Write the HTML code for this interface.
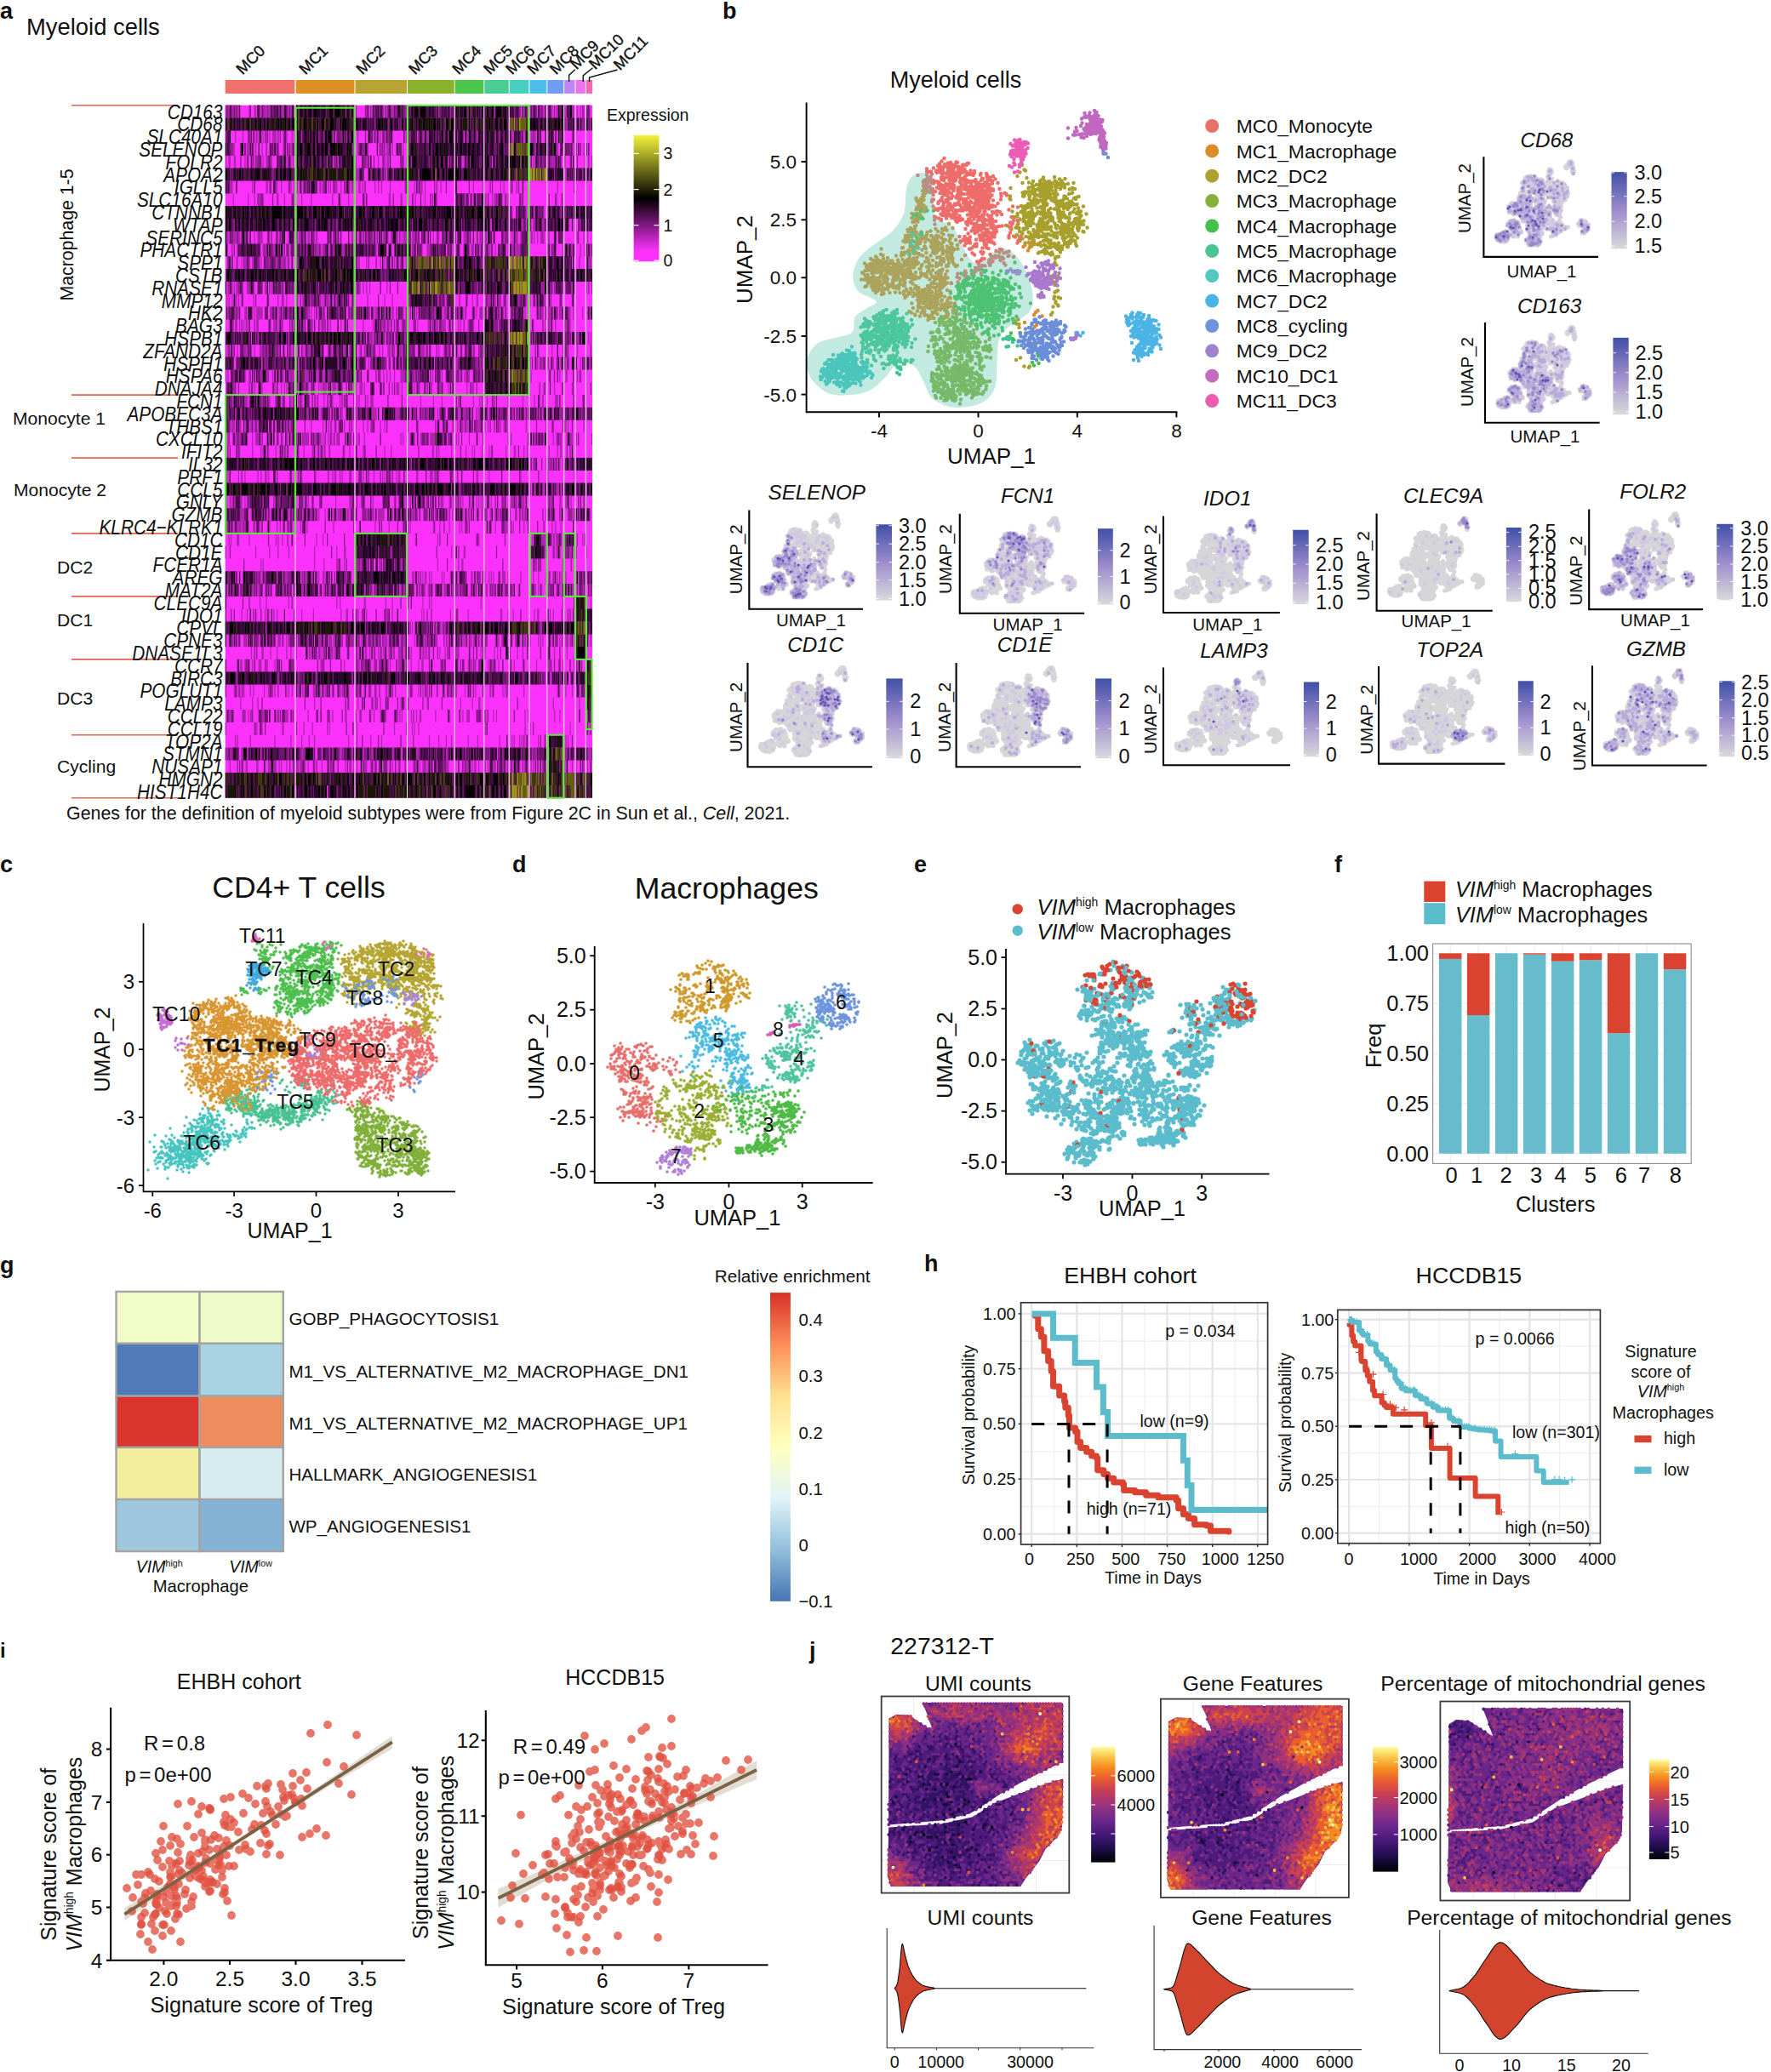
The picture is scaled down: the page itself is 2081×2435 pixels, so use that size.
<!DOCTYPE html>
<html><head><meta charset="utf-8"><title>Figure</title>
<style>html,body{margin:0;padding:0;background:#fff}svg{display:block}text{font-family:'Liberation Sans',sans-serif;fill:#111}</style>
</head><body>
<svg width="2081" height="2435" viewBox="0 0 2081 2435">
<rect width="2081" height="2435" fill="#fff"/>
<text x="0" y="22" font-size="27" font-weight="bold">a</text>
<text x="31" y="41" font-size="27.4" >Myeloid cells</text>
<rect x="264.7" y="94" width="81.6" height="16" fill="#f0706c"/>
<rect x="347.7" y="94" width="68.8" height="16" fill="#de9024"/>
<rect x="417.5" y="94" width="60.5" height="16" fill="#b8a334"/>
<rect x="479" y="94" width="54.7" height="16" fill="#8cb12e"/>
<rect x="534.6" y="94" width="33.7" height="16" fill="#4cc64c"/>
<rect x="569.3" y="94" width="28.4" height="16" fill="#4ccb92"/>
<rect x="598.7" y="94" width="22.7" height="16" fill="#48cfc2"/>
<rect x="622.4" y="94" width="19.9" height="16" fill="#4cc0ea"/>
<rect x="643.3" y="94" width="18.9" height="16" fill="#6f9df6"/>
<rect x="663.2" y="94" width="12.3" height="16" fill="#bb86f6"/>
<rect x="676.5" y="94" width="11.4" height="16" fill="#ee72ea"/>
<rect x="688.8" y="94" width="7.2" height="16" fill="#f766b2"/>
<rect x="264.7" y="123.7" width="431.3" height="814" fill="rgb(252,50,252)"/>
<path d="M264.7 131.1h1.3m2.5 0h1.3m3.7 0h1.3m1.2 0h1.3m1.2 0h2.5m11.3 0h1.3m5 0h2.5m8.8 0h3.8m1.2 0h2.5m10.1 0h1.3m2.4 0h2.5m3.8 0h2.5m90.1 0h1.3m1.2 0h1.3m11.3 0h1.3m3.8 0h1.3m7.5 0h3.8m13.8 0h1.3m37.1 0h1.2m12.4 0h1.2m81.4 0h1.3m9.8 0h1.2m1.3 0h1.2m8.7 0h1.2m5.1 0h1.2m4.8 0h2.5m3.8 0h2.5m15.9 0h3.7m2.3 0h1.3m2.5 0h1.3m2.5 0h1.3m5.7 0h1.2M440.2 145.9h1.3m224.2 0h1.2m9.6 0h1.3m8.8 0h1.3m5.7 0h1.2M276 160.7h1.3m7.5 0h1.3m7.5 0h1.3m3.7 0h1.3m3.7 0h1.3m3.7 0h1.3m2.5 0h1.3m2.5 0h1.3m2.4 0h5m7.6 0h1.3m2.5 0h1.3m4.9 0h1.3m1.2 0h1.3m7.7 0h1.3m24.9 0h1.3m8.7 0h2.5m13.8 0h1.3m12.2 0h1.3m17.6 0h1.3m6.3 0h1.3m3.7 0h2.5m6.4 0h1.3m15 0h1.3m1 0h1.2m1.3 0h1.2m13.7 0h2.5m2.5 0h2.5m33.2 0h1.2m10 0h2.5m10 0h1.2m19.6 0h1.2m3.8 0h1.2m13.4 0h1.3m13.9 0h1.3m5.9 0h2.5m1.3 0h2.5m3.7 0h1.2m5 0h1.2m2.3 0h1.3m8.8 0h1.3m17.1 0h1.2M271 175.5h1.3m1.2 0h2.5m13.8 0h3.8m1.2 0h1.3m1.2 0h1.3m1.3 0h1.3m6.2 0h1.3m7.5 0h1.3m3.7 0h1.3m1.2 0h1.3m7.5 0h1.3m80.2 0h1.3m4.7 0h1.3m6.3 0h1.3m16.3 0h1.3m1.3 0h1.3m1.2 0h1.3m2.5 0h2.5m3.8 0h1.3m11.3 0h1.3m154.3 0h1.2m23.6 0h2.5m5 0h1.3m1 0h1.2m15.9 0h1.3m3.8 0h1.3M264.7 190.3h1.3m2.5 0h2.5m3.7 0h2.5m10.1 0h1.3m7.5 0h1.3m3.7 0h1.3m6.2 0h1.3m2.5 0h2.5m2.5 0h2.5m17.6 0h1.3m2.5 0h1.3m1.2 0h1.3m38.9 0h1.3m8.7 0h1.3m22.2 0h1.3m11.3 0h2.5m11.4 0h1.3m3.7 0h1.3m2.5 0h1.3m17.6 0h1.3m9.7 0h1.2m58.2 0h1.2m1.3 0h1.2m80.3 0h1.2m6.3 0h1.2m6.3 0h1.2m1 0h1.3m2.5 0h1.3m1.2 0h2.5m2.5 0h1.3m13.5 0h1.2m3.7 0h1.2m11.1 0h1.3m6.9 0h1.2M417.5 205.1h5m25.3 0h1.3m2.4 0h1.3m8.8 0h1.3m28.5 0h1.2m158.3 0h1.3m12.2 0h1.2m7.4 0h1.2m9.9 0h1.3m3.4 0h1.2M269.7 219.9h3.8m22.6 0h1.3m15 0h2.5m1.3 0h1.3m6.2 0h2.5m3.8 0h1.3m8.7 0h2.5m2.5 0h1.3m1.4 0h2.5m1.3 0h1.3m1.2 0h1.3m3.7 0h1.3m3.7 0h1.3m9.9 0h2.5m2.5 0h1.3m3.7 0h1.3m1.2 0h1.3m3.7 0h3.8m3.7 0h1.3m3.7 0h1.3m3.7 0h1.3m1.2 0h3.8m4.8 0h2.5m1.3 0h1.3m1.2 0h2.5m10.1 0h1.3m2.5 0h1.3m2.5 0h1.3m8.7 0h1.3m16.4 0h1.3m9.7 0h1.2m3.7 0h1.2m6.3 0h1.2m17.4 0h1.2m37.1 0h1.2m10.1 0h1.2m19.5 0h1.2m2.5 0h1.2m7.3 0h1.3m5 0h1.3m47 0h1.3M273.5 234.7h1.3m16.3 0h1.3m6.2 0h1.3m3.7 0h2.5m2.5 0h1.3m15.1 0h2.5m6.2 0h1.3m10 0h1.3m7.7 0h1.3m9.9 0h1.3m23.7 0h1.3m17.5 0h1.3m17.3 0h1.3m27.7 0h2.5m11.3 0h2.5m12.3 0h1.2m1.3 0h1.2m10 0h1.2m12.5 0h1.2m32 0h2.5m3.8 0h1.2m2.5 0h1.2m12.3 0h2.5m6.1 0h1.2m1.3 0h2.5m1.2 0h1.2m7.5 0h1.2m18.6 0h1.3m39.5 0h1.3M601.2 249.5h1.3m5 0h1.3m8.8 0h1.3m19.7 0h1.2m7.3 0h1.3m10 0h1.3m13.3 0h1.2M484 264.3h1.2m56.9 0h1.2m32.2 0h1.2m25.8 0h1.3m3.7 0h1.3m3.8 0h2.5m8.5 0h1.2m1.3 0h2.5m8.7 0h1.2m24.7 0h1.2m3.7 0h1.2m5 0h1.2m6.1 0h1.3M266 279.1h2.5m2.5 0h1.3m1.2 0h5m1.3 0h2.5m5 0h1.3m3.7 0h1.3m5 0h1.3m2.5 0h1.3m1.2 0h3.8m5 0h1.3m1.2 0h1.3m6.2 0h1.3m2.5 0h1.3m1.2 0h1.3m7.5 0h1.3m4.9 0h1.3m2.7 0h1.3m2.4 0h1.3m2.5 0h1.3m1.2 0h1.3m1.2 0h2.5m5 0h1.3m13.7 0h1.3m1.2 0h1.3m1.2 0h1.3m8.7 0h1.3m12.4 0h2.5m3.6 0h1.3m1.2 0h1.3m8.8 0h1.3m13.8 0h1.3m3.7 0h1.3m2.5 0h1.3m2.5 0h2.5m3.8 0h2.5m3.8 0h1.3m2.5 0h2.5m6 0h3.7m2.5 0h1.2m8.7 0h1.2m7.5 0h1.2m2.6 0h1.2m1.3 0h1.2m2.5 0h1.2m6.2 0h1.2m17.2 0h3.7m2.5 0h1.2m7.6 0h1.2m2.5 0h2.5m1.3 0h1.2m1 0h1.2m21 0h1.2m8.5 0h1.3m3.8 0h2.5m2.5 0h1.3m7.5 0h1.3m2.2 0h2.5m1.3 0h1.2m2.5 0h1.2m2.5 0h2.5m1.3 0h1.2m3.5 0h2.5m15.1 0h1.3m15.6 0h1.3m6.3 0h1.3m3.3 0h1.2M308.6 293.9h1.3m1.2 0h1.3m2.5 0h1.3m5 0h2.5m2.5 0h1.3m1.2 0h1.3m8.8 0h1.3m4.9 0h1.3m1.4 0h1.3m11.2 0h1.3m7.5 0h1.3m1.2 0h3.8m1.2 0h1.3m2.4 0h1.3m3.7 0h1.3m5 0h1.3m8.7 0h3.8m6.2 0h1.3m28.6 0h1.3m42.5 0h1.2m15 0h3.7m7.5 0h1.2m11.2 0h1.2m6.3 0h1.2m5.9 0h1.2m10 0h1.2m1.3 0h1.2m1.3 0h1.2m2.6 0h1.2m8.5 0h1.2m2.5 0h1.2m7.4 0h1.2m11.2 0h1.2m1.3 0h1.2m3.5 0h2.5m1.3 0h6.3m35.8 0h1.3m12.5 0h1.3m8.4 0h2.5m8.5 0h1.3m3.7 0h1.3m2.1 0h1.2M277.3 308.7h2.5m3.7 0h1.3m2.5 0h2.5m6.3 0h2.5m7.5 0h1.3m8.8 0h1.3m6.2 0h2.5m3.8 0h3.8m1.2 0h1.3m1.2 0h1.3m10.2 0h1.3m67.2 0h1.3m11.3 0h1.3m15.1 0h1.3m3.7 0h1.3m5 0h1.3m3.8 0h1.3m3.7 0h1.3m7.5 0h1.3m60.3 0h1.2m26.3 0h2.5m112 0h1.3m9.6 0h2.4M264.7 323.5h1.3M267.2 338.3h2.5m2.5 0h1.3m1.2 0h1.3m1.3 0h2.5m5 0h1.3m3.7 0h2.5m18.8 0h2.5m5.1 0h2.5m1.2 0h1.3m1.3 0h1.3m3.7 0h1.3m1.2 0h1.3m11.2 0h1.3m27.7 0h1.3m47.2 0h1.3m2.5 0h1.3m2.5 0h1.3m2.5 0h1.3m18.9 0h1.3m82.9 0h1.2m21.3 0h1.2m74.1 0h1.2m1.3 0h1.2m12.3 0h1.3m17.2 0h2.5m15.7 0h1.2m4.8 0h1.2M266 353.1h1.3m1.2 0h1.3m2.4 0h1.3m2.5 0h2.5m1.3 0h1.3m16.2 0h1.3m27.6 0h1.3m5 0h1.3m2.5 0h1.3m11.4 0h1.3m4.9 0h1.3m7.5 0h1.3m9.9 0h2.5m1.3 0h1.3m2.4 0h2.5m6.3 0h1.3m1.2 0h2.5m6.2 0h1.3m3.7 0h1.3m3.7 0h1.3m17.4 0h1.3m18.8 0h1.3m7.6 0h1.3m17.3 0h1.2m27.4 0h1.2m5 0h2.5m7.5 0h1.2m29.6 0h1.2m3.8 0h2.5m10.9 0h3.7m1.2 0h1.2m1.3 0h2.5m3.7 0h2.5m4.9 0h1.2m13.6 0h1.3m7.5 0h1.3m1.2 0h1.3m1 0h1.2m2.5 0h1.2m5 0h1.2m5.1 0h2.5m4.7 0h2.5m8.9 0h1.3M276 367.9h1.3m1.2 0h2.5m6.3 0h1.3m7.5 0h1.3m1.2 0h1.3m1.2 0h7.5m10.1 0h1.3m2.4 0h1.3m3.8 0h2.5m8.8 0h1.3m2.4 0h1.3m7.7 0h1.3m8.7 0h2.5m1.2 0h1.3m2.5 0h1.3m3.7 0h1.3m2.4 0h2.5m5 0h1.3m11.2 0h1.3m12.5 0h1.3m7.2 0h1.3m3.8 0h1.3m6.2 0h2.5m2.6 0h2.5m2.5 0h1.3m16.4 0h2.5m22.3 0h1.2m2.5 0h1.2m3.8 0h1.2m15 0h2.5m6.2 0h1.2m1.3 0h3.7m10.8 0h1.2m2.6 0h1.2m5 0h2.5m11.3 0h1.2m2.5 0h1.2m8.5 0h1.2m6.2 0h1.2m2.5 0h1.2m7.5 0h1.2m6 0h1.3m1.2 0h1.3m12.6 0h1.3m12.2 0h1.2m2.5 0h1.2m1.3 0h2.5m4.7 0h3.8m7.5 0h1.3m2.5 0h1.3m8.4 0h2.5m2.4 0h1.2m9.9 0h1.3m4.6 0h1.2m2.4 0h1.2M273.5 382.7h1.3m1.2 0h1.3m3.7 0h1.3m3.7 0h1.3m1.3 0h2.5m10 0h1.3m12.5 0h1.3m1.2 0h1.3m2.5 0h2.5m1.3 0h1.3m1.2 0h1.3m1.2 0h1.3m21.4 0h1.3m12.5 0h1.3m7.4 0h1.3m2.5 0h2.5m3.7 0h1.3m1.2 0h1.3m11.2 0h1.3m2.5 0h1.3m21 0h1.3m10.1 0h1.3m6.2 0h1.3m1.3 0h3.8m2.5 0h1.3m1.2 0h1.3m10 0h1.3m2.5 0h1.3m2.5 0h2.5m7.2 0h1.2m3.8 0h1.2m11.2 0h2.5m3.7 0h1.2m2.6 0h2.5m3.7 0h5m14.5 0h1.2m1.3 0h1.2m7.6 0h1.2m5 0h1.2m39.5 0h1.2m2.3 0h1.3m12.5 0h1.3m24.7 0h1.2m2.3 0h1.3m3.7 0h1.3m2.5 0h1.3m9.8 0h2.5m3.7 0h1.2M292.3 397.5h1.3m6.3 0h1.3m1.2 0h1.3m20 0h1.3m11.3 0h1.3m86.2 0h1.3m8.8 0h2.5m15.1 0h1.3m2.5 0h1.3m2.5 0h1.3m3.7 0h1.3m10.1 0h1.3m148.1 0h1.2m1.3 0h1.2m32.3 0h1.3m1 0h1.2m3.7 0h1.2m8.5 0h2.5m2.5 0h1.3m7.1 0h1.2m1.2 0h1.2M264.7 412.3h1.3m1.2 0h1.3m3.7 0h2.5m3.8 0h1.3m6.2 0h1.3m1.3 0h2.5m3.7 0h1.3m2.5 0h1.3m5 0h3.8m1.2 0h1.3m2.5 0h1.3m8.7 0h1.3m1.2 0h2.5m5 0h1.3m6.3 0h1.3m5.1 0h1.3m6.2 0h1.3m1.2 0h1.3m2.5 0h3.8m11.2 0h1.3m11.2 0h1.3m12.4 0h3.8m3.7 0h1.3m11 0h1.3m3.8 0h2.5m2.5 0h1.3m2.5 0h2.5m1.3 0h1.3m3.7 0h1.3m2.5 0h1.3m5 0h3.8m2.5 0h2.5m5.1 0h5m1.3 0h1.3m17.1 0h5m1.2 0h1.2m13.8 0h1.2m5 0h1.2m2.5 0h2.5m1.2 0h1.2m7.2 0h1.2m18.8 0h1.2m5 0h1.2m67.8 0h1.2m14.8 0h1.3m11.3 0h1.3m1 0h1.2m1.3 0h1.2m10.9 0h1.3M311.1 427.1h1.3m1.3 0h1.3m44 0h1.3m12.4 0h1.3m22.5 0h1.3m9.9 0h1.3m1.2 0h1.3m21.1 0h1.3m17.6 0h1.3m16.4 0h1.3m1.2 0h2.5m53.3 0h1.2m7.1 0h2.5m22.5 0h1.2m1.3 0h1.2m1.3 0h2.5m54.1 0h1.2m6.3 0h2.5m1.2 0h1.2m1.3 0h2.5m1.2 0h1.2m8.6 0h1.3m2.5 0h1.3m3.7 0h1.3m8.4 0h1.2m12.3 0h1.3m2.5 0h1.3M264.7 441.9h1.3m1.2 0h1.3m11.3 0h1.3m11.2 0h1.3m8.8 0h1.3m1.2 0h1.3m1.2 0h1.3m5 0h2.5m3.7 0h1.3m10 0h2.5m5.1 0h2.5m1.2 0h1.3m6.4 0h1.3m6.2 0h5m1.3 0h1.3m1.2 0h1.3m4.9 0h2.5m2.5 0h1.3m6.2 0h1.3m36 0h1.3m8.8 0h1.3m12.6 0h1.3m2.5 0h1.3m2.5 0h1.3m2.4 0h1.3m3.8 0h1.3m6.2 0h5m11.1 0h1.2m2.5 0h1.2m16.2 0h1.2m3.8 0h1.2m5 0h1.2m29.6 0h2.5m8.7 0h1.2m2.6 0h1.2m57.8 0h1.2m19.8 0h1.3m11.3 0h1.3m5.9 0h2.5m10.9 0h1.3m1.2 0h1.3M274.7 456.7h1.3m22.6 0h1.3m6.2 0h2.5m13.8 0h1.3m6.3 0h1.3m2.4 0h1.3m1.3 0h1.3m4.9 0h1.3m3.9 0h1.3m7.5 0h1.3m1.2 0h1.3m1.2 0h1.3m6.2 0h1.3m3.7 0h1.3m1.2 0h1.3m2.4 0h3.8m2.5 0h1.3m2.4 0h5m6.3 0h1.3m8.7 0h1.3m4.7 0h1.3m3.7 0h3.8m1.3 0h1.3m31.5 0h1.3m3.7 0h3.8m2.5 0h1.3m13.5 0h1.2m1.2 0h1.2m1.3 0h2.5m3.7 0h1.2m6.3 0h1.2m10 0h2.5m1.2 0h1.2m5 0h1.2m20.9 0h1.2m3.8 0h3.7m82.8 0h1.2m9.9 0h1.3m7.5 0h1.3m10.8 0h1.2M272.2 471.5h2.5m6.3 0h1.3m5 0h3.8m1.2 0h1.3m7.5 0h1.3m5 0h1.3m3.7 0h1.3m2.5 0h1.3m7.5 0h1.3m4.9 0h1.3m8.8 0h1.3m2.4 0h1.3m3.9 0h2.5m1.3 0h1.3m7.4 0h1.3m5 0h2.5m8.7 0h1.3m2.5 0h2.5m3.7 0h1.3m7.5 0h1.3m4.9 0h1.3m1.2 0h1.3m9.8 0h1.3m1.2 0h1.3m8.8 0h1.3m2.4 0h3.8m55 0h1.2m13.7 0h1.2m8.8 0h1.2m18.3 0h1.2m16.3 0h1.2m6.3 0h1.2m7.3 0h1.2m6.2 0h2.5m14.8 0h1.2m16.1 0h1.3m12.3 0h1.2m5 0h1.2m17.3 0h3.8m17.1 0h2.5m8.6 0h1.3M276 486.3h1.3m5 0h1.3m37.6 0h1.3m29 0h1.3m8.7 0h1.3m11.2 0h1.3m1.2 0h2.5m6.2 0h1.3m7.5 0h1.3m4.9 0h2.5m11.3 0h1.3m21.1 0h6.3m7.6 0h1.3m12.5 0h5m13.6 0h1.2m3.8 0h1.2m6.3 0h1.2m1.2 0h1.2m3.8 0h1.2m6.3 0h1.2m2.5 0h1.2m24.6 0h2.5m2.5 0h2.5m2.5 0h1.2m11.3 0h2.5m9.6 0h1.2m6.2 0h1.2m1.3 0h1.2m2.5 0h1.2m13.5 0h1.3m5 0h1.3m1.2 0h1.3m18.5 0h1.2m24.9 0h1.3m2.4 0h1.3m20.6 0h1.3m4.7 0h1.2M273.5 501.1h2.5m5 0h2.5m10.1 0h2.5m2.5 0h1.3m18.8 0h1.3m2.4 0h1.3m6.3 0h1.3m2.4 0h1.3m1.3 0h2.5m26.4 0h1.3m12.5 0h1.3m4.9 0h1.3m1.2 0h2.5m2.5 0h1.3m10 0h1.3m12.2 0h1.3m7.5 0h1.3m3.8 0h1.3m2.4 0h1.3m10.1 0h1.3m3.7 0h1.3m26.2 0h1.2m42.3 0h1.2m7.5 0h1.2m4.7 0h1.2m1.3 0h1.2m1.3 0h2.5m2.5 0h2.5m11.2 0h3.7m4.8 0h1.2m2.5 0h1.2m9.9 0h1.2m2.5 0h1.2m2.5 0h1.2m2.5 0h1.2m21.2 0h1.3m22.2 0h1.2m22.1 0h1.2m1.3 0h1.2m17.3 0h1.3M267.2 515.9h1.3m7.5 0h2.5m2.5 0h1.3m13.8 0h1.3m2.5 0h3.8m12.5 0h1.3m13.7 0h1.3m6.3 0h1.3m7.6 0h2.5m6.3 0h5m5 0h1.3m1.2 0h2.5m3.7 0h2.5m1.3 0h1.3m4.9 0h1.3m2.5 0h1.3m1.2 0h2.5m1.2 0h2.5m12.5 0h1.3m7.3 0h1.3m7.5 0h1.3m41.5 0h1.3m1.3 0h1.3m7.2 0h1.2m3.8 0h1.2m6.2 0h1.2m5 0h1.2m3.8 0h6.2m8.7 0h1.2m14.6 0h1.2m1.3 0h1.2m11.3 0h1.2m8.8 0h1.2m34.5 0h1.2m2.3 0h1.3m21.1 0h1.2m3.8 0h1.2m2.5 0h1.2m2.5 0h1.2m13.6 0h1.3m2.5 0h1.3m2.5 0h1.3m7.2 0h1.2m2.5 0h3.7m21.7 0h1.2M278.5 530.7h1.3m1.2 0h1.3m13.8 0h1.3m8.7 0h1.3m1.2 0h1.3m5 0h1.3m7.5 0h1.3m5 0h1.3m3.7 0h1.3m13.9 0h1.3m5 0h1.3m8.7 0h2.5m3.7 0h1.3m6.2 0h2.5m21.3 0h1.3m4.9 0h1.3m7.3 0h1.3m6.2 0h1.3m1.2 0h1.3m21.4 0h1.3m6.3 0h1.3m47.2 0h2.5m5 0h1.2m13.7 0h1.2m15.9 0h1.2m6.3 0h1.2m1.3 0h1.2m7.5 0h1.2m7.2 0h1.2m1.3 0h1.2m16.1 0h1.2m8.5 0h2.5m8.9 0h1.3m2.5 0h1.3m24.4 0h1.3m8.7 0h1.3M482.7 545.5h1.2m108.9 0h1.2m32.1 0h1.2m13.8 0h1.2m1 0h3.8m3.8 0h2.5m3.8 0h1.3m2.4 0h1.3m1 0h1.2M268.5 560.3h1.3m10 0h1.3m6.2 0h1.3m13.8 0h1.3m2.4 0h1.3m3.7 0h2.5m1.3 0h1.3m23.8 0h1.3m12.7 0h1.3m14.9 0h1.3m18.7 0h1.3m1.2 0h2.5m3.8 0h1.3m1.2 0h1.3m7.4 0h1.3m14.8 0h1.3m11.3 0h1.3m8.8 0h1.3m1.2 0h1.3m2.5 0h1.3m8.8 0h1.3m1.2 0h2.5m18.5 0h2.5m13.7 0h3.7m1.3 0h3.7m1.3 0h1.2m43.3 0h2.5m12.1 0h1.2m35.9 0h1.3m30.7 0h1.3m29.7 0h1.2M530 575.1h1.2m8.4 0h1.2m86.6 0h1.2m5 0h1.2m13.5 0h1.3m3.8 0h3.8m3.7 0h1.3m26.6 0h1.2M266 589.9h1.3m2.4 0h2.5m2.5 0h1.3m6.3 0h2.5m2.5 0h1.3m1.2 0h1.3m1.2 0h1.3m15 0h1.3m17.6 0h1.3m11.2 0h1.3m11.4 0h1.3m3.7 0h1.3m2.5 0h1.3m4.9 0h1.3m8.7 0h1.3m15 0h1.3m14.9 0h3.8m9.8 0h1.3m12.6 0h1.3m10 0h1.3m12.6 0h1.3m3.7 0h1.3m5 0h1.3m1.2 0h1.3m8.5 0h1.2m12.4 0h2.5m3.8 0h1.2m9.9 0h3.7m6.3 0h1.2m1.3 0h1.2m1.3 0h1.2m0.9 0h3.7m5 0h1.2m7.6 0h1.2m6.3 0h1.2m1.3 0h1.2m1.3 0h1.2m8.4 0h1.2m1.3 0h1.2m11.2 0h1.2m1.2 0h1.2m1.3 0h1.2m4.8 0h3.8m1.2 0h1.3m6.3 0h3.8m26.9 0h1.3m1.2 0h2.5m8.9 0h2.5m4.7 0h2.5m1.2 0h1.2m1.3 0h1.2m14.8 0h1.3M282.3 604.7h5m3.8 0h1.3m2.4 0h1.3m11.3 0h1.3m1.2 0h1.3m5 0h1.3m8.7 0h1.3m2.5 0h2.5m7.5 0h1.3m1.2 0h1.3m3.9 0h2.5m1.3 0h1.3m12.4 0h1.3m2.5 0h1.3m3.7 0h1.3m6.2 0h1.3m8.7 0h1.3m3.7 0h3.8m1.2 0h1.3m4.9 0h2.5m8.6 0h1.3m5 0h1.3m3.7 0h2.5m1.3 0h1.3m1.2 0h1.3m2.5 0h1.3m2.5 0h7.6m8.8 0h1.3m3.7 0h1.3m10 0h1.3m4.7 0h2.5m1.3 0h1.2m2.5 0h1.2m16.2 0h1.2m13.7 0h1.2m1.3 0h1.2m5 0h1.2m7.2 0h1.2m2.5 0h1.2m1.3 0h1.2m2.6 0h2.5m7.5 0h1.2m1.3 0h1.2m8.5 0h1.2m2.5 0h1.2m7.4 0h1.2m3.8 0h1.2m6.2 0h1.2m1 0h1.3m5 0h1.3m5 0h1.3m5 0h1.3m22.2 0h1.2m3.5 0h1.3m13.8 0h1.3m4.7 0h1.2m3.7 0h1.2m4.8 0h1.3m1.2 0h1.3M267.2 619.5h1.3m1.2 0h1.3m3.7 0h1.3m2.5 0h3.8m3.7 0h2.5m8.8 0h1.3m5 0h2.5m7.6 0h1.3m1.2 0h1.3m7.5 0h1.3m2.4 0h1.3m8.8 0h2.5m1.2 0h1.3m8.9 0h1.3m6.2 0h1.3m30 0h1.3m47.4 0h1.3m15.1 0h1.3m15.1 0h1.3m4.7 0h1.2m1.3 0h1.2m26.1 0h1.2m6.3 0h1.2m10 0h1.2m10.9 0h1.2m1.3 0h1.2m2.5 0h1.2m29.7 0h1.2m3.7 0h1.2m10 0h3.7m6 0h1.3m11.3 0h1.3m31.9 0h1.3m2.5 0h1.3m5 0h1.3M268.5 634.3h1.3m1.2 0h1.3m7.5 0h1.3m11.2 0h1.3m30.1 0h1.3m1.2 0h1.3m3.7 0h1.3m39 0h1.3m6.2 0h1.3m107.4 0h1.2m24.9 0h1.2m47.1 0h1.2m59.1 0h1.2m1.3 0h1.2m10 0h1.2m1.3 0h3.7m7.3 0h2.5m2.5 0h1.3m8.5 0h1.2m12.2 0h1.3m5 0h1.3M264.7 649.1h1.3m33.9 0h1.3m15 0h1.3m8.7 0h1.3m11.3 0h1.3m28.9 0h1.3m24.9 0h1.3m7.5 0h2.5m37.5 0h1.3m13.8 0h1.3m69.6 0h1.2m3.4 0h1.2m8.8 0h2.5m103.8 0h1.3m1.2 0h2.5m7.3 0h1.2m1.3 0h1.2m1.2 0h3.7m4.7 0h1.3m11 0h1.2M306.1 663.9h1.3m1.2 0h1.3m59.1 0h1.3m9.9 0h1.3m13.7 0h2.5m6.3 0h1.3m14.7 0h1.3m1.2 0h2.5m6.4 0h1.3m12.5 0h2.5m3.8 0h1.3m10.1 0h1.3m6.2 0h2.5m3.8 0h1.3m35.8 0h1.2m23.3 0h1.2m2.6 0h2.5m84 0h2.5m2.5 0h1.2M267.2 678.7h1.3m7.5 0h1.3m7.5 0h1.3m13.8 0h1.3m1.2 0h1.3m1.2 0h2.5m3.7 0h1.3m22.6 0h2.5m16.5 0h1.3m1.2 0h1.3m7.4 0h2.5m6.3 0h1.3m3.7 0h2.5m3.7 0h1.3m20 0h1.3m76.2 0h2.5m9.9 0h1.2m1.3 0h2.5m2.5 0h1.2m1.3 0h1.2m11.2 0h1.2m1.3 0h1.2m6.2 0h1.2m2.6 0h1.2m3.4 0h1.2m7.5 0h1.2m6.3 0h2.5m6.3 0h1.2m6 0h1.2m3.7 0h1.2m1.3 0h1.2m1.3 0h1.2m11.1 0h2.5m2.5 0h1.2m13.6 0h1.3m13.5 0h1.2m5 0h1.2m7.6 0h1.2m3.5 0h1.3m3.8 0h1.3m2.4 0h1.3m3.8 0h1.3m3.4 0h1.2m18.5 0h1.3M269.7 693.5h1.3m2.5 0h1.3m21.3 0h2.5m1.3 0h1.3m3.7 0h1.3m4.9 0h1.3m1.3 0h1.3m1.2 0h1.3m15 0h1.3m2.5 0h1.3m1.2 0h1.3m13.9 0h2.5m18.7 0h1.3m2.5 0h1.3m2.4 0h1.3m2.5 0h2.5m15 0h1.3m7.4 0h1.3m13.6 0h2.5m3.8 0h1.3m3.7 0h1.3m1.2 0h1.3m10.1 0h1.3m12.6 0h1.3m2.4 0h1.3m2.5 0h1.3m22.1 0h2.5m2.5 0h1.2m1.3 0h1.2m1.3 0h1.2m10 0h1.2m1.3 0h3.7m6.2 0h2.5m4.6 0h2.5m1.3 0h1.2m11.3 0h1.2m2.5 0h2.5m2.5 0h1.2m6 0h2.5m3.7 0h1.2m1.3 0h1.2m7.4 0h1.2m1.3 0h1.2m2.5 0h1.2m1.3 0h1.2m1 0h1.3m1.2 0h2.5m5.1 0h1.3m13.5 0h1.2m2.6 0h2.5m2.4 0h1.2m2.6 0h1.2m7.3 0h1.3m7.5 0h1.3m2.5 0h1.3m1.2 0h1.3m2.2 0h1.2m7.4 0h2.5m11.1 0h1.3m8.1 0h1.2M304.9 708.3h1.3m6.2 0h1.3m25.1 0h1.3m55.1 0h1.3m2.5 0h1.3m27.3 0h2.5m22.7 0h1.3m6.3 0h1.3m34.7 0h1.2m6.3 0h1.2m1.3 0h1.2m57 0h1.2m95.1 0h1.3m31.4 0h1.2M283.5 723.1h1.3m5 0h1.3m20 0h1.3m8.8 0h1.3m2.5 0h1.3m27.7 0h1.3m12.4 0h1.3m31.2 0h1.3m5 0h2.5m17.3 0h1.3m2.5 0h1.3m21.4 0h2.5m5.1 0h1.3m33.5 0h1.2m1.2 0h1.2m29.9 0h1.2m19.7 0h1.2m37 0h2.5m6.2 0h1.2m4.8 0h1.3m23.6 0h1.2m2.5 0h2.5m12.2 0h1.3m2.5 0h1.3M428.8 737.9h1.3m24 0h1.3m24.8 0h1.2m2.6 0h1.2m5 0h1.2m12.5 0h1.2m12.4 0h1.2m2.6 0h1.2m3.7 0h1.2m107.4 0h2.5M268.5 752.7h1.3m6.2 0h1.3m8.7 0h2.5m15.1 0h1.3m3.7 0h1.3m10 0h1.3m5 0h3.8m2.5 0h1.3m2.5 0h1.3m2.4 0h1.3m20.2 0h1.3m3.7 0h1.3m6.2 0h3.8m9.9 0h2.5m1.3 0h2.5m6.2 0h1.3m10 0h1.3m1.2 0h2.5m3.5 0h1.3m2.5 0h1.3m5 0h1.3m5 0h1.3m1.2 0h2.5m2.6 0h1.3m5 0h5m15.1 0h1.3m1.3 0h3.8m9.7 0h1.2m17.4 0h1.2m2.5 0h1.2m1.3 0h1.2m11.3 0h2.5m2.4 0h1.2m10.9 0h1.2m6.3 0h1.2m2.6 0h2.5m1.2 0h2.5m6.3 0h1.2m1.3 0h1.2m1 0h1.2m1.3 0h1.2m8.6 0h1.2m1.3 0h2.5m2.5 0h2.5m9.6 0h1.3m2.5 0h2.5m14.9 0h1.2m8.7 0h1.2m1.3 0h1.2m1.3 0h1.2m9.8 0h1.3m5 0h1.3m1.3 0h1.3m5.9 0h3.7m1.3 0h2.5m2.4 0h1.2M294.8 767.5h1.3m11.3 0h2.5m7.5 0h1.3m6.3 0h1.3m10 0h1.3m3.7 0h1.3m5.1 0h1.3m13.7 0h2.5m2.5 0h1.3m5 0h1.3m2.4 0h1.3m2.5 0h1.3m4.9 0h3.8m1.2 0h2.5m3.8 0h1.3m17.2 0h1.3m2.5 0h1.3m6.2 0h2.5m2.6 0h1.3m5 0h1.3m2.5 0h1.3m2.5 0h1.3m1.2 0h2.5m3.8 0h2.5m2.5 0h2.5m3.8 0h3.8m1.3 0h1.3m1.2 0h1.3m5.9 0h1.2m12.5 0h2.5m3.7 0h1.2m12.5 0h1.2m5 0h1.2m1.3 0h2.5m7.1 0h5m12.5 0h1.2m11.3 0h1.2m14.6 0h1.2m2.5 0h1.2m13.4 0h1.3m7.5 0h1.3m5 0h1.3m5 0h1.3m24.4 0h1.3m3.8 0h1.3m13.5 0h1.2M282.3 782.3h2.5m2.5 0h1.3m1.2 0h1.3m5 0h1.3m6.2 0h3.8m5 0h2.5m7.5 0h1.3m2.5 0h1.3m11.3 0h1.3m4.9 0h1.3m30.2 0h2.5m1.2 0h1.3m22.5 0h1.3m12.2 0h1.3m1.2 0h2.5m5.1 0h1.3m6.2 0h1.3m2.5 0h2.5m10.1 0h1.3m2.5 0h1.3m1.2 0h1.3m8.8 0h3.8m11 0h1.2m7.5 0h1.2m2.6 0h2.5m9.9 0h1.2m12.5 0h1.2m27.1 0h1.2m1.3 0h1.2m3.8 0h2.5m13.4 0h1.2m3.7 0h2.5m1.2 0h1.2m2.6 0h1.2m12.1 0h1.3m3.7 0h1.3m8.8 0h1.3m14.8 0h1.2m12.2 0h3.8m8.8 0h1.3m3.7 0h1.3m15.6 0h2.5M277.3 797.1h1.3m47.6 0h1.3m29 0h1.3m13.7 0h1.3m41.2 0h1.3m84.8 0h1.2m102.4 0h1.3m8.8 0h1.3m7.3 0h1.2m12.5 0h1.2m8.5 0h1.3m27.2 0h1.2M274.7 811.9h1.3m3.8 0h1.3m2.4 0h3.8m6.3 0h1.3m2.4 0h1.3m11.3 0h1.3m3.7 0h2.5m1.3 0h2.5m1.2 0h1.3m12.6 0h1.3m1.2 0h1.3m2.4 0h1.3m5.2 0h2.5m3.7 0h1.3m11.2 0h3.8m1.2 0h1.3m3.7 0h1.3m2.5 0h2.5m13.7 0h1.3m2.5 0h2.5m1.2 0h1.3m13.5 0h2.5m1.3 0h1.3m2.5 0h1.3m3.7 0h1.3m1.2 0h1.3m5 0h1.3m10.1 0h2.5m3.8 0h1.3m3.7 0h1.3m18.6 0h1.2m6.2 0h1.2m3.8 0h1.2m2.5 0h1.2m11.3 0h2.5m12.4 0h2.5m1.2 0h1.2m2.2 0h2.5m8.7 0h1.2m3.8 0h1.2m6.3 0h1.2m18.4 0h1.2m11.2 0h1.2m1.3 0h1.2m21.1 0h1.3m38.2 0h1.3m1.3 0h1.3m5.9 0h1.2m6.2 0h1.2m3.5 0h1.3m2.5 0h1.3m5 0h1.3M282.3 826.7h1.3m12.5 0h1.3m5 0h1.3m65.3 0h1.3m37.4 0h1.3m11 0h1.3m16.4 0h1.3m1.2 0h3.8m2.5 0h1.3m6.3 0h1.3m15 0h1.3m2.5 0h1.3m25.9 0h1.2m38.2 0h1.2m12.6 0h1.2m6.3 0h2.5m85 0h1.3m29.4 0h1.3M266 841.5h1.3m1.2 0h3.8m13.7 0h1.3m3.8 0h1.3m1.2 0h2.5m12.5 0h2.5m12.6 0h1.3m10 0h3.8m3.7 0h1.3m17.7 0h1.3m21.2 0h1.3m4.9 0h1.3m13.7 0h2.5m16.1 0h1.3m10 0h1.3m2.5 0h1.3m6.3 0h1.3m5 0h1.3m12.6 0h1.3m1.2 0h1.3m1.2 0h1.3m9.7 0h1.2m5 0h1.2m2.6 0h2.5m16.1 0h1.2m30.8 0h1.2m3.8 0h3.7m12.6 0h1.2m6 0h2.5m4.9 0h1.2m2.5 0h1.2m32.3 0h1.3m2.4 0h1.3m29.5 0h1.3m5 0h1.3m31.5 0h1.2M264.7 856.3h1.3m33.9 0h2.5m5 0h1.3m22.5 0h2.5m22.8 0h1.3m8.7 0h1.3m16.2 0h1.3m1.2 0h1.3m27.4 0h1.3m2.3 0h1.3m42.8 0h1.3m12.5 0h1.3m6 0h1.2m1.3 0h1.2m3.7 0h1.2m76.7 0h2.5m44.6 0h1.3m4.7 0h1.2m45.8 0h1.2m18.2 0h1.2m2.4 0h1.2M276 871.1h1.3m1.2 0h1.3m13.8 0h1.3m27.5 0h1.3m17.6 0h1.3m11.4 0h1.3m7.4 0h1.3m5 0h1.3m38.7 0h1.3m8.5 0h1.3m15 0h1.3m11.4 0h1.3m54.8 0h1.2m10 0h1.2m7.5 0h1.2m5 0h1.2m18.4 0h1.2m10 0h1.2m24.6 0h1.2m13.4 0h1.3m1.2 0h1.3m5 0h1.3m1.3 0h1.3m3.7 0h1.3m13.4 0h1.2m30.9 0h1.2m1.3 0h1.2M266 885.9h1.3m2.4 0h1.3m1.2 0h1.3m11.3 0h1.3m3.7 0h2.5m17.6 0h1.3m2.5 0h1.3m39 0h2.5m11.2 0h1.3m17.5 0h1.3m2.4 0h1.3m6.2 0h1.3m3.7 0h1.3m8.7 0h2.5m18.7 0h1.3m1.2 0h2.5m21.5 0h2.5m7.5 0h1.3m5 0h1.3m10.9 0h2.5m32.4 0h2.5m20.8 0h1.2m38.3 0h1.2m2.5 0h1.2m21.1 0h1.3m1.2 0h1.3m8.5 0h1.2m3.8 0h1.2m34.6 0h1.2m2.5 0h1.2m20.6 0h3.6M269.7 900.7h1.3m17.6 0h2.5m10 0h2.5m7.5 0h1.3m2.5 0h3.8m2.5 0h3.8m2.5 0h1.3m1.2 0h1.3m5 0h1.3m6.2 0h1.3m2.6 0h3.8m2.5 0h1.3m2.4 0h1.3m2.5 0h1.3m14.9 0h1.3m5 0h1.3m3.7 0h1.3m14.9 0h1.3m3.7 0h1.3m3.7 0h1.3m2.3 0h1.3m7.5 0h3.8m3.7 0h1.3m1.3 0h1.3m21.4 0h1.3m6.2 0h1.3m16 0h1.2m1.3 0h2.5m2.5 0h1.2m2.5 0h1.2m1.3 0h2.5m3.7 0h1.2m6.3 0h1.2m7.5 0h1.2m1.3 0h3.7m19.6 0h3.7m3.8 0h1.2m1.3 0h2.5m2.5 0h1.2m9.7 0h1.2m5 0h1.2m1.2 0h1.2m2.6 0h1.2m3.7 0h1.2m3.7 0h2.5m3.5 0h1.3m7.5 0h1.3m8.8 0h1.3m2.2 0h1.2m1.3 0h1.2m5 0h1.2m7.6 0h1.2m20.9 0h1.2m7.4 0h1.2m3.5 0h1.3m7.6 0h1.3m3.3 0h1.2" stroke="rgb(178,35,178)" stroke-width="15" fill="none"/>
<path d="M266 131.1h2.5m3.7 0h1.3m31.4 0h1.3m2.4 0h1.3m3.8 0h1.3m4.9 0h1.3m8.8 0h1.3m86.2 0h1.3m10 0h1.3m5 0h1.3m2.5 0h1.3m8.8 0h1.3m13.8 0h1.3m5 0h1.3m1.3 0h1.3m1.2 0h1.3m126.9 0h1.3m5 0h1.3m7.6 0h1.3m9.7 0h1.2m6.2 0h1.2m4.8 0h1.3m6.3 0h1.3m31.9 0h1.3m4.6 0h1.2M397.7 145.9h1.3m57.6 0h1.3m10 0h1.3m1.2 0h1.3m134.6 0h1.3m56.8 0h1.2m17.2 0h2.5M264.7 160.7h1.3m25.1 0h1.3m8.7 0h1.3m8.7 0h1.3m1.3 0h1.3m11.2 0h1.3m1.2 0h1.3m44 0h1.3m19.9 0h1.3m1.2 0h1.3m1.2 0h1.3m2.5 0h1.3m23.5 0h1.3m5 0h1.3m7.6 0h1.3m3.7 0h1.3m5 0h1.3m1.2 0h1.3m56 0h1.2m5 0h1.2m3.7 0h1.2m32.2 0h1.2m39.2 0h1.3m11.3 0h1.3m12.2 0h1.2m29.9 0h1.3m15.8 0h1.2M266 175.5h1.3m45.1 0h1.3m5 0h1.3m5 0h1.3m16.2 0h1.3m1.2 0h1.3m75 0h1.3m2.5 0h1.3m5 0h1.3m13.8 0h1.3m1.2 0h1.3m1.2 0h1.3m3.8 0h1.3m10 0h1.3m197.7 0h1.2m1.3 0h1.2m1.2 0h1.2m1.3 0h1.2m1 0h1.3m3.8 0h1.3M282.3 190.3h1.3m6.2 0h2.5m5 0h1.3m1.3 0h1.3m2.4 0h1.3m1.2 0h1.3m7.5 0h1.3m15 0h1.3m22.7 0h1.3m33.7 0h1.3m8.7 0h1.3m24.8 0h3.8m8.8 0h1.3m15.1 0h1.3m47.3 0h1.2m23.6 0h1.2m18.4 0h1.2m2.6 0h1.2m28.3 0h1.2m54.5 0h2.5m6 0h1.3m1.2 0h1.3m13.6 0h1.2m13.4 0h1.3m12.1 0h1.2M269.7 205.1h1.3m48.9 0h1.3m22.6 0h1.3m90 0h1.3m16.4 0h1.3m214 0h1.2m23.1 0h1.2M338.8 219.9h1.3m38.9 0h1.3m23.7 0h1.3m84.9 0h1.2m3.8 0h1.2m13.7 0h1.2m1.3 0h1.2m10 0h1.2m25.8 0h1.2m23.5 0h1.2m1.2 0h1.2m22.1 0h1.3m6.3 0h1.3m64.2 0h1.2M302.4 234.7h1.3m2.4 0h1.3m12.5 0h1.3m21.3 0h2.5m54 0h1.3m61.3 0h1.3m21.1 0h1.2m19.9 0h1.2m1.3 0h1.2m25.8 0h1.2m47.1 0h1.2m9.9 0h1.2m1.3 0h1.2m12.3 0h2.5m1.3 0h1.3m29.5 0h1.3m6.2 0h1.3M404 249.5h1.3m193.4 0h1.3m34.8 0h1.2M274.7 264.3h1.3m65.3 0h1.3m27.6 0h1.3m23.7 0h1.3m175.3 0h1.2m32 0h1.3m32.3 0h2.5m37.9 0h1.3m10.9 0h1.2M303.6 279.1h1.3m13.8 0h1.3m8.7 0h1.3m21.5 0h1.3m14.9 0h1.3m2.5 0h1.3m19.9 0h1.3m6.2 0h1.3m22.3 0h1.3m5 0h1.3m3.7 0h1.3m3.8 0h1.3m1.2 0h1.3m6.3 0h1.3m17.6 0h1.3m3.7 0h1.3m13.4 0h1.2m6.3 0h1.2m1.3 0h1.2m13.7 0h1.2m6.3 0h2.5m13.3 0h1.2m22.5 0h1.2m3.8 0h1.2m3.5 0h1.2m7.5 0h1.2m12.4 0h3.7m8.5 0h1.3m31 0h1.2m40.5 0h1.3M272.2 293.9h1.3m1.2 0h1.3m2.5 0h1.3m30.1 0h1.3m1.2 0h1.3m5 0h2.5m12.5 0h1.3m1.3 0h1.3m3.7 0h1.3m10.1 0h1.3m25 0h1.3m27.4 0h1.3m6.2 0h1.3m14.9 0h1.3m26.4 0h1.3m2.5 0h1.3m1.2 0h1.3m12.3 0h1.2m3.8 0h1.2m6.2 0h1.2m1.3 0h2.5m8.7 0h1.2m8.8 0h2.5m9.9 0h1.2m7.1 0h1.2m7.6 0h1.2m8.8 0h1.2m18.4 0h1.2m1.3 0h2.5m8.6 0h1.2m28.6 0h1.3m29.4 0h2.5m12.4 0h1.2M267.2 308.7h1.3m17.5 0h1.3m5 0h1.3m8.8 0h1.3m8.7 0h3.8m17.5 0h1.3m3.8 0h1.3m58.9 0h1.3m21 0h1.3m10 0h1.3m7.5 0h1.3m11.4 0h1.3m10 0h1.3m3.7 0h1.3m50.8 0h1.2m34.6 0h1.2m43 0h1.3m89.8 0h1.2M447.8 323.5h1.3m2.4 0h1.3m73.4 0h2.5m50.5 0h1.2m62.9 0h1.3M279.8 338.3h2.5m10 0h2.5m7.6 0h1.3m1.2 0h1.3m1.2 0h1.3m7.5 0h1.3m21.3 0h1.3m1.2 0h1.3m28.9 0h1.3m24.9 0h1.3m19.8 0h3.8m35.2 0h1.3m7.6 0h1.3m102.5 0h1.2m74.1 0h3.8m1.3 0h1.3m7.5 0h2.5m29 0h1.2M283.5 353.1h2.5m13.9 0h1.3m13.7 0h1.3m15 0h1.3m20.2 0h1.3m2.5 0h1.3m7.4 0h3.8m2.5 0h1.3m12.4 0h1.3m57.5 0h1.3m34.9 0h1.2m37.4 0h1.2m19.6 0h1.2m6.3 0h2.5m20.9 0h2.5m12.4 0h1.2m4.9 0h1.2m17.3 0h1.3m2.5 0h1.3m14.8 0h1.2m40.7 0h1.2M269.7 367.9h1.3m3.7 0h1.3m12.6 0h1.3m27.5 0h1.3m6.3 0h1.3m7.4 0h1.3m2.5 0h1.3m13.9 0h1.3m5 0h2.5m42.5 0h1.3m3.7 0h2.5m2.5 0h2.5m6 0h1.3m6.3 0h1.3m10 0h1.3m6.3 0h1.3m15.1 0h1.3m5 0h2.5m2.5 0h1.3m3.5 0h1.2m16.2 0h1.2m7.5 0h1.2m16.2 0h1.2m2.5 0h1.2m8.4 0h1.2m3.8 0h1.2m10.1 0h1.2m1.3 0h1.2m8.8 0h1.2m19.5 0h1.2m5 0h1.2m24.9 0h1.3m10.9 0h1.2m13.6 0h1.3m5 0h1.3m2.5 0h1.3m1.2 0h1.3m5.9 0h1.2m24.3 0h1.2M277.3 382.7h1.3m4.9 0h1.3m13.8 0h1.3m2.5 0h1.3m20 0h1.3m6.2 0h1.3m7.5 0h1.3m22.7 0h2.5m7.5 0h1.3m2.4 0h1.3m2.5 0h1.3m1.2 0h1.3m57.4 0h1.3m11.3 0h1.3m6.3 0h1.3m1.2 0h1.3m6.3 0h1.3m13.4 0h1.2m18.7 0h1.2m2.5 0h1.2m16.2 0h1.2m14.7 0h1.2m5 0h1.2m10.1 0h1.2m17.1 0h1.2m1.3 0h2.5m2.4 0h1.2m37.1 0h1.2m10 0h1.2m6.1 0h1.3m19.8 0h1.2m1.2 0h1.2M274.7 397.5h1.3m50.2 0h1.3m91.3 0h1.3m2.4 0h1.3m3.8 0h1.3m7.5 0h1.3m1.2 0h2.5m2.6 0h1.3m1.2 0h1.3m2.5 0h1.3m5 0h1.3m8.8 0h1.3m122.3 0h1.2m63.1 0h1.3m9.8 0h1.2m9.6 0h1.3M274.7 412.3h1.3m11.3 0h1.3m3.7 0h1.3m17.5 0h1.3m2.5 0h1.3m27.6 0h1.3m8.9 0h1.3m3.7 0h1.3m7.4 0h1.3m16.2 0h1.3m1.2 0h1.3m6.2 0h2.5m2.5 0h1.3m22.3 0h1.3m5 0h1.3m51.3 0h2.5m18.7 0h1.2m7.5 0h1.2m27 0h2.5m2.5 0h1.2m1.3 0h1.2m6.3 0h1.2m5.1 0h1.2m65.3 0h1.2m37.1 0h1.2m25.5 0h1.2M336.3 427.1h2.5m15.2 0h1.3m73.5 0h1.3m5 0h2.5m3.8 0h1.3m5.1 0h1.3m7.5 0h2.5m8.8 0h1.3m89.1 0h1.2m65.4 0h1.2m8.7 0h1.2m12.3 0h1.3m16.1 0h2.5m20.6 0h1.2m4.8 0h1.2M274.7 441.9h1.3m11.3 0h1.3m5 0h1.3m11.2 0h1.3m5 0h1.3m27.6 0h1.3m1.2 0h1.3m33.9 0h1.3m7.4 0h1.3m12.5 0h1.3m3.7 0h1.3m11 0h1.3m1.2 0h1.3m18.8 0h1.3m1.3 0h2.5m30.2 0h1.3m2.2 0h1.2m2.6 0h2.5m1.2 0h1.2m3.8 0h1.2m11.2 0h1.2m24.9 0h1.2m3.4 0h2.5m2.5 0h2.5m2.5 0h1.2m18.8 0h1.2m83.9 0h1.3m29.4 0h1.3M266 456.7h1.3m6.2 0h1.3m1.2 0h1.3m2.5 0h1.3m11.2 0h1.3m1.2 0h2.5m22.6 0h2.5m26.6 0h1.3m7.4 0h1.3m6.2 0h2.5m11.3 0h1.3m16.2 0h1.3m8.7 0h1.3m31.1 0h1.3m7.6 0h1.3m7.5 0h1.3m5 0h1.3m19.8 0h1.2m16.2 0h1.2m3.8 0h1.2m44.5 0h1.2m6.3 0h1.2m72.8 0h1.2m3.8 0h1.2m21.1 0h1.3m10.8 0h1.2m19.4 0h1.2M267.2 471.5h1.3m1.2 0h1.3m12.5 0h1.3m20.1 0h1.3m3.7 0h1.3m3.7 0h1.3m17.5 0h1.3m5 0h1.3m2.5 0h1.3m7.6 0h1.3m12.5 0h1.3m4.9 0h1.3m15 0h1.3m11.2 0h1.3m1.2 0h1.3m9.9 0h1.3m12.3 0h1.3m25.2 0h1.3m15.1 0h1.3m62.8 0h1.2m2.6 0h1.2m25 0h1.2m10.9 0h1.2m58.2 0h1.2M267.2 486.3h1.3m15 0h1.3m10 0h1.3m57.9 0h1.3m4.9 0h1.3m2.5 0h1.3m3.7 0h1.3m18.7 0h1.3m8.7 0h1.3m23.5 0h1.3m5 0h1.3m37.8 0h1.3m14.7 0h1.2m6.3 0h1.2m6.2 0h1.2m15 0h2.5m3.7 0h1.2m23.4 0h1.2m11.3 0h1.2m17.1 0h1.2m11.2 0h1.2m3.7 0h1.2m2.3 0h1.3m1.2 0h1.3m5 0h1.3m21.1 0h1.2m5 0h1.2m11 0h1.3m8.8 0h2.5m7.2 0h1.2m1.3 0h1.2M269.7 501.1h1.3m1.2 0h1.3m5 0h1.3m20.1 0h2.5m26.3 0h1.3m11.3 0h2.5m13.9 0h1.3m35 0h1.3m2.4 0h1.3m11.2 0h1.3m1.2 0h1.3m22.4 0h2.5m15.2 0h1.3m33.5 0h1.2m21.2 0h1.2m20 0h1.2m12.1 0h1.2m6.3 0h1.2m3.8 0h2.5m14.7 0h1.2m3.7 0h1.2m11.2 0h2.5m34.6 0h1.2m17.2 0h2.5m10.1 0h1.3m1 0h1.2m7.4 0h1.2M268.5 515.9h1.3m10 0h1.3m1.2 0h1.3m2.4 0h1.3m2.5 0h1.3m12.5 0h1.3m2.5 0h1.3m6.2 0h1.3m8.8 0h2.5m2.5 0h1.3m5 0h1.3m4.9 0h1.3m7.7 0h1.3m2.4 0h1.3m5 0h1.3m8.7 0h1.3m8.7 0h1.3m4.9 0h1.3m8.7 0h1.3m22.3 0h1.3m72.6 0h1.2m2.5 0h1.2m2.5 0h1.2m22.4 0h2.5m13.4 0h1.2m23.8 0h1.2m60.3 0h1.2m24.8 0h2.5m1.3 0h1.3m16.8 0h1.3m1.2 0h1.3M267.2 530.7h1.3m1.2 0h1.3m8.8 0h1.3m32.6 0h1.3m18.7 0h1.3m39 0h1.3m1.2 0h1.3m8.7 0h1.3m14.9 0h1.3m23.6 0h1.3m12.5 0h1.3m48.7 0h1.2m20 0h1.2m27 0h1.2m35.9 0h1.2m29.7 0h1.3m48.3 0h1.3m6 0h1.2m2.5 0h1.2M318.7 545.5h1.3m41.5 0h1.3m58.5 0h1.3m23.9 0h1.3m179.6 0h2.5m6.2 0h1.2m30.8 0h1.2M266 560.3h1.3m16.2 0h1.3m40.2 0h1.3m23.9 0h1.3m17.5 0h1.3m14.9 0h1.3m25 0h1.3m8.5 0h3.8m7.5 0h1.3m12.6 0h1.3m10 0h1.3m1.3 0h1.3m68.3 0h2.5m4.6 0h1.2m17.5 0h1.2m53 0h1.3m21 0h1.2M328.7 575.1h1.3m36.5 0h1.3m254.6 0h1.2m1.3 0h1.2m2.5 0h1.2m7.5 0h1.2m12.4 0h1.3M276 589.9h1.3m27.6 0h1.3m15 0h1.3m2.5 0h1.3m28.9 0h1.3m18.7 0h1.3m42.3 0h1.3m5 0h1.3m1.2 0h1.3m35.2 0h1.3m16.1 0h1.2m2.5 0h1.2m3.8 0h1.2m3.8 0h1.2m8.7 0h1.2m22.4 0h1.2m10.9 0h1.2m8.8 0h1.2m15.1 0h1.2m3.5 0h1.2m8.6 0h1.2m23.5 0h1.3m1.2 0h1.3m34.5 0h1.3m2.4 0h1.3m29.4 0h1.3m5.1 0h1.3M269.7 604.7h1.3m74 0h1.3m17.7 0h1.3m4.9 0h1.3m28.7 0h1.3m10 0h1.3m1.2 0h2.5m11.1 0h2.5m7.6 0h1.3m27.7 0h1.3m17.2 0h1.2m2.5 0h1.2m8.8 0h3.7m8.7 0h1.2m15 0h1.2m37.1 0h1.2m3.5 0h1.2m5 0h1.2m3.7 0h1.2m2.6 0h1.2m19.7 0h1.3m2.4 0h1.3m5.1 0h1.3m19.6 0h1.2m8.6 0h2.5m1.3 0h1.3m5 0h1.3m9.6 0h1.2m1.3 0h1.2m14.8 0h1.3m4.5 0h1.2M266 619.5h1.3m3.7 0h1.3m10 0h1.3m1.2 0h1.3m12.5 0h1.3m33.8 0h1.3m46.5 0h1.3m32.4 0h1.3m31.3 0h1.3m17.6 0h1.3m7.5 0h1.3m33.3 0h1.2m10 0h1.2m24.6 0h2.5m1.2 0h1.2m22.2 0h1.2m13.7 0h1.2m9.7 0h1.3m8.7 0h1.3m19.8 0h1.2m6.3 0h1.2M278.5 634.3h1.3m35.1 0h1.3m21.3 0h1.3m18.9 0h1.3m25 0h1.3m18.7 0h1.3m111 0h1.2m42.1 0h2.5m30.7 0h1.2m43.3 0h1.2m14.9 0h1.3m1.2 0h1.3m9.7 0h1.2m18.5 0h1.3M269.7 649.1h1.3m118 0h1.3m122.3 0h1.2m24.5 0h1.2m43.4 0h1.2m65.5 0h1.3m6.3 0h1.3M286 663.9h1.3m110.4 0h2.5m6.3 0h1.3m9.7 0h2.5m5.1 0h1.3m21.4 0h1.3m75.9 0h1.2m64.1 0h1.2m34.6 0h2.5m6.2 0h1.2m34.6 0h1.2M269.7 678.7h1.3m38.9 0h1.3m22.5 0h1.3m2.5 0h5m12.7 0h1.3m36.2 0h1.3m10 0h1.3m13.5 0h1.3m39 0h1.3m31 0h1.2m1.3 0h1.2m39.5 0h1.2m22.5 0h1.2m25.9 0h1.2m3.7 0h1.2m53.1 0h1.3m3.7 0h1.3m6.3 0h1.3m18 0h1.3m12.2 0h1.2m1.2 0h1.2M266 693.5h1.3m12.5 0h1.3m2.4 0h2.5m6.3 0h1.3m10 0h1.3m12.5 0h2.5m5.1 0h1.3m4.9 0h1.3m7.5 0h1.3m27.7 0h1.3m23.7 0h1.3m41.1 0h1.3m37.8 0h1.3m12.1 0h2.5m12.5 0h1.2m6.2 0h1.2m3.8 0h1.2m18.3 0h2.5m7.5 0h1.2m30.9 0h1.2m1.3 0h1.2m2.5 0h1.2m60.5 0h1.3m1.2 0h1.3m28.2 0h1.3m3.7 0h2.5M284.8 708.3h1.3m6.2 0h1.3m48.9 0h1.3m126.6 0h1.3m7.3 0h1.2M264.7 723.1h1.3m5 0h1.3m2.4 0h1.3m21.3 0h1.3m7.5 0h1.3m6.3 0h2.5m28.8 0h1.3m67.7 0h1.3m4.7 0h1.3m3.8 0h1.3m15 0h1.3m12.6 0h1.3m44.8 0h1.2m3.8 0h1.2m28.2 0h2.5m73 0h1.3m47.1 0h1.3m5.9 0h1.2m1.3 0h1.2M312.4 737.9h1.3m167.8 0h1.2m18.7 0h1.2m3.8 0h1.2m2.5 0h1.2m5 0h1.2m5 0h1.2m109.9 0h1.2M271 752.7h1.3m7.5 0h1.3m7.5 0h1.3m2.4 0h1.3m6.3 0h1.3m1.2 0h1.3m27.5 0h1.3m6.3 0h1.3m3.7 0h1.3m2.6 0h1.3m2.5 0h1.3m33.7 0h1.3m7.4 0h1.3m5 0h1.3m4.9 0h1.3m3.7 0h1.3m19.9 0h2.5m8.8 0h2.5m1.3 0h1.3m6.3 0h1.3m1.2 0h1.3m3.7 0h1.3m23.5 0h1.2m1.3 0h1.2m10 0h2.5m7.5 0h1.2m7.5 0h1.2m12.1 0h1.2m3.8 0h1.2m3.8 0h1.2m5 0h1.2m58 0h1.3m5.1 0h1.3m1.2 0h1.3m31.9 0h1.3m6.3 0h1.3m32.6 0h1.2M298.6 767.5h1.3m1.2 0h1.3m67.8 0h2.5m2.5 0h1.3m20 0h1.3m9.9 0h1.3m9.8 0h1.3m18.8 0h1.3m6.3 0h1.3m31.2 0h2.5m11.2 0h2.5m4.9 0h1.2m2.6 0h1.2m8.7 0h1.2m40.8 0h1.2m12.3 0h1.2m17.3 0h1.2m29.9 0h1.3m14.6 0h1.2m7.3 0h1.3m12.6 0h1.3M292.3 782.3h1.3m17.5 0h1.3m17.6 0h1.3m11.2 0h2.5m27.7 0h1.3m5 0h1.3m7.4 0h1.3m11.2 0h1.3m17.3 0h1.3m3.7 0h3.8m6.3 0h1.3m10 0h2.5m2.6 0h1.3m25.1 0h1.3m25.9 0h1.2m12.4 0h3.7m19.6 0h1.2m2.6 0h1.2m7.5 0h1.2m1.3 0h1.2m5.1 0h2.5m12.1 0h1.2m22.1 0h1.3m45.8 0h1.3m2.5 0h1.3m22.1 0h1.2m1 0h1.3m5 0h1.3M350.2 797.1h1.3m117.7 0h1.3m123.5 0h1.2m44.6 0h1.2m16.2 0h1.3m14.5 0h1.2M264.7 811.9h1.3m10 0h2.5m2.5 0h1.3m43.9 0h1.3m7.5 0h1.3m38.9 0h1.3m8.7 0h1.3m3.7 0h2.5m6.3 0h1.3m8.7 0h1.3m8.5 0h1.3m13.8 0h1.3m5 0h1.3m3.7 0h1.3m10.1 0h1.3m2.5 0h1.3m19.8 0h2.5m9.9 0h1.2m3.8 0h1.2m1.3 0h1.2m1.3 0h1.2m19.9 0h1.2m6.3 0h1.2m22.1 0h1.2m18.5 0h1.2M307.4 826.7h1.3m49 0h1.3m17.5 0h1.3m27.4 0h1.3m2.5 0h1.3m26.1 0h1.3m29 0h1.3m3.7 0h1.3m6 0h1.2m16.2 0h1.2m5 0h1.2m15 0h1.2m87.5 0h1.3M273.5 841.5h1.3m10 0h1.3m1.2 0h1.3m7.5 0h1.3m6.2 0h1.3m1.2 0h2.5m20.1 0h1.3m3.7 0h1.3m8.8 0h1.3m27.6 0h1.3m11.2 0h2.5m13.8 0h1.3m14.7 0h1.3m3.7 0h1.3m27.7 0h1.3m10.1 0h1.3m1.2 0h1.3m18.5 0h1.2m41.1 0h1.2m32.1 0h2.5m40.4 0h1.3M298.6 856.3h1.3m5 0h1.3m4.9 0h1.3m35.3 0h1.3m57.5 0h1.3m6.2 0h1.3m35 0h1.3m120.2 0h1.2m53.1 0h1.2m66.3 0h1.2M425.1 871.1h1.3m17.6 0h1.3m25.1 0h1.3m13.5 0h1.2m128.7 0h1.3m18.4 0h1.2m35.8 0h1.2M264.7 885.9h1.3m1.2 0h1.3m2.5 0h1.3m7.5 0h1.3m2.4 0h1.3m8.8 0h1.3m42.6 0h2.5m12.7 0h1.3m2.5 0h2.5m13.7 0h1.3m25 0h1.3m28.5 0h2.5m10.1 0h1.3m48.7 0h1.2m20 0h1.2m6.2 0h1.2m11.3 0h1.2m22.1 0h1.2m12.3 0h1.2m1.3 0h1.2m1.2 0h1.2m50.7 0h1.2m1.3 0h1.2m38.3 0h1.2m20.7 0h1.2m3.6 0h1.2M278.5 900.7h1.3m1.2 0h1.3m1.2 0h2.5m54 0h1.3m11.4 0h1.3m13.7 0h2.5m1.3 0h1.3m14.9 0h1.3m1.2 0h1.3m5 0h1.3m9.9 0h1.3m2.5 0h1.3m27.4 0h2.5m7.6 0h1.3m1.2 0h2.5m8.8 0h1.3m3.8 0h1.3m5 0h1.3m20.8 0h1.2m3.8 0h1.2m3.8 0h1.2m5 0h1.2m65.4 0h1.2m18.4 0h1.3m5 0h1.3m6.2 0h1.3m1.3 0h1.3m1.2 0h1.3m10.9 0h1.2m5 0h1.2m18.7 0h1.3M387.7 915.5h1.3M347.7 930.3h1.3m237.6 0h1.2" stroke="rgb(142,28,142)" stroke-width="15" fill="none"/>
<path d="M271 131.1h1.3m2.4 0h1.3m1.3 0h1.3m15 0h1.3m8.7 0h1.3m12.5 0h1.3m5 0h1.3m11.3 0h1.3m2.4 0h1.3m41.4 0h1.3m7.5 0h1.3m12.4 0h1.3m33.7 0h1.3m1.2 0h1.3m8.8 0h1.3m1.2 0h1.3m6.3 0h1.3m1.2 0h1.3m14.8 0h1.2m29.9 0h1.2m2.5 0h1.2m2.5 0h1.2m3.8 0h1.2m3.8 0h1.2m17.1 0h1.2m15.1 0h1.2m34.2 0h1.3m3.7 0h1.3m2.5 0h1.3m10 0h1.3m4.7 0h1.2m1.3 0h1.2m3.8 0h1.2m1.3 0h1.2m19.9 0h1.3m4.7 0h1.2m3.7 0h1.2m19.5 0h1.2M341.3 145.9h1.3m81.2 0h1.3m8.8 0h1.3m20.1 0h1.3m5 0h1.3m11.3 0h1.3m76.6 0h1.2m109.9 0h1.2m2.5 0h1.2m3.7 0h1.2m12.4 0h1.3m4.5 0h2.4M266 160.7h1.3m25 0h1.3m1.2 0h1.3m1.2 0h1.3m7.5 0h1.3m26.3 0h2.5m11.5 0h1.3m3.7 0h1.3m8.7 0h1.3m6.2 0h1.3m3.7 0h1.3m22.5 0h1.3m1.2 0h1.3m7.4 0h1.3m28.7 0h1.3m8.8 0h1.3m5 0h1.3m29.8 0h1.2m2.5 0h1.2m16.2 0h1.2m1.3 0h2.5m18.7 0h1.2m12.1 0h1.2m6.3 0h3.7m34.5 0h1.2m18.6 0h1.3m7.5 0h1.3m24.4 0h1.3m2.5 0h1.3m1.2 0h1.3m6.3 0h1.3m12 0h1.2M269.7 175.5h1.3m1.2 0h1.3m8.8 0h1.3m36.3 0h1.3m5 0h1.3m6.2 0h2.5m3.8 0h1.3m2.5 0h1.3m25.1 0h1.3m15 0h1.3m38.5 0h1.3m37.8 0h1.3m2.5 0h1.3m9.7 0h1.2m21.2 0h1.2m2.6 0h1.2m65.4 0h1.2m6.2 0h1.2m1.3 0h1.2m7.4 0h1.2m1.3 0h1.2m32.2 0h1.2m3.7 0h1.2m9.8 0h1.3m5 0h1.3m14.8 0h1.2m12.1 0h1.3m8.5 0h1.2M302.4 190.3h1.3m1.2 0h1.3m18.8 0h1.3m1.2 0h2.5m2.5 0h1.3m5 0h2.5m35.2 0h1.3m2.4 0h1.3m1.2 0h1.3m3.7 0h1.3m3.7 0h1.3m3.7 0h1.3m33.6 0h1.3m16.4 0h1.3m18.8 0h1.3m1.3 0h1.3m32.1 0h1.2m8.7 0h1.2m3.8 0h1.2m7.5 0h1.2m14.6 0h1.2m16.3 0h2.5m9.7 0h1.2m51.9 0h1.2m1.3 0h2.5m2.5 0h1.2m14.8 0h1.3m3.8 0h2.5M272.2 205.1h1.3m12.5 0h1.3m18.8 0h1.3m11.3 0h1.3m1.2 0h2.5m3.8 0h1.3m96.3 0h1.3m10 0h1.3m3.7 0h2.5m2.6 0h1.3m1.2 0h2.5m22.7 0h1.3m49.5 0h1.2m15.9 0h1.2m29.7 0h1.2m29.5 0h1.3m60.7 0h1.2m3.7 0h1.2m6 0h2.5m10.9 0h1.2M266 219.9h1.3m31.3 0h1.3m17.5 0h1.3m37.8 0h1.3m2.4 0h2.5m7.5 0h1.3m11.2 0h1.3m7.5 0h1.3m13.7 0h1.3m1.2 0h1.3m66.4 0h1.3m10.9 0h1.2M307.4 234.7h1.3m121.4 0h1.3m62.5 0h1.2m43.2 0h1.2m3.8 0h2.5m3.8 0h1.2m11.3 0h1.2m1.3 0h1.2m7.2 0h1.2m13.6 0h2.5m69.4 0h1.3M293.6 249.5h1.3m71.6 0h1.3m41.2 0h1.3m18.5 0h2.5m12.7 0h1.3m5 0h1.3m78.4 0h1.2m44.3 0h1.2m2.5 0h1.2m13.6 0h1.2m4.8 0h1.3m11.3 0h2.5m1.3 0h1.3m8.4 0h1.2m5 0h1.2m2.6 0h2.5m4.7 0h1.3m16.3 0h1.3m2.2 0h1.2m1.3 0h1.2m12.2 0h1.3M273.5 264.3h1.3m7.5 0h1.3m8.7 0h1.3m32.6 0h1.3m3.7 0h1.3m10 0h1.3m42.7 0h1.3m2.4 0h2.5m1.3 0h1.3m18.7 0h1.3m26.1 0h1.3m8.8 0h1.3m15.1 0h1.3m21 0h1.2m13.7 0h1.2m10 0h1.2m1.3 0h1.2m1.3 0h1.2m8.7 0h1.2m12.2 0h1.2m13.8 0h1.2m19.6 0h1.2m7.5 0h1.2m4.9 0h1.2m2.3 0h2.5m13.9 0h1.3m14.7 0h2.5m2.5 0h1.2m3.8 0h1.2m7.3 0h1.3m29.4 0h1.3m7.2 0h1.2M278.5 279.1h1.3m3.7 0h1.3m3.8 0h1.3m3.7 0h1.3m20 0h1.3m39 0h1.3m8.7 0h2.5m23.8 0h1.3m33.5 0h1.3m1.2 0h1.3m2.5 0h2.5m1.3 0h1.3m15.1 0h1.3m26.1 0h1.2m6.3 0h1.2m16.2 0h1.2m18.7 0h1.2m6.3 0h1.2m0.9 0h1.2m12.5 0h2.5m1.3 0h1.2m22.2 0h1.2m12.4 0h2.5m4.9 0h1.2m14.9 0h3.8m2.5 0h1.3m35.7 0h1.3m1.2 0h2.5M281 293.9h1.3m6.3 0h1.3m11.2 0h1.3m2.5 0h1.3m31.3 0h1.3m5 0h1.3m3.9 0h1.3m6.2 0h1.3m8.7 0h1.3m2.4 0h1.3m3.7 0h1.3m5 0h2.5m3.7 0h1.3m1.2 0h1.3m1.2 0h1.3m20 0h1.3m12.3 0h2.5m5 0h1.3m3.8 0h1.3m2.5 0h1.3m28.9 0h1.3m12.2 0h1.2m18.7 0h1.2m10 0h2.5m7.4 0h2.5m29.6 0h2.5m1.3 0h1.2m4.7 0h1.2m14.9 0h1.2m1.3 0h1.2m9.7 0h1.3m10 0h2.5m1.3 0h1.3m3.7 0h1.3m21.9 0h1.3m28.4 0h2.5m16.9 0h1.2m1.2 0h1.2M289.8 308.7h2.5m7.6 0h1.3m2.4 0h1.3m5 0h2.5m6.3 0h1.3m1.2 0h2.5m2.5 0h1.3m1.2 0h1.3m20.2 0h1.3m7.5 0h2.5m15 0h1.3m8.7 0h1.3m14.9 0h1.3m14.8 0h1.3m51.6 0h2.5m13.5 0h1.2m51.9 0h1.2m1.3 0h1.2m11.3 0h1.2m86.3 0h1.3m5 0h1.3m17.2 0h2.5m18.2 0h1.2M273.5 323.5h2.5m12.6 0h1.3m131.4 0h1.3m13.8 0h1.3m11.3 0h1.3m2.5 0h3.8m16.4 0h1.3m112.3 0h1.2m73.1 0h1.3m5.9 0h1.2m7.2 0h1.3M269.7 338.3h2.5m11.3 0h1.3m12.5 0h1.3m28.9 0h2.5m1.2 0h1.3m11.3 0h1.3m7.6 0h1.3m10 0h1.3m12.4 0h1.3m5 0h1.3m7.4 0h1.3m52.5 0h1.3m53.6 0h1.2m39.5 0h3.7m11.3 0h1.2m1.3 0h1.2m2.5 0h1.2m1.3 0h1.2m15.9 0h1.2m6.2 0h1.2m1.3 0h1.2m43.3 0h1.2m4.8 0h1.3m10 0h1.3m8.5 0h3.7M361.5 353.1h2.5m8.7 0h1.3m13.7 0h1.3m7.5 0h1.3m2.4 0h2.5m2.5 0h1.3m2.5 0h1.3m3.7 0h2.5m65 0h1.2m14.9 0h1.2m18.7 0h1.2m1.3 0h1.2m3.8 0h1.2m66.6 0h1.2m4.7 0h1.3m7.5 0h1.3m2.5 0h2.5m2.6 0h1.3M271 367.9h1.3m5 0h1.3m2.4 0h1.3m8.8 0h1.3m18.7 0h1.3m1.3 0h1.3m4.9 0h2.5m10.1 0h1.3m6.2 0h1.3m3.7 0h1.3m10.2 0h2.5m12.5 0h1.3m7.4 0h1.3m5 0h2.5m6.2 0h2.5m5 0h1.3m8.7 0h1.3m12.3 0h1.3m25.2 0h1.3m15.1 0h1.3m20.9 0h1.2m3.8 0h1.2m3.8 0h1.2m2.5 0h2.5m1.2 0h1.2m22.5 0h1.2m0.9 0h1.2m28.8 0h1.2m13.4 0h1.2m9.9 0h1.2m14.8 0h2.5m26 0h1.2m24.9 0h1.3M269.7 382.7h1.3m1.2 0h1.3m69 0h1.3m1.2 0h1.3m3.9 0h1.3m6.2 0h1.3m10 0h1.3m81.2 0h1.3m6.3 0h1.3m6.3 0h1.3m6.2 0h1.3m11 0h1.2m29.8 0h1.2m12.5 0h1.2m19.7 0h1.2m1.3 0h1.2m25.8 0h1.2m7.5 0h1.2m2.5 0h1.2m24.9 0h1.3m3.5 0h1.2m40.8 0h1.2M264.7 397.5h1.3m11.3 0h1.3m1.2 0h1.3m2.4 0h2.5m11.3 0h1.3m5 0h1.3m1.2 0h1.3m6.3 0h1.3m15 0h1.3m28.9 0h1.3m5 0h1.3m64.8 0h1.3m7.5 0h1.3m2.5 0h1.3m11.3 0h1.3m1.3 0h1.3m10 0h1.3m1.2 0h1.3m1.2 0h1.3m30.8 0h1.2m15 0h1.2m22.1 0h2.5m79.1 0h1.2m6.2 0h1.2m13.6 0h1.3m6.3 0h1.3M268.5 412.3h1.3m13.7 0h1.3m23.8 0h1.3m7.5 0h2.5m2.5 0h1.3m1.3 0h1.3m13.7 0h1.3m36.4 0h1.3m18.7 0h1.3m12.5 0h1.3m21.1 0h2.5m24 0h1.3m17.3 0h1.2m1.3 0h1.2m3.8 0h1.2m13.7 0h1.2m2.5 0h1.2m17.5 0h1.2m24.6 0h1.2m37 0h1.2M266 427.1h1.3m10 0h5m10 0h1.3m10 0h1.3m1.2 0h1.3m2.5 0h1.3m8.7 0h1.3m1.2 0h1.3m2.5 0h3.8m2.5 0h1.3m5 0h1.3m1.2 0h1.3m6.4 0h1.3m7.4 0h1.3m3.7 0h1.3m2.5 0h1.3m29.9 0h1.3m10 0h1.3m11 0h1.3m5 0h1.3m8.8 0h1.3m1.2 0h1.3m7.5 0h1.3m2.5 0h1.3m7.5 0h2.5m11.4 0h1.3m14.6 0h1.2m2.6 0h1.2m16.2 0h1.2m2.5 0h2.5m2.5 0h1.2m1.3 0h1.2m7.5 0h1.2m4.6 0h1.2m16.3 0h1.2m2.6 0h1.2m3.8 0h1.2m77.5 0h1.3m10 0h1.3m5 0h1.3m1 0h1.2M271 441.9h1.3m1.2 0h1.3m10 0h1.3m38.9 0h1.3m2.4 0h1.3m6.3 0h1.3m13.9 0h1.3m3.7 0h1.3m23.7 0h1.3m3.7 0h1.3m1.2 0h1.3m9.9 0h1.3m6.2 0h2.5m1.3 0h1.3m7.2 0h1.3m2.5 0h1.3m50.4 0h1.3m12.1 0h1.2m5.1 0h1.2m1.2 0h1.2m1.3 0h1.2m13.8 0h2.5m6.2 0h1.2m3.7 0h2.5m7.1 0h1.2m16.3 0h1.2m1.3 0h1.2m3.8 0h1.2m81.3 0h1.3m7.5 0h1.3m17.1 0h1.2M269.7 456.7h1.3m70.3 0h1.3m11.4 0h1.3m12.4 0h1.3m40 0h2.5m1.2 0h1.3m1.2 0h1.3m18.6 0h1.3m13.9 0h1.3m62.2 0h2.5m2.5 0h1.2m11.2 0h2.5m112.1 0h1.3M271 471.5h1.3m6.2 0h1.3m18.8 0h1.3m6.2 0h1.3m1.2 0h1.3m3.8 0h1.3m8.7 0h1.3m3.7 0h1.3m2.5 0h1.3m26.4 0h1.3m26.2 0h1.3m17.5 0h1.3m133 0h1.2m40.9 0h1.2m73.1 0h1.3M271 486.3h3.8m2.5 0h1.3m7.4 0h1.3m3.8 0h2.5m3.7 0h1.3m8.8 0h1.3m26.3 0h1.3m8.7 0h1.3m10.2 0h1.3m1.2 0h1.3m26.2 0h1.3m2.4 0h1.3m17.5 0h1.3m2.4 0h1.3m1.2 0h1.3m1 0h1.3m1.2 0h1.3m1.2 0h1.3m5 0h1.3m1.3 0h2.5m27.7 0h1.3m10.1 0h2.5m4.7 0h1.2m5.1 0h1.2m6.2 0h1.2m1.3 0h1.2m1.3 0h1.2m1.3 0h1.2m2.5 0h1.2m28.3 0h3.7m5 0h1.2m3.8 0h1.2m2.6 0h1.2m12.5 0h1.2m4.8 0h1.2m2.5 0h1.2m8.7 0h2.5m1.2 0h1.2m2.5 0h1.2m6 0h1.3m2.4 0h1.3m1.3 0h1.3m6.2 0h2.5m1.3 0h1.3m6 0h1.2m1.3 0h1.2m14.7 0h2.5m19.9 0h1.2m2.5 0h1.2m9.7 0h1.3m2.5 0h3.8m2.1 0h1.2m2.4 0h1.2M267.2 501.1h2.5m18.9 0h1.3m6.2 0h1.3m6.2 0h1.3m1.2 0h2.5m2.5 0h1.3m20.1 0h1.3m1.2 0h1.3m8.7 0h1.3m52.7 0h2.5m37.4 0h1.3m50 0h1.2m28.6 0h1.2m2.6 0h1.2m29.6 0h1.2m1.3 0h1.2m6.3 0h2.5m15.8 0h1.2m1.3 0h1.2M273.5 515.9h2.5m2.5 0h1.3m87.9 0h1.3m3.7 0h2.5m30 0h1.3m2.5 0h1.3m1.2 0h1.3m2.4 0h1.3m30 0h1.3m49.8 0h1.2m13.8 0h1.2m7.5 0h1.2m1.3 0h1.2m3.7 0h1.2m29.7 0h1.2m59.3 0h1.3m8.5 0h1.2m6.2 0h1.2M277.3 530.7h1.3m99.1 0h1.3M278.5 545.5h1.3m11.3 0h1.3m10 0h1.3m59 0h1.3m11.2 0h1.3m28.7 0h2.5m17.4 0h1.3m28.9 0h1.3m34.8 0h1.2m33.6 0h1.2m22.2 0h1.2m1.3 0h1.2m25.9 0h1.2m6.2 0h1.2m21 0h1.3m13.5 0h1.2m22.3 0h1.3m5 0h1.3m14.7 0h2.5m1.1 0h1.2m2.3 0h1.3m1.2 0h1.3M269.7 560.3h1.3m159.1 0h1.3m25.2 0h1.3m16.3 0h1.3m24.6 0h1.2m12.5 0h1.2m13.7 0h1.2m12.2 0h1.2m45.8 0h1.2M269.7 575.1h1.3m11.3 0h1.3m138.9 0h1.3m41.6 0h1.3m19.8 0h1.2m53.1 0h1.2m11.3 0h1.2m8.8 0h1.2m76.6 0h1.2m17.4 0h1.3m15.5 0h1.3m2.5 0h1.3M291.1 589.9h1.3m2.4 0h1.3m17.6 0h1.3m13.7 0h1.3m1.2 0h1.3m1.2 0h2.5m1.3 0h1.3m15.2 0h1.3m11.2 0h1.3m46.2 0h2.5m18.6 0h1.3m16.4 0h2.5m38.6 0h1.2m12.5 0h2.5m28.2 0h1.2m15.1 0h1.2m28.3 0h1.2m5 0h1.2m1.3 0h1.2m9.7 0h1.3m76.6 0h1.3M272.2 604.7h1.3m1.2 0h1.3m1.3 0h1.3m2.4 0h1.3m6.3 0h1.3m8.7 0h1.3m12.5 0h1.3m1.2 0h1.3m2.5 0h1.3m2.4 0h1.3m13.8 0h1.3m5 0h1.3m7.6 0h2.5m7.5 0h1.3m2.5 0h1.3m3.7 0h1.3m12.4 0h1.3m6.2 0h1.3m18.7 0h1.3m12.3 0h1.3m5 0h1.3m7.5 0h1.3m20.2 0h1.3m10 0h2.5m11 0h1.2m3.8 0h1.2m3.7 0h1.2m10 0h1.2m2.6 0h2.5m3.7 0h2.5m2.5 0h1.2m9.6 0h1.2m1.3 0h1.2m31 0h1.2m17.3 0h1.2m2.5 0h3.7m18.6 0h1.3m3.8 0h1.3m23.1 0h1.3m24.8 0h1.2m8.4 0h1.3m3.8 0h1.3m3.4 0h1.2M264.7 619.5h1.3m10 0h2.5m12.6 0h1.3m8.7 0h1.3m5 0h1.3m23.8 0h1.3m3.7 0h1.3m16.4 0h1.3m88.7 0h1.3m27.7 0h1.3m116 0h1.2M430.1 634.3h1.3m57.5 0h1.2m34.9 0h1.2m119.6 0h2.5m10.1 0h1.3m12.1 0h1.2m1.3 0h1.2M418.8 649.1h1.3m37.7 0h1.3m13.9 0h1.3m161.8 0h1.2m27.1 0h1.2M421.3 663.9h1.3m7.5 0h1.3m1.2 0h1.3m2.5 0h1.3m26.4 0h1.3m10.1 0h1.3m155.5 0h1.2m27.4 0h1.3M291.1 678.7h1.3m4.9 0h1.3m2.5 0h1.3m1.2 0h1.3m40.1 0h1.3m13.9 0h1.3m10 0h1.3m9.9 0h1.3m2.5 0h1.3m11.2 0h1.3m4.9 0h1.3m1.2 0h2.5m1.3 0h1.3m74.9 0h2.5m41 0h1.2m14.7 0h1.2m8.8 0h1.2m5 0h1.2m22.1 0h1.2m92.5 0h2.5m2.6 0h1.3m6.9 0h2.4M264.7 693.5h1.3m8.7 0h1.3m6.3 0h1.3m11.2 0h1.3m2.5 0h1.3m1.2 0h1.3m5 0h1.3m6.2 0h1.3m11.3 0h1.3m4.9 0h2.5m20.3 0h1.3m9.9 0h1.3m3.7 0h1.3m10 0h2.5m5 0h1.3m8.7 0h1.3m7.4 0h2.5m18.7 0h1.3m2.4 0h1.3m3.8 0h1.3m3.7 0h1.3m8.8 0h1.3m15.1 0h2.5m8.5 0h2.5m7.5 0h1.2m1.3 0h1.2m28.6 0h1.2m3.8 0h1.2m3.4 0h1.2m5 0h1.2m1.3 0h1.2m12.6 0h1.2m17.2 0h1.2m4.9 0h1.2m10 0h1.2m6 0h1.3m8.7 0h1.3m13.6 0h1.2m8.7 0h1.2m7.3 0h1.3m2.5 0h1.3m6.2 0h2.5m23.2 0h1.3m12 0h1.2M482.7 708.3h1.2m190.4 0h1.2M299.9 723.1h1.3m32.5 0h1.3m116.5 0h1.3m3.8 0h1.3m215.1 0h1.2M266 737.9h1.3m30 0h1.3m10 0h1.3m1.2 0h1.3m7.5 0h1.3m13.8 0h1.3m5 0h1.3m51.4 0h1.3m13.7 0h1.3m21.1 0h1.3m2.4 0h1.3m16.4 0h1.3m2.5 0h2.5m36.1 0h6.2m9.9 0h1.2m7.5 0h1.2m2.6 0h1.2m125.9 0h1.3m36.6 0h1.2m2.4 0h1.2M272.2 752.7h1.3m7.5 0h1.3m12.5 0h2.5m3.8 0h1.3m13.8 0h2.5m2.5 0h2.5m18.8 0h1.3m6.4 0h1.3m5 0h1.3m2.4 0h1.3m2.5 0h1.3m16.2 0h2.5m22.5 0h1.3m1.2 0h2.5m7.3 0h1.3m1.2 0h1.3m6.2 0h1.3m2.5 0h1.3m7.5 0h2.5m16.5 0h1.3m6.2 0h1.3m2.5 0h1.3m25.9 0h1.2m7.5 0h1.2m22.4 0h1.2m4.7 0h1.2m21.3 0h1.2m1.3 0h1.2m2.5 0h1.2m3.5 0h1.2m74.1 0h1.3m6.3 0h1.3m17.1 0h1.2M369 767.5h1.3m9.9 0h1.3m27.5 0h1.3m16 0h1.3m44.1 0h1.3m35.8 0h1.2m17.5 0h1.2m22.1 0h1.2m7.6 0h1.2m6.3 0h1.2M264.7 782.3h1.3m12.5 0h1.3m8.8 0h1.3m8.7 0h1.3m41.4 0h1.3m86.2 0h2.5m10.1 0h1.3m5.1 0h1.3m16.3 0h1.3m5 0h1.3m1.2 0h1.3m61.6 0h1.2m12.5 0h1.2m12.6 0h1.2m24.5 0h1.2m23.6 0h1.3m40.8 0h1.3m10.9 0h1.2M278.5 797.1h1.3m45.2 0h1.3m1.2 0h1.3m1.2 0h1.3m17.7 0h1.3m1.2 0h3.8m11.2 0h1.3m2.4 0h1.3m41.2 0h1.3m7.3 0h1.3m2.5 0h1.3m30.2 0h1.3m8.8 0h1.3m5 0h1.3m55.7 0h1.2m43 0h1.2m1.3 0h1.2m13.6 0h1.2m2.5 0h1.2m13.6 0h1.3m3.8 0h1.3m14.7 0h1.2m1.3 0h2.5m2.5 0h1.2m12.3 0h1.3m1.2 0h1.3m2.5 0h1.3m19.3 0h1.3M351.5 811.9h2.5m3.7 0h3.8m22.5 0h1.3m18.7 0h1.3m1.2 0h1.3m9.7 0h1.3m102.5 0h1.2m3.7 0h1.2m2.6 0h1.2m35.9 0h1.2m10.9 0h1.2m14.8 0h1.2m86.4 0h2.5M452.8 826.7h1.3m1.2 0h1.3M312.4 841.5h2.5m11.3 0h1.3m3.7 0h1.3m8.8 0h1.3m28.9 0h1.3m3.7 0h1.3m56.1 0h1.3m12.6 0h1.3m110.5 0h1.2m131.6 0h2.4M306.1 856.3h1.3m382.6 0h1.2M618.9 871.1h1.3M302.4 885.9h1.3m12.5 0h1.3m10 0h6.3m7.5 0h1.3m2.4 0h1.3m5.2 0h1.3m16.2 0h1.3m3.7 0h3.8m4.9 0h2.5m2.5 0h1.3m6.2 0h1.3m5 0h1.3m1.2 0h3.8m12.2 0h1.3m6.3 0h1.3m6.2 0h1.3m16.4 0h1.3m8.8 0h1.3m16 0h1.2m11.3 0h1.2m8.7 0h1.2m1.3 0h1.2m3.8 0h1.2m10 0h1.2m3.7 0h1.2m1.3 0h1.2m13.4 0h1.2m1.3 0h1.2m2.6 0h1.2m1.3 0h1.2m6.3 0h1.2m1.3 0h1.2m9.7 0h1.2m6.2 0h1.2m18.4 0h1.3m18.8 0h1.3m1 0h2.5m2.5 0h1.2m3.7 0h1.2m1.3 0h3.7m25.9 0h1.2m7.4 0h2.5M345 900.7h1.3m8.9 0h2.5m68.6 0h1.3m8.8 0h1.3m7.5 0h1.3m5 0h1.3m5 0h1.3m27.4 0h1.2m31.1 0h2.5m17 0h1.2m3.8 0h1.2m1.3 0h1.2m5.1 0h1.2m16 0h1.2m7.4 0h1.2m5 0h1.2m1.3 0h2.5m2.4 0h1.2m14.8 0h1.3m19.8 0h1.2m8.8 0h2.5m40.5 0h1.3m1.2 0h1.3M375.2 915.5h1.3m33.7 0h1.3m1.2 0h1.3M322.4 930.3h1.3m5 0h1.3m37.7 0h1.3m16.2 0h1.3m8.7 0h1.3m138.1 0h1.2m39.7 0h1.2m30.8 0h1.3" stroke="rgb(107,21,107)" stroke-width="15" fill="none"/>
<path d="M269.7 131.1h1.3m10 0h1.3m25.1 0h1.3m12.5 0h1.3m2.5 0h2.5m6.2 0h1.3m31.5 0h1.3m16.2 0h1.3m21.2 0h1.3m23.6 0h1.3m15.1 0h1.3m8.7 0h1.3m7.6 0h1.3m6.2 0h1.3m34.6 0h1.2m6.2 0h1.2m3.8 0h2.5m6.2 0h1.2m7.2 0h1.2m12.5 0h1.2m7.6 0h1.2m31.9 0h1.2m20 0h2.5m4.7 0h1.2m15 0h1.2m3.6 0h2.5m11.3 0h1.3m6 0h2.5m23 0h1.2M264.7 145.9h1.3m2.5 0h1.3m6.2 0h1.3m2.5 0h1.3m1.2 0h1.3m3.7 0h1.3m18.8 0h2.5m85.3 0h1.3m17.5 0h1.3m9.8 0h1.3m5 0h1.3m3.7 0h3.8m22.7 0h1.3m5 0h1.3m6.2 0h1.3m9.7 0h1.2m28.6 0h1.2m1.3 0h1.2m14.6 0h1.2m2.6 0h1.2m20 0h1.2m71.6 0h1.2m34.6 0h2.5m5.9 0h1.3m10.9 0h1.2M267.2 160.7h2.5m85.5 0h1.3m10 0h1.3m9.9 0h2.5m3.8 0h1.3m7.4 0h1.3m2.5 0h1.3m9.9 0h1.3m2.5 0h1.3m2.4 0h1.3m17.4 0h1.3m1.2 0h1.3m5 0h1.3m10.1 0h1.3m18.8 0h1.3m4.7 0h1.2m2.6 0h1.2m3.7 0h1.2m2.6 0h1.2m1.3 0h1.2m3.7 0h1.2m57 0h1.2m6.3 0h1.2m18.4 0h1.2m12.1 0h1.3m5 0h3.8m1.2 0h1.3m2.5 0h1.3m17.2 0h1.2m7.6 0h1.2m16.1 0h1.3M268.5 175.5h1.3m17.5 0h1.3m5 0h1.3m1.2 0h1.3m6.2 0h1.3m32.6 0h1.3m17.7 0h1.3m8.7 0h1.3m17.4 0h1.3m16.2 0h2.5m7.5 0h1.3m8.5 0h2.5m17.7 0h1.3m13.8 0h1.3m7.6 0h1.3m2.4 0h1.3m17.2 0h1.2m1.3 0h6.2m2.5 0h1.2m8.8 0h1.2m53.3 0h1.2m15.8 0h1.2m10 0h1.2m1.2 0h1.2m29.7 0h1.2m17.3 0h2.5m12.6 0h1.3m7.1 0h1.2m1.3 0h1.2m19.4 0h1.2M294.8 190.3h1.3m20.1 0h1.3m8.7 0h1.3m7.5 0h1.3m13.9 0h2.5m5 0h1.3m3.7 0h1.3m7.5 0h1.3m2.4 0h1.3m18.7 0h1.3m18.7 0h1.3m8.6 0h1.3m31.4 0h1.3m34.8 0h1.2m7.5 0h1.2m35.8 0h2.5m5 0h1.2m12.5 0h1.2m14.7 0h1.2m9.9 0h1.2m2.5 0h1.2m30.9 0h1.2m10 0h1.2m3.8 0h1.2m3.6 0h1.3m24.7 0h1.2m1.2 0h1.2M271 205.1h1.3m7.5 0h1.3m8.7 0h1.3m1.2 0h1.3m42.7 0h1.3m1.2 0h1.3m21.4 0h1.3m22.4 0h1.3m11.2 0h1.3m27.3 0h1.3m11.3 0h1.3m15.1 0h1.3m2.5 0h2.5m2.5 0h1.3m1.3 0h1.3m1.2 0h1.3m5 0h1.3m35.8 0h1.2m2.5 0h1.2m1.3 0h1.2m2.5 0h1.2m19.6 0h1.2m7.6 0h1.2m6.3 0h1.2m6.3 0h1.2m18.3 0h1.2m95 0h1.3M264.7 219.9h1.3m1.2 0h2.5m7.6 0h1.3m43.8 0h1.3m29 0h1.3m3.7 0h1.3m3.7 0h1.3m5 0h1.3m1.2 0h1.3m8.7 0h1.3m109.9 0h1.2m40.7 0h2.5m76.7 0h1.3M397.7 234.7h1.3m27.3 0h1.3m83.7 0h1.2m23.3 0h1.2m2.6 0h2.5m11.2 0h1.2m3.8 0h1.2m3.8 0h1.2m20.9 0h2.5M345 249.5h1.3m15.2 0h1.3m9.9 0h1.3m21.2 0h2.5m19.8 0h2.5m12.6 0h1.3m17.6 0h1.3m5 0h1.3m5 0h2.5m22.3 0h1.2m8.8 0h1.2m91.4 0h1.2m13.6 0h1.3m1.2 0h2.5m12.3 0h1.2m6.3 0h1.2m1.3 0h1.2m18.6 0h1.3m2.5 0h1.3m1.2 0h1.3m2.2 0h1.2m3.7 0h2.5m19.4 0h2.4M267.2 264.3h1.3m2.5 0h2.5m5 0h1.3m17.5 0h1.3m1.3 0h1.3m16.2 0h1.3m6.3 0h1.3m8.7 0h1.3m1.2 0h2.5m11.5 0h1.3m9.9 0h5m1.3 0h1.3m2.4 0h1.3m11.2 0h1.3m1.2 0h1.3m7.5 0h1.3m3.7 0h1.3m27.3 0h1.3m7.5 0h1.3m6.3 0h1.3m21.4 0h1.3m3.7 0h1.3m6 0h1.2m19.9 0h1.2m6.3 0h2.5m14.9 0h1.2m24.6 0h2.5m1.3 0h1.2m27.1 0h1.2m4.9 0h1.2m23.7 0h1.3m1.2 0h1.3m2.2 0h1.2m5 0h1.2m13.5 0h5m2.6 0h1.3m1.2 0h1.3m12.2 0h1.2m3.7 0h1.2m11.1 0h1.3m9.4 0h1.2M269.7 279.1h1.3m1.2 0h1.3m51.5 0h1.3m6.2 0h1.3m6.2 0h1.3m1.2 0h2.5m2.7 0h1.3m5 0h1.3m2.4 0h1.3m26.2 0h1.3m1.2 0h1.3m7.5 0h1.3m11.2 0h1.3m7.2 0h1.3m3.7 0h1.3m15.1 0h1.3m7.6 0h1.3m5 0h1.3m26.1 0h1.2m8.7 0h1.2m2.6 0h1.2m31.1 0h1.2m1.3 0h2.5m7.1 0h2.5m13.7 0h1.2m19.7 0h1.2m2.5 0h1.2m22.1 0h1.3m12.6 0h1.3m32 0h1.3m5 0h1.3M264.7 293.9h1.3m13.8 0h1.3m1.2 0h2.5m1.2 0h1.3m8.8 0h1.3m2.5 0h1.3m2.4 0h1.3m12.5 0h1.3m12.5 0h1.3m10 0h1.3m6.4 0h2.5m1.3 0h2.5m1.2 0h2.5m5 0h1.3m1.2 0h1.3m20 0h1.3m18.7 0h1.3m7.2 0h3.8m2.5 0h1.3m7.5 0h2.5m2.6 0h2.5m5 0h1.3m5 0h1.3m17.6 0h1.3m1.3 0h1.3m18.4 0h1.2m12.5 0h1.2m2.5 0h1.2m14.9 0h1.2m9.7 0h2.5m10 0h1.2m15 0h1.2m4.8 0h1.2m19.8 0h1.2m4.7 0h1.3m3.7 0h1.3m13.9 0h1.3m24.4 0h1.3m5 0h1.3m36.6 0h1.2M268.5 308.7h1.3m2.4 0h1.3m27.6 0h1.3m15 0h1.3m1.2 0h1.3m6.3 0h1.3m13.7 0h1.3m13.9 0h1.3m3.7 0h1.3m45 0h3.8m42.5 0h1.3m3.8 0h1.3m5 0h1.3m37.1 0h1.2m35.8 0h1.2m21.3 0h1.2m28.2 0h1.2m35.9 0h1.2m18.6 0h1.3m5 0h1.3m7.2 0h2.5m21.8 0h1.2M271 323.5h1.3m15 0h1.3m21.3 0h1.3m1.2 0h1.3m15 0h1.3m21.5 0h1.3m4.9 0h1.3m26.2 0h1.3m1.2 0h1.3m11.2 0h1.3m17.3 0h1.3m10 0h3.8m12.6 0h1.3m15.1 0h1.3m2.5 0h1.3m1.2 0h1.3m40.8 0h1.2m27.1 0h1.2m29.7 0h1.2m6.2 0h1.2m71.8 0h1.3m1.2 0h1.3m14.7 0h1.2M264.7 338.3h1.3m30.1 0h1.3m8.7 0h1.3m18.8 0h1.3m10 0h1.3m1.2 0h1.3m1.2 0h1.3m18.9 0h1.3m8.7 0h1.3m7.5 0h1.3m27.4 0h1.3m123.1 0h1.2m3.8 0h1.2m5 0h1.2m6.3 0h1.2m1.3 0h1.2m1.3 0h1.2m18.4 0h2.5m11.1 0h1.2m32.2 0h1.2m8.7 0h1.2m19.9 0h2.5m9.7 0h1.2m5 0h1.2M313.7 353.1h1.3m32.7 0h1.3m8.7 0h1.3m1.2 0h1.3m7.5 0h1.3m3.7 0h1.3m6.2 0h1.3m9.9 0h1.3m106.1 0h1.2m1.3 0h1.2m7.5 0h2.5m7.5 0h1.2m3.7 0h3.7m2.6 0h1.2m67.5 0h1.3m31.1 0h1.2m1.3 0h2.5m6 0h1.3m12.5 0h1.3m13.3 0h1.2M268.5 367.9h1.3m25 0h1.3m16.3 0h1.3m16.3 0h1.3m3.7 0h2.5m3.8 0h1.3m5.1 0h1.3m26.2 0h1.3m16.2 0h2.5m3.8 0h1.3m31.1 0h1.3m11.3 0h2.5m3.8 0h1.3m6.2 0h1.3m8.8 0h1.3m1.2 0h1.3m14.8 0h1.2m5 0h1.2m6.2 0h1.2m1.3 0h1.2m26.2 0h1.2m5.9 0h1.2m2.5 0h1.2m13.8 0h1.2m12.3 0h1.2m12.4 0h1.2m1.3 0h1.2m14.6 0h1.3m1.2 0h2.5m2.6 0h3.8m1.2 0h1.3m16 0h1.2m8.8 0h1.2m6 0h1.3m2.5 0h1.3m12.3 0h1.2M292.3 382.7h1.3m22.6 0h1.3m11.2 0h1.3m24 0h2.5m6.2 0h1.3m43.7 0h1.3m31.2 0h1.3m2.5 0h1.3m1.2 0h1.3m62.3 0h1.2m5 0h1.2m10 0h1.2m24.6 0h1.2m21 0h1.2m2.5 0h1.2m6.2 0h1.2m23.5 0h1.3m34.5 0h1.3M271 397.5h1.3m1.2 0h1.3m6.2 0h2.5m17.6 0h1.3m5 0h1.3m8.7 0h3.8m10 0h1.3m7.5 0h1.3m1.2 0h1.3m10.2 0h1.3m22.4 0h1.3m2.5 0h1.3m19.9 0h1.3m11.2 0h1.3m1 0h1.3m1.2 0h1.3m5 0h1.3m1.2 0h1.3m1.3 0h1.3m16.3 0h1.3m3.8 0h1.3m6.2 0h1.3m2.5 0h1.3m33.4 0h1.2m1.3 0h1.2m23.7 0h1.2m2.5 0h1.2m2.2 0h1.2m6.3 0h1.2m7.5 0h1.2m3.8 0h2.5m6.3 0h1.2m29.4 0h1.2m27.2 0h1.2m3.8 0h1.2m3.8 0h1.2m5 0h2.5m7.3 0h2.5m1.3 0h1.3m9.7 0h1.2m3.8 0h1.2m1.2 0h1.2m7.3 0h1.3M282.3 412.3h1.3m1.2 0h1.3m5 0h1.3m1.2 0h1.3m17.5 0h1.3m7.5 0h1.3m6.2 0h1.3m2.5 0h1.3m3.7 0h1.3m21.4 0h1.3m3.7 0h2.5m5 0h1.3m5 0h1.3m6.2 0h1.3m4.9 0h1.3m18.7 0h1.3m24.9 0h1.3m27.7 0h1.3m7.5 0h1.3m2.2 0h1.2m3.8 0h1.2m6.3 0h1.2m28.6 0h1.2m3.8 0h1.2m2.5 0h2.5m2.1 0h1.2m10.1 0h1.2m2.5 0h3.7m16 0h1.2m2.5 0h1.2m1.3 0h1.2m3.7 0h1.2m48.3 0h1.2m22.3 0h1.3m8.5 0h1.2M268.5 427.1h1.3m1.2 0h1.3m1.2 0h1.3m13.8 0h1.3m3.7 0h1.3m2.4 0h1.3m13.8 0h1.3m1.2 0h1.3m5 0h1.3m1.2 0h1.3m5 0h2.5m2.5 0h1.3m6.2 0h2.5m6.5 0h2.5m2.5 0h1.3m13.7 0h1.3m1.2 0h1.3m24.9 0h1.3m16 0h2.5m2.5 0h3.8m24 0h1.3m13.8 0h1.3m17.3 0h1.2m11.2 0h1.2m8.8 0h1.2m12.4 0h1.2m10 0h1.2m7.2 0h1.2m5 0h1.2m1.3 0h1.2m3.8 0h2.5m1.3 0h1.2m3.8 0h1.2m17.1 0h1.2m47 0h1.2m8.8 0h1.2m7.3 0h1.3m7.5 0h1.3m17.1 0h1.2m8.6 0h1.3m1.2 0h1.3m2.1 0h2.4m1.2 0h1.2M272.2 441.9h1.3m2.5 0h1.3m1.2 0h1.3m3.7 0h1.3m1.2 0h1.3m8.8 0h1.3m1.2 0h1.3m30.1 0h1.3m3.7 0h1.3m11.4 0h2.5m5 0h1.3m6.2 0h1.3m3.7 0h1.3m6.2 0h1.3m7.5 0h1.3m4.9 0h2.5m6.3 0h1.3m2.4 0h2.5m7.5 0h1.3m17.4 0h1.3m48.8 0h2.5m7.4 0h1.2m1.3 0h1.2m3.8 0h1.2m11.2 0h1.2m1.3 0h1.2m10 0h3.7m3.8 0h1.2m14.6 0h1.2m10.1 0h1.2m1.3 0h1.2m3.8 0h1.2M267.2 456.7h2.5m2.5 0h1.3m30.1 0h1.3m20.1 0h1.3m13.7 0h1.3m13.9 0h1.3m3.7 0h1.3m23.7 0h1.3m11.2 0h1.3m1.2 0h1.3m80 0h2.5m6.2 0h1.2m7.5 0h1.2m28.6 0h1.2m39.4 0h1.2m22.3 0h1.2M264.7 471.5h1.3m10 0h1.3m2.5 0h1.3m3.7 0h2.5m6.3 0h1.3m64.1 0h1.3m1.2 0h1.3m322.6 0h1.3M268.5 486.3h1.3m17.5 0h1.3m1.2 0h1.3m2.5 0h1.3m5 0h2.5m3.7 0h1.3m7.5 0h2.5m23.9 0h1.3m10.1 0h1.3m1.2 0h1.3m6.2 0h1.3m7.5 0h1.3m6.2 0h5m11.2 0h1.3m10 0h1.3m48.8 0h1.3m1.2 0h1.3m10 0h1.3m3.8 0h1.3m2.2 0h1.2m8.7 0h1.2m17.5 0h1.2m11.2 0h2.5m3.7 0h1.2m1.3 0h2.5m23.4 0h1.2m13.5 0h2.5m22.2 0h1.2m14.8 0h1.3m8.8 0h1.3m1 0h2.5m7.4 0h1.2m5.1 0h1.2m1.3 0h1.2m9.8 0h1.3m1.2 0h1.3m15.9 0h2.5m4.7 0h1.3m1.3 0h1.3m11.9 0h1.2M264.7 501.1h1.3m13.8 0h1.3m4.9 0h1.3m2.5 0h1.3m22.6 0h1.3m1.2 0h2.5m6.3 0h2.5m11.3 0h1.3m42.6 0h1.3m17.5 0h1.3m111 0h2.5m5 0h1.2m2.5 0h1.2m14.6 0h1.2m8.8 0h2.5M283.5 515.9h2.5m1.3 0h1.3m16.3 0h1.3m12.5 0h1.3m15 0h1.3m7.5 0h2.5m18.9 0h1.3m116.2 0h1.2m1.3 0h1.2m3.8 0h1.2m5 0h1.2m3.8 0h1.2m16.2 0h1.2m10 0h1.2m94.9 0h1.2m5 0h1.2m2.6 0h1.2m3.8 0h1.2m24.6 0h1.2M309.9 530.7h2.5m16.3 0h1.3m1.2 0h1.3m5 0h1.3m10.2 0h1.3m18.7 0h1.3m47.2 0h1.3M279.8 545.5h1.3m17.5 0h1.3m3.7 0h1.3m11.3 0h1.3m8.7 0h1.3m30.2 0h2.5m10 0h1.3m6.2 0h1.3m5 0h1.3m4.9 0h1.3m2.5 0h1.3m3.7 0h1.3m14.9 0h1.3m14.9 0h1.3m21.4 0h1.3m11.3 0h2.5m12.3 0h1.2m18.7 0h1.2m6.2 0h1.2m32.1 0h1.2m34.6 0h1.2m37.3 0h2.5m11 0h1.2m18.5 0h1.3m5 0h1.3m17.1 0h1.2m7.3 0h1.3m10.7 0h1.2M321.2 560.3h2.5m17.6 0h1.3m10.1 0h1.3m100.1 0h1.3M298.6 575.1h1.3m17.5 0h3.8m34 0h3.8m1.2 0h1.3m2.5 0h1.3m11.2 0h1.3m2.4 0h1.3m6.2 0h1.3m37.3 0h1.3m8.8 0h1.3m16.4 0h1.3m11.3 0h1.3m6.2 0h1.3m8.5 0h1.2m8.7 0h1.2m29.9 0h1.2m15.9 0h1.2m1.3 0h1.2m5 0h1.2m13.8 0h1.2m4.8 0h3.7m6.1 0h1.2m3.8 0h1.2m28.6 0h1.3m22.1 0h1.2m6.1 0h1.3m3.7 0h1.3m9.8 0h1.2m13.4 0h2.5m12.1 0h1.2M264.7 589.9h1.3m7.5 0h1.3m3.7 0h3.8m11.3 0h1.3m2.4 0h1.3m1.3 0h3.8m2.4 0h2.5m2.5 0h1.3m13.8 0h1.3m5 0h1.3m7.5 0h1.3m2.4 0h1.3m30.2 0h1.3m48.5 0h1.3m23.9 0h1.3m2.5 0h2.5m11.4 0h2.5m1.3 0h1.3m22.1 0h1.2m5 0h1.2m7.5 0h1.2m2.6 0h1.2m93.7 0h2.5m5.1 0h1.3m30.7 0h1.3M264.7 604.7h5m6.3 0h1.3m2.5 0h1.3m6.2 0h1.3m8.7 0h1.3m3.8 0h3.8m4.9 0h1.3m12.6 0h1.3m1.2 0h1.3m3.7 0h1.3m7.5 0h1.3m13.9 0h3.8m7.4 0h1.3m25 0h1.3m22.2 0h1.3m40.3 0h1.3m7.5 0h1.3m37.2 0h1.2m8.7 0h2.5m34.5 0h1.2m1.3 0h1.2m3.8 0h1.2m15.9 0h1.2m3.8 0h1.2m60.5 0h1.3m28.4 0h1.2m6.1 0h1.3m7.1 0h1.2M272.2 619.5h1.3m15.1 0h1.3m51.4 0h1.3m15.1 0h1.3m117.7 0h1.3m112.3 0h1.2m28.6 0h1.3m51.6 0h1.2M342.5 634.3h1.3m125.4 0h1.3m3.7 0h2.5m158.1 0h1.2m8.6 0h1.3m11.3 0h1.3m4.7 0h1.2m6.2 0h1.2M422.5 649.1h3.8m21.5 0h1.3m11.3 0h1.3m7.5 0h2.5m3.8 0h1.3m59 0h1.2m85.4 0h1.2m1.3 0h1.2m12.5 0h1.2m1.3 0h1.2m24.6 0h1.2m3.7 0h1.2m1.3 0h1.2M428.8 663.9h1.3m7.6 0h1.3m2.4 0h2.5m6.4 0h1.3m1.2 0h1.3m6.3 0h1.3m3.7 0h1.3m2.5 0h1.3m2.5 0h2.5M264.7 678.7h1.3m2.5 0h1.3m7.5 0h1.3m2.4 0h1.3m16.3 0h1.3m8.7 0h1.3m3.8 0h5m7.5 0h3.8m2.5 0h1.3m10 0h1.3m5.1 0h1.3m6.2 0h1.3m11.2 0h1.3m12.5 0h1.3m3.7 0h1.3m11.2 0h1.3m21 0h1.3m8.8 0h2.5m1.3 0h1.3m10 0h1.3m79.7 0h1.2m4.6 0h1.2m2.6 0h2.5m1.2 0h1.2m16.3 0h1.2m5.1 0h1.2m83.8 0h1.3m29.4 0h1.3M271 693.5h2.5m3.8 0h2.5m26.3 0h1.3m5 0h1.3m10 0h1.3m3.7 0h1.3m11.3 0h1.3m5.1 0h1.3m15 0h3.8m13.7 0h1.3m6.2 0h1.3m2.4 0h1.3m2.5 0h5m13.7 0h1.3m31.3 0h1.3m5 0h1.3m2.4 0h2.5m2.6 0h1.3m1.2 0h1.3m1.2 0h1.3m16 0h1.2m10 0h1.2m8.8 0h1.2m5 0h3.7m11.2 0h1.2m15.9 0h1.2m1.3 0h2.5m3.7 0h1.2m1.3 0h1.2m7.6 0h2.5m19.5 0h1.2m7.4 0h1.2m7.3 0h1.3m21.1 0h1.2m22.3 0h1.3m16 0h1.2m13.5 0h1.3m3.7 0h1.3m3.3 0h1.2M264.7 708.3h1.3M293.6 723.1h1.3m23.8 0h1.3m97.5 0h1.3m8.8 0h1.3m214.4 0h1.3m44.2 0h1.2m4.8 0h1.2M286 737.9h1.3m6.3 0h1.3m6.2 0h1.3m2.5 0h1.3m21.3 0h1.3m3.7 0h1.3m76.4 0h1.3m7.3 0h1.3m47.8 0h1.3m5 0h1.3m3.5 0h1.2m8.7 0h1.2m12.5 0h1.2m11.3 0h1.2m8.7 0h1.2m17.1 0h1.2m8.8 0h1.2m11.3 0h1.2m12.2 0h1.2m5 0h2.5m1.2 0h1.2m6.2 0h1.2m30.9 0h1.2m13.5 0h1.3m29.7 0h1.2m14.5 0h2.4M264.7 752.7h1.3m8.7 0h1.3m1.3 0h1.3m12.5 0h1.3m6.2 0h1.3m10 0h1.3m2.5 0h2.5m25.1 0h1.3m2.4 0h1.3m6.4 0h1.3m8.7 0h1.3m8.7 0h1.3m3.7 0h2.5m3.8 0h1.3m11.2 0h3.8m27.3 0h1.3m8.8 0h1.3m18.8 0h1.3m2.5 0h2.5m1.3 0h2.5m24.8 0h2.5m1.2 0h1.2m3.8 0h1.2m7.5 0h1.2m16.2 0h1.2m9.6 0h1.2m2.6 0h1.2m3.8 0h1.2m51.7 0h1.3m18.8 0h1.3m28.2 0h1.3m31.9 0h1.3m5.9 0h1.2M360.2 767.5h1.3m21.2 0h1.3m1.2 0h2.5m10 0h1.3m37.4 0h1.3m21.4 0h1.3m16.3 0h1.3M279.8 782.3h1.3m10 0h1.3m32.6 0h1.3m1.2 0h1.3m11.2 0h1.3m90.1 0h1.3m20.1 0h2.5m67.2 0h1.2m10.9 0h2.5m6.2 0h1.2m31 0h1.2m3.7 0h1.2m113.2 0h1.2M264.7 797.1h1.3m10 0h1.3m11.3 0h2.5m12.5 0h1.3m6.2 0h1.3m2.5 0h1.3m1.2 0h1.3m17.6 0h1.3m2.4 0h1.3m3.7 0h1.3m26.4 0h1.3m5 0h1.3m9.9 0h1.3m26 0h1.3m30.2 0h1.3m7.5 0h1.3m5 0h2.5m3.8 0h1.3m9.8 0h1.2m1.3 0h1.2m10 0h1.2m1.2 0h1.2m3.8 0h1.2m11.3 0h1.2m7.5 0h2.5m17 0h1.2m12.6 0h1.2m23.3 0h3.7m7.5 0h1.2m2.5 0h1.2m2.3 0h1.3m7.5 0h1.3m7.5 0h1.3m6 0h1.2m1.3 0h1.2m8.7 0h1.2m6.1 0h1.3m2.4 0h2.5m8.9 0h2.5m4.7 0h1.2m2.5 0h1.2m8.5 0h1.3M317.4 811.9h1.3m29 0h1.3m30 0h1.3m6.2 0h1.3m8.7 0h1.3m24.7 0h1.3m5 0h1.3m76.3 0h1.2m12.4 0h1.2m28.4 0h1.2m1.3 0h1.2m102.6 0h1.3m20.6 0h2.5m5.1 0h1.3M425.1 826.7h1.3m1.2 0h1.3m44.1 0h1.3M267.2 841.5h1.3m3.7 0h1.3m31.4 0h1.3m4.9 0h1.3m10 0h1.3m8.8 0h1.3m115.2 0h1.3m13.8 0h1.3m74.2 0h1.2m22.5 0h1.2m4.8 0h1.2m109.8 0h1.3M595.2 871.1h1.2m43.4 0h1.2m9.9 0h1.3M268.5 885.9h1.3m7.5 0h2.5m17.5 0h2.5m5.1 0h1.3m1.2 0h1.3m11.2 0h1.3m2.5 0h2.5m7.5 0h1.3m1.3 0h1.3m2.4 0h1.3m1.2 0h1.3m5.2 0h1.3m28.7 0h3.8m2.4 0h1.3m2.5 0h1.3m1.2 0h1.3m3.7 0h1.3m13.7 0h1.3m12.3 0h1.3m6.2 0h1.3m22.7 0h2.5m6.3 0h1.3m7.5 0h1.3m6 0h2.5m9.9 0h1.2m1.3 0h1.2m1.3 0h2.5m6.2 0h1.2m6.3 0h2.5m19.5 0h2.5m11.2 0h1.2m15.1 0h1.2m2.2 0h1.2m3.8 0h2.5m4.9 0h1.2m1.3 0h1.2m2.5 0h1.2m1.2 0h1.2m18.6 0h1.3m18.5 0h1.2m1.3 0h1.2m6.3 0h1.2m29.5 0h1.2m3.5 0h1.3m1.2 0h1.3m3.8 0h3.8m0.9 0h1.2M309.9 900.7h1.3m74 0h1.3m5 0h1.3m53.7 0h1.3m58.6 0h1.2m2.5 0h1.2m5 0h2.5m3.7 0h1.2m65.4 0h1.2m2.5 0h1.2m11 0h1.3m11.3 0h1.3m74.7 0h1.2M268.5 915.5h2.5m1.2 0h1.3m7.5 0h1.3m37.6 0h1.3m20.1 0h1.3m36.4 0h1.3m2.4 0h1.3m8.7 0h1.3m34.8 0h1.3m3.8 0h2.5m1.3 0h1.3m23.9 0h1.3m11.3 0h1.3m7.2 0h1.2m46 0h1.2m13.4 0h1.2m10.1 0h1.2m19.6 0h1.2m101.2 0h1.3M266 930.3h1.3m10 0h1.3m2.4 0h1.3m41.4 0h3.8m22.7 0h3.8m10 0h1.3m31.2 0h2.5m8.7 0h1.3m3.7 0h1.3m16.1 0h1.3m12.6 0h1.3m12.5 0h1.3m2.5 0h1.3m41 0h1.2m8.7 0h1.2m5 0h1.2m1.3 0h1.2m19.6 0h1.2m15.1 0h1.2m29.5 0h1.2m32.1 0h1.2m31.1 0h1.3m32.8 0h2.4" stroke="rgb(73,14,73)" stroke-width="15" fill="none"/>
<path d="M318.7 131.1h1.3m2.4 0h1.3m18.8 0h1.3m7.7 0h1.3m1.2 0h1.3m4.9 0h1.3m1.2 0h1.3m3.7 0h1.3m3.7 0h2.5m1.3 0h3.8m28.7 0h1.3m2.4 0h3.8m21.2 0h1.3m2.4 0h1.3m1.3 0h1.3m1.2 0h1.3m20.1 0h1.3m9.8 0h2.5m1.2 0h1.2m1.3 0h1.2m5 0h1.2m7.5 0h1.2m2.6 0h2.5m1.2 0h2.5m1.2 0h1.2m13.7 0h2.5m5.9 0h1.2m6.3 0h2.5m10 0h1.2m1.3 0h1.2m15.9 0h1.2m6.2 0h1.2m7.5 0h3.7m8.5 0h1.3m2.5 0h2.5m50.9 0h1.3M273.5 145.9h1.3m2.5 0h1.3m4.9 0h1.3m10 0h1.3m5 0h1.3m10 0h1.3m1.2 0h1.3m8.8 0h1.3m10 0h1.3m33.9 0h1.3m3.7 0h1.3m16.2 0h1.3m13.7 0h1.3m4.9 0h1.3m4.8 0h1.3m6.2 0h2.5m1.3 0h1.3m1.2 0h1.3m5 0h2.5m6.4 0h2.5m11.3 0h2.5m8.9 0h1.3m35.8 0h1.2m7.5 0h1.2m32.1 0h1.2m11.3 0h1.2m10.9 0h1.2m5 0h1.2m8.6 0h1.2m6.1 0h1.3m21.1 0h1.2m3.8 0h1.2m1.2 0h1.2m3.8 0h1.2m1.3 0h2.5m3.5 0h1.3m2.5 0h1.3m3.7 0h1.3m18.4 0h1.2M304.9 160.7h1.3m42.8 0h2.5m6.2 0h1.3m1.2 0h1.3m6.2 0h1.3m3.7 0h1.3m111.2 0h2.5m6.2 0h1.2m8.8 0h3.7m6.2 0h1.2m2.5 0h1.2m3.8 0h1.2m10.9 0h1.2m3.8 0h2.5m1.2 0h1.2m2.6 0h1.2m16.3 0h1.2m1.3 0h1.2m2.2 0h1.2m1.3 0h1.2m2.5 0h3.7m3.7 0h1.2m2.5 0h1.2m1.3 0h1.2m1.3 0h1.2m1.2 0h1.2m12.4 0h1.3m8.8 0h1.3m14.6 0h1.2m11.1 0h1.3M264.7 175.5h1.3m51.4 0h1.3m31.5 0h1.3m6.2 0h1.3m5 0h1.3m6.2 0h1.3m1.2 0h2.5m1.2 0h1.3m1.2 0h1.3m17.5 0h1.3m6.2 0h1.3m21 0h2.5m47.7 0h1.2m1.3 0h1.2m18.7 0h1.2m5 0h1.2m6.3 0h1.2m8.7 0h1.2m1.3 0h1.2m1.3 0h1.2m3.4 0h2.5m1.2 0h1.2m3.8 0h3.7m1.3 0h1.2m2.6 0h2.5m2.5 0h1.2m1.3 0h3.7m3.8 0h1.2m1 0h2.5m2.4 0h1.2m1.3 0h2.5m4.9 0h1.2m1.3 0h2.5m7.4 0h1.2m7.3 0h1.3m23.6 0h1.2m2.5 0h1.2m1.3 0h1.2m2.5 0h1.2m17.4 0h1.3M330 190.3h1.3m21.4 0h1.3m2.5 0h1.3m2.4 0h2.5m1.3 0h1.3m2.4 0h1.3m3.7 0h2.5m2.5 0h1.3m2.5 0h1.3m6.2 0h1.3m8.7 0h1.3m1.2 0h2.5m1.2 0h2.5m1.3 0h2.5m23.6 0h1.3m43.8 0h2.5m1.3 0h1.2m3.7 0h1.2m6.3 0h1.2m1.3 0h2.5m13.7 0h1.2m3.7 0h1.2m1.3 0h2.5m2.5 0h1.2m2.5 0h1.2m24.7 0h2.5m2.5 0h1.2m2.5 0h1.2m2.3 0h2.5m2.4 0h1.2m3.8 0h1.2m2.5 0h1.2m9.9 0h1.2m11.1 0h2.5m6.3 0h1.3m3.7 0h1.3m8.5 0h1.2m22.3 0h1.3m1.2 0h1.3M267.2 205.1h1.3m5 0h1.3m1.2 0h1.3m6.2 0h1.3m2.5 0h1.3m5 0h1.3m1.2 0h1.3m1.2 0h2.5m3.8 0h1.3m4.9 0h3.8m2.5 0h1.3m12.5 0h1.3m12.5 0h1.3m2.7 0h1.3m43.7 0h1.3m28.5 0h1.3m8.8 0h1.3m8.8 0h1.3m17.6 0h1.3m23.5 0h1.2m17.5 0h1.2m32 0h1.2m13.8 0h1.2m1.3 0h2.5m1.2 0h2.5m1.3 0h1.2m3.5 0h1.2m5 0h1.2m2.5 0h1.2m1.2 0h1.2m1.3 0h2.5m1.2 0h1.2m18.5 0h1.3m6.3 0h1.3m28.2 0h5m2.5 0h1.3m1.2 0h7.6m9.6 0h1.2m3.5 0h1.3m2.5 0h2.5m2.6 0h1.3m8.1 0h1.2M321.2 219.9h1.3m42.7 0h1.3m41.2 0h1.3M537.1 234.7h1.2m3.8 0h1.2m5 0h1.2m17.6 0h1.2M267.2 249.5h5m1.3 0h2.5m1.3 0h1.3m2.4 0h1.3m5 0h2.5m2.5 0h1.3m3.7 0h2.5m1.3 0h1.3m2.5 0h1.3m3.7 0h1.3m7.5 0h1.3m15 0h2.5m1.3 0h2.5m15.2 0h1.3m1.2 0h1.3m2.4 0h2.5m11.3 0h1.3m3.7 0h2.5m3.7 0h1.3m1.2 0h3.8m3.7 0h1.3m7.5 0h1.3m3.7 0h1.3m1.2 0h2.5m3.5 0h1.3m12.6 0h2.5m3.8 0h1.3m7.5 0h1.3m2.5 0h1.3m1.2 0h2.5m1.3 0h1.3m2.5 0h1.3m8.8 0h1.3m18.4 0h1.2m1.3 0h1.2m3.7 0h2.5m1.3 0h1.2m1.3 0h2.5m3.7 0h1.2m1.3 0h2.5m1.2 0h2.5m2.5 0h1.2m15.8 0h2.5m2.5 0h2.5m11.3 0h1.2m12.2 0h2.5m35.8 0h1.3m2.5 0h1.3m8.5 0h1.2m2.5 0h1.2m19.8 0h1.3m1.2 0h1.3m1.2 0h2.5m21.9 0h1.3m1.3 0h1.3m1.2 0h3.8m0.9 0h1.2m2.4 0h1.2m1.2 0h1.2M264.7 264.3h1.3m10 0h1.3m2.5 0h1.3m3.7 0h1.3m2.5 0h2.5m3.7 0h1.3m2.5 0h1.3m6.2 0h2.5m3.8 0h3.8m2.5 0h1.3m3.7 0h1.3m3.7 0h1.3m2.5 0h1.3m2.5 0h1.3m11.4 0h2.5m1.2 0h1.3m1.2 0h1.3m1.2 0h1.3m8.7 0h1.3m7.5 0h1.3m1.2 0h1.3m3.7 0h1.3m7.4 0h1.3m3.7 0h1.3m1.2 0h1.3m1.2 0h1.3m3.7 0h1.3m1.2 0h1.3m6 0h1.3m1.2 0h1.3m2.5 0h1.3m1.2 0h1.3m1.2 0h1.3m1.3 0h1.3m1.2 0h1.3m2.5 0h1.3m5 0h1.3m2.5 0h2.5m2.5 0h2.5m2.5 0h1.3m3.8 0h1.3m8.8 0h1.3m1.2 0h2.5m4.7 0h1.2m3.8 0h1.2m7.5 0h1.2m2.5 0h2.5m1.3 0h1.2m2.5 0h1.2m5 0h2.5m12.4 0h1.2m4.7 0h1.2m3.8 0h2.5m3.7 0h1.2m1.3 0h5m2.5 0h1.2m1.3 0h1.2m3.8 0h5m9.6 0h1.2m8.7 0h1.2m1.3 0h1.2m5 0h1.2m6 0h1.3m5 0h2.5m17.4 0h1.2m23.5 0h1.3m2.5 0h1.3m1.2 0h1.3m20.6 0h1.3m1.3 0h2.5m2.1 0h1.2m2.4 0h1.2M289.8 279.1h1.3m40.1 0h1.3m61.5 0h1.3m67.6 0h2.5m37.2 0h1.2m16.2 0h1.2m17.1 0h1.2m76.9 0h1.3M266 293.9h1.3m20 0h1.3m1.2 0h1.3m2.5 0h1.3m2.4 0h2.5m2.6 0h1.3m10 0h1.3m1.2 0h1.3m46.5 0h1.3m32.4 0h1.3m1.2 0h1.3m3.7 0h1.3m14.8 0h1.3m3.7 0h1.3m2.5 0h1.3m5 0h1.3m18.9 0h1.3m10 0h2.5m5.1 0h1.3m3.4 0h2.5m3.8 0h1.2m29.8 0h1.2m2.6 0h1.2m25.8 0h1.2m8.8 0h1.2m30.8 0h2.5m23.6 0h1.3m34.4 0h1.3m16 0h1.2m20.6 0h1.2M269.7 308.7h1.3m27.6 0h1.3m47.8 0h1.3m6.2 0h2.5m10 0h1.3m8.7 0h1.3m2.5 0h2.5m1.2 0h1.3m1.2 0h3.8m2.5 0h2.5m7.5 0h2.5m1.2 0h1.3m70 0h1.2m37.3 0h1.2m10 0h1.2m7.2 0h1.2m10 0h2.5m3.8 0h1.2m1.3 0h1.2m1.3 0h2.5m1.2 0h1.2m14.7 0h2.5m40.7 0h1.2m3.8 0h1.2m17.2 0h1.3m1.2 0h1.3m2.5 0h1.3m2.5 0h1.3m1.2 0h2.5m3.5 0h1.2m5 0h1.2M272.2 323.5h1.3m2.5 0h3.8m2.5 0h1.3m1.2 0h1.3m3.7 0h2.5m1.3 0h1.3m3.7 0h1.3m1.2 0h1.3m1.2 0h1.3m2.5 0h1.3m6.2 0h5m2.5 0h1.3m6.3 0h1.3m1.2 0h1.3m2.5 0h1.3m1.2 0h6.3m2.6 0h1.3m3.7 0h1.3m1.2 0h1.3m23.7 0h1.3m7.5 0h1.3m7.4 0h1.3m24.8 0h1.3m1.2 0h2.5m15.2 0h1.3m5 0h1.3m6.2 0h2.5m3.8 0h2.5m3.8 0h1.3m8.5 0h1.2m1.3 0h1.2m11.3 0h1.2m28.6 0h1.2m15.9 0h1.2m21.3 0h1.2m8.4 0h1.2m12.4 0h2.5m3.7 0h1.2m30.9 0h1.2m2.6 0h1.2m13.5 0h2.5m1.2 0h1.3m7.6 0h1.3m5.9 0h2.5m3.7 0h4.9m3.5 0h1.3m3.8 0h1.3m1.2 0h1.3m0.9 0h2.4m1.2 0h1.2m1.2 0h1.2M282.3 338.3h1.3m20 0h1.3m8.8 0h1.3m20 0h1.3m11.4 0h2.5m1.3 0h1.3m3.7 0h1.3m7.4 0h2.5m1.3 0h1.3m4.9 0h1.3m3.7 0h1.3m1.2 0h1.3m1.2 0h1.3m1.2 0h1.3m1.2 0h2.5m6.3 0h3.8m3.7 0h3.8m3.7 0h1.3m121.8 0h1.2m13.8 0h1.2m1.3 0h1.2m6.3 0h1.2m1.3 0h1.2m9.7 0h1.2m4.9 0h1.2m6.3 0h1.2m4.9 0h2.5m25.9 0h1.2m1.3 0h2.5m1.3 0h1.2m1.2 0h2.5m23.6 0h1.3m9.7 0h1.2M370.2 353.1h1.3m17.5 0h1.3m7.4 0h2.5m3.8 0h1.3m1.2 0h1.3m74.9 0h1.2m1.3 0h2.5m2.5 0h6.2m13.7 0h1.2m5 0h1.2m59.2 0h1.2m1.3 0h1.2m3.7 0h1.2m14.7 0h1.3m2.4 0h1.3m22.4 0h1.2M266 367.9h1.3m4.9 0h1.3m20.1 0h1.3m28.8 0h1.3m18.8 0h1.3m5.1 0h1.3m25 0h1.3m6.2 0h1.3m3.7 0h3.8m7.4 0h1.3m22.3 0h1.3m2.5 0h1.3m66.3 0h1.2m1.2 0h1.2m5.1 0h1.2m11.2 0h2.5m12.4 0h1.2m43.1 0h3.7m2.4 0h1.2m6.3 0h1.2m22.3 0h1.3m37 0h1.3m39 0h1.2M349 382.7h1.3m1.2 0h1.3m8.7 0h1.3m33.7 0h1.3m107.3 0h1.2m66.7 0h1.2m14.9 0h1.2m2.5 0h1.2m7.2 0h1.3m1.2 0h1.3m2.5 0h3.8m7.6 0h1.3M266 397.5h1.3m4.9 0h1.3m2.5 0h1.3m13.8 0h1.3m1.2 0h1.3m15 0h1.3m1.2 0h1.3m1.2 0h1.3m5 0h1.3m2.5 0h1.3m11.2 0h1.3m2.5 0h1.3m6.4 0h1.3m6.2 0h1.3m1.2 0h1.3m8.7 0h1.3m16.2 0h1.3m24.9 0h1.3m28.7 0h1.3m29 0h1.3m10.9 0h2.5m1.2 0h1.2m3.8 0h2.5m10 0h2.5m4.9 0h1.2m5 0h1.2m5 0h1.2m5.1 0h1.2m3.4 0h1.2m2.5 0h1.2m2.6 0h2.5m6.2 0h1.2m3.8 0h1.2m2.6 0h1.2m18.3 0h1.2m1.3 0h1.2m6.2 0h1.2m42.1 0h1.2m2.6 0h1.2m6 0h3.8m7.6 0h1.3m14.5 0h1.2M316.2 412.3h1.3m32.7 0h1.3m17.5 0h2.5m20 0h1.3m1.2 0h1.3m11.2 0h1.3m6.2 0h1.3m2.2 0h1.3m55.4 0h1.3m89.1 0h1.2m7.2 0h1.2m5 0h1.2m3.7 0h2.5m8.6 0h2.5m3.5 0h1.3M267.2 427.1h1.3m3.7 0h1.3m8.8 0h2.5m6.3 0h1.3m2.4 0h2.5m1.3 0h5m1.3 0h1.3m11.2 0h1.3m6.3 0h1.3m21.4 0h1.3m12.5 0h1.3m2.4 0h1.3m3.7 0h1.3m3.7 0h2.5m3.8 0h1.3m1.2 0h11.3m6.2 0h1.3m8.7 0h1.3m2.4 0h1.3m26.2 0h1.3m22.7 0h1.3m2.4 0h1.3m2.5 0h1.3m1.2 0h1.3m1 0h2.5m1.2 0h1.2m1.3 0h1.2m1.3 0h2.5m2.5 0h1.2m3.7 0h2.5m1.3 0h1.2m5 0h2.5m1.2 0h1.2m1.3 0h2.5m2.5 0h1.2m2.5 0h1.2m2.5 0h1.2m2.6 0h1.2m10.9 0h1.2m32.2 0h1.2m11.1 0h1.2m70.7 0h1.3m10.8 0h1.2m3.5 0h1.3M282.3 441.9h1.3m20 0h1.3m32.6 0h1.3m13.9 0h1.3m11.2 0h1.3m3.7 0h1.3m21.2 0h1.3m2.5 0h1.3m7.4 0h1.3m3.7 0h1.3m3.7 0h1.3m84.9 0h2.5m53.2 0h1.2m14.7 0h1.2m2.5 0h1.2m5 0h1.2m2.5 0h1.2m8.7 0h1.2m9.8 0h1.3M399 456.7h1.3m36.1 0h2.5m7.6 0h1.3m56.1 0h1.2m66.7 0h1.2m3.7 0h3.7m1.2 0h1.2m2.6 0h1.2m9.9 0h1.2M268.5 471.5h1.3m7.5 0h1.3m3.7 0h1.3m11.2 0h1.3m15 0h1.3m319.9 0h1.2M264.7 486.3h1.3m3.7 0h1.3m7.5 0h2.5m15.1 0h1.3m1.2 0h1.3m2.5 0h1.3m6.2 0h1.3m2.5 0h1.3m4.9 0h1.3m5 0h2.5m1.3 0h2.5m6.3 0h1.3m3.7 0h1.3m21.4 0h2.5m15 0h1.3m7.4 0h1.3m16.2 0h2.5m8.6 0h1.3m3.7 0h1.3m16.4 0h1.3m6.2 0h1.3m10.1 0h1.3m39.7 0h1.2m1.3 0h1.2m19.9 0h1.2m48 0h1.2m48.2 0h1.2m1.3 0h1.2m16 0h2.5m5.1 0h1.3m9.7 0h1.2m8.7 0h1.2m15.7 0h1.2M277.3 501.1h1.3m26.3 0h1.3m3.7 0h1.3m10 0h1.3m5 0h1.3m15 0h1.3M313.7 515.9h1.3m2.4 0h1.3m21.3 0h1.3m8.9 0h1.3m132.5 0h1.2m31.1 0h2.5m114.8 0h1.2M671.8 530.7h1.2M264.7 545.5h2.5m1.3 0h3.8m2.4 0h3.8m3.8 0h1.3m10 0h3.8m2.5 0h2.5m2.5 0h1.3m1.2 0h3.8m1.2 0h1.3m1.2 0h1.3m1.2 0h1.3m1.2 0h3.8m1.3 0h1.3m2.4 0h1.3m1.2 0h1.3m6.3 0h1.3m4.9 0h1.3m1.4 0h1.3m1.2 0h2.5m13.8 0h1.3m3.7 0h2.5m6.2 0h1.3m11.2 0h1.3m1.2 0h3.8m1.2 0h1.3m8.7 0h3.8m3.5 0h1.3m7.5 0h1.3m1.2 0h2.5m1.3 0h1.3m1.2 0h1.3m5 0h5m2.6 0h1.3m2.5 0h1.3m3.7 0h1.3m3.8 0h1.3m1.2 0h1.3m5 0h2.5m6 0h1.2m2.6 0h1.2m2.5 0h2.5m2.5 0h1.2m6.2 0h1.2m2.6 0h3.7m2.5 0h3.7m11.2 0h1.2m3.8 0h2.5m2.1 0h3.7m5 0h1.2m2.6 0h1.2m6.3 0h1.2m3.8 0h2.5m5 0h1.2m1 0h1.2m2.5 0h1.2m1.3 0h2.5m3.6 0h2.5m3.7 0h1.2m1.3 0h1.2m11 0h2.5m59.4 0h1.2m1.3 0h1.2m3.7 0h1.2m7.3 0h1.3m2.5 0h3.8m0.9 0h6M271 575.1h1.3m8.7 0h1.3m22.6 0h1.3m15 0h1.3m8.7 0h3.8m2.5 0h1.3m8.9 0h1.3m10 0h1.3m2.4 0h1.3m8.7 0h3.8m6.2 0h1.3m1.2 0h1.3m12.5 0h1.3m2.4 0h2.5m2.5 0h1.3m3.7 0h2.5m3.6 0h1.3m1.2 0h1.3m1.2 0h1.3m2.5 0h1.3m5 0h2.5m1.3 0h1.3m2.4 0h1.3m1.3 0h1.3m1.2 0h1.3m1.2 0h1.3m6.3 0h1.3m1.2 0h1.3m2.5 0h2.5m2.5 0h1.3m1.2 0h1.3m9.8 0h2.5m8.7 0h1.2m8.7 0h1.2m5 0h1.2m1.3 0h1.2m10 0h1.2m10.9 0h1.2m2.5 0h1.2m7.6 0h2.5m8.7 0h1.2m1.3 0h1.2m2.6 0h1.2m3.5 0h2.5m11.1 0h2.5m4.9 0h1.2m3.7 0h1.2m2.3 0h1.3m6.3 0h1.3m3.7 0h1.3m2.5 0h1.3m1.2 0h1.3m1.2 0h1.3m9.7 0h1.2m2.5 0h2.5m6 0h1.3m1.2 0h1.3m2.5 0h1.3m13.5 0h2.5m1.2 0h1.2m12.3 0h1.3m2.5 0h2.5m2.1 0h2.4m1.2 0h1.2M309.9 589.9h1.3m1.2 0h1.3m1.2 0h1.3m13.8 0h1.3m5 0h1.3m6.2 0h1.3m6.4 0h1.3m6.2 0h1.3m90 0h1.3m36.1 0h1.2m8.7 0h1.2m57 0h1.2m109.9 0h1.2M278.5 604.7h1.3m10 0h1.3m8.8 0h2.5m3.7 0h1.3m1.2 0h1.3m10 0h2.5m12.6 0h2.5m66.5 0h1.3m58.8 0h1.3m6.3 0h1.3m62.8 0h1.2m1.3 0h1.2m2.6 0h1.2m3.8 0h1.2m71.8 0h1.3m38.3 0h1.3m21.8 0h1.3M302.4 619.5h1.3m52.8 0h1.3m64.7 0h1.3m148 0h1.2m2.5 0h1.2M418.8 634.3h1.3m1.2 0h1.3m3.7 0h1.3m3.8 0h1.3m2.4 0h1.3m1.3 0h1.3m2.4 0h1.3m1.3 0h1.3m8.8 0h1.3m6.2 0h1.3m1.2 0h1.3m2.5 0h1.3m159.4 0h1.2m3.8 0h1.2m33.3 0h2.5M420 649.1h1.3m7.5 0h3.8m1.3 0h1.3m1.2 0h2.5m1.3 0h1.3m3.7 0h1.3m6.3 0h1.3m2.5 0h1.3m3.7 0h1.3m1.2 0h2.5m1.3 0h1.3m154.4 0h1.2m2.6 0h1.2m2.5 0h5M426.3 663.9h1.3m7.5 0h1.3m20.2 0h2.5m2.5 0h1.3m5 0h1.3M272.2 678.7h2.5m13.9 0h2.5m2.5 0h3.8m15 0h1.3m7.5 0h1.3m1.2 0h1.3m24 0h1.3m11.2 0h1.3m1.2 0h1.3m2.4 0h1.3m26.2 0h1.3m3.7 0h1.3m16 0h1.3m1.2 0h2.5m2.6 0h1.3m1.2 0h2.5m1.3 0h1.3m3.7 0h1.3m7.5 0h2.5m5.1 0h3.8m7.5 0h2.5m2.6 0h1.3m2.5 0h2.5m1.2 0h1.3m64.1 0h1.2m1.3 0h1.2m140.8 0h1.3m3.3 0h1.2M288.6 693.5h2.5m38.9 0h1.3m6.2 0h1.3m11.4 0h2.5m5 0h1.3m1.2 0h1.3m8.7 0h2.5m3.8 0h1.3m28.7 0h1.3m1.2 0h1.3m8.5 0h2.5m1.2 0h1.3m1.3 0h1.3m17.6 0h1.3m5 0h2.5m23.9 0h1.3m3.5 0h1.2m43.5 0h1.2m133.5 0h1.3m8.4 0h1.2M466.7 723.1h1.3m209.8 0h2.5m10.9 0h1.2M267.2 737.9h1.3m7.5 0h1.3m2.5 0h2.5m1.2 0h1.3m15.1 0h1.3m1.2 0h1.3m10 0h1.3m7.4 0h1.3m1.3 0h1.3m3.7 0h1.3m13.7 0h1.3m20.2 0h1.3m8.7 0h1.3m28.7 0h1.3m22.3 0h1.3m7.5 0h3.8m1.3 0h1.3m1.2 0h1.3m12.6 0h2.5m1.2 0h3.8m3.8 0h2.5m1.3 0h1.3m10.9 0h1.2m18.7 0h1.2m5 0h1.2m12.5 0h2.5m1.2 0h1.2m9.7 0h1.2m2.5 0h1.2m7.6 0h2.5m17.1 0h1.2m16.1 0h1.2m39.6 0h1.2m16.1 0h1.3m1.2 0h2.5m1.3 0h3.8m1.2 0h1.3m7.2 0h1.2m24.2 0h1.2M306.1 752.7h1.3m11.3 0h1.3m34 0h1.3m2.4 0h2.5m7.5 0h1.3m2.5 0h1.3m21.2 0h1.3m81.4 0h1.3m12.2 0h1.2m38.6 0h1.2m4.6 0h1.2m21.3 0h1.2m32 0h1.2m1.3 0h1.2m13.6 0h1.3m68.9 0h1.3M359 767.5h1.3m6.2 0h1.3m54.7 0h1.3m29 0h1.3m139.9 0h2.5m48.1 0h1.3M432.6 782.3h1.3m15.1 0h1.3m238.5 0h1.2m1.2 0h1.2M266 797.1h1.3m1.2 0h1.3m11.2 0h2.5m3.8 0h1.3m2.5 0h1.3m6.2 0h2.5m1.3 0h1.3m1.2 0h1.3m2.4 0h1.3m3.8 0h1.3m1.2 0h1.3m1.2 0h1.3m3.7 0h1.3m6.2 0h1.3m1.2 0h1.3m3.8 0h1.3m27.6 0h2.5m6.3 0h1.3m6.2 0h1.3m1.2 0h2.5m2.5 0h1.3m1.2 0h1.3m2.4 0h6.3m3.7 0h5m6.1 0h1.3m11.3 0h1.3m2.4 0h1.3m3.8 0h2.5m1.3 0h5m5.1 0h1.3m12.5 0h1.3m6.3 0h1.3m5.9 0h1.2m1.3 0h2.5m1.2 0h1.2m3.8 0h1.2m6.3 0h1.2m3.8 0h2.5m2.4 0h1.2m1.3 0h1.2m5 0h3.7m7.5 0h1.2m4.7 0h1.2m1.3 0h1.2m3.8 0h7.5m2.5 0h2.5m2.5 0h3.7m3.8 0h1.2m1 0h1.2m2.5 0h1.2m1.3 0h1.2m2.5 0h1.2m5 0h1.2m1.2 0h1.2m1.3 0h1.2m7.2 0h1.3m1.2 0h1.3m10.1 0h1.3m2.5 0h1.3m8.4 0h1.2m23.6 0h1.3m13.5 0h1.2m4.9 0h1.2m4.8 0h1.3m3.7 0h3.8M371.5 811.9h1.3m34.9 0h1.3m48.8 0h1.3M693.6 826.7h1.2M316.2 841.5h1.3m132.8 0h1.3m74.6 0h1.2M649.6 871.1h1.3m2.5 0h1.3m5 0h1.3M273.5 885.9h1.3m1.2 0h1.3m18.8 0h1.3m11.2 0h1.3m5 0h1.3m5 0h1.3m27.7 0h1.3m12.5 0h1.3m27.4 0h1.3m13.7 0h3.8m3.7 0h1.3m2.3 0h1.3m3.7 0h1.3m15.1 0h1.3m1.2 0h1.3m1.2 0h1.3m3.8 0h1.3m12.5 0h1.3m2.5 0h1.3m3.8 0h1.3m13.4 0h1.2m15 0h1.2m1.3 0h1.2m6.2 0h1.2m3.8 0h1.2m2.5 0h1.2m7.5 0h1.2m2.2 0h1.2m6.3 0h1.2m1.3 0h1.2m18.8 0h2.5m10.8 0h1.2m14.9 0h1.2m3.5 0h1.3m2.5 0h2.5m2.5 0h2.5m6.4 0h1.3m20.9 0h1.2m21.1 0h1.3m15.6 0h1.3m1.2 0h1.3M319.9 900.7h1.3m182.7 0h1.2m10 0h1.2m60.4 0h1.2m30.9 0h1.3m38.2 0h1.3m5 0h1.3M273.5 915.5h1.3m22.5 0h1.3m1.3 0h1.3m17.5 0h1.3m32.7 0h1.3m1.2 0h1.3m32.5 0h1.3m16.2 0h1.3m12.2 0h1.3m8.8 0h1.3m34 0h1.3m38.4 0h1.2m70.4 0h1.2m22.1 0h1.3m32.3 0h1.2m41.7 0h1.3m14.6 0h1.2M264.7 930.3h1.3m25.1 0h1.3m7.5 0h1.3m1.2 0h1.3m27.5 0h1.3m21.5 0h1.3m1.2 0h1.3m3.7 0h1.3m2.4 0h1.3m2.5 0h1.3m2.4 0h1.3m6.2 0h1.3m6.2 0h1.3m3.7 0h1.3m5 0h1.3m1.2 0h1.3m1.2 0h1.3m6.2 0h1.3m4.7 0h1.3m22.6 0h1.3m16.4 0h1.3m23.6 0h1.2m13.7 0h1.2m39.5 0h1.2m5 0h1.2m16.3 0h1.2m7.3 0h1.2m23.5 0h1.2m2.3 0h1.3m24.8 0h1.2m32.4 0h1.3m4.7 0h1.2m25.5 0h1.2" stroke="rgb(40,8,40)" stroke-width="15" fill="none"/>
<path d="M302.4 131.1h1.3m25 0h1.3m5 0h1.3m7.5 0h1.3m2.6 0h1.3m3.7 0h1.3m1.2 0h1.3m1.2 0h1.3m2.5 0h1.3m1.2 0h2.5m2.5 0h3.8m2.4 0h1.3m3.7 0h2.5m3.8 0h5m2.5 0h5m1.2 0h1.3m2.5 0h1.3m2.4 0h1.3m60.2 0h1.3m1.2 0h1.3m11 0h1.2m1.3 0h5m2.4 0h6.2m1.3 0h1.2m3.8 0h1.2m11.2 0h1.2m1.3 0h1.2m13.3 0h1.2m3.8 0h1.2m2.6 0h3.7m2.5 0h1.2m6.3 0h1.2m1.3 0h1.2m1.3 0h1.2m1.3 0h2.5m1 0h1.2m1.3 0h1.2m2.5 0h1.2m1.2 0h2.5m2.5 0h6.2m4.9 0h1.2m1.3 0h1.2m3.5 0h1.3m11.3 0h1.3m12.3 0h1.2m3.7 0h1.2m22.4 0h1.3m3.7 0h1.3m7.2 0h2.5M274.7 145.9h1.3m2.5 0h1.3m1.2 0h1.3m8.8 0h2.5m3.7 0h1.3m1.3 0h1.3m3.7 0h2.5m2.5 0h1.3m2.5 0h1.3m2.4 0h1.3m3.7 0h1.3m2.5 0h2.5m1.3 0h1.3m3.7 0h1.3m3.7 0h1.3m1.2 0h2.5m11.5 0h2.5m2.5 0h1.3m9.9 0h1.3m1.2 0h1.3m1.2 0h3.8m3.7 0h1.3m1.2 0h5m8.8 0h6.3m3.7 0h1.3m4.7 0h1.3m1.2 0h1.3m1.2 0h1.3m2.5 0h2.5m15.2 0h3.8m1.2 0h1.3m2.5 0h2.5m3.8 0h2.5m5.1 0h1.3m3.7 0h1.3m6 0h2.5m2.5 0h1.2m1.3 0h1.2m1.2 0h1.2m1.3 0h2.5m2.5 0h2.5m5 0h1.2m3.7 0h3.7m1.3 0h1.2m8.8 0h3.7m2.5 0h3.7m4.6 0h1.2m2.6 0h1.2m7.5 0h1.2m1.3 0h1.2m2.6 0h1.2m6.3 0h1.2m3.5 0h1.2m3.7 0h2.5m4.9 0h3.7m3.8 0h1.2m1.2 0h3.7m27.2 0h2.5m1.2 0h3.7m1.3 0h1.2m2.5 0h2.5m7.3 0h1.3m6.2 0h2.5m1.3 0h2.5m1.3 0h1.3m7.1 0h1.2m3.7 0h1.2m4.8 0h1.3m1.3 0h1.3m5.9 0h1.2m4.8 0h1.2M269.7 160.7h1.3m80.5 0h1.3m3.7 0h1.3m1.2 0h1.3m1.2 0h1.3m2.4 0h1.3m2.5 0h1.3m1.2 0h1.3m8.7 0h2.5m1.2 0h3.8m13.7 0h1.3m5 0h1.3m2.4 0h2.5m17.4 0h1.3m25.2 0h1.3m38.5 0h1.2m7.5 0h1.2m1.3 0h1.2m5 0h1.2m1.3 0h1.2m3.8 0h1.2m2.5 0h5m3.3 0h1.2m1.3 0h1.2m2.6 0h1.2m7.5 0h2.5m3.8 0h1.2m3.8 0h2.5m4.7 0h1.2m1.3 0h1.2m2.5 0h1.2m12.4 0h1.2m6.2 0h1.2m19.9 0h1.3m12.2 0h1.2m16 0h1.3m6.3 0h1.3m3.7 0h1.3M267.2 175.5h1.3m15 0h2.5m36.4 0h1.3m25.3 0h1.3m1.2 0h3.8m4.9 0h3.8m3.7 0h2.5m2.5 0h1.3m2.5 0h1.3m1.2 0h1.3m1.2 0h3.8m2.4 0h6.3m2.5 0h2.5m1.2 0h2.5m5 0h1.3m1.2 0h2.5m2.5 0h1.3m66.2 0h3.7m11.2 0h1.2m5.1 0h2.5m2.4 0h1.2m1.3 0h3.7m1.3 0h2.5m2.5 0h2.5m2.4 0h1.2m1.3 0h1.2m1.3 0h2.5m3.4 0h1.2m1.3 0h3.7m3.8 0h1.2m1.3 0h2.5m2.5 0h2.5m1.2 0h1.2m3.8 0h1.2m1.3 0h1.2m4.8 0h1.2m2.5 0h1.2m2.5 0h1.2m8.7 0h2.5m12.1 0h1.3m11.4 0h1.3m4.7 0h3.7m5 0h1.2m2.5 0h1.2m1.3 0h1.2m2.6 0h1.2m8.6 0h2.5M347.7 190.3h2.5m3.8 0h1.3m3.7 0h1.3m8.7 0h2.5m7.5 0h1.3m23.7 0h1.3m6.2 0h1.3m1.2 0h1.3m63.7 0h1.2m5 0h3.7m2.5 0h1.2m2.6 0h1.2m1.2 0h1.2m2.6 0h1.2m5 0h1.2m1.3 0h1.2m1.3 0h2.5m2.4 0h2.5m12.5 0h1.2m2.1 0h1.2m1.3 0h1.2m10.1 0h1.2m2.5 0h3.7m2.6 0h1.2m11 0h2.5m6.1 0h1.2m2.5 0h1.2m1.3 0h1.2m1.3 0h2.5m3.6 0h2.5m3.5 0h5m3.8 0h1.3m1.3 0h2.5m3.8 0h1.3M264.7 205.1h2.5m1.3 0h1.3m8.7 0h1.3m1.2 0h2.5m1.3 0h1.3m8.7 0h1.3m1.2 0h1.3m2.5 0h3.8m5 0h1.3m5 0h1.3m6.2 0h1.3m1.2 0h1.3m1.2 0h2.5m1.3 0h3.8m1.2 0h1.3m1.2 0h2.5m5.2 0h1.3m1.2 0h1.3m2.5 0h1.3m4.9 0h1.3m8.7 0h1.3m1.2 0h1.3m3.7 0h1.3m3.7 0h1.3m12.5 0h1.3m1.2 0h1.3m7.4 0h2.5m3.8 0h1.3m7.2 0h1.3m13.9 0h1.3m6.2 0h1.3m11.3 0h1.3m6.3 0h1.3m1.2 0h1.3m2.5 0h2.5m4.8 0h1.2m3.8 0h1.2m5 0h1.2m1.3 0h1.2m1.3 0h11.2m2.4 0h2.5m2.5 0h2.5m3.7 0h2.5m1.3 0h1.2m1.2 0h7.5m0.9 0h5m1.2 0h1.2m2.6 0h5m3.7 0h1.2m8.8 0h1.2m1.3 0h1.2m3.5 0h2.5m3.7 0h2.5m3.7 0h1.2m5 0h2.5m2.4 0h1.2m1.3 0h1.2m4.8 0h1.3m15.1 0h1.3m23.1 0h1.3m5 0h1.3m16 0h1.2m1.3 0h1.2m3.7 0h1.2m11.1 0h1.3m2.1 0h1.2m2.4 0h1.2M366.5 219.9h2.5M510.1 234.7h1.2m45.8 0h1.2m2.5 0h1.2m3.8 0h1.2M266 249.5h1.3m8.7 0h1.3m1.2 0h1.3m2.5 0h1.3m1.2 0h2.5m2.5 0h2.5m2.5 0h2.5m2.6 0h1.3m2.4 0h1.3m2.5 0h2.5m2.5 0h2.5m1.3 0h1.3m2.4 0h11.3m1.3 0h2.5m2.5 0h1.3m2.5 0h2.5m5.2 0h7.5m1.2 0h1.3m6.2 0h1.3m1.2 0h5m5 0h3.8m2.5 0h3.8m6.2 0h1.3m3.7 0h3.8m2.4 0h1.3m3.7 0h1.3m1.2 0h1.3m7.3 0h3.8m1.2 0h2.5m2.6 0h1.3m3.7 0h3.8m1.2 0h1.3m2.5 0h3.8m5.1 0h1.3m6.2 0h1.3m3.8 0h1.3m1.2 0h3.8m1.2 0h2.5m7.3 0h2.5m1.2 0h1.2m2.5 0h1.2m1.3 0h1.2m2.5 0h1.2m3.8 0h1.2m1.3 0h1.2m2.5 0h3.7m5 0h1.2m2.6 0h2.5m1.2 0h5m1.2 0h2.5m0.9 0h1.2m1.3 0h2.5m3.7 0h1.2m3.8 0h2.5m2.5 0h3.7m1.3 0h1.2m1.3 0h6.2m2.3 0h1.2m1.3 0h1.2m4.9 0h1.2m1.3 0h1.2m1.3 0h2.5m1.2 0h1.2m1.3 0h1.2m4.9 0h1.2m23.7 0h1.3m1 0h1.2m21 0h2.5m1.2 0h1.3m1.3 0h1.3m13.5 0h1.2m3.7 0h1.2m2.5 0h1.2m1 0h2.5m3.8 0h1.3m9.5 0h1.2M266 264.3h1.3m1.2 0h2.5m6.3 0h1.3m2.4 0h1.3m1.2 0h1.3m2.5 0h1.3m2.5 0h1.3m1.2 0h1.3m1.2 0h1.3m3.7 0h1.3m2.5 0h1.3m2.4 0h3.8m3.8 0h1.3m2.4 0h3.8m3.8 0h1.3m4.9 0h1.3m5 0h1.3m2.5 0h2.5m1.4 0h1.3m7.5 0h1.3m1.2 0h3.8m8.7 0h1.3m1.2 0h2.5m1.2 0h1.3m1.2 0h3.8m5 0h1.3m8.7 0h1.3m4.9 0h2.5m1.3 0h1.3m1.2 0h2.5m1.2 0h1.3m8.6 0h1.3m1.2 0h1.3m3.7 0h1.3m1.2 0h2.5m5.1 0h1.3m6.3 0h1.3m3.7 0h2.5m1.3 0h3.8m1.2 0h3.8m2.5 0h1.3m7.3 0h2.5m3.7 0h2.5m1.2 0h1.2m1.3 0h5m1.2 0h1.2m10 0h1.2m2.6 0h1.2m3.7 0h1.2m1.3 0h1.2m1.3 0h2.5m5 0h1.2m1.3 0h1.2m2.1 0h3.7m3.8 0h1.2m2.6 0h1.2m12.5 0h2.5m6 0h2.5m1.2 0h2.5m3.7 0h1.2m1.2 0h3.7m1.3 0h1.2m5 0h2.5m5.9 0h1.3m3.8 0h1.3m1.2 0h1.3m10 0h1.3m12.2 0h1.2m13.5 0h1.3m2.5 0h1.3m2.5 0h2.5m1.3 0h1.3m31.4 0h1.2M264.7 279.1h1.3m18.8 0h2.5m46.4 0h1.3m6.3 0h1.3m102.6 0h1.3m15.1 0h1.3m16.1 0h1.2m17.4 0h1.2m25 0h1.2m3.7 0h1.2m43.1 0h2.5m76.6 0h1.3M284.8 293.9h1.3m6.2 0h1.3m1.2 0h1.3m27.6 0h1.3m2.5 0h1.3m1.2 0h1.3m30.2 0h1.3m21.2 0h1.3m8.7 0h1.3m1.2 0h1.3m1.2 0h1.3m9.9 0h1.3m11 0h1.3m1.3 0h1.3m20.1 0h5m6.3 0h1.3m5 0h1.3m1.3 0h1.3m3.7 0h1.3m35.8 0h1.2m1.3 0h1.2m1.3 0h1.2m7.5 0h1.2m22.1 0h2.5m37.1 0h1.2m27.2 0h1.3m49.3 0h2.5m1.2 0h1.2M351.5 308.7h3.8m6.2 0h1.3m2.4 0h2.5m2.5 0h5m3.8 0h2.5m10 0h1.3m4.9 0h1.3m1.2 0h2.5m3.8 0h1.3m4.9 0h2.5m33.8 0h1.3m6.3 0h1.3m26.1 0h1.2m1.3 0h1.2m46.9 0h2.5m2.5 0h1.2m3.8 0h3.7m2.5 0h3.7m7.6 0h1.2m6 0h1.2m43.3 0h1.3m14.8 0h1.2m13.5 0h1.3m1.2 0h1.3m5 0h2.5m7.3 0h1.2m8.6 0h1.2M266 323.5h3.8m10 0h2.5m1.2 0h1.3m1.2 0h1.3m5 0h1.3m1.2 0h3.8m1.3 0h1.3m3.7 0h2.5m1.2 0h1.3m1.2 0h1.3m1.3 0h1.3m4.9 0h2.5m1.3 0h1.3m1.2 0h1.3m3.7 0h1.3m1.2 0h2.5m8.8 0h1.3m2.7 0h1.3m9.9 0h2.5m2.5 0h1.3m3.7 0h1.3m1.2 0h5m1.3 0h1.3m2.4 0h2.5m5 0h2.5m1.3 0h2.5m7.5 0h2.5m1.2 0h1.3m1.2 0h3.8m1.2 0h1.3m1 0h1.3m1.2 0h1.3m1.2 0h1.3m5 0h1.3m3.8 0h2.5m1.3 0h3.8m1.2 0h1.3m1.2 0h1.3m10.1 0h1.3m2.5 0h2.5m11.3 0h3.8m1 0h1.2m5 0h1.2m2.5 0h2.5m5 0h1.2m3.8 0h2.5m1.2 0h1.2m3.8 0h1.2m7.5 0h1.2m2.5 0h1.2m5 0h1.2m4.7 0h5m1.2 0h1.2m1.3 0h1.2m1.3 0h1.2m1.3 0h1.2m1.3 0h1.2m5.1 0h1.2m1.3 0h5m1.2 0h1.2m8.5 0h1.2m3.7 0h1.2m1.3 0h1.2m38.3 0h1.2m12.5 0h2.5m2.5 0h1.2m4.8 0h1.3m1.2 0h1.3m1.2 0h1.3m1.2 0h2.5m1.3 0h2.5m2.3 0h1.2m2.5 0h1.2m9.7 0h1.3m2.5 0h2.5m1.3 0h1.3m6.9 0h1.2M294.8 338.3h1.3m25.1 0h1.3m1.2 0h1.3m11.3 0h1.3m12.6 0h1.3m2.5 0h2.5m1.2 0h1.3m2.5 0h1.3m4.9 0h1.3m1.2 0h1.3m5 0h1.3m1.2 0h1.3m6.2 0h1.3m1.2 0h1.3m3.7 0h2.5m6.2 0h1.3m1.2 0h1.3m5 0h2.5m1.2 0h1.3m65 0h1.2m11.2 0h1.2m8.8 0h1.2m12.4 0h1.2m17.1 0h1.2m10.1 0h5m15 0h1.2m1 0h1.2m3.7 0h1.2m1.3 0h1.2m2.5 0h1.2m2.5 0h3.7m6.2 0h1.2m3.5 0h1.3m1.2 0h1.3m19.9 0h1.2m5 0h1.2m10 0h2.5m2.3 0h1.3m7.5 0h1.3m18.3 0h1.2M274.7 353.1h1.3m83 0h1.3m123.7 0h1.2m2.5 0h2.5m6.2 0h1.2m1.3 0h1.2m1.3 0h1.2m2.5 0h1.2m98.7 0h2.5m7.6 0h1.3m14.7 0h1.2m2.5 0h1.2M292.3 367.9h1.3m55.4 0h1.3m3.7 0h2.5m48.7 0h1.3m22.3 0h1.3m6.3 0h1.3m10.1 0h1.3m5 0h1.3m28.6 0h1.2m27.4 0h3.7m9.9 0h1.2m14.7 0h1.2m30.9 0h1.2m89 0h1.2m29.2 0h1.2M271 382.7h1.3m132.9 0h1.3m34.9 0h1.3m126.6 0h3.7m1.2 0h1.2m1.3 0h2.5m12.3 0h1.2m2.5 0h1.2m2.3 0h1.3m2.5 0h1.3m1.2 0h2.5m5.1 0h1.3m3.7 0h1.3M267.2 397.5h3.8m7.5 0h1.3m7.5 0h1.3m1.2 0h1.3m5 0h1.3m1.2 0h1.3m5 0h1.3m4.9 0h1.3m3.8 0h1.3m10 0h2.5m2.5 0h3.8m7.5 0h2.5m1.4 0h1.3m1.2 0h2.5m2.5 0h1.3m1.2 0h1.3m2.5 0h2.5m3.7 0h1.3m2.5 0h1.3m1.2 0h1.3m1.2 0h1.3m2.4 0h1.3m2.5 0h1.3m2.4 0h2.5m1.3 0h2.5m2.5 0h3.8m1.2 0h1.3m3.7 0h1.3m1.2 0h1.3m3.7 0h1.3m6 0h1.3m2.5 0h1.3m21.4 0h1.3m18.8 0h2.5m8.6 0h1.2m1.3 0h3.7m5 0h3.7m2.5 0h3.7m1.3 0h1.2m1.3 0h2.5m3.7 0h3.7m1.3 0h1.2m1.2 0h2.5m2.5 0h2.5m3.7 0h1.2m5.9 0h1.2m1.3 0h1.2m3.8 0h1.2m2.6 0h1.2m3.8 0h1.2m1.3 0h1.2m3.8 0h2.5m1.2 0h1.2m1.3 0h2.5m7.2 0h1.2m2.5 0h1.2m5 0h1.2m6.2 0h2.5m11 0h1.3m10 0h1.3m7.2 0h1.2m5 0h1.2m2.6 0h1.2m7.3 0h1.3m10 0h1.3m1.2 0h1.3m7.2 0h1.2m6.2 0h1.2m6.1 0h1.3m1.2 0h3.8M271 412.3h1.3m47.6 0h1.3m50.3 0h1.3m1.2 0h2.5m22.5 0h1.3m1.2 0h1.3m4.9 0h1.3m6.2 0h1.3m14.9 0h1.3m34 0h1.3m23.4 0h1.2m74.5 0h1.2m1 0h1.2m1.3 0h1.2m2.5 0h1.2m3.7 0h1.2m1.3 0h1.2m2.5 0h1.2m1.3 0h1.2m2.5 0h1.2M269.7 427.1h1.3m13.8 0h3.8m1.2 0h1.3m25.1 0h1.3m1.2 0h1.3m20 0h1.3m3.7 0h1.3m8.9 0h1.3m3.7 0h1.3m2.5 0h1.3m2.4 0h2.5m7.5 0h2.5m2.5 0h1.3m11.2 0h1.3m2.5 0h1.3m2.4 0h3.8m7.5 0h1.3m11 0h1.3m11.3 0h1.3m3.8 0h1.3m1.2 0h1.3m38.7 0h1.2m2.5 0h1.2m2.5 0h1.2m8.8 0h2.5m18.6 0h1.2m2.5 0h1.2m10.9 0h1.2m2.6 0h1.2m1.3 0h1.2m1.3 0h3.7m19.7 0h1.2m2.5 0h1.2m13.6 0h1.2m6 0h2.5m3.8 0h2.5m6.3 0h2.5m56.7 0h1.2M277.3 441.9h1.3m2.4 0h1.3m18.8 0h1.3m6.2 0h1.3m1.2 0h1.3m10 0h1.3m45.3 0h1.3m6.2 0h1.3m4.9 0h1.3m11.2 0h1.3m1.2 0h1.3m15 0h1.3m81.1 0h1.2m76.6 0h2.5m3.7 0h2.5m6.2 0h1.2m2.5 0h1.2m1.2 0h1.2m14.9 0h1.3M271 456.7h1.3m32.6 0h1.3m32.6 0h1.3m3.7 0h1.3m6.4 0h2.5m33.7 0h1.3m91.2 0h1.2m89.1 0h1.2m2.5 0h2.5m3.7 0h1.2m5 0h1.2m1.3 0h1.2m1.2 0h1.2m1.3 0h2.5m3.5 0h1.3M266 471.5h1.3m7.4 0h1.3m20.1 0h2.5m1.3 0h1.3m1.2 0h2.5m21.3 0h1.3m20.2 0h1.3m8.7 0h1.3M266 486.3h1.3m7.4 0h1.3m8.8 0h1.3m2.5 0h1.3m13.7 0h1.3m3.7 0h1.3m1.2 0h2.5m3.8 0h2.5m2.5 0h2.5m3.8 0h1.3m2.5 0h1.3m2.5 0h1.3m2.4 0h1.3m7.7 0h2.5m6.2 0h1.3m11.2 0h1.3m1.2 0h1.3m22.5 0h1.3m9.9 0h1.3m16.1 0h1.3m1.2 0h1.3m5 0h2.5m12.6 0h1.3m2.5 0h3.8m1.2 0h1.3m1.3 0h1.3m10 0h1.3m11 0h1.2m23.6 0h1.2m8.8 0h1.2m11.2 0h2.5m8.4 0h1.2m7.5 0h1.2m12.6 0h1.2m13.4 0h2.5m1.2 0h1.2m7.4 0h1.2m19.9 0h1.3m20.9 0h1.2m3.8 0h1.2m9.9 0h1.3m14.7 0h1.2m8.4 0h2.5M266 501.1h1.3m23.8 0h1.3m16.2 0h1.3m2.5 0h1.3m17.5 0h1.3M288.6 515.9h1.3m62.8 0h1.3m53.7 0h1.3m104.8 0h2.5m6.2 0h1.2m99.9 0h1.2m15 0h1.2m27.1 0h1.2M267.2 545.5h1.3m3.7 0h2.5m6.3 0h1.3m2.5 0h2.5m2.5 0h1.3m1.2 0h1.3m3.7 0h1.3m7.5 0h1.3m3.7 0h1.3m11.3 0h1.3m5 0h1.3m1.2 0h1.3m1.2 0h3.8m1.2 0h5m4 0h1.3m2.4 0h2.5m1.3 0h1.3m2.4 0h1.3m3.7 0h1.3m1.2 0h2.5m3.8 0h1.3m1.2 0h1.3m3.7 0h2.5m1.2 0h1.3m1.2 0h2.5m1.3 0h1.3m8.7 0h3.8m2.4 0h2.5m3.8 0h1.3m3.5 0h2.5m1.2 0h2.5m2.6 0h1.3m7.5 0h3.8m7.6 0h1.3m7.5 0h1.3m2.5 0h2.5m1.2 0h1.3m3.8 0h2.5m2.5 0h2.5m2.3 0h1.2m5 0h1.2m3.8 0h1.2m2.5 0h5m3.7 0h1.2m3.8 0h1.2m5 0h3.7m1.3 0h1.2m1.3 0h3.7m2.5 0h2.5m2.5 0h1.2m4.6 0h1.2m5.1 0h1.2m2.5 0h1.2m3.8 0h1.2m1.3 0h3.7m2.6 0h5m3.4 0h2.5m1.2 0h1.2m5 0h1.2m3.8 0h1.2m2.5 0h1.2m1.2 0h1.2m1.3 0h3.7m1 0h3.8m3.8 0h1.3m2.4 0h2.5m1.3 0h2.5m2.6 0h2.5m56.4 0h1.3m2.5 0h1.3M264.7 575.1h5m3.8 0h2.5m2.5 0h1.3m3.7 0h7.5m1.3 0h1.3m2.5 0h1.3m2.5 0h2.5m3.7 0h6.3m1.3 0h3.8m4.9 0h3.8m1.3 0h1.3m6.2 0h1.3m2.5 0h3.8m6.4 0h6.3m6.2 0h1.3m2.4 0h1.3m1.2 0h5m5 0h2.5m1.3 0h1.3m1.2 0h1.3m3.7 0h6.3m2.4 0h1.3m1.2 0h2.5m2.5 0h2.5m1.3 0h3.8m2.4 0h1.3m1 0h1.3m1.2 0h1.3m3.8 0h1.3m2.4 0h5m5.1 0h2.5m3.8 0h1.3m1.3 0h1.3m1.2 0h3.8m1.2 0h1.3m1.2 0h1.3m1.3 0h2.5m6.3 0h1.3m1.2 0h2.5m2.5 0h1.3m2.2 0h1.2m3.8 0h1.2m1.3 0h5m2.5 0h3.7m1.2 0h2.5m2.5 0h2.5m2.5 0h1.2m2.5 0h6.2m1.3 0h1.2m3.7 0h3.7m1.3 0h2.5m2.1 0h2.5m5 0h1.2m1.3 0h1.2m2.6 0h1.2m1.3 0h1.2m1.3 0h3.7m1.3 0h1.2m1.3 0h1.2m12.2 0h6.2m3.7 0h1.2m2.5 0h1.2m2.5 0h1.2m2.5 0h1.2m2.3 0h6.3m1.2 0h1.3m1.2 0h1.3m1.3 0h2.5m3.8 0h1.3m5.9 0h1.2m2.6 0h1.2m1.2 0h1.2m11.1 0h1.3m21 0h1.2m1.3 0h1.2m1.2 0h3.7m7.3 0h1.3m10.7 0h1.2M277.3 589.9h1.3m17.5 0h1.3m1.2 0h1.3m3.7 0h1.3m18.8 0h1.3m13.8 0h1.3m2.4 0h1.3m127.9 0h1.3m11 0h1.2m6.2 0h2.5m79.1 0h1.2M271 604.7h1.3m1.2 0h1.3m21.3 0h1.3m26.3 0h1.3m3.7 0h1.3m3.7 0h1.3m26.5 0h1.3m23.7 0h1.3m1.2 0h1.3m12.4 0h1.3m31.1 0h1.3m18.9 0h1.3m1.2 0h1.3m10.1 0h1.3m2.5 0h1.3m4.7 0h1.2m1.3 0h1.2m21.2 0h1.2m16.2 0h1.2m18.3 0h1.2m48.3 0h1.2m3.7 0h1.2m53.2 0h1.3m25.6 0h1.3m7.6 0h1.3m4.5 0h1.2M268.5 619.5h1.3M417.5 634.3h1.3m5 0h1.3m2.5 0h2.5m2.5 0h2.5m5.1 0h1.3m1.2 0h1.3m1.2 0h2.5m5.1 0h1.3m3.7 0h1.3m6.3 0h2.5m5.1 0h1.3m153.1 0h1.2m2.5 0h2.5m9.7 0h1.3m21.1 0h1.2m6.1 0h1.2M417.5 649.1h1.3m2.5 0h1.3m3.7 0h2.5m3.8 0h1.3m1.2 0h1.3m2.5 0h1.3m2.5 0h1.3m2.5 0h1.3m2.5 0h1.3m3.7 0h1.3m10.1 0h1.3m6.2 0h1.3m1.2 0h1.3m150.6 0h2.5m6.2 0h1.2M427.6 663.9h1.3m25.2 0h2.5m2.5 0h1.3m6.3 0h1.3M266 678.7h1.3m3.7 0h1.3m2.4 0h1.3m10 0h2.5m3.8 0h1.3m25.1 0h2.5m8.8 0h1.3m11.2 0h1.3m3.9 0h1.3m2.5 0h1.3m9.9 0h1.3m32.5 0h2.5m3.7 0h1.3m22.3 0h1.3m2.5 0h1.3m7.5 0h6.3m2.6 0h1.3m1.2 0h2.5m3.8 0h2.5m1.3 0h3.8m2.5 0h2.5m1.2 0h2.5M276 693.5h1.3m8.7 0h1.3m3.8 0h1.3m33.8 0h1.3m17.5 0h1.3m2.7 0h1.3m2.4 0h1.3m7.5 0h2.5m26.2 0h1.3m11.2 0h1.3m3.7 0h1.3m5 0h1.3m2.2 0h1.3m2.5 0h1.3m1.2 0h1.3m1.2 0h1.3m2.5 0h1.3m11.3 0h1.3m12.6 0h1.3m2.5 0h1.3m2.4 0h1.3m52.1 0h1.2m43.4 0h1.2m22.1 0h1.2m2.5 0h1.2m74.1 0h1.2m2.5 0h1.2M676.5 708.3h1.3m2.5 0h1.3M686.6 723.1h1.3m2.1 0h1.2m1.2 0h2.4M269.7 737.9h5m3.8 0h1.3m2.5 0h1.3m1.2 0h1.3m1.2 0h2.5m1.3 0h2.5m2.5 0h1.3m1.2 0h1.3m3.7 0h1.3m2.5 0h1.3m1.2 0h1.3m3.7 0h3.8m2.5 0h1.3m1.2 0h1.3m1.2 0h1.3m1.2 0h1.3m1.2 0h1.3m1.2 0h1.3m1.3 0h5m1.2 0h1.3m8.9 0h1.3m1.2 0h1.3m1.2 0h1.3m1.2 0h2.5m1.3 0h1.3m2.4 0h1.3m8.7 0h1.3m1.2 0h2.5m6.3 0h2.5m7.5 0h1.3m4.9 0h1.3m1.2 0h1.3m2.5 0h3.8m2.2 0h1.3m1.2 0h2.5m1.3 0h5m3.8 0h2.5m1.3 0h2.5m3.8 0h1.3m3.8 0h5m2.5 0h1.3m2.5 0h1.3m2.5 0h1.3m5 0h2.5m21 0h2.5m9.9 0h1.2m23.7 0h1.2m1.3 0h1.2m0.9 0h1.2m3.8 0h1.2m6.3 0h1.2m1.3 0h2.5m5 0h1.2m2.5 0h3.7m4.8 0h4.9m2.5 0h2.5m1.2 0h4.9m2.5 0h1.2m1.3 0h1.2m1.3 0h3.7m4.7 0h1.3m7.5 0h1.3m12.3 0h1.2m5.1 0h1.2m6.2 0h1.2m1.3 0h2.5m2.3 0h5m5 0h1.3m3.8 0h1.3m2.2 0h1.2m1.3 0h2.5m2.4 0h3.7m19.3 0h1.2M269.7 752.7h1.3m40.1 0h1.3m42.8 0h1.3m8.7 0h1.3m3.7 0h1.3m54.8 0h1.3m67.6 0h1.2m10 0h1.2m75.3 0h1.2m8.7 0h1.2m1.2 0h1.2m11.1 0h1.3m5 0h1.3m29.5 0h1.3m30.6 0h1.3m7.6 0h2.5M395.2 767.5h1.3m28.6 0h1.3m170.1 0h1.2m81.3 0h8.9M506.4 782.3h1.2m58.2 0h2.5m112 0h1.3m8.4 0h1.2m1.2 0h1.2M267.2 797.1h1.3m2.5 0h5m7.5 0h3.8m5 0h2.5m6.3 0h1.3m3.7 0h2.5m1.3 0h1.3m1.2 0h1.3m6.2 0h3.8m5 0h1.3m2.5 0h1.3m1.2 0h1.3m1.2 0h1.3m2.5 0h2.5m13.9 0h1.3m1.2 0h1.3m1.2 0h3.8m7.5 0h2.5m1.2 0h1.3m1.2 0h3.8m5 0h1.3m2.4 0h1.3m1.2 0h2.5m6.3 0h3.8m7.4 0h1.3m3.5 0h1.3m1.2 0h2.5m1.3 0h5m1.3 0h2.5m3.8 0h1.3m2.5 0h1.3m6.3 0h1.3m7.5 0h5m7.6 0h1.3m1.2 0h1.3m1.2 0h1.3m1 0h2.5m6.2 0h1.2m1.3 0h3.7m2.5 0h1.2m1.3 0h1.2m3.8 0h2.5m2.4 0h2.5m1.3 0h1.2m3.7 0h2.5m6.2 0h2.5m3.8 0h1.2m0.9 0h1.2m2.5 0h1.2m1.3 0h2.5m10 0h1.2m3.8 0h1.2m3.8 0h3.7m3.5 0h1.2m8.7 0h1.2m5 0h1.2m1.3 0h1.2m12.2 0h1.3m1.2 0h3.8m2.5 0h1.3m6.3 0h2.5m2.2 0h1.2m3.8 0h1.2m13.5 0h1.3m8.8 0h1.3m1.2 0h1.3m19.3 0h1.3m3.8 0h1.3m3.7 0h1.3M361.5 811.9h1.3m11.2 0h1.3m318.3 0h2.4M691.2 826.7h1.2m2.4 0h1.2M691.2 841.5h1.2m2.4 0h1.2M644.6 871.1h2.5m1.2 0h1.3m2.5 0h1.3m1.2 0h1.3m1.3 0h2.5m1.2 0h1.3M274.7 885.9h1.3m10 0h3.8m2.5 0h1.3m1.2 0h1.3m3.8 0h2.5m8.7 0h1.3m5 0h2.5m6.3 0h1.3m16.3 0h1.3m2.6 0h1.3m10 0h5m1.2 0h2.5m26.3 0h1.3m22.2 0h1.3m3.7 0h1.3m7.6 0h1.3m6.2 0h1.3m6.3 0h2.5m2.5 0h1.3m1.3 0h2.5m2.5 0h1.3m6.3 0h1.3m1.2 0h1.3m8.5 0h1.2m5 0h2.5m7.5 0h1.2m1.2 0h1.2m2.6 0h1.2m6.2 0h1.2m7.5 0h1.2m8.8 0h1.2m1.3 0h1.2m4.6 0h1.2m2.6 0h2.5m6.2 0h1.2m3.8 0h2.5m2.5 0h1.2m1.3 0h1.2m1.3 0h1.2m14.7 0h1.2m1.2 0h1.2m5 0h1.2m3.8 0h1.2m1.2 0h2.5m3.5 0h1.3m2.5 0h1.3m3.7 0h1.3m2.5 0h1.3m24.7 0h1.2m4.8 0h1.3m2.5 0h1.3m16 0h1.2m2.5 0h1.2m9.8 0h2.5M318.7 900.7h1.3m103.8 0h1.3m22.7 0h1.3m41.1 0h1.2m19.9 0h1.2m38.3 0h1.2m51.7 0h1.3m53.4 0h1.3m6 0h1.2M267.2 915.5h1.3m8.8 0h1.3m11.2 0h1.3m1.2 0h1.3m1.2 0h2.5m15.1 0h1.3m1.2 0h1.3m5 0h2.5m3.8 0h3.8m1.2 0h1.3m2.5 0h1.3m7.4 0h1.3m11.4 0h2.5m1.3 0h3.8m2.4 0h1.3m1.2 0h1.3m1.2 0h1.3m11.2 0h1.3m5 0h1.3m4.9 0h2.5m1.3 0h1.3m2.4 0h1.3m1.2 0h2.5m1.3 0h1.3m1.2 0h2.5m1 0h1.3m2.5 0h2.5m3.8 0h1.3m10 0h3.8m1.3 0h2.5m5 0h1.3m8.8 0h1.3m1.2 0h1.3m7.6 0h2.5m3.5 0h5m3.7 0h2.5m1.2 0h1.2m2.6 0h1.2m1.2 0h2.5m1.3 0h1.2m1.3 0h1.2m7.5 0h2.5m1.2 0h1.2m1.3 0h1.2m6.2 0h2.5m3.8 0h1.2m2.1 0h2.5m1.3 0h3.7m1.3 0h1.2m5 0h1.2m1.3 0h1.2m3.8 0h1.2m3.8 0h3.7m3.5 0h2.5m2.5 0h1.2m2.5 0h6.2m1.2 0h1.2m2.5 0h2.5m13.5 0h1.3m12.5 0h1.3m15.9 0h1.2m14.9 0h1.3m1.2 0h1.3m24.4 0h1.3m3.7 0h1.3m5.7 0h2.4M276 930.3h1.3m1.2 0h1.3m2.5 0h2.5m1.2 0h1.3m5 0h1.3m1.2 0h2.5m12.6 0h1.3m2.5 0h1.3m1.2 0h1.3m1.2 0h3.8m5 0h1.3m1.2 0h1.3m2.4 0h2.5m6.3 0h2.5m4 0h1.3m7.4 0h3.8m1.2 0h1.3m2.5 0h1.3m2.4 0h2.5m1.3 0h2.5m2.5 0h1.3m1.2 0h2.5m5 0h3.8m1.2 0h1.3m7.4 0h1.3m1.2 0h2.5m1.3 0h2.5m3.7 0h1.3m2.3 0h2.5m5 0h1.3m15.1 0h1.3m3.8 0h2.5m10.1 0h1.3m3.7 0h1.3m5 0h1.3m7.2 0h1.2m3.8 0h1.2m2.5 0h1.2m6.3 0h1.2m5 0h1.2m1.3 0h1.2m2.5 0h3.7m3.8 0h2.5m7.4 0h1.2m1.3 0h1.2m2.6 0h1.2m3.4 0h1.2m2.5 0h2.5m1.3 0h1.2m1.3 0h11.2m2.5 0h2.5m14.6 0h3.7m1.3 0h2.5m2.4 0h2.5m1.2 0h3.7m44.6 0h1.2m13.6 0h1.3m13.5 0h1.2" stroke="rgb(7,1,7)" stroke-width="15" fill="none"/>
<path d="M349 131.1h1.3m6.2 0h1.3m1.2 0h1.3m24.9 0h1.3m6.2 0h1.3m5 0h1.3m1.2 0h2.5m6.2 0h1.3m45.1 0h1.3m34.8 0h1.2m8.7 0h1.2m10 0h1.2m17.5 0h1.2m3.4 0h2.5m16.2 0h1.2m2.6 0h1.2m9.7 0h1.2m1.3 0h1.2m2.5 0h1.2m11.2 0h1.2m8.4 0h1.3M266 145.9h1.3m2.4 0h3.8m11.3 0h2.5m1.3 0h2.5m5 0h1.3m1.2 0h1.3m2.5 0h2.5m6.2 0h1.3m3.8 0h1.3m1.2 0h3.8m1.2 0h1.3m3.7 0h1.3m1.2 0h3.8m2.5 0h2.5m5 0h1.3m1.4 0h2.5m1.3 0h2.5m1.2 0h1.3m2.5 0h2.5m1.2 0h3.8m1.2 0h3.8m11.2 0h2.5m1.3 0h1.3m4.9 0h1.3m2.5 0h1.3m1.2 0h2.5m6.2 0h1.3m1.2 0h1.3m7.3 0h1.3m27.7 0h1.3m8.7 0h1.3m13.9 0h1.3m7.2 0h2.5m1.2 0h1.2m3.8 0h1.2m2.5 0h2.5m2.5 0h5m1.2 0h3.7m6.3 0h2.5m1.2 0h1.2m7.5 0h1.2m5.9 0h1.2m1.3 0h1.2m2.5 0h1.2m1.3 0h6.2m8.8 0h1.2m2.6 0h2.5m5.9 0h3.7m2.5 0h2.5m1.2 0h1.2m5 0h2.5m1.2 0h1.2m5 0h1.2m40.9 0h1.2m3.5 0h1.3m2.5 0h2.5m1.3 0h1.3m6.2 0h1.3m1.2 0h1.3M364 160.7h1.3m11.2 0h1.3m11.2 0h1.3m14.9 0h1.3m76.2 0h1.2m36.1 0h1.2m3.8 0h1.2m48 0h1.2m5 0h1.2m1.3 0h1.2m9.9 0h1.2m8.5 0h1.3m39.6 0h1.3M347.7 175.5h1.3m6.2 0h1.3m2.5 0h1.3m4.9 0h1.3m27.5 0h2.5m8.7 0h1.3m2.5 0h1.3m76.2 0h2.5m1.2 0h1.2m7.5 0h1.2m18.7 0h2.5m2.5 0h1.2m60.4 0h1.2m52 0h1.2m7.3 0h2.5m14.8 0h1.2M333.7 190.3h1.3m30.2 0h1.3m18.7 0h2.5m20 0h1.3m3.7 0h1.3m76.2 0h1.2m1.3 0h1.2m11.2 0h1.2m2.5 0h1.2m1.3 0h1.2m12.5 0h1.2m8.4 0h1.2m15 0h1.2m15.1 0h1.2m17.1 0h1.2m6.2 0h1.2m4.7 0h2.5m7.6 0h1.3m6.3 0h2.5M274.7 205.1h1.3m1.3 0h1.3m10 0h1.3m1.2 0h1.3m15 0h2.5m5 0h1.3m8.8 0h1.3m16.2 0h1.3m7.7 0h2.5m1.2 0h5m2.5 0h1.3m3.7 0h2.5m1.3 0h1.3m1.2 0h3.8m3.7 0h1.3m1.2 0h1.3m1.2 0h7.5m6.2 0h3.8m2.5 0h1.3m2.4 0h3.8m1.2 0h1.3m16.1 0h1.3m6.3 0h1.3m15.1 0h1.3m12.5 0h1.3m5 0h1.3m2.2 0h3.7m1.3 0h2.5m1.2 0h1.2m3.8 0h1.2m12.5 0h1.2m8.7 0h1.2m30.9 0h2.5m3.7 0h1.2m17.2 0h1.2m5 0h1.2m9.9 0h2.5m1.2 0h1.2m3.6 0h2.5m6.3 0h1.3m2.5 0h1.3m2.5 0h1.3m10.9 0h1.2m6.3 0h1.2m16.1 0h1.3M264.7 249.5h1.3m6.2 0h1.3m6.3 0h1.3m2.4 0h1.3m17.6 0h1.3m2.4 0h1.3m3.7 0h1.3m2.5 0h1.3m1.2 0h1.3m12.5 0h1.3m11.3 0h1.3m2.6 0h1.3m11.2 0h1.3m12.5 0h2.5m12.5 0h1.3m12.4 0h1.3m3.7 0h1.3m16.1 0h1.3m16.3 0h1.3m16.4 0h1.3m6.2 0h1.3m7.5 0h1.3m1 0h5m2.5 0h1.2m2.5 0h1.2m5 0h1.2m16.2 0h1.2m20.8 0h1.2m2.6 0h1.2m3.8 0h1.2m5 0h2.5m3.8 0h1.2m8.8 0h1.2m2.2 0h1.2m5 0h1.2m3.7 0h1.2m2.6 0h1.2m3.7 0h1.2m1.3 0h1.2m2.5 0h1.2m32.2 0h1.2m40.7 0h1.2M286 264.3h1.3m15.1 0h2.5m25.1 0h1.3m22.7 0h1.3m48.7 0h1.3m13.5 0h1.3m1.2 0h2.5m16.4 0h1.3m3.7 0h1.3m25.2 0h1.3m25.9 0h1.2m6.3 0h1.2m17.4 0h2.5m107.3 0h1.2m28.4 0h2.5M291.1 293.9h1.3m32.6 0h1.3m36.4 0h1.3m31.2 0h1.3m10 0h1.3m4.9 0h1.3m38.8 0h1.3m22.6 0h1.3m12.2 0h1.2M364 308.7h1.3m3.7 0h1.3m4.9 0h1.3m7.5 0h1.3m7.4 0h1.3m2.5 0h1.3m17.4 0h1.3m92.3 0h1.2m60.5 0h1.2m1.3 0h1.2m2.5 0h2.5m6.2 0h1.2m3.7 0h2.5m2.4 0h2.5m25.9 0h2.5m2.5 0h1.2m2.5 0h1.2m1.3 0h1.2m1.3 0h5m18.6 0h1.3M269.7 323.5h1.3m31.4 0h1.3m21.3 0h1.3m1.2 0h1.3m8.7 0h1.3m11.4 0h1.3m2.5 0h1.3m8.7 0h1.3m1.2 0h3.8m1.2 0h1.3m19.9 0h1.3m2.5 0h1.3m3.7 0h2.5m2.5 0h1.3m1.2 0h1.3m3.7 0h1.3m9.8 0h1.3m15 0h1.3m25.2 0h1.3m2.5 0h1.3m11 0h1.2m1.3 0h2.5m4.9 0h1.2m2.5 0h3.7m2.6 0h1.2m1.3 0h3.7m2.5 0h1.2m1.3 0h2.5m13.6 0h1.2m12.2 0h1.2m1.3 0h1.2m1.3 0h1.2m1.3 0h3.7m2.5 0h1.2m9.8 0h1.2m1.3 0h1.2m3.7 0h1.2m3.7 0h1.2m1.3 0h1.2m5 0h1.2m1.3 0h1.2m2.5 0h1.2m17.4 0h1.3m7.2 0h1.2m2.6 0h2.5m1.2 0h2.5m1.2 0h1.2m3.8 0h1.2m39.3 0h1.3m9.6 0h1.2M359 338.3h2.5m35 0h1.3m6.2 0h1.3m74.9 0h1.2m18.7 0h1.2m39.5 0h1.2m29.8 0h2.5m13.5 0h1.2m42.1 0h1.2M503.9 353.1h1.2m1.3 0h1.2m1.2 0h1.2m21.2 0h1.2m70.1 0h1.3M273.5 367.9h1.3m126.7 0h1.3m16 0h1.3m1.2 0h1.3m34 0h1.3m112.6 0h1.2M616.4 382.7h1.3M286 397.5h1.3m1.3 0h1.3m18.7 0h1.3m12.5 0h1.3m29 0h1.3m10 0h2.5m3.7 0h1.3m1.2 0h1.3m1.2 0h1.3m2.5 0h1.3m2.4 0h1.3m1.2 0h1.3m3.7 0h1.3m2.5 0h2.5m3.7 0h1.3m2.5 0h2.5m1.2 0h1.3m1.2 0h2.5m57.7 0h1.3m8.5 0h1.2m6.3 0h1.2m27.4 0h1.2m3.8 0h1.2m7.5 0h1.2m8.4 0h1.2m28.5 0h2.5m1.2 0h1.2m14.9 0h1.2m6.2 0h1.2m33.4 0h1.2m11 0h1.3M577.9 412.3h1.2m11.2 0h2.5m1.2 0h1.2m3.5 0h2.5m2.5 0h2.5m1.3 0h1.3m3.8 0h2.5m1.3 0h1.3m1.2 0h2.5M264.7 427.1h1.3m42.6 0h1.3m23.8 0h1.3m71.5 0h1.3m4.9 0h1.3m31.2 0h1.3m35 0h1.2m17.4 0h1.2m1.3 0h1.2m39.5 0h1.2m24.8 0h3.7m1.2 0h1.2m2.5 0h1.2m2.5 0h2.5m5 0h2.5m1.2 0h1.2m1.2 0h2.5m6 0h1.3m2.5 0h3.8m1.3 0h1.3m2.5 0h5M309.9 441.9h1.3m15 0h1.3m66.5 0h1.3m174 0h2.5m6.1 0h2.5m3.7 0h2.5m1.2 0h1.2m1.3 0h1.2m2.5 0h1.2m4.8 0h1.3M573 456.7h1.2m8.7 0h2.5m2.4 0h1.2m1.3 0h1.2m7.2 0h1.3m6.3 0h2.5m1.2 0h2.5m1.3 0h3.8m1.3 0h1.3M327.5 471.5h1.3M281 486.3h1.3m22.6 0h1.3m18.8 0h1.3m7.4 0h1.3m2.5 0h1.3m3.7 0h1.3m3.9 0h1.3m127.7 0h1.3m89.1 0h1.2m87.6 0h1.3m35.2 0h1.2M321.2 515.9h1.3M283.5 545.5h1.3m2.5 0h2.5m23.9 0h1.3m12.5 0h1.3m4.9 0h1.3m20.2 0h1.3m7.5 0h1.3m13.7 0h1.3m6.2 0h1.3m46.1 0h1.3m5 0h1.3m8.8 0h2.5m6.3 0h1.3m16.3 0h1.3m8.5 0h1.2m11.2 0h1.2m17.4 0h1.2m1.3 0h1.2m18.4 0h2.5m3.7 0h1.2m3.8 0h1.2m32.1 0h1.2m22.2 0h1.3m3.8 0h1.3m51.8 0h1.2M272.2 575.1h1.3m2.5 0h2.5m1.3 0h1.3m10 0h1.3m1.2 0h2.5m1.2 0h1.3m3.8 0h2.5m7.5 0h1.3m12.5 0h1.3m2.5 0h1.3m11.2 0h3.8m40.2 0h1.3m7.4 0h2.5m45 0h1.3m31.5 0h1.3m2.2 0h1.2m23.7 0h1.2m2.5 0h1.2m3.8 0h1.2m6.2 0h1.2m2.6 0h1.2m42.1 0h1.2m19.5 0h1.2m2.5 0h1.2m1.3 0h1.2m13.6 0h1.3m47.1 0h1.3m12.1 0h1.2m12.3 0h1.3M350.2 604.7h1.3m53.7 0h1.3M289.8 619.5h1.3m23.8 0h1.3M420 634.3h1.3m1.2 0h1.3m1.3 0h1.3m10 0h1.3m1.2 0h1.3m7.6 0h5m2.5 0h1.3m2.5 0h2.5m1.3 0h1.3m6.2 0h2.5m3.8 0h1.3m151.9 0h1.2M441.4 649.1h1.3m6.3 0h1.3m1.2 0h1.3m1.3 0h1.3m7.5 0h1.3m7.5 0h1.3m153.1 0h1.2m28.6 0h1.3M322.4 678.7h1.3m86.5 0h1.3m11 0h1.3m8.8 0h1.3m41.6 0h1.3m201 0h1.3M268.5 693.5h1.3m17.5 0h1.3m5 0h1.3m137.7 0h1.3m12.6 0h1.3m1.2 0h1.3m29.9 0h1.2M677.8 708.3h2.5m1.3 0h5.1M676.5 723.1h1.3m2.5 0h2.5m1.3 0h2.5M264.7 737.9h1.3m2.5 0h1.3m4.9 0h1.3m1.3 0h1.3m11.2 0h1.3m3.7 0h1.3m10 0h1.3m11.3 0h1.3m23.8 0h1.3m2.6 0h5m1.3 0h1.3m1.2 0h1.3m1.2 0h1.3m12.4 0h3.8m2.5 0h1.3m2.4 0h6.3m2.5 0h1.3m2.4 0h3.8m2.5 0h2.5m11.2 0h1.3m6 0h1.3m21.4 0h1.3m30.2 0h1.3m13.4 0h1.2m43.2 0h1.2m1.3 0h1.2m1.3 0h1.2m2.6 0h1.2m2.5 0h1.2m2.6 0h1.2m5 0h2.5m6.3 0h1.2m7.2 0h1.2m22 0h2.5m5.1 0h3.8m1.2 0h1.3m2.5 0h1.3m9.7 0h1.2m3.8 0h1.2m6.3 0h1.2m24.6 0h1.2m2.5 0h1.2m7.2 0h1.3m6.3 0h1.3M293.6 752.7h1.3m12.5 0h1.3m108.8 0h1.3m261.5 0h1.3M676.5 767.5h2.5M473 782.3h1.3M269.7 797.1h1.3m8.8 0h1.3m13.7 0h3.8m45.2 0h1.3m2.6 0h1.3m6.2 0h1.3m2.5 0h1.3m1.2 0h1.3m22.4 0h1.3m49.9 0h2.5m12.6 0h2.5m1.3 0h1.3m59.7 0h1.2m11.2 0h1.2m5.9 0h1.2m15.1 0h1.2m18.5 0h1.2m4.9 0h1.2m50.8 0h1.2m1.2 0h1.2m29.7 0h1.2m24.4 0h2.4M688.8 811.9h4.8M688.8 826.7h2.4m1.2 0h1.2M643.3 871.1h1.3m2.5 0h1.3m7.5 0h1.3M303.6 885.9h1.3m7.5 0h1.3m8.7 0h1.3m11.3 0h1.3m85 0h1.3m21.4 0h1.3m3.7 0h1.3m25.2 0h1.3m7.2 0h1.2m26.1 0h1.2m44.6 0h1.2m48 0h1.3m10 0h2.5m23.2 0h1.3m2.5 0h1.3m2.5 0h1.3m5 0h1.3M575.5 900.7h1.2m58.1 0h1.2m7.3 0h5m1.3 0h5m1.3 0h1.3m3.7 0h1.3M264.7 915.5h1.3m5 0h1.3m2.4 0h2.5m1.3 0h2.5m1.3 0h5m3.8 0h1.3m1.2 0h1.3m3.7 0h1.3m1.2 0h2.5m3.8 0h3.8m2.5 0h1.3m1.2 0h2.5m5 0h2.5m5 0h1.3m2.5 0h1.3m3.7 0h1.3m1.2 0h1.3m3.9 0h5m1.3 0h1.3m1.2 0h1.3m2.4 0h1.3m3.7 0h2.5m1.3 0h1.3m7.4 0h1.3m1.2 0h2.5m1.3 0h1.3m1.2 0h1.3m2.4 0h1.3m2.5 0h3.8m2.4 0h1.3m1.2 0h2.5m13.6 0h1.3m3.7 0h2.5m5.1 0h2.5m2.5 0h1.3m10.1 0h3.8m1.2 0h2.5m1.3 0h2.5m1.3 0h1.3m6.2 0h2.5m1.3 0h1.3m3.7 0h1.3m7.2 0h1.2m6.3 0h2.5m1.2 0h1.2m5 0h1.2m2.6 0h5m3.7 0h1.2m6.2 0h3.7m2.5 0h2.5m3.4 0h1.2m2.5 0h1.2m3.8 0h1.2m2.6 0h3.7m3.8 0h2.5m2.5 0h1.2m1.3 0h1.2m3.8 0h1.2m4.7 0h2.5m9.9 0h1.2m1.2 0h2.5m2.5 0h1.2m1.2 0h2.5m45.6 0h5m1.3 0h1.3m1.2 0h1.3m1.2 0h1.3m1.3 0h2.5m1.2 0h1.3m20.6 0h1.3m4.7 0h1.2m1.2 0h1.2M267.2 930.3h8.8m8.8 0h1.3m1.2 0h1.3m1.2 0h1.3m2.5 0h1.3m2.4 0h2.5m1.3 0h1.3m1.2 0h2.5m1.3 0h1.3m2.4 0h2.5m1.3 0h1.3m1.2 0h1.3m13.8 0h1.3m2.5 0h5m3.7 0h1.3m8.9 0h1.3m20 0h2.5m7.5 0h1.3m12.4 0h1.3m12.5 0h1.3m6 0h5m2.5 0h1.3m1.3 0h10.1m3.7 0h2.5m2.6 0h7.6m5 0h1.3m2.5 0h1.3m1.2 0h2.5m2.5 0h3.8m1 0h1.2m1.3 0h2.5m2.5 0h2.5m1.2 0h2.5m1.2 0h2.5m1.2 0h1.2m1.3 0h1.2m11.3 0h1.2m1.3 0h1.2m5 0h1.2m5 0h1.2m1.3 0h2.5m3.3 0h1.2m1.3 0h1.2m18.8 0h1.2m5.1 0h3.7m1 0h2.5m1.2 0h1.2m2.5 0h1.2m3.7 0h1.2m2.6 0h1.2m8.6 0h1.2m26 0h1.2m7.5 0h1.2m3.8 0h1.2m8.5 0h1.3m2.5 0h1.3m2.5 0h1.3m23.1 0h2.5m1.3 0h1.3m1.2 0h1.3m1.2 0h1.3m0.9 0h1.2m3.6 0h2.4" stroke="rgb(25,25,3)" stroke-width="15" fill="none"/>
<path d="M350.2 131.1h1.3m60 0h1.3m136.8 0h1.2m1.3 0h1.2M267.2 145.9h1.3m25.1 0h1.3m55.3 0h1.3m2.5 0h1.3m11.2 0h1.3m6.2 0h1.3m6.2 0h1.3m29.9 0h1.3m108.5 0h1.2m5 0h1.2m19.7 0h1.2m5 0h1.2m2.6 0h1.2m5 0h1.2m38 0h1.3m1.2 0h2.5m7.6 0h2.5M606.3 175.5h1.3m6.2 0h1.3M366.5 190.3h1.3M364 205.1h3.8m11.2 0h2.5m13.7 0h1.3m7.5 0h2.5m198.5 0h1.3m3.7 0h2.5m1.3 0h1.3m2.5 0h1.3m1.2 0h1.3m12.2 0h1.2M587.8 249.5h1.2M481.5 308.7h2.5m1.2 0h1.2m3.8 0h1.2m3.8 0h2.5m3.7 0h1.2m1.3 0h1.2m5 0h2.5m1.2 0h2.5m7.5 0h2.5m45.5 0h1.2m1.2 0h2.5m4.9 0h3.7m1.3 0h3.7m2.5 0h1.2m21.1 0h1.3m9.7 0h1.2m6.3 0h1.2m1.3 0h1.2M356.5 323.5h1.3m1.2 0h1.3m2.4 0h1.3m13.7 0h1.3m2.5 0h1.3m3.7 0h1.3m11.2 0h1.3m81.2 0h1.2m8.7 0h2.5m19.9 0h1.2m2.5 0h1.2m1.3 0h2.5m1.3 0h1.2m5 0h1.2m1.3 0h1.2m22.1 0h1.2m10.1 0h1.2m4.7 0h1.2m11.2 0h1.2m4.9 0h1.2m2.5 0h1.2m2.3 0h1.3m1.2 0h3.8m1.3 0h1.3m1.2 0h1.3m6.3 0h1.3m2.4 0h1.3m3.5 0h1.2m7.5 0h1.2m3.8 0h1.2M482.7 338.3h1.2m5 0h1.2m5.1 0h2.5m12.4 0h1.2m7.5 0h2.5m2.5 0h1.2M530 353.1h1.2M615.1 382.7h1.3M571.8 397.5h1.2m1.2 0h1.2m1.3 0h2.5m1.2 0h1.2m1.3 0h1.2m2.5 0h2.5M602.5 412.3h1.3m2.5 0h1.3m1.2 0h3.8m5 0h1.3M579.2 427.1h1.2m3.7 0h3.7m6.2 0h1.2m6 0h2.5m7.6 0h1.3M354 441.9h1.3m216.5 0h1.2m18.5 0h1.2m19.9 0h1.3m2.5 0h2.5M601.2 456.7h3.8m7.6 0h1.3m3.7 0h1.3m1.2 0h1.3M365.2 486.3h1.3M511.3 515.9h1.2M605 545.5h1.3M336.3 575.1h1.3m161.3 0h1.2M456.6 634.3h1.3M686.6 708.3h1.3M682.8 723.1h1.3M362.7 737.9h1.3m1.2 0h1.3m2.5 0h3.8m19.9 0h1.3m6.2 0h1.3m2.5 0h1.3m131.8 0h1.2m26.3 0h1.2m36.7 0h3.8m6.3 0h2.5m1.3 0h3.8m2.2 0h1.2m1.3 0h1.2m1.3 0h1.2m49.2 0h1.3m1.2 0h2.5M677.8 752.7h1.3m2.5 0h1.3m1.2 0h1.3M693.6 782.3h1.2M691.2 797.1h4.8M644.6 885.9h1.3m2.4 0h1.3m2.5 0h1.3m1.2 0h2.5m1.3 0h1.3M659.7 900.7h1.3M266 915.5h1.3m20 0h2.5m13.8 0h3.8m3.7 0h1.3m13.8 0h1.3m6.2 0h1.3m2.5 0h2.5m3.8 0h1.3m26.4 0h1.3m3.7 0h1.3m48.5 0h1.3m15.1 0h1.3m2.5 0h1.3m11.3 0h1.3m6.3 0h1.3m2.4 0h1.3m14.8 0h1.2m2.5 0h1.2m8.7 0h1.2m10 0h1.2m5 0h1.2m1.3 0h2.5m29.6 0h1.2m7.5 0h1.2m7.3 0h1.2m23.5 0h1.2m8.5 0h2.5m16.2 0h1.2m1.3 0h5m1.2 0h1.2m2.5 0h1.2m2.6 0h1.2m1.3 0h1.2m8.6 0h1.3m7.5 0h1.3m2.2 0h1.2m1.3 0h1.2m7.4 0h1.2m2.3 0h2.5m3.8 0h1.3m4.6 0h1.2M279.8 930.3h1.3m7.5 0h1.3m16.2 0h1.3m1.2 0h1.3m31.4 0h1.3m85 0h1.3m35.2 0h1.3m2.5 0h1.3m3.8 0h1.3m18.4 0h1.2m7.5 0h1.2m3.8 0h2.5m9.9 0h1.2m3.8 0h2.5m47.9 0h1.2m52 0h1.2m3.7 0h2.5m2.5 0h2.5m3.5 0h2.5m2.5 0h1.3m1.3 0h2.5m3.8 0h2.5m4.7 0h1.2m1.3 0h2.5m7.1 0h1.3m2.5 0h1.3m1.2 0h1.3m1.3 0h1.3" stroke="rgb(58,58,7)" stroke-width="15" fill="none"/>
<path d="M598.7 145.9h3.8m8.8 0h6.3m2.5 0h1.3M598.7 175.5h2.5m1.3 0h1.3m3.7 0h6.3m1.3 0h1.3m1.2 0h3.8M611.3 190.3h1.3M511.3 205.1h1.2m86.2 0h1.3m6.3 0h1.3m17.3 0h1.2m5 0h2.5m3.7 0h2.5M480.2 308.7h1.2m7.5 0h1.2m1.3 0h3.7m2.5 0h3.7m1.3 0h1.2m2.6 0h1.2m5 0h1.2m5 0h3.7m3.7 0h2.5m1.3 0h3.7m67.5 0h1.3m3.8 0h2.5m1.2 0h2.5m5.1 0h2.5M600 323.5h1.3m3.7 0h1.3m1.2 0h1.3m1.2 0h5m2.6 0h2.5M479 338.3h1.2m5 0h3.7m1.3 0h1.2m1.3 0h1.2m3.7 0h2.5m2.5 0h1.2m2.6 0h3.7m3.7 0h3.7m3.8 0h2.5m1.2 0h2.5m1.2 0h5m66.3 0h1.3m1.2 0h1.3m2.5 0h1.3m2.4 0h1.3m1.3 0h1.3m5 0h1.3M598.7 397.5h1.3m1.2 0h2.5m6.3 0h1.3m2.5 0h3.8M615.1 412.3h1.3M598.7 441.9h1.3m2.5 0h5m1.3 0h2.5m2.5 0h2.5m2.6 0h2.5M605 456.7h1.3m2.5 0h1.3M620.1 737.9h1.3m57.6 0h1.3m2.5 0h1.3m1.3 0h2.5M653.4 885.9h1.3m5 0h1.3M374 915.5h1.3m80 0h1.3m142.1 0h1.3m2.5 0h1.3m5 0h5m1.3 0h1.3m1.2 0h2.5m3.5 0h1.2m5.1 0h1.2m1.2 0h1.2m2.6 0h1.2m2.5 0h1.2m7.3 0h1.3m14.8 0h1.2m1.3 0h7.4m11.1 0h1.3M610 930.3h2.5m1.3 0h5m6.1 0h1.2m2.5 0h2.5m3.7 0h1.2m5.1 0h1.2m4.8 0h1.3m12.5 0h1.3m1 0h1.2m6.2 0h4.9" stroke="rgb(98,98,12)" stroke-width="15" fill="none"/>
<path d="M603.7 145.9h1.3m5 0h1.3M601.2 175.5h1.3M622.4 205.1h2.5m1.2 0h2.5m1.3 0h1.2m3.7 0h1.2m3.8 0h2.5M507.6 308.7h1.2m7.5 0h1.2m81.2 0h2.5m2.5 0h2.5m2.6 0h1.3m2.5 0h1.3m2.5 0h1.3m2.4 0h1.3M484 338.3h1.2m6.2 0h1.2m12.5 0h1.2m5 0h2.5m13.7 0h1.2m75 0h2.5m1.3 0h2.5m1.3 0h1.3m1.2 0h5m1.3 0h1.3M600 397.5h1.3m2.4 0h2.5m1.3 0h2.5m1.3 0h2.5m5.1 0h2.5M601.2 441.9h1.3M601.2 915.5h1.3m5 0h1.3m5 0h1.3m1.3 0h1.3M598.7 930.3h1.3m1.2 0h6.3m1.3 0h1.3m2.5 0h1.3m5 0h2.5" stroke="rgb(152,152,19)" stroke-width="15" fill="none"/>
<path d="M347 123.7L347 937.7" stroke="#f3d9f3" stroke-width="1.1" fill="none" />
<path d="M417 123.7L417 937.7" stroke="#f3d9f3" stroke-width="1.1" fill="none" />
<path d="M478.5 123.7L478.5 937.7" stroke="#f3d9f3" stroke-width="1.1" fill="none" />
<path d="M534.2 123.7L534.2 937.7" stroke="#f3d9f3" stroke-width="1.1" fill="none" />
<path d="M568.8 123.7L568.8 937.7" stroke="#f3d9f3" stroke-width="1.1" fill="none" />
<path d="M598.2 123.7L598.2 937.7" stroke="#f3d9f3" stroke-width="1.1" fill="none" />
<path d="M621.9 123.7L621.9 937.7" stroke="#f3d9f3" stroke-width="1.1" fill="none" />
<path d="M642.8 123.7L642.8 937.7" stroke="#f3d9f3" stroke-width="1.1" fill="none" />
<path d="M662.7 123.7L662.7 937.7" stroke="#f3d9f3" stroke-width="1.1" fill="none" />
<path d="M676 123.7L676 937.7" stroke="#f3d9f3" stroke-width="1.1" fill="none" />
<path d="M688.3 123.7L688.3 937.7" stroke="#f3d9f3" stroke-width="1.1" fill="none" />
<rect x="347.7" y="126.7" width="68.8" height="333.9" fill="none" stroke="#5ee640" stroke-width="2.1"/>
<rect x="479" y="124" width="142.2" height="340.1" fill="none" stroke="#5ee640" stroke-width="2.1"/>
<rect x="265.3" y="464.1" width="81.7" height="162.8" fill="none" stroke="#5ee640" stroke-width="2.1"/>
<rect x="417.5" y="626.9" width="60.5" height="74" fill="none" stroke="#5ee640" stroke-width="2.1"/>
<rect x="622.7" y="626.9" width="19.9" height="74" fill="none" stroke="#5ee640" stroke-width="2.1"/>
<rect x="662.6" y="626.9" width="12.8" height="74" fill="none" stroke="#5ee640" stroke-width="2.1"/>
<rect x="676.1" y="700.9" width="12.9" height="74" fill="none" stroke="#5ee640" stroke-width="2.1"/>
<rect x="688.8" y="774.9" width="6.8" height="82.1" fill="none" stroke="#5ee640" stroke-width="2.1"/>
<rect x="643.9" y="863.7" width="18.1" height="74" fill="none" stroke="#5ee640" stroke-width="2.1"/>
<path d="M84 123.7L209 123.7" stroke="#e06552" stroke-width="1.6" fill="none" />
<path d="M84 464.1L209 464.1" stroke="#e06552" stroke-width="1.6" fill="none" />
<path d="M84 538.1L209 538.1" stroke="#e06552" stroke-width="1.6" fill="none" />
<path d="M84 626.9L209 626.9" stroke="#e06552" stroke-width="1.6" fill="none" />
<path d="M84 700.9L209 700.9" stroke="#e06552" stroke-width="1.6" fill="none" />
<path d="M84 774.9L209 774.9" stroke="#e06552" stroke-width="1.6" fill="none" />
<path d="M84 863.7L209 863.7" stroke="#e06552" stroke-width="1.6" fill="none" />
<path d="M84 937.7L209 937.7" stroke="#e06552" stroke-width="1.6" fill="none" />
<text transform="translate(261.5 139.5) scale(1 1.15)" font-size="20.8" text-anchor="end" font-style="italic">CD163</text>
<text transform="translate(261.5 154.3) scale(1 1.15)" font-size="20.8" text-anchor="end" font-style="italic">CD68</text>
<text transform="translate(261.5 169.1) scale(1 1.15)" font-size="20.8" text-anchor="end" font-style="italic">SLC40A1</text>
<text transform="translate(261.5 183.9) scale(1 1.15)" font-size="20.8" text-anchor="end" font-style="italic">SELENOP</text>
<text transform="translate(261.5 198.7) scale(1 1.15)" font-size="20.8" text-anchor="end" font-style="italic">FOLR2</text>
<text transform="translate(261.5 213.5) scale(1 1.15)" font-size="20.8" text-anchor="end" font-style="italic">APOA2</text>
<text transform="translate(261.5 228.3) scale(1 1.15)" font-size="20.8" text-anchor="end" font-style="italic">IGLL5</text>
<text transform="translate(261.5 243.1) scale(1 1.15)" font-size="20.8" text-anchor="end" font-style="italic">SLC16A10</text>
<text transform="translate(261.5 257.9) scale(1 1.15)" font-size="20.8" text-anchor="end" font-style="italic">CTNNB1</text>
<text transform="translate(261.5 272.7) scale(1 1.15)" font-size="20.8" text-anchor="end" font-style="italic">WTAP</text>
<text transform="translate(261.5 287.5) scale(1 1.15)" font-size="20.8" text-anchor="end" font-style="italic">SERINC5</text>
<text transform="translate(261.5 302.3) scale(1 1.15)" font-size="20.8" text-anchor="end" font-style="italic">PHACTR1</text>
<text transform="translate(261.5 317.1) scale(1 1.15)" font-size="20.8" text-anchor="end" font-style="italic">SPP1</text>
<text transform="translate(261.5 331.9) scale(1 1.15)" font-size="20.8" text-anchor="end" font-style="italic">CSTB</text>
<text transform="translate(261.5 346.7) scale(1 1.15)" font-size="20.8" text-anchor="end" font-style="italic">RNASE1</text>
<text transform="translate(261.5 361.5) scale(1 1.15)" font-size="20.8" text-anchor="end" font-style="italic">MMP12</text>
<text transform="translate(261.5 376.3) scale(1 1.15)" font-size="20.8" text-anchor="end" font-style="italic">HK2</text>
<text transform="translate(261.5 391.1) scale(1 1.15)" font-size="20.8" text-anchor="end" font-style="italic">BAG3</text>
<text transform="translate(261.5 405.9) scale(1 1.15)" font-size="20.8" text-anchor="end" font-style="italic">HSPB1</text>
<text transform="translate(261.5 420.7) scale(1 1.15)" font-size="20.8" text-anchor="end" font-style="italic">ZFAND2A</text>
<text transform="translate(261.5 435.5) scale(1 1.15)" font-size="20.8" text-anchor="end" font-style="italic">HSPH1</text>
<text transform="translate(261.5 450.3) scale(1 1.15)" font-size="20.8" text-anchor="end" font-style="italic">HSPA6</text>
<text transform="translate(261.5 465.1) scale(1 1.15)" font-size="20.8" text-anchor="end" font-style="italic">DNAJA4</text>
<text transform="translate(261.5 479.9) scale(1 1.15)" font-size="20.8" text-anchor="end" font-style="italic">FCN1</text>
<text transform="translate(261.5 494.7) scale(1 1.15)" font-size="20.8" text-anchor="end" font-style="italic">APOBEC3A</text>
<text transform="translate(261.5 509.5) scale(1 1.15)" font-size="20.8" text-anchor="end" font-style="italic">THBS1</text>
<text transform="translate(261.5 524.3) scale(1 1.15)" font-size="20.8" text-anchor="end" font-style="italic">CXCL10</text>
<text transform="translate(261.5 539.1) scale(1 1.15)" font-size="20.8" text-anchor="end" font-style="italic">IFIT2</text>
<text transform="translate(261.5 553.9) scale(1 1.15)" font-size="20.8" text-anchor="end" font-style="italic">IL32</text>
<text transform="translate(261.5 568.7) scale(1 1.15)" font-size="20.8" text-anchor="end" font-style="italic">PRF1</text>
<text transform="translate(261.5 583.5) scale(1 1.15)" font-size="20.8" text-anchor="end" font-style="italic">CCL5</text>
<text transform="translate(261.5 598.3) scale(1 1.15)" font-size="20.8" text-anchor="end" font-style="italic">GNLY</text>
<text transform="translate(261.5 613.1) scale(1 1.15)" font-size="20.8" text-anchor="end" font-style="italic">GZMB</text>
<text transform="translate(261.5 627.9) scale(1 1.15)" font-size="20.8" text-anchor="end" font-style="italic">KLRC4−KLRK1</text>
<text transform="translate(261.5 642.7) scale(1 1.15)" font-size="20.8" text-anchor="end" font-style="italic">CD1C</text>
<text transform="translate(261.5 657.5) scale(1 1.15)" font-size="20.8" text-anchor="end" font-style="italic">CD1E</text>
<text transform="translate(261.5 672.3) scale(1 1.15)" font-size="20.8" text-anchor="end" font-style="italic">FCER1A</text>
<text transform="translate(261.5 687.1) scale(1 1.15)" font-size="20.8" text-anchor="end" font-style="italic">AREG</text>
<text transform="translate(261.5 701.9) scale(1 1.15)" font-size="20.8" text-anchor="end" font-style="italic">MAT2A</text>
<text transform="translate(261.5 716.7) scale(1 1.15)" font-size="20.8" text-anchor="end" font-style="italic">CLEC9A</text>
<text transform="translate(261.5 731.5) scale(1 1.15)" font-size="20.8" text-anchor="end" font-style="italic">IDO1</text>
<text transform="translate(261.5 746.3) scale(1 1.15)" font-size="20.8" text-anchor="end" font-style="italic">CPVL</text>
<text transform="translate(261.5 761.1) scale(1 1.15)" font-size="20.8" text-anchor="end" font-style="italic">CPNE3</text>
<text transform="translate(261.5 775.9) scale(1 1.15)" font-size="20.8" text-anchor="end" font-style="italic">DNASE1L3</text>
<text transform="translate(261.5 790.7) scale(1 1.15)" font-size="20.8" text-anchor="end" font-style="italic">CCR7</text>
<text transform="translate(261.5 805.5) scale(1 1.15)" font-size="20.8" text-anchor="end" font-style="italic">BIRC3</text>
<text transform="translate(261.5 820.3) scale(1 1.15)" font-size="20.8" text-anchor="end" font-style="italic">POGLUT1</text>
<text transform="translate(261.5 835.1) scale(1 1.15)" font-size="20.8" text-anchor="end" font-style="italic">LAMP3</text>
<text transform="translate(261.5 849.9) scale(1 1.15)" font-size="20.8" text-anchor="end" font-style="italic">CCL22</text>
<text transform="translate(261.5 864.7) scale(1 1.15)" font-size="20.8" text-anchor="end" font-style="italic">CCL19</text>
<text transform="translate(261.5 879.5) scale(1 1.15)" font-size="20.8" text-anchor="end" font-style="italic">TOP2A</text>
<text transform="translate(261.5 894.3) scale(1 1.15)" font-size="20.8" text-anchor="end" font-style="italic">STMN1</text>
<text transform="translate(261.5 909.1) scale(1 1.15)" font-size="20.8" text-anchor="end" font-style="italic">NUSAP1</text>
<text transform="translate(261.5 923.9) scale(1 1.15)" font-size="20.8" text-anchor="end" font-style="italic">HMGN2</text>
<text transform="translate(261.5 938.7) scale(1 1.15)" font-size="20.8" text-anchor="end" font-style="italic">HIST1H4C</text>
<text font-size="21.3" text-anchor="middle" transform="translate(85.5 276) rotate(-90)">Macrophage 1-5</text>
<text x="15" y="499" font-size="21.1" >Monocyte 1</text>
<text x="16" y="582.5" font-size="21.1" >Monocyte 2</text>
<text x="67" y="674" font-size="21.1" >DC2</text>
<text x="67" y="736" font-size="21.1" >DC1</text>
<text x="67" y="828" font-size="21.1" >DC3</text>
<text x="67" y="908" font-size="21.1" >Cycling</text>
<text font-size="18.5" transform="translate(285 88.5) rotate(-45)" stroke="#111" stroke-width="0.35">MC0</text>
<text font-size="18.5" transform="translate(359 88.5) rotate(-45)" stroke="#111" stroke-width="0.35">MC1</text>
<text font-size="18.5" transform="translate(426 88.5) rotate(-45)" stroke="#111" stroke-width="0.35">MC2</text>
<text font-size="18.5" transform="translate(487.7 88.5) rotate(-45)" stroke="#111" stroke-width="0.35">MC3</text>
<text font-size="18.5" transform="translate(539 88.5) rotate(-45)" stroke="#111" stroke-width="0.35">MC4</text>
<text font-size="18.5" transform="translate(575.7 88.5) rotate(-45)" stroke="#111" stroke-width="0.35">MC5</text>
<text font-size="18.5" transform="translate(601.8 88.5) rotate(-45)" stroke="#111" stroke-width="0.35">MC6</text>
<text font-size="18.5" transform="translate(627 88.5) rotate(-45)" stroke="#111" stroke-width="0.35">MC7</text>
<text font-size="18.5" transform="translate(653.6 88.5) rotate(-45)" stroke="#111" stroke-width="0.35">MC8</text>
<text font-size="18.5" transform="translate(677.5 82.5) rotate(-45)" stroke="#111" stroke-width="0.35">MC9</text>
<text font-size="18.5" transform="translate(699.5 82.5) rotate(-45)" stroke="#111" stroke-width="0.35">MC10</text>
<text font-size="18.5" transform="translate(728.6 83.5) rotate(-45)" stroke="#111" stroke-width="0.35">MC11</text>
<path d="M668.6 96V88.4L675.7 81.8M685.2 96V88.9L696.5 79.8M692.5 96V91L725.5 82" stroke="#111" stroke-width="1.4" fill="none"/>
<text x="713" y="141.5" font-size="19.5" >Expression</text>
<linearGradient id="ga" x1="0" y1="1" x2="0" y2="0"><stop offset="0" stop-color="rgb(252,50,252)"/><stop offset=".08" stop-color="rgb(252,50,252)"/><stop offset=".5" stop-color="#000"/><stop offset="1" stop-color="#f3f33a"/></linearGradient>
<rect x="744.6" y="158.9" width="29.8" height="148.4" fill="url(#ga)"/>
<path d="M744.6 180.4L750.5 180.4" stroke="#fff" stroke-width="1.2" fill="none" />
<path d="M768.5 180.4L774.4 180.4" stroke="#fff" stroke-width="1.2" fill="none" />
<text x="779.5" y="187.4" font-size="19.5" >3</text>
<path d="M744.6 222.6L750.5 222.6" stroke="#fff" stroke-width="1.2" fill="none" />
<path d="M768.5 222.6L774.4 222.6" stroke="#fff" stroke-width="1.2" fill="none" />
<text x="779.5" y="229.6" font-size="19.5" >2</text>
<path d="M744.6 264.6L750.5 264.6" stroke="#fff" stroke-width="1.2" fill="none" />
<path d="M768.5 264.6L774.4 264.6" stroke="#fff" stroke-width="1.2" fill="none" />
<text x="779.5" y="271.6" font-size="19.5" >1</text>
<path d="M744.6 306.2L750.5 306.2" stroke="#fff" stroke-width="1.2" fill="none" />
<path d="M768.5 306.2L774.4 306.2" stroke="#fff" stroke-width="1.2" fill="none" />
<text x="779.5" y="313.2" font-size="19.5" >0</text>
<text x="78" y="963" font-size="21.4" >Genes for the definition of myeloid subtypes were from Figure 2C in Sun et al., <tspan font-style="italic">Cell</tspan>, 2021.</text>
<text x="849" y="22" font-size="27" font-weight="bold">b</text>
<text x="1123" y="103.4" font-size="27" text-anchor="middle">Myeloid cells</text>
<path d="M1087.5 214h0m-2 1h0m-0.5 3.5h0m1 1.5h0m0 1h0m3-0.5h0m3.5 5.5h0m-4-3h0m-0.5 0h0m-0.5 4h0m0-4.5h0m-1 5h0m0 0h0m-0.5-1h0m-2-2.5h0m-7.5 9h0m7-1h0m1-3.5h0m1 2h0m0.5-0.5h0m-0.5 5h0m-2.5 4h0m-0.5-0.5h0m0-0.5h0m0 1h0m-0.5-5h0m0 0.5h0m-1 2h0m-2-0.5h0m-0.5 1.5h0m-1.5-2.5h0m0 10h0m0.5-1.5h0m1 0.5h0m1-2h0m0.5-1.5h0m2 4h0m1-3.5h0m0.5 1.5h0m2-1h0m0.5 4.5h0m2-2h0m-1.5 4.5h0m-0.5 0h0m-2.5-1.5h0m-3-1h0m-2 5h0m-2-4.5h0m-1 5h0m-4-0.5h0m0 5h0m4 2h0m0.5-0.5h0m2-1h0m0-0.5h0m0.5-0.5h0m0 1h0m3-4h0m1 2h0m32.5 8.5h0m-36.5-2.5h0m-3-1h0m-1 1h0m-2 0h0m0 0.5h0m-2.5 7h0m1.5 2h0m3.5-1.5h0m0-2.5h0m1.5-1h0m23 4h0m7.5 0h0m4-1.5h0m8.5 0.5h0m-7 2.5h0m-3.5-0.5h0m-0.5 5.5h0m-2-2h0m-4.5-1.5h0m-8.5-0.5h0m-4 1.5h0m-7-0.5h0m-2 3h0m-3.5-2.5h0m-2 1.5h0m-0.5-4h0m-3 2h0m0-1.5h0m-2 1h0m-2-2h0m-0.5 2h0m-0.5-2h0m-3 10.5h0m0.5 0.5h0m0-4h0m1 4.5h0m1-2h0m0.5 1.5h0m0.5-4.5h0m0.5 4.5h0m1.5-3.5h0m2.5 0.5h0m0-1.5h0m4.5 0.5h0m1.5 2h0m3.5 2h0m1.5-3.5h0m0.5-1.5h0m1 4.5h0m2.5-1h0m0.5-1.5h0m1 2h0m1-4h0m1.5 5.5h0m3.5-4.5h0m0.5 0h0m2 3.5h0m0-1h0m3.5-2.5h0m0 2h0m0 2.5h0m1 0.5h0m0-1.5h0m2-3h0m3 2h0m3 2h0m2 0.5h0m4-5.5h0m1.5 4h0m2.5-3.5h0m4 5h0m89.5-2.5h0m10 5.5h0m-6.5 2h0m-1-4h0m-0.5 4h0m-2-2.5h0m-4 0.5h0m-4 3h0m-79.5 0h0m-6.5-1.5h0m-1.5-0.5h0m-1.5-2.5h0m-6.5-1h0m-0.5-0.5h0m0 2.5h0m-0.5 0h0m-2 2h0m-3-1.5h0m-1 2.5h0m-0.5-3.5h0m-0.5 0.5h0m-0.5-1h0m-1 3.5h0m0-4.5h0m0 0h0m-1 0.5h0m0 1.5h0m-0.5-2h0m0 0h0m-0.5 1.5h0m-1.5 3.5h0m-1-4.5h0m-0.5 3.5h0m-1.5-3.5h0m-6 1.5h0m-5-1.5h0m-1 3h0m-2-3.5h0m-0.5 2h0m0-2h0m-1-0.5h0m0 2.5h0m-0.5 0.5h0m0 1.5h0m-0.5 0.5h0m-4.5-4.5h0m-2 1h0m0 4h0m-0.5-2h0m-2-2h0m-1-0.5h0m-1-0.5h0m-1 1.5h0m-0.5 0.5h0m-2.5-1h0m-26 9h0m24.5-1h0m1-0.5h0m8.5-1.5h0m0.5 0.5h0m0.5 0h0m2 0h0m2 1h0m0 2h0m0-1h0m2.5-2.5h0m1-1h0m5.5 5h0m3-3h0m0-1h0m0.5 1.5h0m1 1h0m6-2h0m1 0h0m1 2h0m0-0.5h0m1-3h0m1.5 3h0m0-3h0m0 4h0m0-1h0m1.5 1h0m0.5 1.5h0m1.5-0.5h0m0.5-2.5h0m0 3h0m0-2.5h0m1.5 1.5h0m2.5-1h0m0-3.5h0m0.5 1h0m0.5 0.5h0m5.5-0.5h0m0.5 2h0m0.5 2h0m0.5-2h0m1.5 1.5h0m1.5-2.5h0m1.5 0.5h0m2 1.5h0m0.5 0.5h0m0 0h0m4-0.5h0m77-2.5h0m7 1h0m2-2h0m-3.5 5.5h0m-88 0h0m-1.5 1.5h0m0 1.5h0m-2-0.5h0m-0.5-0.5h0m-1.5 0.5h0m-1.5 0.5h0m-1.5-2h0m-3-1.5h0m-0.5 4.5h0m-0.5-0.5h0m0-2.5h0m-6-0.5h0m-1 2h0m-0.5-1h0m-1.5-1h0m0 3h0m-1.5-2.5h0m0-0.5h0m-1 1.5h0m-7.5 0.5h0m-7.5 2.5h0m-1.5-1.5h0m-3.5-0.5h0m0-1h0m-1.5-2h0m-0.5 3.5h0m-1-2h0m-1.5-1.5h0m-2.5 4h0m-1.5-4.5h0m-0.5 2h0m0-1h0m-4 1.5h0m0 0.5h0m-1 2.5h0m-2.5-2.5h0m-24.5 2h0m-12 5h0m2 1.5h0m4-4h0m1 3.5h0m0.5-1.5h0m2 2.5h0m5-6h0m0.5 4h0m5-1h0m10-2.5h0m2 5h0m4-5h0m1.5 4.5h0m5 0.5h0m3-2h0m0.5-3.5h0m3.5 5h0m1-1.5h0m4-1h0m7-2h0m4.5 2.5h0m2 2h0m2.5-4.5h0m2.5 5.5h0m5-3.5h0m3.5-0.5h0m0.5 1.5h0m3 0.5h0m1.5 1h0m3-4h0m1.5 2h0m0.5 2h0m1.5-3h0m0.5-0.5h0m1 2h0m0.5-3h0m1.5 3h0m10.5 1.5h0m-9 5.5h0m-1.5-2.5h0m-0.5-1.5h0m-4 2.5h0m-3 3h0m-3-4.5h0m0-1.5h0m-2 1h0m-1 4h0m0-3h0m-1-0.5h0m-1 3h0m-2.5 1h0m-1.5-2.5h0m-8 0.5h0m-1.5-2h0m-3.5 0h0m-3.5 3.5h0m-4.5-2h0m-1 1h0m-1-3.5h0m-0.5 2.5h0m0 1.5h0m-3-3h0m0 4h0m-2.5-3.5h0m0 2h0m-1-2h0m-1 4h0m-1-1h0m0 0.5h0m-0.5 0h0m0-4h0m-1 2h0m-2 0.5h0m-0.5 2h0m-0.5-2.5h0m-0.5-2h0m-0.5 1h0m-1.5 3.5h0m-1.5 0h0m0 0h0m-2-1.5h0m0 0.5h0m-1-2h0m0 1.5h0m0-0.5h0m-0.5 1.5h0m-0.5-3h0m-0.5-2h0m-0.5 5h0m-1 0h0m-1-0.5h0m-2 0h0m0-1h0m-1.5 0h0m-0.5-3.5h0m-2 0h0m0 0h0m0 2.5h0m-3 2.5h0m-0.5 0h0m-0.5-0.5h0m0-1.5h0m-0.5-2.5h0m-2 2.5h0m-0.5-2h0m-1.5 0.5h0m0 3h0m-0.5-1.5h0m-1 2h0m-0.5-1.5h0m-1-1h0m-0.5-1.5h0m-0.5-1h0m0 5h0m0-2.5h0m-1.5 0h0m-1.5 1h0m-0.5-0.5h0m-1.5-3h0m-0.5 5h0m-1.5-4.5h0m0-0.5h0m0 4.5h0m-2.5-0.5h0m-1.5-0.5h0m-2.5 1.5h0m-4.5-2h0m2 4h0m1.5-1.5h0m0 2.5h0m0 1h0m0 1.5h0m1-5h0m2 5.5h0m0.5-4.5h0m0.5 4h0m0.5-4h0m0 4.5h0m0 0h0m0.5-3.5h0m0 2.5h0m0.5-3h0m1 4.5h0m1-4.5h0m1 0h0m0 2h0m1.5-0.5h0m2-0.5h0m3 3.5h0m0.5-4.5h0m0.5-1h0m0.5 4h0m0-2h0m1.5-2h0m0.5 4h0m0.5-0.5h0m0.5-0.5h0m0 1.5h0m1.5-2h0m1.5 1h0m0.5-3.5h0m0 5.5h0m1-2.5h0m0 0.5h0m1-3h0m0.5 1.5h0m1.5 1h0m1 0.5h0m1 1.5h0m1-3.5h0m0.5 0h0m0 2h0m1.5-3.5h0m2 1.5h0m0 4h0m0.5-1h0m0-1h0m2-3h0m0.5-1h0m0 6h0m1-3.5h0m0 1h0m0.5-2h0m0-1h0m0.5 4h0m0.5-3h0m0.5 1h0m0.5-1.5h0m0 2.5h0m0-3.5h0m0.5 5.5h0m0.5-3.5h0m1 4h0m0.5-5.5h0m2 5h0m1.5-1h0m2-3.5h0m0 1.5h0m1 3.5h0m0.5-3.5h0m0.5 0h0m3.5 0h0m0.5-0.5h0m0.5-1.5h0m6 3.5h0m0.5 0h0m0.5 0h0m1.5-3.5h0m6 1h0m2 0.5h0m0.5 3h0m1-4.5h0m3 0h0m0.5 5h0m4-4.5h0m1-1h0m0.5 0h0m2.5 6h0m3.5-1.5h0m4.5-3.5h0m0.5-1h0m0.5 0h0m1 0.5h0m9 0.5h0m2-1h0m-12 6.5h0m-2 4h0m-4-4.5h0m-0.5 0.5h0m-0.5 0h0m-0.5 3h0m-1 2h0m-1.5-2h0m0 0.5h0m-0.5-0.5h0m0-2h0m-0.5 3.5h0m-0.5-3h0m-1.5 1h0m-6.5 0h0m0 0.5h0m-3.5-2.5h0m-1.5 4h0m-0.5-1h0m-0.5 2h0m-1-0.5h0m-1.5-1.5h0m-1 0h0m-1.5-1h0m0 2.5h0m-0.5-3h0m-6-0.5h0m-4 2.5h0m-2-3.5h0m-1 0.5h0m0-0.5h0m-0.5 4h0m-0.5-3.5h0m0 4h0m-0.5-3.5h0m0-2h0m-2.5 1h0m-0.5 2.5h0m0-1h0m-1 0h0m-1 0.5h0m0 0.5h0m-0.5-3h0m-0.5 1.5h0m0-1.5h0m-1 1h0m0-1.5h0m-0.5 4.5h0m-0.5-4.5h0m-1 2h0m-2.5 1h0m-0.5-2h0m0 3h0m-0.5-2h0m0-1h0m-2 1.5h0m0 1.5h0m-0.5-2.5h0m-0.5 3h0m-1.5-2.5h0m0-1h0m0 0h0m-0.5-0.5h0m0 3h0m-1.5 1h0m-0.5-4h0m-1 0h0m0 0h0m-0.5 0.5h0m-1 2.5h0m0-2h0m0 0h0m-2-0.5h0m-0.5 0.5h0m-2 3h0m0-2.5h0m-5-1h0m0 1.5h0m-0.5 1.5h0m-1.5-3h0m-0.5 0h0m-2 1h0m0-1.5h0m-1 1.5h0m-2 0h0m-2.5 4h0m-0.5-3.5h0m-0.5 0.5h0m-0.5 0h0m-5 2h0m-1-5h0m-2 0h0m-2 3.5h0m-1.5-1h0m-1 8h0m3 0h0m2-4.5h0m0.5 5h0m0-2h0m1 2h0m1-1.5h0m1-2h0m0.5 3.5h0m1.5-2.5h0m1.5 1.5h0m0.5-0.5h0m0.5 2.5h0m0-2.5h0m1-1.5h0m2.5 0.5h0m1 3h0m2-2.5h0m1.5-0.5h0m1-1h0m1.5-1.5h0m2.5 4h0m0.5-3.5h0m3 1.5h0m0 3.5h0m0.5-0.5h0m0-3.5h0m1 2.5h0m6 1h0m1-2h0m1-1.5h0m2 3.5h0m1-4h0m1 1.5h0m0.5-1h0m0 1.5h0m3.5 1.5h0m2.5-3h0m0.5 4.5h0m0-1.5h0m1-3.5h0m0 0.5h0m0.5 2h0m3-2.5h0m0.5 0.5h0m2.5 0.5h0m2.5 2.5h0m0.5-2h0m0.5-0.5h0m1 2h0m1-2.5h0m0.5-1h0m0 0h0m1 0.5h0m0 2h0m3.5-0.5h0m2-2h0m5.5 0h0m1.5 1h0m3.5 3h0m3-4h0m0 1h0m2 0.5h0m0.5-0.5h0m1 3h0m2-2.5h0m1 1h0m1-1.5h0m2 2.5h0m0.5-4h0m0 1h0m0.5 4h0m1.5-0.5h0m0-1.5h0m2.5 2h0m0-3h0m0 0h0m3.5 0.5h0m4 6h0m-4.5 0h0m-2.5 2h0m-0.5-3.5h0m-1.5-1h0m-0.5 4h0m0-3h0m-2.5 2.5h0m0-1.5h0m-0.5 1h0m-0.5-3h0m-2.5 5h0m-1-1h0m-3.5-3.5h0m-0.5 2.5h0m-2.5 0h0m-2 3h0m-20-2.5h0m-2.5-2h0m-6.5 0.5h0m-1 1.5h0m-1 2h0m0 0h0m-3.5-1.5h0m-0.5-3h0m-2 4.5h0m-6-1h0m0-3.5h0m-0.5 4.5h0m0-3.5h0m-1 2h0m-2.5 2h0m-2-2.5h0m-1 1.5h0m-0.5-5h0m-1 0.5h0m-1.5 1h0m-0.5 0h0m-1.5 1.5h0m-1.5 2h0m-2-4.5h0m-0.5 4h0m-0.5 1h0m-0.5-4h0m-0.5-0.5h0m-1 1h0m-2 1h0m-0.5 3h0m-1.5-4h0m-0.5 4h0m0-5.5h0m-2 2h0m-1.5-2h0m-1.5 0h0m-1.5 2.5h0m-3.5 4h0m2-1h0m5.5 0h0m0.5 1.5h0m1.5 3.5h0m1-3h0m1.5 2.5h0m1.5-2h0m0.5 1.5h0m0-3.5h0m0 2.5h0m0.5 0.5h0m0.5 2h0m1.5-1.5h0m1-0.5h0m1.5 1h0m2.5-2h0m0.5 1h0m0 1h0m0.5-1h0m0.5 0h0m3-1h0m0.5 1.5h0m1.5-3h0m3-1h0m2 2h0m2-0.5h0m1.5 1h0m1-2.5h0m0.5 1h0m1 0.5h0m0.5 2h0m0.5-3h0m6.5-0.5h0m2 4h0m5-1h0m5 0h0m1-3h0m2 5h0m0.5-3h0m0 2h0m0.5-2h0m0.5 0.5h0m4 2.5h0m1.5 0.5h0m2-1.5h0m3-4h0m0.5 2.5h0m1-1.5h0m1 2.5h0m4-2h0m2.5 0.5h0m0 1h0m4-2h0m1 3.5h0m2.5-4h0m0 2h0m1-1.5h0m1-0.5h0m4.5 4.5h0m3.5 1.5h0m-10.5 2h0m0 3h0m-1-0.5h0m0-3h0m-0.5 3.5h0m-1-1h0m-2.5 0h0m-0.5-4h0m-1 2h0m-0.5 2.5h0m-1.5 0.5h0m-2.5-4.5h0m-1 4.5h0m-0.5-0.5h0m-0.5-2h0m-1.5-2.5h0m0 2h0m-1-1.5h0m-2 4h0m-1.5 0h0m0-2h0m-0.5-0.5h0m-0.5 3h0m0-5.5h0m-1 3.5h0m-1 1.5h0m-1 1h0m0-5.5h0m-0.5 5.5h0m-1-5h0m-1 2h0m-1.5-1h0m-2.5 2h0m-2-1.5h0m-1.5 3.5h0m-1.5-6h0m-2 2.5h0m0 0.5h0m-1.5-1h0m-1.5-1h0m-0.5 4.5h0m-4-1.5h0m0-3.5h0m-4.5 1.5h0m-5.5-0.5h0m-6.5 0.5h0m-7 1h0m-2-0.5h0m-0.5 1.5h0m-5-4h0m-2 2h0m34.5 6h0m14.5-2h0m0 4.5h0m1.5-2.5h0m2.5 2.5h0m1-3.5h0m1 1.5h0m2 0h0m0.5-2h0m0.5 1h0m2 1h0m1 3h0m2-5.5h0m1 2.5h0m0 0h0m0.5 2.5h0m1-3h0m1 0h0m1.5 1h0m0.5 0h0m0 3h0m2-2h0m0.5-1.5h0m1-0.5h0m0.5-0.5h0m0 2.5h0m0-2.5h0m2.5-1h0m2 5h0m1-1h0m3-4h0m3 5h0m1.5-3h0m1.5-1h0m1 1h0m5 6h0m0 1.5h0m-4.5-2h0m-1.5 4h0m-0.5-3h0m-1 3h0m0-2.5h0m0 2.5h0m-1.5-4h0m0 0h0m0 3.5h0m0-4h0m-0.5 2.5h0m-2 1h0m-0.5-1.5h0m-2.5 0.5h0m0 0.5h0m-0.5 0h0m0 1.5h0m0-2.5h0m-1 2.5h0m-3.5-3h0m-1 0h0m0-1h0m-0.5 0.5h0m0 1h0m0-2.5h0m-0.5-1h0m-0.5 4h0m0-2.5h0m0 1.5h0m0 2h0m-2-3.5h0m0 3h0m0-0.5h0m-1 0.5h0m0-3.5h0m-1.5 1h0m-0.5 0.5h0m-1.5 0h0m0-0.5h0m-0.5 1.5h0m-0.5 2.5h0m0-4h0m-0.5 3h0m0 0h0m-3.5 0.5h0m-0.5-2.5h0m-1.5-3h0m-2 2.5h0m0-0.5h0m-3.5-1h0m-1 3.5h0m-0.5-2h0m0-2h0m-0.5 5h0m-7.5-3h0m-3 9.5h0m4.5-4h0m5 3.5h0m1-4.5h0m1.5 0.5h0m3 0h0m1 2.5h0m2 1.5h0m1-4.5h0m3.5 0.5h0m0.5 0.5h0m2 0.5h0m3-1.5h0m0-0.5h0m1 1h0m0.5-0.5h0m0.5-1h0m1 4.5h0m1-2h0m0.5 1.5h0m1.5-1h0m2.5 1h0m0.5-3h0m1.5 0.5h0m2 0.5h0m0-2h0m1 4.5h0m0.5-1h0m1-3h0m2 1h0m1-1h0m5 4.5h0m0.5-4.5h0m0.5 2h0m3.5 2.5h0m95.5 0h0m5 6.5h0m-7.5-4.5h0m-2 3h0m-91-0.5h0m-3.5-2h0m-0.5 0h0m-6 1.5h0m0 1h0m-0.5-1.5h0m-0.5-2h0m0 2.5h0m-1-2.5h0m-0.5 5h0m-10-2.5h0m-2-1.5h0m-1-1.5h0m-3 1h0m0 2h0m-0.5 1.5h0m-1 0h0m-1 1h0m-3.5-1h0m-3-1h0m0 1h0m-0.5-4h0m-3.5 1h0m-1.5 4h0m-5.5-1h0m-0.5-1h0m-4-2h0m19.5 8.5h0m0.5-3.5h0m2 0h0m1 1.5h0m3.5 0h0m6.5 1h0m3-0.5h0m0.5-0.5h0m2 0h0m0-1.5h0m2 0h0m1.5 0h0m105 9.5h0m-110.5-3h0m-3 1h0m111.5 4h0" stroke="#d98c28" stroke-width="4.5" stroke-linecap="round" fill="none"/>
<path d="M1139.5 369.5h0m-11.5-0.5h0m-4-0.5h0m-3-2.5h0m-8.5 0.5h0m-9 10h0m1-1.5h0m1.5-3h0m1 5h0m1-2.5h0m6.5 3h0m0.5 0h0m1-2h0m2.5 2.5h0m1-5.5h0m2 1h0m1.5 4.5h0m0.5-2h0m0.5-3h0m1 4h0m3.5-1h0m4 1h0m0.5-4h0m1 2h0m12.5 7h0m-4-2.5h0m-2 0h0m-0.5 3.5h0m-4-3.5h0m-2.5-1h0m-0.5 5.5h0m-3.5-3h0m-7-2.5h0m-0.5 2.5h0m-0.5 1h0m0 0h0m-2-1.5h0m-0.5 0h0m-1-0.5h0m-1 2h0m-1 0h0m-1 0h0m-4-3h0m0 3h0m-2 0h0m-5 0h0m0-4h0m-5 1h0m2 10.5h0m1.5-2.5h0m0 0.5h0m1 2h0m8-3h0m1.5-1h0m2 3.5h0m0-0.5h0m5.5 0.5h0m0.5-3.5h0m0.5 0h0m1-1h0m0.5 2.5h0m0.5 0.5h0m0-3h0m1.5 0.5h0m1.5 2h0m1.5 2h0m2.5-4.5h0m0.5 1.5h0m0.5-1h0m1 0h0m1 4h0m0.5 0.5h0m0-1h0m1.5-1h0m8.5 0.5h0m4-1.5h0m12 3h0m1.5 3.5h0m-0.5-2.5h0m-7 2h0m-9.5-0.5h0m-1 1h0m-1 0.5h0m-2.5-3h0m-1 0h0m0 2h0m-1 1h0m-0.5-3h0m-2.5 4h0m-0.5 1h0m-2-2h0m0 0.5h0m-0.5-2h0m0 1h0m-3.5 2.5h0m-0.5-5h0m-0.5 1h0m-2 0.5h0m0 0h0m-1.5-1h0m0 0.5h0m-1 2h0m-0.5-2.5h0m-0.5 0.5h0m-1 3h0m-0.5-4h0m-4 0.5h0m-1 1h0m-0.5-1h0m-1.5 1.5h0m-0.5-1h0m-0.5 0h0m-2 1.5h0m-5.5 3h0m-1.5-5h0m-4.5 5h0m-3-5.5h0m-2.5 0.5h0m1 9h0m1.5-4h0m0 2h0m3 2h0m4-1h0m4.5-1h0m9 0.5h0m2.5-0.5h0m1.5 4h0m0 0h0m2.5-0.5h0m1.5-1h0m0 1.5h0m1-5.5h0m0.5 0.5h0m1 2.5h0m0.5 1h0m2.5-1h0m0-2.5h0m1 4h0m2-1.5h0m0 0h0m0.5-2.5h0m0 4.5h0m0-3h0m2 1.5h0m0.5-2h0m1.5 4h0m1-5.5h0m0.5 1h0m4 4.5h0m1.5-0.5h0m0.5-4.5h0m2-0.5h0m2.5 2.5h0m8.5 2.5h0m4.5-2.5h0m0.5-2h0m0 9h0m-4 1.5h0m-0.5-1h0m-0.5 0.5h0m-6.5-5h0m-1.5 5h0m-1.5-4h0m-1.5 3h0m-1-0.5h0m-1 1.5h0m-0.5-3.5h0m0-0.5h0m-2-0.5h0m-2.5 1h0m-0.5 3h0m-0.5 1h0m-1.5-5h0m-0.5 5.5h0m-2-4.5h0m-0.5-1.5h0m-1.5 1.5h0m0 1h0m-0.5 2h0m-0.5-2h0m-1.5 0.5h0m-1.5 2h0m-0.5-1h0m-1-3h0m-0.5 0h0m0 4h0m-0.5-1h0m-0.5-0.5h0m-0.5 1.5h0m0-0.5h0m-0.5-0.5h0m-1.5-1h0m-0.5-0.5h0m-0.5-0.5h0m-2.5 0.5h0m-2.5 1.5h0m-2.5 1h0m-1 0h0m-0.5-1.5h0m-0.5-1.5h0m-1 0h0m-2 3.5h0m-0.5-5.5h0m-8.5 3h0m-0.5-1h0m-3 3.5h0m0-2.5h0m-6.5 2h0m-0.5 6h0m8-0.5h0m2.5 1h0m1-0.5h0m3-3h0m0.5 3.5h0m1.5-0.5h0m0 0h0m3.5 0h0m0-4h0m1.5 3h0m2-1.5h0m0 1h0m0.5-2.5h0m1 0h0m0 4.5h0m3-4h0m2-1h0m3 1.5h0m1.5 1h0m2 0h0m1.5 3h0m0.5-4h0m1-0.5h0m1 2h0m1-3h0m1 5h0m1.5-2h0m0.5-3.5h0m0.5 4h0m1-2.5h0m0.5 0h0m0.5 1.5h0m1.5 2h0m3-4h0m1.5-0.5h0m3 5.5h0m1.5-5h0m7-0.5h0m0.5 2.5h0m3.5 0.5h0m2-2.5h0m1.5 4h0m0.5-3.5h0m1.5 1h0m-5 9h0m-1 0h0m-7-3h0m0 0h0m-0.5 0.5h0m-1 2.5h0m0-4.5h0m-1.5 4h0m-5.5 0h0m-3.5-1h0m0-2h0m-1-2h0m-1 2h0m0 2.5h0m-0.5-1h0m0-0.5h0m-0.5 1.5h0m-6.5-0.5h0m-0.5 1.5h0m-3-0.5h0m-3-5h0m-1 3h0m-5.5 1h0m-1.5-0.5h0m-1 1.5h0m-2-0.5h0m-1.5-2h0m-0.5 3.5h0m-1-1h0m-2-4h0m-3 2h0m-1.5 0.5h0m-0.5 2h0m0-0.5h0m-0.5-1h0m-1 1h0m-1-1.5h0m-1-3h0m-1 1h0m2.5 5h0m0 0h0m1 4.5h0m1.5 0h0m1.5-1.5h0m1.5 1h0m0-3.5h0m0.5 1.5h0m0.5 0h0m1.5-2h0m3 2.5h0m0.5 0.5h0m0.5-3h0m2 0h0m1 5h0m6-2.5h0m1 0h0m2.5 0.5h0m1.5 1h0m1 0.5h0m1.5-5h0m0.5 1h0m1 0.5h0m5.5 4h0m0-1.5h0m4-2h0m0.5 2.5h0m0.5-4h0m1 2h0m9 0.5h0m0.5 2.5h0m1.5-2.5h0m0 0.5h0m0.5-2.5h0m10.5-0.5h0m-8 10h0m-3.5 1.5h0m-1.5-3h0m-4.5-1.5h0m-9.5 2.5h0m-1-2.5h0m-0.5 0.5h0m-0.5 1.5h0m-1.5 2h0m-0.5-5h0m0 4h0m-1.5-0.5h0m-3-1.5h0m-0.5 1.5h0m-0.5 1h0m-0.5-1h0m-2.5 1h0m-0.5 0.5h0m-1.5-3h0m-1.5 2h0m-10.5 1h0m-0.5-5.5h0m-0.5 4.5h0m-3.5-3.5h0m-3 4h0m-7.5 7h0m5.5-4h0m3-0.5h0m2.5 3h0m4-3.5h0m0.5 3.5h0m0-4.5h0m2 0.5h0m0 2h0m1 1.5h0m2.5 0.5h0m2 1.5h0m0-5h0m0.5 0.5h0m1 3.5h0m0-2h0m0.5-2.5h0m0 4h0m1.5-0.5h0m2 1.5h0m0.5-4.5h0m0.5 4.5h0m0-2h0m0.5-0.5h0m2.5-3h0m0.5 4.5h0m0.5-2.5h0m0 1.5h0m0.5 0h0m0.5 0h0m0-2.5h0m0.5 2.5h0m0 1h0m0 0h0m1-3.5h0m1.5 1h0m1.5 3h0m0.5 0.5h0m0-4h0m1 4h0m0.5-2h0m1-0.5h0m1 1h0m0 1h0m1-1.5h0m0-2h0m1.5 3h0m1-4h0m1 0h0m4.5 5h0m4-4.5h0m2 1.5h0m-0.5 7h0m-2-0.5h0m-2.5-0.5h0m-0.5-2h0m-3.5 0.5h0m-0.5 5h0m-1-6h0m-1.5 1.5h0m-0.5 3.5h0m-1 0h0m-0.5-1.5h0m-0.5-1h0m-4 0.5h0m-2.5 0.5h0m-0.5-2h0m-0.5-0.5h0m0 0h0m-0.5 1.5h0m-0.5 1.5h0m0-2h0m0 4h0m-0.5-2h0m-0.5-2.5h0m-0.5-0.5h0m0 0h0m-1 3.5h0m0-1h0m0 2h0m0-4h0m-1 3h0m-0.5-1.5h0m0 1.5h0m-0.5 0.5h0m0-4.5h0m0 5.5h0m-1-3h0m-2 0h0m-1 1.5h0m-0.5-1.5h0m-0.5 1.5h0m-1-0.5h0m-0.5-4h0m-0.5 5h0m0-2h0m0-3h0m-0.5 5h0m0-1.5h0m0-3.5h0m-3.5 4.5h0m-0.5 0h0m-0.5-4h0m-0.5 5.5h0m-1-3.5h0m-1 1.5h0m-0.5-1.5h0m-2.5 0.5h0m-2.5-1.5h0m-0.5 3.5h0m-0.5-0.5h0m-1-0.5h0m-1-0.5h0m-2 1.5h0m0-3.5h0m-3 0.5h0m-2.5 2.5h0m-0.5-2.5h0m0 3.5h0m-0.5 4h0m2-2.5h0m0.5 4h0m1.5-1h0m3 1.5h0m1.5-4h0m2.5 0h0m1 3.5h0m0.5-1.5h0m3 2h0m0 0.5h0m2-4.5h0m0.5 0h0m0.5 0.5h0m0.5-2h0m2.5 1.5h0m2 1.5h0m0 0.5h0m1.5 1.5h0m1-4.5h0m1 0.5h0m0 3h0m1-3.5h0m0.5 3.5h0m0.5-2.5h0m1.5 1h0m2-1.5h0m1 3h0m0.5-2h0m3-1h0m0.5 0.5h0m0-1h0m0.5 5h0m0.5-2.5h0m3.5 0.5h0m3.5-2h0m0.5 3h0m4 1.5h0m0.5-5h0m2.5 2h0m0 0h0m1 1h0m0.5-2h0m0.5 0.5h0m0.5 0h0m1-2.5h0m0.5 5h0m0.5-3.5h0m2-0.5h0m1.5 5h0m0.5-3h0m3.5 1.5h0m3.5-0.5h0m-4 5.5h0m-7-0.5h0m-1 0h0m-1-2h0m-0.5 3h0m-2 2h0m-3-3.5h0m-0.5-0.5h0m-0.5-1h0m-0.5 1h0m-2 3h0m-2.5-3h0m-2.5 1h0m-1.5-1h0m0 3.5h0m-1-0.5h0m-1-0.5h0m-0.5 1.5h0m-0.5-5h0m-1-0.5h0m-1 3h0m-1 1.5h0m-0.5 0h0m-0.5-2h0m-1-0.5h0m-1.5 0.5h0m-1.5-0.5h0m-1 0.5h0m0 0h0m-0.5 0h0m-1.5 2h0m-1.5-2h0m-5.5 2h0m-0.5-2.5h0m-3.5 0.5h0m-0.5 0h0m0 1.5h0m-1-4h0m-2 1h0m-0.5-1h0m-2 2h0m-1 1h0m-1.5-2.5h0m-0.5 4h0m0 0h0m-2-1h0m-1-2.5h0m-0.5 2.5h0m0 5.5h0m0.5-1.5h0m1 0h0m1-0.5h0m1.5 0.5h0m1 2.5h0m2.5-3h0m0.5 3h0m1-1.5h0m0 2.5h0m0.5-1h0m1 1h0m1-3h0m0-0.5h0m1.5 2.5h0m0.5 0.5h0m0-0.5h0m3-2h0m0 2.5h0m0 0.5h0m0-0.5h0m0.5-1.5h0m0 1.5h0m0-4.5h0m1 5h0m2-2.5h0m0.5-1h0m2 3.5h0m0-4.5h0m0.5 1.5h0m0.5 2h0m0 0.5h0m4.5-1.5h0m1-1.5h0m3 0.5h0m0-0.5h0m0.5 0.5h0m3 1h0m0 0h0m3.5 0h0m0-2h0m0.5 2h0m1 0h0m0.5 2h0m0 0h0m0.5-2.5h0m1 1.5h0m2.5-3.5h0m1.5 2.5h0m0 0.5h0m0.5-2.5h0m1.5 3.5h0m2-4.5h0m1 4.5h0m1.5-3.5h0m5.5 3h0m3-3h0m-4 5.5h0m-4-0.5h0m-2 0.5h0m-2.5 0.5h0m-2.5 1.5h0m-0.5-2h0m-1 4.5h0m-5.5-5h0m-1.5 1h0m-7-0.5h0m-4.5 2.5h0m-1 1.5h0m-1-3h0m-0.5 3.5h0m-1-5h0m0 0h0m0 4.5h0m-0.5-1.5h0m-1 1.5h0m0 1h0m-0.5-2.5h0m-0.5-1h0m-0.5-2.5h0m-1 1h0m0 1.5h0m-0.5 1.5h0m-0.5-1h0m-1-0.5h0m-1.5-0.5h0m-0.5-1h0m-0.5 4h0m-0.5-0.5h0m-0.5-2h0m-0.5-0.5h0m-2.5 0h0m0 1h0m-1.5-3h0m0 0h0m-0.5 5.5h0m-5.5 0h0m-1-2.5h0m10.5 5.5h0m2.5-0.5h0m0.5 0h0m1.5-2h0m5 2h0m1.5-0.5h0m0.5-1.5h0m0.5 3h0m1-0.5h0m0.5-1h0m6 0h0m-1 5h0" stroke="#84b03c" stroke-width="4.5" stroke-linecap="round" fill="none"/>
<path d="M1072 274.5h0m-1 0.5h0m5.5 3h0m5.5-1.5h0m-7.5 7.5h0m-4 0.5h0m2 4.5h0m6.5 2.5h0m-5 3.5h0m-6.5 3h0m-29.5 67.5h0m3.5-1.5h0m12.5 0h0m11.5 4.5h0m-11.5-0.5h0m-2.5 4h0m-1-6h0m-0.5 3h0m-1 2.5h0m-1-2h0m0 2.5h0m0-4h0m-3 3.5h0m-1.5-0.5h0m-2 0.5h0m-2 0h0m-2-2.5h0m-0.5-2h0m-1 4h0m0-2h0m-2 0.5h0m-0.5-1.5h0m-3.5 2.5h0m-14 4h0m2.5 2.5h0m3 1h0m5-5.5h0m0.5 1.5h0m1-2h0m0 2.5h0m0.5 0.5h0m0 1h0m1.5-1.5h0m2 3h0m2-4h0m0 2h0m4-0.5h0m2.5 0.5h0m0 1h0m0.5 1h0m0-2h0m1.5 0.5h0m1 0h0m0.5-3.5h0m0 1h0m1.5 3h0m1-2h0m0.5 1.5h0m0.5 1h0m3-0.5h0m0-3.5h0m0.5-1h0m0.5 5.5h0m1-3.5h0m1 1.5h0m3-1h0m2 2.5h0m1.5-2.5h0m1-1h0m10 2.5h0m1 5.5h0m-6-0.5h0m0 2.5h0m-1-1h0m-0.5 0h0m0-0.5h0m-1-1.5h0m-0.5 1h0m-0.5 1.5h0m-0.5-2h0m0 2h0m-1-5h0m-1 5.5h0m-0.5-1h0m0-1.5h0m-1 1h0m0-2h0m-2 3.5h0m0-1.5h0m-3 1h0m-0.5 0h0m0-4.5h0m-0.5-0.5h0m-0.5 4h0m0 1.5h0m-1-3h0m-1.5 1.5h0m0 0.5h0m-1 0h0m-0.5-0.5h0m-1-1h0m-3 2.5h0m0-0.5h0m-3-4h0m-1 2h0m-0.5-2.5h0m-1 5.5h0m-0.5-3h0m-0.5-2h0m-0.5-0.5h0m-0.5 0.5h0m-2.5 1h0m-0.5 1h0m-1.5 0.5h0m0 2h0m-1.5-0.5h0m0-2h0m-3-0.5h0m-0.5 1.5h0m-3.5-1.5h0m-1-2h0m0 0.5h0m-1 3.5h0m-1.5-0.5h0m-1 0.5h0m0-3h0m0-1h0m-1 4.5h0m-1.5-3.5h0m-1.5 3.5h0m-0.5-2h0m-3 3.5h0m4-0.5h0m3.5 5h0m1.5-4.5h0m3.5 5.5h0m2-0.5h0m1.5-2.5h0m0.5 0.5h0m0 0.5h0m0 1.5h0m0.5 0h0m1-4.5h0m0.5-1h0m0 3h0m0-1h0m0.5 1.5h0m1-1.5h0m0 2h0m0.5-0.5h0m1 1h0m0.5-0.5h0m0 1h0m0-2h0m1-2h0m0.5 0h0m0.5 2.5h0m1.5-2h0m1-0.5h0m0.5 5h0m0-1h0m0.5-3.5h0m1 4h0m0.5 0.5h0m1.5-2h0m0-3h0m0.5 2h0m0 2h0m0.5-1h0m1-4h0m2 1.5h0m2 0.5h0m0 3.5h0m3-3h0m1.5 0.5h0m3.5 1h0m0.5-3h0m2 3h0m0.5-0.5h0m0.5 2h0m0-5h0m1 5h0m0.5-5h0m0 0h0m1.5 5h0m2-3h0m1-2.5h0m1 2.5h0m0.5 1.5h0m0 1.5h0m2-5h0m117.5 11h0m-121.5-2h0m0-0.5h0m-2.5-0.5h0m-1-0.5h0m0-1h0m-0.5-0.5h0m-0.5 2h0m-1 0.5h0m-0.5 0h0m-1 0h0m0 0.5h0m-2 0.5h0m0-2.5h0m-1.5 4.5h0m-1-2h0m0-2h0m0-0.5h0m-1 1h0m-1 2h0m0 0.5h0m-1.5-5h0m-2 3h0m0-3h0m-3.5 4h0m-1-3h0m-2.5 1h0m-3.5 3.5h0m0-2h0m-1.5 0h0m-0.5 0.5h0m0 0h0m0-2.5h0m-3-1.5h0m-0.5 5h0m-2.5-0.5h0m0-4.5h0m-0.5 5h0m-1-1h0m-1.5 0.5h0m-2-3.5h0m-1 4h0m-1 0h0m-0.5-2h0m-0.5 2.5h0m0-2h0m0 1.5h0m-0.5-3h0m-0.5 1.5h0m-1-1.5h0m-1 2h0m0 2h0m-2-4h0m0 3.5h0m-0.5-5h0m0 2.5h0m-1-1.5h0m-1.5 3.5h0m-2-1h0m2 2.5h0m1 2.5h0m0.5-2h0m0 2h0m0.5-0.5h0m1.5 1.5h0m1 1.5h0m1.5-2.5h0m4 0h0m0.5 0.5h0m2.5-3h0m2 5.5h0m0.5-5.5h0m0.5 0.5h0m0.5 4.5h0m1-5h0m0 3h0m0 0h0m1-2h0m0 1h0m0.5-1h0m0-0.5h0m0.5 0.5h0m0.5 0h0m0 1.5h0m0 1.5h0m0-2h0m0.5-2.5h0m0.5 6h0m1-1h0m0-1.5h0m0-2.5h0m1 1.5h0m0.5-1h0m0.5 0h0m0.5 3.5h0m0.5 1h0m1.5-6h0m1 0.5h0m0.5 5h0m1-5.5h0m0 4h0m1.5 1.5h0m1 0.5h0m0.5-3.5h0m0.5 3h0m1 0h0m0.5-4h0m0.5 2h0m0-2h0m0-0.5h0m0.5-0.5h0m0.5 4.5h0m0 1h0m0-2.5h0m1-1h0m1.5-2h0m0.5 4h0m0.5-0.5h0m1-0.5h0m2.5 2h0m0.5 0.5h0m1.5-4h0m2 0.5h0m1-2h0m0.5 4h0m1-0.5h0m0-2h0m1.5-2h0m1 5h0m0.5-4.5h0m1 4h0m1-4.5h0m8 2.5h0m103 0h0m3-0.5h0m2-2h0m0 1h0m0.5 0.5h0m0.5 1h0m0.5 0.5h0m2.5-1.5h0m2.5 1h0m1.5 1h0m4 7h0m-5.5-4.5h0m-5 5h0m-2.5 0.5h0m-111-4.5h0m-0.5 5h0m-5.5-3.5h0m-4-0.5h0m-1 0h0m0 0.5h0m-5.5 2.5h0m-1-1h0m-1.5-0.5h0m0 2h0m-1-1h0m-1-2.5h0m-2-2h0m-3 2h0m-1 2.5h0m-0.5-1.5h0m-2 1h0m0-2.5h0m-1.5 3h0m-0.5-4.5h0m-2 1.5h0m-1 0.5h0m-0.5 0h0m-1.5 0h0m-1-0.5h0m0-1.5h0m-2 0.5h0m-0.5 1.5h0m-0.5 1h0m0 0.5h0m-0.5-2.5h0m-1.5 1h0m-1 0h0m-1 1h0m-0.5-2h0m-2 1.5h0m-1-0.5h0m-3 2.5h0m-1-1.5h0m-5.5-1h0m0 3h0m-1.5-4.5h0m0.5 10.5h0m1-3h0m2.5-0.5h0m1.5-1h0m3 3.5h0m2-0.5h0m0 2h0m5.5-2.5h0m0.5-3h0m4 3.5h0m3-1h0m1.5-2.5h0m1.5 2h0m0.5 2.5h0m2.5-2h0m0 0h0m8 1h0m0-2.5h0m3.5 1.5h0m1 3.5h0m9-6h0m-10 10h0m-2 2h0m-2.5-2.5h0m-1 1h0m-1.5 1h0m-2-1h0m-9.5 0.5h0m-2.5-4.5h0m-6 3.5h0m-4.5-3h0m-10 1.5h0m0.5 4h0m6.5 2.5h0m8-1h0m2 2h0m15-2.5h0m0.5 0.5h0m4 1.5h0m1.5 2.5h0m0.5-3.5h0m2 0.5h0m2.5 1h0m2.5-2.5h0m0 2h0m0.5 1.5h0m5.5-1.5h0m2 0.5h0m5 1.5h0m0.5-2.5h0m1.5 0h0m-9.5 4.5h0m-1.5 0h0m-3.5 4h0m-1 0h0m-1 0h0m-1.5 0h0m-1.5-4h0m-1 1h0m-1-1.5h0m-0.5 0h0m-4.5-1h0m-1.5 2h0m-3.5 0.5h0m-3-1.5h0m-1.5 0.5h0m-12.5 2h0m-4.5-3h0m-5 0h0m4.5 10.5h0m19.5-4h0m15.5 5h0m2-5.5h0m2.5 1.5h0m-1.5 6h0" stroke="#3ec592" stroke-width="4.5" stroke-linecap="round" fill="none"/>
<path d="M1001 407.5h0m-6 4h0m2.5 1h0m0.5 0h0m20 1.5h0m-13.5 2h0m0-1h0m-0.5 3h0m-1-3h0m-1 1h0m0-1h0m0 1h0m-2 2.5h0m0-1h0m-1.5-2h0m-1 0.5h0m-2.5 1h0m-0.5 1.5h0m-1-1.5h0m-1 1.5h0m-2-2.5h0m-1-0.5h0m-0.5 0.5h0m-1 2.5h0m-1-0.5h0m-2-0.5h0m-6-0.5h0m-5.5 6h0m2.5 0h0m2 0h0m1 2.5h0m3.5-3h0m0 2.5h0m1-1h0m1 1h0m0.5 0.5h0m0.5-4.5h0m0 1h0m1 0h0m0 2h0m0.5-1.5h0m0 0h0m1-1.5h0m0.5 4h0m0 0h0m0.5 0h0m0-3.5h0m0.5 2.5h0m1.5 0h0m0 1h0m0.5 1h0m1-4.5h0m1.5 3.5h0m0.5-2.5h0m0.5-1.5h0m0 1h0m0.5 1.5h0m0 2h0m1-0.5h0m0.5-3.5h0m0.5 1h0m0.5-2h0m1 2.5h0m0.5-2.5h0m0 1h0m0.5-1h0m2 4h0m0-2h0m0.5 3h0m0.5-5.5h0m1 2.5h0m0.5 1.5h0m0.5-2.5h0m0.5 4.5h0m0-2h0m0.5-3h0m1 1h0m5 3.5h0m1.5-0.5h0m4 1h0m1.5 5h0m-1-5h0m-2 2.5h0m0 1.5h0m-0.5 0h0m-1-2h0m0-1h0m-0.5 0.5h0m-7 2.5h0m-1 2h0m-0.5-3.5h0m0 2h0m-0.5-3h0m-1.5 4h0m0-4.5h0m-1 2.5h0m-0.5 2h0m0-4.5h0m0 2h0m-0.5 1h0m0-1h0m-1 0.5h0m0-0.5h0m0-0.5h0m-0.5-0.5h0m0 2h0m-0.5 0h0m-0.5 0h0m-2 0.5h0m-0.5-1.5h0m-0.5-2.5h0m-3 5h0m0-3h0m-3.5 1h0m-0.5-1.5h0m0 0h0m-1 3.5h0m-1.5 0.5h0m-0.5-2h0m-0.5-2h0m-1-1.5h0m0 5h0m0-1.5h0m-1-1.5h0m-0.5 0.5h0m-0.5 3h0m-0.5-1.5h0m-0.5 0h0m0 0.5h0m-1-5h0m-1 6h0m0-1h0m-1.5 0h0m0-4.5h0m0 4h0m-1-2.5h0m-0.5 0h0m-1 0.5h0m-1 3h0m-1-1.5h0m0 0h0m-0.5 0.5h0m-0.5-2.5h0m-1.5-2h0m-2 1.5h0m-4 9h0m1-2.5h0m1.5-1h0m2 3h0m0.5-0.5h0m2.5-2.5h0m1.5 4h0m2.5-3.5h0m0.5 2h0m0.5-3h0m0 1h0m0.5 0h0m0.5 0h0m0 0.5h0m0.5 3.5h0m0-3.5h0m0.5 2h0m0 0.5h0m0-0.5h0m1-0.5h0m0.5-3.5h0m0.5 3.5h0m0.5-2h0m0.5 4h0m0.5-3.5h0m0-1.5h0m4.5 0.5h0m1 1.5h0m1 1.5h0m0.5-2h0m0.5-0.5h0m1 1h0m0 1h0m0-2h0m0 0h0m1 1.5h0m1 1.5h0m1.5 0.5h0m0.5-4h0m1.5-1h0m1 1h0m0.5 2h0m0.5 0h0m0 2h0m0-3h0m1.5 4h0m0.5-3h0m2.5 2h0m0.5-3.5h0m2 2.5h0m0-0.5h0m0 0h0m0.5 0h0m0.5-2.5h0m1 1.5h0m1-2.5h0m1 5.5h0m0.5-2h0m0 0.5h0m1.5 0h0m0.5-4h0m0 5.5h0m0-3.5h0m1 3.5h0m1.5-3h0m1 1.5h0m0.5-3.5h0m0.5 3.5h0m0.5-4h0m0.5 4.5h0m0-3.5h0m4 3.5h0m3.5 4.5h0m-1.5-2h0m0 5h0m-4-5.5h0m-1 2.5h0m-2.5 1.5h0m-2 0h0m-1-0.5h0m-0.5-0.5h0m-1.5-1.5h0m-0.5 3.5h0m0-1.5h0m-1 2h0m0-2h0m-1-2.5h0m-0.5 3h0m0-2.5h0m0 0.5h0m-1.5 0.5h0m-1-1h0m0-1h0m-0.5 2h0m0-1.5h0m0 1.5h0m-1 0.5h0m-1.5-3.5h0m-0.5 3h0m0-1h0m-0.5 1.5h0m-1.5-3h0m0 1.5h0m-0.5 0.5h0m-0.5-2h0m-0.5 0.5h0m0 1h0m-1-1.5h0m-0.5 4.5h0m-0.5-0.5h0m-1 0.5h0m-0.5-5h0m-0.5 2.5h0m-1.5 1.5h0m-1 0.5h0m-1 0h0m0 0h0m0 0.5h0m-1 1h0m-2-5.5h0m0 4.5h0m-1-4h0m0 4h0m-1-4h0m-0.5 4h0m0-0.5h0m-0.5-2h0m-3 2h0m-0.5 1.5h0m-1-3.5h0m-1-2h0m-1.5 1.5h0m-0.5 0h0m0 1h0m-1 0h0m-0.5 0.5h0m-1 0.5h0m-1.5-3h0m-2-0.5h0m-0.5 0.5h0m0 4.5h0m0-4h0m-2 2h0m-1.5-2.5h0m0 0.5h0m-2 4h0m-2-1h0m0.5 3.5h0m5 2h0m3 2h0m1.5-5h0m0 1h0m0 2h0m0.5 0.5h0m1-3h0m2.5-1.5h0m2 5.5h0m3.5-1h0m0-4h0m1.5 0h0m0.5 5h0m1 0h0m2 0h0m3-3.5h0m1-0.5h0m1.5 3.5h0m0-1h0m1-2.5h0m0.5-1.5h0m1 5h0m0-3h0m3-1h0m1 0.5h0m2.5 0.5h0m2.5-1h0m0.5 0.5h0m2.5-0.5h0m0 1h0m1-1h0m0 2h0m1 1.5h0m3.5-4h0m-2.5 8h0m-6-2h0m-3-0.5h0m-2.5 0.5h0m-1.5 2h0m-2 1.5h0m-0.5-1h0m-3.5 2h0m0 0.5h0m-0.5-4.5h0m0 1h0m-1 0h0m-4 2h0m-3.5-2h0m0-1.5h0m-12.5 1h0m19 8h0m1.5 0.5h0m2.5-4h0" stroke="#3cc4c4" stroke-width="4.5" stroke-linecap="round" fill="none"/>
<path d="M1201 194h0m4 6.5h0m-1.5-1h0m-5 3h0m-3 4.5h0m11 2h0m19.5-0.5h0m13-0.5h0m12.5 2h0m10 5h0m-6.5 1h0m-6-0.5h0m-1-1.5h0m-0.5-1.5h0m-1.5 3h0m-1-5h0m-1 5h0m-3-2h0m-1.5-1h0m-3 3h0m-0.5 0h0m-0.5 0h0m-0.5-0.5h0m-2-2h0m-1 0.5h0m-2 2.5h0m-2-1.5h0m-0.5-2h0m-3 3.5h0m-1-4.5h0m-1.5 1.5h0m-8 0h0m-5 1.5h0m-7.5 0.5h0m-14 6h0m21 0h0m0.5-0.5h0m3.5-1h0m0.5-3h0m1 5h0m0-0.5h0m0.5-2h0m3.5-2h0m3.5 0.5h0m0 1h0m0-2h0m1.5 4.5h0m0.5-0.5h0m1-1h0m0.5 2.5h0m1-1h0m0-1h0m0.5-3h0m1 3.5h0m0-3.5h0m2 1.5h0m1 3.5h0m0.5-3h0m1-2.5h0m0.5 2h0m0.5 2.5h0m2-1.5h0m0.5 0.5h0m0-0.5h0m4.5-2h0m0 2h0m0.5 0h0m1.5 0.5h0m0.5-3.5h0m1 0.5h0m2.5 4.5h0m0 0.5h0m1-3h0m4 1.5h0m0-3.5h0m9 4h0m3 1h0m-2.5 0h0m-0.5 4.5h0m-0.5 0.5h0m-3-4.5h0m-16 1h0m0 2.5h0m-0.5 0.5h0m-1 1h0m-1.5 0h0m-1.5-4h0m-2 0h0m-1 0.5h0m0 3h0m-1-1h0m-2 0.5h0m-0.5 0h0m-1-2h0m-1-1h0m0 0h0m-0.5 3.5h0m-0.5-2.5h0m-1-1.5h0m-0.5 3h0m-0.5 2h0m0-2.5h0m-0.5-3h0m-1.5 4h0m-1.5-3h0m-1.5-1.5h0m-2 1h0m-1 0.5h0m0 4h0m-0.5-3.5h0m-1-0.5h0m-2 4h0m-1-3h0m-3 1h0m-2 0h0m-2.5 2h0m-0.5-2h0m-1.5 1.5h0m-1-0.5h0m-15 7h0m0.5-3h0m15 0h0m1.5 0h0m5.5-1h0m1 1.5h0m5 2.5h0m1-3.5h0m2.5-0.5h0m2 0h0m2 2h0m4-0.5h0m0.5-2.5h0m1.5 4h0m1-2h0m2 1.5h0m0.5-1.5h0m0.5-2h0m0 0.5h0m1-1h0m0 3h0m0.5-2.5h0m0.5 5h0m0.5-1h0m0 0h0m1 1h0m1 0h0m1.5-1.5h0m1-1h0m1 1.5h0m1-4h0m1 0h0m8 2h0m0 2h0m0.5-1h0m1-0.5h0m2 2.5h0m2-5.5h0m6 5h0m2.5-1h0m3-1h0m-2 9h0m-1.5-6h0m-3 5h0m-2-2.5h0m-0.5 1h0m0 2h0m-1-2.5h0m-1 0.5h0m-3 1.5h0m-3.5-5h0m-1 6h0m0-1.5h0m-0.5-1.5h0m-0.5 2h0m-1-3h0m-0.5 2h0m0-2h0m-0.5 1h0m0 2.5h0m-0.5-0.5h0m-2-0.5h0m-0.5-1h0m0-1h0m-1.5 3.5h0m0-4h0m-2 1h0m-0.5 0h0m-3-1.5h0m-5.5 4h0m-1.5 0h0m0-5h0m-1 2h0m-2 3h0m0-5h0m-0.5 4h0m-1.5-2.5h0m-2.5 0h0m-2 2.5h0m-1.5-2h0m0-2h0m0 4h0m-1 1.5h0m-1.5-4.5h0m-0.5 4.5h0m-2.5-2h0m-0.5-1.5h0m-2 3h0m0 0h0m-0.5-5.5h0m-1.5 5.5h0m-20.5-5h0m12.5 7.5h0m1 0.5h0m0.5 0.5h0m2.5-0.5h0m0.5 2h0m0.5 1h0m1-3.5h0m1.5 2h0m2.5-1.5h0m0-1h0m0.5 1.5h0m0.5-1.5h0m0.5 1h0m1 3h0m1-5h0m2 0.5h0m0.5 0h0m2.5 3.5h0m3.5-1h0m1.5 0.5h0m0.5-1h0m0.5 2.5h0m0.5-0.5h0m1.5-2h0m0.5 2h0m2-3.5h0m1-0.5h0m4.5 4h0m4.5 0.5h0m0.5 0h0m2.5-4h0m1 2.5h0m0 1h0m0.5-3.5h0m0.5 3h0m3.5-2.5h0m1 0.5h0m0.5-2h0m1 4.5h0m0-4h0m1.5 2.5h0m3-2h0m0 4.5h0m0.5-0.5h0m2-4.5h0m0.5 2h0m2.5-2.5h0m1 0h0m1.5 5h0m2-5h0m2.5 4h0m6-2h0m3.5 9h0m-6.5-3h0m-2 2.5h0m-0.5-2.5h0m-2 1h0m-0.5 1.5h0m-4-2h0m-3.5 1.5h0m-0.5 1h0m-7.5-2h0m-2 0.5h0m-1 1h0m-1.5-3.5h0m-0.5 0.5h0m-1 1.5h0m-0.5 2h0m0-3h0m-1-2h0m-7.5 4h0m-1.5-0.5h0m-1-1h0m0-2h0m-1 3.5h0m0 0h0m-0.5 1h0m-2.5 0h0m-1-4h0m0 2.5h0m-0.5 0h0m-0.5-2h0m0 0.5h0m-3.5 3h0m-0.5-2h0m-2.5-0.5h0m-1.5 2.5h0m-2 0h0m-2 0.5h0m-1-3h0m-1 0h0m-1 0.5h0m0 2.5h0m-0.5-1.5h0m-0.5 1h0m0-1.5h0m-0.5 1h0m0-1.5h0m-0.5 0.5h0m-1.5 0.5h0m-1.5 0.5h0m-1-0.5h0m0 0.5h0m-0.5-0.5h0m-0.5-2.5h0m0-0.5h0m-0.5 2.5h0m-1-1.5h0m0-2.5h0m-0.5 4.5h0m-0.5-3h0m-0.5 2h0m-1.5-0.5h0m-4 2h0m-6-2.5h0m0.5 6.5h0m3 0h0m2.5-1h0m3 3.5h0m4.5-0.5h0m0-3.5h0m1-0.5h0m1 1.5h0m1-1.5h0m0.5 2h0m1-2.5h0m1 2h0m0.5 0h0m0.5 3.5h0m0-3h0m0.5-2h0m1.5 1.5h0m1-0.5h0m1.5 1h0m0 2.5h0m0.5-3h0m0 0h0m1.5-1h0m6.5 3.5h0m2.5 0.5h0m1-4h0m1 0h0m0 0h0m1 3h0m1.5-1.5h0m1-1h0m0.5 0.5h0m1 0h0m2 3.5h0m1-4h0m0 4h0m0.5-2.5h0m1 0h0m0.5 1h0m6.5-1h0m1-2h0m0 3h0m1.5 1h0m1.5-5h0m0 3h0m3.5-2.5h0m1 3h0m2-0.5h0m2 0.5h0m0.5 1h0m0-1h0m6.5 1.5h0m2-1h0m3 1h0m0.5-4.5h0m0-0.5h0m0.5 2.5h0m0 0.5h0m1.5-2h0m3 6h0m-0.5 4.5h0m-1.5-0.5h0m-1-3h0m-1.5 3h0m-1-1.5h0m-1.5-2.5h0m-1 0.5h0m-1 3h0m-0.5-3.5h0m-0.5 2h0m-2-0.5h0m-0.5 1h0m-3 0.5h0m-0.5 1h0m-0.5 0.5h0m0-0.5h0m-1-2.5h0m-0.5-0.5h0m-5.5 3h0m-0.5 0h0m-2-1.5h0m-1.5-2.5h0m-1.5 0.5h0m-5 3h0m0-0.5h0m-2.5-3h0m-1 0h0m-2.5-1.5h0m-2 3.5h0m0-1.5h0m-0.5 2h0m-3 0h0m-1.5 0.5h0m-0.5 1h0m-0.5-2.5h0m-0.5-1h0m-0.5 3h0m-1.5-4.5h0m-1 1h0m-1 1.5h0m-0.5 2h0m-6-0.5h0m-1.5-3.5h0m-1-1h0m-0.5 2h0m-0.5-0.5h0m-0.5 4h0m-1.5-2h0m0-2.5h0m-1 4.5h0m-0.5 0.5h0m-1.5-2h0m-0.5 1.5h0m-1-3.5h0m-1 0h0m-1 0h0m-4.5-1.5h0m-1.5 4.5h0m-1-4h0m-13.5 6h0m5.5 3.5h0m0.5-1.5h0m0.5 2.5h0m5-2h0m2-3.5h0m1 4h0m1 0h0m5 0.5h0m0.5 1.5h0m3.5-2.5h0m0-2.5h0m0.5 3.5h0m3-3.5h0m0 0h0m1 0.5h0m3.5 4.5h0m4-5.5h0m0.5 2h0m1 2h0m0-3h0m1-1.5h0m1 5.5h0m0-4.5h0m0.5 2h0m2-3h0m0 5.5h0m0.5-3h0m0-1.5h0m0 4.5h0m1-2.5h0m0-2.5h0m1 1h0m0.5 1h0m0.5-2.5h0m0.5 5.5h0m1.5-0.5h0m0-2.5h0m0-1.5h0m1 1.5h0m0 0.5h0m0 2.5h0m1-1.5h0m1.5 0.5h0m0.5-0.5h0m0.5 0.5h0m0.5-2h0m0 0h0m5.5 0.5h0m0-0.5h0m1 2h0m1-3.5h0m3.5 2.5h0m0 1h0m0.5-1.5h0m1 0h0m0.5-1.5h0m0-1h0m0 1h0m1 2h0m0-3h0m0 3.5h0m0 0.5h0m0.5 0.5h0m0.5-4.5h0m0.5 5h0m1-4.5h0m0.5 3.5h0m0-2.5h0m0-1.5h0m0 2h0m0.5-2h0m0 1h0m0.5 3.5h0m0-4h0m1 0h0m0 2.5h0m0 1h0m2-0.5h0m2.5 1.5h0m2.5-3.5h0m5 2.5h0m0-0.5h0m0.5-1.5h0m0-1h0m1.5 2.5h0m0-4h0m0 0h0m1.5 0h0m8 3.5h0m-4 5h0m-1-0.5h0m-5.5-1h0m-5.5 3h0m-1.5-4h0m0 3.5h0m-4 1h0m0-3h0m-0.5 3.5h0m0-2h0m-1.5-0.5h0m0-1.5h0m-2.5 0.5h0m0 2h0m-2 0h0m-1 1.5h0m0-0.5h0m-1 0.5h0m0-1h0m-0.5-1.5h0m-0.5 3h0m0-2.5h0m-0.5-0.5h0m-3.5 1h0m-3.5 0.5h0m-1 1.5h0m-2.5-4h0m-3.5 3.5h0m-1.5 0h0m-4 0h0m-2.5-4h0m0 1h0m-4-1.5h0m0 3.5h0m-1-0.5h0m0-3h0m-0.5 4h0m-0.5-2.5h0m-2 3.5h0m-1.5-4h0m-2.5 4.5h0m-2-2.5h0m-1.5-0.5h0m-5-3h0m-2 4.5h0m-2-2h0m-1.5-0.5h0m-3 4h0m-4 1.5h0m7 2h0m1.5-2h0m2 3h0m4-2.5h0m3.5 0.5h0m0.5 2h0m0 0h0m3-1h0m2.5-3h0m0 1.5h0m0.5 0.5h0m2.5-1.5h0m0.5 1h0m1.5-1.5h0m0 2.5h0m0.5-1h0m0.5-1h0m2 0.5h0m0 0.5h0m2 0h0m2-1.5h0m1 2h0m1.5-0.5h0m1.5 3.5h0m3.5-5h0m4 2h0m1-1.5h0m2 0.5h0m0-0.5h0m0.5 1h0m0 1.5h0m6.5 0.5h0m1 0h0m0-3h0m0.5 0.5h0m1 2.5h0m1.5-0.5h0m2.5-2h0m3.5 0.5h0m0.5 3h0m2-4h0m1.5 0h0m1-0.5h0m2.5 3h0m-2 7.5h0m-0.5-3.5h0m-2-1h0m-3 2h0m-1-2h0m0 3.5h0m-1-2.5h0m-1.5 4h0m-2-2.5h0m-2 1.5h0m0-2h0m-1-2h0m-6 3h0m-1.5 2h0m-2.5 0h0m-1-1.5h0m-0.5 0.5h0m-3-0.5h0m-1-3.5h0m-0.5 1h0m0 3h0m-0.5 0.5h0m-1.5-2h0m-3.5-2.5h0m-1.5 5h0m-1-4.5h0m-6 3.5h0m-0.5 1h0m-5-4h0m0 0.5h0m-0.5-0.5h0m-0.5 1.5h0m-3 2.5h0m-6-2h0m-6-2.5h0m13.5 6.5h0m11.5-0.5h0m4.5 3.5h0m1-3.5h0m2.5 2h0m2.5-1.5h0m0.5 1.5h0m4-1.5h0m1.5 0h0m1 2h0m1-1h0m0.5 1.5h0m0 1h0m1-2.5h0m0.5 3h0m0.5-1h0m0.5-3h0m2.5 3.5h0m0-3.5h0m0.5 3.5h0m0.5-3.5h0m5.5 0.5h0m0.5-0.5h0m0.5 0.5h0m10-1h0m-19 7.5h0m-9 2.5h0m-1-2.5h0m-1 3h0m-2.5-1.5h0m-2.5-2.5h0m-2 0h0m0 2.5h0m-1.5-2.5h0m0-1.5h0m-2.5 2h0m-3 0.5h0m-1 1h0m20 5.5h0m0 1h0m1-2h0m3-0.5h0m-2.5 10h0m-2-3h0m0.5 15h0m-1.5 0h0m-3.5 1.5h0m1.5 2.5h0m7-3h0m0.5 2.5h0m-4 6.5h0m-0.5 1.5h0m-1-3.5h0m4.5 10h0m-2 1h0m-1.5 1h0m-1 7.5h0m0.5-2.5h0m4.5 1h0m2.5 1h0m-2.5 9h0m-0.5-1h0m-2.5-4h0m0 1.5h0m-3 4.5h0m-1 7h0m-1.5 2.5h0m-45 5.5h0m3 1.5h0m3.5-1.5h0m7.5 3.5h0m-6.5 2h0m-3-0.5h0m3 4.5h0m1.5 6h0m-5 32h0m5-2.5h0m11 10h0m-6.5 0h0m5.5 1.5h0" stroke="#a8a02c" stroke-width="4.5" stroke-linecap="round" fill="none"/>
<path d="M1097 247.5h0m-7.5 0h0m-7.5 0.5h0m-8 5.5h0m3-1h0m4 4h0m3.5 0.5h0m-1.5 17h0m82 29h0m10.5 2h0m2-2.5h0m15 6h0m-29.5-1.5h0m0 4.5h0m-23.5-0.5h0m0 1.5h0m2 5.5h0m6-2.5h0m2.5-1h0m0 2.5h0m3-0.5h0m29.5 4.5h0m-6.5-2.5h0m-2.5 4.5h0m-7-2.5h0m-8-2.5h0m-1.5 1.5h0m-1-1.5h0m-2.5 5.5h0m-8.5-4.5h0m0 1h0m-0.5 4h0m-2.5-2h0m0 0.5h0m-8-1.5h0m-4.5 0.5h0m4 7.5h0m1 1h0m1-5h0m0.5 3.5h0m0-2.5h0m1.5-0.5h0m0.5 2.5h0m1-1.5h0m4.5-2.5h0m0 1h0m0 2h0m5.5 0.5h0m0.5 0.5h0m0-0.5h0m0.5 0.5h0m2.5 0h0m0 1h0m2.5 0h0m3-4h0m1 3.5h0m0.5-2h0m1 0h0m0.5 1h0m5.5-1h0m1 0h0m2.5 1.5h0m1 0.5h0m1.5 0.5h0m6.5 0h0m2 0.5h0m6.5-3h0m5.5 7.5h0m-7.5 1.5h0m-0.5-3.5h0m-0.5-1h0m-2.5-1h0m-0.5 3h0m0 2.5h0m-1 0.5h0m-1-1h0m0-3h0m-0.5 2.5h0m-1.5 0h0m-1-1.5h0m-3-3h0m0 5h0m-1-1.5h0m-4.5-1h0m-0.5-2.5h0m-1 2h0m-1-1.5h0m0 3.5h0m-1-2h0m0 3h0m-0.5-0.5h0m-2.5-1.5h0m0-0.5h0m-2 3h0m-3.5-3.5h0m-1.5 2.5h0m-0.5 0.5h0m-3.5-5h0m-0.5 4.5h0m-1-3.5h0m-0.5 2h0m0-0.5h0m-0.5-1h0m0 0h0m-1-1.5h0m-1 3.5h0m-3.5-1h0m0 3h0m-3-0.5h0m-1-1.5h0m-1-0.5h0m-1.5 2.5h0m-0.5 0h0m-1-3.5h0m0-2h0m-2.5 0.5h0m0 4h0m-0.5-1h0m-1.5 1.5h0m-1 1h0m-1-1.5h0m-2 0h0m-2 2h0m2 4h0m0.5-3.5h0m0.5 0h0m0.5 4h0m3-4.5h0m0 1h0m1.5 0.5h0m1 1.5h0m9.5-3.5h0m1.5 1.5h0m1.5 2.5h0m1 2h0m1-1.5h0m1 1h0m0.5-4.5h0m0.5 1h0m1.5-1h0m1 5h0m0-4.5h0m0 3.5h0m0.5-1h0m1.5-2.5h0m0.5 1.5h0m0-3h0m1 4.5h0m1.5 0.5h0m0-4h0m0.5 2h0m4-1.5h0m1 0h0m0.5 2h0m1 0.5h0m2-2h0m2.5 1.5h0m1.5 2h0m0.5-2h0m1.5 0h0m1.5-3.5h0m0.5 4h0m2-0.5h0m2-3h0m0.5 4h0m2 0.5h0m4-4.5h0m2.5 2h0m0.5 1.5h0m0.5 0h0m0.5-2h0m0-0.5h0m0.5 1.5h0m2 0.5h0m6.5-2.5h0m0.5 1h0m0.5 7h0m-13.5-1h0m-2.5 2h0m-0.5-3h0m0 1.5h0m-3-2.5h0m0 2h0m-0.5-1h0m-1.5-1h0m-1.5 0.5h0m0-0.5h0m-0.5 0.5h0m-0.5 1h0m-0.5 1h0m-4 0h0m-0.5 0.5h0m-0.5-1.5h0m0 1.5h0m-2.5 0h0m-2.5 1h0m-1 1h0m0-4h0m-0.5 1h0m-1.5-0.5h0m0-0.5h0m-0.5 1h0m-0.5 4h0m0 0h0m-0.5-6h0m0 4h0m-1 1h0m-1 0h0m0-2h0m-0.5 2h0m-1-3.5h0m-0.5 3.5h0m0-2.5h0m-1.5 0h0m-0.5 3.5h0m-0.5-3h0m-0.5 0.5h0m-0.5 0.5h0m-2-0.5h0m-3.5 2h0m-0.5-4.5h0m-0.5-0.5h0m0 1.5h0m-1.5 1h0m-0.5 3h0m-1.5-6h0m-1 5.5h0m0-3h0m-1.5 2.5h0m0-0.5h0m-5.5-3.5h0m-5 0h0m-0.5 0h0m0 1h0m-1 3.5h0m-1-2.5h0m-9.5-0.5h0m5 4.5h0m0.5 1.5h0m1.5 1h0m0.5-3h0m4 2h0m2 1.5h0m0-2h0m2.5-2h0m1.5 1.5h0m1.5-1h0m0 0h0m0.5 0h0m1-0.5h0m1.5 0.5h0m0 3h0m2.5 0.5h0m0.5 1h0m0.5-4h0m0 1.5h0m1 0.5h0m0.5-1h0m0 1h0m0 1h0m1-0.5h0m1-1.5h0m3.5 1.5h0m0-1.5h0m1-0.5h0m0-0.5h0m0.5 1.5h0m0.5 0h0m1.5-2.5h0m0 0.5h0m0 2.5h0m1 0h0m0.5-3h0m1 1.5h0m1 3.5h0m0-3.5h0m0-1h0m0.5 2.5h0m0-2.5h0m0.5 3h0m0.5 2.5h0m0 0h0m0-1h0m1-2h0m2.5-2h0m1.5 4h0m0-1h0m0.5 0h0m1 1h0m0.5 0h0m0.5 0h0m0-4h0m0.5 4h0m0.5 0.5h0m0.5-3h0m0 2h0m0.5 1.5h0m1-2h0m1-1.5h0m0.5 3h0m1-1.5h0m0 0.5h0m0.5-2.5h0m0.5 3h0m0.5-2h0m0.5-1.5h0m1 1h0m2 1.5h0m0 0h0m0-2h0m1-2h0m0 0.5h0m0.5 4h0m1-2.5h0m4 0h0m1.5 2.5h0m3.5-0.5h0m0.5-3.5h0m1 2.5h0m0.5 2.5h0m3.5-3h0m7-1h0m11 7h0m-17 2h0m-1-1.5h0m-4.5 0.5h0m0 1h0m-4-1h0m-3.5-2h0m-0.5 3.5h0m0-2h0m-0.5 2h0m-1-2.5h0m0 1.5h0m-1.5 0.5h0m-2-1h0m0-2h0m-1 4.5h0m-1-0.5h0m-0.5-1.5h0m0-2h0m0 1h0m-4 2.5h0m-1-3.5h0m0 2h0m0-3h0m-0.5 2h0m0-2h0m0 1h0m-0.5 0h0m0 3h0m-0.5-5h0m0 6h0m-0.5-6h0m-0.5 6h0m-0.5-4.5h0m-0.5 2h0m-2-1h0m0 0h0m0 3.5h0m-0.5-5.5h0m-2 4.5h0m-0.5-3h0m-1 2h0m-0.5 1h0m-0.5-3.5h0m0-1h0m-0.5 5.5h0m0 0h0m-0.5-3.5h0m-0.5 3h0m-1.5-3h0m-0.5-1.5h0m-1 1.5h0m0 2.5h0m0-3h0m-2 3.5h0m0-2.5h0m0-2h0m-1 1h0m-0.5 1.5h0m0 2h0m0-4h0m-1-1.5h0m0 3.5h0m-2.5-1.5h0m-1 2h0m-2.5-2h0m-1-2h0m0 3h0m-1.5 1.5h0m-0.5-3h0m-1-0.5h0m0 3.5h0m-2.5-2h0m-1-1h0m-1.5 0h0m-10.5 4.5h0m3.5 2h0m3 2h0m2-3.5h0m2 0.5h0m0 4h0m4.5-3h0m0.5 2h0m4.5-0.5h0m1.5-0.5h0m1.5 1h0m0.5-2h0m1.5-0.5h0m2 0h0m1 2.5h0m0-3.5h0m1 1.5h0m1.5 2.5h0m0.5-2.5h0m0-1.5h0m0.5 0h0m0-0.5h0m1.5 5h0m0-4h0m2.5 4h0m1.5 0h0m0.5-2.5h0m0.5-0.5h0m0 3h0m0-1h0m1.5-2.5h0m0-1h0m2 4.5h0m0.5-4.5h0m0.5 3h0m0.5-1.5h0m0-1h0m1.5 1.5h0m1 1.5h0m1.5 0h0m2-0.5h0m1 1.5h0m0-2.5h0m3 0.5h0m0 0.5h0m1 1.5h0m0-1.5h0m0 1.5h0m1.5-1h0m1 2h0m0-5h0m5 4.5h0m1.5-3h0m1 0.5h0m0 2h0m1.5-4h0m3 0h0m6-1h0m-3 12h0m-7.5-3.5h0m0-1h0m-0.5 0.5h0m-1 2.5h0m-6-3.5h0m-2 0h0m-3.5 4h0m-1.5-0.5h0m-2.5-2h0m-0.5 2h0m-3.5-3h0m-0.5 2.5h0m-4 0.5h0m-2-1h0m-1 1h0m-1.5 0.5h0m-3-0.5h0m-1 0h0m0-4.5h0m-1.5 3h0m0-1.5h0m-0.5 2.5h0m-1 2h0m-0.5-2.5h0m0-2h0m0-0.5h0m0 0h0m-1 1.5h0m-1-1.5h0m-0.5 0h0m-1.5 0h0m-0.5 0.5h0m-1 1h0m-2-0.5h0m-0.5-0.5h0m-0.5 2.5h0m-0.5-2.5h0m0-0.5h0m-1.5 3h0m0-2.5h0m-4.5 2.5h0m-1 1.5h0m0-2h0m6.5 4h0m2 3.5h0m3.5-1.5h0m2 0.5h0m0.5 0h0m5.5-3h0m5.5 2.5h0m0.5 1.5h0m0-4.5h0m4 2h0m1 0.5h0m0 2h0m2.5-2.5h0m1.5-1.5h0m0.5 3h0m3-3h0m1.5 2h0m0.5 2.5h0m4-5h0m6 4.5h0m1-1h0m5-1.5h0m1 5h0m-11-1h0m-6.5 2h0m0-1h0m0 0h0m-3 0.5h0m-1 0.5h0m-1-1.5h0m-0.5-0.5h0m-1.5 4.5h0m-3.5-4h0m-5-0.5h0m-5.5 1h0m0 0h0m0 2h0m-4.5 2h0m-0.5-2.5h0m-18 0h0m24.5 3.5h0m4 5.5h0m3-3h0m1-0.5h0m7-1h0m8.5-0.5h0m0.5 3.5h0m10 3h0m-14.5 2h0m-5.5 1h0m-6.5-1.5h0m-0.5-1.5h0m-5-0.5h0m-14 6h0m48 1.5h0m18 5.5h0m2 9.5h0m26-4.5h0m3.5 0.5h0m-8.5 6h0m-9 2.5h0m-2 0.5h0m-1-3h0m11.5 4.5h0m-10 7h0m-5.5 2.5h0m-2-3.5h0" stroke="#3fbf4c" stroke-width="4.5" stroke-linecap="round" fill="none"/>
<path d="M1109.5 186h0m15.5 5h0m-1.5-0.5h0m-6.5 0.5h0m-3 0.5h0m-7.5-2h0m-9.5 8h0m5-2.5h0m2-2.5h0m0 4h0m0.5 0h0m1-0.5h0m0-0.5h0m0.5 0.5h0m1 1.5h0m2-1.5h0m0.5 0h0m0.5-3h0m1 0.5h0m2.5 3.5h0m0.5 0.5h0m0.5 0.5h0m1-4.5h0m1 4h0m0.5-2.5h0m0.5 2h0m0.5-1h0m1-2.5h0m1.5 4.5h0m2-4.5h0m0 2h0m2.5 0.5h0m1.5 0h0m0 2h0m2-0.5h0m1 0h0m0.5-0.5h0m1-0.5h0m0-2.5h0m1-0.5h0m3 0.5h0m0.5 0h0m1-2h0m1.5 0h0m14.5 12h0m-7.5-3h0m0 2.5h0m-4 0h0m-0.5-3h0m-4 3.5h0m-1-2h0m-2-0.5h0m0-2.5h0m-1 2h0m-1 1.5h0m-0.5-0.5h0m-1.5-3.5h0m0 4.5h0m-1-2.5h0m-0.5 1h0m-2-2h0m0 3h0m-0.5 0h0m-0.5 0h0m-4 0h0m-0.5-1.5h0m-0.5-0.5h0m0 1h0m-1-1.5h0m0 1.5h0m-1 1h0m0 1.5h0m-0.5-3.5h0m-0.5 3h0m-1 0.5h0m-2-3h0m-0.5 1.5h0m-1.5 1.5h0m-2.5-0.5h0m-1.5-0.5h0m0-3h0m-0.5-1h0m-0.5 1h0m-0.5-0.5h0m0 4.5h0m-0.5-4.5h0m-1.5 2.5h0m-1-3h0m-2 1.5h0m-0.5 2.5h0m-0.5-2.5h0m-0.5 1h0m-6 0h0m-3 0.5h0m-2-0.5h0m0-3h0m-10.5 7.5h0m10.5-0.5h0m1 3.5h0m2 0h0m1 1h0m0.5-2h0m1.5-3.5h0m11 4h0m1.5-1h0m4 1h0m0 0h0m4-2h0m0 1.5h0m0.5-4h0m0.5 3h0m0.5-2h0m0 4.5h0m0-3h0m0.5 3h0m0.5-4.5h0m0.5 4h0m1.5 0h0m0.5-0.5h0m0.5-4h0m0.5 5h0m0-5h0m1 2.5h0m0-2.5h0m0.5 4.5h0m1-0.5h0m0-3.5h0m2.5 2h0m1-0.5h0m3 3.5h0m0.5 0h0m2-1h0m0.5-0.5h0m1-2h0m1-0.5h0m1-0.5h0m1.5-1h0m0 0.5h0m0.5-1h0m2 1h0m3 1h0m8.5-0.5h0m2 4h0m5-5.5h0m0.5 3.5h0m0.5-1.5h0m2.5 3.5h0m1-1h0m3.5-1.5h0m5.5 8h0m-3-4.5h0m-3.5 2.5h0m0 1.5h0m0 1h0m-0.5-3h0m-0.5 0h0m0-0.5h0m-2-1h0m-2.5-1h0m0 2h0m-0.5 1.5h0m0 2h0m-3-1h0m-2-4.5h0m-2 2h0m-3 3h0m-2.5 0.5h0m-0.5-0.5h0m0-1h0m-0.5-3h0m-1.5 1.5h0m-1 0.5h0m-3 2h0m-0.5-2h0m0 1.5h0m-1-0.5h0m0-1h0m-3.5-1.5h0m-0.5 4h0m-1.5 0h0m-0.5-5.5h0m-1 1.5h0m0 0h0m-0.5 0h0m-1.5-1.5h0m-1 3.5h0m-1-3h0m-0.5 3.5h0m-5-2h0m-0.5 0.5h0m-0.5-2.5h0m-2 2.5h0m-0.5 3h0m-1.5-4h0m-0.5-1.5h0m-2 2h0m0-2h0m-6.5 2h0m0-0.5h0m-1-1h0m-1.5 0.5h0m-0.5-1h0m-2.5 4.5h0m0 0h0m0 0h0m-0.5 1h0m-1.5-2h0m-2 0h0m-2.5 2h0m-0.5-3.5h0m-0.5 0h0m-1 3h0m-2-2h0m-2.5-2h0m0 3.5h0m-1 1h0m-1 0h0m0-1.5h0m-0.5-3h0m-0.5 1.5h0m-1-0.5h0m-0.5 0h0m-0.5 2.5h0m-0.5-1.5h0m1.5 7.5h0m0.5-4h0m0 1.5h0m1.5 0.5h0m1.5 1.5h0m2.5-1h0m3.5 3h0m5-1.5h0m2 0.5h0m0-2h0m1-3h0m1.5 1h0m0.5 4h0m1.5-3h0m1.5 3.5h0m2-2.5h0m0.5-3h0m2 1h0m1.5-0.5h0m0 2.5h0m0.5 2h0m0.5-5h0m0.5 2.5h0m0.5 2h0m1.5 0.5h0m0.5-0.5h0m0-4h0m0.5 2.5h0m0.5 0h0m1-1h0m0 3h0m4.5-0.5h0m3-0.5h0m1-0.5h0m0-0.5h0m0-2.5h0m1.5 1h0m2 4.5h0m1.5-3.5h0m0 0h0m0.5 3h0m0.5 0h0m3-2h0m1.5-0.5h0m1 0h0m0-3h0m1 5h0m2.5-1.5h0m1.5 1.5h0m1-3h0m1 0.5h0m1.5 2h0m1.5-1.5h0m1 2h0m0.5 0.5h0m0.5-2.5h0m0.5-2h0m1 3.5h0m0 0.5h0m1-3h0m0.5-1.5h0m2.5 2.5h0m1.5 0h0m0 1.5h0m1.5 1h0m0.5 0.5h0m0.5-2h0m0.5-3h0m11.5 5h0m7.5 5.5h0m-1.5-0.5h0m-4.5 0.5h0m-9-3.5h0m0-1.5h0m-0.5 0.5h0m-0.5 0.5h0m-1-1h0m0-0.5h0m-1.5 0.5h0m-0.5 3h0m0 0h0m-2.5-2.5h0m-1.5 4h0m-2-3h0m0 2.5h0m-1-2.5h0m0 4h0m-1.5-3h0m0-1.5h0m-2 1.5h0m0 2.5h0m-1-3.5h0m-1.5 1h0m0-3h0m0 5.5h0m-1-1.5h0m0-0.5h0m-1 1.5h0m0-2.5h0m-0.5-2h0m-1 5.5h0m-0.5-1.5h0m-0.5-3.5h0m-0.5 5h0m-1-3.5h0m-1-1.5h0m-2.5 2.5h0m-0.5 2h0m0-3.5h0m-1.5 2.5h0m-0.5-1h0m0-2h0m0 0h0m-2-1h0m-0.5 0.5h0m-6.5 3h0m0-2h0m-1.5 0h0m-0.5-1h0m-1-0.5h0m-0.5 1.5h0m0 0.5h0m-5-0.5h0m-1-1.5h0m-1.5 5h0m-2.5-1.5h0m0 0h0m-0.5 0.5h0m-0.5-1.5h0m-1-0.5h0m-0.5 2h0m-1.5-3.5h0m-0.5 1.5h0m-0.5 0.5h0m-0.5-2.5h0m-1 0h0m-1 5h0m-1-2h0m-1 1h0m-0.5-4.5h0m0 3.5h0m-1 1.5h0m-5.5-2h0m-4 1h0m-1.5-3.5h0m-3.5 2.5h0m-1.5-0.5h0m-1.5-2h0m9.5 6.5h0m10.5 3h0m3-3h0m3.5 1.5h0m3.5 2h0m1 0.5h0m1.5-2.5h0m4 2h0m1-2.5h0m1-2h0m0 0h0m1 2.5h0m0.5 0h0m0.5-2.5h0m0.5 1.5h0m0.5 4h0m0.5 0h0m0.5-5.5h0m0 5h0m1.5 1h0m1.5-6h0m2 6h0m2-6h0m1.5 4.5h0m2-3.5h0m2 1.5h0m0.5-2.5h0m0 4h0m1-3.5h0m0 3.5h0m1-3h0m1 3h0m1-4h0m0 3.5h0m0.5 1h0m0.5-3h0m1-0.5h0m0.5 2.5h0m2 2h0m0.5-1.5h0m0-1h0m0.5-2.5h0m1 5h0m1-0.5h0m0.5-2.5h0m0.5 1.5h0m1.5-3h0m0.5-0.5h0m0.5 1h0m0-1.5h0m0.5 1h0m0.5 4.5h0m0.5-4.5h0m0.5 2.5h0m0.5 2h0m1-2h0m0-1h0m0.5 3.5h0m1-0.5h0m0.5-4.5h0m0 3.5h0m2.5-3h0m11 1h0m6.5-1h0m0-0.5h0m-7 5.5h0m-3.5 4.5h0m-5.5-3.5h0m-5.5 1.5h0m0 0.5h0m-0.5 1h0m0-3h0m-1 4.5h0m-1-2h0m-0.5-3.5h0m-2.5 3.5h0m-1 0h0m0-3h0m-2.5 2.5h0m-0.5-0.5h0m0 0h0m-1-0.5h0m-0.5-1h0m-0.5 1.5h0m-1 3h0m-1.5-5.5h0m0 2.5h0m-1-2h0m-1.5 4h0m-4-1h0m-0.5-1.5h0m-3 3.5h0m-1-2h0m-1 2h0m-0.5-4.5h0m-0.5 4h0m-1-2h0m-0.5 2h0m-1-1.5h0m-5-3h0m0 5h0m-0.5-3h0m-1 2h0m-3.5 0.5h0m-5.5 0h0m-2-5h0m-0.5 4h0m-2-2h0m-0.5-1.5h0m-2.5 3.5h0m0 0.5h0m-2-3h0m-2-0.5h0m-2.5 3.5h0m0-1.5h0m-5.5-3h0m-1.5 0h0m-0.5 2.5h0m1.5 5.5h0m3 3h0m0 0.5h0m4-1h0m2.5-0.5h0m1-1h0m1.5-2.5h0m0 3h0m3.5 1.5h0m1.5-3h0m2.5-1.5h0m1 2.5h0m0 0.5h0m1.5-1.5h0m1 1.5h0m2-3h0m0-0.5h0m2 0h0m5 1h0m1.5 3h0m0.5-0.5h0m2 0.5h0m2-3.5h0m0.5-0.5h0m0.5 1h0m0 2h0m0 0h0m2-0.5h0m1-3h0m0.5 4h0m0-2h0m0-1.5h0m3.5 3.5h0m1-0.5h0m2-3h0m0 3h0m2-3h0m1 0.5h0m1.5 3h0m1 0.5h0m0.5-2.5h0m1.5 2.5h0m0-2h0m1-1h0m1.5 0h0m0 3h0m1.5 0.5h0m1.5-1h0m1-2.5h0m0.5-1.5h0m0 4.5h0m0-1.5h0m0.5-2.5h0m1 0h0m0.5 5h0m1-2.5h0m0 1h0m1.5-1h0m0.5-1.5h0m1 1.5h0m0.5-1.5h0m3 1h0m20.5 0h0m6 1h0m-10.5 3h0m-8.5 5.5h0m-2-3h0m-3-1h0m-1.5 0.5h0m-3 1h0m0 0.5h0m-1.5-1h0m-8.5-0.5h0m-1 0h0m-5-0.5h0m-1 2h0m-1.5-3h0m-2 5h0m-0.5-4.5h0m0 3h0m0-2.5h0m-1.5-1h0m0 2h0m-0.5 0.5h0m-1-0.5h0m-0.5 0.5h0m-1 2h0m0-2.5h0m-0.5-2h0m0 2.5h0m-2-1.5h0m0 4h0m-4-5.5h0m-4 1h0m-2 0h0m-2.5-0.5h0m-2.5 1.5h0m-1 2h0m0 1h0m-0.5-4.5h0m-2.5 3h0m-2-3.5h0m-2.5 5.5h0m-1-4.5h0m-1.5 2h0m-1.5 2h0m-0.5 0.5h0m-0.5-5.5h0m-1.5 0.5h0m-0.5 2.5h0m-1-2h0m-2.5 4h0m-3.5-4.5h0m-4 7.5h0m1.5 1h0m3.5 1h0m4-3.5h0m3.5 0.5h0m1.5 3h0m1.5-3.5h0m1-0.5h0m0.5 0.5h0m0-0.5h0m0 0.5h0m0.5 0.5h0m0.5-1h0m1 0.5h0m1.5 3h0m1-1h0m1-1.5h0m1.5-1h0m0.5 3.5h0m0 2h0m1.5-0.5h0m1-1.5h0m0.5 0h0m1.5-0.5h0m0.5-2h0m0.5 3h0m2.5 1h0m0.5 0.5h0m6-5.5h0m1 5h0m1.5-0.5h0m2-3h0m3 3.5h0m0.5-3h0m1.5-1.5h0m1 1h0m0.5-1h0m1.5 1.5h0m0 0.5h0m3 0h0m2-2.5h0m1 3h0m0.5-3.5h0m4.5 0.5h0m1.5 1.5h0m0.5 1h0m0-0.5h0m0.5 3.5h0m0-3h0m1 2.5h0m1-4h0m1 4h0m5.5-5h0m17 2.5h0m7.5 4.5h0m-5-0.5h0m-1 3h0m-1 1.5h0m-2-2h0m-17-1.5h0m-3 4h0m-1-3.5h0m-1-0.5h0m-1.5 2h0m0-3.5h0m-1.5 1h0m-1.5-0.5h0m-3-1h0m-0.5 4.5h0m-1-3h0m-0.5-1h0m-0.5 2.5h0m0-1.5h0m-4-1h0m-2 0.5h0m-1.5 3.5h0m-0.5 1h0m-2.5-0.5h0m-2.5-0.5h0m-1-2.5h0m-2-2h0m-0.5 3.5h0m-0.5-1.5h0m-2.5 2.5h0m-0.5-1.5h0m-7-2h0m-3.5 2h0m0-1h0m-1 0h0m-17.5-1h0m0-1h0m-7.5 5.5h0m-0.5-5h0m36.5 10.5h0m2.5-4.5h0m6.5 4h0m0-0.5h0m1-1h0m4 1h0m1-2.5h0m0.5 1.5h0m0.5-1h0m1-1h0m0 3.5h0m0.5-3h0m0.5 0.5h0m0.5 2h0m0 0.5h0m0.5-2h0m0.5 0.5h0m0.5-2h0m1.5 3.5h0m1.5-4h0m0.5 5h0m2.5-5h0m0 5.5h0m4-2.5h0m0.5-2.5h0m2 0h0m0.5 4h0m3-0.5h0m0.5-2h0m3-0.5h0m3.5-0.5h0m7 0h0m3 3h0m-0.5 5h0m-16-1.5h0m-1.5 1.5h0m-1-3.5h0m-2 5.5h0m0-2h0m-1.5 1.5h0m0 0h0m-2-1.5h0m-1.5 1h0m0 0h0m-0.5-2h0m-1 1h0m-0.5 0.5h0m-0.5-1.5h0m-1 1h0m-3.5 0.5h0m-2-3.5h0m-3 0.5h0m-1 1.5h0m-3-1.5h0m0 3h0m-4-2.5h0m-4 3h0m-10 3.5h0m4.5 3.5h0m1.5-3.5h0m1.5 3h0m1.5-0.5h0m0.5 0.5h0m0.5 0.5h0m2.5-3h0m7 3h0m4-5h0m0.5 3h0m0.5-1.5h0m2.5 0h0m0.5-0.5h0m0-1h0m0.5 3h0m1 2.5h0m1-6h0m1 1h0m2 4.5h0m0-0.5h0m0.5-2.5h0m1.5 3h0m0.5-2h0m2.5-1h0m0-1h0m2-1h0m0.5 1h0m0.5 1h0m0 0h0m0-2h0m17 3h0m0-2.5h0m7.5 1.5h0m6.5-1h0m-3 5h0m-1 3h0m-27 1h0m-1.5-1.5h0m-2.5-0.5h0m0-2.5h0m-1 1.5h0m-1.5 0.5h0m-1-0.5h0m-2 4h0m-2 0h0m0-2h0m-1-2h0m-2.5-1.5h0m-1 0h0m-0.5 0h0m-4.5 5.5h0m0-1h0m-2 1h0m-5.5-2h0m-0.5-3h0m-1.5 2.5h0m-2.5-1.5h0m-0.5 2.5h0m-3-3.5h0m-3.5 2h0m0-1h0m5 5h0m5.5 4h0m1.5 0h0m1.5-1h0m2-2h0m2.5 0h0m1 0h0m7 2h0m4.5-0.5h0m2.5 1h0m13.5 1h0m2.5 0.5h0m8 2h0m-3 1h0m-3 1h0m-5-1h0m-4-1.5h0m-6.5 4.5h0m-0.5-0.5h0m-8-2.5h0m-1 2h0m-2-2.5h0m-7.5 3.5h0m-2.5-2h0m-8.5 2.5h0m19.5 5h0m0.5-1h0m2.5 0h0m6 1.5h0m2 0h0m1-3.5h0m0.5 0.5h0m3.5 0.5h0m0-2.5h0m3.5 1h0m0.5-0.5h0m0 0h0m2 1h0m0.5 3h0m3-1h0m5.5-3h0m1-0.5h0m5.5 1.5h0m-9.5 9.5h0m-2-2.5h0m-4-3h0m-9 1h0m-1 0.5h0m-1-0.5h0m-0.5 2h0m0 0h0m-0.5 2.5h0m-1.5-3h0m-7.5 3.5h0m-1.5-6h0m-1 0.5h0m-2 3.5h0m-2-2.5h0m-2 7.5h0m2 1.5h0m3-3h0m0.5-1h0m0 2.5h0m2-2h0m4-0.5h0m-4.5 8.5h0m-6.5-2.5h0m-3 2.5h0m-8.5-0.5h0m-1-2h0m-1 5.5h0m-7.5-2.5h0m-1 4h0m3 1.5h0m7.5-2.5h0m-9.5 7h0m-7.5 1.5h0" stroke="#ee6c6a" stroke-width="4.5" stroke-linecap="round" fill="none"/>
<path d="M1293.5 173h0m3 5.5h0m0 1.5h0m0 0.5h0m3 0h0m2.5 4.5h0m-86.5 190.5h0m0.5 2.5h0m1-2.5h0m4.5-3h0m4.5 5h0m0.5 0h0m0.5 0h0m0.5-1h0m1.5 0h0m12 0h0m5 1.5h0m6.5 6h0m-1.5-1.5h0m-5-2h0m-0.5-1h0m-3 0h0m0 2.5h0m-2-0.5h0m-0.5 0.5h0m-0.5-1.5h0m-1.5-1h0m-0.5 0.5h0m-0.5 1.5h0m0-2.5h0m-0.5 3.5h0m-0.5-4h0m-0.5 2.5h0m-0.5 2h0m-1 0.5h0m-1.5-3.5h0m-2.5 0h0m-1-1h0m-1.5 2h0m-1 1h0m-3.5-2h0m0 0.5h0m-3.5-1.5h0m-6.5 1h0m-0.5 0h0m0 1.5h0m-7.5 5h0m4-1.5h0m1 0h0m2.5 2.5h0m1-1h0m3.5 3.5h0m1.5-1.5h0m1 1.5h0m2-1.5h0m1 0h0m0 0.5h0m1 0.5h0m0.5-2.5h0m0 1h0m0.5 1.5h0m0-3h0m1-0.5h0m2 0.5h0m2-2h0m0.5 2.5h0m0.5 2h0m1-0.5h0m1 0h0m2-3.5h0m0 1h0m1-2h0m0 5.5h0m1.5-5h0m1 2h0m0 1.5h0m0.5-2h0m0.5 3h0m0.5-2h0m0.5 3h0m0.5-3h0m0.5 2.5h0m1-3h0m1 2.5h0m1-0.5h0m0.5-0.5h0m0.5 1.5h0m5.5-1.5h0m1 1h0m-2 2h0m-0.5 0h0m-1.5 0.5h0m0 4.5h0m-5.5-3.5h0m0-1h0m-2 2h0m-1.5-3h0m-1 1h0m-1 4h0m-1-2.5h0m0-1.5h0m-1.5 0h0m-4.5 4h0m0-0.5h0m-1.5 0h0m-1-2.5h0m0 2h0m0-1.5h0m-1 0h0m-0.5-2.5h0m-4.5 1.5h0m-2.5 2.5h0m-3-3.5h0m-1-1h0m-1 3.5h0m-1 2.5h0m0-4.5h0m-0.5 1h0m-0.5-2.5h0m-0.5 2.5h0m-1-2h0m-1 0.5h0m-2 0.5h0m-1.5 1h0m-0.5-1h0m0 3h0m-5.5 1h0m-0.5-2.5h0m-0.5-1.5h0m-2 10h0m0.5-1h0m1 0.5h0m2.5 0h0m2.5-4h0m0-0.5h0m0.5-0.5h0m0.5 4h0m0.5-1h0m3.5 1h0m0.5 1h0m1 0.5h0m0-4.5h0m0.5 3.5h0m1-4.5h0m1 1.5h0m0-1h0m0 0h0m2.5 1.5h0m1 2h0m4-2h0m2 0.5h0m0-0.5h0m1 1h0m1 0h0m0.5-2h0m1.5 2h0m5.5-2h0m1 0.5h0m0.5 0.5h0m3 0.5h0m0 3.5h0m0.5-1.5h0m1-1.5h0m3 2.5h0m5.5-2.5h0m1-2h0m0.5 0h0m3 4.5h0m8-4h0m-10 8.5h0m-1-3.5h0m-2 3.5h0m0 1.5h0m-1.5 0h0m-0.5 0h0m-1.5-3h0m-4 3h0m0-5.5h0m-1 5.5h0m-1-1h0m-1-1h0m-0.5 1.5h0m-1-0.5h0m0-1.5h0m-1-0.5h0m-0.5 0.5h0m-1 2h0m-0.5-3.5h0m-2 3h0m-2.5 0h0m0-4h0m-1.5 0.5h0m-2 0h0m-2-0.5h0m-2.5 0h0m-0.5 3h0m-2-1h0m-0.5-0.5h0m0-0.5h0m-2 3.5h0m0-3h0m-2 2.5h0m-1-4h0m0 4.5h0m0-4h0m0 3.5h0m-2.5-1h0m-2 1h0m-2-3h0m-3 2.5h0m3 3h0m5 2.5h0m3 2h0m1-4h0m1-0.5h0m0.5 4.5h0m0-1.5h0m0 1.5h0m2.5-2.5h0m1-3h0m0.5 1.5h0m0.5 2.5h0m1 0h0m1 0.5h0m0.5 0h0m1-3h0m1-0.5h0m0-1h0m0.5 5h0m0-3.5h0m0.5 1.5h0m1-1h0m2 4h0m0.5-5h0m1.5 3.5h0m0 0h0m0.5 0h0m0-1h0m0.5 1h0m0-4h0m0.5 3.5h0m0 0.5h0m1.5-4h0m2 5.5h0m2.5-4.5h0m1.5 3h0m0.5-1.5h0m0.5 0h0m0.5 0h0m0 2h0m0.5-3h0m5 1.5h0m1-3.5h0m-2 8h0m-2.5-1.5h0m-3.5 4h0m-5-4h0m-1.5 5.5h0m-0.5-4h0m-0.5 2.5h0m-2 1h0m-0.5-4h0m-0.5 2.5h0m0-2.5h0m-3 3h0m-1-3h0m-2.5-0.5h0m-0.5 1h0m-5 2.5h0m-1.5-0.5h0m-0.5-0.5h0m-4.5-3.5h0m4 7h0m2 0h0m3.5 2h0m5.5-1.5h0m1.5 0.5h0m6 0h0m1.5 2h0" stroke="#6a8fd8" stroke-width="4.5" stroke-linecap="round" fill="none"/>
<path d="M1350 371h0m-6-1h0m-4-2h0m-1.5 1h0m-0.5-0.5h0m-0.5 0.5h0m0-1.5h0m-1.5 2.5h0m-5.5-2.5h0m-0.5 2.5h0m-0.5 2h0m-0.5-2.5h0m-6 2h0m1 6.5h0m0-3h0m0.5-1.5h0m1 2h0m1 2h0m1.5-4.5h0m2.5 1.5h0m0.5-1.5h0m4-0.5h0m0.5 4h0m0.5-4h0m0.5 4.5h0m1.5 0.5h0m1.5-4.5h0m0 4.5h0m1-0.5h0m0.5-2.5h0m0 2h0m0-2h0m1.5-2h0m0.5 0.5h0m5 4.5h0m0.5 0.5h0m0-3h0m1.5 0.5h0m0.5-1.5h0m1 3h0m2 0h0m1.5-1h0m1 0.5h0m2.5 0.5h0m3 4.5h0m-5.5 2h0m-3 0h0m-0.5-4.5h0m0 3h0m0-1h0m-3 0.5h0m-1 1.5h0m-1-0.5h0m-1.5 1h0m-1-4.5h0m0 2.5h0m-0.5 2h0m-0.5-5h0m-0.5 3.5h0m0-2h0m-1.5 4h0m-0.5-4.5h0m0 4.5h0m-2.5-5h0m-0.5 1.5h0m-1-1h0m-0.5 3h0m-2-1h0m-1.5-1.5h0m0 3h0m-0.5-4.5h0m-0.5 1h0m-0.5-0.5h0m-3.5 1.5h0m-2.5-1.5h0m0 3.5h0m-0.5-0.5h0m0-3.5h0m-1 1.5h0m-0.5-1.5h0m5 10.5h0m2.5-3h0m0 3.5h0m1-1.5h0m1-3.5h0m0 2.5h0m1.5-0.5h0m0 3h0m2 0h0m0-1.5h0m0.5-1h0m0.5 0h0m1 0.5h0m2-2.5h0m2 0h0m2 3h0m0.5 0.5h0m0.5-1.5h0m0-1h0m1 3h0m1 1h0m0.5-1.5h0m0-0.5h0m0.5 0.5h0m0.5 0h0m0.5-3.5h0m0.5 4h0m1-5h0m0 2.5h0m0.5-0.5h0m0 4h0m0-5.5h0m0.5 1h0m1 4h0m2-1.5h0m1-2h0m3 0.5h0m2 0.5h0m1 7h0m-3.5-3h0m-0.5-0.5h0m-0.5 1h0m-0.5-0.5h0m-3.5 2.5h0m-0.5-1h0m0-0.5h0m-0.5-2h0m0 0.5h0m-2 5h0m-0.5 0h0m-1.5-4h0m-1.5 3.5h0m0 0h0m0-0.5h0m-0.5 0h0m-1.5 0h0m0-3h0m-0.5 2.5h0m-0.5 1h0m-1-5h0m-1 1h0m0 3.5h0m-1-4h0m-0.5 2h0m0 1.5h0m0 2h0m-1-3.5h0m-0.5 2h0m0-1.5h0m-2.5-3h0m0 2.5h0m-0.5 3.5h0m-1.5-1.5h0m-2.5-3.5h0m-0.5 1.5h0m-0.5 0h0m-2.5 2.5h0m-56.5-4h0m-3 3.5h0m-3.5-3.5h0m-1.5 0h0m68 5.5h0m5.5 1h0m0.5 0h0m2 1h0m0.5 2.5h0m0.5-5h0m1 5h0m2-0.5h0m0-3h0m1 0.5h0m1 2h0m1.5-1.5h0m0 3.5h0m1 0h0m1.5-1.5h0m1.5-4.5h0m0 0.5h0m1 3.5h0m1.5 0.5h0m0.5-2.5h0m1.5 2.5h0m2-4.5h0m1 3h0m0-0.5h0m4.5-2h0m-1.5 9h0m-3.5-2.5h0m-1 1h0m-1-1.5h0m-0.5 2.5h0m0-0.5h0m-2 1h0m0-0.5h0m0-2h0m-0.5-0.5h0m-0.5 5h0m-0.5-3h0m-1-0.5h0m-2.5 0.5h0m-1-2h0m-2.5 0.5h0m-0.5 3.5h0m-0.5 1h0m-0.5-2h0m0-3h0m-1 1h0m0 4.5h0m-0.5-4h0m-4 0.5h0m0 1h0m0 2h0m-0.5-2.5h0m-2.5 2.5h0m-6-4.5h0m3.5 8.5h0m0.5-0.5h0m2.5-2.5h0m1 3.5h0m0-0.5h0m0.5 1.5h0m0-0.5h0m0.5-3.5h0m1 4.5h0m0.5-4.5h0m2.5 3h0m0-2h0m3-1h0m0 0h0m4 4.5h0m0 0h0m0.5-0.5h0m0.5-3h0m1.5-0.5h0m0.5 2.5h0m0-0.5h0m1 2h0m1-5h0m9.5 1.5h0m-15 7h0m-3-1.5h0m-1.5 1.5h0m-1-2.5h0m0 1h0m-2 3.5h0m-1-1.5h0m-2-1.5h0m-1-1.5h0m-1 3.5h0m-1-2.5h0m-3.5-1h0m0 8.5h0m5-2h0m0 0h0m1 3h0" stroke="#4cb4e4" stroke-width="4.5" stroke-linecap="round" fill="none"/>
<path d="M1238 311.5h0m-1.5 0h0m-2.5 0.5h0m-1.5-1h0m-0.5-4.5h0m-1.5 3.5h0m-0.5 1.5h0m-1-2.5h0m-0.5-1h0m-3 2h0m0 1h0m-0.5-1.5h0m-1.5 0h0m-7.5-1.5h0m-28.5 8.5h0m8 1.5h0m10-4h0m14-1h0m1.5 1.5h0m4-2h0m1 3.5h0m2 0h0m5 0.5h0m2.5-2h0m2 1h0m0.5-0.5h0m7.5 0.5h0m-1 5.5h0m-4.5-1h0m-2 3.5h0m-6-4.5h0m-0.5 3.5h0m0 0.5h0m-2.5-5h0m-3 5.5h0m-0.5-4h0m-2 2h0m-1 1.5h0m-1.5-4h0m-0.5 2h0m-0.5 2h0m-1.5-2h0m0 2.5h0m-1-0.5h0m-0.5-4h0m-0.5 0.5h0m-1-1h0m-2 2h0m0 2.5h0m0 0.5h0m-1-2.5h0m-4 0.5h0m0 1h0m-0.5-0.5h0m-9.5-3h0m-0.5 0.5h0m-0.5 2h0m-0.5-2h0m-0.5 0.5h0m-2 1.5h0m-2.5-3h0m-1 1h0m0-0.5h0m-1 0.5h0m-5.5-0.5h0m-1.5-0.5h0m23.5 5.5h0m4.5 5.5h0m0-1.5h0m1 1.5h0m0.5-3h0m0.5-0.5h0m0 1.5h0m0.5-1h0m2 0h0m0 2.5h0m0 0.5h0m1.5-5h0m0.5 5.5h0m1-4.5h0m0 1h0m2.5 3h0m1.5-3.5h0m1-0.5h0m1.5 4.5h0m2-2h0m0.5 0.5h0m1-2h0m0 1.5h0m1 0.5h0m1-2h0m1 1.5h0m0-2h0m0.5-1.5h0m0.5 3.5h0m0-2h0m1 0h0m0.5 1h0m0 1.5h0m1-0.5h0m0 2h0m5-4h0m1 0.5h0m5 0.5h0m-3.5 8.5h0m-0.5-5.5h0m-1.5 2h0m-5 1.5h0m-0.5-3.5h0m-1 3.5h0m-1 0.5h0m-0.5-1.5h0m0 1h0m-1.5-1h0m-0.5 2h0m-0.5 0h0m-0.5-1h0m-0.5-1h0m0-1h0m0 4h0m-0.5 0h0m-0.5-3.5h0m-0.5-0.5h0m0-1.5h0m0 0h0m-1 5.5h0m-0.5-4h0m-0.5 4h0m-0.5-0.5h0m-1.5-3.5h0m0 2h0m-0.5 2h0m-0.5-1.5h0m-0.5-1h0m-0.5 1h0m-2-2h0m-0.5-1.5h0m0 5h0m-1.5-5.5h0m-0.5 4h0m0-3h0m0 2.5h0m0 2h0m-0.5-2.5h0m-2-1h0m0 0h0m5 4.5h0m1 0h0m1 1h0m2 1.5h0m1.5-2.5h0m1.5-0.5h0m1 2h0m0.5 0h0m1-1h0m1 2h0m0-3h0m0.5 3h0m1.5 0.5h0m0.5 0.5h0m-6.5 7.5h0m-0.5 0h0m0 0h0m-1.5-1h0m0 0h0m0-2.5h0m-0.5 3h0m-0.5-1h0m-1 0.5h0m-2 0.5h0m0 1h0m1 0.5h0m1.5 1h0m4-0.5h0m39.5 44.5h0m-1.5 0.5h0m0 1.5h0m-5.5 3.5h0m2 0h0m0 0h0m0-1h0m0-0.5h0m0.5 0.5h0m1.5-0.5h0m0.5 0.5h0m1-2h0" stroke="#a878cc" stroke-width="4.5" stroke-linecap="round" fill="none"/>
<path d="M1286 130h0m-12 7.5h0m0.5-4.5h0m1.5 3.5h0m4-1h0m0.5-3h0m3.5 4.5h0m0.5 0.5h0m2-2.5h0m0 0.5h0m0.5-2h0m1 3h0m0-2.5h0m0.5-2h0m0 6h0m2-2h0m5 5h0m-0.5 2h0m-1.5 1h0m-1-1.5h0m0-2h0m-0.5 0h0m-1.5 0.5h0m-1 0h0m0 0.5h0m-1 0h0m-0.5-0.5h0m-0.5 0h0m0 0h0m-1 3h0m0-3h0m0-1.5h0m-0.5 3.5h0m-0.5-4.5h0m0 0h0m-0.5 0.5h0m0 4h0m-1-0.5h0m0 0h0m0 0.5h0m-1-3h0m0 3.5h0m-0.5 0.5h0m-1-1h0m0-3h0m-0.5 0.5h0m-1-2h0m-4-0.5h0m-5 1.5h0m-1 8.5h0m1.5-3.5h0m4.5 5h0m0.5-0.5h0m0.5-3h0m2.5 2h0m1.5-2.5h0m2 0.5h0m0.5 1h0m0.5 2h0m0.5-3.5h0m0.5 1.5h0m1 2h0m1.5-3h0m0-0.5h0m0.5 1.5h0m0 3h0m0.5-1h0m0.5 0.5h0m0-2.5h0m0.5-1.5h0m0.5 2.5h0m0-1h0m0.5-1.5h0m0.5 3h0m0 0.5h0m1-4.5h0m0 2h0m0.5 3.5h0m0.5-1h0m1-0.5h0m3 7.5h0m-0.5-1.5h0m-1 0.5h0m0-2.5h0m-1.5 2.5h0m-1-3h0m-0.5 2.5h0m0 0h0m-0.5 1h0m-0.5-4.5h0m0-0.5h0m-0.5 5h0m-1-4h0m-1.5-1h0m-0.5 1.5h0m-0.5-0.5h0m-0.5 2.5h0m-0.5-0.5h0m0-0.5h0m0 1h0m-2-1h0m0 2h0m-1-2h0m-0.5 1.5h0m0-3.5h0m-1 3.5h0m0-2h0m-0.5-2h0m-0.5 3.5h0m-1 1h0m-1.5-4h0m0 1h0m-1.5-2h0m-0.5 3h0m-2 0h0m-1-1.5h0m-8 2.5h0m-1-4h0m-1.5 4.5h0m-8-4h0m6 8h0m3 0h0m4-0.5h0m2.5 3.5h0m0.5-4h0m0.5 0h0m1.5 0h0m0.5 4.5h0m3-6h0m0 2h0m0.5 2h0m1-3.5h0m2.5-0.5h0m1 2h0m1-1h0m2 0h0m3.5 0h0m4.5 3.5h0m1 0.5h0m0-3h0m0.5 2.5h0m0-4h0m0 4h0m0.5 1h0m1.5-3.5h0m0 3.5h0m0.5-3h0m0.5 2.5h0m1-4.5h0m2 11.5h0m-2-2.5h0m-0.5-0.5h0m0 2.5h0m-1.5-5h0m-0.5 3h0m-1 0h0m0-1h0m0 2.5h0m-0.5 1h0m-0.5-3.5h0m-0.5 2h0m-1-4h0m-0.5 2h0m-36.5-2h0m38.5 6.5h0m0 3h0m1-3.5h0m0.5 0.5h0m0.5-0.5h0m1-0.5h0m0.5 5.5h0m0-5h0m0 1.5h0m0-1h0m0.5 1h0m0 1.5h0m0.5-2.5h0m0.5 2h0m0 2h0m0 0h0m1-2h0m0 3.5h0m-3.5 1h0" stroke="#c068c0" stroke-width="4.5" stroke-linecap="round" fill="none"/>
<path d="M1205.5 167h0m-2.5 0h0m-4 0h0m-0.5-3h0m-2 4h0m-0.5-3h0m0 1.5h0m-4-2h0m-4.5 4.5h0m2.5 2.5h0m2.5-1.5h0m0.5-0.5h0m0.5 2.5h0m0-3.5h0m2.5 0h0m0.5 1.5h0m0-1h0m0-1h0m1 4h0m1.5 0h0m0-3.5h0m0 1.5h0m0 2h0m0.5 2h0m0.5-2h0m0-1.5h0m0.5 2h0m0-4h0m0.5 2.5h0m0 0.5h0m0 0.5h0m0.5 0.5h0m0.5-2.5h0m0.5-1.5h0m1 1.5h0m1 0h0m1-2h0m2 6h0m0.5-5.5h0m-3 8h0m-2.5 0h0m-1.5-1.5h0m0 0.5h0m0-1h0m-0.5 4.5h0m-2-3h0m0-1h0m0 0h0m-0.5 4.5h0m-0.5-1.5h0m-0.5 0h0m0-3.5h0m0 3h0m-0.5 1h0m-1-2h0m0 0h0m-1-1.5h0m0 0h0m-0.5 5h0m-0.5-0.5h0m-0.5 0.5h0m-0.5-2h0m-1.5-0.5h0m-0.5-1h0m-2.5 3.5h0m0-2.5h0m-1 4h0m1.5 2.5h0m1-2h0m1.5-1h0m1.5 1h0m0.5 0.5h0m0 0h0m0.5-2.5h0m1 3.5h0m0-1.5h0m0-0.5h0m1 0h0m0.5 1.5h0m0.5-2.5h0m0.5 0h0m2 1.5h0m0 0.5h0m0.5 3h0m0.5-5h0m1 3h0m1-3.5h0m1.5 4h0m0.5-3.5h0m0-0.5h0m1.5 0.5h0m-3.5 7h0m-2 3.5h0m0-3h0m-8.5 3.5h0m0-4.5h0m-5.5 8h0m3 1.5h0m3.5-3h0m5.5 2.5h0m0-2.5h0m2.5-1.5h0m-4.5 9.5h0m-4 1h0" stroke="#ec5cb4" stroke-width="4.5" stroke-linecap="round" fill="none"/>
<path d="M1081.6 203C1085.5 202.6 1091.3 201.8 1093.8 206.6C1096.3 211.5 1095.8 223.9 1096.6 232.1C1097.5 240.2 1095.2 249.8 1099 255.5C1102.7 261.1 1113.9 260.2 1119.2 265.8C1124.5 271.5 1126.1 281.9 1130.9 289.2C1135.7 296.6 1140.6 309.4 1147.8 310C1154.9 310.6 1166.6 295.3 1173.8 293.1C1180.9 291 1185.5 292.9 1190.6 297C1195.8 301.1 1201.2 310 1204.9 317.8C1208.7 325.6 1212.4 335.8 1213.2 343.8C1214.1 351.8 1213.9 359.8 1210.1 365.8C1206.4 371.9 1196.5 375.2 1190.6 380.1C1184.8 385.1 1178.2 388.8 1175.1 395.7C1171.9 402.6 1172.7 411.7 1171.7 421.7C1170.7 431.6 1172.2 446.8 1169.1 455.5C1166 464.1 1160.9 469.7 1153 473.6C1145.1 477.5 1131.3 479.7 1121.8 478.8C1112.3 478 1102 473.6 1095.8 468.4C1089.7 463.2 1088.6 454.1 1084.9 447.7C1081.3 441.3 1078.9 433.4 1073.8 430C1068.7 426.6 1059.9 425.1 1054.3 427.4C1048.7 429.7 1046.1 438.2 1040 443.8C1033.9 449.3 1028.1 457.3 1017.9 460.6C1007.7 464 989.6 466.1 979 463.8C968.4 461.4 959.4 453.2 954.3 446.4C949.2 439.6 947.2 430.1 948.3 423C949.4 415.8 954.4 408.1 960.8 403.5C967.2 399 979.9 398 986.8 395.7C993.6 393.5 998.8 393.9 1001.8 390C1004.8 386.1 1002.3 376.9 1004.9 372.3C1007.6 367.7 1013.8 365.5 1017.9 362.5C1022 359.4 1031.3 357.6 1029.6 354.2C1028 350.7 1012.6 346.9 1008.1 341.7C1003.5 336.5 1002 329.6 1002.3 323C1002.7 316.4 1005.8 308.3 1010.1 302.2C1014.5 296.1 1021.8 291.8 1028.3 286.6C1034.8 281.4 1043.5 277.1 1049.1 271C1054.7 265 1059.5 258.1 1062.1 250.3C1064.7 242.5 1063.4 231.1 1064.7 224.3C1066 217.4 1067.1 212.8 1069.9 209.2C1072.7 205.7 1077.6 203.4 1081.6 203Z" fill="#62c8b0" fill-opacity="0.38"/>
<path d="M947.6 120.5V484.2H1383.4" stroke="#000" stroke-width="1.9" fill="none"/>
<path d="M941.5 190.1L947.6 190.1" stroke="#000" stroke-width="1.9" fill="none" />
<text x="936" y="198.1" font-size="22.5" text-anchor="end">5.0</text>
<path d="M941.5 258.3L947.6 258.3" stroke="#000" stroke-width="1.9" fill="none" />
<text x="936" y="266.3" font-size="22.5" text-anchor="end">2.5</text>
<path d="M941.5 326.3L947.6 326.3" stroke="#000" stroke-width="1.9" fill="none" />
<text x="936" y="334.3" font-size="22.5" text-anchor="end">0.0</text>
<path d="M941.5 395L947.6 395" stroke="#000" stroke-width="1.9" fill="none" />
<text x="936" y="403" font-size="22.5" text-anchor="end">-2.5</text>
<path d="M941.5 463.6L947.6 463.6" stroke="#000" stroke-width="1.9" fill="none" />
<text x="936" y="471.6" font-size="22.5" text-anchor="end">-5.0</text>
<path d="M1033 484.2L1033 490.5" stroke="#000" stroke-width="1.9" fill="none" />
<text x="1033" y="514" font-size="22.5" text-anchor="middle">-4</text>
<path d="M1149.5 484.2L1149.5 490.5" stroke="#000" stroke-width="1.9" fill="none" />
<text x="1149.5" y="514" font-size="22.5" text-anchor="middle">0</text>
<path d="M1265.8 484.2L1265.8 490.5" stroke="#000" stroke-width="1.9" fill="none" />
<text x="1265.8" y="514" font-size="22.5" text-anchor="middle">4</text>
<path d="M1382.4 484.2L1382.4 490.5" stroke="#000" stroke-width="1.9" fill="none" />
<text x="1382.4" y="514" font-size="22.5" text-anchor="middle">8</text>
<text x="1165" y="545" font-size="26" text-anchor="middle">UMAP_1</text>
<text font-size="26" text-anchor="middle" transform="translate(884 305) rotate(-90)">UMAP_2</text>
<circle cx="1424.2" cy="148" r="8" fill="#e8706a"/>
<text x="1452.8" y="156.1" font-size="22.9" >MC0_Monocyte</text>
<circle cx="1424.2" cy="177.4" r="8" fill="#d98c28"/>
<text x="1452.8" y="185.5" font-size="22.9" >MC1_Macrophage</text>
<circle cx="1424.2" cy="206.7" r="8" fill="#b0a030"/>
<text x="1452.8" y="214.8" font-size="22.9" >MC2_DC2</text>
<circle cx="1424.2" cy="236.1" r="8" fill="#86b03a"/>
<text x="1452.8" y="244.2" font-size="22.9" >MC3_Macrophage</text>
<circle cx="1424.2" cy="265.5" r="8" fill="#44bf48"/>
<text x="1452.8" y="273.6" font-size="22.9" >MC4_Macrophage</text>
<circle cx="1424.2" cy="294.9" r="8" fill="#4cc48e"/>
<text x="1452.8" y="303" font-size="22.9" >MC5_Macrophage</text>
<circle cx="1424.2" cy="324.2" r="8" fill="#52c8c0"/>
<text x="1452.8" y="332.3" font-size="22.9" >MC6_Macrophage</text>
<circle cx="1424.2" cy="353.6" r="8" fill="#4cb4e4"/>
<text x="1452.8" y="361.7" font-size="22.9" >MC7_DC2</text>
<circle cx="1424.2" cy="383" r="8" fill="#6f94dc"/>
<text x="1452.8" y="391.1" font-size="22.9" >MC8_cycling</text>
<circle cx="1424.2" cy="412.3" r="8" fill="#a082d0"/>
<text x="1452.8" y="420.4" font-size="22.9" >MC9_DC2</text>
<circle cx="1424.2" cy="441.7" r="8" fill="#c46cc0"/>
<text x="1452.8" y="449.8" font-size="22.9" >MC10_DC1</text>
<circle cx="1424.2" cy="471.1" r="8" fill="#ec5cb0"/>
<text x="1452.8" y="479.2" font-size="22.9" >MC11_DC3</text>
<linearGradient id="gb" x1="0" y1="1" x2="0" y2="0"><stop offset="0" stop-color="#d9d9dc"/><stop offset=".5" stop-color="#9d8ccc"/><stop offset="1" stop-color="#4050a8"/></linearGradient>
<defs><g id="ub"><path d="M92 0h0m-3 3h0m0 1h0m1-1h0m0-1h0m0-1h0m0 0h0m0 1h0m0 0h0m0 1h0m1 0h0m0-2h0m0 3h0m0-4h0m0 4h0m1-4h0m0 2h0m0-1h0m0 2h0m0-1h0m0-1h0m0 2h0m1-3h0m0 1h0m0 2h0m0 0h0m0 0h0m1 1h0m0-2h0m1 5h0m0 1h0m0-2h0m-1 2h0m0 0h0m0-2h0m0-2h0m-1 1h0m0 0h0m-1 0h0m0-1h0m0 2h0m0 0h0m-1 0h0m0 0h0m-1-1h0m0 0h0m0 0h0m0 0h0m0 0h0m0-1h0m-1 2h0m-1-2h0m-1 4h0m-1-2h0m0 0h0m0 1h0m-20 5h0m1-1h0m0-2h0m1 3h0m0-1h0m0-1h0m0-1h0m0 1h0m0 0h0m1 1h0m0-1h0m0 1h0m0 0h0m1 1h0m24-4h0m0 0h0m0 3h0m0-2h0m0 1h0m0 2h0m0-3h0m0 1h0m0 0h0m1-1h0m0 0h0m0-1h0m0 4h0m1-1h0m-1 3h0m0 0h0m-26-1h0m0 0h0m0-1h0m0 2h0m0 0h0m0-2h0m0 2h0m-1-1h0m0 0h0m0 1h0m0 0h0m0 0h0m0 0h0m0-1h0m0 0h0m0 1h0m-1-1h0m0 0h0m0-1h0m0 1h0m0 0h0m0 2h0m-28 4h0m2-1h0m0 1h0m1 0h0m0-1h0m2 0h0m0 0h0m1-1h0m0 1h0m0 0h0m1 1h0m1 0h0m0-1h0m1 0h0m0 0h0m0 0h0m1 1h0m0-1h0m0 2h0m0-1h0m0 0h0m1-1h0m1 2h0m0-1h0m14-1h0m1-1h0m0 0h0m0 3h0m0-3h0m12 7h0m-1-1h0m-1 1h0m0 0h0m-6-4h0m-2 2h0m-1-2h0m-2 4h0m-6 0h0m0-1h0m0 0h0m0-1h0m-1 2h0m0-1h0m-1-2h0m0 3h0m-1-1h0m0-1h0m-1 0h0m0 0h0m-2 2h0m0-1h0m0 0h0m0-1h0m-1-1h0m-1 0h0m0-1h0m0 1h0m0 1h0m-1-1h0m-1-1h0m0 3h0m0-2h0m0 3h0m-1-1h0m0-1h0m0 0h0m0 1h0m0 0h0m0 1h0m0-4h0m-1 0h0m0 0h0m0 3h0m0-3h0m-1 1h0m0 1h0m0-1h0m-1 3h0m0 0h0m0-3h0m-1 0h0m0 0h0m-1 2h0m0-3h0m0 3h0m0 0h0m-1-2h0m0 0h0m0 2h0m0-1h0m0-2h0m0 1h0m-1 0h0m0 1h0m-1 0h0m0 0h0m-1-2h0m0 4h0m0 0h0m0-3h0m0 2h0m-1 1h0m0-1h0m-1 0h0m-2 2h0m2 0h0m1 2h0m0-3h0m0 2h0m1 1h0m0-1h0m0 1h0m0-2h0m1 2h0m0 0h0m0-3h0m1 2h0m0 1h0m3 1h0m2-4h0m0 3h0m0 0h0m1-1h0m1-1h0m0 0h0m0-1h0m1 3h0m1 0h0m1-2h0m0 0h0m0 1h0m0-1h0m1 2h0m0-1h0m0-1h0m0 3h0m1-1h0m0-1h0m0-1h0m1 2h0m0-1h0m0 1h0m1 0h0m0 1h0m0-1h0m1-1h0m0 1h0m0 0h0m0 1h0m1-3h0m0 3h0m0-3h0m0 3h0m1-1h0m1-1h0m0 1h0m1-1h0m0-2h0m0 1h0m0 1h0m4 2h0m2 0h0m4-2h0m0-1h0m0 0h0m0 2h0m2-1h0m0-1h0m1 0h0m1 0h0m0 2h0m0 1h0m0 0h0m1-3h0m2 3h0m0-2h0m1 0h0m0 2h0m1-2h0m0 0h0m0 1h0m0-1h0m0-1h0m0-1h0m1 2h0m2 0h0m0 2h0m0-2h0m1 0h0m0-1h0m1 3h0m1-1h0m0 0h0m3 4h0m-1-1h0m-1 1h0m-1-2h0m-1 3h0m-1-3h0m-1 3h0m0-2h0m0 2h0m0-3h0m0 1h0m-1-1h0m0-1h0m-1 0h0m-1 2h0m-1 0h0m0-1h0m-1 2h0m0 0h0m0-1h0m0-1h0m-1 2h0m-1-3h0m0 1h0m0 1h0m0 1h0m0 1h0m-1-1h0m-2 0h0m-1-1h0m0 0h0m0 1h0m-1-1h0m0 0h0m-1 1h0m0 0h0m0 0h0m-1-1h0m0 2h0m-2 0h0m-1-2h0m-1 0h0m0 1h0m-2-2h0m0 0h0m-2 3h0m-2-2h0m0 1h0m0-3h0m0 1h0m0 2h0m-1-3h0m-1 3h0m0-2h0m0-1h0m0 4h0m0-1h0m0 0h0m-1-1h0m0-2h0m0 2h0m0 1h0m-1 0h0m0 0h0m0 0h0m0-3h0m0 1h0m0 0h0m0 2h0m-1 0h0m0-2h0m0-1h0m0 4h0m-1-4h0m0 1h0m-1 0h0m0 1h0m-1-1h0m0 1h0m-1 0h0m-1 0h0m-1-1h0m0 0h0m-1 0h0m0 0h0m0-1h0m0 1h0m-1-1h0m0 0h0m0 4h0m0-2h0m-1 1h0m-1-1h0m-1-1h0m0 0h0m-1 0h0m-3 1h0m-2 2h0m0-2h0m0 1h0m-1 1h0m1 2h0m0 0h0m0 1h0m0-2h0m1 1h0m0 2h0m5-1h0m1 0h0m0-1h0m2 1h0m0-1h0m0-2h0m1 2h0m0-2h0m1 3h0m0-1h0m0-2h0m0 3h0m0-2h0m0 3h0m1-3h0m0 1h0m0 0h0m0-1h0m0 1h0m1-2h0m0 2h0m0 0h0m1-1h0m0 3h0m1-2h0m0-2h0m0 2h0m1-2h0m0 1h0m0 1h0m0 0h0m1 1h0m0 1h0m0-1h0m0-1h0m1 2h0m0 0h0m1-3h0m0 1h0m1-1h0m0 3h0m0-1h0m1-2h0m1 0h0m0 1h0m0-2h0m1 0h0m1 3h0m0-1h0m0 1h0m0-1h0m1 0h0m0 2h0m4 0h0m0-3h0m4 0h0m0 1h0m0-2h0m1 0h0m0 3h0m0-2h0m1 1h0m0-2h0m0 1h0m0 2h0m1-1h0m1 0h0m0 0h0m0 0h0m1 1h0m0 0h0m0-2h0m1 2h0m0 1h0m0-3h0m0 0h0m0 2h0m1 1h0m0-2h0m1 1h0m0-3h0m0 2h0m0 0h0m1 1h0m0-1h0m0 1h0m0-1h0m1 0h0m0 0h0m0 1h0m0-1h0m1 0h0m1 1h0m0-1h0m0 2h0m1-1h0m0 0h0m1-1h0m1 1h0m0 0h0m1-1h0m1 2h0m0-1h0m0-1h0m1 1h0m1-2h0m0 3h0m1 2h0m-1-1h0m0 0h0m0 2h0m-1-2h0m0 0h0m0 0h0m-1-1h0m0 1h0m0-1h0m-1 2h0m-1 1h0m0-1h0m0 1h0m0-1h0m0-1h0m0 2h0m0 0h0m0-1h0m0 2h0m-2-4h0m0 1h0m0 0h0m0 2h0m-1 1h0m0-2h0m0-1h0m0 2h0m-1 0h0m0 0h0m0-2h0m-1 1h0m0 1h0m-1-2h0m0 0h0m-1 1h0m0-2h0m-1 1h0m-1 0h0m0 0h0m-1-1h0m-1 3h0m0-1h0m0 2h0m0-2h0m-1 0h0m-1 1h0m0-1h0m0-2h0m-1 0h0m0 3h0m-1 0h0m-1-3h0m0 2h0m0-2h0m0 4h0m-1-2h0m-2-1h0m0 0h0m-1 1h0m-3 0h0m0-2h0m0 1h0m0 0h0m-1 1h0m0 2h0m-1-2h0m0 1h0m-1-2h0m0 3h0m0-1h0m-1-1h0m0 0h0m-1-1h0m-1 2h0m0 0h0m0-1h0m0 0h0m0 1h0m0-2h0m-1 0h0m0 1h0m0 1h0m0-2h0m-1 1h0m0 0h0m0 1h0m-1-2h0m-3 0h0m-5 3h0m0-4h0m0 3h0m-1-3h0m0 2h0m-1 2h0m-1-2h0m-4 2h0m-1 0h0m-1-3h0m-1 2h0m0 1h0m-1-3h0m-2 6h0m0 1h0m1-3h0m0 1h0m1 1h0m0-1h0m0 2h0m0-3h0m0 1h0m0-1h0m0-1h0m1 2h0m0-1h0m1 0h0m0 3h0m0-4h0m0 1h0m0 1h0m1-1h0m1 1h0m0 0h0m1 0h0m0 0h0m0 0h0m0 2h0m3-1h0m0 1h0m0-1h0m1-2h0m1 3h0m0-4h0m0 0h0m1 1h0m0 1h0m0 1h0m0 0h0m2 0h0m4 0h0m3-3h0m0 3h0m1-1h0m1-1h0m0 2h0m0 0h0m1-3h0m1 2h0m0 1h0m0 0h0m0-2h0m0-1h0m0 3h0m1-1h0m2-1h0m0-1h0m6 2h0m1 0h0m1 0h0m0-2h0m1 2h0m0-2h0m0 2h0m3 0h0m0 1h0m0-2h0m0 1h0m1 0h0m0-2h0m0 2h0m0 1h0m0-1h0m0-1h0m1 3h0m0-4h0m1 1h0m0 1h0m1-2h0m0 1h0m0 0h0m1 3h0m0-2h0m0 1h0m0-2h0m1 1h0m0-2h0m1 1h0m0 2h0m0-2h0m1 2h0m1-1h0m0 0h0m0 1h0m1-3h0m0 1h0m2 2h0m0 0h0m1 0h0m0-2h0m0 0h0m0 0h0m1 1h0m0 1h0m0-2h0m2 0h0m-2 4h0m-1 0h0m0 0h0m-2 1h0m-1 2h0m0-2h0m-1-1h0m0 2h0m0 0h0m0-2h0m-1 2h0m0-1h0m0-1h0m-2 1h0m-2 0h0m0-2h0m0 4h0m-1-2h0m0-1h0m-1 0h0m0 1h0m0 1h0m-1-1h0m0 1h0m0-2h0m0-1h0m-1 3h0m-10-1h0m-1 0h0m-2 2h0m0-4h0m0 2h0m0-1h0m-2 2h0m-1-2h0m0 0h0m-1 2h0m0-1h0m0 1h0m-3-1h0m-1-1h0m-1 0h0m0 2h0m0 0h0m-3-1h0m-1-2h0m0 2h0m0-2h0m-1 3h0m0 0h0m-1-1h0m0-1h0m0 0h0m0 1h0m0 0h0m-1 1h0m-1-1h0m-1-1h0m0 2h0m0 0h0m0 0h0m-1-2h0m0 1h0m0 1h0m0 0h0m0 0h0m-1 0h0m0-3h0m-1 1h0m-1 0h0m-2 3h0m0-3h0m-1 2h0m0 0h0m0-2h0m-1 2h0m0-2h0m0 0h0m-1 2h0m0 0h0m-1-2h0m0 1h0m-10 5h0m1 0h0m1-2h0m0 3h0m0-2h0m0 1h0m0 1h0m1 0h0m0-1h0m1-1h0m1 1h0m0 0h0m0-2h0m0 0h0m1 1h0m0 0h0m1 1h0m1 0h0m0 0h0m0-1h0m1-1h0m1-1h0m0 4h0m1-2h0m1-1h0m1 0h0m0 0h0m1 0h0m0-1h0m1 1h0m0 2h0m1 0h0m0-1h0m1 2h0m0-1h0m1-1h0m0-1h0m0 1h0m0 0h0m0 0h0m1-2h0m1 1h0m1 0h0m0 0h0m1 1h0m0-1h0m1 3h0m1-3h0m0-1h0m0 2h0m0 2h0m7-1h0m2 1h0m0-1h0m1-1h0m0 2h0m1-1h0m1-1h0m0 1h0m1-1h0m1-2h0m1 3h0m1-2h0m6 3h0m6 0h0m2-4h0m2 1h0m2-1h0m0 2h0m1-2h0m1 4h0m-1 2h0m0 2h0m0-2h0m0 2h0m-2 0h0m0-3h0m0 2h0m-1-2h0m0 2h0m0 1h0m-1-3h0m0 0h0m0 3h0m0-1h0m0-2h0m0 2h0m0-2h0m-1 2h0m-1-2h0m0 3h0m-1-2h0m0 2h0m0-3h0m-1 2h0m-1 0h0m0 0h0m-3 0h0m0 0h0m0 0h0m-1-1h0m-2 0h0m-3 0h0m-2 0h0m-1 1h0m-1-2h0m-1 3h0m-1-3h0m0 2h0m0-1h0m-1 0h0m-1-2h0m0 4h0m-1 0h0m-1-2h0m0 1h0m0-2h0m-1 1h0m-4 1h0m-4 0h0m0 1h0m0-2h0m-1-2h0m-1 1h0m0 1h0m0 0h0m0-2h0m-1 3h0m-1-1h0m-1 0h0m-1 1h0m0 0h0m0-2h0m0 2h0m-1 0h0m0-2h0m-1 3h0m0-4h0m0 4h0m0 0h0m0-3h0m-1 0h0m0 2h0m-1 1h0m0-2h0m-2 2h0m0-1h0m0-1h0m0-1h0m0 2h0m-1 0h0m0-1h0m0-1h0m0 1h0m0 1h0m-1-1h0m0 1h0m0-3h0m0 1h0m0 0h0m0-1h0m-1 4h0m0-1h0m-1-1h0m0 0h0m0 1h0m-1-1h0m0-2h0m0 4h0m0-2h0m-1-1h0m0 3h0m-1-4h0m0 0h0m0 2h0m0-2h0m-1 3h0m0-3h0m0 1h0m-1 2h0m0 0h0m0 1h0m-1-3h0m0 2h0m-1-2h0m0 1h0m0 1h0m-1-2h0m0 2h0m1 3h0m0 0h0m0-2h0m0 4h0m1-4h0m0 3h0m0-1h0m1 0h0m0 1h0m1 1h0m1-2h0m0 1h0m1 0h0m0-1h0m0 1h0m0-1h0m1 0h0m0 0h0m0 1h0m0 1h0m0-1h0m0-1h0m1 1h0m0 1h0m0-3h0m1 2h0m1-1h0m0-1h0m1 1h0m0-2h0m0 1h0m0 1h0m0 0h0m0 1h0m0 0h0m0-3h0m0 4h0m0-2h0m0 0h0m0 0h0m1 1h0m0-3h0m0 4h0m0-2h0m0-1h0m0 2h0m1 0h0m0-2h0m0 0h0m0 2h0m2-2h0m0 0h0m0-1h0m0 2h0m1-1h0m1 1h0m1-2h0m0 0h0m0 3h0m0 0h0m0-1h0m0 2h0m1-2h0m1 0h0m1 1h0m1-1h0m2-1h0m0 3h0m1-3h0m0 1h0m3-2h0m1 0h0m0 4h0m1-2h0m0-2h0m0 0h0m1 1h0m0-1h0m1 1h0m3 3h0m1 0h0m1-2h0m0 0h0m0 0h0m0 1h0m0-1h0m1-1h0m2 0h0m0 0h0m0 3h0m1-1h0m0-1h0m1 1h0m1-2h0m0 2h0m1 0h0m1 1h0m3-1h0m0 1h0m1 0h0m4-3h0m0 0h0m1 0h0m0 0h0m0 0h0m0 1h0m1-1h0m0 2h0m0-3h0m0 4h0m0-2h0m0-1h0m1-1h0m0 2h0m0-1h0m1 0h0m0 3h0m0-2h0m0 2h0m1 0h0m0-1h0m0-1h0m1-1h0m0 0h0m0 0h0m1-1h0m0 2h0m0-1h0m0 2h0m0-1h0m1-1h0m0 2h0m1-2h0m-2 4h0m-3 2h0m0 0h0m0 0h0m0-3h0m0 3h0m-1-1h0m0-2h0m-7 1h0m-1 2h0m0-1h0m0 1h0m0-2h0m0 2h0m-1 0h0m-1 0h0m0-2h0m-1 0h0m0 2h0m-2-1h0m0-2h0m0 2h0m0-1h0m0 0h0m-1-1h0m0 0h0m0 3h0m0-2h0m0 2h0m-1-1h0m0 1h0m0 1h0m0-3h0m0 2h0m0 1h0m0-2h0m-1 1h0m0 0h0m-1-3h0m0 4h0m0-4h0m0 2h0m0 1h0m-1 0h0m0 0h0m0-3h0m-1 3h0m0 0h0m0-1h0m0 1h0m-1-1h0m0-1h0m0 3h0m0-3h0m0 1h0m-1 1h0m-1 0h0m0 1h0m0 0h0m-1-4h0m0 4h0m0-1h0m-1 1h0m-1-3h0m0 2h0m-1-2h0m-1 2h0m0-2h0m-3-1h0m-1 1h0m-1 2h0m0 1h0m0 0h0m0 0h0m0 0h0m0-1h0m-1 1h0m-1-2h0m0 1h0m0 0h0m0 1h0m0-3h0m0 1h0m-1 1h0m0 0h0m-1-1h0m-1 0h0m-1-1h0m-3-1h0m0 4h0m0-3h0m-1 3h0m0-2h0m-1 0h0m0-2h0m0 3h0m-4-2h0m-1-1h0m0 1h0m-1-1h0m-1 1h0m0 1h0m0-2h0m0 2h0m-1-2h0m-1 0h0m12 4h0m0 3h0m0-2h0m0 1h0m0 0h0m1 1h0m0-1h0m0 0h0m0-1h0m0 1h0m0 1h0m2 1h0m1 0h0m0-4h0m0 1h0m1-1h0m0 2h0m1 1h0m0-2h0m0 2h0m0-3h0m2 3h0m0-1h0m0 1h0m1-2h0m1 0h0m0 1h0m1-1h0m0 1h0m0-2h0m0 1h0m0 1h0m1-1h0m0 2h0m0-2h0m1 1h0m5-1h0m0 2h0m1-1h0m0 0h0m0 1h0m0 0h0m0-3h0m0 0h0m1 3h0m0-1h0m0 2h0m0-2h0m0 1h0m1-1h0m0 2h0m0-3h0m0 2h0m0-3h0m0 3h0m0-2h0m0 2h0m1-1h0m0-1h0m0 3h0m0-1h0m0 0h0m1-1h0m0 1h0m0 1h0m0-1h0m0 0h0m0-2h0m1 1h0m0 2h0m0-4h0m0 0h0m1 1h0m0 0h0m0 2h0m0-1h0m0 1h0m0 1h0m0 0h0m0-1h0m0-1h0m1 1h0m0-2h0m0 2h0m1 0h0m1 1h0m0 0h0m1-3h0m0 0h0m1 1h0m0 1h0m1-3h0m1 1h0m1 1h0m0-1h0m12 0h0m0 0h0m30 6h0m0 0h0m-1-1h0m0 2h0m-1 0h0m-1-1h0m0-1h0m-1 1h0m0 0h0m0-2h0m-1 1h0m0 0h0m0-1h0m0 0h0m-1 1h0m0 1h0m0-2h0m-1 2h0m-24-2h0m-8 0h0m-1 2h0m-4-2h0m-1 1h0m-2-1h0m0 0h0m0 1h0m-1 1h0m0-2h0m-1 1h0m0 0h0m0 1h0m-1-2h0m0 0h0m0-1h0m0 3h0m-1-1h0m0-1h0m0-1h0m-1 2h0m-1 0h0m0 2h0m0-3h0m0 1h0m0 2h0m-1 0h0m0-4h0m-1 1h0m0 2h0m-1-2h0m0 0h0m0 1h0m0-2h0m-2 3h0m-1 0h0m0-1h0m0 1h0m-1-1h0m0 1h0m-1-3h0m0 1h0m-1 0h0m0 2h0m-1 0h0m0-1h0m-1 1h0m0-1h0m-1 0h0m0-2h0m-1 4h0m-1-3h0m0 2h0m-1-2h0m0 0h0m-1 2h0m-1-2h0m0 0h0m-1-1h0m0 1h0m0 1h0m-1 0h0m0 0h0m0-1h0m-1-1h0m0 0h0m-1 2h0m-6 1h0m-1 0h0m0 1h0m-1 0h0m-1-1h0m0 0h0m-1-1h0m0 1h0m0-2h0m0 3h0m0 0h0m-1-2h0m0 0h0m-1 1h0m0-1h0m0 0h0m-1 1h0m0-1h0m-1 1h0m0 0h0m-1-1h0m-3 5h0m0-2h0m0 0h0m1 2h0m0-3h0m0 1h0m0 0h0m0 1h0m1 0h0m0-1h0m0 0h0m0 0h0m0 1h0m0 0h0m0-1h0m0 3h0m1-3h0m1 1h0m0 1h0m1-1h0m1 0h0m0 1h0m0-1h0m0 2h0m0-1h0m0 1h0m0-4h0m0 1h0m1 2h0m0 0h0m0-1h0m0-1h0m0 3h0m0-2h0m0 1h0m0-2h0m1 2h0m0-1h0m0 1h0m0-1h0m0-1h0m0 1h0m0-1h0m0 3h0m1-3h0m0 2h0m0 1h0m0-1h0m0 1h0m1 0h0m0-3h0m0 0h0m0 1h0m0 2h0m0-2h0m0 1h0m0 1h0m0-4h0m1 4h0m0-2h0m0-2h0m0 1h0m1 1h0m0 1h0m1-1h0m10 1h0m1-1h0m0 2h0m1 0h0m1-2h0m1 0h0m0 2h0m2-3h0m0 0h0m1 2h0m0 0h0m0-3h0m0 2h0m0 1h0m0 1h0m1-1h0m0 0h0m1-2h0m0 0h0m1 3h0m0-1h0m1-2h0m0 1h0m0 1h0m1 0h0m0 0h0m1 1h0m1-2h0m0 0h0m0 0h0m0 1h0m0 0h0m0 0h0m1 0h0m0-1h0m1-1h0m0 0h0m2-1h0m1 1h0m0-1h0m0 0h0m0 1h0m1 0h0m0 2h0m4-2h0m1 0h0m2 0h0m3 2h0m0-3h0m0 2h0m1 1h0m0-3h0m1 0h0m0 4h0m0-4h0m0 1h0m0-1h0m1 4h0m0-1h0m0-1h0m0 2h0m0-3h0m1 1h0m0 2h0m1-1h0m0 1h0m0-4h0m1 2h0m0-2h0m0 1h0m0 0h0m1 2h0m0 0h0m0 0h0m1 0h0m0 0h0m0 1h0m0-3h0m1 1h0m0-2h0m0 2h0m1 0h0m0 1h0m1-1h0m1 1h0m18-2h0m1 0h0m0 2h0m0 0h0m1-2h0m1 0h0m0 0h0m1 1h0m0 1h0m0 0h0m1 0h0m0 0h0m0 0h0m1-1h0m0 1h0m0-2h0m0 0h0m1 3h0m0-1h0m0 0h0m0 1h0m1-2h0m0 0h0m0-1h0m0 2h0m0 0h0m0 0h0m1 0h0m0-1h0m0 0h0m0-1h0m0 2h0m1-1h0m0 2h0m1-1h0m1-1h0m0 4h0m0 0h0m0-1h0m0 0h0m0 2h0m0-1h0m-1-2h0m0 2h0m0 2h0m0-3h0m0-1h0m0 0h0m-1 1h0m0-1h0m-1 3h0m0-2h0m0 1h0m-1-1h0m0 0h0m0 2h0m-1 0h0m0-1h0m-2-2h0m-17 1h0m-3 0h0m0 1h0m-1 0h0m0 1h0m-3 0h0m-1-2h0m0 2h0m0-2h0m-1-1h0m-1 3h0m0 1h0m0-2h0m-1 1h0m0-2h0m0 2h0m-1-3h0m0 4h0m0-1h0m0-2h0m-1 3h0m0-2h0m-1 1h0m0-1h0m0-2h0m0 3h0m0 0h0m0 1h0m0-2h0m-1 2h0m0-2h0m0-1h0m0-1h0m-1 2h0m-1-1h0m0 2h0m-1 0h0m0-2h0m0-1h0m-1 2h0m-1 1h0m0-3h0m-1 3h0m-1-1h0m-2 1h0m-1 0h0m-1-1h0m0 0h0m-5 0h0m0 1h0m0-1h0m-1 0h0m-2 1h0m0-3h0m0 3h0m0 0h0m-1-3h0m0 4h0m0-3h0m0 1h0m-1-2h0m0 3h0m-1-1h0m0-1h0m0 0h0m-1 1h0m-1-2h0m-2 3h0m0-3h0m-1 1h0m0 2h0m0 0h0m0 0h0m-1-1h0m0-1h0m0 3h0m0 0h0m-1 0h0m0-4h0m-1 1h0m0 3h0m0-2h0m0 2h0m-1-1h0m0 1h0m-1-2h0m0 2h0m-1-1h0m0 0h0m0 0h0m-9-1h0m-1-1h0m0 0h0m0 0h0m0 2h0m0 0h0m-1-1h0m-1-2h0m0 2h0m0-2h0m-1 3h0m-1 0h0m0 0h0m0-1h0m0 2h0m-1-1h0m0-1h0m0 0h0m0-1h0m-1 1h0m0 1h0m0 0h0m0 1h0m0-2h0m-1 0h0m0-1h0m0-1h0m0 1h0m-1 0h0m0 1h0m0-1h0m0 1h0m0 0h0m0-2h0m0 2h0m0-1h0m0 2h0m0-2h0m-1 2h0m0-2h0m0 2h0m0 0h0m0-2h0m0 0h0m-1 0h0m0-1h0m0 0h0m0 1h0m0 2h0m-8 4h0m0 0h0m1 1h0m2-2h0m0 2h0m1-1h0m0 0h0m1 0h0m0 1h0m6-1h0m1-3h0m1 2h0m0 1h0m0 0h0m0-2h0m1 1h0m1-2h0m0 1h0m0 3h0m1-3h0m0 3h0m3-3h0m2 2h0m0-1h0m7-2h0m1 1h0m1 0h0m1 3h0m1-2h0m1 1h0m0 1h0m0-3h0m2 1h0m0 0h0m2-1h0m0-1h0m1 2h0m0-2h0m0 3h0m1 1h0m0-4h0m1 1h0m0 2h0m1-2h0m0 3h0m0-2h0m0 1h0m0 1h0m0 0h0m2-1h0m2 1h0m12-4h0m0 1h0m1 1h0m0 0h0m0 1h0m1-2h0m0-1h0m1 2h0m0 0h0m0 1h0m0-2h0m1 0h0m0 3h0m1-3h0m0 1h0m0 2h0m0 0h0m1-4h0m0 4h0m0-4h0m1 2h0m1 1h0m0-1h0m0-1h0m0 2h0m1-1h0m0 0h0m1 0h0m0 0h0m3-2h0m23 2h0m0 0h0m0 0h0m0 2h0m1-3h0m0 3h0m1 0h0m0 0h0m0-1h0m0-2h0m0 2h0m1-1h0m0-1h0m0 0h0m0 0h0m0 0h0m1 1h0m1-1h0m0-1h0m-36 6h0m0-2h0m-1 1h0m0 0h0m-2 2h0m-3 1h0m-10-4h0m-1 1h0m-2 3h0m-2-2h0m-1-1h0m0 3h0m-1-2h0m-1 2h0m-1-2h0m-1 2h0m0-2h0m0-2h0m0 1h0m0 1h0m-1 2h0m0-1h0m-2-1h0m0 1h0m0 0h0m-1-2h0m0 2h0m-14-3h0m-1 2h0m0 2h0m-1-3h0m-1 0h0m0 0h0m-3 3h0m-2-3h0m-2 1h0m-1 0h0m-1 1h0m0 1h0m-1-3h0m0-1h0m0 4h0m-1 0h0m0-2h0m-1-1h0m0 2h0m-1-1h0m0 2h0m0 0h0m0-3h0m0 1h0m-1 2h0m0-2h0m0 1h0m0-1h0m0-1h0m0 1h0m0-1h0m-1 0h0m-2 2h0m0 1h0m0-1h0m-1-1h0m0-1h0m0 0h0m0 2h0m0-1h0m-1 0h0m0 0h0m0 0h0m-1 2h0m-1-1h0m0 1h0m0 0h0m0-1h0m-1 1h0m0-2h0m-1 1h0m0 2h0m0-1h0m0 2h0m1-1h0m0-1h0m0 1h0m1 2h0m0-2h0m0 1h0m0 0h0m0 1h0m1-2h0m0 2h0m0-1h0m0-1h0m0 1h0m1 2h0m0-1h0m0-1h0m0-1h0m0 1h0m0-1h0m1 2h0m0-2h0m0 2h0m1-1h0m0-2h0m0 1h0m0 0h0m1 2h0m0-3h0m0 4h0m0-4h0m0 3h0m0 0h0m0-2h0m1 0h0m0-1h0m0 2h0m0-1h0m1-1h0m0 2h0m0 1h0m0-1h0m1 0h0m1 1h0m0 0h0m1-3h0m0 2h0m0 1h0m0-3h0m0 3h0m1 0h0m0 1h0m0-3h0m0 0h0m0 0h0m1-1h0m0 1h0m21 3h0m1-1h0m0 0h0m1 1h0m0-1h0m1-1h0m0 2h0m0-1h0m0 0h0m0-2h0m0 1h0m0 1h0m1-1h0m0 1h0m0-3h0m1 0h0m0 3h0m0-2h0m0 1h0m0-1h0m1 1h0m0 2h0m0 0h0m0-4h0m1 4h0m0-2h0m0 1h0m0-2h0m0 2h0m0 1h0m1-3h0m0 0h0m0 1h0m0 0h0m1-1h0m0 1h0m0 0h0m1-2h0m0 1h0m0 0h0m0 0h0m0 0h0m1 1h0m0-1h0m0 2h0m2-2h0m1 2h0m0 0h0m1 0h0m0 1h0m2 2h0m-1 0h0m0-1h0m0 2h0m0-2h0m0 2h0m0-3h0m-1 1h0m-1 2h0m0 0h0m-1 0h0m-1-2h0m0 3h0m0-4h0m0 2h0m-1 1h0m0-3h0m0 3h0m0 0h0m0-1h0m0 0h0m-1-1h0m0 0h0m0 1h0m0-1h0m0 0h0m0 3h0m-1-1h0m0 0h0m0-3h0m-1 2h0m-1 1h0m0-2h0m0 3h0m0-3h0m0 2h0m0 0h0m-1 0h0m0 0h0m0 1h0m-1 0h0m-1-2h0m-1 1h0m0-1h0m-1 2h0m0-3h0m-2-1h0m0 1h0m-23 0h0m0 0h0m0-1h0m-1 1h0m-1 0h0m0 0h0m0 0h0m0 1h0m-1 0h0m0-1h0m0-1h0m-1 1h0m0-1h0m0 0h0m0 2h0m0-2h0m-2 0h0m-1 2h0m0 0h0m0-1h0m0 0h0m-1 0h0m-1 0h0m0-1h0m-1 0h0m0 0h0m-1 0h0m37 4h0m0 2h0m0-1h0m1 1h0m1 0h0m0-1h0m0 1h0m0 0h0m0-1h0m0 1h0m1 0h0m0-1h0m0 1h0m2 0h0m0-1h0m1 0h0m0 0h0m0 0h0m0 0h0m1 0h0m0 1h0m2 0h0m0 0h0m1 0h0m0-2h0m0 0h0m0 2h0m1-1h0m0 0h0m0 0h0m1 0h0m0-1h0" stroke="#d6d6d8" stroke-width="5.2" stroke-linecap="round" fill="none"/></g></defs>
<use href="#ub" transform="translate(1753.4 189.8) scale(1.001 1.001)"/>
<path d="M1847 192h0m-1-2h0m-1 0h0m-2 2h0m0 2h0m1-1h0m1 1h0m2 1h0m2 6h0m-1 3h0m0-5h0m-26 5h0m0-4h0m0 2h0m0 1h0m-1-3h0m0 2h0m0-1h0m0 2h0m-28 6h0m4-1h0m1-1h0m3 1h0m1 1h0m0-2h0m18 3h0m16 6h0m-3-1h0m-6 0h0m-8-2h0m-7-1h0m-2 3h0m-2-3h0m-1 2h0m-1-2h0m0-2h0m-1 5h0m0-4h0m0 4h0m-1-5h0m0 2h0m-2 1h0m0 0h0m-1 1h0m0-1h0m0 0h0m0 1h0m-1-3h0m0 0h0m-1-1h0m-1 1h0m-2 0h0m-1 2h0m0-3h0m-1 2h0m-2 2h0m0-3h0m0 2h0m-3 2h0m0 6h0m2-4h0m1-1h0m0 1h0m1 0h0m0 0h0m1 1h0m2 1h0m0 0h0m1-2h0m2 5h0m0-4h0m0 0h0m0 0h0m1-1h0m0 1h0m3-1h0m0 3h0m0-1h0m1 0h0m1-3h0m0 3h0m1 2h0m0-5h0m1 3h0m1 2h0m0 0h0m0-3h0m2-1h0m0 1h0m0 1h0m1-2h0m0 1h0m0 0h0m1 4h0m1-6h0m1 6h0m5 0h0m4-2h0m1 2h0m1-2h0m2-3h0m1 1h0m2 2h0m1 1h0m0-2h0m2-1h0m2 0h0m4-1h0m1 4h0m1 0h0m0 5h0m-1 0h0m0 0h0m-1 0h0m-3 0h0m0-1h0m-4 2h0m-2-2h0m0 0h0m-1 1h0m-1 0h0m0-1h0m-1 1h0m-1 2h0m0-4h0m0 3h0m-3-5h0m-2 4h0m-2-3h0m-5 4h0m0 1h0m0-5h0m-1 2h0m0-1h0m0 0h0m-1 3h0m0-3h0m-1 4h0m-1-3h0m-2 2h0m-1 1h0m0-5h0m-1 3h0m0-2h0m0-1h0m-1 4h0m0-5h0m-2 3h0m0-2h0m0 1h0m-1 0h0m0 0h0m0-1h0m-1 1h0m0-1h0m0-1h0m-1 3h0m-3 1h0m-1-1h0m-6-2h0m0 2h0m-1-1h0m-5 9h0m1 0h0m1-2h0m0 1h0m0 0h0m0 2h0m0-3h0m1-1h0m0 0h0m1 0h0m0-1h0m0 1h0m0 4h0m0-4h0m1 1h0m0-2h0m0 2h0m2 1h0m0 0h0m1 2h0m0 0h0m3-3h0m2-1h0m0 0h0m0 1h0m0 1h0m3 2h0m7-1h0m1-1h0m0-3h0m1 0h0m1 3h0m0 0h0m1-1h0m2-3h0m10 0h0m2 4h0m1 2h0m1-2h0m1 2h0m0-3h0m1-1h0m1 1h0m0 3h0m1-6h0m1 3h0m2-2h0m4 0h0m0 2h0m1 1h0m2-3h0m1 2h0m-4 4h0m-4 2h0m-1 1h0m0-3h0m-2 1h0m-1 0h0m-1 2h0m0-2h0m0 2h0m-1-3h0m-1 1h0m-1 1h0m-11 1h0m-3 0h0m-1-1h0m-2-2h0m-1 2h0m-2-2h0m-5 1h0m-2 1h0m0 1h0m-1 1h0m0-4h0m-1 1h0m0 0h0m-1 0h0m-1 2h0m-1-1h0m0 0h0m-1-1h0m0 2h0m0 2h0m-1-1h0m-1-4h0m-1 0h0m-1 3h0m-2-1h0m0-2h0m0 2h0m-1-2h0m0 4h0m0-4h0m0 2h0m-3 1h0m-3 1h0m0 0h0m-1 1h0m-3-1h0m-3 5h0m1 1h0m0-2h0m1 3h0m0-2h0m1-3h0m0 4h0m0-3h0m0 1h0m1-2h0m0 0h0m0 4h0m0-4h0m0 1h0m1 0h0m0-2h0m0 2h0m1 2h0m0 2h0m1-1h0m1-1h0m1 1h0m0-4h0m0 1h0m0 1h0m1 0h0m0-3h0m0 4h0m1 0h0m0 0h0m1 1h0m0-3h0m0 4h0m2-2h0m1-1h0m0 0h0m1 3h0m0 0h0m0 0h0m1-1h0m0-4h0m0-1h0m0 4h0m1-1h0m0-1h0m1 2h0m0 0h0m1-4h0m1 2h0m0 2h0m2-2h0m0 3h0m1 0h0m5 1h0m4-1h0m3-1h0m0 1h0m1-5h0m3 4h0m0-4h0m2 4h0m10 1h0m4 0h0m0-2h0m1-1h0m0 3h0m2-5h0m1 5h0m1 2h0m0 1h0m-1-1h0m0 2h0m-3 1h0m-2-4h0m0 2h0m-3-1h0m-5 3h0m0-2h0m0 3h0m-3-2h0m-1 2h0m-1 0h0m-1-1h0m0-1h0m0 1h0m-1 1h0m0-2h0m-1-3h0m0 1h0m-1 3h0m0 2h0m-1-5h0m-1 1h0m0 1h0m0-1h0m-2 2h0m-1 0h0m-1-4h0m-2 1h0m0 4h0m-1-1h0m-4 0h0m0 1h0m-2-4h0m-2 1h0m0 4h0m-1-3h0m-1-1h0m-1 2h0m0 1h0m-1-2h0m-2-1h0m-2 4h0m0-3h0m0-2h0m-2 1h0m0-1h0m0 3h0m0-2h0m-1 1h0m0-1h0m0-1h0m-2 3h0m0 0h0m-1-1h0m0 0h0m-1 1h0m0-2h0m0-1h0m0 4h0m-1-2h0m0 0h0m0-1h0m-1 0h0m0 2h0m0 0h0m-1-2h0m-1 0h0m0 1h0m-1-3h0m0 3h0m0-3h0m-1 2h0m12 4h0m3 2h0m1 2h0m0-1h0m1 1h0m0 1h0m2 1h0m1-4h0m1-1h0m0 4h0m2-4h0m0 0h0m0 0h0m0 3h0m1 1h0m0-2h0m2 1h0m0-2h0m2 1h0m0 0h0m2-2h0m2 1h0m0 0h0m1 1h0m1-1h0m0 2h0m0 0h0m0 0h0m1 1h0m0-3h0m0 0h0m0-2h0m0 5h0m0-3h0m1 4h0m0-2h0m0 0h0m0-4h0m0 6h0m0-4h0m0 3h0m1 0h0m0-5h0m0 1h0m0 4h0m1 0h0m0-1h0m0 2h0m0-1h0m1-3h0m0 2h0m0 2h0m1-5h0m1 0h0m0-1h0m0 4h0m0-3h0m0 0h0m1 4h0m0-3h0m0 3h0m0 0h0m1-5h0m1 3h0m1-2h0m1 0h0m0 1h0m1-1h0m0 0h0m2 1h0m8-1h0m0 0h0m4 2h0m0 0h0m30 6h0m-1 2h0m0 0h0m0 0h0m-2 0h0m0-2h0m-1 3h0m-1-3h0m-1-1h0m0-1h0m0 4h0m-1-2h0m-2 2h0m-20 1h0m-2 0h0m0-1h0m-2 0h0m-1-1h0m-1 0h0m-2 2h0m-1-1h0m-1-1h0m-1-4h0m0 3h0m-5-2h0m0 4h0m-2-4h0m-1 1h0m-1 0h0m-2-1h0m0 0h0m0 3h0m0 1h0m-1-4h0m-1 1h0m0 0h0m-1 2h0m0-2h0m-1 2h0m0-4h0m-1 1h0m0 2h0m-1-2h0m0-1h0m-1 3h0m-1 0h0m-1 2h0m-1-5h0m-1 1h0m-1 4h0m-1-1h0m-1-2h0m0 0h0m-1 4h0m-2-6h0m0 1h0m0 5h0m-2-5h0m0 0h0m-1-1h0m0 1h0m-1 1h0m-1 0h0m0-1h0m-1-1h0m-1 1h0m-4 4h0m-3-1h0m-1 2h0m0-3h0m-1 0h0m0 2h0m0 0h0m-1-4h0m0 4h0m0 0h0m0-3h0m-1 3h0m-1-3h0m0 0h0m0 0h0m-1 4h0m0-4h0m0 1h0m-1 3h0m-1 0h0m0-1h0m-1 0h0m0-1h0m0 2h0m0-2h0m-1 1h0m0 0h0m2 6h0m0-2h0m0-1h0m1 0h0m1 1h0m0 2h0m0-2h0m0 2h0m0-2h0m0 1h0m1-1h0m0-1h0m0 1h0m0-3h0m0 0h0m0 2h0m1 4h0m0-5h0m0 0h0m1 1h0m0-1h0m1 2h0m0-1h0m0 4h0m0-5h0m0 4h0m1-4h0m0 4h0m0-3h0m1 0h0m0 0h0m1 0h0m1 2h0m0 1h0m1-2h0m0 0h0m1 0h0m8 2h0m1-4h0m0 4h0m2 0h0m0 0h0m0-5h0m1 6h0m0-3h0m1-1h0m0 4h0m0 0h0m0 0h0m1-2h0m0 1h0m0 0h0m2-5h0m2 2h0m0 2h0m2-1h0m0 1h0m0 1h0m1-3h0m0 2h0m1-1h0m0-3h0m0 5h0m1-4h0m2 3h0m0 1h0m0-2h0m6 1h0m2 1h0m2-2h0m2 1h0m1-2h0m2 3h0m0-2h0m0-1h0m1 2h0m0-2h0m0 1h0m1-1h0m0 4h0m1-1h0m0-3h0m0 0h0m0-1h0m1-1h0m0 3h0m1 3h0m0-2h0m1-3h0m0 5h0m1-6h0m0 4h0m1-4h0m0 2h0m0 0h0m1 3h0m5-2h0m19-2h0m0 1h0m3-1h0m0 2h0m0-3h0m1 1h0m0-1h0m0 0h0m0 4h0m0-1h0m1-1h0m1 0h0m0 1h0m1-1h0m0-2h0m0 4h0m-2 4h0m-1-1h0m-1-1h0m0 3h0m-1 1h0m0-3h0m-2 1h0m-26 0h0m-4 4h0m0-2h0m-1-2h0m0 3h0m-2-2h0m0-1h0m0 0h0m-14 3h0m-1-2h0m-2 0h0m-2 1h0m0-1h0m0-1h0m0 3h0m-1-4h0m-1 2h0m0 0h0m-1-1h0m-2 2h0m0-2h0m-3-2h0m0 4h0m0 1h0m-3-4h0m-1 0h0m-7 1h0m-1 1h0m-4 2h0m-1 0h0m0-1h0m0-3h0m-1-1h0m0 5h0m-1-4h0m-3 2h0m-1 1h0m-5-1h0m-1 3h0m-2-1h0m-1 1h0m0-1h0m-3 0h0m-2 1h0m-3 4h0m1 1h0m0-2h0m0 1h0m1-3h0m0 4h0m1-1h0m0-1h0m0 2h0m0-2h0m1 1h0m0-1h0m0 2h0m0-2h0m0 2h0m1-1h0m0-3h0m0 1h0m0-1h0m1 2h0m1 2h0m0 0h0m0-2h0m1 0h0m1-2h0m0-1h0m0 1h0m1 4h0m1-3h0m0 2h0m1 1h0m0 0h0m1-2h0m0 0h0m0 0h0m0-1h0m6 0h0m16 3h0m0 0h0m2 0h0m0 0h0m1 1h0m0-1h0m0-2h0m0 0h0m0 2h0m1-3h0m0 3h0m1-1h0m0-1h0m0 3h0m0-5h0m1-1h0m0 2h0m1 4h0m0-2h0m1-3h0m0 3h0m0-3h0m0 2h0m1-1h0m0 0h0m0 1h0m1-3h0m0 3h0m1 1h0m0 2h0m3-1h0m1 1h0m0 0h0m1-4h0m15-1h0m-16 6h0m-1 4h0m-1-2h0m0 1h0m-1-1h0m-1-1h0m0 1h0m0-3h0m-1 3h0m0 0h0m0-1h0m0 0h0m0-1h0m-1-1h0m0 1h0m0 2h0m0 2h0m-1 0h0m0 0h0m0-3h0m0 3h0m-2-2h0m0 0h0m-2 3h0m-1-4h0m0 0h0m0 2h0m-4-3h0m-23 0h0m0-1h0m-1 1h0m0 0h0m-1 0h0m0 1h0m0-1h0m0-1h0m0 0h0m-1 1h0m-1-1h0m-2 0h0m0 2h0m0 0h0m-1-1h0m-1 0h0m-1-1h0m-1 0h0m38 6h0m0 0h0m3 0h0" stroke="#cfc7e3" stroke-width="4.0" stroke-linecap="round" fill="none"/>
<path d="M1846 191h0m0 2h0m3 11h0m-1-6h0m-26 3h0m-1 0h0m-26 7h0m3 0h0m22-1h0m10 6h0m-4 2h0m-13 1h0m-1-3h0m0 1h0m-4-2h0m-1 0h0m-2 4h0m-2-5h0m0 2h0m-2-1h0m0-2h0m0 0h0m-1 0h0m-4 2h0m-3 2h0m-1-1h0m-1 0h0m0 2h0m-1 5h0m0 1h0m10 1h0m8-4h0m0-1h0m1 4h0m2-4h0m1 4h0m3-2h0m6 2h0m1-1h0m14 1h0m6 4h0m-2 2h0m-2 1h0m-2-4h0m-5 3h0m-3-4h0m-2 5h0m-1-4h0m-1-1h0m-10 3h0m-3-3h0m-2 4h0m-1-2h0m-6-3h0m-1 4h0m0-2h0m-11 0h0m-1 0h0m-3 8h0m1 0h0m1-2h0m3 2h0m0-2h0m3 3h0m1 0h0m3-3h0m2 3h0m12-5h0m1 6h0m6-2h0m4 0h0m7 0h0m2-3h0m6 0h0m0 4h0m-11 4h0m-22-2h0m-1 1h0m0 0h0m-5 0h0m0 1h0m-2 2h0m-2-1h0m-1-3h0m0 2h0m0 0h0m-1 0h0m0 3h0m-1-2h0m-4 1h0m0-5h0m-1 5h0m0 0h0m-1-3h0m-1-1h0m0 1h0m-1 2h0m-11 5h0m0 2h0m4-3h0m2-1h0m1 3h0m2 2h0m1-3h0m0 2h0m0 0h0m0-2h0m1 2h0m0 1h0m3-1h0m2-3h0m0 1h0m1 3h0m7-5h0m3 4h0m1 1h0m4-3h0m1 2h0m2-4h0m0 5h0m3 0h0m1-3h0m6 1h0m2-2h0m2 2h0m5 1h0m0-3h0m3 4h0m2-2h0m-3 6h0m-1 0h0m-1-1h0m-1-2h0m-1-1h0m-4 4h0m0 1h0m-4-2h0m-1 1h0m-1-3h0m-1 4h0m0-3h0m-4 2h0m-1-2h0m0 4h0m0-1h0m-8-5h0m-4 1h0m-1 3h0m-3-2h0m-1 4h0m-2-4h0m0 1h0m0-1h0m-2-1h0m0 3h0m-1-3h0m0 4h0m-2-5h0m0 3h0m-1-2h0m0 2h0m0-1h0m0 2h0m-1-4h0m0 2h0m0-1h0m0 0h0m0-1h0m-1 2h0m-2 1h0m-1 0h0m0 1h0m-4-2h0m-2 0h0m12 4h0m2 1h0m1 3h0m1-1h0m0 1h0m3 1h0m1-2h0m1-1h0m1 3h0m0-3h0m1-1h0m3 2h0m1 0h0m0 0h0m1 1h0m6-3h0m1 0h0m2 1h0m0-1h0m0 3h0m1 1h0m0-4h0m0 3h0m0-4h0m1 5h0m0-2h0m0-2h0m0 0h0m1 1h0m0 1h0m0 0h0m0 2h0m1 1h0m2 0h0m1 0h0m3-5h0m40 10h0m-2-4h0m-29 5h0m-13-5h0m-1 2h0m0-2h0m-1 1h0m0 3h0m0 0h0m-3 0h0m-1-1h0m0 2h0m-2-1h0m0-4h0m-4 1h0m-3 1h0m0 1h0m0-1h0m-3 1h0m-2-1h0m-13 0h0m0 2h0m0-2h0m-1 1h0m0 1h0m-1 0h0m-1-3h0m0 1h0m-1 3h0m0-1h0m-1-4h0m0 3h0m-3-2h0m-1 3h0m-1 0h0m0 0h0m-2 2h0m3 1h0m2 0h0m1 1h0m0 1h0m0-1h0m0-3h0m2 4h0m0-4h0m0 1h0m1 2h0m0 2h0m0-1h0m1 1h0m0-4h0m3 0h0m11 5h0m0 0h0m1-2h0m0 1h0m1-1h0m4-2h0m2-1h0m3-1h0m0 1h0m2 1h0m0 0h0m0-2h0m1 5h0m0-4h0m0 0h0m5 0h0m8 4h0m3 0h0m6-4h0m8 4h0m19-4h0m2 0h0m2 4h0m2-4h0m1 1h0m1 2h0m0-1h0m-1 4h0m-3 0h0m-1 2h0m-2-1h0m-25-1h0m-5 3h0m-1 0h0m0 1h0m-2-4h0m-1 2h0m0-1h0m-17 4h0m-1-2h0m0-3h0m0 2h0m-2-3h0m-3 6h0m0-5h0m-5 3h0m-12 0h0m-2-1h0m-1-2h0m-2 1h0m0 1h0m-1-1h0m-7 3h0m0-1h0m-1-1h0m-2 1h0m0-2h0m0 3h0m-1 0h0m0-1h0m-2 1h0m-2 0h0m0 0h0m-2 0h0m-3 3h0m0-2h0m0 3h0m0-1h0m0 0h0m1 0h0m0 0h0m1-1h0m0 1h0m1 2h0m0 0h0m3-2h0m0 3h0m0-3h0m0 4h0m1-3h0m2 2h0m0-1h0m0-3h0m0 3h0m1-3h0m1 4h0m1 0h0m0-4h0m0 4h0m1-4h0m3-1h0m22 5h0m1 0h0m0-4h0m0 2h0m1 1h0m0 2h0m0-5h0m1 5h0m0-2h0m1-1h0m0 0h0m2 0h0m1 0h0m0 1h0m1-2h0m1 0h0m3 5h0m0 2h0m0 1h0m-2 1h0m0-2h0m0 3h0m0-2h0m-3-4h0m-1 2h0m0 0h0m-1 3h0m-2 0h0m-1-2h0m0 1h0m0 2h0m-1-1h0m-1 0h0m-1-3h0m0 2h0m-27-3h0m-3-1h0m-3 1h0m-3-1h0m0 0h0m39 6h0" stroke="#b8abd9" stroke-width="3.8" stroke-linecap="round" fill="none"/>
<path d="M1803 207h0m32 9h0m-14-6h0m-11 4h0m-4-2h0m-15 2h0m-2 7h0m7-2h0m12-2h0m0 1h0m4-2h0m18 3h0m0 8h0m-8-3h0m-8 0h0m-2-2h0m-2 1h0m-1 1h0m-5 0h0m-1 3h0m-6-2h0m0 1h0m-10 5h0m8 2h0m2-1h0m14 1h0m0-4h0m15 4h0m-15 7h0m-24-3h0m-7 2h0m-2 3h0m1 0h0m3-1h0m0-1h0m1 2h0m10 3h0m1-1h0m2 0h0m12 0h0m1-3h0m21 7h0m-2-1h0m-2 0h0m-17 1h0m-1 3h0m-5-5h0m0 4h0m-6-2h0m-9-2h0m-7 3h0m-1 2h0m12 3h0m1 0h0m2-1h0m0-1h0m3 3h0m1 3h0m8-1h0m3-2h0m3-1h0m7-2h0m38 8h0m-44 1h0m-4 0h0m-6 0h0m-1 2h0m-4-2h0m-4 0h0m-12 2h0m-1-1h0m-1 0h0m0 1h0m-1 1h0m-6-1h0m1 4h0m1 2h0m0-4h0m4 3h0m1-2h0m4 1h0m16-2h0m1 4h0m0-3h0m4-1h0m2 4h0m10 0h0m11 0h0m6-4h0m24 0h0m6 5h0m1-1h0m-1 1h0m-6 2h0m-30-2h0m-26 1h0m0 5h0m-19 0h0m-5-3h0m-11 2h0m-1-2h0m-1 0h0m-3 2h0m0 0h0m-5 2h0m2 0h0m0 3h0m1 1h0m3-4h0m3 1h0m0 2h0m0 0h0m1-4h0m1 1h0m2 1h0m1-1h0m0 1h0m0 1h0m21 3h0m4-2h0m1-2h0m3 3h0m4-5h0m3 5h0m2 3h0m-2-1h0m-2 3h0m-3 1h0m0-1h0m-3-1h0m0 3h0m-37-5h0m35 5h0" stroke="#9686ca" stroke-width="3.5" stroke-linecap="round" fill="none"/>
<path d="M1818 225h0m-9-2h0m-1 3h0m-10 10h0m-4-1h0m-22 10h0m2-2h0m13 3h0m7-3h0m18 7h0m-10-2h0m-15-1h0m-3 0h0m-4 1h0m6 6h0m8-1h0m19 4h0m45 6h0m-53 0h0m-1-3h0m-3-1h0m-26 8h0m3 1h0m16 1h0m2-4h0m9-1h0m3 2h0m58 1h0m-41 5h0m-54 0h0m-13 7h0m9-1h0m34 1h0" stroke="#6153b2" stroke-width="3.2" stroke-linecap="round" fill="none"/>
<path d="M1743.4 184.3V301.9H1878" stroke="#000" stroke-width="2.1" fill="none"/>
<text x="1817.4" y="173.2" font-size="24.2" text-anchor="middle" font-style="italic">CD68</text>
<text x="1811.5" y="326.4" font-size="20.5" text-anchor="middle">UMAP_1</text>
<text font-size="20.5" text-anchor="middle" transform="translate(1728 233) rotate(-90)">UMAP_2</text>
<rect x="1893.5" y="202.1" width="18.2" height="90.3" fill="url(#gb)"/>
<path d="M1893.5 203L1897 203" stroke="#fff" stroke-width="0.9" fill="none" />
<path d="M1908.2 203L1911.7 203" stroke="#fff" stroke-width="0.9" fill="none" />
<text x="1920.4" y="211" font-size="23.5" >3.0</text>
<path d="M1893.5 230.6L1897 230.6" stroke="#fff" stroke-width="0.9" fill="none" />
<path d="M1908.2 230.6L1911.7 230.6" stroke="#fff" stroke-width="0.9" fill="none" />
<text x="1920.4" y="238.6" font-size="23.5" >2.5</text>
<path d="M1893.5 260.3L1897 260.3" stroke="#fff" stroke-width="0.9" fill="none" />
<path d="M1908.2 260.3L1911.7 260.3" stroke="#fff" stroke-width="0.9" fill="none" />
<text x="1920.4" y="268.3" font-size="23.5" >2.0</text>
<path d="M1893.5 289.2L1897 289.2" stroke="#fff" stroke-width="0.9" fill="none" />
<path d="M1908.2 289.2L1911.7 289.2" stroke="#fff" stroke-width="0.9" fill="none" />
<text x="1920.4" y="297.2" font-size="23.5" >1.5</text>
<use href="#ub" transform="translate(1755 384.6) scale(1.001 1.001)"/>
<path d="M1845 389h0m1-3h0m3 7h0m-26 1h0m-2 7h0m1-3h0m2-1h0m26 1h0m0 1h0m-28 6h0m-1-1h0m-1-2h0m-6 5h0m-6 0h0m-2-2h0m-2 2h0m-1-5h0m0 4h0m0 2h0m0-3h0m-2 0h0m-2-3h0m-1 6h0m0 0h0m-1-4h0m-2 3h0m-4 2h0m3 3h0m1 0h0m2 1h0m2-1h0m2 1h0m0 1h0m4-2h0m0 0h0m2-2h0m0-1h0m1 0h0m2 4h0m1 0h0m1-4h0m1 3h0m0 1h0m2-2h0m6 1h0m4-2h0m2 0h0m2-1h0m0 3h0m2-3h0m1 5h0m0-4h0m1 1h0m3 2h0m2-3h0m5 8h0m-6 2h0m0-5h0m0 1h0m-3 3h0m0-4h0m-1 3h0m0 0h0m-1-1h0m0-3h0m-2 3h0m-2 2h0m-2-5h0m-1 3h0m-1-2h0m0 2h0m0 1h0m-1-3h0m-3 3h0m-5 1h0m-4-4h0m-1 3h0m0-2h0m-1-1h0m-3 4h0m-1-1h0m-1-1h0m0 2h0m-1-5h0m0 3h0m-1 0h0m0 2h0m0 1h0m-2-1h0m0-3h0m-2-2h0m-5 1h0m-2 4h0m0-4h0m-1 1h0m-1 9h0m0-1h0m1 1h0m0 0h0m7 0h0m2-2h0m3-3h0m6 5h0m0-1h0m0-2h0m1-1h0m1 1h0m0 1h0m0 0h0m0 0h0m3-1h0m2 3h0m1-4h0m0 0h0m0 2h0m3-1h0m9 2h0m1 2h0m6-3h0m2 1h0m0 2h0m0-6h0m0 1h0m2 3h0m0-1h0m1 2h0m2-4h0m1 4h0m-2 3h0m-2 0h0m-2 2h0m-1-2h0m0 2h0m0 1h0m-1-1h0m-6-2h0m0 3h0m0 0h0m-1-4h0m0 2h0m0 0h0m0 3h0m-1-5h0m-3-1h0m-8 5h0m-2 0h0m-1-5h0m-3 6h0m-1-6h0m0 2h0m-4 3h0m-3 0h0m-1-2h0m-2 1h0m0-2h0m0 3h0m0-4h0m-2 4h0m0-3h0m-1 4h0m-1-2h0m0 1h0m-1 1h0m-1-2h0m0-3h0m-1 0h0m0 0h0m0 3h0m-2-4h0m0 3h0m-1 1h0m-1-3h0m-1 0h0m-1 3h0m0-2h0m-11 10h0m1 0h0m0-2h0m2-2h0m0 3h0m1 0h0m0 0h0m1 0h0m1-1h0m0-2h0m0 0h0m1 0h0m2 1h0m0 2h0m2 0h0m1-3h0m2-1h0m0-1h0m1 5h0m0-4h0m2 3h0m0 1h0m2-3h0m0 0h0m2-1h0m1 0h0m1 2h0m1 1h0m1 0h0m7-1h0m2 2h0m1-1h0m1 0h0m1-1h0m1 3h0m1-5h0m1 0h0m0 2h0m1-2h0m16 4h0m2-4h0m1 6h0m-1 2h0m0 2h0m-1-1h0m-1 1h0m-2-1h0m-1-1h0m-2-2h0m-4 0h0m-1 4h0m-5-1h0m-1 1h0m-1-5h0m-1 4h0m-3-3h0m0 4h0m0-1h0m0-4h0m-3 2h0m-1-1h0m-1 2h0m-7 2h0m0-1h0m-1-2h0m0 0h0m-2-2h0m0 1h0m-1 1h0m-2-1h0m-1 0h0m0 5h0m0-3h0m-1 1h0m0-2h0m-1 0h0m-1 1h0m0 1h0m0-1h0m-1-1h0m0-1h0m0 5h0m-1-3h0m-1 0h0m0 0h0m0 2h0m0-3h0m-1-1h0m0 2h0m0 3h0m0-1h0m0-1h0m0-3h0m0 3h0m0-1h0m0 2h0m-1-5h0m-1 6h0m-1-3h0m-1 3h0m0 0h0m0-2h0m-1 2h0m0-2h0m-1 1h0m-1-3h0m-1-1h0m-1 4h0m0-3h0m-1 3h0m-1-5h0m0 1h0m4 6h0m1 0h0m1 0h0m0 1h0m1-1h0m1 1h0m0-1h0m3 0h0m1-1h0m1 1h0m0 2h0m2-2h0m1 0h0m1 5h0m1-4h0m0-2h0m2 5h0m0 0h0m1-2h0m0 0h0m1-1h0m0-1h0m0 3h0m0-1h0m0 2h0m0-2h0m1 1h0m1 0h0m0 0h0m0 0h0m0-1h0m1-1h0m1 4h0m2 0h0m1-6h0m2 1h0m2 3h0m0-3h0m1 4h0m0 0h0m1-5h0m0 5h0m0 0h0m1-3h0m1 1h0m0 2h0m0 0h0m0 0h0m0-2h0m0 1h0m2 0h0m0 2h0m0-5h0m1 3h0m1-4h0m0 6h0m0-1h0m0-1h0m0 0h0m0-1h0m1-1h0m0-1h0m0 0h0m0 4h0m1-4h0m0 1h0m2 4h0m0-4h0m2 3h0m0-1h0m1-2h0m0 2h0m0-3h0m0 3h0m9-4h0m0 0h0m1 1h0m3 5h0m30 6h0m-3 0h0m-1-1h0m-1 0h0m-35 0h0m-4-2h0m-1 2h0m-2-2h0m0 2h0m0-2h0m-1-1h0m0 0h0m-1 0h0m-1 1h0m0 0h0m0-1h0m0-1h0m-2 1h0m0 0h0m0-2h0m-1 5h0m-1-2h0m0-1h0m0 1h0m0-2h0m-1 0h0m-1 3h0m0-4h0m0 3h0m0-2h0m-1 1h0m-2 2h0m-1 0h0m0 1h0m-1-1h0m-1-4h0m-1 0h0m0 5h0m-1-5h0m0 0h0m0 4h0m-1-3h0m-1-1h0m-1 2h0m-1 1h0m-1-2h0m0 0h0m-2 2h0m0 0h0m0 2h0m0-3h0m0 0h0m-1 2h0m-1-1h0m-1-2h0m0-1h0m0 1h0m-1 0h0m0-1h0m-5 6h0m-3 0h0m-1-2h0m-3 1h0m0 0h0m-2 0h0m-2 4h0m0-1h0m1-1h0m0 1h0m0 1h0m0 1h0m1 1h0m0-4h0m0 4h0m1 1h0m0-4h0m0 4h0m0-2h0m1 1h0m0 1h0m1-3h0m0 2h0m0-2h0m0 1h0m0 0h0m0-3h0m1 2h0m0-1h0m0-1h0m0 2h0m1-3h0m0 2h0m0 4h0m0-4h0m0 2h0m1-3h0m0 3h0m0 0h0m0 1h0m1 0h0m0-3h0m0 0h0m0 1h0m0 0h0m0 1h0m0 0h0m2-2h0m1 0h0m0 4h0m10-2h0m1-1h0m0 1h0m2-1h0m1 0h0m0 2h0m0 0h0m2-3h0m1 2h0m0 0h0m0 0h0m2-2h0m0 3h0m0-4h0m1 3h0m1-2h0m0 4h0m0-3h0m1 1h0m0 1h0m2-2h0m0 0h0m0 1h0m1 0h0m0-3h0m0 2h0m1-2h0m0 1h0m3 0h0m6-1h0m7 0h0m1 3h0m0 0h0m0 2h0m0-1h0m1-1h0m1 0h0m0-3h0m1 2h0m0-1h0m1 3h0m1-1h0m0-1h0m0-2h0m1 0h0m2 1h0m4 4h0m16-3h0m1-2h0m2 2h0m1 0h0m0 0h0m1-1h0m0 1h0m0-1h0m1 0h0m0 2h0m0-3h0m1 2h0m0-2h0m0 5h0m0-6h0m1 3h0m0-1h0m1 3h0m1 0h0m0 1h0m0-1h0m1 0h0m-3 6h0m-1-3h0m-1 1h0m-1 1h0m-1 0h0m-26 0h0m0 0h0m-1-3h0m-1 1h0m-3-2h0m0 2h0m0-1h0m0 4h0m0-2h0m0-3h0m-3 4h0m-2-4h0m-1 1h0m-6-1h0m0 1h0m-5-1h0m0 2h0m-2 3h0m-1-4h0m-1 1h0m0 3h0m0-1h0m-1-2h0m-1-2h0m0 3h0m-1 0h0m-1 0h0m-2 2h0m0-3h0m0 2h0m-1-2h0m0 0h0m0 0h0m-1-1h0m0 2h0m-1 0h0m-1-1h0m-2-1h0m0 3h0m0-2h0m-1 1h0m0-1h0m-7 3h0m0 1h0m-2-2h0m-1-3h0m-1-1h0m-3 2h0m0 3h0m0-3h0m-1 2h0m0-3h0m0-1h0m0 4h0m-1-2h0m0-1h0m-1 5h0m-1-6h0m0 1h0m0 1h0m-1-1h0m0 0h0m0 1h0m-5 3h0m-4 0h0m-6 6h0m0-1h0m1 1h0m2-3h0m1 3h0m1 0h0m1-5h0m0 6h0m0-5h0m1 1h0m3 3h0m0-1h0m1-3h0m0 1h0m1 3h0m0 1h0m2-3h0m7-1h0m0 0h0m1-2h0m2 1h0m14 2h0m0 2h0m0 0h0m0-3h0m1-2h0m1 6h0m1 0h0m1-3h0m0 0h0m1 3h0m1-2h0m1-1h0m2-2h0m2 4h0m2-3h0m1-1h0m15 1h0m0 0h0m1-2h0m1 0h0m2 0h0m-21 10h0m-1 2h0m-1-4h0m0 2h0m-3-1h0m-1 3h0m0-3h0m0 2h0m0-5h0m0 4h0m-1-4h0m0 0h0m0 3h0m-1-3h0m-1 0h0m-1 2h0m0 2h0m0-3h0m0 5h0m-2-6h0m-2 2h0m0 0h0m-1 0h0m0 0h0m-1 0h0m0 0h0m-1 2h0m-22-2h0m-1 0h0m0 0h0m0 1h0m0 0h0m-3 0h0m-1 0h0m-1-1h0m0 1h0m-1-3h0m0 3h0m-1 2h0m0-1h0m0-2h0m0 2h0m-1-3h0m-1 2h0m0-2h0m0-1h0m0 0h0m0 2h0m-1 1h0m0-2h0m0 2h0m-1 0h0m-1-2h0m38 8h0m0-1h0m1 1h0m1 0h0m1-2h0m0 2h0m0-1h0m1-2h0m2 2h0m0 0h0m1 1h0m2-3h0m0 3h0m1 0h0m1-2h0m1 1h0" stroke="#cfc7e3" stroke-width="4.0" stroke-linecap="round" fill="none"/>
<path d="M1845 389h0m2 0h0m0-3h0m-25 12h0m-11 8h0m-7-1h0m-4-2h0m-4 0h0m-3 9h0m1-1h0m1 1h0m2 1h0m10-3h0m1 4h0m0-5h0m1 5h0m3-1h0m24 0h0m1-2h0m4 4h0m-7 4h0m-2-4h0m-2-1h0m-1 6h0m-1-2h0m-3-3h0m-8-1h0m-9 6h0m-1-1h0m-3-1h0m0-3h0m-1 4h0m-2-2h0m0 2h0m-1 1h0m-8-2h0m-1 0h0m-3 7h0m3-1h0m1-4h0m4 3h0m1 2h0m1 0h0m1 1h0m0-2h0m10 0h0m0-1h0m3 0h0m1 1h0m1-1h0m1 2h0m15-3h0m5 0h0m4 0h0m3-1h0m1 0h0m0 0h0m-8 9h0m-7-3h0m0 0h0m-16-1h0m-2 5h0m-2-1h0m-7 0h0m-1 1h0m-1-5h0m-3 4h0m0 2h0m0-4h0m-1 2h0m0 1h0m0 1h0m-2-5h0m-6 5h0m-1-1h0m0-3h0m-8 8h0m0 1h0m0-2h0m0 1h0m1-1h0m1 0h0m1 1h0m1-1h0m1 1h0m1 2h0m1-1h0m4 0h0m1 0h0m1 1h0m1-3h0m1 2h0m0-2h0m1 0h0m1-2h0m1 5h0m1-1h0m3-3h0m0 0h0m36 3h0m-1 3h0m0-1h0m-1 5h0m-1-2h0m-2-1h0m0 1h0m-3-2h0m-5 0h0m-9 1h0m-3 2h0m0 0h0m-1-4h0m-1 1h0m-2-1h0m-1 0h0m-1 3h0m-7 0h0m-3 2h0m-1-5h0m-1 4h0m-1-4h0m0 0h0m0 2h0m-3 2h0m-2-1h0m-1-3h0m0 4h0m0-5h0m-1 4h0m0 1h0m0-3h0m-1 2h0m0 1h0m-1-2h0m-1-2h0m0 4h0m-1-4h0m-1 4h0m0-3h0m-1 3h0m-2 0h0m-1 1h0m0-3h0m-1 2h0m3 2h0m2 1h0m1-2h0m1 1h0m6 1h0m1 2h0m1 1h0m5-2h0m5-2h0m1 4h0m2-1h0m3 0h0m4-1h0m0-3h0m2 4h0m1-1h0m1 2h0m0 0h0m0-5h0m1 5h0m1-2h0m1 0h0m2-3h0m0 5h0m1-4h0m2 3h0m0 1h0m1-4h0m7 0h0m35 10h0m-4-1h0m-1 0h0m-40-2h0m0-1h0m-2 2h0m-1 0h0m-1 2h0m0 0h0m0-4h0m-1 3h0m0-4h0m0 3h0m-1 2h0m0-1h0m-1-1h0m0 2h0m0 0h0m-1-4h0m0 0h0m-3 0h0m-3 5h0m-3-3h0m-1-2h0m0-1h0m-2 5h0m0-2h0m-2-3h0m0 1h0m-1 3h0m-1 2h0m-1-3h0m0-3h0m-2 4h0m-3-3h0m-9 4h0m-1-1h0m-3 2h0m-4 2h0m1-1h0m1 2h0m0-1h0m0 0h0m0 0h0m3 1h0m1 3h0m1-2h0m0 1h0m0-2h0m0-2h0m1 1h0m0 2h0m0-1h0m2 2h0m0-4h0m1-1h0m0 4h0m0 1h0m0-5h0m2 6h0m16 0h0m1-5h0m1 2h0m0 1h0m3-1h0m2 3h0m0-1h0m3-4h0m0-1h0m3 2h0m0-2h0m0 1h0m0 0h0m1 3h0m1-4h0m7 5h0m2-2h0m0 3h0m2 0h0m0-5h0m0 1h0m1-1h0m3 5h0m4 0h0m21-4h0m10 2h0m1 1h0m0 2h0m0-1h0m-1 1h0m0 1h0m-2 2h0m-1-2h0m-1-2h0m-26 2h0m-1 0h0m-3 2h0m0-3h0m-2 2h0m-1 0h0m-2-2h0m0 3h0m-1-3h0m-5-1h0m-13 6h0m-3-1h0m-1-1h0m-6-2h0m0-1h0m-12-1h0m-4 2h0m-1-1h0m-1 5h0m0-5h0m-1 2h0m-1-3h0m-1 1h0m0-1h0m-5 6h0m-12 6h0m0-1h0m1-1h0m2 1h0m0-3h0m1 0h0m5 1h0m1 1h0m1 1h0m6-4h0m2 3h0m1-4h0m3 1h0m2 1h0m13-1h0m0 4h0m5 0h0m1 1h0m3-2h0m0 1h0m0-3h0m1-1h0m0-1h0m2 11h0m0-1h0m-1-2h0m-2 1h0m-3 1h0m-3-2h0m0 4h0m0-3h0m-1 3h0m-1-6h0m0 2h0m-1 0h0m-1 0h0m0-1h0m-1 3h0m-26-2h0m-1 1h0m0 1h0m-2 0h0m0-3h0m0 2h0m-1-1h0m0-1h0m-5 1h0m0-2h0m35 6h0m1 1h0m2 0h0m0 2h0m1-3h0m0 2h0m2 1h0m1-3h0m3 3h0m1-1h0m0-1h0m1 1h0m1-1h0m0 0h0" stroke="#b8abd9" stroke-width="3.8" stroke-linecap="round" fill="none"/>
<path d="M1804 403h0m-1 3h0m-3-3h0m-6 6h0m0 3h0m0-3h0m7 0h0m32 3h0m2 1h0m5-2h0m-10 5h0m-3 2h0m-2-3h0m-28 4h0m-6-2h0m0-2h0m0 4h0m-2 6h0m1-4h0m0 4h0m34 0h0m-26 6h0m-5-4h0m-4-1h0m-1 3h0m0-2h0m0 0h0m-11 9h0m2 1h0m15-4h0m2 4h0m1-3h0m21 10h0m-1 0h0m-5-2h0m-22-1h0m-3 3h0m-3-4h0m-3 3h0m0-3h0m-4 0h0m-2-1h0m12 8h0m9 1h0m2-4h0m5 2h0m1 0h0m6 2h0m2 0h0m0 1h0m3-3h0m2-1h0m43 9h0m-1 1h0m-33-2h0m-12 0h0m-2-1h0m-2-1h0m0-1h0m-1 2h0m-6 4h0m-1 0h0m-22-2h0m-1 1h0m-2 0h0m-3 3h0m2 3h0m7-5h0m1 1h0m17 4h0m1-4h0m5 5h0m7-5h0m21 1h0m28 2h0m0 8h0m-54-5h0m-8 1h0m-5 0h0m-13 2h0m-5-3h0m0 0h0m-7 4h0m-11 7h0m9-5h0m1 3h0m31 0h0m0 0h0m6-4h0m23 3h0m-19 7h0m-7-3h0m-1 0h0m-2 2h0m-30 0h0m-2 0h0m-5-1h0m36 6h0" stroke="#9686ca" stroke-width="3.5" stroke-linecap="round" fill="none"/>
<path d="M1802 413h0m28 16h0m-34 2h0m-8-1h0m-10 5h0m22-3h0m12 9h0m-26 1h0m-1 1h0m0-3h0m-3-1h0m-1-1h0m2 8h0m30 1h0m3 1h0m1-1h0m2 0h0m42 9h0m-84 6h0m33-2h0m-6 10h0m-1 9h0m-31-4h0" stroke="#6153b2" stroke-width="3.2" stroke-linecap="round" fill="none"/>
<path d="M1745 379.1V496.7H1879.6" stroke="#000" stroke-width="2.1" fill="none"/>
<text x="1820.6" y="368.4" font-size="24.2" text-anchor="middle" font-style="italic">CD163</text>
<text x="1815.5" y="519.6" font-size="20.5" text-anchor="middle">UMAP_1</text>
<text font-size="20.5" text-anchor="middle" transform="translate(1731 437) rotate(-90)">UMAP_2</text>
<rect x="1895.4" y="396.9" width="18.3" height="90.3" fill="url(#gb)"/>
<path d="M1895.4 414.7L1898.9 414.7" stroke="#fff" stroke-width="0.9" fill="none" />
<path d="M1910.2 414.7L1913.7 414.7" stroke="#fff" stroke-width="0.9" fill="none" />
<text x="1921.5" y="422.7" font-size="23.5" >2.5</text>
<path d="M1895.4 437.7L1898.9 437.7" stroke="#fff" stroke-width="0.9" fill="none" />
<path d="M1910.2 437.7L1913.7 437.7" stroke="#fff" stroke-width="0.9" fill="none" />
<text x="1921.5" y="445.7" font-size="23.5" >2.0</text>
<path d="M1895.4 461L1898.9 461" stroke="#fff" stroke-width="0.9" fill="none" />
<path d="M1910.2 461L1913.7 461" stroke="#fff" stroke-width="0.9" fill="none" />
<text x="1921.5" y="469" font-size="23.5" >1.5</text>
<path d="M1895.4 484L1898.9 484" stroke="#fff" stroke-width="0.9" fill="none" />
<path d="M1910.2 484L1913.7 484" stroke="#fff" stroke-width="0.9" fill="none" />
<text x="1921.5" y="492" font-size="23.5" >1.0</text>
<use href="#ub" transform="translate(890.3 605) scale(0.993 0.988)"/>
<path d="M983 608h0m-4 0h0m-19 9h0m24-3h0m-45 10h0m-7-2h0m-5 8h0m1-2h0m1 0h0m0 1h0m0 0h0m2-2h0m1 0h0m1 1h0m2 0h0m1-2h0m1 1h0m1-2h0m0 3h0m0 2h0m1-5h0m2 5h0m2-1h0m20 1h0m9 5h0m-1-3h0m-3-1h0m-7 4h0m-1-3h0m0 3h0m-14-3h0m0-2h0m-4 3h0m-1 1h0m-5-2h0m-5 1h0m-1-1h0m-1-1h0m0 1h0m-1 3h0m0-3h0m-2 3h0m-3 6h0m2 0h0m1-3h0m0-2h0m10 1h0m1 2h0m4-2h0m2 3h0m4-2h0m3 2h0m1 2h0m3-2h0m5-2h0m6 3h0m3-3h0m6 4h0m-11 5h0m-5-1h0m-1-2h0m-7-1h0m-5 4h0m0-4h0m-11 0h0m0 3h0m0 0h0m-1-1h0m-5 2h0m-1-3h0m0 3h0m-1-1h0m-2-3h0m0 2h0m0 0h0m-1 0h0m0 2h0m-1-2h0m-9 9h0m3 0h0m4-1h0m1 0h0m0-2h0m1-1h0m1-1h0m0 0h0m1 4h0m0-2h0m1 1h0m2-2h0m1-1h0m0-1h0m2 3h0m0-2h0m1 2h0m0-1h0m1 3h0m1-5h0m1 3h0m0-1h0m0 1h0m1 2h0m0-2h0m1-1h0m4 1h0m9 0h0m14 0h0m5 1h0m2 1h0m-1 5h0m0 1h0m-3-1h0m-16 0h0m-2 2h0m0-6h0m-2 5h0m-1-3h0m0 2h0m-8 1h0m-2-3h0m-1 0h0m-1 4h0m0-5h0m0 5h0m0-2h0m-2-1h0m0 0h0m-2-3h0m0 1h0m0 4h0m-2-4h0m-1 4h0m0-2h0m-1-1h0m-2 3h0m-2-3h0m0 3h0m0-1h0m0 2h0m-1-1h0m0 0h0m0-4h0m0 3h0m-1-1h0m-1 3h0m0-1h0m-1-5h0m0 5h0m0-5h0m-1 2h0m0 3h0m-2-4h0m0 5h0m-1-5h0m0 0h0m0 1h0m0 3h0m-1-4h0m-1 4h0m-1 0h0m-1-1h0m0 1h0m1 3h0m0 0h0m0-1h0m1 0h0m0 2h0m1 0h0m2 2h0m1 1h0m0-3h0m0 2h0m0 1h0m1-6h0m0 5h0m0-2h0m1 0h0m0 1h0m0 0h0m1-3h0m2 1h0m0 1h0m0-1h0m1 1h0m0 0h0m1 1h0m0 0h0m0-3h0m1-1h0m1 5h0m0-4h0m0 0h0m0 0h0m1 1h0m0-2h0m0 0h0m0 0h0m2 1h0m0 2h0m0 2h0m0-1h0m4-2h0m0 3h0m2-3h0m0 2h0m2 1h0m4-3h0m2-1h0m3-1h0m1 5h0m1-3h0m0 1h0m0 1h0m1-3h0m0-1h0m2 1h0m0 3h0m1-1h0m1 0h0m0 2h0m1-1h0m2 1h0m2 0h0m1-1h0m0 2h0m7-2h0m0-1h0m1-1h0m1 2h0m0-4h0m2 1h0m2 0h0m-12 8h0m-1-2h0m-3 2h0m0-2h0m-2-1h0m-1 5h0m0-2h0m-1-3h0m0 2h0m0 4h0m0-1h0m0-3h0m0-2h0m0 3h0m-1-1h0m0 4h0m-1-3h0m-1-2h0m0 4h0m0-3h0m0 4h0m0-1h0m-1 1h0m0-4h0m0-1h0m-1-1h0m0 2h0m0 3h0m-1-2h0m0 1h0m-1-3h0m0 5h0m0-3h0m-1-1h0m-3-1h0m-3 3h0m0 0h0m-2 0h0m-1 1h0m0-1h0m0 1h0m0-3h0m0-1h0m-2 0h0m0 1h0m0 1h0m0-3h0m0 5h0m-1-4h0m0-1h0m-1 3h0m0-1h0m-1-2h0m-2 3h0m0 2h0m-1 0h0m0-3h0m-1 0h0m-1 0h0m0-2h0m-14 11h0m1 0h0m0 1h0m0-1h0m0 1h0m2-3h0m1 0h0m1-1h0m0 3h0m1-3h0m1 2h0m0 2h0m0-1h0m0-2h0m1 2h0m0-2h0m2 1h0m0 1h0m0-1h0m8-3h0m1 0h0m0 1h0m1 0h0m0-1h0m1 1h0m0-1h0m2 0h0m1 2h0m1 1h0m1-4h0m1 2h0m2-1h0m1 1h0m1 1h0m1 0h0m0-1h0m1 3h0m2-4h0m0 1h0m0-1h0m1 5h0m0-3h0m0-2h0m1-1h0m1 2h0m0-1h0m0 4h0m0 0h0m2 1h0m1-4h0m0 3h0m0-5h0m0 3h0m0 2h0m1-3h0m1-1h0m0 3h0m3-2h0m1-1h0m4 2h0m2 1h0m1 0h0m0 0h0m0 0h0m1 1h0m2-1h0m1 0h0m3 1h0m21 0h0m0 0h0m3 0h0m0-2h0m0 3h0m0 0h0m0-4h0m1 0h0m0-1h0m1 2h0m0 2h0m1-3h0m1 2h0m1-2h0m0 4h0m0-1h0m1-2h0m1 3h0m1 4h0m0 0h0m0-1h0m0-1h0m0-1h0m-1 1h0m0 0h0m0 0h0m0 1h0m-2-2h0m0 1h0m0-1h0m-1-1h0m0 5h0m0-1h0m0-2h0m-2-1h0m0 0h0m-1 0h0m-22 0h0m-3-1h0m-2 5h0m0-4h0m-2 3h0m-1-2h0m0 2h0m-1 0h0m-1-2h0m0 0h0m-1 3h0m-3-2h0m-6 1h0m-2-3h0m-3 3h0m-3-3h0m0 0h0m0 2h0m0 2h0m0-4h0m-1 1h0m0 1h0m0 3h0m-2-2h0m0-3h0m-4 4h0m0-3h0m-1 3h0m-1-1h0m0-1h0m0 3h0m-1-6h0m-1 3h0m-1-1h0m0 4h0m-1-4h0m-1 3h0m0 0h0m-10-2h0m0 0h0m0 2h0m-1-4h0m0 3h0m-1-2h0m-1 0h0m-1 4h0m0-4h0m-1-1h0m0 0h0m-1 3h0m0 2h0m0 0h0m0-5h0m-1 1h0m0 0h0m0-2h0m0 3h0m-1 0h0m0-3h0m0 3h0m0 2h0m0-2h0m0-2h0m0 4h0m-1 0h0m-1-2h0m0-1h0m-1-2h0m-11 12h0m1 0h0m1-1h0m2-2h0m1 0h0m0 1h0m0 2h0m1-1h0m1-3h0m0 2h0m2-1h0m0 1h0m0 1h0m2 1h0m3-1h0m3-3h0m0 1h0m1 0h0m0-1h0m0 0h0m1 3h0m0-5h0m0 1h0m0 3h0m1 1h0m2 1h0m3-3h0m0-1h0m11 0h0m0-2h0m1 4h0m2-2h0m2-1h0m0-1h0m1 3h0m1 1h0m0-4h0m0 1h0m2 3h0m0-2h0m0 1h0m0 1h0m2-1h0m2 1h0m0 1h0m12-5h0m1 0h0m3 1h0m1 3h0m0 0h0m0 0h0m2-1h0m29 1h0m1-3h0m0 3h0m0-1h0m1 0h0m1-2h0m2 0h0m-36 5h0m-19 2h0m-1 4h0m0-1h0m-2-2h0m0-1h0m-2 0h0m0 1h0m0 1h0m-1-1h0m-1-1h0m0 0h0m0 2h0m0-1h0m0 3h0m-1-5h0m0 3h0m0-1h0m-1 0h0m0 2h0m-1-4h0m-1 2h0m0 0h0m0-2h0m-1 1h0m0 3h0m0-1h0m-1 1h0m0 0h0m0 1h0m-1 0h0m-1-1h0m-1 1h0m-21-3h0m0 0h0m-1 0h0m0-1h0m0 3h0m0-3h0m0 0h0m-1 3h0m0-3h0m-1 3h0m-1-3h0m0 2h0m0 0h0m0-4h0m0 1h0m-1 3h0m0-2h0m0 1h0m-1 1h0m0-1h0m-1 0h0m0 2h0m0 0h0m0-2h0m-1-2h0m0 1h0m0-1h0m-1 2h0m-1 0h0m0 1h0m0 2h0m-1-1h0m0-4h0m-1 1h0m0 0h0m0 2h0m0 0h0m0-1h0m-1-1h0m0 1h0m0 1h0m-1-2h0m0-1h0m0 2h0m1 3h0m1 0h0m0 0h0m2 1h0m1 0h0m1 1h0m3-2h0m1 1h0m0 1h0m0-1h0m1 0h0m0 0h0m0 0h0m1 0h0m25 3h0m3 1h0m0 1h0m0-2h0m1-1h0m0 2h0m1-2h0m0-2h0m0 2h0m0 0h0m2 2h0m1-4h0m0-1h0m1 3h0m0 0h0m1-2h0m1 5h0m0-3h0m0 1h0m1-1h0m0 2h0m0-2h0m1 2h0m0-1h0m1-1h0m0-2h0m-4 5h0m0 0h0m-4 0h0m-3 0h0m-1 0h0" stroke="#cfc7e3" stroke-width="4.0" stroke-linecap="round" fill="none"/>
<path d="M928 631h0m-3 5h0m1 3h0m0-2h0m1 1h0m0 2h0m18-1h0m22-1h0m5 3h0m2 5h0m-12 1h0m-12-2h0m-14 3h0m-2-4h0m0 4h0m-2-3h0m0-1h0m-1 4h0m-3-1h0m-1 0h0m-2-1h0m0-1h0m-2 1h0m-1 1h0m-6 7h0m9-1h0m4 1h0m1-3h0m1 1h0m0 1h0m2 0h0m1-2h0m0-1h0m1 3h0m0-1h0m2-1h0m9-2h0m16 3h0m3-3h0m4 1h0m-2 7h0m-6 2h0m-3 0h0m-6-1h0m-7 0h0m-10-4h0m-3 3h0m-2 2h0m-2-4h0m-1 4h0m0-2h0m-2 0h0m-1 2h0m-3-2h0m-1 0h0m-1 3h0m0-3h0m0 0h0m0-1h0m-2 4h0m-1-4h0m-1 1h0m-1 0h0m-2 2h0m0-4h0m-2 5h0m0 4h0m1-1h0m1-3h0m0 3h0m1 1h0m1-1h0m1 0h0m1 1h0m2 0h0m2-4h0m0 4h0m0-3h0m1-1h0m0 2h0m1-2h0m0 1h0m2 1h0m1 3h0m1-3h0m1-2h0m0 3h0m1-1h0m2 2h0m4-2h0m5 3h0m1 0h0m5 1h0m0-2h0m9 1h0m3-2h0m7 0h0m5-3h0m-3 7h0m-8 3h0m-1-2h0m-2 3h0m-4 0h0m0-4h0m-1 0h0m0 0h0m-1 2h0m0-1h0m-1 0h0m0 3h0m-1 0h0m0-2h0m-1 3h0m0-4h0m0 1h0m-1 1h0m-1-1h0m0-2h0m0 4h0m-1-3h0m-5-1h0m-1 3h0m-1-2h0m0 2h0m-3-3h0m0 1h0m0 0h0m-3-1h0m-1 5h0m-3-2h0m0 0h0m0 0h0m-4-4h0m-13 10h0m1 1h0m2 1h0m1-4h0m0 1h0m1 2h0m1-2h0m0 3h0m0-1h0m1 0h0m0-1h0m0 2h0m1-4h0m0 1h0m1 2h0m0-1h0m2 2h0m0-3h0m6-1h0m1-2h0m1 2h0m1-1h0m3 0h0m0 5h0m1-5h0m4 1h0m0 1h0m1 2h0m1-4h0m3 2h0m5 1h0m1-4h0m5 0h0m0 2h0m8 4h0m33-5h0m6 2h0m2 6h0m-1 2h0m0-2h0m-1-2h0m-1 2h0m0 1h0m0-3h0m-1 0h0m-6 0h0m0 0h0m-13 2h0m-9-3h0m-1 5h0m-2-3h0m-4 3h0m-1-4h0m-4 4h0m-3 0h0m-8-1h0m-2-3h0m0 4h0m0 0h0m-1-2h0m0 1h0m-1-2h0m-5-1h0m-1 2h0m0 2h0m-3-5h0m-1 5h0m-1-1h0m-1 1h0m-10-2h0m-2-1h0m-1-1h0m0 4h0m0-5h0m-1 2h0m0 3h0m0-3h0m0-1h0m-1 4h0m0-5h0m0 1h0m-1 0h0m0 1h0m0 3h0m-1-4h0m0 2h0m0-1h0m-1 1h0m0 1h0m0 0h0m0 0h0m-1-1h0m0 2h0m0-2h0m0 0h0m-1-1h0m0 1h0m0 2h0m-2-4h0m-8 11h0m2-1h0m1 0h0m0 1h0m3-3h0m1 1h0m6-1h0m5 1h0m2 0h0m11-3h0m3 4h0m1-4h0m3 5h0m0 0h0m2-3h0m2 2h0m20-4h0m1 4h0m4-2h0m0-2h0m27 1h0m0 0h0m1 0h0m-50 10h0m-4-6h0m0 6h0m-5-2h0m-1 2h0m-1-1h0m-2 0h0m-1 0h0m-2 1h0m-10-4h0m-9-2h0m-2 2h0m0-1h0m-1 2h0m0 2h0m0 0h0m-1-1h0m0-4h0m-1 5h0m-1-3h0m0-2h0m-2 2h0m-1 3h0m0 1h0m-1-2h0m-1 1h0m-1-1h0m-1-1h0m0-1h0m0 1h0m0 2h0m-1 0h0m0-4h0m0 2h0m-1-1h0m0-2h0m3 7h0m1 0h0m0 1h0m1-2h0m2 0h0m0 2h0m4-2h0m0 1h0m23 0h0m3 1h0m0 2h0m0 2h0m3-3h0m2 2h0m1 0h0m1-4h0m0 4h0m1-3h0m0 0h0m2 4h0m3-5h0m0 2h0m0-1h0m1 0h0m-11 4h0m-1 0h0" stroke="#b8abd9" stroke-width="3.8" stroke-linecap="round" fill="none"/>
<path d="M926 630h0m4 2h0m-4 3h0m5 13h0m-6-3h0m-4 3h0m2 0h0m0 4h0m1 1h0m0-3h0m0 2h0m1 2h0m5-1h0m1-1h0m1 1h0m-4 5h0m0-2h0m-1 3h0m-5-5h0m-3 2h0m-2 2h0m-2-1h0m0 3h0m-1-2h0m-1 7h0m1-3h0m1 4h0m1-3h0m3-1h0m1 0h0m3 1h0m4 0h0m7-1h0m0 3h0m17 0h0m0 0h0m2-2h0m10-3h0m-17 12h0m-15-1h0m-6-1h0m-16 7h0m9-1h0m22 1h0m1-2h0m5 1h0m47-1h0m7 5h0m-29 3h0m-3-4h0m-25 4h0m-2-1h0m-1-2h0m-21 2h0m-1-2h0m-1 2h0m-1 0h0m-2-3h0m-1 3h0m0 0h0m-1-1h0m-4-1h0m-8 10h0m1-1h0m3 0h0m2 0h0m2-2h0m11-2h0m3 0h0m19-1h0m31 0h0m25 4h0m-53 7h0m-4-2h0m-1 1h0m-2 2h0m-1-4h0m0 4h0m-1-4h0m-26 0h0m-3-1h0m-2 4h0m-2-3h0m0 0h0m-1 1h0m0-1h0m-2 1h0m0 1h0m0 1h0m4 1h0m1 1h0m28 0h0m1 4h0m0-3h0m1 0h0m1 3h0m1 1h0m2-4h0m1 3h0m1-4h0m2 3h0m2 1h0" stroke="#9686ca" stroke-width="3.5" stroke-linecap="round" fill="none"/>
<path d="M926 639h0m-3 8h0m10 4h0m-6 5h0m-7 3h0m-4-2h0m-2-1h0m24 8h0m12 1h0m-1 2h0m-20 5h0m-19 6h0m6-1h0m22 1h0m10-5h0m54 9h0m-55 0h0m-13 2h0m-16-4h0m0 0h0m-4 2h0m-15 8h0m16-6h0m-9 6h0m-1 2h0m-4-1h0m-1 4h0m35 5h0m2-1h0m2-1h0m1 0h0" stroke="#6153b2" stroke-width="3.2" stroke-linecap="round" fill="none"/>
<path d="M880.3 599.5V715.8H1014" stroke="#000" stroke-width="2.1" fill="none"/>
<text x="959.7" y="587.3" font-size="24.2" text-anchor="middle" font-style="italic">SELENOP</text>
<text x="953" y="736" font-size="20.5" text-anchor="middle">UMAP_1</text>
<text font-size="20.5" text-anchor="middle" transform="translate(872 657.3) rotate(-90)">UMAP_2</text>
<rect x="1029.4" y="616.3" width="18.6" height="89.3" fill="url(#gb)"/>
<path d="M1029.4 617.7L1032.9 617.7" stroke="#fff" stroke-width="0.9" fill="none" />
<path d="M1044.5 617.7L1048 617.7" stroke="#fff" stroke-width="0.9" fill="none" />
<text x="1056" y="625.7" font-size="23.5" >3.0</text>
<path d="M1029.4 639.1L1032.9 639.1" stroke="#fff" stroke-width="0.9" fill="none" />
<path d="M1044.5 639.1L1048 639.1" stroke="#fff" stroke-width="0.9" fill="none" />
<text x="1056" y="647.1" font-size="23.5" >2.5</text>
<path d="M1029.4 660.8L1032.9 660.8" stroke="#fff" stroke-width="0.9" fill="none" />
<path d="M1044.5 660.8L1048 660.8" stroke="#fff" stroke-width="0.9" fill="none" />
<text x="1056" y="668.8" font-size="23.5" >2.0</text>
<path d="M1029.4 681.8L1032.9 681.8" stroke="#fff" stroke-width="0.9" fill="none" />
<path d="M1044.5 681.8L1048 681.8" stroke="#fff" stroke-width="0.9" fill="none" />
<text x="1056" y="689.8" font-size="23.5" >1.5</text>
<path d="M1029.4 703.5L1032.9 703.5" stroke="#fff" stroke-width="0.9" fill="none" />
<path d="M1044.5 703.5L1048 703.5" stroke="#fff" stroke-width="0.9" fill="none" />
<text x="1056" y="711.5" font-size="23.5" >1.0</text>
<use href="#ub" transform="translate(1137.8 609.2) scale(1.104 0.995)"/>
<path d="M1234 617h0m3-4h0m0 1h0m4 0h0m0 4h0m2 3h0m-1-2h0m-29 0h0m-1 5h0m-31 5h0m2-2h0m0 1h0m1 2h0m0-1h0m0-1h0m1 1h0m2-3h0m2 4h0m0 0h0m1-1h0m0 1h0m0-1h0m2-1h0m0 0h0m0 2h0m1-3h0m1 3h0m0-2h0m1 2h0m6 0h0m10-1h0m21 7h0m-4-1h0m-3 0h0m-5-1h0m-16 1h0m0-1h0m0-1h0m-1 3h0m-1-4h0m-2 0h0m-1 4h0m-1-5h0m0 0h0m0 5h0m0 0h0m0 0h0m-2-1h0m0-3h0m-1 2h0m0 1h0m0 1h0m-1-2h0m0-3h0m-2 1h0m-1 1h0m0 0h0m0 1h0m0-3h0m0 0h0m-2 0h0m-1 3h0m-1-4h0m-3 2h0m0-1h0m-1 4h0m-1-4h0m0 2h0m-1 0h0m0 3h0m-1-3h0m0 0h0m-3 1h0m3 5h0m1-3h0m1 0h0m1 0h0m3 1h0m0 3h0m2 1h0m0-4h0m0 4h0m0-3h0m0-1h0m1-1h0m0 2h0m0 0h0m0 0h0m1 4h0m2 0h0m0-5h0m1 2h0m0-1h0m1 1h0m1 2h0m1-4h0m1 1h0m0 2h0m0 0h0m1-2h0m0-1h0m0 3h0m0 0h0m0 0h0m0-2h0m1 2h0m2-3h0m0 3h0m1-2h0m0-1h0m0 3h0m2 1h0m2-3h0m3-1h0m0 2h0m4 2h0m1-1h0m0 0h0m1-1h0m1 3h0m3-2h0m1-3h0m2 3h0m0-2h0m1 2h0m0-2h0m5 1h0m2-2h0m3 3h0m2 6h0m0-1h0m-1-1h0m-1 0h0m0 2h0m0-1h0m-2-2h0m0 4h0m-3-1h0m-1-3h0m-4 1h0m0-1h0m0 4h0m0-3h0m-2 2h0m0-4h0m-1 3h0m-1 0h0m-1 2h0m0 0h0m0-4h0m-3 2h0m0-1h0m-3 3h0m-2-5h0m-1 3h0m-4 2h0m0-1h0m-1-2h0m0-1h0m-1 5h0m-1-2h0m-2 1h0m0-3h0m0 2h0m-1 2h0m0-5h0m0 5h0m0-1h0m-1 1h0m0-3h0m-1 2h0m-1 0h0m0-2h0m0-1h0m-1-1h0m-1 0h0m0 0h0m-2 3h0m0-3h0m-1 0h0m0-1h0m0 1h0m-1 0h0m-2 0h0m0 0h0m-2 2h0m0 3h0m0-3h0m-1 2h0m-7-2h0m-5 5h0m1 1h0m0 0h0m0 2h0m1-4h0m1 4h0m4-2h0m0 2h0m6-1h0m8 2h0m3-6h0m1 3h0m1-1h0m0 1h0m0-2h0m1 5h0m0-3h0m0 1h0m1-2h0m0 2h0m1-3h0m2 0h0m6 2h0m8 0h0m4-2h0m1 3h0m5-3h0m0 0h0m0 1h0m2 2h0m1-2h0m2 2h0m0 2h0m-8 5h0m-1-4h0m-3 2h0m-1-3h0m-15 4h0m-1 2h0m-1-3h0m-1 0h0m-2 3h0m-1-4h0m-1 3h0m0-3h0m-2-1h0m-1 5h0m-1-6h0m-1 2h0m-3-1h0m-2 0h0m-1-1h0m-1 1h0m0 3h0m-1-2h0m0-1h0m-2 1h0m-1-1h0m0 1h0m0 0h0m0 0h0m0 1h0m-6 1h0m-1-2h0m0-2h0m0 4h0m-2-2h0m0 0h0m0-2h0m-1 3h0m-1 1h0m-1 1h0m-8 1h0m-2 3h0m0 2h0m0-3h0m1 3h0m2-1h0m0-3h0m1 0h0m2-1h0m1 3h0m1 0h0m1 1h0m0 1h0m2-3h0m2 4h0m4-1h0m0 0h0m1-1h0m0 1h0m1-1h0m0-1h0m1-2h0m0 2h0m1 0h0m2-1h0m3 2h0m0-3h0m2 0h0m6 2h0m2 1h0m0-1h0m2-3h0m0 5h0m1-5h0m0 3h0m1-1h0m4 1h0m2 3h0m13-2h0m0 1h0m5-2h0m2 2h0m-1 2h0m-3 5h0m-1-6h0m-15 3h0m-1 0h0m0-2h0m-1 1h0m-2 1h0m-2-2h0m0 0h0m-1 3h0m-1 1h0m-3 1h0m-3-5h0m-1 2h0m-4 0h0m-4 2h0m-1 0h0m-3-4h0m0 1h0m-1-1h0m-2-1h0m-2 2h0m-1 3h0m-1-4h0m-1 0h0m0 0h0m-1 0h0m0-1h0m-4 2h0m-1 0h0m0 2h0m0-2h0m-1-1h0m-2 0h0m12 6h0m4 1h0m0 1h0m0 2h0m1 1h0m3 0h0m1-2h0m0-3h0m0-1h0m1 1h0m1-1h0m0 1h0m3 2h0m1-1h0m1 0h0m0 0h0m1-2h0m6 3h0m1-3h0m0 4h0m1 1h0m0-3h0m1 2h0m2 0h0m0 1h0m2-4h0m0 4h0m0-5h0m2 4h0m0 2h0m4-2h0m1-4h0m1 0h0m4 5h0m6-5h0m38 11h0m0 1h0m-1-2h0m0-3h0m0 4h0m-4 0h0m0-5h0m-1 6h0m-1-2h0m0 0h0m-1-4h0m-2 3h0m-22 2h0m-9-2h0m-1 1h0m-7 0h0m-1 0h0m-5-2h0m-1 2h0m0-1h0m0-3h0m0 3h0m0-1h0m-3-1h0m0 3h0m-1-1h0m-2 2h0m0-1h0m-2 1h0m0-3h0m-2 3h0m-1-1h0m-3-1h0m-1-2h0m0 1h0m-5 3h0m-3-4h0m-12 2h0m-2 1h0m-1 2h0m-7-3h0m4 6h0m0-1h0m0-1h0m4 2h0m21 2h0m3-1h0m0-4h0m5 3h0m2 1h0m1-3h0m0-1h0m1 3h0m7 0h0m8 2h0m2-1h0m1-3h0m2 4h0m2-3h0m2-2h0m1 5h0m0-4h0m1 0h0m6 2h0m4-1h0m22 2h0m0 1h0m0-4h0m0 5h0m2-5h0m1 0h0m0 4h0m0-4h0m1 0h0m0 2h0m-4 4h0m-34 1h0m-1 0h0m-2 0h0m0 0h0m-24 0h0m-4-2h0m-1 5h0m0-2h0m-1 2h0m-3 1h0m-24-4h0m-4 3h0m-5-1h0m0 2h0m-2-4h0m-4 2h0m-5 3h0m3 4h0m1-3h0m2-1h0m1 4h0m5-4h0m0 4h0m1-5h0m25 6h0m4-2h0m0-1h0m1-2h0m1 1h0m2 1h0m0-1h0m3 0h0m0 0h0m2 1h0m4 2h0m0 1h0m-2 4h0m-1-2h0m-4 0h0m0 2h0m-3-2h0m0 2h0m-1 1h0m-4-5h0m-30 0h0" stroke="#cfc7e3" stroke-width="4.0" stroke-linecap="round" fill="none"/>
<path d="M1213 623h0m-32 7h0m2 0h0m3 0h0m0-3h0m2 1h0m1 1h0m1-1h0m0-1h0m1 0h0m0 1h0m1-1h0m0 1h0m0 1h0m37 6h0m-3 0h0m-2 0h0m-14-2h0m-6 2h0m-1 1h0m0-5h0m-1 2h0m-1 3h0m0-2h0m-3 1h0m-1 1h0m0-2h0m0-1h0m-1-2h0m-1 3h0m-1 1h0m-1-5h0m-2 2h0m0 2h0m-1-2h0m0 0h0m0 3h0m-1-3h0m-1 1h0m-3-3h0m-2 1h0m-1 1h0m-1 2h0m-2-2h0m-1 8h0m0 2h0m5-4h0m2 0h0m3-1h0m1 4h0m0-5h0m1 5h0m1-2h0m1 3h0m2-3h0m0 3h0m1-4h0m0-1h0m0 5h0m1-6h0m0 5h0m2-1h0m0-3h0m1 2h0m1 1h0m0 1h0m0-5h0m0 1h0m0 1h0m0 2h0m0-3h0m0 5h0m1-5h0m1 2h0m6 1h0m2 1h0m4-1h0m3-1h0m4-1h0m7 3h0m7-1h0m-1 2h0m-5 1h0m-2 1h0m-11 4h0m-2-5h0m-4 3h0m-2 1h0m-3-2h0m0 1h0m-1-3h0m-1 4h0m-2 0h0m-1-2h0m-2 2h0m0-1h0m0-1h0m0 1h0m-1-2h0m-1-1h0m-1 3h0m-2-1h0m-1-2h0m-1 0h0m-1 2h0m0-1h0m-1 0h0m-3 0h0m0 0h0m-2 3h0m-6-4h0m0 1h0m-6 8h0m11 1h0m3-2h0m1-2h0m6 3h0m3-3h0m0-1h0m1 4h0m2 0h0m1 2h0m1-2h0m0-3h0m0 2h0m2 3h0m0-1h0m1-3h0m8 1h0m6-1h0m1 1h0m9 1h0m3-4h0m0 4h0m-12 4h0m-14-1h0m-5 4h0m-2-4h0m-21 2h0m-10 1h0m-6 2h0m2 2h0m0-1h0m5 5h0m2-4h0m0 1h0m2 1h0m6 1h0m4-1h0m3-1h0m4 1h0m2 1h0m1 0h0m4-1h0m2-3h0m1 0h0m20 5h0m1-1h0m2-1h0m0-3h0m4 2h0m-6 6h0m-16 1h0m0 2h0m-5-5h0m0 0h0m-8 3h0m-9-2h0m-6 1h0m0 4h0m0 2h0m4 1h0m2-2h0m3-2h0m0 3h0m14 1h0m3 1h0m2-4h0m0 3h0m1-4h0m51 12h0m-35-1h0m-4 1h0m-11-4h0m-1-1h0m-5 4h0m-1 1h0m-7 0h0m-1-1h0m-14-5h0m-10 2h0m-1 1h0m0-2h0m-2 4h0m-1 0h0m5 5h0m15 0h0m18-2h0m22-1h0m34 8h0m-41-1h0m-21 0h0m-41 2h0m-5 0h0m33 6h0m1 0h0m7 1h0m6-4h0m-2 7h0m-2 1h0" stroke="#b8abd9" stroke-width="3.8" stroke-linecap="round" fill="none"/>
<path d="M1185 627h0m2 0h0m5 2h0m2 0h0m9 3h0m0 0h0m-3 1h0m-1 2h0m-5-1h0m-7-1h0m0-3h0m-2 2h0m0-2h0m-5 2h0m0 1h0m4 5h0m1 1h0m2 0h0m2-1h0m4-2h0m3 1h0m2 2h0m3-2h0m2 4h0m3-3h0m21 0h0m0 9h0m-21-2h0m-1-2h0m-1 1h0m-2-1h0m-4 4h0m-8-5h0m-3 2h0m-12 2h0m9 4h0m17-2h0m3 1h0m23 5h0m-24 1h0m-2 4h0m0-3h0m-8 0h0m-23 4h0m-7 0h0m1 4h0m7-1h0m0 1h0m19 1h0m33-3h0m-23 7h0m-13 1h0m-1-3h0m-15 0h0m-4 19h0m22 2h0m1-2h0" stroke="#9686ca" stroke-width="3.5" stroke-linecap="round" fill="none"/>
<path d="M1191 627h0m12 6h0m-2 1h0m-2-3h0m-3 1h0m-10 0h0m-1 0h0m6 7h0m7 0h0m-1 7h0m-12 13h0m-13-4h0m55 11h0" stroke="#6153b2" stroke-width="3.2" stroke-linecap="round" fill="none"/>
<path d="M1127.8 603.7V720.7H1274.2" stroke="#000" stroke-width="2.1" fill="none"/>
<text x="1207.6" y="590.8" font-size="24.2" text-anchor="middle" font-style="italic">FCN1</text>
<text x="1207.6" y="741.3" font-size="20.5" text-anchor="middle">UMAP_1</text>
<text font-size="20.5" text-anchor="middle" transform="translate(1118.4 657) rotate(-90)">UMAP_2</text>
<rect x="1290" y="621.2" width="17.8" height="89.3" fill="url(#gb)"/>
<path d="M1290 646.8L1293.5 646.8" stroke="#fff" stroke-width="0.9" fill="none" />
<path d="M1304.3 646.8L1307.8 646.8" stroke="#fff" stroke-width="0.9" fill="none" />
<text x="1315.5" y="654.8" font-size="23.5" >2</text>
<path d="M1290 677.6L1293.5 677.6" stroke="#fff" stroke-width="0.9" fill="none" />
<path d="M1304.3 677.6L1307.8 677.6" stroke="#fff" stroke-width="0.9" fill="none" />
<text x="1315.5" y="685.6" font-size="23.5" >1</text>
<path d="M1290 708L1293.5 708" stroke="#fff" stroke-width="0.9" fill="none" />
<path d="M1304.3 708L1307.8 708" stroke="#fff" stroke-width="0.9" fill="none" />
<text x="1315.5" y="716" font-size="23.5" >0</text>
<use href="#ub" transform="translate(1377 612) scale(1.020 0.961)"/>
<path d="M1471 612h0m-6 6h0m2-2h0m1-2h0m1 2h0m0-1h0m0 2h0m0-4h0m0 4h0m0-3h0m0 1h0m1 1h0m0 0h0m1-3h0m0 2h0m0-2h0m1 0h0m0 2h0m0 2h0m0-1h0m0 0h0m2 4h0m-1 2h0m0-2h0m0 2h0m-2-4h0m-5 2h0m-19 4h0m0 0h0m-1-2h0m0-1h0m0 1h0m0 1h0m0-2h0m-1 1h0m-23 7h0m4 0h0m0 1h0m17-1h0m2-1h0m0-2h0m1-1h0m0 0h0m0 0h0m0 0h0m1 0h0m0-1h0m0 1h0m0 0h0m7 10h0m0 0h0m-7-1h0m-2-3h0m-10 4h0m-4 1h0m-2-3h0m-8 1h0m22 6h0m5-3h0m0 4h0m2 0h0m2-5h0m0 5h0m3 0h0m1 1h0m0-2h0m0 1h0m1-2h0m1-2h0m1 2h0m3 1h0m0-1h0m4 3h0m0 2h0m0 3h0m-1 1h0m-2 0h0m-3 0h0m-1 0h0m-2-4h0m0 2h0m0-2h0m-1 3h0m-2-1h0m-1-2h0m-1 2h0m0 1h0m-1-2h0m-5 2h0m-12 0h0m-1-3h0m-4 1h0m-4-1h0m-7 10h0m14-5h0m2 1h0m2 3h0m2-2h0m8 1h0m5-2h0m0-1h0m3 2h0m1 2h0m4-3h0m1 3h0m0-3h0m0 1h0m2 2h0m1-3h0m0-1h0m0 0h0m0 4h0m2-1h0m-1 3h0m0 1h0m-5 1h0m0-1h0m-2 2h0m-5-2h0m-16 4h0m-2-5h0m-6 2h0m-13-1h0m-11 4h0m2 5h0m0-3h0m1 1h0m9-1h0m3 2h0m8 2h0m23-2h0m2-1h0m0-1h0m0 4h0m2-1h0m1 0h0m0-3h0m2 1h0m2-1h0m-1 5h0m0 1h0m-1 0h0m-1 0h0m-1 2h0m0-1h0m0-1h0m-2 0h0m0-2h0m-27 3h0m-27-1h0m36 6h0m4-1h0m15-1h0m1 0h0m35 8h0m-5 0h0m0 4h0m0-6h0m0 6h0m-1 0h0m-32-3h0m-6 2h0m-2-1h0m-8-3h0m-4 0h0m-29 4h0m-1 4h0m4 3h0m20-6h0m3 3h0m4 1h0m21-3h0m3 4h0m7-2h0m21-2h0m2 5h0m3 0h0m0-4h0m2 0h0m0 1h0m0 0h0m-42 8h0m-67 2h0m1-1h0m7 3h0m34 0h0m3 3h0m0-1h0m4-1h0m3 2h0m-12 5h0" stroke="#cfc7e3" stroke-width="4.0" stroke-linecap="round" fill="none"/>
<path d="M1468 615h0m1 2h0m0 0h0m0-4h0m0 1h0m1-1h0m0 5h0m0-1h0m0 1h0m1-4h0m0 2h0m0 1h0m0-3h0m0 1h0m2 1h0m0-2h0m0 7h0m0 2h0m0-1h0m0-2h0m0-1h0m0 1h0m-5-2h0m-3 1h0m-18 4h0m0 0h0m0 0h0m-1-2h0m-1 2h0m1 2h0m0-1h0m0 1h0m1 0h0m1-1h0m-11 9h0m-9-1h0m6 6h0m0 1h0m14-3h0m5 6h0m3 0h0m4-5h0m6 4h0m-1 6h0m-3-4h0m-23 2h0m0 3h0m-5-5h0m-2 5h0m18 0h0m3 4h0m14-1h0m-6 5h0m-7 0h0m-42 7h0m43 2h0m0-2h0m0 2h0m2 2h0m-1-1h0m-4 3h0m30 13h0m-49 2h0m0 4h0m15-1h0m17-1h0m26-1h0m-68 12h0" stroke="#b8abd9" stroke-width="3.8" stroke-linecap="round" fill="none"/>
<path d="M1465 618h0m4-4h0m2-2h0m3 6h0m0 5h0m-1-5h0m0 1h0m0 3h0m0-2h0m-26 2h0m-2 6h0m20 19h0m-11 1h0m-2-4h0m-3 4h0" stroke="#9686ca" stroke-width="3.5" stroke-linecap="round" fill="none"/>
<path d="M1469 617h0m4 1h0" stroke="#6153b2" stroke-width="3.2" stroke-linecap="round" fill="none"/>
<path d="M1367 606.5V720H1503.8" stroke="#000" stroke-width="2.1" fill="none"/>
<text x="1442.3" y="593.8" font-size="24.2" text-anchor="middle" font-style="italic">IDO1</text>
<text x="1442.3" y="740.7" font-size="20.5" text-anchor="middle">UMAP_1</text>
<text font-size="20.5" text-anchor="middle" transform="translate(1358.9 657.3) rotate(-90)">UMAP_2</text>
<rect x="1519.2" y="622.7" width="18.5" height="87.3" fill="url(#gb)"/>
<path d="M1519.2 640.7L1522.7 640.7" stroke="#fff" stroke-width="0.9" fill="none" />
<path d="M1534.2 640.7L1537.7 640.7" stroke="#fff" stroke-width="0.9" fill="none" />
<text x="1546" y="648.7" font-size="23.5" >2.5</text>
<path d="M1519.2 663L1522.7 663" stroke="#fff" stroke-width="0.9" fill="none" />
<path d="M1534.2 663L1537.7 663" stroke="#fff" stroke-width="0.9" fill="none" />
<text x="1546" y="671" font-size="23.5" >2.0</text>
<path d="M1519.2 685.4L1522.7 685.4" stroke="#fff" stroke-width="0.9" fill="none" />
<path d="M1534.2 685.4L1537.7 685.4" stroke="#fff" stroke-width="0.9" fill="none" />
<text x="1546" y="693.4" font-size="23.5" >1.5</text>
<path d="M1519.2 708L1522.7 708" stroke="#fff" stroke-width="0.9" fill="none" />
<path d="M1534.2 708L1537.7 708" stroke="#fff" stroke-width="0.9" fill="none" />
<text x="1546" y="716" font-size="23.5" >1.0</text>
<use href="#ub" transform="translate(1627.6 608.9) scale(1.015 0.969)"/>
<path d="M1723 611h0m-1 1h0m0 0h0m0-3h0m-1 0h0m0 1h0m0 1h0m0-1h0m0-1h0m0 0h0m-1 1h0m-1 1h0m0-1h0m0 0h0m-1 1h0m-3 5h0m3-1h0m0-3h0m1 1h0m0-1h0m0 2h0m0 0h0m0-2h0m1 1h0m0 1h0m1-2h0m2 5h0m0 0h0m1-2h0m0 1h0m0 1h0m0 3h0m-1-1h0m0-1h0m-47 12h0m36 6h0m-4-1h0m-19-1h0m-6-4h0m-11 8h0m13 0h0m13 1h0m1 1h0m16 4h0m-51-2h0m20 8h0m3 2h0m10-2h0m4-2h0m8 3h0m-61 13h0m8-1h0m50 2h0m1-2h0m-20 8h0m-5-4h0m-12 4h0m-1-2h0m19 11h0m-3 1h0m-33 1h0m22 4h0m27-1h0m2 1h0m-69 10h0m9 3h0m25 0h0" stroke="#cfc7e3" stroke-width="4.0" stroke-linecap="round" fill="none"/>
<path d="M1719 612h0m0-1h0m-4 4h0m2-2h0m2 1h0m2 1h0m2-2h0m0 0h0m0 4h0m0-1h0m0 0h0m1 1h0m-1 3h0m-23 18h0m15 6h0m-17 5h0m13 0h0m4 0h0m-37 19h0m12 7h0m18 6h0m-57 3h0m-3 8h0" stroke="#b8abd9" stroke-width="3.8" stroke-linecap="round" fill="none"/>
<path d="M1722 612h0m-1 0h0m-1-3h0m-1 2h0m0 2h0m0 0h0m1 0h0m0 2h0m1-2h0m1 1h0m0-1h0m1 1h0m0 3h0m2 3h0m-2-1h0m-18 18h0" stroke="#9686ca" stroke-width="3.5" stroke-linecap="round" fill="none"/>
<path d="M1724 615h0" stroke="#6153b2" stroke-width="3.2" stroke-linecap="round" fill="none"/>
<path d="M1617.6 603.4V717.7H1753.8" stroke="#000" stroke-width="2.1" fill="none"/>
<text x="1696" y="591.1" font-size="24.2" text-anchor="middle" font-style="italic">CLEC9A</text>
<text x="1687.6" y="736.9" font-size="20.5" text-anchor="middle">UMAP_1</text>
<text font-size="20.5" text-anchor="middle" transform="translate(1608.9 665) rotate(-90)">UMAP_2</text>
<rect x="1769.9" y="620" width="17.7" height="87.3" fill="url(#gb)"/>
<path d="M1769.9 625.4L1773.4 625.4" stroke="#fff" stroke-width="0.9" fill="none" />
<path d="M1784.1 625.4L1787.6 625.4" stroke="#fff" stroke-width="0.9" fill="none" />
<text x="1796" y="633.4" font-size="23.5" >2.5</text>
<path d="M1769.9 642.3L1773.4 642.3" stroke="#fff" stroke-width="0.9" fill="none" />
<path d="M1784.1 642.3L1787.6 642.3" stroke="#fff" stroke-width="0.9" fill="none" />
<text x="1796" y="650.3" font-size="23.5" >2.0</text>
<path d="M1769.9 658.7L1773.4 658.7" stroke="#fff" stroke-width="0.9" fill="none" />
<path d="M1784.1 658.7L1787.6 658.7" stroke="#fff" stroke-width="0.9" fill="none" />
<text x="1796" y="666.7" font-size="23.5" >1.5</text>
<path d="M1769.9 675L1773.4 675" stroke="#fff" stroke-width="0.9" fill="none" />
<path d="M1784.1 675L1787.6 675" stroke="#fff" stroke-width="0.9" fill="none" />
<text x="1796" y="683" font-size="23.5" >1.0</text>
<path d="M1769.9 691.3L1773.4 691.3" stroke="#fff" stroke-width="0.9" fill="none" />
<path d="M1784.1 691.3L1787.6 691.3" stroke="#fff" stroke-width="0.9" fill="none" />
<text x="1796" y="699.3" font-size="23.5" >0.5</text>
<path d="M1769.9 707.3L1773.4 707.3" stroke="#fff" stroke-width="0.9" fill="none" />
<path d="M1784.1 707.3L1787.6 707.3" stroke="#fff" stroke-width="0.9" fill="none" />
<text x="1796" y="715.3" font-size="23.5" >0.0</text>
<use href="#ub" transform="translate(1877.2 603.9) scale(0.994 1.002)"/>
<path d="M1967 606h0m5 5h0m-2-4h0m-27 9h0m0 5h0m-15 2h0m-2-1h0m-5 0h0m-9 7h0m4-1h0m0 1h0m6-1h0m1-3h0m2 1h0m1-1h0m6 5h0m12-6h0m4 9h0m-2 2h0m-5-3h0m-2 1h0m-7 1h0m-2-3h0m-7 2h0m-7-3h0m-1 4h0m0-3h0m-2 3h0m-1 2h0m1 2h0m0 0h0m0 1h0m0-1h0m1 2h0m15-3h0m1 5h0m2-5h0m3 0h0m13 1h0m6-2h0m0 2h0m5 3h0m-1 2h0m-4-1h0m-1 3h0m-9-1h0m-11 3h0m-12-4h0m0 4h0m-1-3h0m0 4h0m-2 0h0m-3-2h0m0 0h0m-1-2h0m0 2h0m-1-1h0m-1 1h0m0-1h0m-1-2h0m0 3h0m0-2h0m-1 0h0m0 2h0m-1-1h0m-1 3h0m0-1h0m-5 6h0m0 0h0m5-1h0m0-2h0m1 1h0m1 2h0m1 0h0m0-4h0m0 4h0m1-4h0m1 4h0m1-4h0m1 0h0m1 5h0m0-3h0m0 1h0m0 2h0m1-3h0m1 0h0m0 0h0m0-2h0m0 4h0m1-3h0m2 0h0m0-1h0m1 3h0m0 2h0m0-3h0m0 0h0m1-3h0m4 1h0m6 0h0m5 1h0m11 1h0m0-3h0m3 1h0m0 1h0m7 2h0m1-2h0m-7 10h0m-14-2h0m-5 2h0m-3-5h0m-2 2h0m-9 2h0m0 1h0m-1-4h0m-1 2h0m0-2h0m-2-2h0m0 4h0m-1 0h0m0-3h0m0 1h0m-1 3h0m0-5h0m-1 1h0m0 4h0m0-2h0m-1-1h0m0 4h0m-2 0h0m-2 0h0m0-4h0m0 3h0m0-1h0m0-1h0m0 2h0m-1-1h0m-1-2h0m0 1h0m0-1h0m0-1h0m-1 0h0m-1 3h0m0 1h0m-1-4h0m0 5h0m-2-2h0m-1-3h0m0-1h0m0 3h0m-1-2h0m0 4h0m0 1h0m0-5h0m-1 2h0m-1 1h0m-1 1h0m1 3h0m0 0h0m0 2h0m1-1h0m0-1h0m1 0h0m1 2h0m1 0h0m0-2h0m0 1h0m1 3h0m0-3h0m0-1h0m0 1h0m0 3h0m1-3h0m0 1h0m0-1h0m1 0h0m1 2h0m1-3h0m0-1h0m1 0h0m0 1h0m0 0h0m0 1h0m0 0h0m0-3h0m0 4h0m0-2h0m0 0h0m0 0h0m1-2h0m0 4h0m0-3h0m1 0h0m0 0h0m1 5h0m1-1h0m0-5h0m0 4h0m2-2h0m1 1h0m0-1h0m0 3h0m2 1h0m1-3h0m1 3h0m2-5h0m0 3h0m0-3h0m1 1h0m0 3h0m1-1h0m5 1h0m1-4h0m1 3h0m4-2h0m0 0h0m1-1h0m1 3h0m1-1h0m2 1h0m2-1h0m0 1h0m1 1h0m0 0h0m2 0h0m0-2h0m8-1h0m4 0h0m-10 8h0m-1-4h0m0 3h0m-2 2h0m0-1h0m-2 2h0m0 0h0m-1-5h0m0-1h0m-1 5h0m-1-4h0m0-1h0m0 5h0m0-1h0m0 1h0m0-4h0m0 1h0m-1 0h0m0 0h0m0-1h0m0 5h0m-1-3h0m-1 1h0m-1-3h0m-1 0h0m0 3h0m0 0h0m0 2h0m0-2h0m-1 1h0m-1-4h0m0 1h0m0 4h0m0-3h0m-1-1h0m-5 2h0m0 0h0m0 1h0m-1-1h0m-2-1h0m-1 2h0m0-1h0m0-3h0m0 1h0m-2-2h0m-1 2h0m-4 3h0m0-1h0m0 0h0m0 1h0m-1-1h0m-1-2h0m-1 0h0m-1-2h0m0 1h0m-14 10h0m1 0h0m1 0h0m0 0h0m0 1h0m1-4h0m2 0h0m0 4h0m1-4h0m1 1h0m0 3h0m0-4h0m1 4h0m0-2h0m1-1h0m1 3h0m0-2h0m1 0h0m0 0h0m0 1h0m1 1h0m7-6h0m0 1h0m2 1h0m0-1h0m2 0h0m1 5h0m1-3h0m1 1h0m1-2h0m1 0h0m0 1h0m1 2h0m0 0h0m1-1h0m1-2h0m1 3h0m0-3h0m1 0h0m1 3h0m2-4h0m0 0h0m1 2h0m1-3h0m1 4h0m0-3h0m0 3h0m2 0h0m0 2h0m1-5h0m0 0h0m0 4h0m0 0h0m3-4h0m8 3h0m2 0h0m0 1h0m2 1h0m1-2h0m1 1h0m24 0h0m1 0h0m1-4h0m1 1h0m0-1h0m4 3h0m1-2h0m2 4h0m0 6h0m0-3h0m-2 0h0m0 1h0m0-2h0m0-1h0m0 2h0m-1-3h0m0 5h0m-1-3h0m-1-1h0m-17 2h0m-10 2h0m0-3h0m0-1h0m-1 0h0m-1 2h0m0-1h0m-1 3h0m-1-3h0m-1 0h0m0 2h0m-2 1h0m-4 0h0m-1-1h0m-4 0h0m-6 0h0m-2 1h0m0 0h0m0-4h0m0-1h0m-1 1h0m0 1h0m0 4h0m0-3h0m-1-1h0m0-1h0m-1 0h0m0 0h0m0 2h0m-1 1h0m-1-3h0m-1 0h0m-1 0h0m-1 2h0m0 2h0m0 0h0m-1-1h0m0-1h0m-1 3h0m0-4h0m-1 1h0m-1-1h0m-1 4h0m-1-1h0m0 0h0m-9-1h0m-1-1h0m0 0h0m0 0h0m-2-1h0m-1 0h0m0 0h0m-1 0h0m0 2h0m0-3h0m-1 4h0m0-1h0m0-4h0m0 1h0m0 0h0m-1 0h0m0 3h0m0 1h0m-1-1h0m0-3h0m0-1h0m0 3h0m-1 0h0m0 1h0m0-1h0m0 2h0m0-4h0m-1 2h0m-1 0h0m0-1h0m-3 0h0m-9 10h0m0 0h0m1-1h0m1 1h0m2-3h0m0 2h0m1-2h0m0 3h0m0 0h0m1-1h0m1 0h0m0-3h0m0 2h0m1-1h0m0 0h0m1 0h0m0 1h0m5 1h0m1-2h0m2 1h0m1-2h0m2 2h0m2 2h0m1-5h0m2 2h0m11 2h0m0-5h0m1 1h0m2 1h0m0 0h0m1 3h0m0 1h0m1-5h0m0-1h0m1 0h0m0 3h0m1 1h0m0-4h0m0 1h0m1 4h0m0-2h0m1-1h0m0 4h0m0-2h0m4 1h0m1 0h0m11-5h0m0 1h0m1 2h0m3-2h0m0-1h0m1 4h0m0 0h0m1-4h0m1 4h0m2-2h0m26 0h0m2-1h0m0 2h0m1-2h0m1 0h0m2 0h0m-36 5h0m-20 6h0m-2-4h0m-2 0h0m-1 1h0m0 0h0m-1-1h0m0 1h0m-1-1h0m0 3h0m0-4h0m-1 5h0m0-3h0m0 2h0m-1-5h0m0 1h0m0 0h0m0 3h0m-1-1h0m-1-2h0m0 3h0m-1 1h0m0 1h0m0-1h0m0-1h0m-1 2h0m-1-1h0m-11-3h0m-9-2h0m-2 3h0m0-1h0m0 2h0m-1 2h0m-1-1h0m0-5h0m-1 6h0m-1-2h0m0-4h0m-1 1h0m0 4h0m0 0h0m0-2h0m-1 1h0m0-1h0m-1-1h0m0 3h0m0-2h0m-1 0h0m0-1h0m0-1h0m-1 0h0m0 4h0m-1-2h0m0 3h0m-1-2h0m0 0h0m0-2h0m-1 0h0m0 2h0m0 1h0m0-4h0m0 2h0m-1-1h0m0 1h0m-1-1h0m0-1h0m0 2h0m1 3h0m1 0h0m2 1h0m0-1h0m0 1h0m1 1h0m0-1h0m3-1h0m1 1h0m0 0h0m1 1h0m0 0h0m1-1h0m1 0h0m26 1h0m0 1h0m2 2h0m1-5h0m0 3h0m1 0h0m1-1h0m1 3h0m1-3h0m1 1h0m0 0h0m0-2h0m0 1h0m2 4h0m0-1h0m2-5h0m1 2h0m0 1h0m0-1h0m-6 4h0m-5 0h0m-1 1h0" stroke="#cfc7e3" stroke-width="4.0" stroke-linecap="round" fill="none"/>
<path d="M1969 610h0m2 3h0m0-1h0m-57 17h0m1-1h0m4-1h0m36 1h0m-2 6h0m-8 0h0m-12-3h0m-2 2h0m-14-2h0m-1 0h0m-1-1h0m-2 5h0m-3 6h0m3-4h0m40 3h0m4 1h0m3 6h0m-39 0h0m-1-2h0m0-1h0m-1 1h0m-1 2h0m-7-3h0m-1 1h0m0 3h0m0-1h0m-2 2h0m1 2h0m1-2h0m0 2h0m1 0h0m0 0h0m1 1h0m5-1h0m0-1h0m0-1h0m1 2h0m1 1h0m0 1h0m1-2h0m1-1h0m0-1h0m1 4h0m1-5h0m0 2h0m15 3h0m12-3h0m-7 6h0m-8 4h0m-4-4h0m-10 0h0m-1-2h0m-6 3h0m0 2h0m0-4h0m-2 5h0m-2-2h0m-3-1h0m0 2h0m-1-5h0m0 4h0m0 1h0m0-4h0m-2-1h0m-1 4h0m0-3h0m-1 5h0m-1-4h0m0-1h0m0 1h0m-1 3h0m0-3h0m0 0h0m-1 3h0m-2-2h0m0 2h0m0 1h0m2 3h0m1 1h0m2-2h0m0 2h0m0 1h0m1-3h0m0 2h0m0-2h0m1 2h0m0-3h0m3 1h0m0-2h0m1 2h0m1 2h0m2-2h0m3-2h0m0 0h0m1 2h0m0 4h0m18-3h0m3 1h0m1 1h0m2-1h0m16-3h0m2 0h0m-20 11h0m0-4h0m0 4h0m-1-3h0m0-2h0m-1 5h0m-1-1h0m0 1h0m0-5h0m-1 4h0m0 1h0m0-3h0m-1 2h0m-1-3h0m0-1h0m0 1h0m0 3h0m0-1h0m-7-1h0m-1 1h0m0-1h0m0-1h0m-1 2h0m0-1h0m-2 2h0m0-3h0m0 0h0m0 0h0m-1-1h0m-1 0h0m0 0h0m0 2h0m-1-2h0m0 3h0m-1-2h0m-1 4h0m-2-2h0m-1 0h0m-15 8h0m3-3h0m1 2h0m2 0h0m0-4h0m1 4h0m2 1h0m2 0h0m6-6h0m1 2h0m2-1h0m5-1h0m2 2h0m8-2h0m2 2h0m2 0h0m1-2h0m0 3h0m2 0h0m9-2h0m35 4h0m4-2h0m2 6h0m0-2h0m-1 1h0m-1-1h0m0 5h0m-2-6h0m-1 1h0m-1 0h0m-1 0h0m-28 4h0m-1-3h0m-2 2h0m0-1h0m-1-1h0m-3 2h0m-12 2h0m-3-5h0m-1 3h0m-6-2h0m-3 0h0m-1 2h0m-2 2h0m-12-5h0m0 3h0m-3-3h0m0 4h0m0-3h0m-2 0h0m0 3h0m0-4h0m0 5h0m-1-4h0m0-1h0m0 0h0m-1 3h0m0 0h0m0 0h0m-1 1h0m0 0h0m0-2h0m-1 2h0m-2-4h0m-10 11h0m1 0h0m4-1h0m0 0h0m4 0h0m2 1h0m6-4h0m2 3h0m0-1h0m0 1h0m1 0h0m2-1h0m3-2h0m19-1h0m3 2h0m16-1h0m8 0h0m25 0h0m2 2h0m0 0h0m3-2h0m-57 7h0m-2 0h0m0 1h0m-1-4h0m-3 6h0m-1-3h0m-1 2h0m0-2h0m-1 2h0m-3 0h0m-16-3h0m-7 1h0m0-1h0m-1 2h0m0-2h0m-2-2h0m0 2h0m0-2h0m0 2h0m-1 0h0m-2 1h0m0 2h0m0-3h0m-2 1h0m-1 1h0m0 0h0m-1 1h0m0-2h0m0-1h0m-1 3h0m0-3h0m0 1h0m-1-3h0m0 4h0m1 2h0m4 0h0m2 0h0m0 0h0m2 2h0m1-1h0m1-1h0m0 1h0m23 0h0m2 3h0m3 0h0m2-3h0m1 4h0m1-5h0m1 1h0m0 0h0m2 3h0m1 0h0m0-1h0m1 2h0m2-3h0m0 1h0m-4 3h0" stroke="#b8abd9" stroke-width="3.8" stroke-linecap="round" fill="none"/>
<path d="M1972 618h0m-10 27h0m-41 1h0m-3 1h0m-3 1h0m0-2h0m-1 0h0m-2-2h0m0 4h0m0-3h0m-12 8h0m2 1h0m2 0h0m6-5h0m2 4h0m3-5h0m6 2h0m1 6h0m-4 2h0m-6 2h0m0-3h0m-7 3h0m-1-2h0m-3-2h0m-1 0h0m-4 1h0m12 6h0m0 0h0m8-1h0m2 0h0m15 0h0m4 3h0m1-4h0m3 6h0m-4 0h0m0 2h0m-5-1h0m-13 0h0m-1 0h0m-2 1h0m-4 1h0m0-2h0m-15 9h0m1 0h0m4 0h0m11-3h0m12 1h0m2 2h0m1-2h0m10-1h0m9 1h0m37 0h0m-1 4h0m-51 2h0m0 2h0m-1-2h0m-25-1h0m-1 3h0m-2-1h0m-2-1h0m27 6h0m54-1h0m-60 8h0m-26-2h0m-1 1h0m0 2h0m0-3h0m-2 3h0m0-4h0m-1 4h0m-2-3h0m-1 4h0m-1-3h0m0 1h0m-4 0h0m1 2h0m2 2h0m1 0h0m3-1h0m35 4h0m1-3h0m5 2h0" stroke="#9686ca" stroke-width="3.5" stroke-linecap="round" fill="none"/>
<path d="M1924 650h0m-8 4h0m-10 3h0m-5-1h0m36 10h0m0 1h0m-5-1h0m-15 1h0m-2 5h0m41 5h0m24-2h0m8 8h0m-7-4h0m-28-1h0m-49 6h0m-1-3h0m-12 7h0m33 5h0m2 8h0m5-2h0" stroke="#6153b2" stroke-width="3.2" stroke-linecap="round" fill="none"/>
<path d="M1867.2 598.4V716.1H2001" stroke="#000" stroke-width="2.1" fill="none"/>
<text x="1942.2" y="586.1" font-size="24.2" text-anchor="middle" font-style="italic">FOLR2</text>
<text x="1944.9" y="736.1" font-size="20.5" text-anchor="middle">UMAP_1</text>
<text font-size="20.5" text-anchor="middle" transform="translate(1858.8 670.7) rotate(-90)">UMAP_2</text>
<rect x="2017.2" y="615.8" width="19.2" height="89.5" fill="url(#gb)"/>
<path d="M2017.2 620.7L2020.7 620.7" stroke="#fff" stroke-width="0.9" fill="none" />
<path d="M2032.9 620.7L2036.4 620.7" stroke="#fff" stroke-width="0.9" fill="none" />
<text x="2045.2" y="628.7" font-size="23.5" >3.0</text>
<path d="M2017.2 641.9L2020.7 641.9" stroke="#fff" stroke-width="0.9" fill="none" />
<path d="M2032.9 641.9L2036.4 641.9" stroke="#fff" stroke-width="0.9" fill="none" />
<text x="2045.2" y="649.9" font-size="23.5" >2.5</text>
<path d="M2017.2 663L2020.7 663" stroke="#fff" stroke-width="0.9" fill="none" />
<path d="M2032.9 663L2036.4 663" stroke="#fff" stroke-width="0.9" fill="none" />
<text x="2045.2" y="671" font-size="23.5" >2.0</text>
<path d="M2017.2 683.5L2020.7 683.5" stroke="#fff" stroke-width="0.9" fill="none" />
<path d="M2032.9 683.5L2036.4 683.5" stroke="#fff" stroke-width="0.9" fill="none" />
<text x="2045.2" y="691.5" font-size="23.5" >1.5</text>
<path d="M2017.2 704.6L2020.7 704.6" stroke="#fff" stroke-width="0.9" fill="none" />
<path d="M2032.9 704.6L2036.4 704.6" stroke="#fff" stroke-width="0.9" fill="none" />
<text x="2045.2" y="712.6" font-size="23.5" >1.0</text>
<use href="#ub" transform="translate(888.5 784.6) scale(1.104 1.046)"/>
<path d="M991 788h0m-1 0h0m-3 3h0m-56 18h0m6-2h0m3-1h0m2 3h0m21-3h0m1 2h0m9 1h0m3 1h0m7 3h0m-1 2h0m-1-4h0m-1 4h0m-1-4h0m-1 4h0m0-1h0m-2-3h0m0 2h0m-1-1h0m-1 4h0m0-2h0m-1 2h0m0-1h0m-2-4h0m0 5h0m-3-5h0m0 0h0m-1 4h0m0 1h0m-1-5h0m-1-1h0m0 2h0m-19 2h0m-3-1h0m-4 1h0m-5-1h0m-5 6h0m13 0h0m0 1h0m0-4h0m0 3h0m1 1h0m1 0h0m3-3h0m3 0h0m3 3h0m8-2h0m3 0h0m0-2h0m0 1h0m1 2h0m1-3h0m1 4h0m0-2h0m0-1h0m2 3h0m1 1h0m0-2h0m1-1h0m0-1h0m0 2h0m2 1h0m0-3h0m0 4h0m1-3h0m0-1h0m1 3h0m0 0h0m1 0h0m2 2h0m0-2h0m1-4h0m0 2h0m0-2h0m0 6h0m2-1h0m0-3h0m1 2h0m2-3h0m0 3h0m1 1h0m0-4h0m1 5h0m0 1h0m-1 3h0m0-3h0m-1 0h0m0 5h0m-1-5h0m0 4h0m-1 1h0m-1-3h0m0 0h0m0-1h0m0 1h0m0-1h0m0 2h0m-2-3h0m0 0h0m0 3h0m-1 0h0m0-2h0m0 0h0m-1 1h0m0-2h0m-1 1h0m0 3h0m-1-4h0m-1 4h0m-1 0h0m0-4h0m0 4h0m-1 0h0m0-3h0m-1 3h0m-1-4h0m-1 3h0m0-2h0m0 3h0m-1-3h0m-2-1h0m-1 2h0m-2 0h0m0-3h0m0 4h0m0-2h0m-7 1h0m0-2h0m-4 4h0m-1-3h0m0-2h0m-16 5h0m-11 0h0m9 6h0m1 0h0m11-1h0m5-3h0m0 0h0m2 5h0m12-5h0m0-1h0m5 1h0m0 2h0m0 3h0m1-1h0m0 0h0m1-3h0m0 2h0m1-4h0m0 3h0m0 2h0m1-3h0m3-1h0m0 3h0m1 0h0m0-2h0m0 3h0m1 0h0m0-1h0m0-2h0m1 2h0m2 1h0m0-4h0m1 3h0m1-2h0m-5 9h0m-1-4h0m-2 2h0m0-2h0m-1 5h0m-3-5h0m-1 4h0m-14-4h0m-1 3h0m-1-3h0m-5 2h0m-1 2h0m-2-1h0m-8-3h0m-8 4h0m-1-2h0m-4-1h0m-11 3h0m0 0h0m3 6h0m5-3h0m1 4h0m3-2h0m4-2h0m7 2h0m6 1h0m17-4h0m4 1h0m0 0h0m3 0h0m1 0h0m0 2h0m0 1h0m1 0h0m0-1h0m0 1h0m1-2h0m0 1h0m1 1h0m1-5h0m0 3h0m0-1h0m1-2h0m0 0h0m0 6h0m0-3h0m0-1h0m1 4h0m1-1h0m0-3h0m0 2h0m0-1h0m1-1h0m0 1h0m1 3h0m-3 0h0m-1 1h0m0 3h0m-1 1h0m0-1h0m-1 0h0m0-2h0m-1-1h0m0-1h0m-13 3h0m-3 2h0m-20-1h0m0 1h0m-7 1h0m-15-6h0m16 7h0m19 2h0m5 3h0m25-6h0m27 6h0m1 0h0m0-1h0m8 5h0m-1 2h0m-1-2h0m-1-1h0m0 1h0m0 0h0m-1 1h0m0 1h0m0-4h0m0 1h0m0 1h0m0 0h0m-1 2h0m-1-3h0m0-2h0m0-1h0m0 3h0m-1 2h0m-1 0h0m0 0h0m-1-1h0m-1-4h0m-1 3h0m-1 2h0m-25-2h0m-1 2h0m-2-2h0m0-1h0m0 2h0m-1-2h0m-2 2h0m-9-1h0m-6 0h0m-15-1h0m-3 2h0m-1-3h0m-16 1h0m-1 0h0m-2 0h0m-7 2h0m-2 2h0m3 1h0m2 0h0m3 3h0m21 0h0m16 0h0m14-1h0m0 2h0m2-4h0m0 5h0m0-3h0m1-1h0m0-2h0m1 4h0m1-2h0m0 2h0m2-3h0m4 0h0m0 2h0m0-2h0m2 4h0m3-3h0m0 0h0m22-2h0m2 5h0m1 0h0m1-4h0m1 3h0m1-4h0m0 1h0m1-1h0m0 0h0m0 0h0m1 4h0m0-3h0m0 1h0m-3 5h0m-2 0h0m-2 1h0m0-2h0m-1 0h0m-33 2h0m-1 0h0m-2-2h0m-1 5h0m-1-4h0m-28 0h0m-19 2h0m-1 1h0m-12-3h0m-8 3h0m1 2h0m1 2h0m7 2h0m26 0h0m4-3h0m7-1h0m4 4h0m16-3h0m-14 6h0m-10 5h0" stroke="#cfc7e3" stroke-width="4.0" stroke-linecap="round" fill="none"/>
<path d="M993 791h0m-30 3h0m30 5h0m-31 3h0m-18 1h0m-8 6h0m2-2h0m23 2h0m4-3h0m7 4h0m13 6h0m-3-3h0m-1 1h0m-2 1h0m0-1h0m-2-2h0m-2 0h0m0 0h0m-1-1h0m-4 3h0m-8 0h0m-2 2h0m0-2h0m-12 0h0m-9-4h0m-2 3h0m6 9h0m21-5h0m1 3h0m0-3h0m1 2h0m1-2h0m1 3h0m1 0h0m1 1h0m0-4h0m1 4h0m3-4h0m0 3h0m0 0h0m0 1h0m1-1h0m1-4h0m0 4h0m3-2h0m0 3h0m1-1h0m7 4h0m-3-1h0m-2 2h0m-3 2h0m-1-5h0m-1 3h0m-1 0h0m-1 2h0m0-4h0m0 4h0m-1-2h0m0-3h0m-2 1h0m-3 4h0m-2-3h0m-2 1h0m-5-2h0m-4 1h0m-4 4h0m-5-1h0m-10 3h0m28-2h0m4 1h0m1 0h0m1 4h0m2-2h0m4 1h0m1 1h0m0-5h0m0 1h0m3 1h0m-2 5h0m-6 1h0m-1-1h0m-1 5h0m-39-3h0m0-3h0m-17 12h0m47-5h0m2 1h0m3 0h0m2 1h0m0-2h0m1 3h0m1 2h0m0-2h0m0 1h0m1-1h0m3-4h0m0 3h0m0 2h0m1 1h0m0-3h0m0-2h0m1 3h0m0 0h0m-1 5h0m0-3h0m-3 5h0m0-4h0m-27 4h0m0-1h0m-11 1h0m-16-4h0m35 6h0m22 4h0m1-5h0m26 5h0m1 0h0m0 0h0m7 6h0m-1-4h0m-1 4h0m0-5h0m-1 5h0m-1 0h0m0 1h0m-1-2h0m0-3h0m-2 4h0m-1-2h0m-3 0h0m-31-1h0m-1 0h0m-30 2h0m-23 1h0m52 1h0m0 1h0m3-1h0m5 3h0m8 0h0m4-2h0m21 1h0m3 2h0m1 0h0m1-3h0m-5 7h0m0 0h0m-1 0h0m-33-1h0m-5 0h0" stroke="#b8abd9" stroke-width="3.8" stroke-linecap="round" fill="none"/>
<path d="M972 810h0m3-1h0m5 3h0m-1 0h0m-2 2h0m-1-3h0m-1 3h0m-3 1h0m-2-1h0m0-1h0m0-2h0m-4 2h0m-1 6h0m1-3h0m1 3h0m0 2h0m2 0h0m2 1h0m4-1h0m1 0h0m8 0h0m0 1h0m-3 4h0m-2 1h0m-8 1h0m-1-1h0m-1-3h0m-2-2h0m-3 5h0m4 2h0m0 0h0m1-1h0m5 1h0m9 3h0m0-4h0m0 4h0m-11 8h0m-3 0h0m-49 6h0m49-1h0m7-1h0m-43 6h0m79 13h0m-11-2h0m-24 1h0m-10 0h0m1 6h0m3-1h0m13-2h0m25 4h0m1-3h0m0-1h0m2 2h0m-7 4h0m-66 5h0" stroke="#9686ca" stroke-width="3.5" stroke-linecap="round" fill="none"/>
<path d="M974 815h0m-2-1h0m-3-3h0m-3 7h0m0 3h0m5-2h0m1 2h0m1 1h0m8 0h0m4-3h0m1 8h0m-1-4h0m-1-1h0m-14 4h0m-3-1h0m-2 2h0m-1-4h0m5 6h0m4 0h0m9 1h0m-8 14h0m-1 3h0m35 13h0m-6 3h0m-30 5h0m37 1h0" stroke="#6153b2" stroke-width="3.2" stroke-linecap="round" fill="none"/>
<path d="M878.5 779.1V901.3H1024.9" stroke="#000" stroke-width="2.1" fill="none"/>
<text x="958.3" y="765.8" font-size="24.2" text-anchor="middle" font-style="italic">CD1C</text>
<text font-size="20.5" text-anchor="middle" transform="translate(872 842.9) rotate(-90)">UMAP_2</text>
<rect x="1041.3" y="797.4" width="19.3" height="93.8" fill="url(#gb)"/>
<path d="M1041.3 824.3L1044.8 824.3" stroke="#fff" stroke-width="0.9" fill="none" />
<path d="M1057.1 824.3L1060.6 824.3" stroke="#fff" stroke-width="0.9" fill="none" />
<text x="1069.3" y="832.3" font-size="23.5" >2</text>
<path d="M1041.3 856.9L1044.8 856.9" stroke="#fff" stroke-width="0.9" fill="none" />
<path d="M1057.1 856.9L1060.6 856.9" stroke="#fff" stroke-width="0.9" fill="none" />
<text x="1069.3" y="864.9" font-size="23.5" >1</text>
<path d="M1041.3 889.1L1044.8 889.1" stroke="#fff" stroke-width="0.9" fill="none" />
<path d="M1057.1 889.1L1060.6 889.1" stroke="#fff" stroke-width="0.9" fill="none" />
<text x="1069.3" y="897.1" font-size="23.5" >0</text>
<use href="#ub" transform="translate(1133.6 784.6) scale(1.104 1.046)"/>
<path d="M1235 786h0m-26 12h0m-30 6h0m-4 5h0m1-3h0m4 2h0m5-1h0m5-2h0m6 3h0m0 2h0m10-1h0m2-3h0m9 4h0m1-1h0m2 0h0m1 1h0m7 3h0m-1 0h0m0 2h0m-1-1h0m-2 1h0m0-1h0m0-2h0m-1 3h0m-1-3h0m0 2h0m-1-3h0m0 0h0m0 2h0m0-1h0m-1 0h0m-1 3h0m0-1h0m-1 2h0m-1-2h0m-5 1h0m0 1h0m-1-3h0m0-2h0m-1 1h0m-3 2h0m-2 2h0m0-2h0m-12 1h0m-3-3h0m-13 1h0m0-2h0m-4 6h0m0 3h0m10 2h0m0-4h0m16 0h0m6-2h0m4 1h0m1 2h0m1-3h0m1 5h0m1-4h0m0 3h0m2 1h0m0 0h0m1 1h0m0-3h0m2-2h0m0 4h0m1-1h0m1 1h0m1-5h0m0 5h0m2 1h0m1-4h0m0-2h0m0 6h0m1-2h0m2 0h0m2 1h0m0-1h0m2 2h0m0 1h0m-2-1h0m0 0h0m-1 5h0m-1-2h0m0 3h0m0-3h0m0 0h0m-1-1h0m0-1h0m0 1h0m-2 3h0m0-4h0m0 4h0m0-1h0m-1-2h0m0 1h0m-1 0h0m0-2h0m-1 4h0m0-2h0m-2 0h0m0-3h0m-2 5h0m0-3h0m0-1h0m-1 5h0m-1-5h0m0 3h0m-1 0h0m0 1h0m0 0h0m-2-2h0m0-3h0m-1 1h0m-1 2h0m0 0h0m0 2h0m-1 0h0m-1-2h0m0-3h0m0 2h0m-14-1h0m-2-1h0m-21 12h0m12-2h0m26-3h0m0-1h0m1 0h0m4 1h0m0 0h0m0-1h0m0 6h0m1-5h0m0 4h0m0 0h0m1-3h0m2-1h0m1 1h0m4 2h0m0 1h0m0-5h0m0 1h0m0 1h0m3-1h0m1 1h0m0 2h0m1-4h0m1 4h0m-8 5h0m-3-1h0m0 4h0m-38-5h0m-1 0h0m-6 0h0m-2 5h0m-6-2h0m-3 0h0m-3-2h0m7 7h0m1 0h0m0-1h0m1 4h0m1-2h0m8 1h0m4-1h0m10-2h0m3 1h0m2-3h0m9 1h0m2 0h0m2 1h0m3 0h0m1 0h0m0 3h0m1 0h0m0-1h0m1-1h0m0-2h0m0 3h0m0 0h0m1 0h0m0-1h0m0 2h0m1-3h0m0-2h0m1 3h0m0-1h0m0 1h0m0-3h0m0 3h0m1 3h0m1-2h0m0 1h0m0-3h0m0 2h0m0-4h0m0 3h0m0 0h0m1 3h0m1-5h0m0 3h0m0 2h0m-1 0h0m-2 0h0m-1 1h0m0 0h0m0 3h0m0-3h0m-2 1h0m-29 1h0m-6 2h0m-11 0h0m-1-4h0m-9 1h0m13 9h0m3-2h0m5 0h0m3 3h0m2-5h0m7-1h0m3 3h0m25 2h0m28 1h0m1 0h0m7 6h0m-1-2h0m-1-3h0m0 2h0m0 1h0m0 0h0m0 1h0m-1 0h0m0-2h0m0 1h0m0 0h0m-1 2h0m0-4h0m0 3h0m0 1h0m-1-3h0m0-3h0m0 3h0m-1 1h0m0 1h0m0-4h0m0 4h0m-1 0h0m-1-1h0m0-1h0m-2-2h0m0 2h0m-1 2h0m0-2h0m-26 2h0m-1 0h0m-1-2h0m0-1h0m0 0h0m-3 2h0m0 1h0m-1-3h0m-23 1h0m-1-2h0m-4 3h0m-31-2h0m4 6h0m3-1h0m2 2h0m16 2h0m4 0h0m3-1h0m6-1h0m22-3h0m0 2h0m0-2h0m2 4h0m2-3h0m0 2h0m9-1h0m0 0h0m1-1h0m3 0h0m20 4h0m1-3h0m1 1h0m0-2h0m0 4h0m0-4h0m0 4h0m2 0h0m1-5h0m0 0h0m0 1h0m0 3h0m0-1h0m1-3h0m0 1h0m-5 6h0m0 0h0m-3 0h0m-30 0h0m-1 1h0m-3 0h0m-23 0h0m-3-1h0m-2 2h0m-45 6h0m5 3h0m33-1h0m0-1h0m4-3h0m9 3h0m1 2h0m-2 2h0m-5 2h0" stroke="#cfc7e3" stroke-width="4.0" stroke-linecap="round" fill="none"/>
<path d="M1232 791h0m-53 14h0m15 3h0m4 0h0m11 0h0m21 8h0m-4-5h0m-1 4h0m-5-1h0m-1-3h0m-1 4h0m-1 0h0m-1-4h0m-1 0h0m-1 0h0m-1 0h0m-2-1h0m-36 1h0m34 7h0m0-1h0m1 2h0m0 1h0m0-3h0m1-1h0m0 5h0m1-4h0m0 3h0m2 0h0m1-3h0m1 1h0m0 3h0m1 0h0m1-1h0m1-3h0m0 0h0m0 4h0m1-1h0m1 0h0m0 0h0m3-4h0m0 2h0m5-1h0m1 4h0m2 3h0m-1-1h0m-1 0h0m-1 5h0m-3-3h0m0 1h0m-3 0h0m0-2h0m-3-1h0m-1 4h0m-3 0h0m-2-3h0m-1 0h0m-1 0h0m-3-1h0m-1 3h0m-3-3h0m-8 2h0m-18 8h0m35-4h0m0 0h0m2 3h0m1-4h0m0 3h0m3 2h0m1-4h0m0 3h0m1 1h0m2 2h0m-3 0h0m-4 0h0m-2 4h0m-33 0h0m-15 1h0m-5 3h0m30 0h0m17-1h0m0 0h0m3 0h0m1 2h0m1 1h0m0 0h0m1-2h0m1 3h0m0-1h0m2-5h0m0 6h0m1-4h0m2 3h0m0-2h0m0-1h0m-3 9h0m-1 0h0m0-1h0m-2-3h0m-59 0h0m17 8h0m21 1h0m28-4h0m27 5h0m1 0h0m6 6h0m-2-5h0m0 6h0m0-1h0m0-3h0m-2-1h0m-30 1h0m-1 4h0m-3 0h0m-4-3h0m-1 2h0m0-1h0m-28 5h0m28 1h0m0-1h0m4 2h0m4-2h0m3 0h0m4 0h0m25 2h0m0-2h0m1 2h0m1-3h0m1-2h0m0 1h0m1 3h0m1-2h0m0 2h0m0-3h0m0 1h0m-3 5h0m-1 0h0m-1 1h0m-2 0h0m0-2h0m-1 0h0m-37 5h0m-26 0h0m-21-2h0m-25 4h0m8 2h0m33 0h0m7-1h0m6 2h0m-1 6h0m-2-1h0m-4 1h0m-2-2h0" stroke="#b8abd9" stroke-width="3.8" stroke-linecap="round" fill="none"/>
<path d="M1225 812h0m-1-1h0m-8 5h0m-1-2h0m0 0h0m-6 2h0m3 3h0m3 0h0m3 3h0m2-2h0m0 0h0m2 0h0m2 1h0m3 1h0m4 5h0m-1-4h0m-2 4h0m-5-5h0m-1 3h0m-1-1h0m-3-1h0m0 4h0m-3 0h0m-2 2h0m5 2h0m4-1h0m2 2h0m2 1h0m2-1h0m-5 7h0m-6-4h0m-1 5h0m5 9h0m1 3h0m33 7h0m-2 4h0m1 6h0m4-3h0m-5 6h0m-36 0h0" stroke="#9686ca" stroke-width="3.5" stroke-linecap="round" fill="none"/>
<path d="M1213 811h0m5 16h0m-4-3h0m5 16h0m2 4h0m-4 4h0m-1 2h0m34 13h0m-2-2h0m-42 0h0" stroke="#6153b2" stroke-width="3.2" stroke-linecap="round" fill="none"/>
<path d="M1123.6 779.1V901.3H1270" stroke="#000" stroke-width="2.1" fill="none"/>
<text x="1204.1" y="765.8" font-size="24.2" text-anchor="middle" font-style="italic">CD1E</text>
<text font-size="20.5" text-anchor="middle" transform="translate(1117.3 842.9) rotate(-90)">UMAP_2</text>
<rect x="1287.1" y="797.4" width="18.9" height="93.8" fill="url(#gb)"/>
<path d="M1287.1 823.6L1290.6 823.6" stroke="#fff" stroke-width="0.9" fill="none" />
<path d="M1302.5 823.6L1306 823.6" stroke="#fff" stroke-width="0.9" fill="none" />
<text x="1314.4" y="831.6" font-size="23.5" >2</text>
<path d="M1287.1 856.2L1290.6 856.2" stroke="#fff" stroke-width="0.9" fill="none" />
<path d="M1302.5 856.2L1306 856.2" stroke="#fff" stroke-width="0.9" fill="none" />
<text x="1314.4" y="864.2" font-size="23.5" >1</text>
<path d="M1287.1 889.1L1290.6 889.1" stroke="#fff" stroke-width="0.9" fill="none" />
<path d="M1302.5 889.1L1306 889.1" stroke="#fff" stroke-width="0.9" fill="none" />
<text x="1314.4" y="897.1" font-size="23.5" >0</text>
<use href="#ub" transform="translate(1377 789.9) scale(1.128 0.975)"/>
<path d="M1481 791h0m-1-1h0m-1 2h0m0 3h0m4 1h0m-28 6h0m0-1h0m0 3h0m0-1h0m0-3h0m-1 2h0m0-1h0m0 2h0m0-1h0m0 1h0m0 0h0m0 0h0m0 1h0m0-1h0m0-3h0m0 0h0m0-1h0m-1 2h0m0 3h0m0-5h0m0 4h0m0-1h0m-22 5h0m3 2h0m18-3h0m0 0h0m0 3h0m0-2h0m18 8h0m-1 0h0m-2 0h0m0 0h0m-1 0h0m0 0h0m0 1h0m-1-3h0m-1 2h0m-3-1h0m-17-2h0m-7 0h0m0 4h0m-2 0h0m-4-2h0m0-1h0m-11 3h0m0-3h0m3 3h0m0 2h0m6-2h0m2 6h0m0-3h0m2 3h0m4-2h0m5 0h0m0-4h0m8 3h0m2-2h0m2 3h0m2 2h0m0-5h0m1 3h0m0 1h0m0-2h0m3-2h0m2 5h0m1-2h0m0-2h0m2 0h0m4 1h0m0-2h0m0 2h0m5 1h0m3 6h0m-1 0h0m-1-3h0m-1 1h0m-2 4h0m-2-5h0m0 1h0m-1 2h0m-1 0h0m-1 0h0m0-3h0m-2 0h0m0 1h0m-1 0h0m0-1h0m0 4h0m0-2h0m-1 1h0m0-3h0m0 2h0m-1-1h0m-2 1h0m0-1h0m-1 3h0m0-4h0m-1 4h0m-1 1h0m0-1h0m-1-2h0m-1-3h0m-6 5h0m-9-2h0m-1 3h0m0-1h0m-1-2h0m-10-2h0m-4 4h0m-6-2h0m-4 9h0m0-3h0m0 2h0m5-2h0m1 2h0m6 0h0m28-2h0m0-2h0m4 2h0m1-2h0m0 2h0m0 0h0m1-3h0m1 4h0m1 1h0m1-4h0m1 1h0m2-1h0m1 3h0m2 0h0m0-3h0m0-1h0m1 2h0m3 2h0m0 2h0m1-3h0m0 1h0m0-2h0m-1 4h0m-2 1h0m-1 1h0m-1-2h0m-1 0h0m-1 1h0m-2 0h0m-3 2h0m-2-2h0m0 1h0m-14-1h0m-6 5h0m-5-1h0m-12-3h0m0-1h0m-7 1h0m0 2h0m-1-2h0m-15 6h0m4 0h0m1 2h0m7 0h0m0 1h0m3-2h0m0 2h0m8-4h0m3 3h0m14-2h0m3 3h0m9-5h0m11 4h0m4-1h0m1 2h0m-1 5h0m-4-2h0m-2 1h0m-11 2h0m-4-2h0m-1 3h0m-2 0h0m-1-2h0m-2-3h0m-7 2h0m-1 2h0m-5-2h0m-3 3h0m-2-1h0m-10-4h0m-6 0h0m-2 11h0m12-5h0m2 3h0m4 1h0m3 0h0m7 1h0m3 0h0m1-6h0m4 4h0m0-3h0m3 2h0m25-2h0m-5 11h0m-12-3h0m-10 0h0m-7 0h0m-2 2h0m-23-1h0m-3 0h0m-4-3h0m-2 3h0m4 4h0m3 4h0m57-4h0m4 3h0m-13 7h0m-62-3h0m-2-2h0m39 9h0m3-2h0m3 2h0m-6 3h0" stroke="#cfc7e3" stroke-width="4.0" stroke-linecap="round" fill="none"/>
<path d="M1479 791h0m5 6h0m-28 4h0m-1 2h0m0-2h0m-1 2h0m0-4h0m0 3h0m-1 0h0m0 1h0m-24 7h0m2 0h0m33 2h0m-8 2h0m-14-2h0m-20 5h0m17 2h0m16 3h0m3-3h0m3-2h0m3 4h0m0-1h0m7 1h0m1 7h0m0 0h0m-4 0h0m-2-5h0m-4 2h0m-5 0h0m-1 3h0m-6-2h0m-19-3h0m9 8h0m1 1h0m1 0h0m17 1h0m1-2h0m3-1h0m0 0h0m4 4h0m1 0h0m-32 0h0m-13 1h0m-1 0h0m-17 11h0m11-5h0m47 3h0m-14 4h0m-28-2h0m2 9h0m6-1h0m38-1h0m-7 13h0m1 2h0m-75 9h0m8 3h0m41 2h0" stroke="#b8abd9" stroke-width="3.8" stroke-linecap="round" fill="none"/>
<path d="M1455 802h0m-3-2h0m0 1h0m0 3h0m4 11h0m-21 6h0m29 2h0m-38 58h0" stroke="#9686ca" stroke-width="3.5" stroke-linecap="round" fill="none"/>
<path d="M1454 812h0m7 12h0m-35 24h0" stroke="#6153b2" stroke-width="3.2" stroke-linecap="round" fill="none"/>
<path d="M1367 784.4V899.3H1516.1" stroke="#000" stroke-width="2.1" fill="none"/>
<text x="1450" y="772.6" font-size="24.2" text-anchor="middle" font-style="italic">LAMP3</text>
<text font-size="20.5" text-anchor="middle" transform="translate(1358.9 845) rotate(-90)">UMAP_2</text>
<rect x="1531.9" y="801.5" width="18.1" height="87.7" fill="url(#gb)"/>
<path d="M1531.9 824.5L1535.4 824.5" stroke="#fff" stroke-width="0.9" fill="none" />
<path d="M1546.5 824.5L1550 824.5" stroke="#fff" stroke-width="0.9" fill="none" />
<text x="1557.7" y="832.5" font-size="23.5" >2</text>
<path d="M1531.9 856.1L1535.4 856.1" stroke="#fff" stroke-width="0.9" fill="none" />
<path d="M1546.5 856.1L1550 856.1" stroke="#fff" stroke-width="0.9" fill="none" />
<text x="1557.7" y="864.1" font-size="23.5" >1</text>
<path d="M1531.9 887.2L1535.4 887.2" stroke="#fff" stroke-width="0.9" fill="none" />
<path d="M1546.5 887.2L1550 887.2" stroke="#fff" stroke-width="0.9" fill="none" />
<text x="1557.7" y="895.2" font-size="23.5" >0</text>
<use href="#ub" transform="translate(1630 788.5) scale(1.122 0.972)"/>
<path d="M1731 794h0m5 1h0m1 7h0m-1 0h0m-29 0h0m-34 7h0m3 0h0m42 3h0m-24 3h0m-5 0h0m-12-4h0m10 6h0m4 2h0m25-1h0m6-2h0m3 10h0m-8-4h0m-8 2h0m-28 8h0m39-2h0m2 5h0m-54 1h0m-8 1h0m-9 5h0m7 4h0m2-5h0m2 1h0m1 2h0m1-2h0m4 1h0m24-2h0m6 5h0m1-2h0m1 3h0m-2 0h0m-6 2h0m-2 2h0m-31 5h0m13-1h0m15 1h0m8-4h0m0 2h0m53 2h0m8 7h0m0-2h0m-1 1h0m0 1h0m0-3h0m-1 2h0m-1-1h0m-1 0h0m0 3h0m-1-2h0m-1-3h0m-1 2h0m-2-1h0m-3-1h0m-25 0h0m0 3h0m0-1h0m-1 1h0m0 0h0m-2-3h0m0 4h0m-1-4h0m0 3h0m0 0h0m-1 0h0m0-2h0m-1-1h0m-1 0h0m0 3h0m0-3h0m-1 4h0m0-2h0m-1 3h0m-12-5h0m-4 1h0m-3 0h0m-3 3h0m-4-3h0m-23 2h0m-3 0h0m-3-1h0m-3-2h0m0 0h0m-4 9h0m1 1h0m27-4h0m31 0h0m2 2h0m0 1h0m4-2h0m1 4h0m0-4h0m0 1h0m0 3h0m1-4h0m1-2h0m0 2h0m0-1h0m1 5h0m0-5h0m0 0h0m1 0h0m0 1h0m1 2h0m2-3h0m0 0h0m28 3h0m2-1h0m1 0h0m1-3h0m1 4h0m-4 2h0m-60 1h0m-1 3h0m-3 1h0m-5-2h0m-2-3h0m-29 4h0m-3 2h0m-5-3h0m0-2h0m-3 4h0m-1-1h0m-1-2h0m4 5h0m1-1h0m0 2h0m4 0h0m0 0h0m1 1h0m1-2h0m1 1h0m0 1h0m0 0h0m1-2h0m27 0h0m8 4h0m4 0h0m4 0h0" stroke="#cfc7e3" stroke-width="4.0" stroke-linecap="round" fill="none"/>
<path d="M1687 813h0m-9-3h0m-6 1h0m52 14h0m-53-2h0m-4 8h0m9 8h0m-19 6h0m21-1h0m5-1h0m6-2h0m30 0h0m-18 11h0m-13-2h0m-26-2h0m88 9h0m4 1h0m1 6h0m-5-3h0m-1 0h0m-4 0h0m-23-1h0m-1 2h0m-1 1h0m0-2h0m0-2h0m-3 4h0m0-1h0m0 1h0m-1-2h0m-2 3h0m-1-4h0m0 3h0m-1-4h0m0 1h0m-1-1h0m-4 4h0m-47 5h0m46-3h0m4 3h0m0-3h0m0 1h0m1-1h0m1 4h0m0 0h0m0-1h0m0-3h0m1-1h0m1 4h0m0-3h0m0 1h0m0 4h0m3-4h0m0 2h0m1 1h0m1-1h0m1 0h0m3-1h0m28 2h0m4-2h0m-41 3h0m-34 5h0m-33-3h0m-5 2h0m-2 1h0m-3 0h0m1 3h0m1 0h0m36 1h0m15 3h0m-5 1h0" stroke="#b8abd9" stroke-width="3.8" stroke-linecap="round" fill="none"/>
<path d="M1751 858h0m-28 4h0m-2 1h0m0 0h0m-1-2h0m-2 1h0m-1-2h0m-1-2h0m-2 4h0m-1 1h0m-1-1h0m-2-2h0m-1 3h0m2 5h0m2-1h0m1-3h0m1 2h0m0 4h0m2-1h0m1-1h0" stroke="#9686ca" stroke-width="3.5" stroke-linecap="round" fill="none"/>
<path d="M1713 862h0m-4-1h0m1 6h0m9-2h0" stroke="#6153b2" stroke-width="3.2" stroke-linecap="round" fill="none"/>
<path d="M1620 783V897.6H1768.4" stroke="#000" stroke-width="2.1" fill="none"/>
<text x="1703.8" y="771.9" font-size="24.2" text-anchor="middle" font-style="italic">TOP2A</text>
<text font-size="20.5" text-anchor="middle" transform="translate(1612.7 845.7) rotate(-90)">UMAP_2</text>
<rect x="1783.8" y="800.3" width="18" height="87.7" fill="url(#gb)"/>
<path d="M1783.8 824.5L1787.3 824.5" stroke="#fff" stroke-width="0.9" fill="none" />
<path d="M1798.3 824.5L1801.8 824.5" stroke="#fff" stroke-width="0.9" fill="none" />
<text x="1809.5" y="832.5" font-size="23.5" >2</text>
<path d="M1783.8 855.3L1787.3 855.3" stroke="#fff" stroke-width="0.9" fill="none" />
<path d="M1798.3 855.3L1801.8 855.3" stroke="#fff" stroke-width="0.9" fill="none" />
<text x="1809.5" y="863.3" font-size="23.5" >1</text>
<path d="M1783.8 886L1787.3 886" stroke="#fff" stroke-width="0.9" fill="none" />
<path d="M1798.3 886L1801.8 886" stroke="#fff" stroke-width="0.9" fill="none" />
<text x="1809.5" y="894" font-size="23.5" >0</text>
<use href="#ub" transform="translate(1881 787.7) scale(1.001 0.998)"/>
<path d="M1975 789h0m-1 1h0m0 1h0m-1-2h0m0 2h0m0-2h0m0 0h0m0-1h0m-1 1h0m-1-1h0m0 2h0m-22 7h0m0 1h0m0 0h0m18-4h0m1 2h0m3-4h0m1 2h0m0-1h0m4 2h0m1 4h0m-1 2h0m0-3h0m-1 1h0m0-1h0m-25 4h0m-1-1h0m0-2h0m-29 8h0m0 1h0m2-2h0m1 1h0m1 1h0m1-3h0m0 0h0m0 4h0m1-3h0m0 0h0m1 3h0m1-3h0m1-1h0m0 1h0m1-1h0m0 2h0m0-1h0m0 3h0m1-4h0m1 5h0m0-2h0m0 0h0m2 0h0m2 2h0m4 0h0m26 5h0m-3-2h0m0 2h0m-3-1h0m-4-1h0m-2 0h0m-1-1h0m-1 3h0m-1-3h0m-11-1h0m0-1h0m0 4h0m-1 2h0m0-1h0m-2 0h0m0 0h0m0-1h0m0-1h0m-1 2h0m0-1h0m-2-4h0m0 6h0m0-1h0m-1-1h0m0-1h0m-1-1h0m-2-2h0m0 1h0m-1 2h0m0-1h0m-1 2h0m0-4h0m-1 5h0m0 0h0m0-3h0m-1 4h0m-1-1h0m-1-4h0m0 0h0m-2 3h0m-1-2h0m0-2h0m0 5h0m-1-4h0m-1 0h0m0 1h0m0-1h0m0 4h0m-1-2h0m-1 5h0m0 1h0m1 2h0m5-5h0m1 1h0m1 1h0m1 4h0m1-5h0m1-1h0m0 5h0m1-1h0m0-3h0m1 4h0m1 0h0m0-4h0m1 0h0m1 3h0m0-3h0m1 2h0m0 0h0m1-1h0m0-1h0m1 2h0m0 0h0m0-3h0m0 5h0m1-5h0m0 2h0m1 3h0m1-1h0m0-1h0m1-1h0m2 3h0m7-2h0m0-1h0m1 0h0m1 0h0m1 2h0m3-2h0m1-2h0m1 6h0m1-4h0m0 1h0m1 2h0m4-3h0m0-2h0m0 3h0m1 3h0m4-5h0m1 7h0m0 3h0m0-2h0m-1-1h0m0 0h0m-1 0h0m-2-1h0m0 3h0m0 0h0m0-1h0m0 2h0m0 0h0m-2-3h0m-1-1h0m-1 3h0m-1-4h0m-1 6h0m-1-2h0m-1-2h0m-1-1h0m0 0h0m-1 0h0m-1 2h0m-2 1h0m0-2h0m-1 0h0m0-2h0m-2 2h0m0 4h0m0-4h0m0 3h0m-2-2h0m-2 0h0m-3-2h0m0 1h0m0 2h0m-1 2h0m-2-1h0m-2-3h0m-1 2h0m0-1h0m-2-2h0m0 2h0m0 2h0m0-4h0m-3 0h0m-1-1h0m-1 0h0m-1 1h0m-4 5h0m0-4h0m-9 4h0m-1 3h0m0 2h0m1-5h0m1 0h0m0 1h0m3 1h0m2 3h0m0 0h0m1-2h0m2 0h0m1-2h0m0 5h0m0-1h0m2-1h0m1 2h0m6-1h0m2 1h0m2-4h0m0 0h0m3-2h0m1 6h0m1-1h0m4-3h0m7-2h0m1 1h0m0 2h0m1 1h0m0 2h0m1-6h0m0 0h0m3 0h0m0 0h0m1 5h0m1-3h0m3 0h0m1 1h0m0-2h0m0 4h0m1-2h0m0 2h0m-4 2h0m-1-1h0m-1 0h0m-1 4h0m-2-2h0m-2 0h0m-2 4h0m0-5h0m-13 3h0m-1-2h0m-1 1h0m-1 1h0m-1 1h0m-1-4h0m-1 5h0m-4-6h0m-5 0h0m-2 4h0m-3-2h0m-1 2h0m0-2h0m-1 2h0m-3-2h0m-1 0h0m-2-1h0m0 2h0m-3 2h0m-1 0h0m-4 1h0m0-1h0m-1 1h0m-4 2h0m1 1h0m0-1h0m1 2h0m1-1h0m2-3h0m0 6h0m0-6h0m1 3h0m0-3h0m0 6h0m1-6h0m3 0h0m0 3h0m1 3h0m0-3h0m0 2h0m0 0h0m0 0h0m0-2h0m0 3h0m1-5h0m3 1h0m0 3h0m0 1h0m2-1h0m1-5h0m1 6h0m1-4h0m0 4h0m2-6h0m0 2h0m0-1h0m0 0h0m2 2h0m1 3h0m3-4h0m2 2h0m3-2h0m2 1h0m2 2h0m1 0h0m0-2h0m3-2h0m8 1h0m0 0h0m5-1h0m1 2h0m0 1h0m0 1h0m1-1h0m1 1h0m2-1h0m0 1h0m3-5h0m-1 6h0m-1 3h0m0-2h0m-2 1h0m-1-1h0m-9 4h0m-4-4h0m-3 3h0m-2 0h0m-1 0h0m-1-4h0m-1 5h0m-1 1h0m0-1h0m-1 0h0m-1-3h0m0 3h0m-1 0h0m-3 0h0m-2 1h0m-3-1h0m0 0h0m0 0h0m-2 0h0m0-2h0m-1 1h0m-1 2h0m-4 0h0m0-4h0m-2-1h0m-1 3h0m-2-3h0m0-1h0m-3 1h0m-1 0h0m-2-1h0m-1 2h0m0 10h0m2-1h0m11-4h0m2 3h0m1-1h0m1 2h0m1-3h0m2 2h0m2 0h0m1 1h0m0-4h0m3 3h0m6-1h0m1-3h0m0 3h0m1 2h0m0-2h0m0-1h0m2 3h0m0 1h0m1-3h0m1-1h0m4 0h0m0 1h0m3-3h0m3 4h0m8 1h0m2-5h0m24 5h0m2 1h0m3 1h0m0 2h0m-1-2h0m0 3h0m-1 1h0m0 0h0m-1-2h0m-1-3h0m0 1h0m0 5h0m-1-2h0m-2-3h0m-2 1h0m-18 3h0m-5 0h0m-3 0h0m0 1h0m0-3h0m-1 2h0m-1-3h0m0 4h0m-3-6h0m-2 3h0m-6-2h0m-2 1h0m-3 1h0m0-2h0m-2 3h0m-2 0h0m-1-1h0m-1-2h0m0 4h0m-1-5h0m0 3h0m-1 2h0m0-1h0m-1-3h0m0 3h0m-1-1h0m0-2h0m0 1h0m-2 4h0m-16-1h0m-1 0h0m0 1h0m0-5h0m-2 2h0m0-3h0m-2 0h0m0 5h0m0-1h0m0 2h0m-5-3h0m4 3h0m0 0h0m0 2h0m0 0h0m4 0h0m4-1h0m3 5h0m7-2h0m1-1h0m0-1h0m2 1h0m0-3h0m2 3h0m0-3h0m4 5h0m2-4h0m1 2h0m1 2h0m1-3h0m0-2h0m2 2h0m6-1h0m1 2h0m4-1h0m2 3h0m1 1h0m2-5h0m1 1h0m1 2h0m3-4h0m1 4h0m0-2h0m1 3h0m1-5h0m5 1h0m22 0h0m1 3h0m1-3h0m0 5h0m3-3h0m0-3h0m-5 6h0m-32 1h0m-1 3h0m0-3h0m-2-1h0m-2 1h0m-13 0h0m-6 3h0m-4 1h0m-2-4h0m0 4h0m-1-1h0m-14-1h0m-1 2h0m-2-3h0m-4-1h0m-6 0h0m-1 4h0m0-5h0m-1 1h0m0 4h0m-1 0h0m0-3h0m-1 1h0m-3 2h0m-1-2h0m0 2h0m0-2h0m-4 2h0m-1 0h0m0 1h0m1 1h0m1 0h0m1 2h0m0 1h0m0-3h0m0 1h0m0 2h0m1 0h0m0-3h0m1 4h0m0-3h0m0 3h0m1-3h0m1 0h0m1-2h0m1 4h0m0 1h0m1-1h0m2 0h0m0-1h0m1 0h0m22 1h0m2-1h0m0 2h0m0-2h0m1-1h0m0 1h0m0-2h0m0 0h0m2 0h0m0 0h0m1 1h0m0-2h0m1 3h0m0 1h0m1-2h0m1 0h0m1 3h0m0-5h0m0 4h0m0 1h0m1-4h0m0 5h0m0-4h0m3 1h0m1 0h0m0 2h0m1 0h0m0 2h0m0 0h0m-2 1h0m0-1h0m0 1h0m-1 0h0m-1 2h0m-3-3h0m0 1h0m0 0h0m-2-1h0m0-1h0m-1 1h0m0 2h0m0-2h0m-3 2h0m0-1h0" stroke="#cfc7e3" stroke-width="4.0" stroke-linecap="round" fill="none"/>
<path d="M1972 788h0m-1 1h0m-22 8h0m22-4h0m4 0h0m0 5h0m0-2h0m-25 3h0m-2 3h0m-26 8h0m1-1h0m2-1h0m1 1h0m0-4h0m1 1h0m0 3h0m1-3h0m2 0h0m0 2h0m2 0h0m1 1h0m31 4h0m-1 1h0m-4-3h0m-4 2h0m-15-2h0m-2 5h0m-1-6h0m0 6h0m-2-1h0m-1-1h0m-1 2h0m0-4h0m-4 0h0m0 0h0m0-1h0m-3 5h0m0-5h0m-2-1h0m-3 0h0m-1 1h0m-3 10h0m6-4h0m5 3h0m2-2h0m2 2h0m0 2h0m2-5h0m1 0h0m4 4h0m2 0h0m0 0h0m2-4h0m7 1h0m0 1h0m2-1h0m1 0h0m3 2h0m3 1h0m0-4h0m3 5h0m7 1h0m-1 0h0m-2 3h0m-1-1h0m-2 0h0m0 3h0m-1-3h0m-3 0h0m0-1h0m-1 0h0m-3-1h0m-4 3h0m-1 2h0m-12-2h0m-3-2h0m-1 2h0m-5-4h0m-1 0h0m0 1h0m-2 0h0m-3-1h0m-7 2h0m-2 4h0m1 1h0m4 4h0m1-1h0m2 1h0m1-5h0m9 5h0m3-2h0m0-2h0m2 1h0m0 2h0m0 0h0m1-3h0m0-1h0m16 2h0m0 2h0m1-4h0m3 0h0m1 6h0m2-3h0m1 2h0m0-3h0m4-2h0m3 0h0m-8 8h0m-6-2h0m-15 0h0m-2 1h0m-2 3h0m-12-1h0m-3-3h0m-3 4h0m-3-3h0m-3 1h0m-1 0h0m-1 4h0m-3-3h0m0 0h0m0 2h0m-4-1h0m-2 8h0m6-3h0m1 0h0m1 0h0m2 1h0m0-2h0m1 1h0m0 1h0m0 0h0m7-2h0m18 0h0m3 2h0m9-2h0m7 0h0m1 4h0m3-2h0m0 0h0m-5 2h0m-6 3h0m-1 1h0m-8-3h0m-1 1h0m0 2h0m-3 0h0m-14 1h0m-1-1h0m-2-1h0m-1-3h0m0 1h0m0-1h0m-4 5h0m-7 6h0m9-4h0m1 4h0m0-2h0m3-3h0m1 1h0m2 3h0m0 1h0m1-2h0m4-1h0m7 3h0m1-3h0m0 0h0m1-2h0m1 3h0m0 0h0m1-2h0m1 3h0m0-2h0m1-1h0m0 4h0m1 0h0m0-3h0m1 1h0m1 3h0m1-6h0m4 1h0m44 11h0m-3-1h0m0-3h0m-1 1h0m-1 0h0m-2 0h0m-25 3h0m-2-1h0m-7-3h0m-10 3h0m-5-1h0m-8 1h0m0-2h0m-7-2h0m-12 0h0m-1 3h0m-1 1h0m0-3h0m-1 2h0m-2 1h0m0-1h0m-2-4h0m-2 3h0m0 0h0m3 5h0m4 1h0m1-1h0m19 1h0m1 3h0m3-4h0m3-2h0m4 3h0m0-2h0m16 0h0m2 2h0m34 0h0m-35 4h0m-19 4h0m0-5h0m-4 1h0m-3 2h0m-4-1h0m-26 4h0m0-1h0m-1-5h0m-1 4h0m-1-1h0m-1 1h0m-1 1h0m0 0h0m-1-3h0m-7 4h0m1 4h0m2-2h0m0 0h0m4 4h0m0-2h0m0-2h0m2 3h0m4-4h0m22 2h0m2 2h0m2-5h0m2 5h0m0-3h0m7 1h0m0 3h0m-2 1h0m-3-1h0m0 3h0m-2-3h0m-2 4h0" stroke="#b8abd9" stroke-width="3.8" stroke-linecap="round" fill="none"/>
<path d="M1974 788h0m2 9h0m0-3h0m-54 14h0m0-1h0m7 3h0m29 3h0m-1-2h0m-21-1h0m-9 6h0m2 5h0m7-3h0m0-1h0m3 4h0m1-1h0m23-2h0m3 3h0m-4 6h0m-2 0h0m-9 0h0m-5-2h0m-6 1h0m-6 2h0m-10-6h0m-1 6h0m-1-2h0m3 4h0m15 3h0m10-4h0m7 3h0m0-4h0m-19 10h0m-12-2h0m-24 2h0m22 5h0m30 0h0m2 5h0m-14 0h0m-29-1h0m-6 10h0m9-3h0m27 2h0m19 7h0m-26 0h0m-3-1h0m-36 7h0m73-4h0m-79 8h0m-3 2h0m-2 3h0m7-1h0m3 4h0m2-2h0m1 0h0m32 3h0m7-1h0" stroke="#9686ca" stroke-width="3.5" stroke-linecap="round" fill="none"/>
<path d="M1962 816h0m-21-2h0m-8-1h0m-17 6h0m45 7h0m-19-1h0m-12 0h0m-6-2h0m0 5h0m12 14h0m9 10h0m16 8h0m-30 0h0m-24 11h0m-13 10h0m40-1h0" stroke="#6153b2" stroke-width="3.2" stroke-linecap="round" fill="none"/>
<path d="M1871 782.2V899.5H2005.6" stroke="#000" stroke-width="2.1" fill="none"/>
<text x="1946" y="770.7" font-size="24.2" text-anchor="middle" font-style="italic">GZMB</text>
<text font-size="20.5" text-anchor="middle" transform="translate(1862.7 865) rotate(-90)">UMAP_2</text>
<rect x="2020.2" y="800.3" width="18.1" height="88.9" fill="url(#gb)"/>
<path d="M2020.2 801.5L2023.7 801.5" stroke="#fff" stroke-width="0.9" fill="none" />
<path d="M2034.8 801.5L2038.3 801.5" stroke="#fff" stroke-width="0.9" fill="none" />
<text x="2046" y="809.5" font-size="23.5" >2.5</text>
<path d="M2020.2 822.6L2023.7 822.6" stroke="#fff" stroke-width="0.9" fill="none" />
<path d="M2034.8 822.6L2038.3 822.6" stroke="#fff" stroke-width="0.9" fill="none" />
<text x="2046" y="830.6" font-size="23.5" >2.0</text>
<path d="M2020.2 843.8L2023.7 843.8" stroke="#fff" stroke-width="0.9" fill="none" />
<path d="M2034.8 843.8L2038.3 843.8" stroke="#fff" stroke-width="0.9" fill="none" />
<text x="2046" y="851.8" font-size="23.5" >1.5</text>
<path d="M2020.2 864.2L2023.7 864.2" stroke="#fff" stroke-width="0.9" fill="none" />
<path d="M2034.8 864.2L2038.3 864.2" stroke="#fff" stroke-width="0.9" fill="none" />
<text x="2046" y="872.2" font-size="23.5" >1.0</text>
<path d="M2020.2 885L2023.7 885" stroke="#fff" stroke-width="0.9" fill="none" />
<path d="M2034.8 885L2038.3 885" stroke="#fff" stroke-width="0.9" fill="none" />
<text x="2046" y="893" font-size="23.5" >0.5</text>
<text x="0" y="1025" font-size="27" font-weight="bold">c</text>
<text x="351" y="1054.8" font-size="35.6" text-anchor="middle">CD4+ T cells</text>
<path d="M435 1110h0m9 0h0m2-1h0m1 0h0m3 0h0m2 0h0m0-3h0m1 2h0m3 0h0m0 2h0m2-1h0m1-1h0m11 0h0m2 2h0m2-4h0m9 3h0m18 7h0m-13-3h0m-1 1h0m-3 0h0m0-1h0m0-1h0m0 1h0m-2-1h0m-1 2h0m-4-4h0m-2 3h0m-1-1h0m-3-1h0m-2 0h0m0-1h0m0 4h0m-4-3h0m0 3h0m-1-4h0m-1 2h0m0 1h0m0 1h0m0-1h0m-2-1h0m-1-2h0m0 2h0m0 4h0m-2-2h0m-2 0h0m0 2h0m-1-2h0m0-1h0m-1 1h0m-1 2h0m0-6h0m-1 0h0m0 4h0m-1 0h0m-1 1h0m-1 0h0m-2-1h0m-1-2h0m0 1h0m-1-2h0m-1 0h0m-1 0h0m0 2h0m0 0h0m-1-1h0m-1-1h0m-2 4h0m-2-1h0m-1-1h0m-4 0h0m0 2h0m-1 0h0m-4 0h0m-2 0h0m-1-1h0m-1-2h0m-13 9h0m4-2h0m1-2h0m1 4h0m2-2h0m5-1h0m1 4h0m0-4h0m0-1h0m1 3h0m0-1h0m2-2h0m0 4h0m1-3h0m2 1h0m1 0h0m0 2h0m1-2h0m0 3h0m2-3h0m0-2h0m1 4h0m0 0h0m1-2h0m0 2h0m0 0h0m1-5h0m1 2h0m1 1h0m3-2h0m1 4h0m1-4h0m0 3h0m2-1h0m1 1h0m0-1h0m0-1h0m1 3h0m0-1h0m0-2h0m2 3h0m2 1h0m0 0h0m0-1h0m1-2h0m0-1h0m0 0h0m1-1h0m1 0h0m0-1h0m0 4h0m0-1h0m0-1h0m1 1h0m0 1h0m2 0h0m1-2h0m0-2h0m0 1h0m0 1h0m0 4h0m0-2h0m1-3h0m0 3h0m1-2h0m0-2h0m1 2h0m1 3h0m0-3h0m1 1h0m0 3h0m0-1h0m2-5h0m1 5h0m0 1h0m1-2h0m1 1h0m1-3h0m0 3h0m0-1h0m2 0h0m1-1h0m0 0h0m0 2h0m1-3h0m1 3h0m0-2h0m1 0h0m3-1h0m0 2h0m0-1h0m0-1h0m3 3h0m2-5h0m0 3h0m1 2h0m0-5h0m0 0h0m0 1h0m1 5h0m1-1h0m0 1h0m0-6h0m1 1h0m0 2h0m1 0h0m1-1h0m3 1h0m3 0h0m2 1h0m1 1h0m6 0h0m4 7h0m0-6h0m-1 0h0m0 1h0m-1 4h0m-1 1h0m-2-1h0m-1-3h0m-2 3h0m-3-4h0m0 2h0m0-3h0m-3 3h0m-1 3h0m-1-1h0m-1-1h0m0-2h0m-2 0h0m0-1h0m-1 2h0m0 2h0m-1-1h0m0-3h0m0 0h0m-1 2h0m0 1h0m-2-4h0m-1 1h0m0 2h0m-1-3h0m-1 2h0m0-1h0m0 4h0m0-2h0m0-2h0m-1 0h0m-2 1h0m-1-1h0m-1-1h0m-1 2h0m0 4h0m-2-6h0m-3 4h0m-2-3h0m0 2h0m-1 0h0m-1-2h0m-3-1h0m-1 2h0m-1-2h0m0 6h0m-1-5h0m-2 4h0m-1-3h0m0-2h0m-1 2h0m0-1h0m0 1h0m-2-1h0m0 2h0m-1 2h0m-1-1h0m-1 0h0m0-3h0m-2 4h0m0 0h0m-1-5h0m0 2h0m-3 0h0m0 3h0m0-4h0m-1-1h0m-1 6h0m-2-6h0m-2 2h0m-1 3h0m0 0h0m-1-5h0m-1 1h0m-5 3h0m-3 0h0m-2 1h0m-1-1h0m0 0h0m-1 0h0m0-2h0m0 3h0m0-2h0m0-1h0m-1 0h0m-2 0h0m-1-2h0m0 2h0m-1 3h0m0-1h0m-2-2h0m-1 4h0m0-2h0m-4 0h0m-3 1h0m-1-1h0m-4-4h0m0 5h0m-3 0h0m-5 0h0m4 6h0m2-5h0m0 2h0m0 1h0m1 0h0m0 0h0m1-3h0m1 2h0m1 0h0m2 0h0m1 3h0m0-2h0m1-1h0m2 4h0m4-1h0m3-4h0m0 0h0m5 2h0m0-1h0m1 2h0m0-4h0m3 1h0m1 1h0m1-1h0m0 1h0m1 4h0m1-2h0m2-2h0m0 2h0m1-3h0m1 2h0m1 2h0m0-3h0m3 0h0m1-1h0m5 3h0m2 0h0m0 0h0m0-2h0m2 2h0m1-3h0m0 2h0m1-1h0m1 0h0m1 4h0m1-4h0m2 2h0m1-4h0m0 1h0m0 0h0m4 4h0m2 0h0m5-5h0m2 3h0m0-2h0m1 0h0m0 2h0m2 2h0m3-3h0m1 1h0m1 0h0m0 1h0m1-1h0m1-3h0m1 6h0m0-2h0m1-4h0m1 4h0m2-2h0m0 2h0m1-1h0m1 1h0m2 2h0m0-3h0m0-2h0m3 2h0m0 0h0m1 0h0m0 1h0m1-2h0m2-1h0m0 1h0m1 4h0m0-2h0m1-1h0m2 0h0m1-1h0m1 1h0m1 0h0m0-2h0m1 3h0m0 0h0m0-3h0m1 4h0m1-1h0m1 0h0m1 5h0m-1-2h0m0 2h0m-1 3h0m-2-4h0m-1 1h0m0 3h0m-1-2h0m-1-3h0m-2 1h0m0 1h0m-2 0h0m-2-1h0m-3-1h0m-2 1h0m-1-1h0m0 2h0m0 0h0m-1-3h0m0 2h0m0 3h0m-1-5h0m-1 4h0m-1-2h0m-1 3h0m-3-4h0m0 4h0m-1-3h0m0-2h0m-1 5h0m0-3h0m-2 0h0m-7 1h0m-5-2h0m-1 4h0m-1-2h0m-2-1h0m0 3h0m0-2h0m-1 3h0m0-1h0m-1-3h0m-4-1h0m0 1h0m-1-2h0m0 1h0m-2 2h0m-1 2h0m-1-3h0m-1 1h0m0 0h0m0-1h0m-1 4h0m0-5h0m-2 0h0m0 4h0m-1-2h0m0-1h0m-1 0h0m-5 3h0m-3-3h0m-4 1h0m-2 3h0m0-4h0m-1 0h0m-2 4h0m-1 0h0m0 0h0m-1-1h0m-5 0h0m0 0h0m-8-1h0m-4-2h0m-1 1h0m-1 2h0m-1-3h0m-1 1h0m0 3h0m0-2h0m0 0h0m-1-2h0m-1 8h0m2-2h0m2 1h0m2 1h0m0-4h0m1 1h0m1 2h0m0-1h0m1 3h0m1-1h0m4-1h0m1 1h0m2 0h0m1-3h0m3-1h0m1 3h0m1-1h0m0 0h0m1 0h0m1 1h0m0 1h0m2-1h0m0-2h0m1 3h0m2-4h0m1 6h0m0-2h0m1-2h0m1-1h0m1 3h0m1 1h0m1 0h0m1-3h0m0-1h0m1 3h0m0-1h0m2 1h0m0 1h0m1-2h0m1 0h0m1 3h0m2-1h0m0 1h0m0-5h0m3 4h0m0-3h0m2 4h0m0 0h0m3-3h0m1-1h0m0 2h0m3-3h0m2 1h0m2 0h0m0-2h0m3 1h0m0 5h0m0-4h0m2 3h0m0-3h0m1 1h0m1 1h0m2 0h0m1 1h0m3-4h0m0 4h0m1-4h0m1 5h0m0-2h0m0-2h0m0 0h0m1 0h0m1 1h0m0-1h0m1-2h0m1 6h0m1-1h0m0-3h0m1-1h0m1 3h0m0-1h0m0-3h0m0 3h0m2 0h0m1 0h0m0-3h0m1 4h0m1 1h0m1 0h0m1-1h0m0 2h0m0-1h0m3-1h0m0-2h0m1 1h0m0 1h0m0 1h0m1 1h0m0-1h0m2 0h0m0-5h0m1 5h0m1 1h0m0-5h0m3 2h0m4 1h0m0 6h0m-2 1h0m-1-1h0m-1 1h0m0 1h0m-1-3h0m0 0h0m-1 1h0m0-1h0m-2-2h0m0 5h0m0-6h0m-1 2h0m0 2h0m-1 1h0m-1-1h0m0-3h0m-2 2h0m-1 0h0m-1 1h0m0-2h0m-2-2h0m0 0h0m0 5h0m-1-4h0m-1 1h0m0 3h0m0-3h0m0 0h0m-1 3h0m0-2h0m0 3h0m-1 0h0m-1-1h0m0 1h0m0-3h0m-1-1h0m-1 2h0m0-3h0m0 2h0m-1-1h0m0-1h0m0 4h0m0 1h0m0-2h0m0 1h0m0-1h0m-1-3h0m-1 2h0m-1-1h0m0 3h0m0-2h0m0-3h0m0 3h0m-1-2h0m0 3h0m-2 1h0m0-3h0m0 3h0m0-4h0m0 3h0m-2-3h0m0 0h0m0 4h0m-1-5h0m-1 3h0m0-2h0m-2 3h0m-1 1h0m0-2h0m-1 0h0m-1 0h0m-1 2h0m-3 1h0m-4 0h0m-1-2h0m0-1h0m0-1h0m-1 3h0m-1-4h0m0 3h0m0 1h0m-1-2h0m0 1h0m-1-3h0m0 1h0m-1-1h0m0 4h0m-1-4h0m-1-1h0m-1 3h0m-1-2h0m0 4h0m-1 0h0m0-1h0m-2-3h0m0 5h0m-2-1h0m0-2h0m0-1h0m-6 0h0m-1-2h0m-1 0h0m-1 2h0m-2 1h0m0-2h0m-2 5h0m0-2h0m0-1h0m-1-1h0m0 1h0m0-2h0m-1 1h0m0 2h0m-9-3h0m-1 4h0m-1-1h0m0-2h0m-1 1h0m0 2h0m0-2h0m0 0h0m0 3h0m-1-3h0m0 3h0m-2-3h0m-1 2h0m0-3h0m-1 0h0m-1 3h0m0 0h0m0-3h0m-1 1h0m0 2h0m-2 0h0m0-3h0m-5-1h0m-4 1h0m0 10h0m2-1h0m0-1h0m0-1h0m1 2h0m1 0h0m0 1h0m2-1h0m1 0h0m3 0h0m4-4h0m0 1h0m0 4h0m0-1h0m2-4h0m1 0h0m0 0h0m0 0h0m1 0h0m1-1h0m0 2h0m1 2h0m0-4h0m0 1h0m3 1h0m1 2h0m1 2h0m0-2h0m0 2h0m1-4h0m0 1h0m1 0h0m0-1h0m3-1h0m1 4h0m1-1h0m0 0h0m2-1h0m1 3h0m0-4h0m2 4h0m2-3h0m4-1h0m0-2h0m3 3h0m0-3h0m1 4h0m0-1h0m2 2h0m1-1h0m2-4h0m1 2h0m1 0h0m2 3h0m0-4h0m1 0h0m0 4h0m1 1h0m1-5h0m0 2h0m1-3h0m1 0h0m1 6h0m0-4h0m0-1h0m1 4h0m1-1h0m0 0h0m2-2h0m1 1h0m2 2h0m3-4h0m1 1h0m1-2h0m5 1h0m3 1h0m0 2h0m1-3h0m0 0h0m0 1h0m0 3h0m1-3h0m0 3h0m6-3h0m2-2h0m1 3h0m1-3h0m0 0h0m0 4h0m2 0h0m4-3h0m2 4h0m1-5h0m1 2h0m0-2h0m5 6h0m1 0h0m3 0h0m3 1h0m-4 0h0m-1 3h0m-3-2h0m-1 1h0m0-3h0m-2 1h0m-3 3h0m0 0h0m-1 1h0m0 0h0m-1-4h0m0 1h0m-2-2h0m0 1h0m-2 4h0m-4 0h0m-1-5h0m-2 0h0m-1 4h0m-1 1h0m-1-1h0m0-3h0m-3 2h0m-4-1h0m-2 3h0m-1-3h0m-1 2h0m-2 0h0m-2-3h0m-4 0h0m0 3h0m-1-3h0m-1 3h0m-2-3h0m-1 0h0m0 5h0m0-2h0m-1-2h0m-1 3h0m0-2h0m0 1h0m-1-2h0m-1 4h0m-1-2h0m-1-2h0m-1 0h0m-1 0h0m0-1h0m-1-1h0m-6 1h0m0 3h0m-9 0h0m-1-2h0m-2-2h0m0 1h0m-1 2h0m0-2h0m-3 3h0m-1-3h0m-1-1h0m-1 1h0m-3 0h0m0 5h0m-1-3h0m0 0h0m-1-1h0m-3-1h0m0 4h0m-1 0h0m-1 0h0m-1-1h0m0-3h0m-1 3h0m0-1h0m-1-3h0m-1 2h0m-2 3h0m-1 0h0m-3 1h0m0-6h0m-4 3h0m-4 7h0m0 0h0m2 2h0m1-3h0m0-2h0m4 4h0m1-3h0m0 1h0m7 1h0m2-2h0m2 1h0m6 3h0m0-5h0m5 2h0m2 0h0m26 0h0m3 1h0m2 0h0m1 1h0m5-1h0m3-4h0m1 2h0m1 4h0m2-5h0m1 0h0m3 3h0m0-3h0m2 0h0m0 1h0m1 2h0m1 0h0m5-1h0m0 3h0m3-5h0m1 1h0m1-1h0m1 1h0m1 1h0m0 2h0m1-1h0m5 0h0m0 0h0m7 0h0m3-1h0m6 7h0m-2-4h0m0 3h0m-5-2h0m-2-1h0m-1 5h0m-5-4h0m-4 4h0m-2-1h0m-1-3h0m-1-1h0m-5 4h0m-4 1h0m-3-4h0m-1 0h0m-2 0h0m-2 1h0m-1 2h0m-3-1h0m0 1h0m0 0h0m-5-3h0m-3 2h0m-1-3h0m-38 5h0m-5 1h0m-7-6h0m-1 4h0m-1-3h0m-1 4h0m-3-3h0m-1 0h0m-4-2h0m2 8h0m8 2h0m7 0h0m46 0h0m6-1h0m12 1h0m1-1h0m1 1h0m1 2h0m0-1h0m0-1h0m1 1h0m2-1h0m1 2h0m4-4h0m2 3h0m9-4h0m1 2h0m-7 8h0m0-4h0m-1 2h0m-1 2h0m0 0h0m0-1h0m-2 1h0m-1-2h0m-1 2h0m-2-2h0m-3-1h0m-1-1h0m-1 0h0m-3-1h0m-1 0h0m-2 6h0m-4-1h0m-2-1h0m-12-2h0m11 7h0m2-1h0m1-2h0m2 0h0m1 5h0m1-1h0m1-2h0m1 3h0m1-3h0m1 2h0m1 2h0m0-4h0m1 2h0m0-3h0m0 0h0m2 2h0m2 2h0m4 1h0m0-5h0m1-1h0m1 3h0m3 3h0m1-1h0m1-3h0m0 3h0m1 0h0m2-3h0m9 5h0m-3 4h0m-3-3h0m-3 0h0m-3-1h0m-1 1h0m0 0h0m-2 2h0m-1-2h0m-1 0h0m-1 4h0m0-1h0m0-1h0m-3 0h0m-2-4h0m-7 1h0m-10 7h0m1 1h0m0 0h0m7-2h0m1 2h0m2-2h0m1 4h0m7-1h0m2-1h0m1 3h0m1-4h0m0-1h0m1 0h0m0 3h0m1-1h0m1 0h0m2 0h0m3 7h0m-4-3h0m-1 3h0m0-3h0m-3 1h0m0 3h0m-2-5h0m-1 3h0m-3 1h0m0 1h0m-1-1h0m-1-4h0m-1 5h0m0-3h0m0 0h0m-2 3h0m-1-3h0m0 3h0m-1-2h0m-1-3h0m0 1h0m0 1h0m-1 0h0m0-1h0m-3 0h0m0 4h0m0-5h0m-1 2h0m-1 1h0m-2-2h0m3 9h0m2 0h0m1-3h0m1 4h0m1-4h0m1 0h0m2 5h0m1-2h0m1-3h0m0 4h0m1-3h0m0 0h0m0 0h0m2 3h0m1-2h0m1-1h0m1-1h0m2 4h0m7-4h0m5 0h0m-17 8h0m-4 0h0" stroke="#b5a632" stroke-width="3.5" stroke-linecap="round" fill="none"/>
<path d="M434 1294h0m-2 1h0m-4 0h0m-5 0h0m-3-1h0m-9 8h0m9-4h0m4-2h0m0 6h0m0-5h0m1 1h0m1 3h0m0-1h0m0 0h0m1-1h0m2-1h0m0 2h0m1-4h0m1 5h0m0 0h0m1 0h0m4 1h0m14 4h0m-2-1h0m-2 2h0m0-1h0m-1-3h0m-2 0h0m-3 5h0m-7-1h0m-1-4h0m0 2h0m-1 2h0m0-4h0m-3 2h0m-1 2h0m0-2h0m-2 1h0m-1-3h0m-1 0h0m-1 0h0m0 1h0m-1 0h0m-1 2h0m0-4h0m-1 1h0m-1 3h0m-1-2h0m-3 3h0m-2-2h0m-2-2h0m-2 1h0m9 7h0m0 1h0m1-1h0m0-2h0m0 0h0m2 4h0m4-1h0m0-2h0m1 0h0m1 0h0m1 2h0m0 1h0m2-2h0m0 1h0m1 1h0m0-1h0m0 1h0m1-3h0m0 1h0m1 0h0m0-3h0m0 4h0m3-2h0m2 3h0m1-1h0m0-2h0m1 2h0m0 0h0m4 2h0m1-2h0m1 0h0m0-1h0m4 1h0m0 1h0m1 0h0m1-5h0m0 4h0m0 2h0m2-3h0m1 2h0m2 1h0m0-2h0m4 0h0m2 0h0m2 2h0m5 0h0m1 0h0m9 4h0m-5 1h0m-2 0h0m-2 0h0m-4-3h0m-2 3h0m0 0h0m-6-2h0m-2 3h0m-2-4h0m0 1h0m-1-1h0m0-2h0m-1 5h0m-1-4h0m-1 1h0m0-1h0m-1 1h0m-1-2h0m0 5h0m-1-5h0m0 1h0m0 0h0m-3 3h0m-2-1h0m0-3h0m0 2h0m-1 0h0m-2 3h0m-1-3h0m0 2h0m0-1h0m-1 1h0m-3 1h0m-3 0h0m-1 0h0m-2-2h0m-1-2h0m-4 0h0m-1 4h0m-1-4h0m-1 1h0m-2 3h0m0-1h0m0 7h0m1-1h0m1-2h0m0 4h0m2 0h0m0-3h0m0 1h0m0 0h0m2 1h0m2-1h0m0-2h0m1 0h0m1-1h0m1 5h0m0-3h0m0-2h0m1 1h0m0 1h0m0 3h0m1 0h0m1-2h0m0-1h0m2 1h0m1 1h0m2-2h0m0 1h0m1 0h0m0 0h0m1-1h0m1 1h0m1 2h0m0-2h0m1-1h0m1 1h0m0-2h0m0 2h0m2-2h0m1 2h0m0 1h0m0 0h0m0-2h0m0-2h0m1 5h0m0-2h0m0 0h0m1 1h0m0-4h0m3 2h0m0 2h0m0-1h0m4-1h0m6 2h0m2-1h0m3 1h0m0-2h0m1 0h0m0 2h0m1-1h0m4-4h0m0 1h0m1 5h0m0-4h0m2-2h0m1 3h0m0-1h0m1 4h0m1-5h0m0 2h0m0-2h0m0 4h0m3-3h0m3 2h0m2 0h0m0-1h0m3 0h0m2 1h0m5 6h0m-3-3h0m0 0h0m-2 2h0m-1 0h0m0 1h0m-2 1h0m-1 0h0m0-2h0m-1 0h0m-1 2h0m-10-3h0m-1-2h0m0 6h0m-5 0h0m-1-5h0m-1-1h0m0 1h0m0 0h0m0 1h0m-1-1h0m-1 4h0m0-5h0m-1 4h0m0-1h0m0 2h0m-1 0h0m-1-1h0m-1-4h0m0 5h0m-4 0h0m0-3h0m-5 0h0m0-2h0m-2 4h0m-1-3h0m0 0h0m0 0h0m-1 4h0m0-3h0m-2-1h0m0 2h0m-2-3h0m-2 5h0m-1-2h0m-2 2h0m-2-4h0m0 2h0m-4 2h0m-1-3h0m0 1h0m0 0h0m-1-1h0m-1 4h0m0-2h0m-1-2h0m-1-1h0m0 2h0m0 0h0m-1 0h0m0 1h0m0 1h0m-1-1h0m0-4h0m0 5h0m-1 0h0m0 1h0m-1-4h0m0 2h0m-1-3h0m0 0h0m-1 0h0m0 1h0m-1 0h0m-1 1h0m-1-1h0m0-1h0m-1 1h0m0 9h0m1-1h0m1 2h0m0-1h0m1-5h0m1 6h0m0-3h0m1-2h0m1 0h0m4 3h0m1-3h0m1-1h0m0 3h0m0-2h0m1 0h0m1 1h0m0 1h0m1 0h0m1 0h0m1 2h0m1-4h0m0 1h0m1 0h0m0-1h0m1-1h0m2 0h0m2 3h0m0 2h0m2-2h0m3 1h0m1 0h0m1 0h0m3-3h0m9 2h0m0 2h0m1 1h0m3-6h0m0 4h0m0-4h0m0 2h0m0 2h0m5 1h0m0-4h0m1 1h0m0 0h0m0 3h0m0 0h0m1 0h0m1 0h0m0-3h0m0 0h0m3-1h0m0 5h0m0-3h0m0 0h0m1 2h0m3-3h0m1 1h0m2 0h0m0-3h0m2 1h0m0 0h0m1 2h0m0 0h0m1 2h0m1-5h0m0 3h0m2 2h0m8 0h0m2-1h0m-1 6h0m-4 2h0m-1-3h0m-4 0h0m-1 0h0m-1 2h0m0-3h0m-3 1h0m0 2h0m-1-1h0m-2 1h0m-1 0h0m-1 1h0m-1-3h0m0 0h0m-1 0h0m-1-3h0m-1 6h0m0-1h0m-8-2h0m-2 3h0m0-2h0m-3 1h0m0-4h0m-2 4h0m0-4h0m0 4h0m-1-1h0m0-3h0m-1 4h0m-1-2h0m-1-1h0m-2 3h0m0-4h0m-1 5h0m0-5h0m0 5h0m-1-1h0m0-4h0m-1 3h0m-2 2h0m-1 0h0m-1-2h0m-4 0h0m0-1h0m-3-2h0m-2 3h0m-1 2h0m0-3h0m-1-1h0m0 0h0m-1 0h0m0-2h0m-1 4h0m0-1h0m0 0h0m0 0h0m-1-2h0m-1 0h0m0 2h0m-1 2h0m-3-3h0m-3-1h0m-1 2h0m-1 1h0m0-3h0m-1 0h0m-3 0h0m0 1h0m-1 4h0m-1-6h0m-1 1h0m0-1h0m2 9h0m0-3h0m1 5h0m0-1h0m0-4h0m1 1h0m5 3h0m2-2h0m1-1h0m0 3h0m1 2h0m0-1h0m0-1h0m0 2h0m1-2h0m0 1h0m1-2h0m1 0h0m0 0h0m0 2h0m1 0h0m0-2h0m0 1h0m0 1h0m0-1h0m2 0h0m0-3h0m0 2h0m1-1h0m0 0h0m0 0h0m0 2h0m1 1h0m1-4h0m1 4h0m0-3h0m2 1h0m0-2h0m0 1h0m0 2h0m1 0h0m0 1h0m0 1h0m2-4h0m0 2h0m2 0h0m5 0h0m2-2h0m2-1h0m3 0h0m6 0h0m0 0h0m1 1h0m1 3h0m0-4h0m1 3h0m1-1h0m1 2h0m2 0h0m0-4h0m0 2h0m0 2h0m1-2h0m0 3h0m2-2h0m0-2h0m0 1h0m2 1h0m0 2h0m1-3h0m3-2h0m1 5h0m0-6h0m1 4h0m0-1h0m2-1h0m0 0h0m1 3h0m0-2h0m0-3h0m0 4h0m2 0h0m4 2h0m2-1h0m5 0h0m5 6h0m-2-2h0m-3 3h0m0-1h0m-1-2h0m-2 2h0m0 0h0m0-3h0m-1 0h0m0 0h0m-1 3h0m-1 0h0m-1-4h0m0 0h0m-1 4h0m0-3h0m0 1h0m0 0h0m-1 1h0m0-3h0m0 4h0m0-3h0m-1-1h0m0 4h0m0-2h0m0 1h0m0-2h0m-1 2h0m0-1h0m0 0h0m-1 1h0m0 1h0m0-3h0m0 4h0m-1-2h0m0-1h0m0 2h0m-1-4h0m0 3h0m-1 0h0m-1 1h0m-1-3h0m0 4h0m-1-4h0m-1 3h0m-1-3h0m0 0h0m-1 3h0m-5 1h0m-1-4h0m0 1h0m0 2h0m0-4h0m-1 1h0m0 2h0m-1 1h0m-1-4h0m0 2h0m-1-2h0m-1 4h0m0-1h0m-1-4h0m-4 6h0m0-4h0m-3 3h0m-3-2h0m0-2h0m-4 3h0m-2 1h0m-1-3h0m0 2h0m0 0h0m-1 0h0m0 0h0m-1-3h0m-1-1h0m0 1h0m-2-1h0m0 6h0m0-2h0m-1-3h0m0-1h0m-1 2h0m-2 1h0m-1-3h0m0 1h0m-3 1h0m0 1h0m-1-2h0m-3 4h0m0-4h0m-3-1h0m0 3h0m-1-2h0m-1 0h0m0 1h0m0-1h0m-1 3h0m-2 0h0m-2-1h0m0 0h0m-2 2h0m-2-1h0m2 2h0m1 6h0m0-5h0m1 0h0m0 0h0m0 3h0m0-1h0m2 0h0m1 1h0m0-2h0m1 2h0m2 1h0m1-1h0m1 1h0m0-2h0m1-1h0m1 0h0m2 1h0m0 0h0m2-1h0m6 0h0m1 2h0m4 0h0m2 0h0m2-2h0m2 1h0m1 0h0m4-2h0m2 5h0m2 0h0m3-4h0m1-2h0m0 3h0m1-1h0m0 0h0m1 2h0m2 0h0m0-3h0m1 1h0m1-1h0m2 3h0m2-3h0m3 2h0m0 2h0m1 0h0m4-4h0m0-1h0m0 2h0m1 0h0m1 2h0m1-1h0m0-1h0m0-1h0m2-1h0m1 1h0m0 2h0m0-2h0m0 3h0m2 2h0m1-2h0m0-4h0m0 3h0m0-1h0m1 4h0m0-5h0m0 1h0m1 4h0m0-6h0m1 5h0m0-4h0m1 2h0m1-1h0m1 2h0m2-4h0m0 4h0m1-3h0m0 0h0m0 5h0m2 0h0m-3 2h0m-1 0h0m-4 1h0m0 1h0m0 0h0m0-1h0m-1 2h0m-1-2h0m0 1h0m-1 0h0m-1 0h0m-1 1h0m-1-1h0m-1-1h0m0-3h0m-1 3h0m0-1h0m0 1h0m-1 0h0m-1-3h0m-1 4h0m-2 1h0m0 1h0m-1-1h0m0-1h0m0-2h0m0 3h0m-1 1h0m0-3h0m-2-3h0m-1 2h0m-5 0h0m-4 1h0m0 2h0m-2-2h0m-1-2h0m-2 2h0m-2 1h0m-2-3h0m-2 5h0m0-4h0m-1 3h0m-1 0h0m0-4h0m0 5h0m-4-4h0m-8-2h0m0 6h0m-3 0h0m0-6h0m0 1h0m0 3h0m0 1h0m-1-4h0m0 3h0m-1 2h0m-1-4h0m0 2h0m-1-1h0m0 2h0m-1 1h0m-1-1h0m0-3h0m-1 1h0m-1 1h0m-1-3h0m-1 0h0m-1 5h0m-2-4h0m-1 2h0m-2 1h0m0 0h0m-5-5h0m3 8h0m1 0h0m2 1h0m3 0h0m2-1h0m1-2h0m0 2h0m1 0h0m4 3h0m0 1h0m1-2h0m1-3h0m1 1h0m1-2h0m2 5h0m0-2h0m0-1h0m0 0h0m1 1h0m1 0h0m0 2h0m1-1h0m1-3h0m7 0h0m1 5h0m4-1h0m2-3h0m1 0h0m2 0h0m0-1h0m2 2h0m2-1h0m3-1h0m2 0h0m0 2h0m3-2h0m1 1h0m0 0h0m0 0h0m3 0h0m2 3h0m0 0h0m1 0h0m0 0h0m0-4h0m1 0h0m2 3h0m0-3h0m2 1h0m1 1h0m0-1h0m1-1h0m0 2h0m1 0h0m0-1h0m0-1h0m0 0h0m1 4h0m0-4h0m1 4h0m0-3h0m0 0h0m1-2h0m1 0h0m1 5h0m2 0h0m0-2h0m2-2h0m1 2h0m1-1h0m1 6h0m-4 1h0m-2 2h0m-1-3h0m-1 3h0m-1-5h0m0 5h0m0-2h0m0-1h0m0 2h0m-2 1h0m0-2h0m-1-2h0m0 2h0m0 1h0m0-1h0m-1-1h0m-1-2h0m0 1h0m0 1h0m0 0h0m-1-2h0m-1 1h0m-3 2h0m0 0h0m-2-1h0m0 1h0m-1 2h0m0-4h0m0 1h0m0-1h0m-1 4h0m0-1h0m0-3h0m0 2h0m0-1h0m-1 4h0m-2-1h0m-1-1h0m-4-2h0m-1 0h0m-6 2h0m-3-1h0m-1 0h0m0-1h0m-1-1h0m0 2h0m-5 1h0m0-1h0m-2 1h0m-1 1h0m0-3h0m-1 2h0m0-2h0m0-1h0m-3 5h0m0 0h0m-1-4h0m0 2h0m0 2h0m-3-2h0m-6-1h0m0-1h0m-1 3h0m9 4h0m0-1h0m5-1h0m1 0h0m1 1h0m0 0h0m2-1h0m3 0h0m3-1h0m34 0h0m0 1h0" stroke="#80b03a" stroke-width="3.5" stroke-linecap="round" fill="none"/>
<path d="M256 1306h0m-6-2h0m-5 1h0m-1-3h0m-6 1h0m-19 10h0m16-3h0m0-1h0m3 5h0m1-3h0m1 3h0m1-3h0m3 2h0m0 1h0m1-6h0m2 1h0m0 2h0m1 1h0m0 0h0m0-1h0m1 2h0m0-1h0m6-1h0m2-1h0m1 1h0m32 5h0m0 3h0m-27 1h0m0-4h0m-1 3h0m-2-1h0m-5-3h0m0 1h0m-3 0h0m-1 1h0m-1 2h0m-1-2h0m0-2h0m0 2h0m-1 2h0m-2-2h0m0 2h0m-1-1h0m-1-1h0m0-2h0m0 1h0m0 3h0m0 0h0m-5 0h0m-1-4h0m0 2h0m-1 1h0m-1-3h0m0-1h0m-2 1h0m0 5h0m-1 0h0m-2-3h0m-3-1h0m-11 7h0m6-3h0m2 5h0m0-3h0m1 1h0m1 1h0m3 0h0m2-4h0m1 4h0m3 1h0m1-2h0m0 2h0m1 0h0m0 0h0m0 1h0m1 0h0m2-3h0m0-1h0m3-1h0m0 4h0m3-1h0m1-2h0m2-1h0m2 2h0m1 2h0m1-4h0m1 2h0m1 0h0m0-1h0m0 2h0m1-2h0m0 3h0m6-4h0m1 5h0m8-4h0m15 3h0m4-4h0m2 4h0m3 0h0m0 1h0m-6 1h0m-1 1h0m-3 2h0m-1 1h0m0 1h0m0-1h0m0-3h0m-7 2h0m-1-1h0m-15 2h0m-1 1h0m-1-6h0m-2 2h0m-3 3h0m-2-1h0m-1 1h0m0 1h0m-3-4h0m0 1h0m-1-1h0m0 3h0m-1-2h0m0-2h0m-2 0h0m0 1h0m0 1h0m0-2h0m-1 3h0m-1-1h0m0-1h0m0 2h0m-1-3h0m0 4h0m-2-5h0m0 3h0m-1 3h0m-1-2h0m-1-2h0m0 0h0m-1-1h0m-1 3h0m0-1h0m-1 3h0m-2-2h0m0 1h0m0 0h0m-2-5h0m0 4h0m-4-2h0m0 1h0m-1 1h0m0-4h0m-3 1h0m-1 0h0m0 4h0m-1-1h0m-4 1h0m-16-5h0m-18 8h0m13 1h0m7-1h0m3 3h0m8-2h0m2 0h0m4 2h0m0 0h0m0-1h0m0 1h0m2-2h0m0 0h0m0-2h0m5 4h0m3-2h0m0 3h0m0-2h0m1 1h0m0-1h0m1-3h0m1 2h0m1 2h0m0-4h0m0 0h0m1 4h0m1-4h0m0 1h0m1 0h0m1 4h0m0-2h0m2-2h0m1 1h0m0-2h0m2 5h0m0-3h0m1-1h0m0 1h0m1 2h0m0-3h0m4 2h0m1 0h0m1-4h0m3 3h0m1 1h0m3 0h0m4-3h0m1 3h0m1 0h0m4-3h0m1 3h0m2 1h0m0-3h0m1 2h0m3-3h0m2 2h0m1-1h0m0 1h0m3 0h0m0 3h0m2-1h0m1-4h0m1 3h0m1-4h0m2 2h0m2-2h0m0 4h0m-7 6h0m-11-2h0m-2 0h0m0 2h0m-1 1h0m-2-2h0m-1 0h0m-2 1h0m-2-2h0m-3 2h0m0-1h0m-2 0h0m0 1h0m-1-3h0m-2 0h0m-1-1h0m-1 2h0m0-1h0m-2 5h0m-1-3h0m0 1h0m0 2h0m0-3h0m-2 1h0m0-4h0m-2 1h0m0 3h0m-2 0h0m-1 1h0m0-3h0m-1-1h0m0 3h0m0-1h0m0-3h0m-1 1h0m0 0h0m0 1h0m0 0h0m-2-2h0m-1 4h0m0-4h0m0 0h0m-1 4h0m0-3h0m0 4h0m-1 0h0m-1-4h0m0 0h0m0 2h0m-1 3h0m0-3h0m0 0h0m-1-1h0m0-2h0m0 0h0m0 3h0m-1 3h0m-2-2h0m-1-3h0m0 2h0m0 1h0m0 2h0m-2-1h0m-1-4h0m-5 2h0m0 2h0m-1 0h0m-4 0h0m0-2h0m-3 3h0m0-3h0m-1 1h0m-1 0h0m0-2h0m-6 3h0m0-1h0m-2 1h0m0 0h0m0-3h0m-2-1h0m-6 5h0m-1-2h0m-2-1h0m-14 1h0m5 6h0m8 0h0m1 0h0m4-2h0m1 3h0m2-5h0m1 4h0m1 1h0m1-1h0m1-3h0m2 4h0m1-1h0m1-3h0m1 5h0m0-2h0m1 0h0m0 0h0m1 1h0m0-2h0m1 1h0m2 0h0m0-3h0m0 5h0m1-1h0m0 0h0m0-4h0m3-1h0m1 5h0m1 1h0m1-1h0m0-4h0m1 4h0m0 0h0m0-3h0m0 1h0m1 3h0m0-2h0m0-3h0m0 4h0m0-3h0m1 3h0m2-3h0m1 0h0m0 3h0m1 1h0m0-5h0m0 5h0m2-5h0m1 1h0m1 0h0m0 2h0m0 1h0m3-4h0m0 0h0m1 3h0m0-2h0m2 0h0m0 1h0m1 1h0m1 1h0m0-3h0m7 1h0m0 0h0m1 0h0m0-1h0m2 0h0m3 0h0m2-2h0m1 3h0m0-1h0m0 0h0m1 0h0m1 2h0m2 1h0m2-4h0m0-1h0m0 0h0m4 1h0m1 0h0m0 0h0m3 0h0m1 2h0m-4 4h0m-12 2h0m-1-1h0m-7 1h0m-3 1h0m-3-4h0m-2 5h0m-1-2h0m0 0h0m0 0h0m0-2h0m-1 5h0m-1-4h0m0 1h0m0-3h0m0 2h0m-2 4h0m0-1h0m0-5h0m-1 5h0m-1-4h0m0 1h0m-1 3h0m-1 0h0m0 1h0m-1-3h0m0 0h0m0 1h0m-1-3h0m0 1h0m0 2h0m0-2h0m0 3h0m-1-3h0m0 3h0m0-1h0m0-1h0m0-1h0m-1 3h0m0 0h0m0 0h0m0-2h0m-1 1h0m-1 1h0m0 0h0m-1 1h0m0-6h0m0 5h0m0-4h0m-1 5h0m0-4h0m-2 1h0m-1 1h0m0-1h0m-2 0h0m-1 3h0m-1-5h0m-3 2h0m0-2h0m0 4h0m0-3h0m-1 0h0m-1-2h0m0 1h0m-1 5h0m0-5h0m-1 1h0m0 1h0m-1 0h0m0 0h0m-1-1h0m-1 0h0m-1 0h0m0-2h0m0 4h0m-2-2h0m-3 3h0m-4 0h0m-2 0h0m0-2h0m-2 2h0m-5-2h0m-2 1h0m3 7h0m2-1h0m0-3h0m2 4h0m1-1h0m2 1h0m3-3h0m1-1h0m1 1h0m1-2h0m1 2h0m0 3h0m1 1h0m0-4h0m1 3h0m0-3h0m1 3h0m0 0h0m1-1h0m2 1h0m0 0h0m1 0h0m1-5h0m1 2h0m0 3h0m0-3h0m1 1h0m1-2h0m0 1h0m2 4h0m0-2h0m0 1h0m0-4h0m1 1h0m0-1h0m1 3h0m0-1h0m1 2h0m1-3h0m0-1h0m0 0h0m0 2h0m0 0h0m0-2h0m2 2h0m1-1h0m0 3h0m1 0h0m0 0h0m1-4h0m1 0h0m0 3h0m0-2h0m1 0h0m0-1h0m1 4h0m0 0h0m1-2h0m0 1h0m1 2h0m0-5h0m1 4h0m1-5h0m1 4h0m1-3h0m3 1h0m0 2h0m0 1h0m1-2h0m2 0h0m1-2h0m1 2h0m0-1h0m1-1h0m0 5h0m1-4h0m3 4h0m1-6h0m4 2h0m1-1h0m-3 10h0m-1 1h0m-1-1h0m-3-3h0m-3-2h0m-6 3h0m-1-2h0m0 0h0m-1 1h0m0 0h0m-1 4h0m0-4h0m0 0h0m-2 1h0m-1 0h0m0 0h0m-1 1h0m0-1h0m0-1h0m-1 2h0m0 1h0m0 0h0m0-4h0m-1 1h0m0-2h0m0 3h0m-1-1h0m-2-1h0m0-1h0m-1 3h0m-1 0h0m-2 1h0m-2-2h0m0 0h0m-1 0h0m0 0h0m-1-1h0m0 1h0m0 3h0m0 1h0m-2-3h0m-3 2h0m0-2h0m-1 2h0m-2-5h0m-1 6h0m0-5h0m-1 2h0m-2-3h0m0 5h0m-2-4h0m-2 1h0m0 2h0m-3 2h0m-4-3h0m-2 1h0m-3 2h0m-1-4h0m3 9h0m9-2h0m0 3h0m3-2h0m1 0h0m2-3h0m9 0h0m0 2h0m4 3h0m1-6h0m1 1h0m1 3h0m3-3h0m1 3h0m2-2h0m0 3h0m3-2h0m1-1h0m0 1h0m1-1h0m1-2h0m0 2h0m0 2h0m2-3h0m1 0h0m-9 9h0m-7-1h0m-7-2h0m-34 0h0m23 10h0" stroke="#45c4c0" stroke-width="3.5" stroke-linecap="round" fill="none"/>
<path d="M345 1264h0m18 2h0m-1 4h0m-1 0h0m-2-1h0m-1-1h0m-1 2h0m0 2h0m0-2h0m-7-1h0m-2-1h0m-6 4h0m-10-3h0m-1 1h0m-34 8h0m32-5h0m8 4h0m9 1h0m6-4h0m2 2h0m0-4h0m1 1h0m2 3h0m0-4h0m1 1h0m3-1h0m0 3h0m31-2h0m1 11h0m-2-3h0m-4 0h0m-2 1h0m0 1h0m-1 0h0m-6 1h0m-1-2h0m-3 0h0m-1 2h0m-16-5h0m-18 4h0m-4-2h0m-30-1h0m-3-1h0m-2 4h0m-7-3h0m-3 1h0m-6 2h0m-5-3h0m0 1h0m-1 1h0m-13 1h0m-2 5h0m2-1h0m0 0h0m1 1h0m1 1h0m0-3h0m0 2h0m2-3h0m2 3h0m0-3h0m3 5h0m1 0h0m2-4h0m1 1h0m0 2h0m0-4h0m1 3h0m1-1h0m1 2h0m0-2h0m0 1h0m1-2h0m1-1h0m1 1h0m1 3h0m3-2h0m1 1h0m2 1h0m1-4h0m2 0h0m4 3h0m5 1h0m1-3h0m37-2h0m12 3h0m0 1h0m12-1h0m1 2h0m4 0h0m2-1h0m3-4h0m1 4h0m0 0h0m0-1h0m4 1h0m1 1h0m0-1h0m1 2h0m3-4h0m5 3h0m3 0h0m5-2h0m-3 9h0m-4 0h0m-1-5h0m-2 3h0m-1-1h0m-1 2h0m-1-5h0m0 2h0m-3 3h0m-2-3h0m0 0h0m-1 1h0m-1-1h0m-1 1h0m0-2h0m-1 5h0m0 0h0m-1-3h0m0-2h0m-1 4h0m-1 0h0m0 1h0m-1-5h0m0 4h0m-1-2h0m0 1h0m-1-1h0m0 0h0m-2 1h0m0 1h0m0-3h0m-1 3h0m-1-1h0m-1-2h0m-5 1h0m0 3h0m0-1h0m0-1h0m0 1h0m-1-3h0m0 3h0m-5-4h0m-2 1h0m-1 4h0m-41-3h0m-1 1h0m-5 0h0m-1-1h0m-2 2h0m-1 0h0m-1-3h0m0 3h0m0-5h0m-2 6h0m-2-3h0m-1 2h0m-1-2h0m0 0h0m-1-1h0m-3-1h0m0 0h0m0 3h0m-2 1h0m0-3h0m-1-1h0m-2 3h0m0 2h0m-1-1h0m0-5h0m-1 1h0m0 0h0m-2 0h0m0 3h0m-1-4h0m-1 4h0m0-1h0m-1-2h0m-1 2h0m-1 0h0m-1-1h0m0 3h0m0-2h0m-1 2h0m-1-1h0m0-2h0m0 2h0m-1 2h0m-3-3h0m-1 0h0m-2 0h0m0 2h0m-1-3h0m0 2h0m0-3h0m-3 2h0m-1 2h0m3 1h0m3 1h0m1 0h0m1 4h0m0-2h0m1 0h0m1 3h0m4-5h0m0 1h0m1 0h0m5 0h0m0 3h0m0 0h0m2-1h0m1 2h0m0-1h0m1-3h0m0 3h0m0-2h0m1-2h0m2 5h0m0-6h0m0 0h0m1 3h0m0-1h0m0 1h0m2 0h0m0-2h0m0 4h0m0 1h0m1-3h0m1-3h0m2 2h0m0 4h0m0-4h0m1 3h0m1-2h0m1-2h0m1 4h0m1-3h0m0 1h0m2 1h0m0-4h0m1 4h0m0 1h0m2-1h0m1 0h0m1-2h0m9 1h0m3-1h0m2 2h0m1 0h0m4 1h0m0-2h0m5 2h0m3-2h0m1 3h0m1 0h0m1-3h0m1 1h0m2 1h0m3-2h0m2 2h0m1-2h0m0-1h0m2 1h0m3 0h0m1-2h0m1 1h0m1-1h0m0 2h0m2 2h0m1-4h0m0 3h0m0-2h0m1 2h0m1 1h0m0 1h0m0-3h0m1 2h0m1-1h0m1-1h0m1 1h0m0 1h0m0 0h0m0-2h0m0 2h0m1-1h0m0-1h0m1 0h0m1 2h0m1-1h0m0-2h0m1-2h0m0 4h0m1 2h0m0-1h0m0-2h0m1 2h0m1-4h0m0 0h0m1 1h0m2 2h0m0 0h0m1-1h0m0 3h0m1-5h0m0 4h0m0-4h0m3-1h0m2 4h0m1 2h0m0-1h0m1-5h0m0 1h0m0-1h0m2 2h0m8-1h0m-5 8h0m-3-1h0m-2 0h0m-6 4h0m-3-1h0m-1-4h0m0 1h0m-1-1h0m0 3h0m-1-1h0m-1-2h0m-5 1h0m0 0h0m-1-2h0m-1 4h0m0-3h0m-4 1h0m0-1h0m0 3h0m0 0h0m-1-4h0m-1 3h0m-1 3h0m-1-1h0m0-3h0m-6 3h0m-2-3h0m-1 2h0m-1-3h0m0 4h0m-1-5h0m0 4h0m-2 1h0m-1-3h0m-1 4h0m0-2h0m-3 2h0m-1-6h0m0 3h0m0-1h0m-1 3h0m0-4h0m-2 4h0m0-2h0m-1-2h0m0 3h0m0-1h0m0 0h0m-1-3h0m-3 2h0m0-2h0m0 6h0m0-1h0m0-2h0m-1 0h0m0 1h0m0-3h0m-1 1h0m-1 1h0m-1 0h0m0-2h0m0 1h0m-2 3h0m-1-3h0m0 4h0m-1-2h0m-1-2h0m0 0h0m-1-2h0m0 2h0m0-1h0m-1 3h0m0-2h0m0 3h0m-1-1h0m-2 1h0m0-2h0m-2 3h0m-2-2h0m-1-3h0m0 1h0m0 2h0m0-3h0m-1 3h0m0 0h0m-1 1h0m-1 1h0m-3-5h0m-1-1h0m0 5h0m0 0h0m-2-2h0m0-3h0m0 1h0m0 3h0m-1 1h0m-1-3h0m0 0h0m0 0h0m-1-1h0m0 1h0m-1 1h0m-1-2h0m0-1h0m-2 4h0m0 0h0m-1-2h0m0-1h0m-1 1h0m0-1h0m-1 5h0m-1-5h0m-1 1h0m0-2h0m-1 1h0m-1 1h0m0 2h0m-2-3h0m0 2h0m-2-2h0m-3 3h0m-2-2h0m-4-1h0m-2 2h0m0-2h0m-2 1h0m-2-1h0m0 1h0m6 4h0m14 4h0m0-2h0m1-2h0m0 1h0m0-1h0m3 1h0m3 0h0m1 0h0m1 0h0m0 2h0m1-1h0m4 0h0m1-1h0m2 1h0m0 2h0m2 0h0m0-4h0m3 1h0m0 0h0m0 2h0m1-2h0m0 3h0m3-1h0m1 2h0m0-1h0m0-1h0m0 2h0m0-1h0m1-2h0m0 2h0m0 1h0m1 0h0m0-4h0m0 3h0m1-3h0m0 4h0m1-3h0m1 1h0m2-1h0m1 2h0m0-2h0m0 4h0m1-1h0m0-3h0m1-2h0m1 4h0m2-3h0m1 1h0m0 3h0m1-5h0m1 5h0m2-3h0m1-1h0m1 3h0m0-1h0m1 0h0m0 0h0m1 2h0m1-4h0m0 2h0m1 2h0m0 0h0m1-2h0m0-3h0m1 0h0m0 3h0m1 1h0m0 2h0m0-4h0m2 4h0m1-5h0m1 1h0m1-1h0m0-1h0m0 5h0m1-3h0m3 2h0m4 1h0m1 0h0m0-2h0m2 1h0m1-1h0m1-1h0m0 0h0m1 0h0m0 4h0m2-4h0m1 0h0m0 0h0m4 1h0m1 1h0m1-4h0m1 1h0m1 1h0m12-1h0m-3 7h0m-15 0h0m-7-1h0m-3 1h0m0 2h0m-2-3h0m0 3h0m-1 1h0m-2-1h0m-1-4h0m-4 2h0m0 1h0m0 2h0m-2-2h0m0 1h0m0 0h0m-3-1h0m0-2h0m-1 0h0m-3-1h0m0 2h0m-2-1h0m-5 4h0m-1-2h0m-1-3h0m0 5h0m-1-2h0m-1 0h0m0-1h0m0-1h0m-1-1h0m-2 4h0m0-2h0m0 2h0m-6-1h0m-2 2h0m-2-5h0m-1 3h0m-2-3h0m-1 2h0m0-2h0m-3 3h0m0-1h0m-8 3h0m3 7h0m7-4h0m12 1h0m4-1h0m7-1h0m1-1h0m3 5h0m3-4h0m2 1h0m0 0h0m2-1h0m1-1h0m9 2h0m1 1h0m-21 4h0" stroke="#48c292" stroke-width="3.5" stroke-linecap="round" fill="none"/>
<path d="M277 1170h0m-4 5h0m-1 1h0m0-3h0m-4-1h0m0 2h0m-3-1h0m-11 1h0m-9 1h0m-18 4h0m4 2h0m3 0h0m3 0h0m2-3h0m1 2h0m2 0h0m0 0h0m1 1h0m1-3h0m3 2h0m1-3h0m0 4h0m0-1h0m1-2h0m0 2h0m2 0h0m1-1h0m1-2h0m4 2h0m2 3h0m4 0h0m2 0h0m0-3h0m3 3h0m1-3h0m0 3h0m1-5h0m0-1h0m2 0h0m0 1h0m0 0h0m1 3h0m0-1h0m0 0h0m2 3h0m0-3h0m0-2h0m4 1h0m2 3h0m4-1h0m5 7h0m-1-4h0m-2 3h0m0-4h0m-4 6h0m-1-4h0m-1 3h0m-1-2h0m-1-3h0m-2 2h0m-1 0h0m-1 0h0m-4-2h0m-2 3h0m0-2h0m-1 1h0m0-1h0m0 2h0m-1 2h0m0-4h0m0 4h0m0-2h0m-3-3h0m0 3h0m-1-1h0m0-2h0m-1 2h0m0 3h0m-3-2h0m0-2h0m-1 3h0m-1 1h0m-2-4h0m0 1h0m-2 0h0m0 0h0m0-2h0m-2 4h0m-1-4h0m0 5h0m-2-4h0m0-1h0m0 3h0m-1 1h0m-2 1h0m0 0h0m-1-2h0m-1 0h0m-2-1h0m0-1h0m-1 2h0m-1-2h0m0 4h0m-1 0h0m-1-1h0m-1 0h0m0 1h0m-1-3h0m-1 2h0m-1 2h0m0-2h0m-4 1h0m-6 1h0m5 2h0m1 1h0m0 3h0m0-1h0m1-4h0m0 0h0m1 0h0m0 2h0m0 2h0m1-3h0m0 3h0m1-2h0m1 1h0m0 0h0m2-3h0m3 2h0m6-1h0m0 2h0m4-3h0m2 1h0m1-2h0m2 0h0m0 5h0m1-5h0m1 4h0m0-3h0m3 5h0m0-3h0m1-2h0m1 2h0m1 2h0m0-2h0m0-3h0m1 2h0m9 3h0m3 0h0m1-1h0m1 1h0m1-1h0m2-1h0m2-3h0m0 1h0m0 0h0m1 2h0m0-3h0m0 1h0m1 1h0m1-1h0m0 1h0m0-1h0m0 0h0m1 5h0m0-5h0m2 1h0m1 4h0m1 0h0m0-6h0m3 3h0m1-2h0m46 10h0m-15-5h0m-1 6h0m-1 0h0m-1-2h0m-3 2h0m-2-3h0m-1 2h0m-1-2h0m-1-1h0m-2 3h0m-1 1h0m-2-2h0m-1-1h0m-1-3h0m0 4h0m-2 0h0m-1 2h0m-3 0h0m0-2h0m0-3h0m-1 2h0m-3 0h0m-2-1h0m-1-1h0m0 1h0m0 2h0m0-4h0m-3 4h0m-4-4h0m0 3h0m0 3h0m0-4h0m-1 3h0m-1-5h0m-1 1h0m0 0h0m0 2h0m-1 2h0m0-1h0m0-1h0m-1 1h0m-1-3h0m0 0h0m-1-1h0m0 0h0m0 1h0m-1 3h0m-1-3h0m-1 3h0m-4-1h0m0 3h0m-3 0h0m0-4h0m-1 3h0m-1-2h0m0 2h0m0 0h0m0-4h0m-1 5h0m0-4h0m-1 3h0m0 0h0m0-3h0m-1 4h0m-1 0h0m0-4h0m-1 0h0m0 2h0m0 1h0m-2-3h0m-1 2h0m-1-2h0m0-2h0m-1 2h0m-1 0h0m0 2h0m0 0h0m0-3h0m-1 2h0m-1 1h0m0-1h0m-2 2h0m0-1h0m-1-2h0m-1 2h0m0-3h0m0 5h0m-2-1h0m-1 1h0m-6-5h0m-5 3h0m-1 0h0m-3 2h0m0-1h0m-1-3h0m0 1h0m-1 1h0m-1-2h0m0 4h0m0-3h0m0 1h0m-1-1h0m-1 2h0m0-3h0m-2-2h0m-1 3h0m-1 2h0m-2-2h0m4 5h0m1 1h0m1 2h0m1 0h0m1 1h0m1 0h0m2-2h0m2 1h0m0-2h0m1 1h0m1-3h0m3 1h0m0 3h0m0-4h0m0 4h0m8-3h0m0-1h0m1 5h0m1-1h0m1 0h0m0 0h0m1-3h0m1-1h0m0 0h0m1 0h0m1 1h0m1 1h0m0 3h0m0-4h0m1 3h0m1-1h0m0 2h0m1-4h0m0 1h0m0-2h0m1 0h0m0 0h0m0 0h0m0 4h0m1 0h0m2-5h0m0 3h0m0 0h0m0-2h0m0 1h0m0 4h0m2-2h0m1-2h0m0 3h0m0-1h0m1 0h0m0-1h0m2-2h0m1 1h0m0 2h0m0-3h0m0 4h0m2-3h0m0-2h0m1 5h0m1-1h0m1 1h0m1-3h0m0 1h0m0 0h0m0 1h0m0-3h0m2-1h0m0 5h0m1-1h0m0-1h0m1 2h0m1-1h0m0 0h0m0-1h0m2 1h0m2-3h0m1 3h0m3-2h0m0-2h0m1 5h0m1 1h0m0-1h0m2-3h0m1 2h0m0 1h0m1 0h0m2-5h0m1 5h0m3-4h0m0 4h0m2 0h0m2-3h0m3 1h0m0-2h0m1 5h0m0-3h0m2 1h0m1 1h0m0 0h0m0-3h0m0-1h0m1 5h0m1-3h0m0 0h0m1-2h0m1 3h0m1 0h0m0 2h0m1-1h0m0-1h0m1-3h0m1-1h0m0 1h0m0 3h0m1-1h0m0 1h0m3-2h0m1-2h0m0 4h0m2-2h0m0 2h0m1 1h0m1-1h0m1-2h0m0-1h0m2 4h0m4 1h0m2-1h0m1-1h0m0-1h0m2 2h0m0-1h0m0-3h0m4 4h0m8 6h0m-3-2h0m-3 3h0m-1-3h0m-6 1h0m-2 2h0m-2-4h0m-6 2h0m-2-1h0m-3 1h0m0-1h0m0 1h0m-1-2h0m0 0h0m-2 0h0m-1-2h0m-2 1h0m-1 3h0m0-1h0m0-1h0m-1 2h0m0-1h0m-2 0h0m0 1h0m0 0h0m0 1h0m0-3h0m-3 1h0m0-1h0m-1 1h0m0 0h0m-2 0h0m0-1h0m0 0h0m-1 3h0m-1 0h0m-2-3h0m0-1h0m-1 2h0m-2 2h0m0 0h0m0 0h0m0-3h0m-3 3h0m-1-4h0m-3 1h0m0 2h0m-1-2h0m-3 1h0m-1-2h0m-1 5h0m0-5h0m-2 4h0m0 0h0m0-4h0m-1 4h0m-2-3h0m0 2h0m0 0h0m-1-2h0m-2-1h0m0 2h0m-2-1h0m-1 1h0m0-3h0m-1 1h0m-1-1h0m-1 4h0m-1-3h0m0 2h0m-1 0h0m0-1h0m0 1h0m-1-1h0m0 1h0m-1-1h0m0 1h0m0-2h0m-1 1h0m-1 4h0m-1-3h0m0-1h0m-1 3h0m0-1h0m-1-3h0m0-1h0m-1 4h0m0-3h0m-1 3h0m-1-2h0m-1 2h0m-1 0h0m0 1h0m0-5h0m-1 4h0m-1-3h0m0 2h0m-1 0h0m0-3h0m-1 0h0m0 0h0m0 1h0m-1 4h0m0-4h0m-1 1h0m-2 2h0m-1 0h0m0 1h0m0 0h0m-1-2h0m0 2h0m-1 0h0m-2-2h0m0-2h0m0 1h0m-1-2h0m0 2h0m-1-1h0m-1 3h0m-2-3h0m-3 4h0m0-4h0m-1 1h0m0 0h0m-1 1h0m0-1h0m-1 1h0m0 1h0m-1-2h0m-1-1h0m-1 2h0m-1 0h0m-1 1h0m-1-2h0m-1-1h0m-3 1h0m0 1h0m-1 5h0m0 4h0m1-4h0m1 1h0m1-1h0m1 3h0m1-2h0m0 0h0m1 1h0m0-2h0m2-1h0m1 0h0m1 1h0m1-1h0m2-1h0m1 2h0m3-1h0m1 1h0m2 1h0m1 1h0m0-3h0m1 3h0m1 2h0m1-3h0m1 3h0m1-2h0m1 1h0m0-2h0m0 2h0m1-1h0m0-2h0m0 2h0m1 2h0m0-1h0m2-4h0m0 4h0m3-3h0m0 2h0m0-1h0m3 0h0m0-2h0m0 1h0m3 0h0m0-1h0m1 1h0m1 4h0m0-2h0m1 2h0m0-3h0m0 1h0m0-4h0m1 0h0m0 0h0m1 1h0m0 5h0m2-2h0m0-2h0m1-1h0m2 4h0m2-5h0m2 3h0m1-1h0m0-2h0m1 0h0m1 2h0m2 2h0m1-1h0m3-2h0m4 1h0m1-1h0m0 0h0m0 4h0m0-3h0m2-1h0m2 0h0m0 4h0m1-3h0m0-1h0m0 4h0m1-4h0m0 5h0m1-1h0m1 1h0m3 0h0m1-2h0m0 0h0m0 1h0m1-2h0m0 2h0m0 1h0m0-2h0m1-4h0m0 1h0m1 0h0m1 1h0m2 2h0m3-1h0m0-2h0m1 5h0m0-1h0m1-3h0m1 0h0m0-1h0m0 2h0m0 1h0m2 0h0m0-4h0m0 2h0m0 3h0m1-4h0m0 4h0m2 1h0m0-3h0m1 0h0m1-3h0m0 6h0m1-2h0m0-3h0m2 1h0m1 4h0m9-5h0m1 0h0m3 3h0m3-3h0m1 1h0m11 5h0m-2 2h0m-1-2h0m-1 2h0m0 2h0m-2-4h0m-1 1h0m-14 4h0m0-5h0m-1 3h0m0-1h0m-1-1h0m-2 3h0m0-1h0m0-2h0m0 4h0m-1-6h0m0 2h0m0 2h0m-1-1h0m0 1h0m-1-2h0m0-1h0m-2 3h0m0 1h0m0 0h0m0 0h0m-1 0h0m0 1h0m0-4h0m-2-2h0m-2 0h0m-1 3h0m-1 2h0m-1-3h0m-2 3h0m-1-3h0m-1-2h0m-1 1h0m0 2h0m0-3h0m0 4h0m0 1h0m-2-5h0m-1 5h0m0-1h0m0 1h0m-1 0h0m0-5h0m-1 5h0m0-4h0m0 1h0m-1 1h0m0 3h0m-1-4h0m0 3h0m-1-5h0m-1 3h0m0-1h0m0 4h0m0 0h0m-2-3h0m-1 2h0m0-1h0m-1-1h0m-2 0h0m0-3h0m-2 4h0m0-1h0m-3 3h0m0-1h0m-1 0h0m-1 0h0m-1 0h0m0-1h0m-4 1h0m-1-4h0m-1 3h0m0 2h0m-6-1h0m0 0h0m-3-4h0m-4 0h0m-1 0h0m-1 3h0m-1-1h0m-1-1h0m-5 3h0m-4-3h0m-1-2h0m-1 5h0m-1-5h0m0 0h0m-1 2h0m0 0h0m-2-1h0m-1 0h0m-5-1h0m0 0h0m-1 1h0m0 0h0m-2 2h0m-2 3h0m-1-1h0m-4 0h0m-2-4h0m-1 4h0m-3-2h0m0 1h0m-3-2h0m-3 1h0m-4-3h0m1 12h0m0-2h0m0 2h0m3-1h0m0-1h0m4 0h0m2-2h0m1-2h0m2 3h0m1 1h0m1 2h0m1-5h0m1 2h0m4-2h0m2 2h0m0-2h0m1 5h0m1-2h0m1 2h0m4 0h0m3-3h0m0 0h0m3-1h0m0 0h0m0 3h0m2-3h0m7 0h0m3 3h0m2-1h0m0 2h0m3-4h0m3 3h0m2-1h0m0-1h0m0-3h0m5 5h0m1-2h0m0 3h0m1-6h0m0 0h0m2 5h0m1-1h0m1 2h0m1-1h0m0-1h0m1 2h0m0-3h0m3-1h0m0 3h0m1-1h0m0 0h0m1-2h0m0 0h0m0-1h0m2 2h0m3-1h0m0 1h0m1 1h0m0 0h0m0-3h0m2 2h0m0-2h0m1 0h0m0 3h0m0-4h0m0 3h0m2-3h0m0 1h0m1 4h0m0 0h0m1-4h0m1 1h0m1 0h0m0 0h0m2-1h0m4 0h0m0 1h0m1-2h0m1 2h0m0-2h0m1 4h0m1 2h0m0-1h0m0-2h0m1 2h0m1-3h0m0 1h0m0 0h0m1-1h0m0-1h0m1 3h0m1 1h0m2-2h0m0-1h0m0 1h0m0 1h0m1 0h0m1 2h0m0-1h0m0-2h0m1 0h0m1 0h0m0-3h0m0 5h0m0-1h0m1-1h0m0 2h0m0 0h0m1-3h0m0 0h0m1 0h0m1 1h0m3-2h0m3 5h0m-1 2h0m0 3h0m-1-1h0m-2-1h0m0 3h0m-1-3h0m-1 1h0m0-1h0m-1 0h0m-1-2h0m0 2h0m-1 2h0m0-4h0m-1-1h0m0 6h0m0-3h0m0-1h0m-1-1h0m0 1h0m0 1h0m0-2h0m-3 2h0m-5 1h0m-1 1h0m0 1h0m0-6h0m0 4h0m-3 2h0m-1-2h0m-1 0h0m-1 2h0m-1 0h0m-2-4h0m-1 1h0m-2-1h0m0-1h0m0 3h0m-3-3h0m0 1h0m-1 3h0m-1-2h0m0 1h0m-1-3h0m-2-1h0m-2 3h0m-1 0h0m-2 2h0m-1-2h0m-2 0h0m0 2h0m0-4h0m-1 1h0m0 3h0m0-4h0m0 0h0m0 1h0m-1 1h0m0-1h0m-1 2h0m0-1h0m0-2h0m-2 2h0m-2-3h0m-8 5h0m-4-4h0m0 1h0m-3 1h0m0-2h0m-1 2h0m0-3h0m0 4h0m-1-4h0m-2 3h0m-1 0h0m-1 1h0m0-2h0m0 0h0m0 0h0m-1-1h0m0 5h0m-3-2h0m-3-4h0m0 3h0m-2 2h0m0-5h0m-1 3h0m-1 0h0m0-1h0m-1 4h0m-1-3h0m-1 2h0m-1-2h0m-1 2h0m-1-2h0m0-3h0m0 2h0m-1 0h0m-2-1h0m0 3h0m0 1h0m0 0h0m-2-3h0m0-1h0m0 2h0m-6 0h0m-1 2h0m0 0h0m0 0h0m-1-1h0m-1-3h0m-2 5h0m-2-2h0m0 0h0m-6 0h0m0 2h0m-3-2h0m-3-3h0m-1 0h0m-2 4h0m0 6h0m2-1h0m3 1h0m0-5h0m0 2h0m0 0h0m1 4h0m0 0h0m1-2h0m1 2h0m0-1h0m3 0h0m3 0h0m1 1h0m1-2h0m4-2h0m2 1h0m3-2h0m1 5h0m2-4h0m2 0h0m1 4h0m3-4h0m0 1h0m2-1h0m2 0h0m1 1h0m0 1h0m3 0h0m0 0h0m0 0h0m0-1h0m0-2h0m1 3h0m1-3h0m0 3h0m1-1h0m1-1h0m0 0h0m1 4h0m1-3h0m0 1h0m1 1h0m0 0h0m1-2h0m3-2h0m0 0h0m3 0h0m0 3h0m3 1h0m0 0h0m1 0h0m1 0h0m0-3h0m1 3h0m1-1h0m13-1h0m3 3h0m1-5h0m0 3h0m0 0h0m1-4h0m0 4h0m0-1h0m1 0h0m4 1h0m1-1h0m0 2h0m1-2h0m1 0h0m1 3h0m0-2h0m1 1h0m1-4h0m0 1h0m1-2h0m0 2h0m0 2h0m2-4h0m2 3h0m2 0h0m1 1h0m0 2h0m1-6h0m1 6h0m0-4h0m0-1h0m1 4h0m0-3h0m0 0h0m1-2h0m0 0h0m0 0h0m1 0h0m1 0h0m0 1h0m0 2h0m1-2h0m1 4h0m0-2h0m0 2h0m1-4h0m0 2h0m5 2h0m1-3h0m1 1h0m2 0h0m1-2h0m0 2h0m1 0h0m0 2h0m0-2h0m1 2h0m3-5h0m-7 7h0m-3-1h0m-5 6h0m-4-5h0m-7 0h0m-1 0h0m-1 2h0m-1 0h0m0-1h0m-3 0h0m0 2h0m-2 0h0m-2-3h0m0 2h0m-2 2h0m-3-3h0m-1 0h0m-1 0h0m-1 1h0m-3 1h0m-16-2h0m-1 3h0m-2-3h0m0 2h0m0 0h0m-1-4h0m0 5h0m0-3h0m0-2h0m-1 2h0m0 1h0m0 1h0m0-3h0m0 2h0m-1 0h0m0 2h0m-2-1h0m-2 0h0m-5-4h0m-5 0h0m-4 2h0m0-1h0m0 2h0m0 1h0m-1 1h0m0-4h0m-4 4h0m-1-4h0m0 4h0m0-2h0m-1 2h0m-1-2h0m-3-2h0m-2 0h0m-4 2h0m-3-3h0m-1 1h0m0 1h0m-3 1h0m-5-2h0m-3-1h0m-4 1h0m0 9h0m2-1h0m3-1h0m1 4h0m3-3h0m3 0h0m0 3h0m1-3h0m2-1h0m0-1h0m1 4h0m1 0h0m1 0h0m2 0h0m1-4h0m5 2h0m1 2h0m1 1h0m0-5h0m4 1h0m2 0h0m2 2h0m0-3h0m1 1h0m1 0h0m1 2h0m1 0h0m3-1h0m2 0h0m2 0h0m1 0h0m0-2h0m1 4h0m0-3h0m0 3h0m1-3h0m0-1h0m0 3h0m0-1h0m1-1h0m11-1h0m3 4h0m1-1h0m1 0h0m1 0h0m2 2h0m2 0h0m0-2h0m3-4h0m1 6h0m0-6h0m2 2h0m1 1h0m1 2h0m0-4h0m1 3h0m1-1h0m1 0h0m2 1h0m0 2h0m2-5h0m3 5h0m2-5h0m3 3h0m3 1h0m2 1h0m1-5h0m1 3h0m1-2h0m11 4h0m3 0h0m-2 1h0m-8 4h0m0-3h0m0 4h0m-3-1h0m-1-3h0m0-1h0m-5 4h0m-1-2h0m-2 2h0m0 0h0m0 1h0m-1-1h0m0-5h0m0 5h0m-1-3h0m0-1h0m-5 4h0m-1-2h0m-2-3h0m-5 4h0m0-2h0m-3 1h0m-1 2h0m-3-1h0m-2-2h0m-5-2h0m-1 1h0m-2 0h0m-1 3h0m0-3h0m0 0h0m-2-1h0m-1 0h0m-1 6h0m-1-5h0m-1 1h0m-2-2h0m-2 5h0m-2-5h0m-2 1h0m-1 0h0m-1 0h0m-1 5h0m0-3h0m0 0h0m-1 1h0m-1-3h0m-1 1h0m-2 3h0m0-1h0m-1 0h0m0 2h0m-1 0h0m0-5h0m-2 2h0m-1 1h0m0 1h0m0-2h0m0-2h0m-5 2h0m-1-2h0m0 5h0m-5-5h0m-6 2h0m0-2h0m0 5h0m0-2h0m-1-3h0m-1 1h0m0 1h0m0 1h0m0 2h0m-2-5h0m0 1h0m0 0h0m0 4h0m-1-1h0m0-1h0m-2-1h0m0 1h0m0 1h0m-1-1h0m0-4h0m-1 4h0m-3-2h0m-1-1h0m-9 4h0m8 4h0m3 2h0m0 0h0m0 0h0m1 0h0m1-3h0m1-2h0m0 0h0m2 3h0m0 3h0m0-3h0m2 2h0m0 0h0m1-3h0m2-2h0m1 1h0m0 4h0m3-3h0m0 2h0m1-1h0m1 0h0m1-2h0m2 4h0m3-4h0m1 1h0m2 1h0m0 3h0m1-1h0m0-4h0m1-1h0m1 3h0m0-1h0m3 4h0m0-2h0m0-2h0m0 1h0m1-2h0m0-1h0m0 5h0m3-4h0m1 2h0m1 2h0m1 1h0m2-4h0m2 1h0m1-1h0m1 1h0m0-1h0m0 0h0m0 0h0m1 1h0m2 3h0m0-4h0m3 2h0m4 0h0m0 0h0m1 1h0m0-1h0m0-2h0m1-1h0m1 3h0m2-2h0m2 2h0m1 2h0m2-5h0m2 0h0m1 0h0m0 2h0m2 2h0m1-3h0m1 1h0m4-1h0m0-2h0m2 2h0m4 4h0m1-5h0m0-1h0m2 5h0m1 0h0m0-1h0m1-1h0m0-2h0m2 4h0m0-3h0m0-2h0m1 5h0m0-4h0m1 5h0m2-6h0m5 6h0m0-5h0m5 0h0m-2 6h0m-7 2h0m-4-2h0m0-1h0m-3 3h0m0-3h0m-1 5h0m-1-3h0m-4 0h0m-1 0h0m-1-2h0m0 1h0m-2 2h0m-1-1h0m-2 1h0m-1 0h0m0 1h0m-1-1h0m0-3h0m-2 3h0m0-2h0m-1 2h0m-1-3h0m-1 3h0m-2 2h0m-3-1h0m-3 2h0m0-2h0m-1-2h0m-2 0h0m-2 3h0m-1-5h0m0 6h0m0 0h0m-2-1h0m-1 0h0m-1 0h0m-1-5h0m0 3h0m-1 0h0m-1 2h0m-1-1h0m-1-1h0m0 3h0m0-3h0m-1-2h0m0 5h0m-2-2h0m-5-2h0m-2-1h0m0 1h0m0 3h0m-1-5h0m-1 3h0m0-1h0m0-1h0m0 1h0m0-1h0m-1 0h0m0 3h0m-2 2h0m-1-1h0m0-2h0m-1-1h0m0 1h0m-2-1h0m-1 4h0m0-4h0m-3-1h0m0 0h0m0 4h0m-1-1h0m-1-3h0m-1 0h0m-1 3h0m0 1h0m0-2h0m0 2h0m-1-1h0m-1-3h0m-1 3h0m-1 0h0m0-1h0m0 2h0m-2-1h0m-1-1h0m-1 1h0m0 1h0m-2-4h0m0-1h0m-1 0h0m0 3h0m-4 2h0m-3-2h0m-3-2h0m-2 8h0m2-2h0m4 3h0m4-3h0m0 2h0m5-3h0m0 3h0m0 2h0m2-1h0m2-4h0m0 1h0m1-1h0m0 0h0m1 1h0m0 0h0m0-1h0m0 3h0m1-2h0m0 1h0m0-1h0m0 1h0m2 0h0m0-1h0m0 0h0m0 0h0m0 0h0m6 2h0m1 3h0m1-2h0m1-4h0m3 2h0m4 4h0m2-2h0m0 0h0m1 1h0m3 0h0m0-4h0m0 4h0m3-1h0m0-2h0m1 1h0m0-2h0m1 1h0m0-2h0m1 5h0m0-1h0m0 0h0m0 2h0m1-5h0m1 2h0m0-1h0m0 4h0m0-2h0m0-1h0m1 1h0m0 0h0m0-1h0m1 1h0m0 0h0m1 0h0m1-1h0m1-3h0m1 2h0m0 2h0m1-3h0m0 2h0m0-1h0m0 4h0m1-6h0m0 1h0m3 0h0m1 3h0m1-3h0m0 2h0m3 0h0m0 2h0m3-4h0m0 0h0m2-1h0m0 5h0m2-3h0m3 0h0m1 3h0m0-1h0m2-1h0m0 2h0m3-3h0m0 3h0m1-4h0m4 4h0m2-5h0m1 4h0m0 2h0m0-3h0m4-1h0m-7 6h0m0 1h0m-3-1h0m-5 2h0m-1 0h0m-2-1h0m0-1h0m-1-1h0m-1 2h0m-1-1h0m-13 2h0m-1-2h0m-1-1h0m-1 4h0m0-2h0m-1 3h0m0-5h0m-1 3h0m0-3h0m0 2h0m0 1h0m-1-3h0m-1 4h0m-1 0h0m-1 0h0m0-4h0m0 5h0m-1-4h0m0 3h0m0 0h0m-1-5h0m0 5h0m0-4h0m0 1h0m0 2h0m-1-2h0m0 1h0m-1-1h0m-1-2h0m0 3h0m0 1h0m-1-1h0m0-1h0m0 1h0m-1 0h0m-1 0h0m-1 1h0m0-4h0m-1 4h0m0 1h0m0-2h0m-1 0h0m0 1h0m-1 1h0m-1 1h0m0-6h0m-2 1h0m-1 3h0m-1-2h0m0 4h0m-1-5h0m-5 4h0m-2-4h0m0 3h0m-2 0h0m-1 1h0m-2-5h0m-1 3h0m-3-2h0m-2 1h0m0-2h0m-1 4h0m0-2h0m-1-1h0m0 0h0m-13 1h0m3 4h0m11 4h0m3-3h0m4-1h0m1 0h0m3 4h0m0 1h0m2-2h0m0 2h0m1-3h0m0 0h0m1 1h0m0 0h0m0 0h0m1-1h0m0 2h0m0-2h0m0 2h0m1-2h0m3 0h0m1 1h0m0 0h0m0 3h0m2-1h0m0-1h0m2-3h0m0-1h0m1 1h0m0 2h0m2 2h0m0-4h0m0-1h0m1 1h0m1 1h0m1 1h0m0-2h0m0 0h0m1 1h0m0 0h0m1 1h0m1-1h0m0-1h0m5 0h0m1 0h0m0-1h0m1 3h0m2-2h0m0 2h0m1-3h0m6 6h0m5-3h0m3-2h0m0 0h0m-3 6h0m-9 0h0m-6 2h0m-1 0h0m-1-2h0m0 3h0m-4-3h0m-4-1h0m-2 5h0m-2-2h0m-2 1h0m0-2h0m-1 3h0m0-4h0m-1 5h0m-1-6h0m-3 5h0m-5-5h0m-1 3h0m-1 0h0m0-2h0m-8 4h0m2 4h0m0-2h0m10 3h0m11-4h0m13 4h0m3-4h0m2 2h0m3 4h0m3-4h0m6-2h0m1 1h0m1 2h0m1 2h0m-1 2h0m-5 1h0m-2 0h0m-35 0h0m-3-2h0m-3 1h0" stroke="#d99530" stroke-width="3.5" stroke-linecap="round" fill="none"/>
<path d="M453 1193h0m4 6h0m-3-1h0m-2 1h0m-1-1h0m-9 2h0m-2-4h0m-5 2h0m-2 0h0m-6 2h0m-10-1h0m-4 4h0m3-1h0m2-1h0m1 0h0m1 3h0m0 1h0m2-2h0m2 0h0m0 0h0m0 1h0m1-4h0m1 0h0m0 0h0m1 5h0m1-4h0m0 0h0m0 2h0m6 1h0m1-4h0m1 1h0m4 0h0m1 3h0m5-3h0m1 2h0m0 0h0m1-1h0m2 2h0m0-2h0m0 1h0m1-1h0m3 1h0m2 0h0m3 0h0m3 2h0m0-3h0m9 0h0m3 4h0m13-5h0m1 2h0m0 0h0m1-1h0m5 3h0m0 0h0m-1 6h0m0 0h0m0 1h0m-1-4h0m-1 0h0m0-1h0m-3 4h0m-2-2h0m-1 1h0m0-1h0m-3 2h0m0-2h0m-1 0h0m-3 1h0m0-1h0m0 0h0m0-1h0m-1 0h0m0-1h0m-1 2h0m-2 1h0m-1 1h0m-2-3h0m-1 3h0m-2-1h0m-1 1h0m-4-1h0m-1-2h0m-2 1h0m0-1h0m-2 0h0m0 2h0m0-1h0m0-2h0m-1 4h0m-1-1h0m-1-3h0m0 4h0m-1-3h0m-1 3h0m0-3h0m-1 2h0m-3-2h0m0-1h0m-3 1h0m0-2h0m-1 6h0m-2-5h0m-3 1h0m-4 0h0m-1 3h0m0-1h0m-3 2h0m0-6h0m-1 2h0m0-2h0m0 3h0m-2 3h0m-5-5h0m-1 0h0m-2 3h0m0-2h0m-3 3h0m-1 0h0m-1-2h0m0 2h0m-5 0h0m-2 0h0m-2-3h0m-1 3h0m0-1h0m-1-3h0m-3 2h0m-4 0h0m0-1h0m-3 3h0m-4-4h0m-2 0h0m0 4h0m0-1h0m-2-1h0m-6 3h0m-3-1h0m-5 1h0m-4-1h0m-14 7h0m7 0h0m1-2h0m0 0h0m0-1h0m3 2h0m1 1h0m4-5h0m0 4h0m3-3h0m0 0h0m2 1h0m9-1h0m2 2h0m1-3h0m0 2h0m3 3h0m1-2h0m0 1h0m2-4h0m0 4h0m0-5h0m0 2h0m1 1h0m0 0h0m0-2h0m2 4h0m2-1h0m1-3h0m0 2h0m0 0h0m0 2h0m1 1h0m0-6h0m2 4h0m1 0h0m0-4h0m2 1h0m0 3h0m0-1h0m1-1h0m0 3h0m2 1h0m1-2h0m0-2h0m2 3h0m0-1h0m1-1h0m0 1h0m4-2h0m0 3h0m1-1h0m0 0h0m1 0h0m0 2h0m0-4h0m2 3h0m1 0h0m1 0h0m1-2h0m0 0h0m0 0h0m2 2h0m1 0h0m2 0h0m1-4h0m2 0h0m0 3h0m3-4h0m0 5h0m1-1h0m0-1h0m1 1h0m0-3h0m0 3h0m6-2h0m2-1h0m1 3h0m2-1h0m0 1h0m1 2h0m0-1h0m1-4h0m1-1h0m0 5h0m1-2h0m2-2h0m0 3h0m0 2h0m0 0h0m0-3h0m0 3h0m1-4h0m0 1h0m2 2h0m0-2h0m1 2h0m4-2h0m1-3h0m2 2h0m12 2h0m1 0h0m0-3h0m1 3h0m1-3h0m1 3h0m2-1h0m1-1h0m1 4h0m0-3h0m2-3h0m1 5h0m0 1h0m1-3h0m0-1h0m0 3h0m0 1h0m0-4h0m1-1h0m2 1h0m1-1h0m1 4h0m12 4h0m-1-3h0m0 1h0m-2 1h0m-1 3h0m-5 0h0m0 1h0m-1-4h0m-2 4h0m-1-3h0m-2 3h0m-1-2h0m-1-3h0m-1 0h0m-3 2h0m0 2h0m-4-4h0m-2 0h0m-1 4h0m-2-1h0m-2 0h0m0-2h0m-1-1h0m-1 3h0m-1 1h0m-1-2h0m0 0h0m-2 2h0m-12-4h0m-1 0h0m-2 0h0m-1 5h0m-3-6h0m0 3h0m-1-1h0m-2 2h0m0 1h0m-1 0h0m-1-2h0m-1 0h0m-1-2h0m0 0h0m-1 3h0m-3-1h0m-1 1h0m-1-2h0m-5 3h0m-1 0h0m0-2h0m-1 3h0m-1-5h0m-1 2h0m0 2h0m-1-4h0m-1 1h0m-1 2h0m-2-2h0m0 3h0m0-4h0m-1 4h0m0 1h0m-5 0h0m0-1h0m-5-4h0m-1 1h0m-3 0h0m-1 3h0m0-1h0m-2-3h0m-1 2h0m-2 0h0m-1 2h0m-1 1h0m-1 0h0m-2-4h0m0-2h0m-1 5h0m0-4h0m-2 4h0m-2-3h0m-1 0h0m-3 0h0m-3 3h0m0 0h0m-3-4h0m0 4h0m-1-1h0m0-2h0m-2 4h0m-2-1h0m-4-2h0m-4-2h0m-2 2h0m0-3h0m-3 5h0m-1-2h0m-3-2h0m-8 3h0m-1 1h0m0 5h0m3-2h0m0-1h0m6 4h0m1-4h0m1 2h0m0 1h0m0 1h0m1-1h0m1 0h0m1-3h0m0 0h0m0 0h0m2 2h0m2-2h0m6 4h0m3 0h0m1-4h0m0 4h0m2-4h0m0 5h0m0-1h0m0-4h0m1 5h0m1-2h0m1-2h0m0 2h0m1 0h0m0 1h0m0-5h0m1 4h0m0 2h0m0 0h0m0-5h0m3 2h0m0 0h0m0 3h0m0-4h0m1 2h0m1-1h0m0-1h0m1 4h0m1-2h0m0 2h0m2-1h0m0-4h0m1 1h0m0 2h0m0-1h0m1 3h0m0 0h0m0-3h0m1-1h0m1 2h0m1-1h0m0-2h0m0 3h0m1-2h0m0-2h0m6 1h0m2 1h0m0 3h0m3 0h0m2 1h0m0-2h0m1-4h0m3 1h0m0 3h0m2-3h0m3 1h0m0 1h0m2-3h0m0 1h0m2 5h0m7-5h0m0 4h0m2 0h0m2 0h0m1 0h0m1-1h0m2 1h0m0-1h0m3 1h0m1-5h0m11 5h0m13-1h0m0 2h0m1-5h0m1 3h0m0-1h0m0-1h0m0-1h0m1 0h0m1 1h0m1 1h0m1 0h0m1 3h0m2-2h0m0 2h0m1-5h0m0 1h0m6-1h0m3 5h0m1-5h0m0 3h0m1 1h0m0-4h0m1 0h0m5-1h0m0 5h0m0 0h0m0 0h0m2-4h0m3 1h0m1-1h0m1 1h0m0 2h0m1-2h0m3 1h0m2 2h0m0 2h0m-3 3h0m-2-3h0m0 2h0m0-1h0m0 2h0m-1-1h0m-1-3h0m-1 4h0m-4-1h0m-1-2h0m0 5h0m-1-4h0m-1 3h0m-1 0h0m-1 1h0m-1-1h0m0-2h0m0 2h0m-2 1h0m0-1h0m-2 0h0m-4 1h0m0-1h0m-2 0h0m-1 0h0m-2-5h0m-1 5h0m0 1h0m-4-5h0m-1 0h0m-1-1h0m-1 6h0m0-4h0m0 0h0m-1 0h0m-1 3h0m-1-2h0m-9 0h0m-7 0h0m0 1h0m-3 1h0m-3-1h0m-2 1h0m-1-4h0m0 4h0m-1-4h0m-1 3h0m-1-1h0m-1-3h0m-1 6h0m-1-1h0m-1-2h0m0-1h0m0 0h0m0 1h0m0-1h0m0 2h0m-1 0h0m0-2h0m-1 3h0m-1-1h0m0 0h0m-4-1h0m-1 3h0m-1-1h0m0-3h0m-1-1h0m-3 1h0m0-1h0m-1 1h0m-1-1h0m0 4h0m0 0h0m-1-4h0m0 4h0m0-3h0m0 1h0m-1 3h0m0-2h0m0-1h0m-1 1h0m-1 0h0m0-1h0m-2-3h0m-1 4h0m-1 0h0m0 1h0m-2 1h0m0-5h0m-1 3h0m0-4h0m0 2h0m-1 1h0m0-2h0m-1 3h0m-1-1h0m0-2h0m0 5h0m-1-1h0m0 0h0m-1-4h0m0 2h0m-1 2h0m-1-2h0m-1 1h0m0-4h0m-1 5h0m-3-2h0m-1-2h0m0 0h0m-1 5h0m0-2h0m-1-4h0m-1 5h0m-1 0h0m-1-2h0m0-1h0m0 4h0m-1-4h0m-1 0h0m-1-1h0m-2 2h0m-3 1h0m-1-3h0m-1-1h0m0 4h0m-1-1h0m0 1h0m-1-1h0m0 1h0m-1-1h0m-1 3h0m0-3h0m-1 1h0m0-1h0m-1-2h0m-2 3h0m0 2h0m-1-5h0m0 3h0m0 0h0m-2-1h0m-9-2h0m0 0h0m-2 5h0m-1-2h0m-1 0h0m-1-2h0m-1 4h0m0-4h0m-1 2h0m0-3h0m-1 4h0m-1-5h0m-1 3h0m0 3h0m-1-1h0m0 0h0m0 0h0m0 0h0m-2-3h0m-2 2h0m-1 1h0m0 2h0m1 0h0m3 4h0m1-4h0m0 1h0m0 2h0m1-3h0m0 1h0m1-2h0m0 2h0m0 1h0m0-2h0m0 1h0m2 1h0m0-1h0m1 0h0m2-2h0m4 2h0m1 0h0m0 4h0m1 0h0m0-2h0m0 1h0m1-3h0m0 4h0m0-5h0m2 4h0m5 1h0m2-6h0m4 3h0m1-2h0m0 4h0m0-2h0m1-3h0m1 2h0m0 3h0m0-1h0m0 1h0m0 0h0m0-2h0m2 2h0m0-3h0m0 0h0m0 2h0m0-1h0m1-3h0m1 4h0m0 0h0m1 1h0m1 0h0m0 1h0m4-1h0m2 0h0m1-4h0m1 0h0m1 3h0m1-1h0m0-2h0m1 1h0m0 4h0m1 0h0m2-2h0m0 0h0m0 0h0m1 1h0m3 1h0m0-6h0m0 5h0m2-3h0m2 1h0m1 0h0m0-1h0m3 3h0m0 0h0m2-1h0m0-1h0m1 3h0m1-6h0m0 4h0m0 2h0m0-5h0m2-1h0m1 6h0m0-3h0m0-1h0m0 2h0m1-2h0m0 3h0m2-3h0m0-1h0m0 0h0m0 3h0m1 0h0m0 0h0m1 0h0m1 1h0m1-1h0m0 2h0m0-2h0m1 1h0m0-5h0m1 3h0m0 2h0m0-3h0m1 1h0m1-2h0m1-1h0m0 1h0m1 5h0m2-3h0m0 2h0m0 1h0m1-4h0m0 0h0m0 3h0m1-4h0m0 5h0m1-5h0m0 3h0m0-3h0m1 2h0m2 0h0m2-2h0m3 1h0m1 1h0m2 3h0m2-3h0m2-1h0m4 0h0m3 1h0m1 2h0m0-1h0m1-1h0m1 3h0m0-1h0m0-2h0m1 0h0m4 0h0m1 0h0m2-2h0m1 1h0m1 1h0m2 3h0m1-5h0m0 3h0m4-3h0m2 1h0m0 1h0m0-1h0m1 3h0m0 1h0m1-4h0m0-1h0m0-1h0m1 1h0m0 3h0m0 2h0m0-3h0m1-1h0m1 2h0m0 2h0m1-1h0m0 0h0m1 0h0m1-1h0m0-3h0m1 4h0m1-4h0m2 3h0m0-2h0m1 1h0m0-3h0m4 3h0m1-2h0m3 2h0m3-2h0m1 3h0m1-2h0m1 2h0m0-2h0m5 5h0m0 4h0m-3-4h0m-1 3h0m0-4h0m-1 2h0m0-1h0m-1 2h0m0 0h0m-1-1h0m-1-1h0m-4 4h0m-1 0h0m0-4h0m-1 4h0m-3-5h0m-3 1h0m-1 0h0m-4 2h0m-1-1h0m-1 1h0m0 1h0m0-1h0m-1 0h0m0-3h0m-2 0h0m0 3h0m0 2h0m-2-2h0m-1 0h0m-7-3h0m-3 3h0m0-3h0m-2 1h0m-1 4h0m-3-1h0m-6-2h0m-6-2h0m-5 6h0m-2 0h0m0-1h0m-1-3h0m-2-2h0m0 6h0m0 0h0m0 0h0m-1-4h0m0 3h0m0-1h0m-3-1h0m0-2h0m0 4h0m-1-1h0m-1 0h0m0 2h0m0-4h0m0 3h0m0-1h0m-2-4h0m0 3h0m-1 0h0m0 1h0m0-1h0m-1-1h0m0 1h0m-1-2h0m0 0h0m-1-1h0m0 0h0m0 6h0m-1-3h0m0-2h0m0 5h0m-1-2h0m0-2h0m0-1h0m-1 1h0m-1 3h0m-1-4h0m-1 0h0m0 2h0m-1 2h0m-1 0h0m0-1h0m0-3h0m-1 4h0m0-2h0m0-2h0m-1 4h0m-1-2h0m-3-3h0m0 4h0m-2 0h0m0-3h0m-1 1h0m-1 1h0m-1-2h0m-2-1h0m-1 1h0m-1 1h0m-2 1h0m0 1h0m-3-3h0m-1 2h0m-2-2h0m-3 2h0m0-1h0m-2-1h0m-1 3h0m-3-2h0m0 3h0m-1 0h0m0 0h0m-2-2h0m0 1h0m-1 0h0m-1-2h0m-1 1h0m0 1h0m0-1h0m-1 2h0m0-2h0m-1 1h0m0-4h0m-1 3h0m-1-1h0m0 1h0m0-1h0m-1-2h0m0 3h0m-1 0h0m-2-1h0m0 3h0m-1 0h0m-1-4h0m0 0h0m-2 1h0m-1-2h0m-1 1h0m-1-1h0m-1 6h0m0-5h0m0 4h0m0-3h0m-1 2h0m0 0h0m-1-2h0m0-2h0m-2 2h0m-2 0h0m0 1h0m0 2h0m-1-4h0m0 3h0m-1-3h0m-2 1h0m-1 3h0m-1-2h0m-1-1h0m-1 0h0m-1 2h0m0-1h0m0-2h0m-1 3h0m0 1h0m-1-3h0m0-1h0m0 2h0m0 0h0m-1 2h0m0-2h0m0-1h0m0 2h0m-1-2h0m0-2h0m0 0h0m-1 5h0m-2-5h0m-1 4h0m-1 1h0m0-1h0m0-1h0m-1 2h0m-1-2h0m-1 1h0m-2 1h0m2 3h0m3-1h0m1 5h0m0-5h0m0 3h0m5 0h0m1 1h0m1-4h0m0 0h0m1 1h0m0 3h0m2 1h0m0-1h0m0 0h0m1-2h0m0-2h0m1 2h0m0 0h0m1-2h0m0 0h0m1 4h0m1-2h0m1-2h0m0 1h0m1 3h0m0-5h0m0 0h0m1 2h0m2 3h0m3-5h0m0 3h0m0 1h0m1-1h0m0 0h0m3-2h0m1 2h0m1-3h0m1 5h0m0-5h0m0 2h0m0 4h0m3-3h0m0-1h0m1 4h0m2-5h0m0 0h0m0 4h0m1-2h0m1 0h0m3 3h0m1-6h0m3 2h0m0-2h0m2 1h0m0 4h0m1-1h0m1-3h0m0 4h0m1-2h0m1 3h0m0-3h0m19-1h0m2 1h0m2 3h0m1-3h0m1-3h0m0 2h0m0 0h0m0 3h0m2 0h0m1 1h0m2-4h0m0-1h0m0-1h0m1 2h0m0-2h0m1 5h0m0-5h0m1 2h0m0 3h0m0-3h0m0 2h0m1-3h0m1 0h0m1 3h0m2-4h0m1 0h0m2 1h0m3 4h0m1-3h0m5 1h0m12 1h0m1 1h0m1 0h0m0 1h0m1 0h0m0-5h0m1 2h0m0 1h0m1 2h0m2-5h0m2 4h0m12-1h0m1-3h0m2 1h0m3 2h0m0-3h0m2 1h0m3 1h0m1-2h0m1 0h0m2 1h0m2 1h0m1 0h0m2 0h0m1-2h0m1 0h0m7 3h0m-2 2h0m-1 3h0m-1 0h0m-1 0h0m-1 1h0m-1 2h0m-1-5h0m-2 3h0m-2 2h0m0-1h0m0-4h0m0 4h0m-1-2h0m0 2h0m-1-2h0m0 0h0m0 1h0m0-2h0m-1 3h0m-1 0h0m-4 1h0m-3-1h0m-2-3h0m-2 0h0m0 2h0m0-3h0m-1 2h0m0-3h0m0 3h0m-2-2h0m0 1h0m-8 2h0m-2-2h0m-4 2h0m0-3h0m-1 0h0m-1 2h0m-2 0h0m0-1h0m-1 3h0m-2-5h0m-1 3h0m-2 3h0m-1-6h0m-4 2h0m-3 3h0m-2-1h0m-1-4h0m-1 0h0m0 1h0m0 3h0m-1-3h0m0 4h0m-1-4h0m-3 3h0m-1-3h0m0 2h0m-4-3h0m-1 1h0m-1 0h0m-1 1h0m-4 4h0m-1-6h0m-1 1h0m-1 4h0m-1-1h0m0-1h0m-1-1h0m-1 1h0m0 1h0m-1 0h0m0-1h0m-1-2h0m0 0h0m-1 5h0m-3-2h0m-3-1h0m-2 3h0m-1-1h0m-4 1h0m-1-4h0m-5 3h0m0-2h0m-1 1h0m-2 0h0m-1 1h0m0-1h0m-1-1h0m0-1h0m-1 2h0m0-4h0m0 1h0m-1 2h0m0 1h0m0 1h0m0-3h0m-2 1h0m-1 2h0m-2-5h0m-1 2h0m0 1h0m0-1h0m0 0h0m-2 0h0m-3 0h0m0 3h0m0 0h0m-4 0h0m0 1h0m-2-5h0m-6 4h0m-2-1h0m0 1h0m-4-5h0m-2 3h0m-1 1h0m0 0h0m0-1h0m-2 2h0m-1-4h0m-1 3h0m-1-2h0m-1 3h0m0 1h0m-1-1h0m-1-4h0m-2 1h0m0-1h0m0 3h0m-1-4h0m-2 2h0m-2-1h0m0 1h0m-3 3h0m3 5h0m1-2h0m1 2h0m1 0h0m0 0h0m3 1h0m0-2h0m0 0h0m1-1h0m1 2h0m1-2h0m0-2h0m2 5h0m1 1h0m1-1h0m0-4h0m1 3h0m1 0h0m1-4h0m0 1h0m1 1h0m1 1h0m0 0h0m0 0h0m1 0h0m2 2h0m1 0h0m0-3h0m1 2h0m1-2h0m0 2h0m0-3h0m3 3h0m1 0h0m0-2h0m2-2h0m0 3h0m1-1h0m0 2h0m1-2h0m1 3h0m1 0h0m0-2h0m1 3h0m0-4h0m1 0h0m0 0h0m0 0h0m0 4h0m0 0h0m0-6h0m1 3h0m0 0h0m1 1h0m0 2h0m2-6h0m1 1h0m1 1h0m0 4h0m1-6h0m1 4h0m0 2h0m1-1h0m1-5h0m0 2h0m0-2h0m1 0h0m1 3h0m2 2h0m1-1h0m0-4h0m0 1h0m1 2h0m2 1h0m1 1h0m1-4h0m0 5h0m1-1h0m1-1h0m1 1h0m1-5h0m1 5h0m0-3h0m3 1h0m2 3h0m0 0h0m1-1h0m1 0h0m4-1h0m1-3h0m0 2h0m1 2h0m1-4h0m0 4h0m0-5h0m1 2h0m1 0h0m1 0h0m0 3h0m0-5h0m1 4h0m0-3h0m1 0h0m1 0h0m0 0h0m1 2h0m1-3h0m1 2h0m0 0h0m1 2h0m0 1h0m1-5h0m1 0h0m1 2h0m0 3h0m0-2h0m2-2h0m0 2h0m3 1h0m1 0h0m0 2h0m0-5h0m1 4h0m4-2h0m0 2h0m1-2h0m0 2h0m3-4h0m0 0h0m1 5h0m0-5h0m2 2h0m0 2h0m1 0h0m0 0h0m1-4h0m1 1h0m0 2h0m1-1h0m0-2h0m1 5h0m0-6h0m0 4h0m1 2h0m1-3h0m4 1h0m1 1h0m7-4h0m12 5h0m0-4h0m0-2h0m2 1h0m1 1h0m1 1h0m1 1h0m1-2h0m5 3h0m1-3h0m0 0h0m1 0h0m2 3h0m0-3h0m5 0h0m-17 5h0m-1 0h0m-1 5h0m0-3h0m-2 2h0m0-3h0m-2 0h0m0 0h0m-1 0h0m-1-1h0m0 1h0m-1-1h0m-13 2h0m-2 1h0m-3 0h0m-3-1h0m0 2h0m-1-3h0m-2-2h0m0 1h0m-2 4h0m-1 0h0m-4-4h0m0-1h0m-7 1h0m-6 4h0m-1 0h0m0-4h0m0 1h0m-1 1h0m0 2h0m-2 0h0m0-3h0m-2-1h0m-1 3h0m0 1h0m0-4h0m0 1h0m-1 2h0m-1-2h0m0 2h0m-1-1h0m0-1h0m-1 1h0m-4 3h0m0-5h0m0 0h0m-2-1h0m-1 1h0m0 4h0m-2 0h0m-1-4h0m0 3h0m0-3h0m-1 1h0m0 0h0m0 4h0m0-5h0m0-1h0m-1 2h0m0 1h0m0 2h0m-2-3h0m0 4h0m-1-4h0m-2 4h0m-1-6h0m0 3h0m-1-3h0m0 4h0m0-2h0m0-2h0m0 3h0m0 1h0m0-1h0m-1-1h0m-1-1h0m-1 4h0m-2-4h0m-3 3h0m-1-3h0m-1 2h0m-1 3h0m0-5h0m0 2h0m-2 1h0m0 0h0m-1-3h0m-1 2h0m-1-1h0m0 1h0m-1-1h0m0 3h0m-2 1h0m0-3h0m-1 1h0m-2-2h0m0 2h0m-3 0h0m-1-1h0m0 2h0m-1-5h0m-1 3h0m0-1h0m-3 1h0m0 1h0m0 1h0m-1 0h0m-1-3h0m-4 1h0m-1 0h0m0 1h0m-1 0h0m-1 0h0m-1 0h0m-1 1h0m-2-3h0m0 1h0m0 0h0m0-1h0m-1 3h0m0-2h0m-1 1h0m-1-1h0m0-2h0m-1 2h0m0 3h0m-1-4h0m0 3h0m-1-3h0m0-1h0m-3 0h0m-1 3h0m2 2h0m1 1h0m1 1h0m0 1h0m0-3h0m1 1h0m0 2h0m7 1h0m1 2h0m0-5h0m4 1h0m6 0h0m1 0h0m2 3h0m1-4h0m0 5h0m2-3h0m0-2h0m1 3h0m2-2h0m0-1h0m3 2h0m0 2h0m1 1h0m1-1h0m1-1h0m0-4h0m0 3h0m2 0h0m3 0h0m0 1h0m0 0h0m2 1h0m1-3h0m0 2h0m0-2h0m1 2h0m6 1h0m0 1h0m5-1h0m1-3h0m1-1h0m0 0h0m0 0h0m1 0h0m0 4h0m0-2h0m1-2h0m1 5h0m0-6h0m0 0h0m0 3h0m1-1h0m1-2h0m1 0h0m0 3h0m0 3h0m0-4h0m0 1h0m0 1h0m1-3h0m2 1h0m0 1h0m2 2h0m1 1h0m0-5h0m0 5h0m2-2h0m0-4h0m1 2h0m1 1h0m1-2h0m0 0h0m1 4h0m0-1h0m1-1h0m0-2h0m1 3h0m0-2h0m2 3h0m7 1h0m7-1h0m1 1h0m1-3h0m1-1h0m0 4h0m1-6h0m3 0h0m3 5h0m0-2h0m1-1h0m5-1h0m0 3h0m0 1h0m0 1h0m0-3h0m1 2h0m0-4h0m4 4h0m0 0h0m8-1h0m0-3h0m3 2h0m2-1h0m5 2h0m1-3h0m5 0h0m-25 9h0m-2-2h0m-2-1h0m-1 3h0m0-3h0m0 1h0m-1-1h0m0 5h0m-3-3h0m-2-1h0m0 0h0m-2-2h0m-3 3h0m-5-2h0m-3 3h0m-2-4h0m0 4h0m0 0h0m-1 1h0m-1-5h0m-2 6h0m-13-5h0m-3 1h0m-1 1h0m-4 0h0m-1 1h0m-1 1h0m0 0h0m-1-3h0m0 4h0m-1 0h0m-1-6h0m-4 5h0m-2-5h0m-4 4h0m-3-3h0m-4 1h0m-2 3h0m-4-3h0m0 0h0m-5 0h0m-5-2h0m-9 2h0m0-2h0m-1 0h0m-2 2h0m20 7h0m1-1h0m1-2h0m2 2h0m10 0h0m0 2h0m6-2h0m2 0h0m0-2h0m0 1h0m1 2h0m1 2h0m0-1h0m1-1h0m1 0h0m1-1h0m3-1h0m12 5h0m4-5h0m3 3h0m2-3h0m3 5h0m6 0h0m0-2h0m3-2h0m7-2h0m3 6h0m5-2h0m3 1h0m-2 4h0m-2-2h0m-14 1h0m-4-1h0m-5 5h0m-2-3h0m-1 2h0m0-3h0m-1 2h0m-2 0h0m-1 0h0m0-3h0m-1 5h0m-2-3h0m0 2h0m-12 0h0m-7-4h0m-1 4h0m-4 1h0m0-2h0m-4 1h0m-3-2h0m0 0h0m-3 1h0m18 4h0m5 1h0m1 1h0m14-1h0m0 1h0m5-3h0" stroke="#ee6b6b" stroke-width="3.5" stroke-linecap="round" fill="none"/>
<path d="M302 1109h0m3-1h0m25 2h0m32-1h0m9 1h0m2-1h0m9-2h0m2 3h0m4-3h0m1 2h0m1-1h0m1 1h0m4 0h0m2-1h0m4 3h0m-6 3h0m-4 1h0m-1-3h0m0 0h0m0 0h0m0-1h0m-1 4h0m0-2h0m-1-3h0m-1 1h0m-1 3h0m-5 0h0m0-2h0m0 2h0m-2-4h0m-1 5h0m-3 0h0m0-1h0m-3-1h0m0 1h0m-1-1h0m0-2h0m0 5h0m0-1h0m-1-2h0m-1 3h0m-1-1h0m-2-2h0m0 3h0m-3-1h0m0 0h0m0-2h0m-1 1h0m-2 0h0m0-1h0m-1-2h0m0 0h0m-1 1h0m0 1h0m-3-2h0m0-1h0m-2 2h0m0 1h0m-1 0h0m-28 1h0m-4-3h0m-3-1h0m-3 3h0m-6 0h0m0-2h0m-9 5h0m2 1h0m5 0h0m1 3h0m2-1h0m2 1h0m0 1h0m0-4h0m0 0h0m0-1h0m1 5h0m1-3h0m1-1h0m8 5h0m0-3h0m2-1h0m5 1h0m6 0h0m1 2h0m0 0h0m5-4h0m1 3h0m2-3h0m0 3h0m0-3h0m1-1h0m1 2h0m2-1h0m1 1h0m1 1h0m0 0h0m2-2h0m4 4h0m0 0h0m2-1h0m0-1h0m2 3h0m0-1h0m0 1h0m1-4h0m1 4h0m0 0h0m1-2h0m0 2h0m0-4h0m0 4h0m1-3h0m0 2h0m1-3h0m0 3h0m0-5h0m0 1h0m2 4h0m1 1h0m0-5h0m1 0h0m1 5h0m1-3h0m1-2h0m0-1h0m2 3h0m3 1h0m1-4h0m0 2h0m2-1h0m0 2h0m1 1h0m1 2h0m0 0h0m1-6h0m8 3h0m1 0h0m1-1h0m0-1h0m5 3h0m-7 6h0m0 2h0m-1-3h0m0-2h0m0 0h0m-1 1h0m0 3h0m0 0h0m-3-5h0m0 0h0m-1 6h0m-3-3h0m-1 3h0m0-4h0m-2 3h0m0-2h0m-1-2h0m-2 4h0m-7-5h0m-1 1h0m-4 2h0m-2 0h0m0-3h0m0 1h0m-1 0h0m0 3h0m-1-2h0m0 1h0m0-1h0m-1 1h0m0-2h0m-2 1h0m-1 1h0m0 1h0m-1-3h0m-2 5h0m0-3h0m-1-2h0m-2 2h0m0 0h0m-2 2h0m-6-5h0m0 4h0m-1-4h0m0 1h0m-1 5h0m-1-4h0m0 2h0m-2 0h0m-1-2h0m-3 2h0m-13-4h0m-2 0h0m-1 4h0m-1 1h0m-3 1h0m0-2h0m0-1h0m-1 0h0m-1 2h0m0 1h0m0-1h0m-2-3h0m-1 3h0m-2-4h0m-1 4h0m-1-5h0m5 12h0m0-5h0m1 0h0m0 5h0m1-2h0m2-4h0m0 2h0m1 1h0m1-3h0m21 4h0m6-3h0m1 5h0m3-2h0m1 0h0m0 1h0m2-4h0m1 3h0m1-2h0m0-1h0m0 3h0m2 1h0m2-4h0m1-1h0m0 4h0m3-3h0m2 0h0m9 0h0m3-1h0m1 1h0m2 1h0m1 1h0m1-3h0m0 4h0m1-3h0m1 0h0m1 0h0m0-1h0m1 4h0m0-2h0m0 1h0m1 0h0m0 0h0m0 1h0m1 1h0m2-1h0m1-1h0m1-1h0m1 1h0m0 2h0m1 0h0m1 4h0m-1 0h0m-3-1h0m-3 2h0m-2 1h0m-1-4h0m-1 2h0m-2 0h0m0-2h0m-1 4h0m0-3h0m-1 0h0m0 2h0m0-1h0m-2-2h0m0 3h0m0-2h0m-1 2h0m-1-4h0m-1 2h0m-2 3h0m-1-5h0m-1 2h0m-2 2h0m0-3h0m-1 1h0m-1 0h0m-1 1h0m-2 1h0m0-2h0m-1 1h0m0-1h0m-1-2h0m0 2h0m-1-1h0m-2 5h0m-1-4h0m-2-2h0m-2 1h0m0 2h0m0 1h0m-2 1h0m-2 0h0m-1-3h0m0 3h0m-1-4h0m0 2h0m-2 2h0m0-2h0m0 1h0m-1-1h0m-3 0h0m-3 3h0m-4-1h0m-10-3h0m-1 2h0m-3-3h0m-2 3h0m3 4h0m11 0h0m0 4h0m2-4h0m1 0h0m0-1h0m0 3h0m2-3h0m1 5h0m2-4h0m2-1h0m2 3h0m0-3h0m0 1h0m1-1h0m1 1h0m2-1h0m1 0h0m0 0h0m2-1h0m0 3h0m1 0h0m0-1h0m1 4h0m1-3h0m0 2h0m1 1h0m1-5h0m2 0h0m0 4h0m1-5h0m1 2h0m3 2h0m1 0h0m1-3h0m1 1h0m0-1h0m1 5h0m1-4h0m2 4h0m0-2h0m1 0h0m0-2h0m0 2h0m0-1h0m1-3h0m1 4h0m0-3h0m0 1h0m1-2h0m0 6h0m2-3h0m0 3h0m3-5h0m3 1h0m0 2h0m0-3h0m2 5h0m1-1h0m0-1h0m0 2h0m1-2h0m1 2h0m0-1h0m1-2h0m0-1h0m0-1h0m5 5h0m0 0h0m3-3h0m2 3h0m0-1h0m0 0h0m1 0h0m3 0h0m0 1h0m-1 3h0m-3 1h0m-1 0h0m-1 1h0m-2 0h0m-1 1h0m0-4h0m-4 0h0m0 4h0m-1-3h0m-1 3h0m-2-4h0m-2 2h0m-2-3h0m-2 1h0m-1 0h0m-3 0h0m-1-2h0m0 3h0m0-1h0m-2 3h0m0-1h0m0-2h0m0 0h0m0-1h0m-1 0h0m0 0h0m-2 1h0m0 3h0m-1-3h0m0-1h0m-1 2h0m0 0h0m0-1h0m-1 1h0m-4-1h0m-3 4h0m-2-6h0m-3 0h0m0 5h0m0-4h0m-3 0h0m-6-1h0m-1 4h0m-2 1h0m0-2h0m-1 0h0m-2 0h0m-3 2h0m-2 1h0m0-1h0m-1-1h0m0 0h0m-35 7h0m4-1h0m30-4h0m2 5h0m0 0h0m1-4h0m1-1h0m0 4h0m1-1h0m1 3h0m2-2h0m4-1h0m4-3h0m1 4h0m2 2h0m1 0h0m1-4h0m1-1h0m2 1h0m0-2h0m1 3h0m3 1h0m0-3h0m0-1h0m1 3h0m0 2h0m1-5h0m2 4h0m0-4h0m0 2h0m1 0h0m5 2h0m3-4h0m9 1h0m1 4h0m0 0h0m0-1h0m2 1h0m1-1h0m1-2h0m1 0h0m1 0h0m0 1h0m0-2h0m0 4h0m0 1h0m1-1h0m2-2h0m0-1h0m0 3h0m0 0h0m1-1h0m1-1h0m6-3h0m0 4h0m1 0h0m0-2h0m-5 7h0m-1-3h0m-1 5h0m-1 0h0m-1-3h0m-2 0h0m0 2h0m0-2h0m-1 1h0m0 1h0m-2-2h0m0-2h0m-1 0h0m-2 3h0m-1-2h0m-1 4h0m0 0h0m-1-2h0m0 0h0m-1 2h0m-3-5h0m-6 2h0m-4 0h0m-1 0h0m-1 3h0m0 0h0m-1-5h0m-1 2h0m0-2h0m-2 4h0m0 1h0m0-3h0m0-1h0m-3 0h0m-6 4h0m-1 0h0m-2-3h0m-2 2h0m-2-2h0m0-1h0m-1 0h0m-1 2h0m0-1h0m0 1h0m0 2h0m0-1h0m-1-3h0m0 1h0m0 1h0m-1 0h0m-2 0h0m0 1h0m0-1h0m0 0h0m-1 2h0m-1 0h0m-1-4h0m0 4h0m-1-2h0m0 1h0m0-3h0m-2 3h0m-4-3h0m-1 2h0m0-2h0m-1 2h0m0 2h0m-8-2h0m-4 3h0m-2-1h0m-4-1h0m-7 0h0m-13 0h0m0 2h0m-3-2h0m0 2h0m0-3h0m1 8h0m3-3h0m0-1h0m2 1h0m0-1h0m2 2h0m13 0h0m0-3h0m2 4h0m1-2h0m6-2h0m10 5h0m2 0h0m4-1h0m0-2h0m4-1h0m3 3h0m1-1h0m0-1h0m0 1h0m0-2h0m0 3h0m1-2h0m0-1h0m1 2h0m1 0h0m0 1h0m0 1h0m1 1h0m0-5h0m0 5h0m1-5h0m0 3h0m1 1h0m0-3h0m0 0h0m0 2h0m1-2h0m1 3h0m0-5h0m1 2h0m0 0h0m0 4h0m1-3h0m0-2h0m1 2h0m1 2h0m0-5h0m1 3h0m0-2h0m1 4h0m1-1h0m1-3h0m1 0h0m0 0h0m1 0h0m1 3h0m2-2h0m0 1h0m3-2h0m0 5h0m0-2h0m1-1h0m0-3h0m0 5h0m2 0h0m4-1h0m3-2h0m2-1h0m0 4h0m2-4h0m1 1h0m2-1h0m0 2h0m1 1h0m0-4h0m0 1h0m1 0h0m3 1h0m1 2h0m1 1h0m1-1h0m1-2h0m1 3h0m0 0h0m0-4h0m1 3h0m0 1h0m1-4h0m0 2h0m0 1h0m1 2h0m0-6h0m5 0h0m1 1h0m-8 10h0m0-1h0m-2-4h0m0 4h0m-1-1h0m-1-2h0m0 2h0m0-1h0m-1 0h0m0-1h0m0-1h0m-2 1h0m-2 4h0m-1-1h0m-2 2h0m0-6h0m-1 4h0m0-1h0m0 2h0m-1-1h0m0-1h0m0 3h0m-3 0h0m-5-5h0m-1 4h0m0-1h0m-1 2h0m-2-2h0m-2-1h0m0-3h0m0 5h0m-1-1h0m0 1h0m-1 1h0m-1 0h0m-1-1h0m-1-1h0m0 1h0m-1 1h0m0-3h0m0 0h0m-1 1h0m0 0h0m-1 1h0m0-1h0m-1 2h0m-1-2h0m0 0h0m-1 0h0m-1 0h0m-3-3h0m-1 2h0m0 0h0m0-1h0m0-2h0m-1 2h0m-1 0h0m-1 2h0m0 0h0m0-2h0m-2 4h0m-1 0h0m0-4h0m-1 1h0m-2-1h0m-1 2h0m-2 1h0m-3-2h0m-5 3h0m-2 2h0m1 0h0m0 0h0m0-1h0m1 3h0m0-3h0m1 0h0m2 1h0m0 4h0m2-3h0m4 1h0m5 2h0m1-5h0m1 1h0m0-2h0m2 1h0m0 0h0m2 5h0m3-2h0m0 2h0m0 0h0m1-2h0m0-1h0m1 2h0m0-5h0m0 2h0m0 1h0m1 1h0m0-3h0m0 4h0m0-1h0m1 1h0m0 0h0m0 0h0m0-4h0m1 1h0m0 3h0m0-2h0m0 2h0m1-1h0m0-3h0m0 0h0m1 4h0m0-4h0m0 1h0m1 1h0m1 0h0m0-1h0m0-2h0m0 1h0m1 3h0m1-2h0m2-2h0m0 2h0m0 2h0m0-3h0m0 1h0m2-1h0m2 2h0m1-2h0m1 0h0m1 0h0m2 4h0m3-3h0m3 4h0m0-4h0m0 2h0m3-3h0m0 1h0m1 3h0m0-4h0m1 0h0m0 1h0m1-1h0m0 0h0m3 2h0m-18 4h0m-2 3h0m-2 2h0m-1-5h0m0 4h0m-2-4h0m0 1h0m-1 0h0m0-1h0m-1 5h0m-2-6h0m-2 4h0m-1-3h0m-1 0h0m-2 2h0m-1 1h0m-1 1h0m-1 1h0m0-2h0m-1 1h0m-5-1h0m-4-1h0m-5-1h0m-1 0h0m-1 2h0m0-2h0m-3-1h0m0 3h0m0 0h0m-1-4h0m-4 2h0m3 7h0m2-3h0m1 1h0m1 0h0m7 0h0m1 1h0m0 0h0m1 2h0m0-2h0m1-1h0m3 4h0m0-2h0m4 0h0m1-2h0m0-1h0m3 0h0m7 1h0m1 2h0m3-1h0m1-1h0m-19 6h0" stroke="#4dbf4d" stroke-width="3.5" stroke-linecap="round" fill="none"/>
<path d="M296 1133h0m1 0h0m1-1h0m1 1h0m0 0h0m2-1h0m0 1h0m1 1h0m3-1h0m1 0h0m8 6h0m-1 1h0m-1-3h0m-1 2h0m0-1h0m-1 0h0m0 1h0m-2-4h0m-1 3h0m-1 1h0m0-1h0m0-4h0m-1 5h0m0-2h0m-1-1h0m-1 0h0m0 2h0m0-3h0m0 3h0m-1-2h0m0 0h0m0 0h0m-1 1h0m0-1h0m-1 1h0m0 0h0m0-1h0m-1 1h0m-1 2h0m0-1h0m0 1h0m0-4h0m-1 4h0m0-1h0m0-2h0m-1 3h0m0 0h0m0-3h0m0 2h0m-1 0h0m0-2h0m-1 3h0m-1 1h0m0-5h0m0 5h0m-1 0h0m-1-1h0m1 3h0m1-2h0m0 2h0m1 0h0m0 0h0m0 1h0m1 0h0m0-2h0m1 2h0m0-3h0m0 5h0m1-1h0m0-2h0m0 0h0m2 2h0m2-3h0m0 0h0m0 3h0m0 0h0m1 2h0m0-4h0m0-2h0m1 3h0m0-1h0m1-1h0m0 5h0m0-4h0m0 1h0m0-3h0m1 1h0m0 2h0m1 1h0m0-4h0m1 2h0m0 0h0m1-1h0m1 1h0m1-2h0m0 1h0m0 0h0m0 4h0m0 1h0m1-1h0m0-4h0m1 0h0m1 0h0m0 2h0m1-2h0m0 0h0m1 0h0m1 1h0m1-1h0m-6 6h0m-4 0h0m0 4h0m0-2h0m-1-2h0m-1 2h0m-1-1h0m0-1h0m-1 1h0m0 0h0m-1 1h0m-1 1h0m0-1h0m-1-2h0m-2-1h0m0 5h0m-1 0h0m0 0h0m0-2h0m-1 2h0m0 0h0m-2-4h0m0-1h0m-1 5h0m-2-5h0m-1 12h0m2-3h0m3 0h0m2-3h0m1 0h0m0 0h0m0 3h0m0 1h0m1-3h0m0 4h0m1-1h0m1-1h0m0 1h0m1-2h0m2 7h0m-2 2h0m-1-1h0m-1 0h0m0-1h0m-6 0h0m4 3h0" stroke="#41a9e0" stroke-width="3.5" stroke-linecap="round" fill="none"/>
<path d="M466 1151h0m-4-3h0m-8 4h0m-4-2h0m-19 2h0m-12 5h0m2 0h0m6-2h0m0 2h0m5-3h0m2 0h0m0-1h0m0 0h0m2 0h0m1 5h0m2-2h0m18-4h0m0 5h0m5-4h0m0 0h0m4 7h0m-1 3h0m-4 0h0m0 1h0m-2-2h0m-20-2h0m-2 0h0m-1 0h0m-1 2h0m-2-3h0m-12 0h0m-4 2h0m-9 3h0m-1-2h0m0-1h0m-4-2h0m12 7h0m1-1h0m2 0h0m1 3h0m4-3h0m2 3h0m1-2h0m1 2h0m1 1h0m19-1h0m2 2h0m8-4h0m4 2h0m2-1h0m2 2h0m8-2h0m-7 4h0m-3-1h0m-8 1h0m-10 2h0m-3 1h0m-4 0h0m-5-1h0m-3 2h0m-3-4h0m-1 3h0m-2 1h0m0 0h0m-8-3h0m-3 0h0m-4 0h0m-1-2h0m11 10h0m5 0h0m0-1h0m1 3h0m3-1h0m0-2h0m2-1h0m0 1h0m1-2h0m1-1h0m0 0h0m1 3h0m1-3h0m1 3h0m20-2h0m5 1h0m-42 5h0m-99 75h0m-16 2h0m-1 6h0m6-6h0m8 5h0m0 0h0m3-2h0m6-1h0m167-2h0m1 6h0m0 0h0m4-3h0m-3 8h0m-1 0h0m-3-3h0m-3-2h0m-167 0h0m0 5h0m-2-1h0m-1-4h0m-5 4h0m-4 1h0m-5 7h0m17-2h0m172-3h0m-5 10h0m-1-2h0m-4-3h0m-159 2h0m-9 1h0m-2-2h0m6 6h0" stroke="#6d96e0" stroke-width="3.5" stroke-linecap="round" fill="none"/>
<path d="M475 1168h0m2 1h0m4-3h0m4 2h0m3 1h0m1 0h0m6 2h0m-4 3h0m-1-3h0m-3 1h0m-1-1h0m-2 4h0m0-1h0m-2-1h0m-1-2h0m-1 3h0m-1-1h0m-1 2h0m-1 0h0m-1-1h0m0 1h0m-1 5h0m9 1h0m2-2h0m3-3h0m-126 45h0m-3 0h0m8 4h0m1 4h0m8 6h0m-6-2h0m-11 7h0m3 0h0m0-1h0m2 0h0m3 2h0m2-2h0m0-1h0m5 4h0m-9 1h0" stroke="#a884dc" stroke-width="3.5" stroke-linecap="round" fill="none"/>
<path d="M195 1188h0m-2 0h0m0-1h0m0-1h0m-2 1h0m-6 6h0m1-1h0m0 1h0m0-2h0m1 1h0m0 1h0m0-2h0m1 2h0m1 0h0m1 1h0m3-1h0m1-4h0m0 2h0m0 0h0m1-2h0m1 4h0m0 0h0m0 0h0m1 1h0m0-5h0m1 5h0m0 0h0m0-1h0m1 0h0m2 4h0m0 1h0m0-1h0m0-2h0m-2-1h0m0 2h0m0 4h0m-1-6h0m0 2h0m0-1h0m-1 4h0m0 0h0m0-3h0m0 2h0m-1-3h0m0-1h0m-1 3h0m-4 2h0m0-1h0m-1 1h0m0-3h0m0 4h0m0-1h0m0-4h0m-1 0h0m-2 2h0m0 2h0m0-3h0m0 3h0m-1 0h0m2 4h0m1 1h0m1-1h0m0-2h0m3 1h0m0-2h0m3 4h0m0-2h0m0-1h0m1 0h0m1-1h0m0 2h0m0 1h0m0-2h0m1-1h0m0 1h0m1-1h0m0 4h0m2-2h0m0-2h0m-6 6h0m-1 1h0m-2 0h0m0 0h0m-1 1h0m0-1h0m-1 0h0m-1 3h0m0-1h0m-1-2h0m0 1h0m31 12h0m-7 1h0m-6-1h0m-1 3h0m3 5h0m3-2h0m2 0h0m3 1h0m4 1h0m-7 6h0m-5 0h0m-3-3h0" stroke="#c46ccf" stroke-width="3.5" stroke-linecap="round" fill="none"/>
<path d="M305 1103h0m-4-1h0m0-1h0m0 2h0m-1 0h0m0-5h0m0 1h0m0 1h0m-2 2h0m0 2h0m-1 0h0m-1 2h0m1-1h0m0 0h0m0 1h0m0-2h0m1 2h0m3 0h0m1 0h0m0-2h0m0 1h0m2 0h0m76 3h0m1-1h0m117 8h0m-108-4h0m-4 2h0m-2 1h0m-1 2h0m106 5h0m6 0h0m8 1h0m0-3h0m2 2h0m-1 3h0m-2 0h0" stroke="#e868b8" stroke-width="3.5" stroke-linecap="round" fill="none"/>
<path d="M168.5 1084.9V1400.4H535" stroke="#000" stroke-width="1.7" fill="none"/>
<path d="M163 1153.8L168.5 1153.8" stroke="#000" stroke-width="1.7" fill="none" />
<text x="158" y="1162.3" font-size="24" text-anchor="end">3</text>
<path d="M163 1233.2L168.5 1233.2" stroke="#000" stroke-width="1.7" fill="none" />
<text x="158" y="1241.7" font-size="24" text-anchor="end">0</text>
<path d="M163 1313.2L168.5 1313.2" stroke="#000" stroke-width="1.7" fill="none" />
<text x="158" y="1321.7" font-size="24" text-anchor="end">-3</text>
<path d="M163 1393.2L168.5 1393.2" stroke="#000" stroke-width="1.7" fill="none" />
<text x="158" y="1401.7" font-size="24" text-anchor="end">-6</text>
<path d="M179.3 1400.4L179.3 1406" stroke="#000" stroke-width="1.7" fill="none" />
<text x="179.3" y="1431" font-size="24" text-anchor="middle">-6</text>
<path d="M275.1 1400.4L275.1 1406" stroke="#000" stroke-width="1.7" fill="none" />
<text x="275.1" y="1431" font-size="24" text-anchor="middle">-3</text>
<path d="M371.5 1400.4L371.5 1406" stroke="#000" stroke-width="1.7" fill="none" />
<text x="371.5" y="1431" font-size="24" text-anchor="middle">0</text>
<path d="M468 1400.4L468 1406" stroke="#000" stroke-width="1.7" fill="none" />
<text x="468" y="1431" font-size="24" text-anchor="middle">3</text>
<text x="340.6" y="1454.8" font-size="25" text-anchor="middle">UMAP_1</text>
<text font-size="25" text-anchor="middle" transform="translate(128.5 1233.5) rotate(-90)">UMAP_2</text>
<text x="308.3" y="1108" font-size="23" text-anchor="middle">TC11</text>
<text x="309.9" y="1147.3" font-size="23" text-anchor="middle">TC7</text>
<text x="369.3" y="1157" font-size="23" text-anchor="middle">TC4</text>
<text x="465.5" y="1147.2" font-size="23" text-anchor="middle">TC2</text>
<text x="428.5" y="1181.4" font-size="23" text-anchor="middle">TC8</text>
<text x="207.1" y="1200.4" font-size="23" text-anchor="middle">TC10</text>
<text x="373.1" y="1229.8" font-size="23" text-anchor="middle">TC9</text>
<text x="438" y="1243" font-size="23" text-anchor="middle">TC0_</text>
<text x="346.9" y="1303.1" font-size="23" text-anchor="middle">TC5</text>
<text x="237.2" y="1351.2" font-size="23" text-anchor="middle">TC6</text>
<text x="463.9" y="1354.4" font-size="23" text-anchor="middle">TC3</text>
<text x="295.7" y="1235.8" font-size="22.5" text-anchor="middle" font-weight="bold" letter-spacing="1.4" stroke="#111" stroke-width="0.5">TC1_Treg</text>
<text x="602" y="1025" font-size="27" font-weight="bold">d</text>
<text x="853.8" y="1055.6" font-size="35.7" text-anchor="middle">Macrophages</text>
<path d="M722 1229h0m7-3h0m2 4h0m15 0h0m2-1h0m2-1h0m3-1h0m1 1h0m2 1h0m3-3h0m7 4h0m-2 0h0m-3 2h0m-1 2h0m-3 1h0m-5 0h0m-4-4h0m-3 5h0m-6-3h0m-3 0h0m-6 0h0m-2 3h0m-1-5h0m0 3h0m-1-1h0m-1 2h0m-1-2h0m-1 3h0m-5 4h0m1 0h0m1-1h0m2-1h0m5 2h0m0-4h0m0 1h0m2 1h0m1 0h0m3 1h0m1 3h0m0-6h0m1 4h0m0 0h0m6-3h0m3 2h0m2 3h0m7 0h0m1-3h0m1 2h0m0 0h0m6-4h0m0 0h0m2 4h0m0 1h0m8-2h0m24 8h0m-4-3h0m-4-2h0m-2 4h0m-6-2h0m-11-1h0m-2 0h0m-5 2h0m-3-4h0m-1 1h0m-3 1h0m-1 1h0m-4 1h0m-5-4h0m-2 5h0m-5 0h0m-2-3h0m-2-1h0m-1 1h0m-4-1h0m-3 1h0m-1 3h0m-6-3h0m-1 6h0m1 3h0m3 1h0m1-1h0m0-5h0m4 5h0m5-1h0m1 2h0m2-5h0m1 2h0m4-3h0m1 6h0m0-5h0m0 1h0m6 1h0m2-3h0m2 0h0m0 1h0m2 0h0m8 4h0m1 0h0m2-3h0m2 4h0m3-3h0m0 1h0m0-2h0m1 0h0m2 2h0m0-1h0m3-2h0m5 4h0m4 1h0m10-2h0m2-3h0m4 11h0m-5-3h0m-6 2h0m-2 0h0m-6-2h0m-8-2h0m-2-1h0m-1 3h0m-2 1h0m-1-3h0m-1 1h0m-1-2h0m-10 3h0m0-1h0m-2 1h0m-1 0h0m-3-2h0m0 1h0m-2 2h0m0-2h0m0 2h0m-4 1h0m0-4h0m-1 4h0m-2 1h0m0 0h0m0-1h0m-2 0h0m-2-2h0m-1 0h0m-2 0h0m0 2h0m-1-2h0m-2 1h0m0-4h0m-3 6h0m-3-3h0m-2-2h0m-1 1h0m-2 0h0m-4-2h0m9 8h0m4 3h0m2 0h0m1-4h0m0 4h0m1 1h0m2-4h0m0 1h0m1-1h0m1 2h0m3-1h0m0 2h0m4-4h0m0 0h0m3 2h0m0 2h0m2 0h0m1 1h0m1-2h0m0 0h0m2-1h0m1-1h0m0 1h0m2 0h0m1 1h0m32-3h0m1 2h0m1 0h0m0-1h0m-29 5h0m0 4h0m0-1h0m-3 1h0m-4-4h0m0 5h0m0-1h0m-1-4h0m0-1h0m-1 1h0m-1 1h0m-1-2h0m0 1h0m0 4h0m-2-4h0m-1 3h0m-1-2h0m-1 1h0m-1 0h0m-4-2h0m-2 4h0m-2 0h0m-1-3h0m-3-1h0m-1 0h0m0 3h0m0 0h0m0-1h0m-2 2h0m0-2h0m20 8h0m4-5h0m5 3h0m1-1h0m2 1h0m2-3h0m4 6h0m1-1h0m-2 2h0m-3 1h0m-11 3h0m-4-1h0m-1 2h0m-1-1h0m-1 1h0m0-5h0m-10 4h0m-1 0h0m-1-2h0m-2-1h0m3 6h0m2 0h0m0-2h0m1 0h0m4 4h0m1-3h0m3 5h0m2-5h0m3 4h0m1-4h0m2 5h0m4-1h0m1 0h0m0 1h0m1-5h0m0 0h0m2 4h0m1 0h0m2 0h0m1-3h0m0 3h0m1 0h0m1 3h0m-5 3h0m0-4h0m-1 0h0m-2 4h0m0-3h0m0 1h0m-1 2h0m0-1h0m0 1h0m-2 1h0m-1-5h0m-1 2h0m0-1h0m-2-2h0m-1 3h0m0 0h0m-6-2h0m-1 3h0m-2 2h0m-1 0h0m-1-2h0m-10 7h0m4 0h0m4-3h0m1 0h0m3-2h0m0 1h0m3 4h0m0 0h0m1 0h0m2-2h0m1 0h0m4 0h0m0 1h0m0-2h0m1 2h0m1-1h0m0 2h0m1-3h0m2-2h0m1 1h0m1 0h0m1 4h0m3-3h0m2-1h0m8 1h0m2 8h0m-1 1h0m-1-1h0m-8-1h0m0-3h0m-6 4h0m-3 2h0m0-5h0m-1 2h0m-2 2h0m-1-1h0m-2 2h0m-1-2h0m0-3h0m-1 4h0m0-2h0m-2 2h0m-1-4h0m-1 1h0m-1 1h0m-1 1h0m0 1h0m-1-1h0m-2 1h0m0-1h0m-3 1h0m-4-1h0m-1 0h0m-5-3h0m3 10h0m4-4h0m1 2h0m0-3h0m0 4h0m0-2h0m1-1h0m4-1h0m0 5h0m5-4h0m1 1h0m0-2h0m2 4h0m2-1h0m1 0h0m1-2h0m1 4h0m1-1h0m0-2h0m1 0h0m2 1h0m1 1h0m0 1h0m1-1h0m2-2h0m3 3h0m1-3h0m0-1h0m2-1h0m7 0h0m9 4h0m1-3h0m-4 8h0m-3 1h0m-3-4h0m-1 4h0m-3-4h0m-5 5h0m-14 1h0m-18-3h0m28 5h0m11 2h0m-3 5h0" stroke="#e8706c" stroke-width="3.7" stroke-linecap="round" fill="none"/>
<path d="M829 1132h0m3-3h0m4 1h0m8 4h0m6 0h0m-2 1h0m-2 0h0m-2 1h0m-2 0h0m-2 3h0m-1-3h0m-1 2h0m-4-4h0m-4 5h0m-4 0h0m0 0h0m-1-5h0m-2 4h0m-3-1h0m0 0h0m0 0h0m-1-2h0m-21 11h0m3-2h0m1 0h0m4 1h0m1 0h0m1 0h0m1 1h0m6-1h0m2-2h0m3 1h0m0-1h0m2-1h0m0 2h0m0-2h0m18-1h0m1 2h0m5 1h0m0-3h0m0 1h0m2 2h0m4-4h0m3 1h0m1 2h0m6-2h0m2 3h0m13 7h0m-5 0h0m-2-3h0m-2 2h0m-3-4h0m-4 0h0m-2 2h0m-2 2h0m-2-2h0m0 4h0m-2-1h0m-1-2h0m-3-3h0m-1 5h0m-1-1h0m-2 1h0m-1-2h0m-1-2h0m0 2h0m-2 2h0m-9-2h0m-23-1h0m0 0h0m0 3h0m-1 0h0m0-3h0m-2-1h0m-2 0h0m-1 0h0m-3 4h0m-1 6h0m18 0h0m6-1h0m8-1h0m0 3h0m5-3h0m4-1h0m7 0h0m1 1h0m0-1h0m2 0h0m1-1h0m0 2h0m4-2h0m1 3h0m3 0h0m0 1h0m7-3h0m1 2h0m0 1h0m0 1h0m0-4h0m4-1h0m1 4h0m2-1h0m4-1h0m1 2h0m-1 4h0m-4-2h0m-5 2h0m0-2h0m-1 0h0m-2-1h0m-2 4h0m-1-1h0m-2 2h0m0 0h0m-1 0h0m-1 0h0m0 0h0m-3 1h0m-1-5h0m-1 4h0m0 1h0m0-2h0m-2 1h0m-1-1h0m0-1h0m-1-1h0m0 0h0m-1 0h0m0 0h0m-1 1h0m-11 0h0m-1-2h0m-1 1h0m0-1h0m-1 3h0m-1-2h0m0 2h0m-1 1h0m-1-3h0m0 0h0m0 0h0m0 4h0m-1-5h0m0 0h0m-11 0h0m-1 1h0m-3-2h0m-5 4h0m-4 1h0m-1-2h0m-1 0h0m-5-3h0m-1 5h0m-1-1h0m-2-1h0m-1-1h0m-6 3h0m6 2h0m5 3h0m0-2h0m0-1h0m3 3h0m1-3h0m0 2h0m2 0h0m0-1h0m1-2h0m7 3h0m1 0h0m2 2h0m4 1h0m4-1h0m4-1h0m2-1h0m0 0h0m14 3h0m5-5h0m2 0h0m0 0h0m0 1h0m1-2h0m3 0h0m0 5h0m0-2h0m2 3h0m1-1h0m4-5h0m0 0h0m0 4h0m9-1h0m2 0h0m1 2h0m0-1h0m1 1h0m2 0h0m4-2h0m-1 6h0m-2-1h0m-1-2h0m-1 1h0m-8 0h0m-8 1h0m-1-1h0m0 1h0m0 1h0m0 2h0m-1-1h0m-1 0h0m-2 1h0m0-2h0m0 2h0m0 1h0m0-2h0m-1 1h0m-1-4h0m0 2h0m0-1h0m-1 1h0m0 1h0m-1 1h0m-1 0h0m0-1h0m0 2h0m-4-4h0m-4 1h0m0-3h0m-4 5h0m-3-1h0m-1 0h0m-7-2h0m-1 1h0m0 0h0m-1 0h0m-3-2h0m-3 3h0m-5-3h0m-4 0h0m-3 1h0m-3 1h0m0-1h0m-1 1h0m0 2h0m-4-2h0m0 0h0m-1 2h0m1 1h0m0 1h0m5 0h0m3 2h0m2-3h0m1 5h0m1 0h0m0-5h0m2 3h0m7-2h0m4 0h0m0 4h0m2-3h0m1 3h0m1-2h0m4-3h0m1 4h0m0-3h0m0 3h0m0 1h0m14 0h0m1-4h0m1 2h0m0-1h0m2 0h0m0-1h0m1 5h0m2-4h0m0 3h0m1-3h0m1 3h0m0-4h0m9 2h0m5-2h0m-14 6h0m-2-1h0m0 4h0m-1-2h0m0 4h0m-2-5h0m-3 1h0m-1 0h0m-7 0h0m-1-2h0m-1 0h0m0 1h0m-2 2h0m-5 2h0m-3 1h0m-1-1h0m-1-1h0m0-1h0m0 1h0m-1-4h0m-1 3h0m0-1h0m-1 1h0m0 0h0m0 3h0m-1-5h0m-3 0h0m0 3h0m-1 0h0m-5-4h0m-7 2h0m-4 4h0m-5-4h0m0-1h0m-5 10h0m1-4h0m1 1h0m0 1h0m1-1h0m3 3h0m1-4h0m0 2h0m1-2h0m2 3h0m3 2h0m1-2h0m0-1h0m2-3h0m1 0h0m4 3h0m2 0h0m1-2h0m12 0h0m2 1h0m-9 6h0m-4 1h0m-3 2h0m-9-5h0m-2 0h0m-2 0h0m0 3h0m-2 0h0m-4-3h0m-2 5h0m-3-3h0m10 5h0m7-1h0m3 0h0m1 2h0" stroke="#cf9a2c" stroke-width="3.7" stroke-linecap="round" fill="none"/>
<path d="M849 1200h0m-3-3h0m-2 2h0m-2-1h0m-1-3h0m0 2h0m-4 2h0m-6 1h0m-2-4h0m-10 8h0m3 0h0m0-2h0m1 4h0m1-4h0m6 1h0m0-3h0m4 4h0m5-2h0m1 1h0m4 0h0m8-1h0m11 4h0m-3 0h0m-4 3h0m-2 2h0m-2-5h0m-9 3h0m-8-1h0m-1 1h0m0 0h0m0 0h0m-1 0h0m-4-1h0m0 3h0m-2-5h0m-2 3h0m-1-3h0m-2 1h0m0 0h0m-3 0h0m-1 3h0m-1-3h0m-6 6h0m3 5h0m0-5h0m0 1h0m1 2h0m2 1h0m1-4h0m3 3h0m0-2h0m6 3h0m0-4h0m0-1h0m1 4h0m0 1h0m0-3h0m2 1h0m1 2h0m1-1h0m7 1h0m1 0h0m6-3h0m0 3h0m2-1h0m5-3h0m3 1h0m0 2h0m5 1h0m2-1h0m2 0h0m0 1h0m2-2h0m4 1h0m1-2h0m3 0h0m-2 5h0m-5 2h0m-1-2h0m-1-1h0m0 4h0m-2-1h0m-3 2h0m-1 0h0m0-1h0m-4 0h0m-1-3h0m-2 2h0m0 2h0m-2-1h0m-1 2h0m-1-3h0m-2 2h0m-2-1h0m0 0h0m0-4h0m-1 6h0m-4-2h0m0-3h0m-1 2h0m-1 2h0m0-4h0m0 0h0m-1 4h0m-1-3h0m0 2h0m-1-2h0m-1 0h0m-4 4h0m-1-3h0m-3-3h0m-1 1h0m0 4h0m-6-4h0m0 4h0m0-2h0m-9-2h0m0 0h0m-4 1h0m12 9h0m5-3h0m2 2h0m0 2h0m0-3h0m1-2h0m0 3h0m4 0h0m0 0h0m2 0h0m2-4h0m1 6h0m3-2h0m2 0h0m1-4h0m3 4h0m1-4h0m1 2h0m0 2h0m2 1h0m0-1h0m2-2h0m1 1h0m5 0h0m6-1h0m1 2h0m3 2h0m0-3h0m1 2h0m5 0h0m-1 7h0m-3-3h0m-2 2h0m-3 0h0m0-1h0m-2 2h0m-1 0h0m-3-3h0m-3 2h0m-1-3h0m-7 3h0m0-3h0m-8 0h0m-1-2h0m-1 4h0m-1 0h0m0-2h0m0-1h0m-1 0h0m0-1h0m-1 3h0m0-1h0m-5 1h0m-7-2h0m-1 3h0m-2-3h0m-2 4h0m-1 0h0m-15 6h0m16-2h0m2-1h0m1 1h0m0-2h0m4 3h0m3-1h0m7-3h0m8 6h0m11-6h0m2 2h0m0 2h0m1-2h0m0 2h0m1 1h0m1-1h0m0-1h0m0 0h0m1 2h0m0-3h0m1 3h0m0-5h0m1 3h0m2 0h0m1 1h0m2-2h0m5 3h0m0-1h0m2 1h0m0-1h0m2 1h0m5-1h0m0 3h0m-2 0h0m-1 2h0m-1 1h0m-2-1h0m-1-1h0m-4-1h0m-1 2h0m-2 2h0m0-4h0m-3 1h0m-3 2h0m0 1h0m-2-2h0m0-1h0m0 1h0m-3 0h0m-1 0h0m-1 0h0m-5-2h0m-1 3h0m-3-3h0m-2 4h0m-4 0h0m-16-1h0m-4-4h0m-1 0h0m-3 6h0m-6 6h0m3-3h0m0 0h0m4 2h0m6 0h0m18 0h0m14-3h0m2-1h0m1 2h0m4-2h0m1 0h0m7 0h0m12 3h0m0 1h0m3 2h0m-3-1h0m-3 1h0m0 3h0m0-1h0m-1 2h0m-1-1h0m-3-2h0m-3 3h0m-4-4h0m-1 1h0m-9-2h0m0 4h0m-4-1h0m-34-3h0m0 1h0m-1 4h0m-13 0h0m12 6h0m45 0h0m1-2h0m0-1h0m1-1h0m0 1h0m1-1h0m9 4h0m0-2h0m0 2h0m1-1h0m2-2h0m0 1h0m4-1h0m5 0h0m1-1h0m-6 9h0m-2 1h0m0 1h0m-1-3h0m-1-2h0m0 1h0m-1 0h0m-1 2h0m-1 2h0m-1-2h0m0-2h0m-1 1h0m-1 2h0m-3 0h0m-2-3h0m0-2h0m-1 3h0m0-2h0m-1-1h0m0 4h0m-3 0h0m-1 2h0m-10-2h0m2 8h0m7-5h0m2 0h0m0 4h0m1 1h0m1-6h0m0 2h0m1-2h0m6 1h0m1 5h0m2-2h0m1-2h0m1 2h0m0 2h0m2-5h0m0 5h0m3-2h0m0 2h0m2-3h0m1 3h0m0-4h0m1 4h0m4 5h0m-1 0h0m-4 0h0m-7-2h0m0 2h0m0-1h0m-3-2h0m-1-2h0m-1 1h0m-1 3h0m-1-2h0m-13 2h0m7 2h0m1 3h0m1 0h0m2 1h0m0-2h0m2-1h0m1 1h0m6-1h0m6 4h0m-7 5h0m-7-1h0" stroke="#4bbce0" stroke-width="3.7" stroke-linecap="round" fill="none"/>
<path d="M834 1258h0m-20 2h0m-2 3h0m6 1h0m1 0h0m3 2h0m3-1h0m4-4h0m1 1h0m1 1h0m3 1h0m2 1h0m22 6h0m-28 0h0m-4 0h0m-3-4h0m-5 2h0m-1 1h0m-1 1h0m0-4h0m-4 3h0m-1 1h0m-7-1h0m-4-1h0m-9 0h0m-11 8h0m12-4h0m0 0h0m2 2h0m0-2h0m1 4h0m3-1h0m2 0h0m7-1h0m1-1h0m0 3h0m2 0h0m0-2h0m2 3h0m0-2h0m1 2h0m2-1h0m1 1h0m0-3h0m3 2h0m3-1h0m1-2h0m1 1h0m1 0h0m0-2h0m3 0h0m5 4h0m0-3h0m1 4h0m2-1h0m2 0h0m2-2h0m1 2h0m3 1h0m6-2h0m1 2h0m-3 6h0m-6 0h0m0-2h0m-3-1h0m0-2h0m-5 4h0m-1-1h0m0 2h0m-2-4h0m-2 3h0m0-1h0m-6-2h0m-7-1h0m-4 0h0m-3-1h0m-2 4h0m0-1h0m-1 0h0m0-3h0m0 5h0m-3-3h0m-4 2h0m-13 0h0m0 0h0m-2 0h0m0 1h0m-1-4h0m0 4h0m-1 0h0m-3-2h0m-2 4h0m4 3h0m1 0h0m1-2h0m1 1h0m30 0h0m4 3h0m1-2h0m1 1h0m0 1h0m0-3h0m0-2h0m1 2h0m0 2h0m1-2h0m1 1h0m0 1h0m1-4h0m1 2h0m3 0h0m6 1h0m2-1h0m0-1h0m5 1h0m1 2h0m4-1h0m2 0h0m1 0h0m5 5h0m-10-2h0m-3 0h0m-9-1h0m-8 1h0m0 0h0m-6 5h0m-2 0h0m-1-3h0m-5 0h0m-8-1h0m-18-1h0m-6 0h0m-2 2h0m-2 1h0m-4 1h0m3 5h0m2-1h0m3 3h0m15-2h0m5 0h0m5 1h0m6-4h0m1 2h0m1 0h0m3 2h0m18-1h0m7 0h0m0 1h0m3-4h0m0 4h0m1 0h0m1-5h0m2 4h0m1-2h0m0 1h0m3-1h0m2 3h0m1 2h0m-1 4h0m-1-4h0m-4 1h0m-1 3h0m-3-3h0m0 2h0m0-3h0m-1 4h0m-1-2h0m0-1h0m-1 2h0m0 1h0m-1-2h0m-2-2h0m-6 1h0m-1 0h0m0 0h0m-2 4h0m0-4h0m-1 2h0m-1 1h0m0-1h0m0 1h0m-1-1h0m-8-4h0m-2 3h0m-4-3h0m-6 1h0m-1-1h0m-1 2h0m-2 4h0m-2-5h0m0 4h0m0 0h0m-2-3h0m-8 1h0m-11 3h0m0 0h0m-4 0h0m0-1h0m0 1h0m-2-2h0m-1 2h0m0 0h0m0 1h0m1 4h0m1-1h0m3-4h0m5 0h0m1 2h0m2-1h0m1 3h0m0 0h0m1-4h0m0 3h0m2 0h0m11-2h0m2 3h0m3-3h0m1 1h0m1 3h0m2-1h0m7-2h0m6 1h0m1 0h0m3-1h0m5-1h0m3 2h0m0 2h0m1-4h0m1 1h0m1-1h0m0 3h0m2 0h0m0-2h0m0-1h0m1 2h0m2 2h0m3-2h0m0 2h0m5-1h0m5-3h0m1 5h0m0 6h0m-4-4h0m-2 0h0m-4-1h0m0 1h0m-3 1h0m-2-1h0m0 0h0m-3 0h0m0 0h0m-1-2h0m-1 0h0m-2 5h0m0-4h0m-1-1h0m-1 1h0m-1 5h0m-5-1h0m-6 1h0m-2-4h0m-5 1h0m-2-2h0m-1 0h0m-1 2h0m0 0h0m-3 3h0m-2-4h0m-4 1h0m0 1h0m-4-1h0m-5-2h0m-7 1h0m-1 1h0m-2-2h0m-2 0h0m-5 1h0m6 5h0m2 1h0m7 1h0m13 1h0m4-3h0m3 0h0m3 1h0m4-1h0m1 5h0m0-5h0m1 1h0m0 1h0m2 2h0m0 0h0m0 1h0m5-6h0m1 4h0m0-4h0m1 1h0m1-1h0m3 4h0m1-2h0m1 1h0m4-1h0m1 1h0m17 0h0m-14 6h0m-1 2h0m-1-2h0m-1 1h0m0-2h0m0 4h0m-1-1h0m-2-3h0m-1-1h0m-1 1h0m-3 1h0m-1-1h0m0-1h0m-1 3h0m-1-2h0m-3-1h0m-1 4h0m0-1h0m-2-4h0m-1 4h0m-1-2h0m0 2h0m-1 1h0m0 1h0m-1-3h0m-1-1h0m-1 1h0m0-2h0m-10-1h0m-2 2h0m0 1h0m-4-1h0m-1 4h0m-5-4h0m-1 0h0m-1 3h0m-3-5h0m-5 1h0m-1 3h0m6 6h0m7 0h0m1-4h0m0 4h0m1 1h0m0-2h0m1 0h0m2 3h0m3-6h0m0 1h0m4 2h0m7 3h0m0-5h0m1 1h0m2-1h0m1 4h0m2-2h0m2 1h0m0-1h0m0-1h0m1 1h0m2 0h0m0 1h0m1-4h0m0 5h0m0-3h0m0 3h0m1-3h0m1 3h0m0 0h0m0 0h0m1-2h0m0 2h0m0-4h0m0 3h0m2-1h0m2 0h0m0-3h0m1 3h0m0 1h0m1 1h0m0-2h0m1 2h0m0-3h0m1 2h0m3-4h0m0 1h0m1 0h0m6 7h0m0 3h0m0 0h0m-1-2h0m0 3h0m0-1h0m-1-4h0m-1 1h0m-10-1h0m-3 0h0m-1 0h0m-3-1h0m-4 0h0m-10 2h0m-1 2h0m-1-1h0m-2 0h0m0 1h0m0-4h0m0 1h0m-3 2h0m14 8h0m1 0h0m7-1h0m0-1h0m2 0h0m1-1h0m3-2h0m5 0h0m3 3h0m-14 4h0m0 2h0m-2-2h0m-3 0h0m-5 1h0m-9 3h0m4 2h0m4 1h0m0 4h0m12 0h0m0-1h0m-22 2h0" stroke="#9caf35" stroke-width="3.7" stroke-linecap="round" fill="none"/>
<path d="M938 1282h0m-10-1h0m0 1h0m-3 2h0m-16-1h0m-17-2h0m-4 2h0m-5-1h0m-6 1h0m-6-5h0m-15 10h0m4 1h0m2-3h0m1 1h0m2 1h0m1 0h0m2-3h0m4 4h0m1-3h0m6 2h0m1 1h0m6 1h0m1-2h0m9 0h0m3 0h0m4-2h0m8 2h0m0-2h0m6 0h0m0-2h0m1 2h0m2 1h0m1-3h0m0 5h0m5-2h0m8 1h0m-8 7h0m-2 1h0m-9-1h0m-7-2h0m-5 1h0m-2 1h0m-7-3h0m-3 2h0m-5 0h0m-2-4h0m-3 5h0m-2-4h0m-3 0h0m-4 3h0m-4-1h0m-1-2h0m-4 1h0m-2 1h0m-2 1h0m-6-2h0m-15 8h0m12-2h0m13-1h0m1 5h0m4-5h0m1-1h0m5 3h0m8-3h0m0 5h0m1-4h0m12-1h0m2 4h0m3-4h0m1 1h0m2 1h0m1 3h0m3 1h0m3 0h0m0-1h0m3 0h0m1-2h0m0-2h0m1 1h0m0-1h0m1 3h0m1-1h0m1 2h0m1-3h0m3 1h0m0 1h0m0-3h0m2 1h0m0-1h0m0 3h0m2-3h0m0 3h0m1 0h0m0-1h0m1-3h0m0 5h0m1-3h0m1-2h0m1 4h0m1 1h0m2-3h0m1 0h0m3 1h0m7 8h0m-6-4h0m-1 0h0m-2 3h0m-2 1h0m0-4h0m0 2h0m-1-3h0m-2 5h0m0-4h0m-1 2h0m0 2h0m0-4h0m0 4h0m-1-4h0m-1 1h0m-1 2h0m-1-2h0m-2 1h0m0 0h0m-3 3h0m-1-1h0m-1-1h0m0 2h0m0-3h0m-3 1h0m-2 1h0m-1 0h0m0-1h0m-1 2h0m0-2h0m0-2h0m-2 2h0m0 0h0m0-2h0m-1-1h0m-1 2h0m-1 0h0m-7-2h0m-1 5h0m-6-2h0m-1-2h0m-2 4h0m-1-4h0m-1 4h0m-5-3h0m-2 1h0m-4 1h0m-2-1h0m-3-3h0m-1 3h0m0-2h0m-5 2h0m-1-4h0m-7 3h0m0-1h0m-13 1h0m21 6h0m3 3h0m1-1h0m1-1h0m2 1h0m0-1h0m0-4h0m0 5h0m0-1h0m7 2h0m1-4h0m1 1h0m1 0h0m11 0h0m3 0h0m1-1h0m1-1h0m1 1h0m7 0h0m1 2h0m1-3h0m6 3h0m2-2h0m0 2h0m1 0h0m1-2h0m0 2h0m0-2h0m1 3h0m1-5h0m1 5h0m0-2h0m2-1h0m0 0h0m1-1h0m1 0h0m0 3h0m1-1h0m2 1h0m0-4h0m1 4h0m0-1h0m0 2h0m1 1h0m0-1h0m0-3h0m0 2h0m2-2h0m0 3h0m1-1h0m8 1h0m-2 6h0m-2-1h0m-1 1h0m-7 0h0m-2-3h0m-2 1h0m-3 1h0m-3 2h0m0 0h0m-1-2h0m-2 1h0m-2-3h0m0 0h0m0 3h0m-2 0h0m-14 1h0m0-6h0m-2 5h0m-3 1h0m0-1h0m-4-3h0m-11-1h0m-4 3h0m0 0h0m-1 1h0m-1-1h0m0-4h0m-2 3h0m-2 0h0m-3 1h0m-7 5h0m12-2h0m1 3h0m1 0h0m3-3h0m5 1h0m3 2h0m4-2h0m0 1h0m4 0h0m5-3h0m4 6h0m1-2h0m1-1h0m1 1h0m2-1h0m2-1h0m2-2h0m0 1h0m0 2h0m1-2h0m2 0h0m3 4h0m2-3h0m0 0h0m0-1h0m1 2h0m2 1h0m1-1h0m0 2h0m1-1h0m0 1h0m2-1h0m6-1h0m1 1h0m1-2h0m3 1h0m-2 7h0m-2-4h0m-2 2h0m-1 2h0m0 1h0m-2-3h0m-3 2h0m-4 0h0m0 1h0m-3-3h0m-9-1h0m-7 1h0m-2 4h0m0-4h0m0 1h0m-19-3h0m-3 2h0m-5 2h0m-4-3h0m-9 3h0m19 2h0m12 3h0m1-1h0m6 0h0m2 3h0m2-4h0m0 2h0m0 0h0m2 0h0m0 1h0m0 2h0m14 0h0m1-2h0m0 1h0m0-1h0m2-3h0m1 7h0m0 2h0m-3-3h0m-3 1h0m-2 1h0m-1-2h0m0-1h0m-1 5h0m0 0h0m-1 0h0m0 0h0m0-3h0m-1 1h0m-1 1h0m-1 0h0m-4-2h0m0-2h0m-1 3h0m0 2h0m0-3h0m0 4h0m-1-1h0m-2 0h0m-1-4h0m0 0h0m-4 4h0m-3-2h0m0-2h0m0 4h0m-1-2h0m0-1h0m0-1h0m-1 2h0m-1 2h0m-23 6h0m3 0h0m2 1h0m2-1h0m5 0h0m0 1h0m1-2h0m0-2h0m1 3h0m1-3h0m1 0h0m1 2h0m2 2h0m1-2h0m2 1h0m0-3h0m1-1h0m1 5h0m0-3h0m0-1h0m1 1h0m1-1h0m0 4h0m3-6h0m0 5h0m0-1h0m2-1h0m0 1h0m1-2h0m0 3h0m0 0h0m1 0h0m1 0h0m0-4h0m1 2h0m0 3h0m1-3h0m0-2h0m0 0h0m0 5h0m2-1h0m0-1h0m1-4h0m0 2h0m2 1h0m1-1h0m0 4h0m0-3h0m3 3h0m10-6h0m3 3h0m-10 3h0m-1 0h0m-1 0h0m-1 2h0m-2 4h0m-1-5h0m-1 1h0m-2 1h0m-1 0h0m-2-2h0m-3 1h0m-1 0h0m0-1h0m-1 2h0m-2 0h0m-1 2h0m-1-4h0m-2-1h0m-3 3h0m0-1h0m-1-1h0m0 0h0m-4 1h0m0 2h0m-2 0h0m-1-1h0m-6 2h0m0-3h0m-1 0h0m-1 1h0m0 0h0m0-3h0m-1 1h0m0-1h0m-1 1h0m0 4h0m-2-1h0m0-3h0m-1 4h0m-1-2h0m30 5h0" stroke="#4dbb45" stroke-width="3.7" stroke-linecap="round" fill="none"/>
<path d="M923 1182h0m4-1h0m7 1h0m2-4h0m17 2h0m-9 7h0m-2-5h0m-6 4h0m-5-1h0m-1 1h0m0 1h0m-1 0h0m-2-1h0m0-3h0m-1 4h0m-2-3h0m-8-2h0m7 9h0m1-3h0m0 4h0m2-1h0m0 0h0m1-2h0m1 0h0m1 5h0m1-5h0m2 2h0m1 1h0m1-1h0m17 0h0m12-2h0m9 9h0m-6-3h0m-2 5h0m-4 0h0m-4-1h0m-1 1h0m0-4h0m-5 3h0m-5-4h0m-6 5h0m-5-5h0m-4 4h0m-1 1h0m0-5h0m-3-1h0m-1 2h0m-6 2h0m29 6h0m0 0h0m2 1h0m5 0h0m0-3h0m5 0h0m0-1h0m11 4h0m-9 7h0m-3 0h0m-2-5h0m0 5h0m-2-4h0m-3 3h0m0-3h0m-1 4h0m-1-1h0m-2-4h0m-2 4h0m-2 0h0m0-1h0m-4 1h0m-4-1h0m-20 5h0m13-2h0m9 3h0m5 0h0m3-2h0m3-1h0m1 4h0m4 0h0m6-4h0m5 7h0m-9-1h0m-4 0h0m-5 0h0m-10 0h0m0 3h0m0 2h0m-6-4h0m-1 3h0m-6-3h0m-7 7h0m7 2h0m2-2h0m4 3h0m6-1h0m0 1h0m0-2h0m1-4h0m3 3h0m1 3h0m6-5h0m0 0h0m10 10h0m-4-3h0m-4 1h0m-1 0h0m-1 0h0m-9 2h0m0 1h0m-1-3h0m0-2h0m-1 0h0m0 5h0m0-3h0m0 1h0m-1 0h0m0-1h0m-1 2h0m-1 0h0m-1 1h0m0-2h0m-1 1h0m-3-3h0m-4-1h0m0 5h0m-3 0h0m-2-5h0m0 1h0m-2-1h0m0 5h0m-1 0h0m-2-4h0m-1-1h0m-3 4h0m0-1h0m-1-2h0m0 2h0m-4 1h0m-5 5h0m12-3h0m1 1h0m1 0h0m3-1h0m1 4h0m0-3h0m1 3h0m1 0h0m1-2h0m0-1h0m0 0h0m0 2h0m2 0h0m1-3h0m0-1h0m0 2h0m0 4h0m0-2h0m1-2h0m1-1h0m0 4h0m2 0h0m1-2h0m1-1h0m6-1h0m4 4h0m5-3h0m0-1h0m2 0h0m9 9h0m-17-3h0m-2 1h0m-2-1h0m-1 3h0m0-1h0m-6-2h0m0 2h0m-3 0h0m-2-2h0m-1 2h0m0-1h0m0 2h0m-2 0h0m-10 1h0m-3-5h0m-1 5h0m-1 1h0m-2-4h0m-1 0h0m0 3h0m-1-4h0m0 0h0m-1 0h0m-4 1h0m5 6h0m1-1h0m1 2h0m1-2h0m2 4h0m1-3h0m0 1h0m1 1h0m0 1h0m21 0h0m4-3h0m2 1h0m1 2h0m0 0h0m2 0h0m5-4h0m7 0h0m0 4h0m1-4h0m1-1h0m1 5h0m1-4h0m1 2h0m1 1h0m-2 5h0m-1-3h0m0 4h0m-1 0h0m-3-4h0m-2 4h0m-2 0h0m-1 0h0m0-2h0m0 1h0m-4 1h0m0 0h0m-1-2h0m-2 0h0m-2 1h0m-1 0h0m-3 1h0m-1-1h0m-15-3h0m-4 0h0m-1 2h0m-1 4h0m-2-5h0m-3-1h0m10 12h0m2-3h0m4 1h0m0 0h0m0-1h0m3 2h0m0-4h0m1-1h0m0 3h0m2-2h0m1 3h0m1-3h0m0 0h0m1 0h0m3-1h0m0 3h0m1 2h0m0 0h0m3 0h0m1 1h0m5-4h0m0 2h0m1-3h0m0 0h0m0 1h0m6 5h0m-10 2h0m-2 0h0m-1 1h0m-1-2h0m-1 0h0m0-1h0m0 5h0m0-1h0m-2-3h0m-1-1h0m-2-1h0m0 5h0m0-2h0m-2-2h0m-1 1h0m-2-1h0m-3 2h0m-2-2h0m-5 0h0m-12 2h0m-1 0h0m-12 9h0m7 0h0m0-2h0m0 0h0m2 0h0m2 2h0m7-1h0m-4 1h0m-7 3h0m-1-1h0m-7-1h0m-1 10h0" stroke="#4ec4a0" stroke-width="3.7" stroke-linecap="round" fill="none"/>
<path d="M979 1157h0m2-1h0m4 2h0m3-1h0m9-1h0m0 7h0m-4 1h0m-1-1h0m-1 1h0m-2-6h0m0 1h0m-1 3h0m-5-4h0m-2 4h0m-3 1h0m-5 0h0m-4-3h0m2 8h0m0-1h0m0-1h0m5-2h0m2 3h0m0 0h0m0 3h0m6-2h0m0 0h0m1 2h0m1-2h0m0-3h0m1 3h0m0 1h0m1-5h0m0 0h0m2 5h0m1 1h0m0-3h0m1 1h0m0-2h0m2 3h0m2 0h0m1-1h0m1 2h0m3-1h0m2 0h0m1 5h0m-1 0h0m-6 0h0m-2 0h0m-2-2h0m-1 2h0m-3-2h0m-11 1h0m-4 2h0m-2 1h0m-3-3h0m-2-2h0m0-1h0m-1 5h0m-2 1h0m-2-4h0m0 3h0m-1-3h0m-3 2h0m1 3h0m3 5h0m0-1h0m0-4h0m1-1h0m1 1h0m1 5h0m0-3h0m2 0h0m0-2h0m2 3h0m2 1h0m2 0h0m0-2h0m1 1h0m2-4h0m3 2h0m0 0h0m2 3h0m9-1h0m1 1h0m4 0h0m1 1h0m1-2h0m1-1h0m0 3h0m0-1h0m2-4h0m4 0h0m0 3h0m5-2h0m0-1h0m-2 6h0m-3 1h0m-4 0h0m0 2h0m-1-3h0m-2 3h0m-2-4h0m-1 1h0m-7 1h0m-7 2h0m-1 0h0m0 2h0m0-3h0m-1 3h0m0-3h0m0 2h0m-1 0h0m0-1h0m-1 0h0m0-4h0m0 5h0m0 0h0m0-4h0m-1 2h0m-1 0h0m0-1h0m0 1h0m0 0h0m-2 0h0m0 1h0m-1 1h0m-1-1h0m-1-3h0m-1 0h0m0 1h0m0-1h0m-1 2h0m-2 2h0m-1-2h0m-3 2h0m-1-2h0m-1-1h0m1 5h0m1 5h0m1-5h0m0 3h0m1 0h0m0-3h0m0 0h0m1 1h0m2-2h0m2 1h0m0 0h0m1 0h0m0 2h0m3-3h0m1 6h0m1-5h0m1-1h0m4 2h0m0 3h0m1-3h0m1 0h0m6 2h0m1 1h0m3-1h0m3 1h0m12-3h0m0 1h0m1 1h0m1-3h0m-3 10h0m-1-3h0m-6 3h0m0-1h0m0 1h0m-1-3h0m-1 0h0m-1-1h0m0 2h0m-1 0h0m-1-1h0m0 4h0m-1-3h0m0-3h0m-1 0h0m-1 2h0m-1 4h0m0-5h0m0 0h0m-1 2h0m-1-2h0m0 2h0m0-2h0m-1 1h0m-2 0h0m-3 1h0m-4 2h0m0 0h0m-1-3h0m0 0h0m-9 2h0m0-2h0m0-1h0m-1 0h0m-2 3h0m-1-1h0m-3-2h0m7 6h0m2 1h0m5 2h0m1-2h0m1 1h0m1 1h0m2-2h0m1 3h0m2 1h0m2-4h0m0 3h0m2-3h0m3-2h0m0 1h0m1 5h0m1-4h0m4 2h0m4-3h0m5 0h0m-14 6h0m-2-1h0m0 1h0m-1 2h0m-10-3h0m0 3h0" stroke="#6d95dc" stroke-width="3.7" stroke-linecap="round" fill="none"/>
<path d="M794 1350h0m0-1h0m1-1h0m0 1h0m4-1h0m4 0h0m2 0h0m7 6h0m0-4h0m-1 3h0m0-2h0m0 5h0m-1-3h0m-1-1h0m-1-2h0m0 4h0m-2-3h0m0 1h0m0-1h0m-1 1h0m0 3h0m0-2h0m-1 2h0m-2-4h0m-1 3h0m-2-2h0m0 0h0m-2 0h0m-1 1h0m0 1h0m0 1h0m-1-2h0m0-1h0m0-1h0m0 2h0m-1 1h0m0 0h0m-2 0h0m-2 2h0m-1-2h0m-1 0h0m-1 1h0m0-3h0m-4 2h0m-7 7h0m1 0h0m1-3h0m0 4h0m1-2h0m0-1h0m4 0h0m0 2h0m1-2h0m1-2h0m0 1h0m0 1h0m4-2h0m4 5h0m2 0h0m0-4h0m7 1h0m7 0h0m-1 7h0m-1 0h0m-1-2h0m-1 3h0m-1-4h0m-2 2h0m-5-1h0m0 3h0m-5-3h0m0 1h0m-5 0h0m-4 0h0m-1-2h0m-1 1h0m-3 2h0m-2-2h0m-4 2h0m4 7h0m0-2h0m10 1h0m0-4h0m3 1h0m1-1h0m10 1h0m1-1h0m7 4h0m0-1h0m2-2h0m-6 7h0m-3 3h0m-1-2h0m0-2h0m-1 1h0m-1 0h0m-1-2h0m-4 3h0m0-2h0m-2 2h0m-7 0h0m13 3h0" stroke="#b07fd6" stroke-width="3.7" stroke-linecap="round" fill="none"/>
<path d="M928 1205h0m1 0h0m3-1h0m0 2h0m1 0h0m0-2h0m2 1h0m0-1h0m1 0h0m2 0h0m2 0h0m-12 3h0m-26 9h0m3-1h0m0 1h0m0-2h0m1 1h0m0 0h0m2-2h0m0 1h0m0-1h0m0 0h0" stroke="#d85cb8" stroke-width="3.7" stroke-linecap="round" fill="none"/>
<path d="M698.7 1112V1390H1025.6" stroke="#000" stroke-width="1.8" fill="none"/>
<path d="M693.2 1123.2L698.7 1123.2" stroke="#000" stroke-width="1.8" fill="none" />
<text x="688.7" y="1131.7" font-size="25" text-anchor="end">5.0</text>
<path d="M693.2 1186.7L698.7 1186.7" stroke="#000" stroke-width="1.8" fill="none" />
<text x="688.7" y="1195.2" font-size="25" text-anchor="end">2.5</text>
<path d="M693.2 1250.1L698.7 1250.1" stroke="#000" stroke-width="1.8" fill="none" />
<text x="688.7" y="1258.6" font-size="25" text-anchor="end">0.0</text>
<path d="M693.2 1313.2L698.7 1313.2" stroke="#000" stroke-width="1.8" fill="none" />
<text x="688.7" y="1321.7" font-size="25" text-anchor="end">-2.5</text>
<path d="M693.2 1376.6L698.7 1376.6" stroke="#000" stroke-width="1.8" fill="none" />
<text x="688.7" y="1385.1" font-size="25" text-anchor="end">-5.0</text>
<path d="M769.8 1390L769.8 1395.5" stroke="#000" stroke-width="1.8" fill="none" />
<text x="769.8" y="1421" font-size="25" text-anchor="middle">-3</text>
<path d="M856.4 1390L856.4 1395.5" stroke="#000" stroke-width="1.8" fill="none" />
<text x="856.4" y="1421" font-size="25" text-anchor="middle">0</text>
<path d="M942.7 1390L942.7 1395.5" stroke="#000" stroke-width="1.8" fill="none" />
<text x="942.7" y="1421" font-size="25" text-anchor="middle">3</text>
<text x="866.4" y="1439.8" font-size="25.5" text-anchor="middle">UMAP_1</text>
<text font-size="25.5" text-anchor="middle" transform="translate(639.2 1241.6) rotate(-90)">UMAP_2</text>
<text x="834.4" y="1166.6" font-size="23" text-anchor="middle">1</text>
<text x="988.4" y="1186.4" font-size="23" text-anchor="middle">6</text>
<text x="914.3" y="1218.1" font-size="23" text-anchor="middle">8</text>
<text x="844.2" y="1231.3" font-size="23" text-anchor="middle">5</text>
<text x="939" y="1251.7" font-size="23" text-anchor="middle">4</text>
<text x="745.4" y="1269.4" font-size="23" text-anchor="middle">0</text>
<text x="821.6" y="1313.6" font-size="23" text-anchor="middle">2</text>
<text x="903" y="1330.4" font-size="23" text-anchor="middle">3</text>
<text x="794.2" y="1366.9" font-size="23" text-anchor="middle">7</text>
<text x="1074" y="1025" font-size="27" font-weight="bold">e</text>
<path d="M1308 1130h0m11 5h0m-2 2h0m-2 3h0m-2-1h0m-4-4h0m-4 5h0m-9-2h0m-12 8h0m8-1h0m4-1h0m2-1h0m23 2h0m0-3h0m0 0h0m8 0h0m1 1h0m13 6h0m-1 1h0m-11 0h0m-8 1h0m-37-5h0m-3 1h0m-2 0h0m-4 5h0m30 3h0m14-1h0m1 0h0m2 0h0m6 0h0m9 1h0m1 2h0m0 1h0m5-1h0m6-1h0m108 7h0m-5 1h0m-4-6h0m-5 5h0m-1 1h0m-3-1h0m-90-2h0m-9 0h0m0-2h0m-5 3h0m0-1h0m-2 2h0m-1 0h0m-1 0h0m0 0h0m-4 1h0m0-1h0m-1-1h0m-2 1h0m0-1h0m0-1h0m-2-1h0m-14 0h0m-1 2h0m-1 0h0m-1-2h0m-1 4h0m-1-5h0m-19 3h0m-3 2h0m0-1h0m-2-2h0m-6 2h0m-1-1h0m-8 1h0m10 5h0m0-2h0m4 2h0m0-3h0m0 2h0m2-2h0m14 4h0m4-1h0m3 0h0m3-1h0m17-2h0m2 0h0m1 1h0m4 2h0m0-1h0m2 2h0m4-5h0m0 4h0m5 2h0m5-3h0m1 1h0m0 0h0m1 1h0m2 0h0m4-3h0m85 2h0m0-1h0m6 0h0m15 1h0m3 1h0m12 7h0m-5-3h0m-7 0h0m-2 0h0m-5-2h0m-11 1h0m-5 3h0m-4-2h0m-1-3h0m-1 5h0m-2 0h0m-2-1h0m-3 2h0m-1-3h0m-73-1h0m-3 0h0m-1-1h0m-15 0h0m-1 0h0m0 2h0m0 1h0m-2-1h0m-1 3h0m-1-2h0m0-1h0m0 1h0m0 1h0m0-2h0m-1 2h0m-3-1h0m0 0h0m-1-1h0m-7-1h0m-4 2h0m-3-1h0m-1 1h0m-1 2h0m-1-1h0m-5-3h0m-1 0h0m-3-2h0m-2 6h0m0-3h0m-10-2h0m-2 0h0m-3 1h0m-1 0h0m-4 0h0m0 0h0m-2 10h0m2-6h0m11 4h0m2-2h0m1 3h0m5 0h0m3 1h0m5-2h0m0-2h0m5 1h0m1 0h0m0 1h0m4 1h0m0 0h0m8-1h0m3-3h0m1 0h0m2 3h0m1-3h0m0 4h0m2 1h0m9-4h0m5-2h0m43 5h0m7-1h0m3 0h0m0 2h0m14-1h0m11-2h0m8 2h0m0-1h0m5-2h0m0-2h0m7 3h0m1 3h0m1-1h0m13-2h0m17-2h0m0 10h0m-8-4h0m-21 1h0m0 1h0m0 0h0m0-1h0m-1 1h0m0 1h0m-1 0h0m0 1h0m0-3h0m-2-1h0m0 5h0m0-4h0m-1 0h0m0 3h0m-1-2h0m-2-3h0m0 6h0m-1-6h0m0 1h0m-1 1h0m-1 3h0m-3 0h0m0 0h0m-1 1h0m-1-2h0m0 1h0m-1-3h0m-22 1h0m-5-1h0m-1 2h0m-2 1h0m0-2h0m-1 3h0m0-3h0m-2-2h0m-1 4h0m-67-4h0m0 3h0m-2-4h0m-3 1h0m-7 0h0m-3 0h0m-5 3h0m-4 0h0m-1-1h0m-2-2h0m-1 1h0m0 2h0m-4-1h0m-1-1h0m-2 3h0m-6 0h0m-1 0h0m-2-4h0m-4 4h0m-2 1h0m-6 0h0m-2 3h0m2-3h0m1 1h0m0-1h0m4 4h0m0-3h0m3 1h0m3 2h0m0 0h0m1-2h0m0 0h0m23-1h0m89 1h0m1-1h0m3 5h0m4-3h0m0-2h0m1 4h0m24 0h0m1-1h0m1-2h0m1 0h0m3 3h0m1 0h0m6-1h0m13 0h0m1 1h0m16 4h0m-1 2h0m-5 0h0m0-2h0m-1 0h0m-4-3h0m-1 4h0m-1 1h0m-2 0h0m0-1h0m-5 2h0m-4 0h0m-3-3h0m-1-3h0m0 0h0m0 5h0m-3-3h0m-3 3h0m-2-4h0m0 4h0m-3-1h0m0-2h0m-4 3h0m0 0h0m-4-2h0m0 1h0m0 2h0m-1-5h0m-4 2h0m-19 0h0m-5-3h0m-6 2h0m-65 2h0m-3-3h0m-2 2h0m-2-1h0m-1-1h0m-4 2h0m-6 1h0m-2-4h0m-4 6h0m-3-6h0m-3 1h0m-7 4h0m0-1h0m-3 0h0m-6-3h0m-1 0h0m-7 2h0m-2-3h0m26 10h0m1-3h0m0 3h0m4-1h0m1 1h0m3 0h0m2 1h0m1-4h0m3 1h0m5-2h0m1 1h0m4 0h0m18 3h0m61-1h0m1 0h0m3 0h0m1-1h0m2 0h0m0 0h0m3 0h0m1-1h0m8 1h0m2 1h0m2 2h0m2-3h0m3 2h0m16-3h0m1-1h0m1 2h0m1 2h0m2-1h0m7 1h0m3-1h0m0 2h0m4-3h0m-7 4h0m-10 1h0m-14 2h0m-2 1h0m-1-1h0m-1 0h0m-5-1h0m-1 1h0m-1-1h0m-1 3h0m-3-2h0m0 2h0m-2-4h0m-3 1h0m-5-1h0m-6 3h0m-19 1h0m-1-1h0m0 1h0m-2 1h0m-29-1h0m-3 0h0m-15-4h0m-1 1h0m-2 2h0m-6 2h0m-11-5h0m-1 0h0m0-1h0m-3 6h0m-2-3h0m0 2h0m-1-1h0m0 0h0m-2-3h0m-7 1h0m0 2h0m-3 1h0m-3-1h0m3 3h0m2 1h0m2 4h0m0-2h0m2-3h0m4 3h0m1-1h0m0-1h0m2-1h0m0 1h0m0 4h0m2-4h0m2-1h0m2 4h0m2 0h0m1-1h0m1-2h0m0 4h0m1-4h0m0 2h0m6-2h0m2-1h0m1 5h0m6-2h0m0-3h0m7 0h0m1 5h0m1-5h0m0 1h0m1 1h0m1 1h0m1 1h0m2-4h0m2 3h0m28-3h0m3 0h0m9-1h0m15 5h0m11-4h0m4 3h0m5 0h0m1-2h0m3 2h0m-9 6h0m0-1h0m-6 3h0m-4-3h0m0 0h0m-6-2h0m-4 5h0m-8 0h0m-49 0h0m0-5h0m-3 4h0m-2-3h0m0-2h0m-4 1h0m0 5h0m-3-6h0m0 2h0m-1-1h0m-1 5h0m0-3h0m0 2h0m-3-4h0m-2 3h0m0-3h0m0 2h0m0-2h0m-1 2h0m-10 0h0m-4 0h0m-3 1h0m-1 2h0m0-4h0m-2 3h0m-4-4h0m-57 4h0m-28-1h0m-6 3h0m1 4h0m2 0h0m1 1h0m0-2h0m3 1h0m8 0h0m10-1h0m1-4h0m4 0h0m1 1h0m8 2h0m2-1h0m49-1h0m7-1h0m0 2h0m1-2h0m2 5h0m2-4h0m2 0h0m1 3h0m0 1h0m0-2h0m0 1h0m1-2h0m0 2h0m2-1h0m1 1h0m2-4h0m6 0h0m2 1h0m5 3h0m9 2h0m3-5h0m2 4h0m3-4h0m35 4h0m4-2h0m1 1h0m3 0h0m1 0h0m5-1h0m6-1h0m5 0h0m0 0h0m1 4h0m0-5h0m1 2h0m0 2h0m4-3h0m6 3h0m1 0h0m7 2h0m-17 0h0m-1 1h0m-1 1h0m0-1h0m-1-2h0m0 0h0m-1 1h0m-2-1h0m-1 1h0m-1 3h0m-1 1h0m-3-2h0m-1 1h0m-1-2h0m0 0h0m0 1h0m0 3h0m-2-2h0m-1 1h0m-2-1h0m-1-1h0m0-1h0m-3 2h0m-1 0h0m-1-1h0m-2-2h0m0-1h0m-1 0h0m-9 6h0m-25 0h0m-2-4h0m-7 0h0m-1 4h0m-1-1h0m-1-3h0m-1 0h0m-1 2h0m-1 1h0m0 1h0m-2 0h0m-1-5h0m-2 1h0m-5 0h0m-11-2h0m-2 2h0m-6 3h0m-3 1h0m-3-5h0m-1 2h0m-1 1h0m-1-3h0m-1 4h0m-43 0h0m-8-2h0m-1 1h0m-3-3h0m-4 4h0m-8-3h0m0 3h0m-3-2h0m-6 3h0m-1-3h0m-4 1h0m-1 0h0m-1-2h0m-1 1h0m-3-1h0m-3 3h0m-2 5h0m0-4h0m1 0h0m7 0h0m2 3h0m4 0h0m2 0h0m0-3h0m8 2h0m2 0h0m3 4h0m4-1h0m2-4h0m7 1h0m4 2h0m1-1h0m10 2h0m12-1h0m8-3h0m15 1h0m1 0h0m23 0h0m5 3h0m1-3h0m4 3h0m2 0h0m0 0h0m2-5h0m1 5h0m0-2h0m1-2h0m1 0h0m0 4h0m8 0h0m0-2h0m2-2h0m2 2h0m0-2h0m1 4h0m2-4h0m0 5h0m1-2h0m1-1h0m1 0h0m1-3h0m20 3h0m0 0h0m1 0h0m2 0h0m4-1h0m9-1h0m2 0h0m0 0h0m2-1h0m1 4h0m0 1h0m3-4h0m2 4h0m0-4h0m0 2h0m5 1h0m1 2h0m1-3h0m1 0h0m3 0h0m1-2h0m14 5h0m0 5h0m0-1h0m-1-2h0m-2 0h0m-3 0h0m-5 0h0m-8 2h0m-14-4h0m-10 0h0m-2 6h0m-1-3h0m-2-2h0m-1 1h0m-1-2h0m-1 4h0m-21 1h0m-18-3h0m-1 0h0m0-1h0m-4 4h0m0-2h0m-33 3h0m-6-5h0m-3 3h0m-1 1h0m-14-3h0m-2 3h0m-7-4h0m-10 2h0m-3 1h0m-2 0h0m-1-1h0m0 3h0m0-1h0m-5-2h0m-2 3h0m-8-4h0m-2 0h0m0 0h0m-2 0h0m-2 3h0m-4-5h0m-1 4h0m0-2h0m-1 0h0m-4 2h0m-1-1h0m-3 2h0m-12 1h0m-2-2h0m2 5h0m1 0h0m1-1h0m1-1h0m0-1h0m4 1h0m3 1h0m0 3h0m2-1h0m1 2h0m0-2h0m2 0h0m6-3h0m1 5h0m1-4h0m0 4h0m3-1h0m0-2h0m0 2h0m2-3h0m3 2h0m1 0h0m1-1h0m1 1h0m7-4h0m2 1h0m1 2h0m0-2h0m1 1h0m1 3h0m2-1h0m1-3h0m1 1h0m12-1h0m9 3h0m8 2h0m5-5h0m8 1h0m0-1h0m17 4h0m16-1h0m3-2h0m9 1h0m4 3h0m3-3h0m5 1h0m0 1h0m0-3h0m3-1h0m0-1h0m2 2h0m23-2h0m5 2h0m4-1h0m14-1h0m1 5h0m3-1h0m1-4h0m0 0h0m2 3h0m1-3h0m0 3h0m2 2h0m3 0h0m0-2h0m1 2h0m2 0h0m2-4h0m1 0h0m2 4h0m1 0h0m-9 3h0m-1 0h0m0 0h0m-1 1h0m-5 3h0m-4-2h0m-3-2h0m-1 0h0m-1 3h0m-1-3h0m-1 1h0m-2-1h0m0 3h0m-2-1h0m-1 1h0m-3-1h0m-31-3h0m0 2h0m-5 0h0m-4 1h0m0-1h0m-1 2h0m-1 1h0m-1-3h0m0 3h0m-9-4h0m0 1h0m0-1h0m-2 2h0m-22 1h0m-2 0h0m-5-3h0m-3 4h0m-6-1h0m-5-4h0m-1 2h0m-13-2h0m-9 2h0m-1 0h0m0-3h0m0 4h0m-2-4h0m-29 4h0m-3 0h0m-3 0h0m0 1h0m-4 1h0m-2-4h0m-1-1h0m-2 0h0m0 0h0m-1 5h0m-1-6h0m-2 5h0m-1-2h0m-1 1h0m0-1h0m-3 2h0m0-3h0m0 4h0m-3 0h0m-1-5h0m3 9h0m1-1h0m0 2h0m1-4h0m8 1h0m3 2h0m1-1h0m4-2h0m0-1h0m1 6h0m0-5h0m3 0h0m0 0h0m0 4h0m5 1h0m2-2h0m0 1h0m1-3h0m29 2h0m8-1h0m4 2h0m6 0h0m2-1h0m4 1h0m1 0h0m0-2h0m4-3h0m1 1h0m7 4h0m15-1h0m11 1h0m3 0h0m1-4h0m0 3h0m0-3h0m1 2h0m1 2h0m3 0h0m2-2h0m0-1h0m0 3h0m1 1h0m2-2h0m1-1h0m1-2h0m0 2h0m1 3h0m24-2h0m0-1h0m12-1h0m4-1h0m2 3h0m6-1h0m0-2h0m2 3h0m0 1h0m0-4h0m2 0h0m2 4h0m1 1h0m0-4h0m0 0h0m1 1h0m1 1h0m0-4h0m0 4h0m12-3h0m-40 10h0m-7 1h0m-1-2h0m-2 1h0m0-1h0m-14 2h0m-2-4h0m0 4h0m0-3h0m-2 1h0m-1-4h0m-4 6h0m-4-5h0m-7 0h0m0 1h0m-1 4h0m-2-6h0m-6 4h0m-1 2h0m-6 0h0m-2-1h0m-1-2h0m-2 2h0m-2 0h0m-3-3h0m0 3h0m-7-4h0m-2 1h0m-1 2h0m-3 1h0m-3-1h0m0 2h0m-1-1h0m-1 1h0m-1-2h0m0 2h0m-2-3h0m-1 2h0m-1 0h0m0-3h0m-8 2h0m-2 0h0m-2 1h0m-2-4h0m0 2h0m-1-2h0m-1 0h0m-23 4h0m-4-4h0m-5 1h0m0 2h0m-4-4h0m-1 1h0m-4 4h0m-17 3h0m2 0h0m1 3h0m2 1h0m1 0h0m7-5h0m0 5h0m1-1h0m1 0h0m15-3h0m3-1h0m13 1h0m3 3h0m2 0h0m1-1h0m1 0h0m0 0h0m12-1h0m7 2h0m0-5h0m0 3h0m1 0h0m0 1h0m2-4h0m13 2h0m6 2h0m0 1h0m2-3h0m1 4h0m0-3h0m2 2h0m4-4h0m0 1h0m3 2h0m0 1h0m6 0h0m3-5h0m2 4h0m6 2h0m5-4h0m2 2h0m2-2h0m2-2h0m1 4h0m0 0h0m0-2h0m7 2h0m2 0h0m1 1h0m1 0h0m3-4h0m0 4h0m8-2h0m6-3h0m21 6h0m3-2h0m0-1h0m-2 6h0m-4 1h0m-1-2h0m-2 0h0m-1-2h0m0 2h0m-6 1h0m-8-1h0m-3 2h0m-4-1h0m-8 1h0m-1 1h0m-6-1h0m-1-1h0m-2 3h0m-2-5h0m0 1h0m-2 3h0m-4-5h0m-1 2h0m0-2h0m-1 3h0m-1-1h0m0 1h0m-3 0h0m-1 0h0m-4 1h0m-7 0h0m-2-1h0m-4 1h0m-1-2h0m-4-1h0m-3 2h0m-2 3h0m-7-3h0m0-2h0m-1 3h0m0-1h0m-1 0h0m-1 0h0m-1 0h0m0 2h0m0-1h0m-1 0h0m-5-2h0m-28 0h0m-1 0h0m-6-2h0m-11 4h0m-1 0h0m0-2h0m-1 3h0m-2 0h0m-1-1h0m-1-4h0m-1 1h0m-2 3h0m-4 2h0m-1-5h0m-1 4h0m-3-4h0m-2 4h0m-2-4h0m-6 1h0m4 9h0m1 0h0m1 0h0m2-2h0m1-2h0m5 1h0m0 1h0m3-2h0m0 2h0m1-2h0m1 4h0m2 0h0m0-1h0m0 0h0m1-1h0m0-2h0m0 3h0m1-4h0m2 0h0m3 6h0m5-2h0m4-1h0m4-2h0m5-1h0m24 6h0m0-4h0m6 0h0m0 3h0m2 0h0m6-5h0m0 1h0m19 0h0m8 0h0m1 1h0m5 1h0m2-1h0m2-1h0m2 1h0m2-1h0m0 2h0m1 3h0m3-3h0m0 0h0m7-3h0m2 4h0m1 1h0m4-1h0m5-1h0m3 2h0m6 1h0m2-3h0m4-1h0m7 4h0m7 0h0m2 0h0m0-1h0m3 0h0m2 0h0m7 7h0m-2-5h0m-1 5h0m-1-1h0m-1-1h0m-1-1h0m-2-2h0m0 5h0m0-2h0m-1-2h0m-1 1h0m-1 0h0m0-3h0m-1 3h0m-2 0h0m-4-2h0m-1 3h0m0-2h0m-2-1h0m-1 1h0m-1 1h0m-3 1h0m-6 0h0m-1-3h0m-5 2h0m-14 1h0m-10 1h0m-6 0h0m-2 0h0m-10 1h0m-1-2h0m-1-3h0m-1 0h0m-2 1h0m0-1h0m-1 2h0m-3 3h0m0-2h0m-1-1h0m0-3h0m-3 3h0m-1 0h0m0 2h0m-5-2h0m-14 2h0m-6-3h0m-1 3h0m-7-1h0m-4-1h0m-5 0h0m-17-1h0m-3-1h0m-7 4h0m-2-4h0m-3-1h0m-3 6h0m-2-5h0m0 3h0m-1-2h0m-1-1h0m0 2h0m0-1h0m-4 0h0m-1 0h0m-1 2h0m-1 2h0m-1-2h0m-2-4h0m-5 1h0m-3 3h0m-6 2h0m5 3h0m2 2h0m1 0h0m3 0h0m1-2h0m2-1h0m0 1h0m1-1h0m0 0h0m1 3h0m1 0h0m3-3h0m0 2h0m1-4h0m0 2h0m1 2h0m1 2h0m1-3h0m4 1h0m7 1h0m1-4h0m1 4h0m5-1h0m2 1h0m0-1h0m1 0h0m0 0h0m1 1h0m3-1h0m4 1h0m1 1h0m2-1h0m3-3h0m7-1h0m2 3h0m0-1h0m0-3h0m2 4h0m2-3h0m1 4h0m10-3h0m10 0h0m1 2h0m0 0h0m1-2h0m1 2h0m1-4h0m0 1h0m2 0h0m3 4h0m1 1h0m2 0h0m1-4h0m1 1h0m1-1h0m2 0h0m2 0h0m0 2h0m1-3h0m7 5h0m4-6h0m0 1h0m8 2h0m5 0h0m1 2h0m4-2h0m4 0h0m6 1h0m2 0h0m2-3h0m1 2h0m6 1h0m7 2h0m1-4h0m1 4h0m1-4h0m2 0h0m1 0h0m0 2h0m1-1h0m2 0h0m2-1h0m1 1h0m0 3h0m0-2h0m1 1h0m1-1h0m2-2h0m0 4h0m1-1h0m1-5h0m2 3h0m0-2h0m1 4h0m1-1h0m0-4h0m0 1h0m1 3h0m3 0h0m2-1h0m3-3h0m6 3h0m-4 6h0m-7 0h0m-1 1h0m-2-4h0m0 4h0m0 0h0m-1-1h0m0-2h0m0 1h0m-1 0h0m-5-2h0m-2 4h0m-2-1h0m0-3h0m0 2h0m-1 0h0m-2-1h0m-15-1h0m-1 5h0m-1-5h0m-1 2h0m-3-1h0m-10 1h0m-1-1h0m-2 3h0m-1 1h0m-5-2h0m0 0h0m-1 1h0m0 0h0m-3-1h0m-1 1h0m-3-2h0m-10 2h0m-9 1h0m-1-2h0m0-2h0m-3 3h0m-2-2h0m-2 1h0m-1 1h0m-3-2h0m0 3h0m-1-1h0m-1 1h0m-5-5h0m-4 2h0m-11 3h0m-1-3h0m-2 2h0m-4-1h0m-11 2h0m-4-4h0m-1 1h0m-2-2h0m0 2h0m-3 3h0m-2 0h0m-4-3h0m-1 2h0m0-1h0m-3 1h0m-5-4h0m-1 3h0m-3-3h0m-2 2h0m-4-2h0m0 2h0m-1 1h0m-3-2h0m-2 1h0m-8 1h0m-4-2h0m-5 2h0m3 4h0m17 3h0m13-1h0m7-1h0m2-2h0m2 2h0m3 3h0m0-4h0m2 5h0m1-5h0m1-1h0m12 1h0m4 0h0m3-1h0m2 5h0m3 0h0m0-4h0m0 0h0m4 0h0m3 3h0m3 0h0m4 0h0m2-1h0m0 1h0m2 0h0m2 0h0m1 2h0m3-3h0m3-3h0m3 0h0m2 1h0m2-1h0m20 2h0m3-1h0m2 4h0m3-3h0m0 1h0m1-1h0m1 0h0m0 3h0m5 1h0m6 0h0m3-6h0m3 4h0m3-1h0m0 1h0m2 0h0m10 1h0m1 0h0m2-2h0m0 2h0m2-5h0m2 3h0m0 3h0m0-1h0m0-1h0m1-2h0m1 2h0m6-3h0m2-1h0m2 3h0m3 3h0m4-3h0m1-1h0m-3 4h0m-3 4h0m0-2h0m-2 3h0m-3 0h0m-4-3h0m0-1h0m0 2h0m-1-2h0m-4 5h0m-2-3h0m-5-3h0m-1 0h0m-1 5h0m-1-4h0m-2 1h0m-1-1h0m-1 1h0m-1 4h0m-2-1h0m-7-4h0m-3 0h0m-8 3h0m-3 2h0m-8-2h0m-30 1h0m0-4h0m-2 5h0m-1-2h0m-4-2h0m-1 3h0m0-1h0m-3 1h0m-1-4h0m-1 3h0m-3 0h0m-1-1h0m0 0h0m-1 2h0m-1-4h0m0-1h0m-1 3h0m-2 2h0m-2-5h0m-7 4h0m-2 1h0m0-3h0m-4 3h0m-5 0h0m-2 1h0m-3-2h0m-5 0h0m-10-2h0m-3 5h0m12 1h0m15 4h0m5-5h0m0 3h0m3 2h0m8-1h0m0-5h0m1 6h0m1-2h0m1-1h0m0-1h0m2 4h0m0-5h0m2 5h0m0 0h0m1-4h0m0 0h0m3 3h0m1 0h0m1-1h0m1-4h0m2 6h0m4-1h0m2-3h0m0 0h0m2 0h0m0 2h0m1 1h0m0-5h0m18 1h0m30 4h0m6 0h0m2-4h0m1 3h0m18 0h0m1-2h0m8-1h0m4 1h0m-12 9h0m-2-4h0m-1 3h0m0-3h0m0 2h0m-4 3h0m-3-1h0m-1 1h0m-5-3h0m0 2h0m-1-5h0m0 3h0m0 3h0m-1-1h0m0-5h0m-1 0h0m-1 2h0m-9 3h0m0-1h0m-41 1h0m-1 1h0m-1-2h0m-1 1h0m-7-4h0m-1-1h0m-1 2h0m0-1h0m-2-1h0m-1 4h0m-2-3h0m-1 1h0m0-2h0m0 2h0m-1 1h0m-3-3h0m-1 3h0m-1-2h0m-4 1h0m-4 1h0m-4 3h0m0-3h0m-11-3h0m-1 1h0m-2 0h0m14 6h0m3-1h0m15 5h0m1 1h0m1-2h0m8-1h0m3 3h0m3-5h0m1 1h0m1 0h0m30 3h0m1 0h0m7-1h0m1 0h0m1-2h0m0-2h0m0 6h0m1-2h0m0 1h0m0-5h0m1 2h0m0-2h0m0 5h0m3-2h0m3 2h0m2-4h0m0 3h0m0 2h0m1-1h0m0-1h0m0-1h0m1-2h0m0 1h0m1 0h0m2 1h0m1 3h0m1-2h0m0-3h0m1 5h0m2-4h0m0-1h0m1 1h0m9-1h0m2 4h0m-9 4h0m-2 0h0m-1 1h0m-2-2h0m-1 2h0m-1 0h0m-1 1h0m-1 0h0m-1-4h0m0 1h0m-1 0h0m-1 2h0m0-2h0m-1 0h0m-2-1h0m0 3h0m0-2h0m0 2h0m-1-1h0m0-2h0m0 4h0m-2-4h0m0 5h0m-3-4h0m-1 0h0m-1 0h0m-1 2h0m-1-3h0m-1 0h0m-1 1h0m-2 2h0m0-4h0m-3 6h0m0-4h0m-6 2h0m0-3h0m-1 3h0m0 1h0m-1-3h0m-1 2h0m0-2h0m0 0h0m-1 1h0m-1-2h0m0 2h0m-2 3h0m-1-4h0m-35 1h0m0 2h0m-1-5h0m-1 4h0m-6-2h0m-2 2h0m-5-1h0m0 2h0m0-2h0m-1 2h0m-2-1h0m0-1h0m-2 0h0m0 1h0m0-1h0m-1 1h0m0 1h0m-3-2h0m0 3h0m-3-1h0m0 0h0m0-4h0m-2 5h0m-1-6h0m-1 4h0m0-1h0m0 3h0m0-5h0m-2 5h0m-5-2h0m-9 6h0m2 2h0m0-1h0m4-5h0m1 3h0m0 1h0m0 1h0m2-3h0m2-2h0m1 2h0m3-2h0m0 0h0m2 4h0m0-3h0m1 0h0m6 4h0m1-4h0m3 1h0m1-2h0m0 5h0m2-3h0m1 1h0m1-3h0m51 1h0m1-1h0m5 1h0m9 0h0m10 0h0m-61 5h0m-1 1h0m-11 0h0m-7 4h0m-2-1h0m0-1h0m-2 0h0m-2 2h0m-5-2h0m-2-1h0m-1-1h0m-6 4h0m-3 0h0m-1-4h0m-5 1h0m0-1h0m-1 3h0m-4 2h0m3 6h0m10-1h0m0-3h0m3 0h0m7-2h0m3 2h0m1 0h0m4-1h0m3 3h0m2-1h0m-6 6h0m-3-1h0m-2 1h0m-1 0h0m-4 1h0m-2 0h0m-7 0h0" stroke="#5bbccc" stroke-width="5.2" stroke-linecap="round" fill="none"/>
<path d="M1304 1133h0m7-2h0m13 4h0m-3 2h0m-2 0h0m-5 0h0m-13-2h0m-2 4h0m-3-1h0m0 0h0m-1-2h0m-17 9h0m1 0h0m4 0h0m2 0h0m11 0h0m2 0h0m0-2h0m4-3h0m0 0h0m13 2h0m1 1h0m10-2h0m10 1h0m2 2h0m12 7h0m-4 0h0m-7-4h0m-5 0h0m-1 1h0m-4 1h0m-6-2h0m-2 3h0m-1 1h0m-1-2h0m-1-2h0m0 3h0m-2 2h0m-8-2h0m-22-1h0m0 0h0m0 3h0m-1-3h0m-5-2h0m-5-1h0m1 12h0m17-1h0m6-1h0m8 2h0m4-3h0m4 0h0m7 0h0m3-2h0m5 3h0m3 1h0m7-1h0m0-2h0m4-1h0m3 3h0m5 1h0m94 0h0m3-1h0m3 2h0m11-2h0m0 7h0m-3 1h0m-2 0h0m-3-5h0m0 5h0m0-2h0m-7 0h0m-101-3h0m-6 0h0m-2-1h0m-8 6h0m-1-5h0m-5 1h0m-2 0h0m-11 0h0m-1-1h0m-1 0h0m-2 1h0m-1 0h0m-12-1h0m0 1h0m-3-1h0m-10 2h0m-6-3h0m-4 2h0m17 7h0m4 1h0m13-1h0m11 3h0m9-6h0m119 2h0m6 1h0m0 0h0m1 2h0m1-1h0m1-1h0m3 1h0m1-1h0m0 0h0m1-2h0m4 3h0m2 1h0m2 0h0m2-1h0m-3 8h0m-7-3h0m-16 2h0m-13-4h0m-98 2h0m-8 2h0m-3-3h0m-19 0h0m-14 3h0m-2 0h0m-10 0h0m8 3h0m4 2h0m12-3h0m30 3h0m76-3h0m25-1h0m5 6h0m4-2h0m0-2h0m6-1h0m1 0h0m1 3h0m10 0h0m2 2h0m2-2h0m1 0h0m0-1h0m1-1h0m0 3h0m1-1h0m0 2h0m5-6h0m0 3h0m2 2h0m-2 1h0m-4 2h0m-2 1h0m-10-2h0m-7 5h0m0-3h0m-1-1h0m0 2h0m0-2h0m-1 2h0m-3-2h0m-9 1h0m-1-1h0m-4-1h0m-28 4h0m-1-2h0m-99-2h0m-1 1h0m17 9h0m81-1h0m5-3h0m35 1h0m9-2h0m1 3h0m1-3h0m6 2h0m0 3h0m0 1h0m1 0h0m3-2h0m0-2h0m2 1h0m2 2h0m1 1h0m7 0h0m2-6h0m0 1h0m1 1h0m-9 6h0m-2-2h0m-1 1h0m0 0h0m-2 0h0m-2-1h0m-1 4h0m-1-3h0m-1 0h0m-1-1h0m-2 0h0m-3 1h0m-16 0h0m-24 3h0m-81 2h0m-29 2h0m107 1h0m18 2h0m15-2h0m-59 8h0m-2 1h0m31 1h0m-93 6h0m-82 5h0m-21 2h0m186 3h0m-4 7h0m-180-1h0m18 21h0m-16 9h0m10 0h0m159-4h0m-124 11h0m33 11h0m-35-1h0m126 8h0m-70 4h0m-91 3h0m32 3h0m125-3h0m5 7h0m-93 4h0m97 7h0m-89 8h0m88 5h0m-123 17h0" stroke="#d9432f" stroke-width="5.2" stroke-linecap="round" fill="none"/>
<path d="M1323 1137h0m-30 7h0m29 0h0m7 8h0m-2 0h0m0-3h0m-42 3h0m40 3h0m8 2h0m122 0h0m1 1h0m-19 2h0m-102 3h0m-7 1h0m-2 0h0m-2-4h0m-2 1h0m-15 2h0m0-3h0m-1-1h0m-33 2h0m-1 4h0m5 0h0m5 2h0m9 0h0m28 2h0m13 0h0m3-5h0m9 2h0m5 3h0m86 1h0m4-4h0m6 3h0m8-4h0m1 3h0m3 1h0m12 4h0m-10-1h0m-17 2h0m-11 1h0m-2-3h0m-96-1h0m-5-1h0m-1 2h0m0-1h0m-1 1h0m0 1h0m-3 3h0m-20-5h0m-13-1h0m-9 1h0m-1 3h0m-4 0h0m5 2h0m19 4h0m1 1h0m1-4h0m12 4h0m10-3h0m1-1h0m3 3h0m1-3h0m74 4h0m29-5h0m1 5h0m0-3h0m4 1h0m2 1h0m22 1h0m-20 3h0m-1 0h0m-2 1h0m-2 2h0m-1 0h0m-4 0h0m-18-1h0m-13-1h0m-72 0h0m-7-3h0m-17 6h0m-1-3h0m-1 0h0m0-1h0m-26 3h0m-2-5h0m-2 10h0m6 0h0m2 1h0m9-4h0m2 0h0m102 1h0m3-1h0m3 3h0m15 1h0m6-3h0m12-2h0m2 5h0m25-1h0m-6 8h0m-8-3h0m-10-1h0m-6 2h0m-30 0h0m-93 0h0m-16-1h0m-13 2h0m21 6h0m0 0h0m0-5h0m12 5h0m16-1h0m8 0h0m64 0h0m4-2h0m0 1h0m15 2h0m0-3h0m32 2h0m2-2h0m4 2h0m-42 4h0m-36 3h0m-47 0h0m-12-4h0m-9 0h0m-12 5h0m-6-1h0m-8 6h0m4-1h0m0 0h0m4-1h0m18 2h0m4-1h0m6-1h0m16-1h0m6-1h0m35-1h0m18 4h0m13 0h0m12-2h0m14 3h0m-26 2h0m-73 1h0m-18 1h0m-3-2h0m-1 1h0m-1-1h0m-94 10h0m10-3h0m1 0h0m12 4h0m1-2h0m53-1h0m3 0h0m9-2h0m4 2h0m3-3h0m5 1h0m3 3h0m2-3h0m8 4h0m6-5h0m2 2h0m51 1h0m5-1h0m9 3h0m2-2h0m11 2h0m5 0h0m-6 4h0m-2 0h0m0 1h0m-11-3h0m-1 1h0m-8 2h0m-2-2h0m0 2h0m-5-2h0m-10-1h0m-33 4h0m-4-3h0m-2 2h0m-4-2h0m0 3h0m-3 0h0m-2-1h0m0 2h0m-1-2h0m-16-4h0m-17 5h0m-3-4h0m-60 0h0m-23 2h0m-3-2h0m-3 3h0m4 6h0m6-1h0m2-1h0m18 0h0m1 2h0m1-3h0m2 2h0m1-1h0m2 3h0m2-4h0m23 2h0m32 3h0m21-3h0m13 2h0m4-1h0m3-1h0m30 1h0m6 0h0m18 1h0m1-2h0m1-1h0m1 2h0m25 5h0m-17 1h0m-25 0h0m-1-4h0m-2 5h0m-1-2h0m-34 0h0m-1-2h0m-13 2h0m-10-2h0m-3 0h0m-40 0h0m-15 5h0m-9 0h0m-31-5h0m-12 0h0m-2 1h0m-8 5h0m8 3h0m9-3h0m3 3h0m12-1h0m30 1h0m32-4h0m1 6h0m22-5h0m15 4h0m10-3h0m9 3h0m29-4h0m2 1h0m2-2h0m1 3h0m19 1h0m5 0h0m4 1h0m5 0h0m8-4h0m0 1h0m1 2h0m-11 6h0m-9 2h0m0 0h0m-2-5h0m-3 1h0m-4-1h0m-3 3h0m-11-4h0m-32 0h0m-14 3h0m-1 2h0m-27-1h0m-1-2h0m-9 3h0m-6 1h0m-25-4h0m-31 2h0m-3 0h0m-4 2h0m-2-2h0m-6-4h0m0 4h0m-15-1h0m6 9h0m1-2h0m0-2h0m1-1h0m3 2h0m3 2h0m7-3h0m4-1h0m1 1h0m1-1h0m2 0h0m59 1h0m10 3h0m30-1h0m3-3h0m12 1h0m3 2h0m44-2h0m8 1h0m7 0h0m-41 9h0m-6 0h0m-12 0h0m-3 0h0m0-5h0m-2 3h0m-1-2h0m-1 2h0m-1 2h0m-8-5h0m-2 4h0m0-3h0m-2-1h0m-21 5h0m-5-4h0m-3 1h0m-1 0h0m-16 1h0m-26 1h0m-13 1h0m-5-3h0m-25 8h0m12-2h0m4 2h0m30 0h0m19-3h0m9-1h0m3 0h0m49 0h0m1-1h0m8 5h0m14-2h0m3-2h0m13 4h0m11 1h0m17-2h0m-4 5h0m-22-1h0m-22 1h0m-4 3h0m-4-1h0m-12-2h0m-4-1h0m0 0h0m-3 3h0m-11-2h0m-11-1h0m-7 0h0m-6 2h0m-2-4h0m-36 4h0m-24 1h0m0 0h0m-4 0h0m-11-2h0m-7-1h0m6 7h0m17 0h0m1 3h0m3-2h0m4-3h0m9 1h0m25-1h0m37-1h0m3 5h0m24 0h0m12 1h0m11-5h0m6 4h0m1-1h0m13 0h0m10 0h0m12 4h0m-4-1h0m-10 0h0m-1 1h0m-6 1h0m-6 1h0m-1 2h0m-2-2h0m-31-3h0m-10-1h0m-12 6h0m-35-2h0m-3-2h0m-6 3h0m-24 0h0m-5-2h0m-12 1h0m-7-1h0m-9 1h0m-6-3h0m-8 3h0m2 5h0m2 2h0m3-1h0m3-1h0m6 1h0m7-1h0m2-1h0m4 0h0m11 2h0m0 2h0m1-4h0m1 0h0m1 1h0m1 0h0m5 2h0m17 1h0m6-6h0m20 3h0m2-2h0m1 4h0m8 1h0m2-4h0m1-1h0m1 3h0m1-4h0m8 3h0m18-3h0m5 3h0m7-2h0m5 0h0m9 5h0m1-6h0m7 1h0m3 2h0m2-2h0m0 3h0m7 0h0m4-2h0m2 3h0m4-2h0m1-3h0m2 6h0m0-4h0m-2 6h0m-3 0h0m-1 0h0m-5 0h0m-4 0h0m-9 0h0m-25-1h0m-8 1h0m-2 0h0m-19 4h0m-1 0h0m0-4h0m-9 4h0m-2-4h0m0 4h0m-1-2h0m-2-3h0m-1 3h0m-11-3h0m-7-1h0m-4 5h0m-5-4h0m-16 0h0m-3 2h0m-25-1h0m-1 1h0m-1-2h0m-2 0h0m-4 1h0m-5-2h0m-10 2h0m-1-1h0m26 11h0m36-4h0m6 1h0m10 1h0m10 1h0m10 0h0m17-1h0m15-3h0m22 2h0m15 1h0m5-1h0m0-3h0m4 4h0m3-2h0m17 1h0m-9 3h0m-6 2h0m-3 0h0m-20 1h0m-15-1h0m-10 0h0m-2-1h0m-12 0h0m-5-1h0m-20 1h0m0 5h0m-13-3h0m-4 3h0m-25-6h0m2 9h0m5 1h0m1-1h0m5 0h0m13-3h0m2 1h0m9 0h0m5 2h0m0 3h0m4-3h0m1-3h0m2 4h0m30-2h0m6 1h0m20 0h0m19 0h0m4-1h0m5 0h0m-13 9h0m-3-1h0m0-1h0m-8-2h0m-5 3h0m0 0h0m-7 0h0m-1-3h0m-52 1h0m-2 2h0m-3 0h0m-2-2h0m-1 0h0m-1 0h0m0 0h0m-1-1h0m-2-1h0m-9 5h0m-2 0h0m-2-1h0m-9-1h0m-3-1h0m-8-1h0m17 5h0m26 3h0m12-2h0m34 4h0m12-3h0m2 3h0m8-1h0m4-3h0m2 0h0m8 2h0m-7 6h0m-2-1h0m-12-1h0m-3-1h0m-2 4h0m-4 1h0m-1-2h0m-1 1h0m-6 1h0m-1-5h0m-1 2h0m0 0h0m-5 3h0m-47-2h0m-2-1h0m-14-2h0m-2 0h0m-5 5h0m-2-4h0m-1 4h0m0-3h0m-11 9h0m1 0h0m4-2h0m16-1h0m10 2h0m50-3h0m25 3h0m12-2h0m-95 10h0m-15-2h0m0 0h0m-8-1h0m-2 1h0m-3 2h0m-2-5h0m1 9h0m13-2h0m17 4h0m-7 4h0m-4-3h0m-3 1h0m4 5h0m3-1h0" stroke="#5bbccc" stroke-width="5.2" stroke-linecap="round" fill="none"/>
<path d="M1182 1115V1379.7H1491.5" stroke="#000" stroke-width="1.8" fill="none"/>
<path d="M1176.5 1125.1L1182 1125.1" stroke="#000" stroke-width="1.8" fill="none" />
<text x="1172" y="1133.6" font-size="25" text-anchor="end">5.0</text>
<path d="M1176.5 1185.5L1182 1185.5" stroke="#000" stroke-width="1.8" fill="none" />
<text x="1172" y="1194" font-size="25" text-anchor="end">2.5</text>
<path d="M1176.5 1245.5L1182 1245.5" stroke="#000" stroke-width="1.8" fill="none" />
<text x="1172" y="1254" font-size="25" text-anchor="end">0.0</text>
<path d="M1176.5 1305.6L1182 1305.6" stroke="#000" stroke-width="1.8" fill="none" />
<text x="1172" y="1314.1" font-size="25" text-anchor="end">-2.5</text>
<path d="M1176.5 1365.7L1182 1365.7" stroke="#000" stroke-width="1.8" fill="none" />
<text x="1172" y="1374.2" font-size="25" text-anchor="end">-5.0</text>
<path d="M1249 1379.7L1249 1385.2" stroke="#000" stroke-width="1.8" fill="none" />
<text x="1249" y="1410.7" font-size="25" text-anchor="middle">-3</text>
<path d="M1330.5 1379.7L1330.5 1385.2" stroke="#000" stroke-width="1.8" fill="none" />
<text x="1330.5" y="1410.7" font-size="25" text-anchor="middle">0</text>
<path d="M1412.2 1379.7L1412.2 1385.2" stroke="#000" stroke-width="1.8" fill="none" />
<text x="1412.2" y="1410.7" font-size="25" text-anchor="middle">3</text>
<text x="1342" y="1428.5" font-size="25.5" text-anchor="middle">UMAP_1</text>
<text font-size="25.5" text-anchor="middle" transform="translate(1118.8 1240) rotate(-90)">UMAP_2</text>
<circle cx="1195.7" cy="1068.4" r="6.2" fill="#d9432f"/><circle cx="1195.7" cy="1093.7" r="6.2" fill="#5bbccc"/>
<text x="1218.6" y="1074.8" font-size="25.5"><tspan font-style="italic">VIM</tspan><tspan font-size="14" dy="-9.7">high</tspan><tspan dy="9.7"> Macrophages</tspan></text>
<text x="1218.6" y="1104.3" font-size="25.5"><tspan font-style="italic">VIM</tspan><tspan font-size="14" dy="-9.7">low</tspan><tspan dy="9.7"> Macrophages</tspan></text>
<text x="1568" y="1024.7" font-size="27" font-weight="bold">f</text>
<rect x="1673.3" y="1035.6" width="25" height="24.4" fill="#d9432f"/>
<rect x="1673.3" y="1061.2" width="25" height="25" fill="#5bbccc"/>
<text x="1710" y="1054.1" font-size="25.3"><tspan font-style="italic">VIM</tspan><tspan font-size="13.9" dy="-9.6">high</tspan><tspan dy="9.6"> Macrophages</tspan></text>
<text x="1710" y="1083.6" font-size="25.3"><tspan font-style="italic">VIM</tspan><tspan font-size="13.9" dy="-9.6">low</tspan><tspan dy="9.6"> Macrophages</tspan></text>
<path d="M1683.6 1355.7L1987.2 1355.7" stroke="#ebebeb" stroke-width="1.1" fill="none" />
<path d="M1683.6 1296.8L1987.2 1296.8" stroke="#ebebeb" stroke-width="1.1" fill="none" />
<path d="M1683.6 1238L1987.2 1238" stroke="#ebebeb" stroke-width="1.1" fill="none" />
<path d="M1683.6 1179.2L1987.2 1179.2" stroke="#ebebeb" stroke-width="1.1" fill="none" />
<path d="M1683.6 1120.3L1987.2 1120.3" stroke="#ebebeb" stroke-width="1.1" fill="none" />
<path d="M1683.6 1326.3L1987.2 1326.3" stroke="#f2f2f2" stroke-width="0.6" fill="none" />
<path d="M1683.6 1267.4L1987.2 1267.4" stroke="#f2f2f2" stroke-width="0.6" fill="none" />
<path d="M1683.6 1208.6L1987.2 1208.6" stroke="#f2f2f2" stroke-width="0.6" fill="none" />
<path d="M1683.6 1149.7L1987.2 1149.7" stroke="#f2f2f2" stroke-width="0.6" fill="none" />
<path d="M1704.2 1109.1L1704.2 1367.4" stroke="#ebebeb" stroke-width="1.1" fill="none" />
<path d="M1737.2 1109.1L1737.2 1367.4" stroke="#ebebeb" stroke-width="1.1" fill="none" />
<path d="M1770.2 1109.1L1770.2 1367.4" stroke="#ebebeb" stroke-width="1.1" fill="none" />
<path d="M1803.1 1109.1L1803.1 1367.4" stroke="#ebebeb" stroke-width="1.1" fill="none" />
<path d="M1836.1 1109.1L1836.1 1367.4" stroke="#ebebeb" stroke-width="1.1" fill="none" />
<path d="M1869.1 1109.1L1869.1 1367.4" stroke="#ebebeb" stroke-width="1.1" fill="none" />
<path d="M1902.1 1109.1L1902.1 1367.4" stroke="#ebebeb" stroke-width="1.1" fill="none" />
<path d="M1935.1 1109.1L1935.1 1367.4" stroke="#ebebeb" stroke-width="1.1" fill="none" />
<path d="M1968 1109.1L1968 1367.4" stroke="#ebebeb" stroke-width="1.1" fill="none" />
<rect x="1691" y="1126.9" width="26.5" height="228.8" fill="#67bccb"/>
<rect x="1691" y="1120.3" width="26.5" height="6.6" fill="#d9432f"/>
<text x="1705.6" y="1390.1" font-size="25.5" text-anchor="middle">0</text>
<rect x="1723.9" y="1193" width="26.5" height="162.7" fill="#67bccb"/>
<rect x="1723.9" y="1120.3" width="26.5" height="72.7" fill="#d9432f"/>
<text x="1735" y="1390.1" font-size="25.5" text-anchor="middle">1</text>
<rect x="1756.9" y="1120.3" width="26.5" height="235.4" fill="#67bccb"/>
<text x="1769.5" y="1390.1" font-size="25.5" text-anchor="middle">2</text>
<rect x="1789.9" y="1121.7" width="26.5" height="234" fill="#67bccb"/>
<rect x="1789.9" y="1120.3" width="26.5" height="1.4" fill="#d9432f"/>
<text x="1805.1" y="1390.1" font-size="25.5" text-anchor="middle">3</text>
<rect x="1822.9" y="1129.7" width="26.5" height="226" fill="#67bccb"/>
<rect x="1822.9" y="1120.3" width="26.5" height="9.4" fill="#d9432f"/>
<text x="1833.6" y="1390.1" font-size="25.5" text-anchor="middle">4</text>
<rect x="1855.8" y="1128.3" width="26.5" height="227.4" fill="#67bccb"/>
<rect x="1855.8" y="1120.3" width="26.5" height="8" fill="#d9432f"/>
<text x="1868.9" y="1390.1" font-size="25.5" text-anchor="middle">5</text>
<rect x="1888.8" y="1214.2" width="26.5" height="141.5" fill="#67bccb"/>
<rect x="1888.8" y="1120.3" width="26.5" height="93.9" fill="#d9432f"/>
<text x="1904.8" y="1390.1" font-size="25.5" text-anchor="middle">6</text>
<rect x="1921.8" y="1120.3" width="26.5" height="235.4" fill="#67bccb"/>
<text x="1932.1" y="1390.1" font-size="25.5" text-anchor="middle">7</text>
<rect x="1954.8" y="1139.1" width="26.5" height="216.6" fill="#67bccb"/>
<rect x="1954.8" y="1120.3" width="26.5" height="18.8" fill="#d9432f"/>
<text x="1968.9" y="1390.1" font-size="25.5" text-anchor="middle">8</text>
<rect x="1683.6" y="1109.1" width="303.6" height="258.3" fill="none" stroke="#8c8c8c" stroke-width="1.1"/>
<text x="1679" y="1364.7" font-size="25.5" text-anchor="end">0.00</text>
<text x="1679" y="1305.8" font-size="25.5" text-anchor="end">0.25</text>
<text x="1679" y="1247" font-size="25.5" text-anchor="end">0.50</text>
<text x="1679" y="1188.2" font-size="25.5" text-anchor="end">0.75</text>
<text x="1679" y="1129.3" font-size="25.5" text-anchor="end">1.00</text>
<text x="1827.7" y="1423.9" font-size="25.5" text-anchor="middle">Clusters</text>
<text font-size="25.5" text-anchor="middle" transform="translate(1623 1228.9) rotate(-90)">Freq</text>
<text x="0" y="1496" font-size="27" font-weight="bold">g</text>
<rect x="136.5" y="1517.9" width="98.1" height="61" fill="#f2fcc8" stroke="#a3a3a3" stroke-width="2.4"/>
<rect x="234.6" y="1517.9" width="98.2" height="61" fill="#f0fbca" stroke="#a3a3a3" stroke-width="2.4"/>
<text x="339.4" y="1557.2" font-size="20.6" >GOBP_PHAGOCYTOSIS1</text>
<rect x="136.5" y="1578.9" width="98.1" height="61.7" fill="#4f7bb8" stroke="#a3a3a3" stroke-width="2.4"/>
<rect x="234.6" y="1578.9" width="98.2" height="61.7" fill="#a9d3e3" stroke="#a3a3a3" stroke-width="2.4"/>
<text x="339.4" y="1618.5" font-size="20.6" >M1_VS_ALTERNATIVE_M2_MACROPHAGE_DN1</text>
<rect x="136.5" y="1640.6" width="98.1" height="60.4" fill="#d9352c" stroke="#a3a3a3" stroke-width="2.4"/>
<rect x="234.6" y="1640.6" width="98.2" height="60.4" fill="#ee8e5e" stroke="#a3a3a3" stroke-width="2.4"/>
<text x="339.4" y="1679.6" font-size="20.6" >M1_VS_ALTERNATIVE_M2_MACROPHAGE_UP1</text>
<rect x="136.5" y="1701" width="98.1" height="61.1" fill="#f3ed9e" stroke="#a3a3a3" stroke-width="2.4"/>
<rect x="234.6" y="1701" width="98.2" height="61.1" fill="#d6ecf0" stroke="#a3a3a3" stroke-width="2.4"/>
<text x="339.4" y="1740.3" font-size="20.6" >HALLMARK_ANGIOGENESIS1</text>
<rect x="136.5" y="1762.1" width="98.1" height="61" fill="#9fc8de" stroke="#a3a3a3" stroke-width="2.4"/>
<rect x="234.6" y="1762.1" width="98.2" height="61" fill="#84b3d6" stroke="#a3a3a3" stroke-width="2.4"/>
<text x="339.4" y="1801.4" font-size="20.6" >WP_ANGIOGENESIS1</text>
<text x="187.3" y="1848.3" font-size="19.5" text-anchor="middle"><tspan font-style="italic">VIM</tspan><tspan font-size="10.7" dy="-7.4">high</tspan></text>
<text x="294.5" y="1848.3" font-size="19.5" text-anchor="middle"><tspan font-style="italic">VIM</tspan><tspan font-size="10.7" dy="-7.4">low</tspan></text>
<text x="235.8" y="1871" font-size="20.2" text-anchor="middle">Macrophage</text>
<text x="839.7" y="1507.1" font-size="20.7" >Relative enrichment</text>
<linearGradient id="gg" x1="0" y1="1" x2="0" y2="0"><stop offset="0" stop-color="#4575b4"/><stop offset=".167" stop-color="#91bfdb"/><stop offset=".333" stop-color="#e0f3f8"/><stop offset=".5" stop-color="#ffffbf"/><stop offset=".667" stop-color="#fee090"/><stop offset=".833" stop-color="#fc8d59"/><stop offset="1" stop-color="#d73027"/></linearGradient>
<rect x="905" y="1519.1" width="23.9" height="362.7" fill="url(#gg)"/>
<text x="938.5" y="1558" font-size="20.3" >0.4</text>
<text x="938.5" y="1624.4" font-size="20.3" >0.3</text>
<text x="938.5" y="1690.9" font-size="20.3" >0.2</text>
<text x="938.5" y="1756.7" font-size="20.3" >0.1</text>
<text x="938.5" y="1823.1" font-size="20.3" >0</text>
<text x="938.5" y="1889" font-size="20.3" >−0.1</text>
<text x="1086" y="1494.2" font-size="27" font-weight="bold">h</text>
<text x="1328" y="1507.5" font-size="26.7" text-anchor="middle">EHBH cohort</text>
<rect x="1199.6" y="1530.8" width="290" height="284.2" fill="#fff"/>
<path d="M1238.8 1530.8L1238.8 1815" stroke="#efefef" stroke-width="1.2" fill="none" />
<path d="M1291.8 1530.8L1291.8 1815" stroke="#efefef" stroke-width="1.2" fill="none" />
<path d="M1345 1530.8L1345 1815" stroke="#efefef" stroke-width="1.2" fill="none" />
<path d="M1398.1 1530.8L1398.1 1815" stroke="#efefef" stroke-width="1.2" fill="none" />
<path d="M1451.2 1530.8L1451.2 1815" stroke="#efefef" stroke-width="1.2" fill="none" />
<path d="M1199.6 1576.2L1489.6 1576.2" stroke="#efefef" stroke-width="1.2" fill="none" />
<path d="M1199.6 1641L1489.6 1641" stroke="#efefef" stroke-width="1.2" fill="none" />
<path d="M1199.6 1705.8L1489.6 1705.8" stroke="#efefef" stroke-width="1.2" fill="none" />
<path d="M1199.6 1770.4L1489.6 1770.4" stroke="#efefef" stroke-width="1.2" fill="none" />
<path d="M1212.2 1530.8L1212.2 1815" stroke="#e6e6e6" stroke-width="2.4" fill="none" />
<path d="M1212.2 1815L1212.2 1818" stroke="#222" stroke-width="1.3" fill="none" />
<path d="M1265.3 1530.8L1265.3 1815" stroke="#e6e6e6" stroke-width="2.4" fill="none" />
<path d="M1265.3 1815L1265.3 1818" stroke="#222" stroke-width="1.3" fill="none" />
<path d="M1318.4 1530.8L1318.4 1815" stroke="#e6e6e6" stroke-width="2.4" fill="none" />
<path d="M1318.4 1815L1318.4 1818" stroke="#222" stroke-width="1.3" fill="none" />
<path d="M1371.5 1530.8L1371.5 1815" stroke="#e6e6e6" stroke-width="2.4" fill="none" />
<path d="M1371.5 1815L1371.5 1818" stroke="#222" stroke-width="1.3" fill="none" />
<path d="M1424.7 1530.8L1424.7 1815" stroke="#e6e6e6" stroke-width="2.4" fill="none" />
<path d="M1424.7 1815L1424.7 1818" stroke="#222" stroke-width="1.3" fill="none" />
<path d="M1477.8 1530.8L1477.8 1815" stroke="#e6e6e6" stroke-width="2.4" fill="none" />
<path d="M1477.8 1815L1477.8 1818" stroke="#222" stroke-width="1.3" fill="none" />
<path d="M1199.6 1543.9L1489.6 1543.9" stroke="#e6e6e6" stroke-width="2.4" fill="none" />
<path d="M1196.6 1543.9L1199.6 1543.9" stroke="#222" stroke-width="1.3" fill="none" />
<path d="M1199.6 1608.6L1489.6 1608.6" stroke="#e6e6e6" stroke-width="2.4" fill="none" />
<path d="M1196.6 1608.6L1199.6 1608.6" stroke="#222" stroke-width="1.3" fill="none" />
<path d="M1199.6 1673.4L1489.6 1673.4" stroke="#e6e6e6" stroke-width="2.4" fill="none" />
<path d="M1196.6 1673.4L1199.6 1673.4" stroke="#222" stroke-width="1.3" fill="none" />
<path d="M1199.6 1738.1L1489.6 1738.1" stroke="#e6e6e6" stroke-width="2.4" fill="none" />
<path d="M1196.6 1738.1L1199.6 1738.1" stroke="#222" stroke-width="1.3" fill="none" />
<path d="M1199.6 1802.8L1489.6 1802.8" stroke="#e6e6e6" stroke-width="2.4" fill="none" />
<path d="M1196.6 1802.8L1199.6 1802.8" stroke="#222" stroke-width="1.3" fill="none" />
<text x="1209.6" y="1839" font-size="19.8" text-anchor="middle">0</text>
<text x="1269.6" y="1839" font-size="19.8" text-anchor="middle">250</text>
<text x="1322.7" y="1839" font-size="19.8" text-anchor="middle">500</text>
<text x="1376.8" y="1839" font-size="19.8" text-anchor="middle">750</text>
<text x="1433.7" y="1839" font-size="19.8" text-anchor="middle">1000</text>
<text x="1487" y="1839" font-size="19.8" text-anchor="middle">1250</text>
<text x="1193.5" y="1550.9" font-size="19.8" text-anchor="end">1.00</text>
<text x="1193.5" y="1615.6" font-size="19.8" text-anchor="end">0.75</text>
<text x="1193.5" y="1680.4" font-size="19.8" text-anchor="end">0.50</text>
<text x="1193.5" y="1745.1" font-size="19.8" text-anchor="end">0.25</text>
<text x="1193.5" y="1809.8" font-size="19.8" text-anchor="end">0.00</text>
<path d="M1216.2 1546.2H1219.8V1561.7H1223.3V1571.1H1226.9V1587.7H1231.6V1599.6H1235.2V1611.5H1237.5V1629.2H1244.7V1639.9H1250.6V1647H1251.8V1654.2H1255.3V1663.6H1256.5V1677.9H1263.6V1682.6H1266V1694.5H1269.6V1701.6H1276.7V1706.3H1282.6V1711.1H1288.5V1713.4H1289.7V1727.7H1296.8V1732.4H1301.6V1737.2H1308.7V1741.9H1319.4V1744.3H1320.6V1751.4H1333.6V1753.8H1346.6V1757.3H1360.9V1759.7H1376.3V1759.7H1382.2V1763.2H1384.6V1772.7H1390.5V1779.8H1396.4V1784.6H1403.6V1791.7H1417.8V1792.9H1422.5V1799.3H1443.9V1800" stroke="#d9432f" stroke-width="7" fill="none" stroke-linejoin="round" stroke-linecap="round"/>
<path d="M1212.6 1543.9L1237.5 1543.9L1237.5 1572.3L1263.2 1572.3L1263.2 1601.5L1288.5 1601.5L1288.5 1630L1296.4 1630L1296.4 1659.4L1301.6 1659.4L1301.6 1687.4L1390.5 1687.4L1390.5 1716.3L1395.3 1716.3L1395.3 1745.5L1400 1745.5L1400 1774.4L1489.6 1774.4" stroke="#5dbccb" stroke-width="7" fill="none" stroke-linejoin="miter"/>
<path d="M1212.2 1673.4H1301.6M1256 1673.4V1802.8M1301.1 1673.4V1802.8" stroke="#000" stroke-width="3" stroke-dasharray="15 15" fill="none"/>
<rect x="1199.6" y="1530.8" width="290" height="284.2" fill="none" stroke="#333" stroke-width="1.7"/>
<text x="1369.2" y="1571.1" font-size="19.6" >p = 0.034</text>
<text x="1339.5" y="1676.7" font-size="19.6" >low (n=9)</text>
<text x="1276.7" y="1779.8" font-size="19.6" >high (n=71)</text>
<text x="1354.9" y="1860.5" font-size="19.6" text-anchor="middle">Time in Days</text>
<text font-size="19.6" text-anchor="middle" transform="translate(1144.5 1663) rotate(-90)">Survival probability</text>
<text x="1725.9" y="1507.5" font-size="26.7" text-anchor="middle">HCCDB15</text>
<rect x="1571.8" y="1539.4" width="308.6" height="274.3" fill="#fff"/>
<path d="M1620.5 1539.4L1620.5 1813.7" stroke="#efefef" stroke-width="1.2" fill="none" />
<path d="M1691.2 1539.4L1691.2 1813.7" stroke="#efefef" stroke-width="1.2" fill="none" />
<path d="M1761.9 1539.4L1761.9 1813.7" stroke="#efefef" stroke-width="1.2" fill="none" />
<path d="M1832.7 1539.4L1832.7 1813.7" stroke="#efefef" stroke-width="1.2" fill="none" />
<path d="M1571.8 1582.1L1880.4 1582.1" stroke="#efefef" stroke-width="1.2" fill="none" />
<path d="M1571.8 1644.8L1880.4 1644.8" stroke="#efefef" stroke-width="1.2" fill="none" />
<path d="M1571.8 1707.6L1880.4 1707.6" stroke="#efefef" stroke-width="1.2" fill="none" />
<path d="M1571.8 1770.3L1880.4 1770.3" stroke="#efefef" stroke-width="1.2" fill="none" />
<path d="M1585.1 1539.4L1585.1 1813.7" stroke="#e6e6e6" stroke-width="2.4" fill="none" />
<path d="M1585.1 1813.7L1585.1 1816.7" stroke="#222" stroke-width="1.3" fill="none" />
<path d="M1655.9 1539.4L1655.9 1813.7" stroke="#e6e6e6" stroke-width="2.4" fill="none" />
<path d="M1655.9 1813.7L1655.9 1816.7" stroke="#222" stroke-width="1.3" fill="none" />
<path d="M1726.6 1539.4L1726.6 1813.7" stroke="#e6e6e6" stroke-width="2.4" fill="none" />
<path d="M1726.6 1813.7L1726.6 1816.7" stroke="#222" stroke-width="1.3" fill="none" />
<path d="M1797.3 1539.4L1797.3 1813.7" stroke="#e6e6e6" stroke-width="2.4" fill="none" />
<path d="M1797.3 1813.7L1797.3 1816.7" stroke="#222" stroke-width="1.3" fill="none" />
<path d="M1868.1 1539.4L1868.1 1813.7" stroke="#e6e6e6" stroke-width="2.4" fill="none" />
<path d="M1868.1 1813.7L1868.1 1816.7" stroke="#222" stroke-width="1.3" fill="none" />
<path d="M1571.8 1550.7L1880.4 1550.7" stroke="#e6e6e6" stroke-width="2.4" fill="none" />
<path d="M1568.8 1550.7L1571.8 1550.7" stroke="#222" stroke-width="1.3" fill="none" />
<path d="M1571.8 1613.5L1880.4 1613.5" stroke="#e6e6e6" stroke-width="2.4" fill="none" />
<path d="M1568.8 1613.5L1571.8 1613.5" stroke="#222" stroke-width="1.3" fill="none" />
<path d="M1571.8 1676.2L1880.4 1676.2" stroke="#e6e6e6" stroke-width="2.4" fill="none" />
<path d="M1568.8 1676.2L1571.8 1676.2" stroke="#222" stroke-width="1.3" fill="none" />
<path d="M1571.8 1738.9L1880.4 1738.9" stroke="#e6e6e6" stroke-width="2.4" fill="none" />
<path d="M1568.8 1738.9L1571.8 1738.9" stroke="#222" stroke-width="1.3" fill="none" />
<path d="M1571.8 1801.7L1880.4 1801.7" stroke="#e6e6e6" stroke-width="2.4" fill="none" />
<path d="M1568.8 1801.7L1571.8 1801.7" stroke="#222" stroke-width="1.3" fill="none" />
<text x="1585.1" y="1839" font-size="19.8" text-anchor="middle">0</text>
<text x="1666.9" y="1839" font-size="19.8" text-anchor="middle">1000</text>
<text x="1736.3" y="1839" font-size="19.8" text-anchor="middle">2000</text>
<text x="1806.4" y="1839" font-size="19.8" text-anchor="middle">3000</text>
<text x="1877.1" y="1839" font-size="19.8" text-anchor="middle">4000</text>
<text x="1567.4" y="1557.7" font-size="19.8" text-anchor="end">1.00</text>
<text x="1567.4" y="1620.5" font-size="19.8" text-anchor="end">0.75</text>
<text x="1567.4" y="1683.2" font-size="19.8" text-anchor="end">0.50</text>
<text x="1567.4" y="1745.9" font-size="19.8" text-anchor="end">0.25</text>
<text x="1567.4" y="1808.7" font-size="19.8" text-anchor="end">0.00</text>
<path d="M1585.1 1555.1H1585.6V1557H1588.4V1569.4H1590.1V1576.8H1592.2V1581.6H1599.4V1598.5H1600.1V1600.1H1604.3V1610.6H1606.8V1616.8H1609.3V1623.8H1613V1634.1H1615.1V1640.2H1623.6V1648.6H1626.8V1651.8H1629V1654H1636.8V1661.8H1675.2V1663.5H1675.2V1675.2H1680.9V1675.2H1681.9V1701.9H1703.6V1701.9H1703.6V1736.9H1733.6V1736.9H1733.6V1758.6H1760.3V1758.6H1760.3V1780.3" stroke="#d9432f" stroke-width="6" fill="none" stroke-linejoin="round"/>
<path d="M1585.1 1550.1H1586.4V1551.5H1588.7V1554H1597.1V1563.4H1600.1V1566.7H1601.7V1568.8H1607.4V1576.1H1608.1V1577.1H1609.8V1579.4H1616.8V1588.4H1618.7V1590.9H1619.5V1591.9H1623.3V1596.9H1629.1V1604.4H1633.5V1610.1H1639.2V1619.5H1640.4V1621.3H1641.3V1622.9H1643.3V1626.1H1646.8V1631.8H1651.6V1634.2H1662.8V1639.8H1663.5V1640.2H1669.4V1644.1H1676.5V1648.8H1677.5V1649.5H1683.6V1653.5H1683.6V1653.5H1689.5V1657.5H1703V1666.5H1703.6V1666.9H1707.8V1670H1715.5V1675.8H1716.9V1676.9H1726.4V1678.4H1728.6V1678.8H1732.4V1679.4H1736.9V1680.2H1737.6V1680.3H1744.4V1680.8H1751.1V1681.4H1757V1681.9H1757V1693.6H1763.6V1693.6H1763.6V1711.9H1805.4V1711.9H1805.4V1728.6H1813.7V1728.6H1813.7V1741.9H1843.7V1741.9" stroke="#5dbccb" stroke-width="6" fill="none" stroke-linejoin="round"/>
<path d="M1584.4 1550.8h8M1588.4 1546.8v8M1587.1 1553.3h8M1591.1 1549.3v8M1590.1 1553.3h8M1594.1 1549.3v8M1593.4 1562.8h8M1597.4 1558.8v8M1595.6 1562.8h8M1599.6 1558.8v8M1599.3 1568.1h8M1603.3 1564.1v8M1602.6 1568.1h8M1606.6 1564.1v8M1604 1575.5h8M1608 1571.5v8M1608.5 1578.7h8M1612.5 1574.7v8M1610.6 1578.7h8M1614.6 1574.7v8M1613.8 1587.8h8M1617.8 1583.8v8M1616.1 1591.2h8M1620.1 1587.2v8M1620.2 1596.3h8M1624.2 1592.3v8M1622.4 1596.3h8M1626.4 1592.3v8M1626.6 1603.7h8M1630.6 1599.7v8M1628.4 1603.7h8M1632.4 1599.7v8M1632 1609.5h8M1636 1605.5v8M1634.6 1609.5h8M1638.6 1605.5v8M1638.1 1622.2h8M1642.1 1618.2v8M1640.2 1625.5h8M1644.2 1621.5v8M1643.2 1631.1h8M1647.2 1627.1v8M1647.3 1631.1h8M1651.3 1627.1v8M1650.4 1633.5h8M1654.4 1629.5v8M1653 1633.5h8M1657 1629.5v8M1656.7 1633.5h8M1660.7 1629.5v8M1658.3 1633.5h8M1662.3 1629.5v8M1662.6 1639.5h8M1666.6 1635.5v8M1664.2 1639.5h8M1668.2 1635.5v8M1668.8 1643.4h8M1672.8 1639.4v8M1671.1 1643.4h8M1675.1 1639.4v8M1674.1 1648.8h8M1678.1 1644.8v8M1677.8 1648.8h8M1681.8 1644.8v8M1680.5 1652.9h8M1684.5 1648.9v8M1683.5 1652.9h8M1687.5 1648.9v8M1685 1652.9h8M1689 1648.9v8M1688.6 1656.8h8M1692.6 1652.8v8M1691.1 1656.8h8M1695.1 1652.8v8M1694.3 1656.8h8M1698.3 1652.8v8M1697.3 1656.8h8M1701.3 1652.8v8M1701.6 1666.2h8M1705.6 1662.2v8M1703.2 1666.2h8M1707.2 1662.2v8M1706.5 1669.3h8M1710.5 1665.3v8M1709.9 1669.3h8M1713.9 1665.3v8M1713.6 1676.2h8M1717.6 1672.2v8M1716.9 1676.2h8M1720.9 1672.2v8M1719.3 1676.2h8M1723.3 1672.2v8M1721.4 1676.2h8M1725.4 1672.2v8M1725 1678.2h8M1729 1674.2v8M1728.4 1678.2h8M1732.4 1674.2v8M1730 1678.8h8M1734 1674.8v8M1734.3 1679.6h8M1738.3 1675.6v8M1736.7 1679.6h8M1740.7 1675.6v8M1740.1 1679.6h8M1744.1 1675.6v8M1743.3 1680.2h8M1747.3 1676.2v8M1746.3 1680.2h8M1750.3 1676.2v8M1749 1680.7h8M1753 1676.7v8M1752.1 1680.7h8M1756.1 1676.7v8M1754.4 1692.9h8M1758.4 1688.9v8M1776.3 1708.6h8M1780.3 1704.6v8M1823 1738.6h8M1827 1734.6v8M1828.1 1738.6h8M1832.1 1734.6v8M1834.7 1739.6h8M1838.7 1735.6v8M1843.1 1738.9h8M1847.1 1734.9v8" stroke="#5dbccb" stroke-width="1.2" fill="none"/>
<path d="M1592.8 1589.4h8M1596.8 1585.4v8M1601.1 1606.8h8M1605.1 1602.8v8M1609.5 1615.1h8M1613.5 1611.1v8M1621.2 1638.5h8M1625.2 1634.5v8M1629.5 1650.2h8M1633.5 1646.2v8M1636.2 1654.2h8M1640.2 1650.2v8M1646.2 1656.8h8M1650.2 1652.8v8M1677.9 1671.9h8M1681.9 1667.9v8M1696.9 1699.6h8M1700.9 1695.6v8M1760.3 1777h8M1764.3 1773v8" stroke="#d9432f" stroke-width="1.2" fill="none"/>
<path d="M1585.1 1676.2H1716.9M1681.2 1676.2V1801.7M1715.9 1676.2V1801.7" stroke="#000" stroke-width="3" stroke-dasharray="15 15" fill="none"/>
<rect x="1571.8" y="1539.4" width="308.6" height="274.3" fill="none" stroke="#333" stroke-width="1.7"/>
<text x="1733.6" y="1580.1" font-size="19.6" >p = 0.0066</text>
<text x="1777" y="1690.2" font-size="19.6" >low (n=301)</text>
<text x="1768.6" y="1802" font-size="19.6" >high (n=50)</text>
<text x="1741" y="1862.1" font-size="19.6" text-anchor="middle">Time in Days</text>
<text font-size="19.6" text-anchor="middle" transform="translate(1516.8 1671.9) rotate(-90)">Survival probability</text>
<text x="1951.5" y="1595.1" font-size="19.7" text-anchor="middle">Signature</text>
<text x="1951.5" y="1618.5" font-size="19.7" text-anchor="middle">score of</text>
<text x="1951.5" y="1641.8" font-size="19.7" text-anchor="middle"><tspan font-style="italic">VIM</tspan><tspan font-size="10.8" dy="-7.5">high</tspan></text>
<text x="1954.2" y="1666.9" font-size="19.7" text-anchor="middle">Macrophages</text>
<rect x="1920.5" y="1686.9" width="20" height="8.3" fill="#d9432f"/>
<rect x="1920.5" y="1723.6" width="20" height="8.3" fill="#5dbccb"/>
<text x="1954.9" y="1696.5" font-size="19.7" >high</text>
<text x="1954.9" y="1733.5" font-size="19.7" >low</text>
<text x="0" y="1947.5" font-size="24" font-weight="bold">i</text>
<text x="280.8" y="1985.1" font-size="25" text-anchor="middle">EHBH cohort</text>
<path d="M146.4 2242.1L172.6 2226.5L198.8 2210.8L225 2194.9L251.2 2178.8L277.4 2162.6L303.6 2146L329.8 2128.9L356 2111.4L382.2 2093.8L408.4 2076L434.6 2058L460.8 2039.9L460.8 2054.9L434.6 2070.5L408.4 2086.2L382.2 2102.1L356 2118.2L329.8 2134.4L303.6 2151L277.4 2168.1L251.2 2185.6L225 2203.2L198.8 2221L172.6 2239L146.4 2257.1Z" fill="#cfc7b4" fill-opacity="0.6"/>
<path d="M272 2251h0m-81 24h0m46-152h0m-12 117h0m-31 6h0m43-92h0m167-78h0m-57 42h0m-86 88h0m-42 37h0m-34-57h0m6-12h0m-11 79h0m83-112h0m-34 63h0m27-18h0m-9 23h0m-25-17h0m25-66h0m-46 102h0m37-52h0m17-3h0m-22 20h0m-26-3h0m40 0h0m34-16h0m-79-15h0m-5 59h0m55-61h0m2 28h0m-99 61h0m74-47h0m10 6h0m36-63h0m-7 5h0m-67 122h0m-12-105h0m126-68h0m-69 127h0m-14-17h0m-45 5h0m76-97h0m135-18h0m-106 17h0m-116 90h0m139-34h0m-159 61h0m54-16h0m36-40h0m-53 88h0m73-99h0m6-16h0m-47 88h0m-76-16h0m115 5h0m36-104h0m-104 104h0m137-112h0m-88 100h0m75-79h0m-154 128h0m99-128h0m78-24h0m-72 3h0m112 45h0m-142 60h0m-56 9h0m73-42h0m161-145h0m-237 230h0m98-116h0m33 2h0m-109 63h0m71-25h0m-101 89h0m138-183h0m-129 150h0m17-43h0m26-13h0" stroke="#e0503f" stroke-width="9.8" stroke-linecap="round" fill="none" stroke-opacity="0.78"/>
<path d="M170 2230h0m77-103h0m-64 51h0m201-107h0m-218 164h0m17-7h0m9 1h0m78-60h0m91-67h0m-49 15h0m-83 81h0m-4-81h0m30 97h0m-22-82h0m-63 116h0m-2-11h0m55-49h0m109-85h0m-158 97h0m33 28h0m95-129h0m-92 151h0m18-91h0m13 3h0m-50 100h0m42-67h0m-19 6h0m53 33h0m-25-50h0m15 8h0m-74 45h0m35-16h0m142-138h0m-148 199h0m106-153h0m-79 81h0m32-72h0m-60 49h0m98-56h0m76-104h0m-100 81h0m-36 104h0m-12-14h0m118-39h0m-189 103h0m44-60h0m4 1h0m-35 88h0m27-36h0m1-15h0m87-64h0m2-26h0m-55 20h0m6 52h0m-55-76h0m-30 69h0m168-118h0m-153 125h0m81-40h0m-35 2h0m130-92h0m-129 88h0m-15-3h0m55 42h0m-73-25h0m55 18h0m-5-47h0m1 48h0m65-68h0m-107 24h0m62 57h0m27-53h0m-105 55h0m-19 45h0m44-153h0m163 29h0m-103 44h0m-82 49h0" stroke="#e0503f" stroke-width="9.8" stroke-linecap="round" fill="none" stroke-opacity="0.78"/>
<path d="M220 2146h0m-38 62h0m20-15h0m109-42h0m-110 53h0m60-6h0m-61 16h0m26-28h0m129-64h0m-138 104h0m122-116h0m-134 110h0m57-45h0m-58 41h0m110-93h0m-73 66h0m123-34h0m-17-38h0m-187 86h0m177-69h0m-137 105h0m3-49h0m20 17h0m90-105h0m-135 159h0m75-64h0m-45 34h0m3-33h0m154-161h0m-138 192h0m107-113h0m-70 29h0m-64 55h0m-16 34h0m160-150h0m-9 51h0m-127 26h0m55 9h0m-67 79h0m134-117h0m-97 46h0m24-18h0m-49 89h0m42-37h0m104-98h0m-37 53h0m-18-23h0m39-34h0m-154 128h0m18-34h0m44-79h0m100-11h0m-85 82h0m27-28h0m36-24h0m3-21h0m-145 127h0m162-151h0m-85 92h0m-24 17h0m71-42h0m-83 41h0m-57-4h0m147-24h0m100-70h0m-179 86h0m-26 41h0m-2-1h0m-40 18h0m29-17h0m17-69h0m74-36h0m-20 49h0m-18-18h0m-49 25h0m130-7h0m-128 60h0m-30-15h0" stroke="#e0503f" stroke-width="9.8" stroke-linecap="round" fill="none" stroke-opacity="0.78"/>
<path d="M146.4 2249.6L460.8 2047.4" stroke="#7a6246" stroke-width="3.8" fill="none" />
<path d="M130.1 2006.8V2303.8H475.9" stroke="#000" stroke-width="2.1" fill="none"/>
<path d="M192.4 2303.8L192.4 2309" stroke="#000" stroke-width="2.1" fill="none" />
<text x="192.4" y="2333.7" font-size="24.5" text-anchor="middle">2.0</text>
<path d="M270 2303.8L270 2309" stroke="#000" stroke-width="2.1" fill="none" />
<text x="270" y="2333.7" font-size="24.5" text-anchor="middle">2.5</text>
<path d="M347.5 2303.8L347.5 2309" stroke="#000" stroke-width="2.1" fill="none" />
<text x="347.5" y="2333.7" font-size="24.5" text-anchor="middle">3.0</text>
<path d="M425.5 2303.8L425.5 2309" stroke="#000" stroke-width="2.1" fill="none" />
<text x="425.5" y="2333.7" font-size="24.5" text-anchor="middle">3.5</text>
<path d="M125 2055.6L130.1 2055.6" stroke="#000" stroke-width="2.1" fill="none" />
<text x="120.3" y="2064.3" font-size="24.5" text-anchor="end">8</text>
<path d="M125 2117.9L130.1 2117.9" stroke="#000" stroke-width="2.1" fill="none" />
<text x="120.3" y="2126.6" font-size="24.5" text-anchor="end">7</text>
<path d="M125 2179.7L130.1 2179.7" stroke="#000" stroke-width="2.1" fill="none" />
<text x="120.3" y="2188.4" font-size="24.5" text-anchor="end">6</text>
<path d="M125 2241.5L130.1 2241.5" stroke="#000" stroke-width="2.1" fill="none" />
<text x="120.3" y="2250.2" font-size="24.5" text-anchor="end">5</text>
<path d="M125 2303.8L130.1 2303.8" stroke="#000" stroke-width="2.1" fill="none" />
<text x="120.3" y="2312.5" font-size="24.5" text-anchor="end">4</text>
<text x="307.4" y="2365.1" font-size="25.2" text-anchor="middle">Signature score of Treg</text>
<text font-size="25" text-anchor="middle" transform="translate(65.9 2179.2) rotate(-90)">Signature score of</text>
<g transform="translate(95.7 2179.2) rotate(-90)"><text x="0" y="0" font-size="25" text-anchor="middle"><tspan font-style="italic">VIM</tspan><tspan font-size="13.8" dy="-9.5">high</tspan><tspan dy="9.5"> Macrophages</tspan></text></g>
<text x="169.1" y="2057.2" font-size="24" word-spacing="-3">R = 0.8</text>
<text x="146.4" y="2094" font-size="24" word-spacing="-3">p = 0e+00</text>
<text x="722.6" y="1980.2" font-size="25" text-anchor="middle">HCCDB15</text>
<path d="M585.4 2219.7L610.7 2208.9L636 2197.9L661.3 2186.7L686.6 2175.3L711.9 2163.5L737.2 2151.3L762.5 2138.4L787.8 2125L813.1 2111.4L838.4 2097.5L863.7 2083.3L889 2069L889 2091L863.7 2101.8L838.4 2112.8L813.1 2124L787.8 2135.4L762.5 2147.2L737.2 2159.3L711.9 2172.3L686.6 2185.7L661.3 2199.3L636 2213.2L610.7 2227.4L585.4 2241.7Z" fill="#cfc7b4" fill-opacity="0.6"/>
<path d="M685 2202h0m89-123h0m-27 151h0m-51-118h0m104 67h0m-8-42h0m-88 10h0m88-14h0m-109 84h0m61-57h0m-17 8h0m144-88h0m-124 11h0m65 88h0m-109-38h0m-1 111h0m-11-22h0m10-2h0m-15-26h0m29-32h0m-51 25h0m90-15h0m-40-83h0m34 66h0m-67 37h0m10-14h0m-5-11h0m111-29h0m5-10h0m2-28h0m-55 62h0m15-67h0m-33 24h0m-15 94h0m122-40h0m-32-49h0m-78 48h0m30-80h0m-117 129h0m131 6h0m-62-124h0m64 53h0m6-68h0m-61 97h0m21-1h0m-41-9h0m79 3h0m-13-100h0m21 19h0m21 69h0m-40-37h0m39 6h0m-161 65h0m72-93h0m94 28h0m-35 25h0m-112 73h0m111-105h0m-89 156h0m103-168h0m-98 65h0m52 2h0m16-161h0m44 57h0m-126 36h0m21 61h0m4 44h0m41-59h0m0-67h0m4 42h0m-93 26h0m82-91h0m-10 139h0m-14-60h0m72-85h0m1 33h0m-36 25h0m25-37h0m-73 79h0m138-15h0m-118 72h0m-44-69h0m12 4h0m17-23h0m-1 79h0m-90-19h0m178-99h0m-113 99h0m41-127h0m41-10h0m-43 44h0m55 115h0m-101-32h0m81-158h0m-85 150h0m109-66h0m-125 51h0m1 97h0m107-94h0m-30-28h0m-121 117h0m101-57h0m55-38h0m-69 69h0m-14-108h0m144-31h0m-118 109h0m-36-17h0m101-75h0m-16 27h0m-27 16h0m20 24h0m57-73h0m-30 66h0" stroke="#e0503f" stroke-width="9.8" stroke-linecap="round" fill="none" stroke-opacity="0.78"/>
<path d="M693 2082h0m55 53h0m-61-95h0m101 90h0m-59-16h0m-36 78h0m13-88h0m9 31h0m-78 68h0m242-135h0m-135 53h0m-46 66h0m84-16h0m-64 16h0m24 26h0m4-56h0m38-58h0m-67 12h0m41-7h0m-8 28h0m10 41h0m-92-40h0m68 22h0m25 7h0m1 35h0m-44 22h0m19-72h0m-55 24h0m66 36h0m-20-37h0m-53-16h0m41-34h0m73 20h0m-76 52h0m-37 28h0m-5 33h0m8-26h0m20-25h0m84-75h0m-93-4h0m84 80h0m-102-45h0m33 55h0m-35 81h0m-31-93h0m55-36h0m-12-27h0m23 39h0m83-43h0m-58 42h0m21-38h0m-11 57h0m-52 5h0m-47-20h0m100-64h0m55-28h0m-143 144h0m21 0h0m68-41h0m-75 57h0m-21-58h0m119 27h0m52-50h0m-38-101h0m-60 104h0m93-51h0m-84 83h0m-46 50h0m171-183h0m-157 156h0m59-65h0m-26 0h0m14 11h0m-43-73h0m22 42h0m8 83h0m-48-26h0m80-80h0m40 35h0m-66 38h0m28 11h0m21 8h0m28-107h0m-112 78h0m-9-30h0m52 30h0m2 31h0m-32-38h0m47-81h0m14-28h0m-1 116h0m-46-91h0m-26 43h0m76-78h0m-79 26h0m27 137h0m60-44h0m-81 22h0m55-114h0m-160 149h0m206-150h0m-41 37h0m54-16h0m-37 61h0m-102-64h0m-74 80h0m66-12h0m-19-52h0m74 38h0m108-40h0m-42 46h0m19-46h0m-60 54h0" stroke="#e0503f" stroke-width="9.8" stroke-linecap="round" fill="none" stroke-opacity="0.78"/>
<path d="M703 2176h0m111-65h0m-202 22h0m129 22h0m-61 104h0m80-151h0m-94 166h0m-3-68h0m55-82h0m93-25h0m-76 50h0m108-60h0m-41 66h0m-101 138h0m-20-140h0m45 122h0m49-94h0m-57 8h0m12-60h0m-19 58h0m16 25h0m-74-48h0m26-18h0m-5 52h0m28-79h0m-37 57h0m73 0h0m36-47h0m-122 120h0m114-129h0m7-30h0m-78 79h0m45-52h0m-51 86h0m-38-13h0m66-13h0m45-95h0m-26 39h0m-62 132h0m3-18h0m144-93h0m-151 46h0m144-31h0m-25-137h0m-134 186h0m126-101h0m-192 152h0m78-4h0m74-19h0m-44-14h0m28-35h0m37-17h0m-98 74h0m-20-63h0m137-60h0m-76 97h0m-42-39h0m33 36h0m74-105h0m-82 133h0m147-148h0m-31 14h0m-72 62h0m57-117h0m10 63h0m-16 52h0m5-19h0m-12-83h0m-61 134h0m2-35h0m-18 24h0m82-76h0m-25 81h0m-57-137h0m74 129h0m-54 36h0m-10 23h0m6-68h0m15 29h0m-6-52h0m105-63h0m-101 123h0m27-56h0m-50 26h0m-103 33h0m120-21h0m28-61h0m-40-85h0m17 123h0m-26 32h0m-75-12h0m70-1h0m34 27h0m59-86h0m-131-22h0m121 2h0m-53-3h0m60 40h0m-29-14h0m16 142h0m-6-143h0m-39 41h0m-28-6h0m-83 62h0m87-101h0m-4 70h0m42-156h0m-53 233h0m47-138h0m-11-10h0m-11-25h0m-16 77h0m17 8h0" stroke="#e0503f" stroke-width="9.8" stroke-linecap="round" fill="none" stroke-opacity="0.78"/>
<path d="M585.4 2230.7L889 2080" stroke="#7a6246" stroke-width="3.8" fill="none" />
<path d="M570.8 2010V2309.3H902.5" stroke="#000" stroke-width="2.1" fill="none"/>
<path d="M607.1 2309.3L607.1 2314.5" stroke="#000" stroke-width="2.1" fill="none" />
<text x="607.1" y="2336.4" font-size="24.5" text-anchor="middle">5</text>
<path d="M707.9 2309.3L707.9 2314.5" stroke="#000" stroke-width="2.1" fill="none" />
<text x="707.9" y="2336.4" font-size="24.5" text-anchor="middle">6</text>
<path d="M809.3 2309.3L809.3 2314.5" stroke="#000" stroke-width="2.1" fill="none" />
<text x="809.3" y="2336.4" font-size="24.5" text-anchor="middle">7</text>
<path d="M565.7 2045.3L570.8 2045.3" stroke="#000" stroke-width="2.1" fill="none" />
<text x="563.7" y="2054" font-size="24.5" text-anchor="end">12</text>
<path d="M565.7 2134.2L570.8 2134.2" stroke="#000" stroke-width="2.1" fill="none" />
<text x="563.7" y="2142.9" font-size="24.5" text-anchor="end">11</text>
<path d="M565.7 2223.6L570.8 2223.6" stroke="#000" stroke-width="2.1" fill="none" />
<text x="563.7" y="2232.3" font-size="24.5" text-anchor="end">10</text>
<text x="721" y="2367.3" font-size="25.2" text-anchor="middle">Signature score of Treg</text>
<text font-size="25" text-anchor="middle" transform="translate(503.4 2177.5) rotate(-90)">Signature score of</text>
<g transform="translate(533.2 2177.5) rotate(-90)"><text x="0" y="0" font-size="25" text-anchor="middle"><tspan font-style="italic">VIM</tspan><tspan font-size="13.8" dy="-9.5">high</tspan><tspan dy="9.5"> Macrophages</tspan></text></g>
<text x="602.8" y="2061" font-size="24" word-spacing="-3">R = 0.49</text>
<text x="585.4" y="2096.8" font-size="24" word-spacing="-3">p = 0e+00</text>
<text x="951" y="1949" font-size="27" font-weight="bold">j</text>
<text x="1046.3" y="1943.8" font-size="28.4" >227312-T</text>
<linearGradient id="gj" x1="0" y1="1" x2="0" y2="0"><stop offset="0" stop-color="#000004"/><stop offset="0.13" stop-color="#220e50"/><stop offset="0.25" stop-color="#48187a"/><stop offset="0.38" stop-color="#702a8c"/><stop offset="0.50" stop-color="#9c347e"/><stop offset="0.62" stop-color="#c83e55"/><stop offset="0.72" stop-color="#e85a32"/><stop offset="0.82" stop-color="#f68c1e"/><stop offset="0.91" stop-color="#fac346"/><stop offset="1" stop-color="#fcffa4"/></linearGradient>
<text x="1149.4" y="1987" font-size="24.7" text-anchor="middle">UMI counts</text>
<rect x="1035.7" y="1993.5" width="220.6" height="231.1" fill="#fff"/>
<path d="M1073.7 1993.5L1073.7 2224.6" stroke="#ececec" stroke-width="1" fill="none" />
<path d="M1035.7 2035.7L1256.3 2035.7" stroke="#ececec" stroke-width="1" fill="none" />
<path d="M1121.6 1993.5L1121.6 2224.6" stroke="#ececec" stroke-width="1" fill="none" />
<path d="M1035.7 2086L1256.3 2086" stroke="#ececec" stroke-width="1" fill="none" />
<path d="M1169.6 1993.5L1169.6 2224.6" stroke="#ececec" stroke-width="1" fill="none" />
<path d="M1035.7 2136.2L1256.3 2136.2" stroke="#ececec" stroke-width="1" fill="none" />
<path d="M1217.5 1993.5L1217.5 2224.6" stroke="#ececec" stroke-width="1" fill="none" />
<path d="M1035.7 2186.5L1256.3 2186.5" stroke="#ececec" stroke-width="1" fill="none" />
<path d="M1.5 18.6L10.4 13.8L25.3 14.9L36.5 22.4L53.3 33.5L47 14.9L41 0L206.1 0.7L206.1 69.3L185.6 79L163.2 90.2L133.4 106.6L105.5 125.2L96.1 130.4L62.6 138.6L1.1 143.5ZM1.1 146.5L62.6 142.4L99.9 134.2L126 117.8L155.8 106.6L185.6 95.4L206.1 89.4L205 145.3L200.5 156.5L185.6 171.4L178.1 186.3L163.2 205L155.8 216.1L4.8 216.1L0 205Z" transform="translate(1043.1 2001)" fill="#4e1b7d"/>
<g transform="translate(1044.3 2002.2) scale(1.710 2.960)" fill="none" stroke-width="3.9" stroke-linecap="round"><path d="M54 10h0m-7 1h0m16 0h0m-46 2h0m8 0h0m6 0h0m4 0h0m4 0h0m8 0h0m-7 1h0m6 0h0m12 0h0m-23 1h0m5 1h0m-19 1h0m6 0h0m2 0h0m10 0h0m4 0h0m4 0h0m2 0h0m-21 1h0m2 0h0m20 0h0m8 0h0m-39 1h0m2 0h0m30 0h0m8 0h0m-45 1h0m2 0h0m6 0h0m18 0h0m4 0h0m-39 1h0m6 0h0m8 0h0m12 0h0m2 0h0m18 0h0m4 0h0m8 0h0m-59 1h0m14 0h0m4 0h0m10 0h0m8 0h0m2 0h0m6 0h0m-43 1h0m10 0h0m12 0h0m4 0h0m20 0h0m4 0h0m2 0h0m2 0h0m8 0h0m44 0h0m-75 1h0m4 0h0m8 0h0m18 0h0m-45 1h0m18 0h0m6 0h0m8 0h0m4 0h0m-51 1h0m2 0h0m4 0h0m2 0h0m24 0h0m2 0h0m2 0h0m12 0h0m16 0h0m-55 1h0m4 0h0m4 0h0m6 0h0m2 0h0m10 0h0m8 0h0m8 0h0m2 0h0m24 0h0m-73 1h0m18 0h0m2 0h0m8 0h0m6 0h0m2 0h0m4 0h0m6 0h0m2 0h0m12 0h0m2 0h0m-45 1h0m2 0h0m10 0h0m4 0h0m2 0h0m2 0h0m8 0h0m4 0h0m12 0h0m-69 1h0m8 0h0m14 0h0m4 0h0m2 0h0m2 0h0m2 0h0m4 0h0m2 0h0m2 0h0m2 0h0m6 0h0m2 0h0m6 0h0m2 0h0m14 0h0m-73 1h0m6 0h0m14 0h0m6 0h0m12 0h0m2 0h0m6 0h0m4 0h0m2 0h0m22 0h0m4 0h0m-69 1h0m12 0h0m4 0h0m6 0h0m14 0h0m4 0h0m2 0h0m2 0h0m26 0h0m-79 1h0m14 0h0m6 0h0m2 0h0m8 0h0m6 0h0m2 0h0m4 0h0m4 0h0m2 0h0m4 0h0m2 0h0m24 0h0m2 0h0m-65 1h0m2 0h0m2 0h0m10 0h0m8 0h0m6 0h0m10 0h0m-37 1h0m18 0h0m2 0h0m2 0h0m2 0h0m4 0h0m4 0h0m2 0h0m6 0h0m-47 1h0m2 0h0m14 0h0m2 0h0m2 0h0m2 0h0m2 0h0m4 0h0m14 0h0m-39 1h0m6 0h0m2 0h0m8 0h0m2 0h0m16 0h0m2 0h0m2 0h0m10 0h0m-59 1h0m12 0h0m4 0h0m8 0h0m2 0h0m2 0h0m16 0h0m2 0h0m6 0h0m12 0h0m-59 1h0m12 0h0m2 0h0m2 0h0m4 0h0m4 0h0m2 0h0m4 0h0m4 0h0m12 0h0m6 0h0m6 0h0m2 0h0m12 0h0m-77 1h0m2 0h0m4 0h0m6 0h0m10 0h0m2 0h0m6 0h0m10 0h0m6 0h0m6 0h0m20 0h0m-65 1h0m4 0h0m10 0h0m2 0h0m2 0h0m2 0h0m4 0h0m6 0h0m12 0h0m6 0h0m2 0h0m4 0h0m22 0h0m-79 1h0m2 0h0m10 0h0m2 0h0m4 0h0m14 0h0m20 0h0m8 0h0m2 0h0m6 0h0m6 0h0m-79 1h0m14 0h0m12 0h0m6 0h0m4 0h0m8 0h0m2 0h0m2 0h0m2 0h0m14 0h0m20 0h0m-73 1h0m6 0h0m6 0h0m8 0h0m10 0h0m10 0h0m10 0h0m6 0h0m6 0h0m-69 1h0m12 0h0m6 0h0m4 0h0m12 0h0m6 0h0m26 0h0m-67 1h0m18 0h0m8 0h0m8 0h0m26 0h0m4 0h0m18 0h0m-85 1h0m10 0h0m4 0h0m30 0h0m2 0h0m2 0h0m2 0h0m16 0h0m-29 1h0m4 0h0m2 0h0m2 0h0m8 0h0m6 0h0m8 0h0m-57 1h0m6 0h0m10 0h0m4 0h0m2 0h0m14 0h0m2 0h0m2 0h0m8 0h0m20 0h0m-75 1h0m10 0h0m2 0h0m4 0h0m4 0h0m4 0h0m2 0h0m4 0h0m4 0h0m4 0h0m2 0h0m2 0h0m2 0h0m18 0h0m4 0h0m2 0h0m-71 1h0m2 0h0m4 0h0m6 0h0m8 0h0m6 0h0m2 0h0m2 0h0m2 0h0m2 0h0m2 0h0m4 0h0m6 0h0m2 0h0m2 0h0m18 0h0m6 0h0m-75 1h0m4 0h0m4 0h0m22 0h0m2 0h0m4 0h0m2 0h0m8 0h0m12 0h0m14 0h0m-65 1h0m14 0h0m2 0h0m8 0h0m12 0h0m8 0h0m12 0h0m4 0h0m14 0h0m-67 1h0m16 0h0m4 0h0m2 0h0m2 0h0m6 0h0m4 0h0m10 0h0m-45 1h0m4 0h0m10 0h0m8 0h0m8 0h0m2 0h0m4 0h0m4 0h0m2 0h0m-41 1h0m4 0h0m4 0h0m2 0h0m10 0h0m2 0h0m2 0h0m2 0h0m6 0h0m6 0h0m8 0h0m2 0h0m10 0h0m-71 1h0m20 0h0m6 0h0m2 0h0m2 0h0m16 0h0m4 0h0m30 0h0m-63 1h0m6 0h0m12 0h0m4 0h0m2 0h0m2 0h0m2 0h0m10 0h0m-49 1h0m6 0h0m4 0h0m2 0h0m12 0h0m2 0h0m2 0h0m6 0h0m4 0h0m2 0h0m4 0h0m2 0h0m-43 1h0m16 0h0m2 0h0m6 0h0m10 0h0m2 0h0m2 0h0m2 0h0m2 0h0m4 0h0m12 0h0m2 0h0m2 0h0m-55 1h0m8 0h0m8 0h0m2 0h0m6 0h0m2 0h0m6 0h0m6 0h0m-27 1h0m4 0h0m2 0h0m4 0h0m2 0h0m6 0h0m18 0h0m2 0h0m4 0h0m-47 1h0m8 0h0m4 0h0m2 0h0m6 0h0m12 0h0m2 0h0m4 0h0m-29 1h0m4 0h0m6 0h0m2 0h0m4 0h0m8 0h0m-29 1h0m4 0h0m10 0h0m2 0h0m4 0h0m-9 1h0m16 0h0m6 0h0m2 0h0m4 0h0m-41 1h0m6 0h0m12 0h0m2 0h0m4 0h0m18 0h0m10 0h0m-34 2h0m6 0h0m10 0h0m12 0h0m-35 1h0m6 0h0m21 1h0m-29 1h0m8 0h0m16 0h0m4 0h0m8 0h0m4 0h0m8 0h0m6 0h0" stroke="#321262" vector-effect="non-scaling-stroke"/><path d="M46 16h0m-7 5h0m8 0h0m-19 1h0m21 1h0m-24 2h0m22 0h0m-4 2h0m20 0h0m-51 1h0m20 0h0m2 0h0m6 0h0m8 0h0m-27 1h0m2 0h0m28 0h0m3 1h0m-41 1h0m11 1h0m4 0h0m8 0h0m9 1h0m-19 1h0m6 0h0m8 2h0m-35 1h0m19 1h0m8 0h0m4 0h0m16 0h0m-49 1h0m40 0h0m12 0h0m-17 1h0m2 0h0m12 0h0m24 0h0m-34 2h0m-4 2h0m6 0h0m40 0h0m-51 1h0m-1 3h0m16 0h0m18 0h0m-27 1h0m26 0h0m-55 1h0m48 0h0m-39 1h0m4 0h0m16 0h0m-21 1h0m26 0h0m4 0h0m-33 1h0m12 0h0m2 0h0m4 0h0m9 1h0m-27 1h0m24 0h0m5 1h0m-11 1h0m24 0h0m-3 1h0m6 0h0m-17 1h0m19 1h0m-25 1h0m8 0h0m-4 2h0m5 1h0m3 1h0m20 0h0m-30 4h0" stroke="#170939" vector-effect="non-scaling-stroke"/><path d="M56 30h0m-16 2h0m1 5h0m7 5h0m5 5h0m18 2h0m-47 3h0m4 6h0" stroke="#000004" vector-effect="non-scaling-stroke"/><path d="M30 0h0m2 0h0m28 0h0m6 0h0m4 0h0m4 0h0m10 0h0m8 0h0m-63 1h0m6 0h0m22 0h0m24 0h0m-43 1h0m22 0h0m24 0h0m-45 1h0m32 0h0m18 0h0m20 0h0m-81 1h0m38 0h0m3 1h0m2 0h0m-41 1h0m2 0h0m12 0h0m4 0h0m2 0h0m24 0h0m-35 1h0m2 0h0m4 0h0m10 0h0m10 0h0m6 0h0m2 0h0m-51 1h0m8 0h0m4 0h0m4 0h0m2 0h0m8 0h0m4 0h0m8 0h0m6 0h0m2 0h0m2 0h0m4 0h0m2 0h0m-43 1h0m2 0h0m2 0h0m2 0h0m4 0h0m6 0h0m4 0h0m10 0h0m4 0h0m2 0h0m8 0h0m6 0h0m-57 1h0m6 0h0m4 0h0m2 0h0m2 0h0m8 0h0m4 0h0m4 0h0m4 0h0m2 0h0m2 0h0m2 0h0m2 0h0m2 0h0m2 0h0m-53 1h0m8 0h0m6 0h0m4 0h0m4 0h0m2 0h0m2 0h0m4 0h0m2 0h0m4 0h0m2 0h0m2 0h0m2 0h0m8 0h0m-49 1h0m2 0h0m2 0h0m8 0h0m2 0h0m4 0h0m6 0h0m4 0h0m2 0h0m12 0h0m2 0h0m2 0h0m2 0h0m4 0h0m-53 1h0m2 0h0m2 0h0m4 0h0m2 0h0m4 0h0m4 0h0m6 0h0m8 0h0m2 0h0m6 0h0m2 0h0m2 0h0m4 0h0m2 0h0m2 0h0m2 0h0m4 0h0m2 0h0m-65 1h0m2 0h0m4 0h0m2 0h0m6 0h0m2 0h0m2 0h0m2 0h0m16 0h0m2 0h0m2 0h0m6 0h0m4 0h0m4 0h0m2 0h0m-69 1h0m6 0h0m8 0h0m4 0h0m2 0h0m4 0h0m2 0h0m2 0h0m10 0h0m6 0h0m6 0h0m4 0h0m10 0h0m2 0h0m2 0h0m8 0h0m2 0h0m-75 1h0m2 0h0m2 0h0m8 0h0m6 0h0m6 0h0m2 0h0m4 0h0m10 0h0m4 0h0m4 0h0m2 0h0m6 0h0m6 0h0m2 0h0m6 0h0m-71 1h0m2 0h0m2 0h0m2 0h0m8 0h0m6 0h0m2 0h0m8 0h0m8 0h0m10 0h0m12 0h0m6 0h0m4 0h0m2 0h0m-69 1h0m2 0h0m8 0h0m8 0h0m2 0h0m8 0h0m12 0h0m8 0h0m6 0h0m2 0h0m6 0h0m4 0h0m4 0h0m-73 1h0m2 0h0m2 0h0m2 0h0m14 0h0m20 0h0m2 0h0m8 0h0m2 0h0m6 0h0m6 0h0m2 0h0m2 0h0m2 0h0m2 0h0m44 0h0m-111 1h0m2 0h0m2 0h0m8 0h0m10 0h0m2 0h0m2 0h0m4 0h0m8 0h0m10 0h0m12 0h0m4 0h0m20 0h0m26 0h0m-115 1h0m4 0h0m2 0h0m8 0h0m10 0h0m10 0h0m6 0h0m6 0h0m10 0h0m2 0h0m4 0h0m4 0h0m2 0h0m2 0h0m6 0h0m40 0h0m-117 1h0m18 0h0m16 0h0m18 0h0m4 0h0m8 0h0m2 0h0m2 0h0m8 0h0m26 0h0m12 0h0m-113 1h0m8 0h0m14 0h0m8 0h0m2 0h0m2 0h0m6 0h0m18 0h0m4 0h0m4 0h0m2 0h0m8 0h0m4 0h0m-81 1h0m8 0h0m2 0h0m16 0h0m6 0h0m4 0h0m24 0h0m6 0h0m4 0h0m10 0h0m10 0h0m-83 1h0m6 0h0m8 0h0m8 0h0m2 0h0m38 0h0m4 0h0m2 0h0m2 0h0m6 0h0m2 0h0m2 0h0m2 0h0m-89 1h0m16 0h0m8 0h0m18 0h0m2 0h0m2 0h0m24 0h0m10 0h0m2 0h0m2 0h0m8 0h0m2 0h0m4 0h0m8 0h0m-107 1h0m2 0h0m2 0h0m8 0h0m8 0h0m6 0h0m8 0h0m2 0h0m24 0h0m6 0h0m4 0h0m4 0h0m4 0h0m6 0h0m8 0h0m8 0h0m-93 1h0m8 0h0m10 0h0m10 0h0m24 0h0m8 0h0m14 0h0m4 0h0m4 0h0m2 0h0m2 0h0m2 0h0m-93 1h0m6 0h0m2 0h0m6 0h0m8 0h0m10 0h0m14 0h0m4 0h0m20 0h0m4 0h0m2 0h0m2 0h0m4 0h0m2 0h0m-73 1h0m8 0h0m40 0h0m2 0h0m4 0h0m2 0h0m6 0h0m4 0h0m8 0h0m4 0h0m-89 1h0m8 0h0m18 0h0m26 0h0m4 0h0m6 0h0m2 0h0m6 0h0m8 0h0m4 0h0m4 0h0m-81 1h0m6 0h0m2 0h0m2 0h0m12 0h0m4 0h0m4 0h0m24 0h0m2 0h0m2 0h0m2 0h0m6 0h0m2 0h0m2 0h0m6 0h0m-77 1h0m6 0h0m44 0h0m2 0h0m10 0h0m4 0h0m4 0h0m6 0h0m2 0h0m-81 1h0m2 0h0m6 0h0m2 0h0m8 0h0m34 0h0m4 0h0m10 0h0m2 0h0m6 0h0m2 0h0m2 0h0m16 0h0m-97 1h0m2 0h0m6 0h0m2 0h0m2 0h0m2 0h0m8 0h0m4 0h0m16 0h0m20 0h0m2 0h0m2 0h0m6 0h0m6 0h0m18 0h0m-95 1h0m40 0h0m18 0h0m6 0h0m2 0h0m22 0h0m2 0h0m2 0h0m-93 1h0m10 0h0m12 0h0m44 0h0m18 0h0m2 0h0m4 0h0m4 0h0m-91 1h0m6 0h0m2 0h0m10 0h0m12 0h0m6 0h0m4 0h0m6 0h0m10 0h0m10 0h0m14 0h0m6 0h0m4 0h0m-93 1h0m8 0h0m66 0h0m2 0h0m4 0h0m6 0h0m6 0h0m2 0h0m-95 1h0m6 0h0m10 0h0m28 0h0m6 0h0m8 0h0m14 0h0m8 0h0m2 0h0m4 0h0m4 0h0m2 0h0m2 0h0m4 0h0m-93 1h0m2 0h0m8 0h0m6 0h0m28 0h0m12 0h0m8 0h0m2 0h0m2 0h0m2 0h0m6 0h0m10 0h0m2 0h0m2 0h0m-95 1h0m2 0h0m8 0h0m20 0h0m16 0h0m10 0h0m4 0h0m16 0h0m2 0h0m6 0h0m10 0h0m-69 1h0m4 0h0m24 0h0m18 0h0m4 0h0m2 0h0m4 0h0m2 0h0m8 0h0m2 0h0m2 0h0m2 0h0m-87 1h0m6 0h0m4 0h0m2 0h0m12 0h0m14 0h0m2 0h0m20 0h0m6 0h0m2 0h0m4 0h0m6 0h0m2 0h0m2 0h0m2 0h0m-93 1h0m6 0h0m12 0h0m40 0h0m8 0h0m10 0h0m2 0h0m4 0h0m2 0h0m4 0h0m2 0h0m2 0h0m-93 1h0m10 0h0m6 0h0m10 0h0m34 0h0m10 0h0m2 0h0m6 0h0m4 0h0m-75 1h0m12 0h0m2 0h0m34 0h0m4 0h0m2 0h0m10 0h0m4 0h0m2 0h0m10 0h0m6 0h0m2 0h0m-95 1h0m28 0h0m6 0h0m24 0h0m14 0h0m10 0h0m2 0h0m2 0h0m6 0h0m-85 1h0m8 0h0m14 0h0m32 0h0m2 0h0m6 0h0m4 0h0m12 0h0m6 0h0m2 0h0m-87 1h0m62 0h0m8 0h0m8 0h0m4 0h0m-73 1h0m42 0h0m14 0h0m6 0h0m6 0h0m2 0h0m4 0h0m2 0h0m-81 1h0m12 0h0m18 0h0m2 0h0m28 0h0m4 0h0m4 0h0m4 0h0m-77 1h0m6 0h0m6 0h0m56 0h0m6 0h0m8 0h0m-83 1h0m8 0h0m28 0h0m12 0h0m4 0h0m16 0h0m2 0h0m2 0h0m6 0h0m2 0h0m2 0h0m4 0h0m-87 1h0m8 0h0m8 0h0m2 0h0m2 0h0m14 0h0m4 0h0m16 0h0m16 0h0m6 0h0m4 0h0m6 0h0m-87 1h0m4 0h0m22 0h0m28 0h0m2 0h0m22 0h0m2 0h0m2 0h0m-81 1h0m2 0h0m2 0h0m4 0h0m14 0h0m40 0h0m4 0h0m8 0h0m2 0h0m4 0h0m-81 1h0m2 0h0m4 0h0m2 0h0m2 0h0m4 0h0m6 0h0m4 0h0m4 0h0m34 0h0m4 0h0m6 0h0m2 0h0m2 0h0m-73 1h0m4 0h0m14 0h0m2 0h0m32 0h0m6 0h0m4 0h0m2 0h0m10 0h0m-75 1h0m4 0h0m16 0h0m8 0h0m34 0h0m8 0h0m2 0h0m2 0h0m2 0h0m-77 1h0m6 0h0m2 0h0m4 0h0m4 0h0m2 0h0m6 0h0m12 0h0m12 0h0m26 0h0m4 0h0m-73 1h0m2 0h0m14 0h0m6 0h0m18 0h0m12 0h0m18 0h0m-63 1h0m2 0h0m2 0h0m2 0h0m24 0h0m18 0h0m2 0h0m4 0h0m2 0h0m4 0h0m6 0h0m2 0h0m-69 1h0m2 0h0m2 0h0m2 0h0m4 0h0m26 0h0m2 0h0m6 0h0m4 0h0m4 0h0m10 0h0m4 0h0m-67 1h0m26 0h0m12 0h0m4 0h0m6 0h0m4 0h0m2 0h0m6 0h0m2 0h0m2 0h0m2 0h0m-67 1h0m6 0h0m14 0h0m8 0h0m8 0h0m4 0h0m6 0h0m6 0h0m4 0h0m2 0h0m8 0h0m2 0h0m2 0h0m-55 1h0m2 0h0m8 0h0m4 0h0m16 0h0m14 0h0m4 0h0m14 0h0m-71 1h0m4 0h0m6 0h0m10 0h0m2 0h0m8 0h0m2 0h0m16 0h0m2 0h0m2 0h0m4 0h0m2 0h0m8 0h0m2 0h0m-65 1h0m14 0h0m2 0h0m4 0h0m20 0h0m2 0h0m4 0h0m2 0h0m6 0h0m10 0h0m2 0h0m4 0h0m-77 1h0m4 0h0m12 0h0m10 0h0m10 0h0m2 0h0m4 0h0m2 0h0m2 0h0m10 0h0m6 0h0m8 0h0m8 0h0m-69 1h0m8 0h0m14 0h0m8 0h0m8 0h0m4 0h0m4 0h0m2 0h0m8 0h0m2 0h0m8 0h0m-71 1h0m2 0h0m10 0h0m14 0h0m2 0h0m4 0h0m14 0h0m2 0h0m10 0h0m2 0h0m8 0h0" stroke="#6a2789" vector-effect="non-scaling-stroke"/><path d="M24 0h0m2 0h0m8 0h0m4 0h0m2 0h0m10 0h0m2 0h0m4 0h0m8 0h0m4 0h0m4 0h0m4 0h0m2 0h0m2 0h0m2 0h0m4 0h0m8 0h0m8 0h0m12 0h0m-89 1h0m2 0h0m4 0h0m2 0h0m8 0h0m2 0h0m8 0h0m2 0h0m10 0h0m4 0h0m6 0h0m2 0h0m4 0h0m4 0h0m2 0h0m2 0h0m2 0h0m12 0h0m2 0h0m12 0h0m2 0h0m-91 1h0m8 0h0m2 0h0m14 0h0m14 0h0m6 0h0m4 0h0m2 0h0m2 0h0m2 0h0m2 0h0m4 0h0m26 0h0m-85 1h0m10 0h0m6 0h0m4 0h0m12 0h0m2 0h0m2 0h0m4 0h0m2 0h0m4 0h0m4 0h0m2 0h0m6 0h0m8 0h0m2 0h0m-65 1h0m12 0h0m8 0h0m4 0h0m8 0h0m10 0h0m6 0h0m2 0h0m4 0h0m10 0h0m8 0h0m-71 1h0m2 0h0m2 0h0m18 0h0m2 0h0m4 0h0m2 0h0m18 0h0m10 0h0m8 0h0m-69 1h0m6 0h0m2 0h0m2 0h0m2 0h0m6 0h0m10 0h0m10 0h0m2 0h0m2 0h0m8 0h0m4 0h0m2 0h0m-55 1h0m2 0h0m6 0h0m6 0h0m6 0h0m8 0h0m2 0h0m2 0h0m2 0h0m6 0h0m10 0h0m2 0h0m4 0h0m2 0h0m2 0h0m-73 1h0m4 0h0m16 0h0m18 0h0m2 0h0m8 0h0m8 0h0m10 0h0m2 0h0m2 0h0m8 0h0m2 0h0m-75 1h0m2 0h0m2 0h0m6 0h0m16 0h0m4 0h0m6 0h0m2 0h0m12 0h0m2 0h0m8 0h0m6 0h0m30 0h0m-105 1h0m6 0h0m4 0h0m2 0h0m4 0h0m16 0h0m14 0h0m18 0h0m2 0h0m2 0h0m4 0h0m2 0h0m12 0h0m-81 1h0m4 0h0m2 0h0m6 0h0m6 0h0m32 0h0m4 0h0m6 0h0m2 0h0m2 0h0m2 0h0m-73 1h0m20 0h0m10 0h0m20 0h0m10 0h0m6 0h0m42 0h0m-115 1h0m12 0h0m42 0h0m18 0h0m6 0h0m2 0h0m36 0h0m-109 1h0m8 0h0m30 0h0m8 0h0m10 0h0m6 0h0m6 0h0m6 0h0m34 0h0m-115 1h0m6 0h0m2 0h0m2 0h0m4 0h0m26 0h0m14 0h0m14 0h0m4 0h0m8 0h0m-81 1h0m8 0h0m2 0h0m2 0h0m22 0h0m28 0h0m6 0h0m2 0h0m42 0h0m-103 1h0m4 0h0m44 0h0m2 0h0m10 0h0m8 0h0m2 0h0m32 0h0m2 0h0m-111 1h0m6 0h0m2 0h0m52 0h0m10 0h0m-63 1h0m36 0h0m18 0h0m12 0h0m2 0h0m30 0h0m2 0h0m4 0h0m2 0h0m-69 1h0m16 0h0m10 0h0m2 0h0m2 0h0m8 0h0m18 0h0m6 0h0m6 0h0m-39 1h0m4 0h0m2 0h0m2 0h0m6 0h0m14 0h0m8 0h0m-99 1h0m58 0h0m10 0h0m2 0h0m16 0h0m6 0h0m6 0h0m6 0h0m-43 1h0m2 0h0m4 0h0m4 0h0m8 0h0m8 0h0m2 0h0m2 0h0m8 0h0m6 0h0m-63 1h0m20 0h0m4 0h0m6 0h0m2 0h0m6 0h0m10 0h0m10 0h0m-45 1h0m14 0h0m10 0h0m2 0h0m8 0h0m-93 1h0m58 0h0m10 0h0m12 0h0m2 0h0m6 0h0m4 0h0m2 0h0m-23 1h0m6 0h0m2 0h0m2 0h0m6 0h0m2 0h0m6 0h0m-83 1h0m62 0h0m4 0h0m10 0h0m-29 1h0m22 0h0m2 0h0m2 0h0m2 0h0m-3 1h0m-37 1h0m4 0h0m2 0h0m-3 1h0m10 0h0m2 0h0m14 0h0m24 0h0m-49 1h0m2 0h0m8 0h0m4 0h0m28 0h0m4 0h0m-99 1h0m54 0h0m2 0h0m2 0h0m2 0h0m6 0h0m2 0h0m24 0h0m-39 1h0m10 0h0m6 0h0m22 0h0m4 0h0m-41 1h0m12 0h0m22 0h0m2 0h0m6 0h0m-41 1h0m26 0h0m4 0h0m4 0h0m4 0h0m6 0h0m-65 1h0m50 0h0m4 0h0m4 0h0m4 0h0m-19 1h0m12 0h0m-1 1h0m6 0h0m-25 1h0m12 0h0m-1 1h0m2 0h0m8 0h0m-91 1h0m80 0h0m-81 1h0m34 0h0m56 0h0m2 0h0m2 0h0m-85 1h0m26 0h0m60 0h0m-17 1h0m10 0h0m-5 1h0m8 0h0m2 0h0m-5 1h0m2 0h0m-13 1h0m4 0h0m2 0h0m8 0h0m-11 1h0m4 0h0m4 0h0m2 0h0m-15 1h0m12 0h0m2 0h0m-9 1h0m6 0h0m-83 1h0m32 0h0m42 0h0m10 0h0m4 0h0m-17 1h0m8 0h0m8 0h0m-11 1h0m6 0h0m2 0h0m-89 1h0m64 0h0m8 0h0m12 0h0m2 0h0m-37 1h0m20 0h0m12 0h0m-85 1h0m14 0h0m66 0h0m2 0h0m2 0h0m-83 1h0m82 0h0m4 0h0m-87 1h0m2 0h0m12 0h0m70 0h0m2 0h0m8 0h0m-93 1h0m6 0h0m72 0h0m-77 1h0m2 0h0m2 0h0m6 0h0m2 0h0m36 0h0m30 0h0m2 0h0m4 0h0m2 0h0m-79 1h0m4 0h0m64 0h0m2 0h0m8 0h0m4 0h0m10 0h0m-99 1h0m2 0h0m80 0h0m2 0h0m2 0h0m2 0h0m-79 1h0m4 0h0m2 0h0m2 0h0m52 0h0m10 0h0m2 0h0m2 0h0m4 0h0m-85 1h0m10 0h0m2 0h0m6 0h0m2 0h0m22 0h0m30 0h0m8 0h0m4 0h0m8 0h0m-85 1h0m2 0h0m8 0h0m2 0h0m38 0h0m12 0h0m6 0h0m2 0h0m4 0h0m2 0h0m-63 1h0m8 0h0m22 0h0m34 0h0m2 0h0m2 0h0m-81 1h0m6 0h0m2 0h0m4 0h0m54 0h0m4 0h0m2 0h0m6 0h0m-79 1h0m6 0h0m4 0h0m42 0h0m16 0h0m2 0h0m2 0h0m4 0h0m2 0h0m2 0h0m-75 1h0m10 0h0m2 0h0m2 0h0m4 0h0m10 0h0m12 0h0m2 0h0m16 0h0m18 0h0m-77 1h0m2 0h0m6 0h0m10 0h0m16 0h0m32 0h0m10 0h0" stroke="#8b3083" vector-effect="non-scaling-stroke"/><path d="M36 0h0m6 0h0m2 0h0m2 0h0m2 0h0m6 0h0m8 0h0m26 0h0m2 0h0m10 0h0m4 0h0m2 0h0m2 0h0m2 0h0m6 0h0m2 0h0m-81 1h0m2 0h0m8 0h0m8 0h0m4 0h0m2 0h0m4 0h0m4 0h0m2 0h0m6 0h0m16 0h0m2 0h0m2 0h0m22 0h0m-91 1h0m2 0h0m2 0h0m8 0h0m6 0h0m2 0h0m4 0h0m2 0h0m2 0h0m2 0h0m4 0h0m4 0h0m6 0h0m20 0h0m4 0h0m10 0h0m2 0h0m2 0h0m4 0h0m4 0h0m-89 1h0m6 0h0m6 0h0m8 0h0m2 0h0m2 0h0m12 0h0m10 0h0m6 0h0m2 0h0m4 0h0m10 0h0m2 0h0m2 0h0m4 0h0m6 0h0m2 0h0m2 0h0m4 0h0m-87 1h0m2 0h0m2 0h0m2 0h0m10 0h0m4 0h0m4 0h0m2 0h0m2 0h0m4 0h0m4 0h0m6 0h0m2 0h0m6 0h0m6 0h0m4 0h0m4 0h0m2 0h0m2 0h0m10 0h0m6 0h0m-103 1h0m16 0h0m8 0h0m2 0h0m4 0h0m2 0h0m12 0h0m6 0h0m4 0h0m6 0h0m2 0h0m2 0h0m4 0h0m2 0h0m2 0h0m6 0h0m4 0h0m4 0h0m2 0h0m2 0h0m2 0h0m2 0h0m2 0h0m2 0h0m2 0h0m-97 1h0m26 0h0m10 0h0m2 0h0m4 0h0m4 0h0m2 0h0m8 0h0m8 0h0m6 0h0m2 0h0m4 0h0m4 0h0m2 0h0m6 0h0m2 0h0m6 0h0m2 0h0m-101 1h0m4 0h0m30 0h0m4 0h0m2 0h0m30 0h0m8 0h0m6 0h0m2 0h0m2 0h0m2 0h0m2 0h0m4 0h0m8 0h0m-99 1h0m14 0h0m18 0h0m38 0h0m2 0h0m8 0h0m6 0h0m10 0h0m4 0h0m-101 1h0m2 0h0m46 0h0m10 0h0m4 0h0m6 0h0m4 0h0m2 0h0m8 0h0m4 0h0m8 0h0m4 0h0m-85 1h0m44 0h0m8 0h0m6 0h0m2 0h0m2 0h0m2 0h0m-93 1h0m2 0h0m6 0h0m2 0h0m54 0h0m10 0h0m10 0h0m6 0h0m4 0h0m2 0h0m14 0h0m4 0h0m4 0h0m-117 1h0m6 0h0m4 0h0m2 0h0m2 0h0m2 0h0m56 0h0m6 0h0m2 0h0m6 0h0m2 0h0m8 0h0m4 0h0m14 0h0m-115 1h0m4 0h0m4 0h0m2 0h0m2 0h0m72 0h0m8 0h0m2 0h0m2 0h0m14 0h0m6 0h0m-113 1h0m2 0h0m2 0h0m68 0h0m4 0h0m2 0h0m4 0h0m14 0h0m12 0h0m4 0h0m-35 1h0m4 0h0m4 0h0m8 0h0m4 0h0m6 0h0m2 0h0m-33 1h0m2 0h0m2 0h0m4 0h0m26 0h0m-109 1h0m76 0h0m26 0h0m2 0h0m4 0h0m2 0h0m8 0h0m-39 1h0m2 0h0m4 0h0m20 0h0m4 0h0m-27 1h0m22 0h0m8 0h0m-33 1h0m2 0h0m2 0h0m12 0h0m2 0h0m8 0h0m6 0h0m-25 1h0m10 0h0m4 0h0m6 0h0m2 0h0m6 0h0m2 0h0m-43 1h0m2 0h0m4 0h0m10 0h0m2 0h0m4 0h0m2 0h0m10 0h0m6 0h0m-27 1h0m2 0h0m6 0h0m2 0h0m20 0h0m-27 1h0m6 0h0m2 0h0m4 0h0m4 0h0m4 0h0m2 0h0m4 0h0m-35 1h0m16 0h0m2 0h0m2 0h0m4 0h0m2 0h0m2 0h0m2 0h0m-5 1h0m-11 1h0m8 0h0m12 4h0m4 0h0m-54 2h0m2 0h0m52 0h0m-17 1h0m2 0h0m2 0h0m-11 1h0m6 0h0m4 0h0m4 0h0m6 0h0m2 0h0m-17 1h0m6 0h0m-7 1h0m14 0h0m-14 2h0m2 0h0m2 0h0m4 0h0m3 1h0m8 0h0m-21 1h0m2 0h0m2 0h0m2 0h0m-3 1h0m4 0h0m2 0h0m2 0h0m-9 1h0m2 0h0m2 0h0m2 0h0m-3 1h0m2 0h0m-9 1h0m2 0h0m2 0h0m-3 1h0m2 0h0m2 0h0m2 0h0m-1 1h0m2 0h0m-3 1h0m2 0h0m2 0h0m-5 1h0m2 0h0m10 0h0m-19 1h0m6 0h0m2 0h0m-3 1h0m2 0h0m2 0h0m14 0h0m-27 1h0m6 0h0m2 0h0m18 0h0m-25 1h0m2 0h0m4 0h0m6 0h0m4 0h0m-11 1h0m4 0h0m4 0h0m2 0h0m4 0h0m-21 1h0m8 0h0m2 0h0m14 0h0m-99 1h0m66 0h0m14 0h0m2 0h0m2 0h0m2 0h0m2 0h0m4 0h0m-15 1h0m6 0h0m2 0h0m2 0h0m2 0h0m-15 1h0m2 0h0m2 0h0m2 0h0m14 0h0m-57 1h0m32 0h0m8 0h0m2 0h0m-9 1h0m-77 1h0m78 0h0m2 0h0m2 0h0m2 0h0m-89 1h0m84 0h0m6 0h0m4 0h0m6 0h0m-99 1h0m2 0h0m2 0h0m2 0h0m4 0h0m74 0h0m4 0h0m4 0h0m2 0h0m2 0h0m2 0h0m-93 1h0m4 0h0m2 0h0m70 0h0m10 0h0m2 0h0m2 0h0m-95 1h0m4 0h0m2 0h0m2 0h0m84 0h0m6 0h0m-99 1h0m2 0h0m4 0h0m4 0h0m76 0h0m4 0h0m2 0h0m2 0h0m4 0h0m-95 1h0m6 0h0m82 0h0m2 0h0m4 0h0m-93 1h0m4 0h0m8 0h0m-7 1h0m4 0h0m2 0h0m-9 1h0m2 0h0m4 0h0m-11 1h0m10 0h0m6 0h0m2 0h0m2 0h0m-19 1h0m10 0h0m72 0h0" stroke="#ac376e" vector-effect="non-scaling-stroke"/><path d="M58 0h0m38 0h0m2 0h0m14 0h0m-67 1h0m4 0h0m50 0h0m6 0h0m2 0h0m2 0h0m2 0h0m2 0h0m-71 1h0m2 0h0m24 0h0m22 0h0m4 0h0m4 0h0m2 0h0m2 0h0m14 0h0m-85 1h0m2 0h0m12 0h0m10 0h0m2 0h0m34 0h0m12 0h0m-63 1h0m4 0h0m2 0h0m24 0h0m16 0h0m4 0h0m16 0h0m2 0h0m4 0h0m6 0h0m-111 1h0m2 0h0m2 0h0m4 0h0m12 0h0m14 0h0m6 0h0m2 0h0m2 0h0m14 0h0m22 0h0m6 0h0m22 0h0m2 0h0m2 0h0m-111 1h0m2 0h0m2 0h0m48 0h0m16 0h0m14 0h0m4 0h0m6 0h0m10 0h0m6 0h0m2 0h0m-113 1h0m4 0h0m10 0h0m56 0h0m2 0h0m16 0h0m2 0h0m16 0h0m2 0h0m2 0h0m4 0h0m-115 1h0m4 0h0m2 0h0m4 0h0m64 0h0m2 0h0m12 0h0m8 0h0m2 0h0m4 0h0m4 0h0m6 0h0m-115 1h0m2 0h0m6 0h0m6 0h0m78 0h0m2 0h0m6 0h0m4 0h0m4 0h0m4 0h0m6 0h0m-117 1h0m2 0h0m2 0h0m2 0h0m2 0h0m4 0h0m2 0h0m4 0h0m80 0h0m2 0h0m2 0h0m6 0h0m2 0h0m2 0h0m2 0h0m2 0h0m-113 1h0m2 0h0m8 0h0m72 0h0m2 0h0m4 0h0m6 0h0m8 0h0m2 0h0m4 0h0m4 0h0m-113 1h0m2 0h0m78 0h0m2 0h0m6 0h0m8 0h0m4 0h0m2 0h0m4 0h0m4 0h0m-107 1h0m80 0h0m2 0h0m2 0h0m12 0h0m4 0h0m2 0h0m4 0h0m2 0h0m-113 1h0m10 0h0m78 0h0m2 0h0m6 0h0m8 0h0m4 0h0m-105 1h0m82 0h0m6 0h0m10 0h0m2 0h0m6 0h0m2 0h0m4 0h0m2 0h0m-37 1h0m4 0h0m2 0h0m4 0h0m6 0h0m2 0h0m4 0h0m2 0h0m2 0h0m4 0h0m4 0h0m2 0h0m-61 1h0m26 0h0m2 0h0m14 0h0m2 0h0m6 0h0m10 0h0m-39 1h0m6 0h0m8 0h0m16 0h0m6 0h0m2 0h0m2 0h0m-37 1h0m4 0h0m6 0h0m4 0h0m4 0h0m2 0h0m2 0h0m4 0h0m-19 1h0m2 0h0m4 0h0m14 0h0m6 0h0m-25 1h0m4 0h0m6 0h0m4 0h0m8 0h0m-25 1h0m2 0h0m14 0h0m8 0h0m-1 1h0m-9 1h0m8 0h0m-8 4h0m-93 1h0m106 2h0m-5 1h0m4 0h0m2 0h0m2 0h0m2 0h0m-5 1h0m-5 1h0m2 0h0m4 0h0m-3 1h0m2 0h0m-11 1h0m6 0h0m6 0h0m2 0h0m-13 1h0m2 0h0m4 0h0m2 0h0m4 0h0m4 0h0m-17 1h0m6 0h0m2 0h0m2 0h0m6 0h0m-9 1h0m4 0h0m4 0h0m2 0h0m-19 1h0m4 0h0m2 0h0m2 0h0m4 0h0m2 0h0m2 0h0m-11 1h0m2 0h0m4 0h0m2 0h0m4 0h0m-15 1h0m10 0h0m1 1h0m2 0h0m-1 1h0m-11 1h0m2 0h0m2 0h0m6 0h0m2 0h0m-11 1h0m2 0h0m6 0h0m6 0h0m-13 1h0m2 0h0m6 0h0m4 0h0m-19 1h0m8 0h0m8 0h0m-19 1h0m8 0h0m2 0h0m2 0h0m6 0h0m-11 1h0m2 0h0m2 0h0m4 0h0m2 0h0m4 0h0m2 0h0m-15 1h0m2 0h0m2 0h0m4 0h0m-13 1h0m2 0h0m2 0h0m6 0h0m-59 1h0m50 0h0m4 0h0m12 0h0m-23 1h0m8 0h0m10 0h0m-11 1h0m2 0h0m2 0h0m4 0h0m-1 1h0m4 0h0m-23 1h0m4 0h0m2 0h0m12 0h0m2 0h0m-13 1h0m2 0h0m2 0h0m2 0h0m4 0h0m-9 1h0m4 0h0m4 0h0m2 0h0m-17 1h0m2 0h0m2 0h0m8 0h0m4 0h0m-13 1h0m2 0h0m2 0h0m2 0h0m4 0h0m2 0h0m-11 1h0m4 0h0m2 0h0m4 0h0m-102 2h0m8 0h0m90 0h0m-11 1h0m4 0h0m4 0h0m2 0h0m-89 1h0m-7 1h0m4 0h0m2 0h0m88 0h0m-95 1h0m10 0h0m2 0h0m2 0h0m80 0h0m-93 1h0m2 0h0m2 0h0m2 0h0m86 0h0m-89 1h0m-1 1h0m2 0h0m2 0h0m2 0h0m4 0h0m-9 1h0m2 0h0m2 0h0m2 0h0" stroke="#cd424f" vector-effect="non-scaling-stroke"/><path d="M91 1h0m13 1h0m3 1h0m10 0h0m-3 1h0m-109 1h0m-3 1h0m2 0h0m2 0h0m8 0h0m88 0h0m6 0h0m-97 1h0m4 0h0m92 0h0m-105 1h0m4 0h0m6 0h0m96 0h0m4 0h0m-107 1h0m2 0h0m4 0h0m2 0h0m84 0h0m10 0h0m-11 1h0m10 0h0m2 0h0m-95 1h0m88 0h0m2 0h0m2 0h0m-11 1h0m14 0h0m4 0h0m-13 1h0m2 0h0m4 0h0m-17 1h0m6 0h0m2 0h0m6 0h0m6 0h0m6 0h0m-23 1h0m4 0h0m20 0h0m-25 1h0m4 0h0m2 0h0m-9 1h0m2 0h0m2 0h0m4 0h0m2 0h0m-9 1h0m2 0h0m10 0h0m2 0h0m2 0h0m8 0h0m-25 1h0m2 0h0m8 0h0m3 1h0m2 0h0m-7 1h0m-1 1h0m-75 1h0m72 0h0m8 0h0m8 0h0m10 8h0m-12 2h0m4 0h0m2 0h0m4 0h0m2 0h0m-5 1h0m4 0h0m-9 1h0m12 0h0m-9 1h0m2 0h0m5 1h0m-11 1h0m8 0h0m2 0h0m-11 1h0m6 0h0m4 0h0m0 2h0m4 0h0m-9 1h0m4 0h0m4 0h0m-11 1h0m2 0h0m2 0h0m6 0h0m2 0h0m-13 1h0m4 0h0m6 0h0m2 0h0m-9 1h0m2 0h0m6 0h0m2 0h0m-11 1h0m2 0h0m6 0h0m-7 1h0m2 0h0m-3 1h0m2 0h0m2 0h0m4 0h0m2 0h0m-9 1h0m8 0h0m-9 1h0m6 0h0m3 1h0m-11 1h0m4 0h0m2 0h0m4 0h0m-9 1h0m2 0h0m2 0h0m2 0h0m-7 1h0m-1 1h0m3 1h0m-6 2h0m-9 1h0m4 0h0m-1 1h0m2 0h0m4 0h0m-2 4h0m-45 3h0m-53 1h0m4 0h0m-4 2h0" stroke="#e95d30" vector-effect="non-scaling-stroke"/><path d="M1 7h0m2 0h0m4 0h0m89 5h0m8 2h0m-5 1h0m3 1h0m-9 1h0m1 1h0m2 0h0m2 0h0m-5 1h0m25 15h0m0 2h0m-9 5h0m-13 1h0m20 0h0m-8 2h0m4 0h0m2 2h0m1 1h0m4 0h0m-4 2h0m-6 2h0m4 0h0m-9 1h0m8 2h0m-3 1h0m-7 1h0m1 1h0m-18 2h0m16 0h0m-2 2h0m-75 11h0" stroke="#f58b1e" vector-effect="non-scaling-stroke"/><path d="M78 12h0m37 11h0m-23 19h0" stroke="#f9c245" vector-effect="non-scaling-stroke"/><path d="M104 4h0m-101 61h0" stroke="#fcffa4" vector-effect="non-scaling-stroke"/></g>
<rect x="1035.7" y="1993.5" width="220.6" height="231.1" fill="none" stroke="#3a3a3a" stroke-width="1.8"/>
<rect x="1282.1" y="2052.7" width="28.3" height="135.9" fill="url(#gj)"/>
<path d="M1282.1 2086.8L1287.1 2086.8" stroke="#fff" stroke-width="1" fill="none" />
<path d="M1305.4 2086.8L1310.4 2086.8" stroke="#fff" stroke-width="1" fill="none" />
<path d="M1282.1 2121L1287.1 2121" stroke="#fff" stroke-width="1" fill="none" />
<path d="M1305.4 2121L1310.4 2121" stroke="#fff" stroke-width="1" fill="none" />
<path d="M1282.1 2155L1287.1 2155" stroke="#fff" stroke-width="1" fill="none" />
<path d="M1305.4 2155L1310.4 2155" stroke="#fff" stroke-width="1" fill="none" />
<text x="1312.6" y="2094" font-size="20" >6000</text>
<text x="1312.6" y="2128.2" font-size="20" >4000</text>
<text x="1472.1" y="1987" font-size="24.7" text-anchor="middle">Gene Features</text>
<rect x="1363.9" y="1996.6" width="221" height="233.3" fill="#fff"/>
<path d="M1401.9 1996.6L1401.9 2229.9" stroke="#ececec" stroke-width="1" fill="none" />
<path d="M1363.9 2039.3L1584.9 2039.3" stroke="#ececec" stroke-width="1" fill="none" />
<path d="M1450 1996.6L1450 2229.9" stroke="#ececec" stroke-width="1" fill="none" />
<path d="M1363.9 2090L1584.9 2090" stroke="#ececec" stroke-width="1" fill="none" />
<path d="M1498 1996.6L1498 2229.9" stroke="#ececec" stroke-width="1" fill="none" />
<path d="M1363.9 2140.8L1584.9 2140.8" stroke="#ececec" stroke-width="1" fill="none" />
<path d="M1546.1 1996.6L1546.1 2229.9" stroke="#ececec" stroke-width="1" fill="none" />
<path d="M1363.9 2191.5L1584.9 2191.5" stroke="#ececec" stroke-width="1" fill="none" />
<path d="M1.5 18.6L10.4 13.8L25.3 14.9L36.5 22.4L53.3 33.5L47 14.9L41 0L206.1 0.7L206.1 69.3L185.6 79L163.2 90.2L133.4 106.6L105.5 125.2L96.1 130.4L62.6 138.6L1.1 143.5ZM1.1 146.5L62.6 142.4L99.9 134.2L126 117.8L155.8 106.6L185.6 95.4L206.1 89.4L205 145.3L200.5 156.5L185.6 171.4L178.1 186.3L163.2 205L155.8 216.1L4.8 216.1L0 205Z" transform="translate(1371.5 2004.4)" fill="#6a2789"/>
<g transform="translate(1372.7 2005.6) scale(1.710 2.960)" fill="none" stroke-width="3.9" stroke-linecap="round"><path d="M34 10h0m16 0h0m-5 1h0m6 0h0m6 0h0m4 0h0m-29 1h0m28 0h0m4 0h0m-37 1h0m14 0h0m2 0h0m4 0h0m2 0h0m8 0h0m-23 1h0m6 0h0m2 0h0m8 0h0m2 0h0m-17 1h0m2 0h0m24 0h0m-29 1h0m6 0h0m4 0h0m2 0h0m2 0h0m6 0h0m6 0h0m-37 1h0m18 0h0m4 0h0m4 0h0m2 0h0m4 0h0m4 0h0m-43 1h0m16 0h0m4 0h0m16 0h0m4 0h0m-39 1h0m8 0h0m2 0h0m2 0h0m6 0h0m16 0h0m2 0h0m6 0h0m-39 1h0m2 0h0m16 0h0m2 0h0m2 0h0m10 0h0m12 0h0m24 0h0m-71 1h0m4 0h0m4 0h0m2 0h0m6 0h0m2 0h0m8 0h0m2 0h0m6 0h0m4 0h0m2 0h0m2 0h0m-49 1h0m6 0h0m2 0h0m6 0h0m10 0h0m6 0h0m2 0h0m-33 1h0m2 0h0m6 0h0m2 0h0m8 0h0m6 0h0m4 0h0m6 0h0m4 0h0m2 0h0m2 0h0m2 0h0m4 0h0m2 0h0m6 0h0m6 0h0m2 0h0m-63 1h0m14 0h0m14 0h0m2 0h0m4 0h0m4 0h0m2 0h0m4 0h0m4 0h0m-53 1h0m16 0h0m2 0h0m4 0h0m2 0h0m2 0h0m4 0h0m4 0h0m2 0h0m6 0h0m18 0h0m8 0h0m4 0h0m-63 1h0m10 0h0m4 0h0m2 0h0m2 0h0m2 0h0m6 0h0m6 0h0m2 0h0m2 0h0m2 0h0m4 0h0m4 0h0m2 0h0m4 0h0m6 0h0m6 0h0m-71 1h0m6 0h0m2 0h0m4 0h0m2 0h0m2 0h0m2 0h0m2 0h0m4 0h0m2 0h0m4 0h0m6 0h0m6 0h0m2 0h0m2 0h0m4 0h0m2 0h0m2 0h0m2 0h0m-51 1h0m2 0h0m2 0h0m4 0h0m14 0h0m2 0h0m2 0h0m8 0h0m6 0h0m2 0h0m6 0h0m2 0h0m2 0h0m10 0h0m10 0h0m-77 1h0m2 0h0m6 0h0m6 0h0m2 0h0m2 0h0m4 0h0m2 0h0m2 0h0m2 0h0m2 0h0m4 0h0m4 0h0m14 0h0m10 0h0m6 0h0m8 0h0m-79 1h0m6 0h0m4 0h0m2 0h0m10 0h0m2 0h0m2 0h0m2 0h0m2 0h0m2 0h0m2 0h0m2 0h0m6 0h0m2 0h0m6 0h0m4 0h0m-55 1h0m4 0h0m10 0h0m6 0h0m2 0h0m2 0h0m2 0h0m2 0h0m4 0h0m2 0h0m2 0h0m2 0h0m2 0h0m2 0h0m2 0h0m4 0h0m8 0h0m4 0h0m-47 1h0m4 0h0m2 0h0m2 0h0m6 0h0m4 0h0m2 0h0m2 0h0m2 0h0m8 0h0m6 0h0m-45 1h0m6 0h0m6 0h0m4 0h0m2 0h0m4 0h0m2 0h0m4 0h0m2 0h0m6 0h0m2 0h0m4 0h0m34 0h0m-81 1h0m4 0h0m2 0h0m2 0h0m2 0h0m4 0h0m4 0h0m2 0h0m2 0h0m2 0h0m4 0h0m2 0h0m14 0h0m4 0h0m2 0h0m2 0h0m-53 1h0m10 0h0m2 0h0m4 0h0m4 0h0m2 0h0m4 0h0m2 0h0m2 0h0m8 0h0m4 0h0m2 0h0m2 0h0m8 0h0m2 0h0m-55 1h0m6 0h0m2 0h0m6 0h0m8 0h0m2 0h0m2 0h0m2 0h0m6 0h0m2 0h0m2 0h0m2 0h0m6 0h0m2 0h0m2 0h0m2 0h0m2 0h0m-45 1h0m2 0h0m2 0h0m2 0h0m4 0h0m6 0h0m2 0h0m2 0h0m6 0h0m10 0h0m2 0h0m2 0h0m2 0h0m16 0h0m20 0h0m-79 1h0m2 0h0m2 0h0m8 0h0m4 0h0m6 0h0m4 0h0m4 0h0m4 0h0m8 0h0m10 0h0m4 0h0m22 0h0m-83 1h0m2 0h0m2 0h0m6 0h0m4 0h0m2 0h0m4 0h0m12 0h0m2 0h0m2 0h0m8 0h0m4 0h0m4 0h0m4 0h0m-57 1h0m2 0h0m6 0h0m2 0h0m6 0h0m6 0h0m8 0h0m2 0h0m2 0h0m4 0h0m2 0h0m4 0h0m2 0h0m2 0h0m4 0h0m2 0h0m2 0h0m16 0h0m-71 1h0m4 0h0m2 0h0m2 0h0m2 0h0m8 0h0m4 0h0m4 0h0m2 0h0m2 0h0m2 0h0m2 0h0m2 0h0m2 0h0m6 0h0m2 0h0m2 0h0m2 0h0m2 0h0m2 0h0m4 0h0m18 0h0m-81 1h0m8 0h0m4 0h0m2 0h0m6 0h0m2 0h0m4 0h0m8 0h0m2 0h0m4 0h0m10 0h0m6 0h0m2 0h0m2 0h0m6 0h0m6 0h0m6 0h0m-71 1h0m4 0h0m4 0h0m16 0h0m4 0h0m2 0h0m2 0h0m2 0h0m2 0h0m4 0h0m4 0h0m2 0h0m2 0h0m2 0h0m10 0h0m2 0h0m10 0h0m-71 1h0m16 0h0m8 0h0m8 0h0m2 0h0m2 0h0m4 0h0m2 0h0m18 0h0m2 0h0m2 0h0m-71 1h0m14 0h0m10 0h0m2 0h0m2 0h0m8 0h0m6 0h0m20 0h0m2 0h0m2 0h0m-63 1h0m4 0h0m6 0h0m14 0h0m2 0h0m2 0h0m2 0h0m4 0h0m12 0h0m2 0h0m2 0h0m2 0h0m2 0h0m10 0h0m4 0h0m4 0h0m-59 1h0m4 0h0m24 0h0m2 0h0m6 0h0m10 0h0m2 0h0m10 0h0m12 0h0m-59 1h0m2 0h0m2 0h0m2 0h0m2 0h0m6 0h0m6 0h0m2 0h0m2 0h0m14 0h0m2 0h0m-55 1h0m2 0h0m8 0h0m6 0h0m6 0h0m2 0h0m8 0h0m4 0h0m2 0h0m2 0h0m6 0h0m6 0h0m2 0h0m6 0h0m-71 1h0m2 0h0m2 0h0m6 0h0m16 0h0m6 0h0m2 0h0m2 0h0m2 0h0m4 0h0m12 0h0m4 0h0m10 0h0m2 0h0m4 0h0m-75 1h0m8 0h0m2 0h0m2 0h0m4 0h0m6 0h0m2 0h0m4 0h0m2 0h0m2 0h0m6 0h0m6 0h0m4 0h0m6 0h0m8 0h0m2 0h0m8 0h0m6 0h0m4 0h0m-83 1h0m2 0h0m8 0h0m2 0h0m2 0h0m10 0h0m2 0h0m4 0h0m2 0h0m10 0h0m2 0h0m2 0h0m2 0h0m4 0h0m2 0h0m2 0h0m12 0h0m4 0h0m-71 1h0m2 0h0m6 0h0m10 0h0m8 0h0m6 0h0m10 0h0m2 0h0m4 0h0m2 0h0m2 0h0m4 0h0m2 0h0m14 0h0m4 0h0m-73 1h0m4 0h0m4 0h0m4 0h0m4 0h0m6 0h0m2 0h0m2 0h0m6 0h0m4 0h0m4 0h0m10 0h0m2 0h0m4 0h0m4 0h0m6 0h0m2 0h0m-67 1h0m2 0h0m6 0h0m14 0h0m2 0h0m2 0h0m8 0h0m4 0h0m2 0h0m4 0h0m2 0h0m12 0h0m4 0h0m4 0h0m-59 1h0m4 0h0m6 0h0m4 0h0m2 0h0m2 0h0m2 0h0m8 0h0m2 0h0m4 0h0m14 0h0m6 0h0m4 0h0m2 0h0m-51 1h0m2 0h0m2 0h0m6 0h0m4 0h0m2 0h0m8 0h0m4 0h0m4 0h0m2 0h0m2 0h0m14 0h0m-53 1h0m2 0h0m2 0h0m6 0h0m4 0h0m2 0h0m6 0h0m4 0h0m2 0h0m2 0h0m4 0h0m2 0h0m2 0h0m4 0h0m2 0h0m-45 1h0m2 0h0m2 0h0m8 0h0m2 0h0m2 0h0m4 0h0m8 0h0m4 0h0m2 0h0m4 0h0m2 0h0m4 0h0m2 0h0m8 0h0m-53 1h0m2 0h0m2 0h0m2 0h0m4 0h0m2 0h0m2 0h0m2 0h0m4 0h0m2 0h0m4 0h0m2 0h0m2 0h0m2 0h0m6 0h0m2 0h0m2 0h0m10 0h0m-49 1h0m2 0h0m2 0h0m2 0h0m4 0h0m2 0h0m6 0h0m2 0h0m2 0h0m2 0h0m2 0h0m16 0h0m4 0h0m-49 1h0m6 0h0m6 0h0m2 0h0m2 0h0m2 0h0m2 0h0m2 0h0m4 0h0m12 0h0m2 0h0m-27 1h0m2 0h0m2 0h0m2 0h0m2 0h0m4 0h0m4 0h0m4 0h0m4 0h0m8 0h0m4 0h0m2 0h0m-41 1h0m6 0h0m4 0h0m4 0h0m4 0h0m16 0h0m-41 1h0m36 0h0m4 0h0m4 0h0m6 0h0m6 0h0m-51 1h0m6 0h0m22 0h0m2 0h0m2 0h0m2 0h0m4 0h0m6 0h0m-35 1h0m20 0h0m4 0h0m26 0h0m-49 1h0m4 0h0m6 0h0m28 0h0m-39 1h0m12 0h0m2 0h0m18 0h0m2 0h0m8 0h0m-35 1h0m14 0h0m10 0h0m2 0h0m2 0h0m-33 1h0m2 0h0m8 0h0m6 0h0m24 0h0m-45 1h0m8 0h0m18 0h0m8 0h0" stroke="#4e1b7d" vector-effect="non-scaling-stroke"/><path d="M54 12h0m-16 2h0m-16 6h0m20 0h0m-21 1h0m29 1h0m-13 1h0m-19 1h0m12 0h0m-13 1h0m-7 1h0m10 0h0m14 0h0m8 0h0m1 1h0m2 0h0m-25 1h0m20 0h0m14 0h0m-13 1h0m8 0h0m-9 1h0m7 1h0m-21 1h0m14 0h0m4 0h0m4 0h0m-27 1h0m6 0h0m20 0h0m34 0h0m-53 1h0m6 0h0m4 0h0m2 0h0m8 0h0m-29 1h0m16 0h0m14 0h0m-15 1h0m12 0h0m-21 1h0m10 0h0m6 0h0m4 0h0m10 0h0m-25 1h0m12 0h0m6 0h0m2 0h0m-23 1h0m2 0h0m6 0h0m8 0h0m2 0h0m-35 1h0m18 0h0m18 0h0m8 0h0m-33 1h0m48 0h0m-37 1h0m10 0h0m4 0h0m6 0h0m-31 1h0m6 0h0m-25 1h0m32 0h0m4 0h0m-19 1h0m20 0h0m2 0h0m18 0h0m-35 1h0m12 0h0m24 0h0m14 0h0m-31 1h0m-3 1h0m14 0h0m2 0h0m4 0h0m-27 1h0m14 0h0m8 0h0m-39 1h0m4 0h0m2 0h0m8 0h0m-11 1h0m1 1h0m2 0h0m6 0h0m6 0h0m2 0h0m4 0h0m-15 1h0m10 0h0m2 0h0m18 0h0m-33 1h0m28 0h0m12 0h0m-37 1h0m10 0h0m2 0h0m4 0h0m24 0h0m-27 1h0m6 0h0m4 0h0m-5 1h0m-17 1h0m10 0h0m3 1h0m26 0h0m-46 2h0m10 0h0m-3 1h0m22 0h0m4 0h0m-25 1h0m18 0h0m-32 2h0m22 0h0m4 0h0m10 0h0m-11 1h0m12 6h0" stroke="#321262" vector-effect="non-scaling-stroke"/><path d="M41 25h0m7 5h0m20 4h0m-26 16h0m-19 3h0m1 1h0m10 0h0m12 8h0m15 5h0m-31 1h0" stroke="#170939" vector-effect="non-scaling-stroke"/><path d="M37 35h0m55 5h0" stroke="#000004" vector-effect="non-scaling-stroke"/><path d="M26 0h0m2 0h0m2 0h0m12 0h0m20 0h0m10 0h0m4 0h0m4 0h0m8 0h0m4 0h0m-21 1h0m10 0h0m-53 1h0m38 0h0m4 0h0m2 0h0m4 0h0m14 0h0m-63 1h0m48 0h0m-11 1h0m-37 1h0m4 0h0m30 0h0m20 0h0m-43 1h0m4 0h0m32 0h0m2 0h0m8 0h0m-55 1h0m12 0h0m8 0h0m6 0h0m4 0h0m4 0h0m4 0h0m2 0h0m16 0h0m-55 1h0m10 0h0m8 0h0m6 0h0m6 0h0m6 0h0m4 0h0m2 0h0m4 0h0m2 0h0m-45 1h0m2 0h0m2 0h0m8 0h0m4 0h0m6 0h0m6 0h0m2 0h0m8 0h0m4 0h0m-49 1h0m4 0h0m2 0h0m4 0h0m2 0h0m2 0h0m8 0h0m6 0h0m8 0h0m2 0h0m4 0h0m2 0h0m4 0h0m8 0h0m-55 1h0m2 0h0m2 0h0m2 0h0m4 0h0m2 0h0m14 0h0m10 0h0m2 0h0m2 0h0m2 0h0m-47 1h0m2 0h0m2 0h0m10 0h0m6 0h0m14 0h0m6 0h0m4 0h0m4 0h0m2 0h0m6 0h0m-57 1h0m4 0h0m6 0h0m2 0h0m2 0h0m4 0h0m6 0h0m8 0h0m2 0h0m10 0h0m-43 1h0m2 0h0m6 0h0m2 0h0m24 0h0m4 0h0m6 0h0m4 0h0m2 0h0m-67 1h0m4 0h0m10 0h0m2 0h0m2 0h0m16 0h0m6 0h0m22 0h0m6 0h0m2 0h0m-63 1h0m4 0h0m10 0h0m2 0h0m2 0h0m10 0h0m20 0h0m2 0h0m2 0h0m6 0h0m2 0h0m6 0h0m14 0h0m-87 1h0m2 0h0m4 0h0m2 0h0m4 0h0m6 0h0m6 0h0m12 0h0m20 0h0m8 0h0m4 0h0m2 0h0m42 0h0m-113 1h0m4 0h0m52 0h0m2 0h0m4 0h0m2 0h0m6 0h0m2 0h0m-75 1h0m8 0h0m8 0h0m2 0h0m16 0h0m4 0h0m2 0h0m6 0h0m12 0h0m4 0h0m2 0h0m2 0h0m4 0h0m4 0h0m2 0h0m-75 1h0m4 0h0m4 0h0m4 0h0m46 0h0m4 0h0m2 0h0m2 0h0m6 0h0m-73 1h0m6 0h0m4 0h0m2 0h0m52 0h0m2 0h0m2 0h0m2 0h0m42 0h0m-79 1h0m8 0h0m12 0h0m14 0h0m2 0h0m2 0h0m2 0h0m4 0h0m2 0h0m34 0h0m-101 1h0m60 0h0m2 0h0m2 0h0m8 0h0m28 0h0m-109 1h0m6 0h0m14 0h0m2 0h0m6 0h0m8 0h0m10 0h0m20 0h0m4 0h0m2 0h0m2 0h0m2 0h0m4 0h0m8 0h0m24 0h0m-109 1h0m4 0h0m12 0h0m36 0h0m18 0h0m2 0h0m2 0h0m2 0h0m8 0h0m14 0h0m4 0h0m-41 1h0m12 0h0m2 0h0m6 0h0m2 0h0m8 0h0m-27 1h0m2 0h0m10 0h0m4 0h0m6 0h0m-91 1h0m64 0h0m4 0h0m4 0h0m10 0h0m2 0h0m4 0h0m-87 1h0m12 0h0m46 0h0m2 0h0m12 0h0m8 0h0m8 0h0m2 0h0m2 0h0m2 0h0m-75 1h0m36 0h0m4 0h0m2 0h0m2 0h0m8 0h0m2 0h0m2 0h0m4 0h0m6 0h0m-71 1h0m38 0h0m8 0h0m4 0h0m14 0h0m6 0h0m-57 1h0m30 0h0m2 0h0m2 0h0m8 0h0m12 0h0m-81 1h0m8 0h0m22 0h0m24 0h0m2 0h0m8 0h0m6 0h0m4 0h0m-19 1h0m2 0h0m6 0h0m4 0h0m4 0h0m2 0h0m6 0h0m18 0h0m-91 1h0m6 0h0m46 0h0m6 0h0m2 0h0m26 0h0m-91 1h0m8 0h0m2 0h0m6 0h0m48 0h0m4 0h0m2 0h0m18 0h0m4 0h0m-39 1h0m2 0h0m6 0h0m2 0h0m6 0h0m14 0h0m4 0h0m2 0h0m2 0h0m2 0h0m-93 1h0m42 0h0m12 0h0m22 0h0m10 0h0m2 0h0m4 0h0m-95 1h0m30 0h0m34 0h0m10 0h0m10 0h0m4 0h0m2 0h0m2 0h0m-13 1h0m2 0h0m2 0h0m6 0h0m4 0h0m-87 1h0m18 0h0m36 0h0m14 0h0m2 0h0m8 0h0m8 0h0m-89 1h0m2 0h0m12 0h0m68 0h0m10 0h0m-91 1h0m8 0h0m10 0h0m10 0h0m50 0h0m8 0h0m2 0h0m2 0h0m-19 1h0m10 0h0m2 0h0m4 0h0m4 0h0m-35 1h0m18 0h0m6 0h0m2 0h0m-61 1h0m36 0h0m18 0h0m12 0h0m-37 1h0m16 0h0m6 0h0m4 0h0m2 0h0m2 0h0m4 0h0m2 0h0m2 0h0m-93 1h0m62 0h0m18 0h0m4 0h0m2 0h0m2 0h0m6 0h0m-91 1h0m2 0h0m78 0h0m2 0h0m4 0h0m-63 1h0m22 0h0m30 0h0m6 0h0m-81 1h0m40 0h0m32 0h0m6 0h0m-65 1h0m22 0h0m42 0h0m4 0h0m2 0h0m4 0h0m6 0h0m-25 1h0m4 0h0m4 0h0m4 0h0m6 0h0m4 0h0m-41 1h0m6 0h0m20 0h0m2 0h0m4 0h0m2 0h0m-7 1h0m2 0h0m2 0h0m-7 1h0m2 0h0m4 0h0m4 0h0m2 0h0m-87 1h0m12 0h0m2 0h0m50 0h0m2 0h0m10 0h0m4 0h0m-81 1h0m2 0h0m2 0h0m2 0h0m4 0h0m2 0h0m2 0h0m50 0h0m12 0h0m6 0h0m2 0h0m2 0h0m-83 1h0m2 0h0m2 0h0m2 0h0m2 0h0m12 0h0m46 0h0m8 0h0m4 0h0m2 0h0m-83 1h0m2 0h0m6 0h0m66 0h0m2 0h0m-71 1h0m2 0h0m4 0h0m4 0h0m20 0h0m42 0h0m2 0h0m4 0h0m-75 1h0m2 0h0m2 0h0m56 0h0m8 0h0m8 0h0m4 0h0m-77 1h0m2 0h0m28 0h0m12 0h0m4 0h0m4 0h0m10 0h0m12 0h0m4 0h0m-71 1h0m2 0h0m14 0h0m12 0h0m10 0h0m2 0h0m2 0h0m16 0h0m-57 1h0m2 0h0m10 0h0m16 0h0m10 0h0m8 0h0m-45 1h0m2 0h0m10 0h0m38 0h0m4 0h0m2 0h0m2 0h0m4 0h0m-67 1h0m4 0h0m6 0h0m2 0h0m16 0h0m16 0h0m12 0h0m4 0h0m-53 1h0m2 0h0m4 0h0m2 0h0m4 0h0m2 0h0m16 0h0m10 0h0m6 0h0m6 0h0m6 0h0m4 0h0m2 0h0m2 0h0m-69 1h0m2 0h0m2 0h0m4 0h0m12 0h0m2 0h0m6 0h0m14 0h0m2 0h0m2 0h0m10 0h0m2 0h0m4 0h0m-63 1h0m2 0h0m18 0h0m10 0h0m26 0h0m8 0h0m2 0h0m-61 1h0m8 0h0m2 0h0m4 0h0m14 0h0m12 0h0m6 0h0m2 0h0m4 0h0m8 0h0m2 0h0m6 0h0m2 0h0m-77 1h0m8 0h0m2 0h0m2 0h0m16 0h0m10 0h0m22 0h0m2 0h0m4 0h0m4 0h0m2 0h0m2 0h0" stroke="#8b3083" vector-effect="non-scaling-stroke"/><path d="M24 0h0m8 0h0m2 0h0m4 0h0m6 0h0m4 0h0m4 0h0m2 0h0m2 0h0m2 0h0m2 0h0m4 0h0m4 0h0m2 0h0m8 0h0m4 0h0m2 0h0m2 0h0m4 0h0m6 0h0m-71 1h0m4 0h0m2 0h0m2 0h0m4 0h0m4 0h0m2 0h0m2 0h0m2 0h0m10 0h0m2 0h0m6 0h0m2 0h0m8 0h0m2 0h0m6 0h0m2 0h0m2 0h0m2 0h0m-53 1h0m2 0h0m8 0h0m12 0h0m2 0h0m18 0h0m2 0h0m4 0h0m2 0h0m2 0h0m-59 1h0m8 0h0m34 0h0m2 0h0m6 0h0m2 0h0m4 0h0m-45 1h0m2 0h0m14 0h0m4 0h0m2 0h0m6 0h0m2 0h0m2 0h0m6 0h0m2 0h0m2 0h0m2 0h0m8 0h0m-55 1h0m4 0h0m2 0h0m6 0h0m10 0h0m8 0h0m2 0h0m2 0h0m2 0h0m4 0h0m2 0h0m4 0h0m2 0h0m6 0h0m-63 1h0m2 0h0m2 0h0m12 0h0m2 0h0m2 0h0m2 0h0m4 0h0m2 0h0m10 0h0m2 0h0m2 0h0m8 0h0m4 0h0m-51 1h0m2 0h0m2 0h0m2 0h0m2 0h0m4 0h0m4 0h0m4 0h0m2 0h0m8 0h0m4 0h0m6 0h0m2 0h0m2 0h0m2 0h0m4 0h0m14 0h0m8 0h0m-81 1h0m12 0h0m2 0h0m2 0h0m4 0h0m4 0h0m4 0h0m6 0h0m6 0h0m6 0h0m6 0h0m6 0h0m2 0h0m6 0h0m24 0h0m2 0h0m-97 1h0m8 0h0m6 0h0m28 0h0m6 0h0m8 0h0m4 0h0m4 0h0m-59 1h0m6 0h0m14 0h0m2 0h0m32 0h0m-53 1h0m2 0h0m22 0h0m28 0h0m2 0h0m4 0h0m-73 1h0m10 0h0m2 0h0m48 0h0m6 0h0m2 0h0m12 0h0m-77 1h0m4 0h0m2 0h0m2 0h0m4 0h0m46 0h0m4 0h0m2 0h0m2 0h0m2 0h0m-71 1h0m2 0h0m4 0h0m2 0h0m58 0h0m2 0h0m4 0h0m-79 1h0m2 0h0m4 0h0m4 0h0m4 0h0m2 0h0m10 0h0m6 0h0m36 0h0m8 0h0m2 0h0m4 0h0m-81 1h0m4 0h0m2 0h0m2 0h0m8 0h0m58 0h0m38 0h0m-113 1h0m2 0h0m6 0h0m58 0h0m4 0h0m6 0h0m4 0h0m34 0h0m4 0h0m-117 1h0m76 0h0m2 0h0m-77 1h0m2 0h0m68 0h0m6 0h0m30 0h0m8 0h0m-47 1h0m6 0h0m2 0h0m2 0h0m2 0h0m26 0h0m6 0h0m2 0h0m2 0h0m-45 1h0m4 0h0m2 0h0m2 0h0m4 0h0m32 0h0m2 0h0m-53 1h0m10 0h0m6 0h0m2 0h0m2 0h0m2 0h0m12 0h0m8 0h0m4 0h0m-93 1h0m60 0h0m2 0h0m2 0h0m4 0h0m4 0h0m12 0h0m8 0h0m6 0h0m-31 1h0m2 0h0m6 0h0m2 0h0m8 0h0m4 0h0m2 0h0m2 0h0m2 0h0m-29 1h0m2 0h0m2 0h0m4 0h0m2 0h0m2 0h0m4 0h0m6 0h0m4 0h0m-25 1h0m6 0h0m2 0h0m2 0h0m4 0h0m4 0h0m2 0h0m-27 1h0m2 0h0m4 0h0m6 0h0m4 0h0m2 0h0m4 0h0m4 0h0m-9 1h0m4 0h0m-15 1h0m-25 1h0m12 0h0m22 0h0m-35 1h0m7 1h0m-65 1h0m60 0h0m2 0h0m2 0h0m4 0h0m2 0h0m36 0h0m-45 1h0m36 0h0m8 0h0m-103 1h0m56 0h0m4 0h0m34 0h0m1 1h0m2 0h0m2 0h0m-3 1h0m1 1h0m-33 1h0m30 0h0m2 0h0m6 0h0m-9 1h0m4 0h0m-5 1h0m2 0h0m-5 1h0m6 0h0m-11 1h0m12 0h0m-5 1h0m4 0h0m-3 1h0m6 0h0m-17 1h0m10 0h0m6 0h0m-3 1h0m2 0h0m2 0h0m-9 1h0m4 0h0m-3 1h0m2 0h0m2 0h0m2 0h0m-47 1h0m38 0h0m8 0h0m-11 1h0m2 0h0m4 0h0m2 0h0m-3 1h0m2 0h0m4 0h0m-11 1h0m4 0h0m-3 1h0m2 0h0m6 0h0m-41 1h0m6 0h0m24 0h0m2 0h0m6 0h0m-79 1h0m66 0h0m4 0h0m10 0h0m-15 1h0m4 0h0m2 0h0m4 0h0m-81 1h0m80 0h0m4 0h0m-91 1h0m78 0h0m-75 1h0m2 0h0m4 0h0m6 0h0m68 0h0m4 0h0m2 0h0m-89 1h0m2 0h0m6 0h0m64 0h0m8 0h0m4 0h0m-85 1h0m6 0h0m64 0h0m12 0h0m-81 1h0m8 0h0m70 0h0m10 0h0m-89 1h0m8 0h0m2 0h0m2 0h0m10 0h0m56 0h0m2 0h0m4 0h0m4 0h0m-77 1h0m70 0h0m2 0h0m4 0h0m-77 1h0m4 0h0m2 0h0m66 0h0m10 0h0m-77 1h0m64 0h0m4 0h0m4 0h0m4 0h0m4 0h0m-81 1h0m4 0h0m6 0h0m46 0h0m18 0h0m2 0h0m-77 1h0m70 0h0m2 0h0m2 0h0m6 0h0m-79 1h0m72 0h0m6 0h0m-79 1h0m4 0h0m68 0h0m2 0h0m-77 1h0m2 0h0m4 0h0m2 0h0m2 0h0m62 0h0" stroke="#ac376e" vector-effect="non-scaling-stroke"/><path d="M36 0h0m14 0h0m24 0h0m20 0h0m4 0h0m2 0h0m4 0h0m4 0h0m2 0h0m4 0h0m2 0h0m2 0h0m-91 1h0m8 0h0m4 0h0m10 0h0m2 0h0m2 0h0m2 0h0m6 0h0m2 0h0m6 0h0m4 0h0m6 0h0m12 0h0m2 0h0m2 0h0m2 0h0m2 0h0m2 0h0m2 0h0m10 0h0m2 0h0m2 0h0m-91 1h0m4 0h0m2 0h0m2 0h0m6 0h0m2 0h0m2 0h0m4 0h0m4 0h0m2 0h0m2 0h0m6 0h0m2 0h0m4 0h0m6 0h0m8 0h0m10 0h0m4 0h0m2 0h0m4 0h0m4 0h0m4 0h0m2 0h0m6 0h0m-87 1h0m4 0h0m8 0h0m4 0h0m4 0h0m2 0h0m2 0h0m2 0h0m2 0h0m2 0h0m2 0h0m2 0h0m2 0h0m2 0h0m8 0h0m6 0h0m4 0h0m2 0h0m4 0h0m2 0h0m2 0h0m4 0h0m6 0h0m2 0h0m2 0h0m6 0h0m-89 1h0m2 0h0m4 0h0m4 0h0m8 0h0m4 0h0m2 0h0m6 0h0m8 0h0m8 0h0m2 0h0m10 0h0m2 0h0m2 0h0m4 0h0m2 0h0m4 0h0m14 0h0m-99 1h0m14 0h0m4 0h0m2 0h0m4 0h0m8 0h0m4 0h0m2 0h0m2 0h0m2 0h0m6 0h0m2 0h0m10 0h0m12 0h0m2 0h0m8 0h0m4 0h0m2 0h0m8 0h0m2 0h0m-109 1h0m10 0h0m2 0h0m18 0h0m2 0h0m4 0h0m12 0h0m6 0h0m2 0h0m2 0h0m2 0h0m8 0h0m8 0h0m6 0h0m2 0h0m6 0h0m18 0h0m2 0h0m2 0h0m-99 1h0m28 0h0m12 0h0m22 0h0m4 0h0m4 0h0m2 0h0m2 0h0m2 0h0m12 0h0m12 0h0m2 0h0m-103 1h0m4 0h0m64 0h0m8 0h0m2 0h0m2 0h0m4 0h0m10 0h0m6 0h0m2 0h0m-99 1h0m2 0h0m2 0h0m24 0h0m22 0h0m10 0h0m4 0h0m2 0h0m4 0h0m2 0h0m2 0h0m2 0h0m10 0h0m4 0h0m10 0h0m-101 1h0m2 0h0m4 0h0m48 0h0m6 0h0m2 0h0m6 0h0m2 0h0m20 0h0m2 0h0m4 0h0m2 0h0m-115 1h0m4 0h0m10 0h0m2 0h0m2 0h0m60 0h0m4 0h0m2 0h0m2 0h0m2 0h0m20 0h0m4 0h0m2 0h0m4 0h0m-117 1h0m2 0h0m6 0h0m2 0h0m2 0h0m2 0h0m64 0h0m2 0h0m4 0h0m4 0h0m12 0h0m8 0h0m2 0h0m-111 1h0m2 0h0m2 0h0m2 0h0m2 0h0m4 0h0m68 0h0m2 0h0m2 0h0m24 0h0m2 0h0m4 0h0m4 0h0m-117 1h0m10 0h0m6 0h0m60 0h0m6 0h0m26 0h0m2 0h0m-99 1h0m58 0h0m10 0h0m8 0h0m18 0h0m2 0h0m6 0h0m2 0h0m2 0h0m-115 1h0m70 0h0m6 0h0m2 0h0m36 0h0m-39 1h0m6 0h0m26 0h0m-29 1h0m30 0h0m4 0h0m2 0h0m-37 1h0m4 0h0m2 0h0m18 0h0m6 0h0m2 0h0m2 0h0m4 0h0m-35 1h0m16 0h0m2 0h0m8 0h0m2 0h0m-37 1h0m8 0h0m12 0h0m4 0h0m6 0h0m2 0h0m2 0h0m2 0h0m4 0h0m-19 1h0m10 0h0m4 0h0m6 0h0m2 0h0m-51 1h0m22 0h0m6 0h0m2 0h0m2 0h0m2 0h0m4 0h0m2 0h0m2 0h0m6 0h0m4 0h0m-37 1h0m8 0h0m8 0h0m2 0h0m2 0h0m4 0h0m-7 1h0m4 0h0m-1 1h0m6 0h0m-5 1h0m10 4h0m6 0h0m-16 2h0m2 0h0m6 0h0m-47 1h0m38 0h0m10 0h0m-13 1h0m4 0h0m2 0h0m4 0h0m-8 2h0m12 0h0m-15 1h0m6 0h0m4 0h0m-7 1h0m16 0h0m-19 1h0m4 0h0m2 0h0m-5 1h0m2 0h0m4 0h0m-5 1h0m2 0h0m2 0h0m14 0h0m-21 1h0m4 0h0m2 0h0m2 0h0m-5 1h0m2 0h0m2 0h0m4 0h0m-15 1h0m4 0h0m2 0h0m-1 1h0m4 0h0m-83 1h0m76 0h0m3 1h0m2 0h0m1 1h0m2 0h0m-9 1h0m2 0h0m4 0h0m2 0h0m-5 1h0m2 0h0m4 0h0m1 1h0m-9 1h0m2 0h0m2 0h0m2 0h0m2 0h0m-11 1h0m2 0h0m4 0h0m4 0h0m2 0h0m4 0h0m-19 1h0m2 0h0m4 0h0m2 0h0m-7 1h0m2 0h0m4 0h0m6 0h0m-15 1h0m4 0h0m4 0h0m-5 1h0m6 0h0m10 0h0m-21 1h0m2 0h0m2 0h0m2 0h0m-5 1h0m6 0h0m-5 1h0m4 0h0m-89 1h0m78 0h0m6 0h0m8 0h0m-91 1h0m2 0h0m2 0h0m78 0h0m6 0h0m10 0h0m-97 1h0m2 0h0m80 0h0m4 0h0m2 0h0m4 0h0m2 0h0m-95 1h0m4 0h0m2 0h0m76 0h0m4 0h0m2 0h0m4 0h0m2 0h0m-91 1h0m2 0h0m4 0h0m72 0h0m2 0h0m2 0h0m2 0h0m6 0h0m2 0h0m-97 1h0m4 0h0m6 0h0m78 0h0m8 0h0m-87 1h0m2 0h0m82 0h0m-79 1h0m76 0h0m-87 1h0m4 0h0m4 0h0m72 0h0m6 0h0m-87 1h0m2 0h0m4 0h0m2 0h0m4 0h0m-9 1h0m84 0h0" stroke="#cd424f" vector-effect="non-scaling-stroke"/><path d="M46 0h0m56 0h0m4 0h0m6 0h0m-7 1h0m2 0h0m2 0h0m2 0h0m8 0h0m-69 1h0m44 0h0m6 0h0m4 0h0m4 0h0m6 0h0m-81 1h0m6 0h0m2 0h0m4 0h0m4 0h0m42 0h0m8 0h0m4 0h0m2 0h0m8 0h0m2 0h0m4 0h0m-87 1h0m4 0h0m8 0h0m4 0h0m50 0h0m4 0h0m2 0h0m2 0h0m2 0h0m4 0h0m6 0h0m-111 1h0m2 0h0m2 0h0m34 0h0m48 0h0m2 0h0m4 0h0m6 0h0m2 0h0m2 0h0m6 0h0m2 0h0m2 0h0m-117 1h0m4 0h0m86 0h0m4 0h0m2 0h0m2 0h0m2 0h0m2 0h0m2 0h0m2 0h0m2 0h0m8 0h0m-115 1h0m6 0h0m4 0h0m2 0h0m4 0h0m80 0h0m8 0h0m2 0h0m4 0h0m-111 1h0m2 0h0m6 0h0m2 0h0m2 0h0m4 0h0m68 0h0m4 0h0m8 0h0m4 0h0m2 0h0m4 0h0m-105 1h0m4 0h0m8 0h0m72 0h0m10 0h0m2 0h0m2 0h0m2 0h0m4 0h0m4 0h0m2 0h0m4 0h0m-111 1h0m2 0h0m4 0h0m2 0h0m2 0h0m74 0h0m2 0h0m2 0h0m2 0h0m2 0h0m2 0h0m2 0h0m4 0h0m6 0h0m6 0h0m-111 1h0m2 0h0m2 0h0m2 0h0m8 0h0m70 0h0m2 0h0m6 0h0m2 0h0m4 0h0m2 0h0m10 0h0m-111 1h0m78 0h0m8 0h0m2 0h0m4 0h0m2 0h0m4 0h0m4 0h0m10 0h0m-31 1h0m2 0h0m2 0h0m2 0h0m2 0h0m2 0h0m2 0h0m2 0h0m2 0h0m2 0h0m2 0h0m6 0h0m4 0h0m-113 1h0m2 0h0m76 0h0m4 0h0m2 0h0m2 0h0m8 0h0m2 0h0m4 0h0m2 0h0m2 0h0m6 0h0m2 0h0m2 0h0m-33 1h0m2 0h0m8 0h0m4 0h0m6 0h0m6 0h0m2 0h0m-29 1h0m16 0h0m2 0h0m4 0h0m2 0h0m4 0h0m4 0h0m-33 1h0m6 0h0m6 0h0m2 0h0m10 0h0m2 0h0m4 0h0m-65 1h0m36 0h0m2 0h0m16 0h0m2 0h0m4 0h0m2 0h0m4 0h0m-31 1h0m8 0h0m4 0h0m2 0h0m6 0h0m4 0h0m-19 1h0m2 0h0m2 0h0m2 0h0m2 0h0m8 0h0m2 0h0m-19 1h0m2 0h0m2 0h0m2 0h0m8 0h0m-11 1h0m2 0h0m2 0h0m4 0h0m4 0h0m-9 1h0m-9 7h0m33 1h0m-9 1h0m2 0h0m6 0h0m-7 1h0m10 0h0m-15 1h0m6 0h0m6 0h0m-15 1h0m6 0h0m6 0h0m4 0h0m-13 1h0m2 0h0m2 0h0m4 0h0m2 0h0m2 0h0m-13 1h0m2 0h0m2 0h0m4 0h0m4 0h0m-13 1h0m4 0h0m4 0h0m2 0h0m6 0h0m-15 1h0m4 0h0m12 0h0m-13 1h0m10 0h0m-27 1h0m14 0h0m16 0h0m-13 1h0m2 0h0m4 0h0m2 0h0m-7 1h0m2 0h0m2 0h0m-47 1h0m42 0h0m10 0h0m-13 1h0m4 0h0m2 0h0m6 0h0m4 0h0m-15 1h0m2 0h0m10 0h0m2 0h0m-15 1h0m2 0h0m2 0h0m2 0h0m-7 1h0m2 0h0m2 0h0m4 0h0m2 0h0m-7 1h0m2 0h0m-6 2h0m4 0h0m2 0h0m2 0h0m6 0h0m-15 1h0m2 0h0m3 1h0m6 0h0m-11 1h0m10 0h0m2 0h0m-13 1h0m2 0h0m2 0h0m4 0h0m2 0h0m-9 1h0m4 0h0m2 0h0m2 0h0m2 0h0m-17 1h0m4 0h0m2 0h0m2 0h0m2 0h0m2 0h0m-11 1h0m4 0h0m2 0h0m4 0h0m-11 1h0m2 0h0m4 0h0m2 0h0m2 0h0m-14 2h0m4 0h0m2 0h0m2 0h0m2 0h0m4 0h0m-11 1h0m6 0h0m2 0h0m2 0h0m-7 1h0m2 0h0m-95 1h0m98 0h0m-99 1h0m4 0h0m88 0h0m6 0h0m-99 1h0m4 0h0m90 0h0m-91 1h0m4 0h0m2 0h0m84 0h0m-91 1h0m2 0h0m4 0h0m-5 1h0m2 0h0m4 0h0m2 0h0m-5 1h0m4 0h0m-9 1h0m6 0h0m1 1h0" stroke="#e95d30" vector-effect="non-scaling-stroke"/><path d="M116 2h0m-62 2h0m56 0h0m6 0h0m-111 1h0m8 0h0m-5 1h0m2 0h0m2 0h0m-11 1h0m4 0h0m6 0h0m86 0h0m4 0h0m10 0h0m4 0h0m-107 1h0m98 0h0m-105 1h0m4 0h0m4 0h0m2 0h0m2 0h0m102 0h0m-113 1h0m2 0h0m6 0h0m94 0h0m-101 1h0m92 0h0m2 0h0m6 0h0m8 0h0m-15 1h0m10 0h0m8 0h0m2 0h0m-57 1h0m33 1h0m2 0h0m8 0h0m-11 1h0m2 0h0m8 0h0m2 0h0m-17 1h0m2 0h0m2 0h0m4 0h0m2 0h0m2 0h0m12 0h0m-23 1h0m4 0h0m2 0h0m6 0h0m2 0h0m2 0h0m2 0h0m-63 1h0m48 0h0m4 0h0m4 0h0m2 0h0m6 0h0m-17 1h0m4 0h0m6 0h0m2 0h0m-3 1h0m-1 1h0m18 10h0m-3 1h0m2 0h0m4 0h0m-3 1h0m2 0h0m-9 1h0m6 0h0m4 0h0m-7 1h0m4 0h0m-5 1h0m8 0h0m-9 1h0m8 0h0m2 0h0m-3 1h0m-7 1h0m2 0h0m2 0h0m2 0h0m-7 1h0m4 0h0m6 0h0m-11 1h0m2 0h0m2 0h0m4 0h0m-5 1h0m6 0h0m-1 1h0m4 0h0m-9 1h0m2 0h0m2 0h0m4 0h0m-13 1h0m12 0h0m-9 1h0m2 0h0m4 0h0m3 1h0m2 0h0m-5 1h0m4 0h0m-79 1h0m70 0h0m2 0h0m2 0h0m2 0h0m2 0h0m-13 1h0m4 0h0m4 0h0m2 0h0m2 0h0m2 0h0m-7 1h0m2 0h0m4 0h0m-11 1h0m6 0h0m2 0h0m-7 1h0m2 0h0m4 0h0m2 0h0m-10 2h0m6 0h0m-13 1h0m9 1h0m-10 2h0m8 0h0m-23 1h0m12 0h0m2 0h0m2 0h0m2 0h0m2 0h0m2 0h0m-3 1h0m-87 1h0m76 0h0m6 0h0m-3 1h0m6 0h0m-5 1h0m-92 2h0m-2 2h0m1 1h0m6 0h0m-5 1h0m0 2h0m2 0h0" stroke="#f58b1e" vector-effect="non-scaling-stroke"/><path d="M7 7h0m-1 1h0m90 6h0m1 1h0m7 1h0m-16 2h0m4 0h0m4 0h0m7 3h0m-38 2h0m48 10h0m6 2h0m-5 3h0m-4 2h0m4 0h0m-1 1h0m4 0h0m-4 2h0m4 0h0m-4 2h0m-97 1h0m96 0h0m-1 1h0m4 0h0m-7 1h0m8 0h0m-10 2h0m4 0h0m-2 2h0m2 0h0m6 0h0m-10 2h0m-4 4h0m-98 4h0m69 3h0m-67 3h0m86 0h0" stroke="#f9c245" vector-effect="non-scaling-stroke"/><path d="M90 6h0m-6 4h0m20 12h0m7 23h0m2 2h0" stroke="#fcffa4" vector-effect="non-scaling-stroke"/></g>
<rect x="1363.9" y="1996.6" width="221" height="233.3" fill="none" stroke="#3a3a3a" stroke-width="1.8"/>
<rect x="1613.2" y="2052.7" width="29.7" height="146.9" fill="url(#gj)"/>
<path d="M1613.2 2070.7L1618.2 2070.7" stroke="#fff" stroke-width="1" fill="none" />
<path d="M1637.9 2070.7L1642.9 2070.7" stroke="#fff" stroke-width="1" fill="none" />
<path d="M1613.2 2112.6L1618.2 2112.6" stroke="#fff" stroke-width="1" fill="none" />
<path d="M1637.9 2112.6L1642.9 2112.6" stroke="#fff" stroke-width="1" fill="none" />
<path d="M1613.2 2155.8L1618.2 2155.8" stroke="#fff" stroke-width="1" fill="none" />
<path d="M1637.9 2155.8L1642.9 2155.8" stroke="#fff" stroke-width="1" fill="none" />
<text x="1644.4" y="2077.9" font-size="20" >3000</text>
<text x="1644.4" y="2119.8" font-size="20" >2000</text>
<text x="1644.4" y="2163" font-size="20" >1000</text>
<text x="1813" y="1987" font-size="24.7" text-anchor="middle">Percentage of mitochondrial genes</text>
<rect x="1692.4" y="1999.5" width="222.8" height="234" fill="#fff"/>
<path d="M1730.8 1999.5L1730.8 2233.5" stroke="#ececec" stroke-width="1" fill="none" />
<path d="M1692.4 2042.4L1915.2 2042.4" stroke="#ececec" stroke-width="1" fill="none" />
<path d="M1779.3 1999.5L1779.3 2233.5" stroke="#ececec" stroke-width="1" fill="none" />
<path d="M1692.4 2093.2L1915.2 2093.2" stroke="#ececec" stroke-width="1" fill="none" />
<path d="M1827.7 1999.5L1827.7 2233.5" stroke="#ececec" stroke-width="1" fill="none" />
<path d="M1692.4 2144.1L1915.2 2144.1" stroke="#ececec" stroke-width="1" fill="none" />
<path d="M1876.1 1999.5L1876.1 2233.5" stroke="#ececec" stroke-width="1" fill="none" />
<path d="M1692.4 2195L1915.2 2195" stroke="#ececec" stroke-width="1" fill="none" />
<path d="M1.5 18.6L10.4 13.8L25.3 14.9L36.5 22.4L53.3 33.5L47 14.9L41 0L206.1 0.7L206.1 69.3L185.6 79L163.2 90.2L133.4 106.6L105.5 125.2L96.1 130.4L62.6 138.6L1.1 143.5ZM1.1 146.5L62.6 142.4L99.9 134.2L126 117.8L155.8 106.6L185.6 95.4L206.1 89.4L205 145.3L200.5 156.5L185.6 171.4L178.1 186.3L163.2 205L155.8 216.1L4.8 216.1L0 205Z" transform="translate(1701 2007.3)" fill="#6a2789"/>
<g transform="translate(1702.2 2008.5) scale(1.710 2.960)" fill="none" stroke-width="3.9" stroke-linecap="round"><path d="M24 0h0m6 0h0m20 0h0m44 0h0m-45 1h0m12 0h0m2 0h0m4 0h0m52 0h0m-89 1h0m10 0h0m18 0h0m8 0h0m4 0h0m34 0h0m8 0h0m-79 1h0m28 0h0m18 0h0m-45 1h0m4 0h0m4 0h0m14 0h0m-51 1h0m2 0h0m2 0h0m4 0h0m34 0h0m18 0h0m42 0h0m8 0h0m2 0h0m-111 1h0m4 0h0m2 0h0m4 0h0m12 0h0m6 0h0m14 0h0m10 0h0m2 0h0m10 0h0m6 0h0m-73 1h0m2 0h0m2 0h0m4 0h0m2 0h0m2 0h0m14 0h0m10 0h0m2 0h0m14 0h0m6 0h0m18 0h0m-73 1h0m2 0h0m4 0h0m4 0h0m6 0h0m8 0h0m8 0h0m10 0h0m8 0h0m24 0h0m-75 1h0m6 0h0m4 0h0m2 0h0m2 0h0m6 0h0m80 0h0m-99 1h0m4 0h0m4 0h0m2 0h0m4 0h0m4 0h0m10 0h0m4 0h0m16 0h0m4 0h0m58 0h0m-107 1h0m2 0h0m22 0h0m-29 1h0m2 0h0m4 0h0m4 0h0m4 0h0m4 0h0m52 0h0m-73 1h0m2 0h0m8 0h0m8 0h0m2 0h0m2 0h0m4 0h0m12 0h0m26 0h0m28 0h0m12 0h0m14 0h0m-117 1h0m8 0h0m16 0h0m2 0h0m16 0h0m16 0h0m4 0h0m-55 1h0m16 0h0m6 0h0m12 0h0m-41 1h0m4 0h0m4 0h0m20 0h0m10 0h0m26 0h0m48 0h0m2 0h0m-105 1h0m2 0h0m6 0h0m16 0h0m10 0h0m66 0h0m-99 1h0m8 0h0m12 0h0m14 0h0m8 0h0m2 0h0m54 0h0m-99 1h0m10 0h0m14 0h0m40 0h0m24 0h0m2 0h0m8 0h0m-107 1h0m8 0h0m6 0h0m12 0h0m24 0h0m52 0h0m2 0h0m6 0h0m-103 1h0m6 0h0m38 0h0m24 0h0m24 0h0m18 0h0m-109 1h0m6 0h0m6 0h0m16 0h0m56 0h0m8 0h0m6 0h0m-91 1h0m12 0h0m16 0h0m18 0h0m6 0h0m-63 1h0m10 0h0m72 0h0m16 0h0m-91 1h0m16 0h0m2 0h0m2 0h0m8 0h0m36 0h0m-61 1h0m14 0h0m12 0h0m42 0h0m14 0h0m8 0h0m-99 1h0m4 0h0m4 0h0m12 0h0m24 0h0m40 0h0m2 0h0m4 0h0m-71 1h0m4 0h0m40 0h0m-63 1h0m4 0h0m8 0h0m4 0h0m44 0h0m18 0h0m6 0h0m-79 1h0m12 0h0m6 0h0m20 0h0m32 0h0m-63 1h0m16 0h0m4 0h0m52 0h0m26 0h0m-109 1h0m24 0h0m14 0h0m4 0h0m2 0h0m2 0h0m-45 1h0m2 0h0m6 0h0m4 0h0m12 0h0m2 0h0m18 0h0m26 0h0m36 0h0m2 0h0m-107 1h0m2 0h0m2 0h0m2 0h0m6 0h0m26 0h0m60 0h0m-81 1h0m14 0h0m28 0h0m8 0h0m2 0h0m32 0h0m2 0h0m-107 1h0m8 0h0m20 0h0m18 0h0m14 0h0m4 0h0m32 0h0m10 0h0m-99 1h0m32 0h0m2 0h0m2 0h0m8 0h0m6 0h0m44 0h0m6 0h0m2 0h0m4 0h0m-103 1h0m4 0h0m10 0h0m2 0h0m14 0h0m10 0h0m2 0h0m2 0h0m2 0h0m28 0h0m4 0h0m4 0h0m16 0h0m-75 1h0m12 0h0m14 0h0m22 0h0m20 0h0m-89 1h0m12 0h0m22 0h0m8 0h0m26 0h0m6 0h0m14 0h0m12 0h0m-111 1h0m2 0h0m2 0h0m8 0h0m6 0h0m4 0h0m4 0h0m6 0h0m6 0h0m2 0h0m24 0h0m6 0h0m20 0h0m-89 1h0m6 0h0m10 0h0m10 0h0m12 0h0m24 0h0m6 0h0m16 0h0m16 0h0m-95 1h0m2 0h0m16 0h0m6 0h0m6 0h0m14 0h0m12 0h0m8 0h0m8 0h0m2 0h0m6 0h0m-51 1h0m4 0h0m2 0h0m18 0h0m12 0h0m8 0h0m-83 1h0m6 0h0m4 0h0m12 0h0m8 0h0m36 0h0m8 0h0m2 0h0m6 0h0m32 0h0m-117 1h0m10 0h0m20 0h0m6 0h0m22 0h0m38 0h0m-73 1h0m26 0h0m14 0h0m4 0h0m14 0h0m-47 1h0m10 0h0m4 0h0m4 0h0m2 0h0m24 0h0m8 0h0m6 0h0m2 0h0m-81 1h0m18 0h0m4 0h0m14 0h0m6 0h0m14 0h0m10 0h0m-77 1h0m2 0h0m12 0h0m6 0h0m2 0h0m4 0h0m26 0h0m2 0h0m12 0h0m14 0h0m4 0h0m-61 1h0m6 0h0m6 0h0m22 0h0m38 0h0m-91 1h0m2 0h0m16 0h0m2 0h0m12 0h0m10 0h0m8 0h0m12 0h0m10 0h0m2 0h0m6 0h0m-81 1h0m4 0h0m16 0h0m2 0h0m22 0h0m22 0h0m4 0h0m2 0h0m-67 1h0m4 0h0m30 0h0m16 0h0m4 0h0m16 0h0m2 0h0m4 0h0m-65 1h0m8 0h0m10 0h0m10 0h0m16 0h0m18 0h0m14 0h0m-81 1h0m2 0h0m18 0h0m16 0h0m4 0h0m6 0h0m4 0h0m24 0h0m-85 1h0m8 0h0m4 0h0m34 0h0m18 0h0m12 0h0m-69 1h0m6 0h0m4 0h0m10 0h0m16 0h0m24 0h0m6 0h0m-67 1h0m4 0h0m2 0h0m6 0h0m2 0h0m20 0h0m6 0h0m6 0h0m8 0h0m4 0h0m4 0h0m16 0h0m-79 1h0m4 0h0m26 0h0m12 0h0m24 0h0m-73 1h0m4 0h0m2 0h0m2 0h0m16 0h0m6 0h0m42 0h0m20 0h0m-89 1h0m6 0h0m26 0h0m10 0h0m40 0h0m6 0h0m2 0h0m-95 1h0m2 0h0m8 0h0m28 0h0m6 0h0m6 0h0m28 0h0m8 0h0m4 0h0m6 0h0m-77 1h0m2 0h0m30 0h0m8 0h0m8 0h0m14 0h0m6 0h0m6 0h0m6 0h0m-91 1h0m10 0h0m4 0h0m14 0h0m38 0h0m8 0h0m12 0h0m4 0h0m-99 1h0m22 0h0m8 0h0m14 0h0m4 0h0m10 0h0m12 0h0m6 0h0m2 0h0m16 0h0m-81 1h0m18 0h0m18 0h0m4 0h0m28 0h0m6 0h0m2 0h0m6 0h0m2 0h0m-39 1h0m8 0h0m6 0h0m10 0h0m2 0h0m2 0h0m2 0h0m4 0h0m-59 1h0m48 0h0m2 0h0m10 0h0m-31 1h0m22 0h0m8 0h0m-23 1h0m16 0h0m4 0h0m-27 1h0m10 0h0m14 0h0m2 0h0" stroke="#4e1b7d" vector-effect="non-scaling-stroke"/><path d="M36 2h0m-32 4h0m-3 1h0m8 0h0m5 1h0m48 0h0m-55 1h0m2 0h0m4 0h0m-11 1h0m2 0h0m32 0h0m-35 1h0m6 0h0m40 2h0m-43 1h0m26 0h0m-15 3h0m-11 3h0m32 2h0m74 2h0m-68 6h0m-9 1h0m16 0h0m57 5h0m-69 1h0m54 0h0m10 0h0m-30 6h0m-3 1h0m-9 3h0m-41 3h0m60 0h0m-27 3h0m16 0h0m-62 2h0m66 0h0m-13 5h0m-33 3h0m48 0h0m0 2h0m14 0h0m3 1h0m4 2h0m-87 1h0m64 0h0m5 1h0m2 0h0m-21 1h0m11 1h0" stroke="#321262" vector-effect="non-scaling-stroke"/><path d="M13 11h0m42 2h0m-7 17h0m-25 1h0" stroke="#170939" vector-effect="non-scaling-stroke"/><path d="M43 47h0m-12 18h0" stroke="#000004" vector-effect="non-scaling-stroke"/><path d="M32 0h0m2 0h0m4 0h0m4 0h0m2 0h0m2 0h0m6 0h0m4 0h0m6 0h0m2 0h0m2 0h0m6 0h0m2 0h0m4 0h0m4 0h0m6 0h0m2 0h0m6 0h0m6 0h0m4 0h0m-75 1h0m14 0h0m8 0h0m2 0h0m2 0h0m2 0h0m6 0h0m6 0h0m2 0h0m4 0h0m4 0h0m2 0h0m4 0h0m6 0h0m8 0h0m2 0h0m12 0h0m-81 1h0m4 0h0m6 0h0m12 0h0m12 0h0m6 0h0m2 0h0m2 0h0m2 0h0m2 0h0m2 0h0m2 0h0m2 0h0m4 0h0m2 0h0m2 0h0m22 0h0m-89 1h0m10 0h0m10 0h0m2 0h0m8 0h0m12 0h0m2 0h0m2 0h0m6 0h0m2 0h0m12 0h0m14 0h0m4 0h0m4 0h0m2 0h0m-91 1h0m2 0h0m20 0h0m2 0h0m10 0h0m2 0h0m6 0h0m2 0h0m8 0h0m2 0h0m6 0h0m4 0h0m4 0h0m4 0h0m2 0h0m4 0h0m10 0h0m2 0h0m-87 1h0m2 0h0m10 0h0m2 0h0m4 0h0m2 0h0m6 0h0m6 0h0m4 0h0m6 0h0m10 0h0m4 0h0m2 0h0m2 0h0m6 0h0m8 0h0m4 0h0m2 0h0m8 0h0m-89 1h0m2 0h0m8 0h0m2 0h0m2 0h0m2 0h0m10 0h0m6 0h0m2 0h0m2 0h0m2 0h0m12 0h0m6 0h0m4 0h0m4 0h0m2 0h0m2 0h0m2 0h0m2 0h0m4 0h0m4 0h0m4 0h0m-95 1h0m14 0h0m2 0h0m2 0h0m10 0h0m4 0h0m6 0h0m2 0h0m4 0h0m2 0h0m2 0h0m6 0h0m18 0h0m2 0h0m2 0h0m2 0h0m12 0h0m2 0h0m2 0h0m6 0h0m-87 1h0m12 0h0m2 0h0m6 0h0m2 0h0m12 0h0m2 0h0m2 0h0m2 0h0m4 0h0m2 0h0m6 0h0m2 0h0m2 0h0m2 0h0m10 0h0m14 0h0m-75 1h0m2 0h0m4 0h0m4 0h0m4 0h0m2 0h0m4 0h0m4 0h0m4 0h0m4 0h0m4 0h0m2 0h0m4 0h0m4 0h0m14 0h0m4 0h0m12 0h0m2 0h0m2 0h0m-101 1h0m4 0h0m4 0h0m6 0h0m8 0h0m2 0h0m2 0h0m6 0h0m12 0h0m2 0h0m4 0h0m10 0h0m2 0h0m2 0h0m2 0h0m8 0h0m6 0h0m2 0h0m4 0h0m8 0h0m-107 1h0m20 0h0m4 0h0m10 0h0m6 0h0m4 0h0m8 0h0m2 0h0m6 0h0m4 0h0m12 0h0m6 0h0m4 0h0m2 0h0m2 0h0m6 0h0m2 0h0m14 0h0m2 0h0m-99 1h0m4 0h0m10 0h0m2 0h0m4 0h0m2 0h0m8 0h0m4 0h0m2 0h0m10 0h0m6 0h0m4 0h0m4 0h0m2 0h0m2 0h0m2 0h0m2 0h0m2 0h0m6 0h0m16 0h0m-87 1h0m4 0h0m8 0h0m6 0h0m2 0h0m4 0h0m10 0h0m10 0h0m2 0h0m2 0h0m2 0h0m2 0h0m2 0h0m4 0h0m2 0h0m2 0h0m2 0h0m2 0h0m4 0h0m2 0h0m2 0h0m2 0h0m10 0h0m4 0h0m2 0h0m-105 1h0m2 0h0m4 0h0m2 0h0m16 0h0m14 0h0m4 0h0m2 0h0m6 0h0m4 0h0m4 0h0m8 0h0m2 0h0m4 0h0m4 0h0m6 0h0m6 0h0m6 0h0m8 0h0m2 0h0m-105 1h0m6 0h0m4 0h0m6 0h0m12 0h0m6 0h0m4 0h0m6 0h0m4 0h0m8 0h0m6 0h0m8 0h0m2 0h0m14 0h0m16 0h0m6 0h0m-111 1h0m10 0h0m8 0h0m6 0h0m2 0h0m12 0h0m2 0h0m2 0h0m2 0h0m2 0h0m4 0h0m4 0h0m8 0h0m2 0h0m4 0h0m6 0h0m2 0h0m8 0h0m2 0h0m2 0h0m2 0h0m6 0h0m6 0h0m-109 1h0m16 0h0m6 0h0m14 0h0m10 0h0m2 0h0m4 0h0m4 0h0m2 0h0m2 0h0m2 0h0m2 0h0m2 0h0m4 0h0m6 0h0m6 0h0m2 0h0m4 0h0m2 0h0m10 0h0m12 0h0m-107 1h0m10 0h0m8 0h0m4 0h0m6 0h0m8 0h0m8 0h0m10 0h0m4 0h0m6 0h0m10 0h0m2 0h0m12 0h0m6 0h0m6 0h0m2 0h0m4 0h0m4 0h0m-115 1h0m4 0h0m2 0h0m12 0h0m6 0h0m2 0h0m2 0h0m4 0h0m6 0h0m6 0h0m2 0h0m2 0h0m6 0h0m2 0h0m10 0h0m6 0h0m4 0h0m6 0h0m2 0h0m4 0h0m2 0h0m6 0h0m8 0h0m12 0h0m-105 1h0m2 0h0m4 0h0m8 0h0m6 0h0m4 0h0m2 0h0m4 0h0m2 0h0m10 0h0m2 0h0m2 0h0m4 0h0m4 0h0m2 0h0m4 0h0m10 0h0m12 0h0m4 0h0m18 0h0m2 0h0m-113 1h0m6 0h0m8 0h0m6 0h0m4 0h0m6 0h0m2 0h0m2 0h0m2 0h0m14 0h0m10 0h0m4 0h0m2 0h0m12 0h0m6 0h0m6 0h0m2 0h0m16 0h0m-109 1h0m8 0h0m8 0h0m10 0h0m12 0h0m2 0h0m6 0h0m2 0h0m2 0h0m4 0h0m6 0h0m4 0h0m2 0h0m8 0h0m10 0h0m8 0h0m-95 1h0m6 0h0m4 0h0m2 0h0m6 0h0m2 0h0m10 0h0m4 0h0m2 0h0m4 0h0m2 0h0m4 0h0m8 0h0m2 0h0m4 0h0m6 0h0m6 0h0m4 0h0m2 0h0m4 0h0m8 0h0m2 0h0m10 0h0m4 0h0m2 0h0m2 0h0m6 0h0m2 0h0m-111 1h0m22 0h0m4 0h0m2 0h0m2 0h0m2 0h0m8 0h0m4 0h0m4 0h0m10 0h0m2 0h0m4 0h0m12 0h0m2 0h0m4 0h0m4 0h0m6 0h0m-99 1h0m4 0h0m2 0h0m4 0h0m4 0h0m2 0h0m18 0h0m8 0h0m2 0h0m4 0h0m2 0h0m2 0h0m10 0h0m4 0h0m2 0h0m2 0h0m8 0h0m2 0h0m4 0h0m4 0h0m4 0h0m2 0h0m12 0h0m-105 1h0m6 0h0m4 0h0m6 0h0m2 0h0m12 0h0m2 0h0m10 0h0m8 0h0m10 0h0m2 0h0m2 0h0m2 0h0m2 0h0m2 0h0m4 0h0m2 0h0m2 0h0m6 0h0m4 0h0m2 0h0m4 0h0m12 0h0m-105 1h0m2 0h0m30 0h0m10 0h0m2 0h0m14 0h0m10 0h0m2 0h0m4 0h0m2 0h0m4 0h0m4 0h0m12 0h0m4 0h0m2 0h0m-101 1h0m2 0h0m2 0h0m2 0h0m2 0h0m2 0h0m2 0h0m12 0h0m8 0h0m2 0h0m4 0h0m2 0h0m2 0h0m4 0h0m2 0h0m2 0h0m2 0h0m2 0h0m2 0h0m8 0h0m6 0h0m4 0h0m2 0h0m2 0h0m6 0h0m4 0h0m8 0h0m-99 1h0m20 0h0m6 0h0m14 0h0m2 0h0m4 0h0m4 0h0m2 0h0m2 0h0m2 0h0m4 0h0m2 0h0m8 0h0m2 0h0m4 0h0m2 0h0m8 0h0m6 0h0m2 0h0m-93 1h0m2 0h0m12 0h0m2 0h0m14 0h0m2 0h0m6 0h0m4 0h0m2 0h0m8 0h0m2 0h0m8 0h0m4 0h0m2 0h0m2 0h0m2 0h0m6 0h0m14 0h0m-91 1h0m14 0h0m4 0h0m6 0h0m4 0h0m6 0h0m4 0h0m26 0h0m4 0h0m6 0h0m4 0h0m2 0h0m4 0h0m26 0h0m6 0h0m-115 1h0m6 0h0m2 0h0m2 0h0m4 0h0m12 0h0m8 0h0m2 0h0m2 0h0m2 0h0m20 0h0m6 0h0m8 0h0m2 0h0m2 0h0m4 0h0m22 0h0m2 0h0m2 0h0m-99 1h0m2 0h0m8 0h0m6 0h0m12 0h0m16 0h0m2 0h0m2 0h0m4 0h0m6 0h0m2 0h0m2 0h0m2 0h0m4 0h0m2 0h0m2 0h0m18 0h0m4 0h0m6 0h0m-111 1h0m2 0h0m4 0h0m16 0h0m2 0h0m4 0h0m4 0h0m4 0h0m8 0h0m10 0h0m2 0h0m12 0h0m2 0h0m2 0h0m4 0h0m4 0h0m16 0h0m4 0h0m2 0h0m14 0h0m-115 1h0m4 0h0m2 0h0m8 0h0m22 0h0m6 0h0m2 0h0m8 0h0m4 0h0m38 0h0m2 0h0m4 0h0m6 0h0m6 0h0m-111 1h0m4 0h0m8 0h0m2 0h0m20 0h0m6 0h0m6 0h0m4 0h0m2 0h0m16 0h0m2 0h0m20 0h0m22 0h0m-113 1h0m6 0h0m8 0h0m2 0h0m4 0h0m10 0h0m28 0h0m4 0h0m6 0h0m16 0h0m16 0h0m2 0h0m-91 1h0m10 0h0m10 0h0m2 0h0m8 0h0m4 0h0m4 0h0m2 0h0m10 0h0m2 0h0m20 0h0m2 0h0m4 0h0m8 0h0m2 0h0m2 0h0m8 0h0m4 0h0m-111 1h0m6 0h0m10 0h0m26 0h0m2 0h0m4 0h0m2 0h0m2 0h0m2 0h0m2 0h0m14 0h0m4 0h0m6 0h0m4 0h0m6 0h0m4 0h0m2 0h0m2 0h0m10 0h0m2 0h0m2 0h0m-113 1h0m6 0h0m6 0h0m10 0h0m10 0h0m8 0h0m2 0h0m2 0h0m2 0h0m6 0h0m6 0h0m20 0h0m2 0h0m10 0h0m4 0h0m4 0h0m8 0h0m2 0h0m4 0h0m-113 1h0m2 0h0m8 0h0m10 0h0m8 0h0m12 0h0m10 0h0m2 0h0m8 0h0m6 0h0m4 0h0m2 0h0m8 0h0m8 0h0m2 0h0m2 0h0m10 0h0m8 0h0m4 0h0m-113 1h0m2 0h0m10 0h0m4 0h0m2 0h0m6 0h0m2 0h0m6 0h0m4 0h0m2 0h0m2 0h0m12 0h0m4 0h0m20 0h0m6 0h0m4 0h0m6 0h0m6 0h0m2 0h0m8 0h0m4 0h0m2 0h0m-107 1h0m10 0h0m4 0h0m2 0h0m8 0h0m4 0h0m10 0h0m4 0h0m10 0h0m2 0h0m10 0h0m8 0h0m6 0h0m6 0h0m2 0h0m2 0h0m2 0h0m8 0h0m4 0h0m6 0h0m-109 1h0m6 0h0m4 0h0m2 0h0m6 0h0m4 0h0m8 0h0m12 0h0m12 0h0m24 0h0m6 0h0m4 0h0m2 0h0m6 0h0m2 0h0m2 0h0m4 0h0m-107 1h0m4 0h0m10 0h0m6 0h0m4 0h0m4 0h0m4 0h0m34 0h0m16 0h0m4 0h0m6 0h0m4 0h0m2 0h0m2 0h0m2 0h0m6 0h0m-113 1h0m2 0h0m4 0h0m8 0h0m4 0h0m12 0h0m6 0h0m14 0h0m16 0h0m2 0h0m4 0h0m8 0h0m4 0h0m2 0h0m12 0h0m2 0h0m2 0h0m8 0h0m2 0h0m-113 1h0m6 0h0m4 0h0m4 0h0m6 0h0m30 0h0m10 0h0m4 0h0m4 0h0m6 0h0m10 0h0m2 0h0m6 0h0m12 0h0m8 0h0m2 0h0m2 0h0m-117 1h0m28 0h0m14 0h0m16 0h0m2 0h0m6 0h0m4 0h0m4 0h0m8 0h0m6 0h0m8 0h0m2 0h0m6 0h0m2 0h0m6 0h0m2 0h0m4 0h0m-115 1h0m2 0h0m2 0h0m2 0h0m2 0h0m6 0h0m2 0h0m4 0h0m4 0h0m18 0h0m6 0h0m2 0h0m4 0h0m20 0h0m4 0h0m8 0h0m14 0h0m10 0h0m4 0h0m-117 1h0m8 0h0m24 0h0m2 0h0m6 0h0m4 0h0m2 0h0m2 0h0m24 0h0m8 0h0m12 0h0m2 0h0m2 0h0m6 0h0m4 0h0m12 0h0m-117 1h0m8 0h0m2 0h0m2 0h0m6 0h0m4 0h0m10 0h0m10 0h0m2 0h0m4 0h0m2 0h0m6 0h0m8 0h0m6 0h0m2 0h0m10 0h0m6 0h0m12 0h0m4 0h0m10 0h0m-111 1h0m18 0h0m8 0h0m10 0h0m10 0h0m8 0h0m4 0h0m2 0h0m20 0h0m4 0h0m4 0h0m2 0h0m2 0h0m16 0h0m2 0h0m2 0h0m-105 1h0m4 0h0m2 0h0m12 0h0m2 0h0m6 0h0m10 0h0m6 0h0m2 0h0m6 0h0m4 0h0m20 0h0m4 0h0m2 0h0m2 0h0m2 0h0m2 0h0m16 0h0m-109 1h0m12 0h0m2 0h0m2 0h0m8 0h0m2 0h0m4 0h0m2 0h0m4 0h0m14 0h0m8 0h0m8 0h0m2 0h0m16 0h0m4 0h0m6 0h0m12 0h0m-109 1h0m2 0h0m6 0h0m4 0h0m4 0h0m8 0h0m10 0h0m22 0h0m6 0h0m4 0h0m2 0h0m6 0h0m2 0h0m8 0h0m4 0h0m12 0h0m2 0h0m2 0h0m-101 1h0m2 0h0m8 0h0m14 0h0m2 0h0m4 0h0m8 0h0m2 0h0m4 0h0m2 0h0m4 0h0m20 0h0m2 0h0m4 0h0m2 0h0m2 0h0m4 0h0m4 0h0m-83 1h0m2 0h0m18 0h0m4 0h0m2 0h0m2 0h0m16 0h0m22 0h0m2 0h0m6 0h0m10 0h0m2 0h0m2 0h0m-93 1h0m12 0h0m14 0h0m4 0h0m2 0h0m4 0h0m2 0h0m4 0h0m14 0h0m8 0h0m2 0h0m4 0h0m2 0h0m4 0h0m10 0h0m2 0h0m2 0h0m8 0h0m-95 1h0m12 0h0m2 0h0m8 0h0m6 0h0m6 0h0m12 0h0m8 0h0m10 0h0m12 0h0m12 0h0m-95 1h0m2 0h0m14 0h0m2 0h0m14 0h0m14 0h0m4 0h0m4 0h0m2 0h0m6 0h0m26 0h0m2 0h0m2 0h0m2 0h0m10 0h0m-99 1h0m8 0h0m16 0h0m2 0h0m6 0h0m6 0h0m2 0h0m6 0h0m4 0h0m2 0h0m2 0h0m14 0h0m4 0h0m4 0h0m2 0h0m2 0h0m2 0h0m2 0h0m8 0h0m6 0h0m-101 1h0m2 0h0m14 0h0m2 0h0m4 0h0m2 0h0m4 0h0m2 0h0m12 0h0m2 0h0m6 0h0m4 0h0m6 0h0m6 0h0m2 0h0m6 0h0m8 0h0m2 0h0m4 0h0m8 0h0m4 0h0m-95 1h0m8 0h0m4 0h0m8 0h0m6 0h0m22 0h0m2 0h0m4 0h0m34 0h0m-93 1h0m24 0h0m10 0h0m4 0h0m2 0h0m6 0h0m22 0h0m26 0h0m-95 1h0m16 0h0m18 0h0m6 0h0m2 0h0m2 0h0m6 0h0m4 0h0m6 0h0m8 0h0m22 0h0m6 0h0m-95 1h0m4 0h0m2 0h0m2 0h0m14 0h0m2 0h0m2 0h0m4 0h0m2 0h0m12 0h0m4 0h0m2 0h0m4 0h0m6 0h0m4 0h0m2 0h0m4 0h0m12 0h0m8 0h0m-87 1h0m2 0h0m2 0h0m10 0h0m8 0h0m2 0h0m6 0h0m2 0h0m2 0h0m4 0h0m4 0h0m4 0h0m6 0h0m2 0h0m2 0h0m10 0h0m6 0h0m14 0h0m-89 1h0m6 0h0m6 0h0m2 0h0m2 0h0m2 0h0m2 0h0m6 0h0m2 0h0m2 0h0m2 0h0m6 0h0m4 0h0m4 0h0m6 0h0m2 0h0m8 0h0m12 0h0m2 0h0m-73 1h0m4 0h0m4 0h0m12 0h0m2 0h0m4 0h0m4 0h0m2 0h0m12 0h0m2 0h0m2 0h0m6 0h0m2 0h0m2 0h0m10 0h0m12 0h0m2 0h0m-83 1h0m4 0h0m2 0h0m4 0h0m4 0h0m4 0h0m22 0h0m4 0h0m6 0h0m4 0h0m2 0h0m6 0h0m14 0h0m8 0h0m-85 1h0m4 0h0m2 0h0m2 0h0m2 0h0m10 0h0m10 0h0m4 0h0m2 0h0m4 0h0m16 0h0m4 0h0m8 0h0m2 0h0m6 0h0m2 0h0m-79 1h0m8 0h0m2 0h0m2 0h0m14 0h0m2 0h0m8 0h0m4 0h0m2 0h0m2 0h0m2 0h0m4 0h0m2 0h0m2 0h0m2 0h0m2 0h0m10 0h0m4 0h0m2 0h0m14 0h0" stroke="#8b3083" vector-effect="non-scaling-stroke"/><path d="M80 0h0m4 0h0m2 0h0m24 0h0m6 0h0m-41 1h0m22 0h0m-51 1h0m14 0h0m2 0h0m2 0h0m38 0h0m4 0h0m10 0h0m-49 1h0m10 0h0m8 0h0m2 0h0m10 0h0m4 0h0m6 0h0m8 0h0m-83 1h0m34 0h0m18 0h0m2 0h0m4 0h0m4 0h0m4 0h0m12 0h0m2 0h0m2 0h0m-77 1h0m2 0h0m32 0h0m6 0h0m2 0h0m22 0h0m-19 1h0m2 0h0m4 0h0m16 0h0m4 0h0m10 0h0m-87 1h0m18 0h0m26 0h0m8 0h0m6 0h0m10 0h0m4 0h0m2 0h0m2 0h0m8 0h0m-41 1h0m8 0h0m12 0h0m2 0h0m2 0h0m4 0h0m4 0h0m2 0h0m2 0h0m6 0h0m-69 1h0m4 0h0m6 0h0m8 0h0m14 0h0m8 0h0m4 0h0m10 0h0m6 0h0m2 0h0m-61 1h0m26 0h0m12 0h0m2 0h0m2 0h0m28 0h0m-103 1h0m8 0h0m12 0h0m16 0h0m10 0h0m12 0h0m4 0h0m6 0h0m14 0h0m2 0h0m6 0h0m8 0h0m-85 1h0m32 0h0m34 0h0m6 0h0m4 0h0m6 0h0m3 1h0m-75 1h0m4 0h0m16 0h0m18 0h0m10 0h0m12 0h0m12 0h0m-63 1h0m14 0h0m2 0h0m6 0h0m2 0h0m18 0h0m4 0h0m6 0h0m2 0h0m-73 1h0m40 0h0m6 0h0m14 0h0m12 0h0m6 0h0m-85 1h0m30 0h0m18 0h0m4 0h0m2 0h0m4 0h0m8 0h0m16 0h0m2 0h0m2 0h0m-97 1h0m8 0h0m34 0h0m14 0h0m18 0h0m4 0h0m26 0h0m-97 1h0m34 0h0m12 0h0m6 0h0m2 0h0m8 0h0m34 0h0m6 0h0m-95 1h0m26 0h0m20 0h0m8 0h0m6 0h0m12 0h0m-49 1h0m20 0h0m6 0h0m14 0h0m18 0h0m6 0h0m-93 1h0m22 0h0m20 0h0m2 0h0m4 0h0m20 0h0m6 0h0m-89 1h0m48 0h0m14 0h0m6 0h0m4 0h0m6 0h0m-79 1h0m2 0h0m38 0h0m34 0h0m2 0h0m4 0h0m-25 1h0m2 0h0m2 0h0m4 0h0m26 0h0m-85 1h0m16 0h0m36 0h0m16 0h0m-73 1h0m48 0h0m16 0h0m2 0h0m2 0h0m6 0h0m-73 1h0m62 0h0m32 0h0m2 0h0m-65 1h0m32 0h0m10 0h0m-67 1h0m14 0h0m4 0h0m26 0h0m6 0h0m4 0h0m4 0h0m-61 1h0m38 0h0m2 0h0m12 0h0m16 0h0m-17 1h0m12 0h0m-65 1h0m36 0h0m6 0h0m2 0h0m2 0h0m20 0h0m36 0h0m-51 1h0m6 0h0m4 0h0m42 0h0m-83 1h0m26 0h0m46 0h0m12 0h0m-105 1h0m8 0h0m14 0h0m4 0h0m14 0h0m4 0h0m2 0h0m10 0h0m38 0h0m12 0h0m6 0h0m-109 1h0m54 0h0m8 0h0m18 0h0m-83 1h0m2 0h0m2 0h0m4 0h0m28 0h0m-37 1h0m32 0h0m10 0h0m34 0h0m20 0h0m22 0h0m-87 1h0m56 0h0m20 0h0m-107 1h0m78 0h0m24 0h0m-103 1h0m18 0h0m50 0h0m20 0h0m12 0h0m14 0h0m-113 1h0m2 0h0m16 0h0m72 0h0m12 0h0m-103 1h0m2 0h0m72 0h0m30 0h0m14 0h0m-117 1h0m96 0h0m4 0h0m10 0h0m2 0h0m-63 1h0m4 0h0m6 0h0m4 0h0m12 0h0m18 0h0m4 0h0m8 0h0m2 0h0m2 0h0m-37 1h0m4 0h0m12 0h0m10 0h0m2 0h0m2 0h0m6 0h0m2 0h0m-81 1h0m10 0h0m16 0h0m8 0h0m26 0h0m10 0h0m-39 1h0m14 0h0m12 0h0m4 0h0m6 0h0m2 0h0m2 0h0m6 0h0m2 0h0m-103 1h0m8 0h0m24 0h0m24 0h0m2 0h0m6 0h0m28 0h0m2 0h0m4 0h0m4 0h0m2 0h0m4 0h0m-87 1h0m68 0h0m8 0h0m4 0h0m10 0h0m-103 1h0m14 0h0m14 0h0m4 0h0m28 0h0m26 0h0m2 0h0m2 0h0m2 0h0m4 0h0m-11 1h0m4 0h0m2 0h0m4 0h0m2 0h0m-55 1h0m10 0h0m10 0h0m24 0h0m4 0h0m4 0h0m4 0h0m-101 1h0m88 0h0m12 0h0m-99 1h0m14 0h0m72 0h0m2 0h0m2 0h0m4 0h0m2 0h0m-65 1h0m56 0h0m2 0h0m2 0h0m-93 1h0m42 0h0m2 0h0m8 0h0m22 0h0m16 0h0m-95 1h0m34 0h0m8 0h0m38 0h0m16 0h0m4 0h0m-41 1h0m6 0h0m14 0h0m12 0h0m4 0h0m-85 1h0m2 0h0m62 0h0m20 0h0m2 0h0m-101 1h0m14 0h0m36 0h0m50 0h0m-91 1h0m-5 1h0m8 0h0m4 0h0m8 0h0m40 0h0m2 0h0m20 0h0m12 0h0m-83 1h0m6 0h0m38 0h0m6 0h0m-61 1h0m12 0h0m24 0h0m20 0h0m-37 1h0m2 0h0m-21 1h0m8 0h0m14 0h0m10 0h0m10 0h0m-45 1h0m2 0h0m12 0h0m6 0h0m8 0h0m10 0h0m8 0h0m-45 1h0m4 0h0m6 0h0m4 0h0m4 0h0m8 0h0m2 0h0m4 0h0m2 0h0m6 0h0m10 0h0m18 0h0m-65 1h0m10 0h0m2 0h0m2 0h0m2 0h0m4 0h0m2 0h0m4 0h0m4 0h0m6 0h0m12 0h0m2 0h0m12 0h0m-61 1h0m2 0h0m10 0h0m4 0h0m12 0h0m2 0h0" stroke="#ac376e" vector-effect="non-scaling-stroke"/><path d="M95 1h0m4 2h0m6 0h0m-27 1h0m17 1h0m-53 3h0m-41 1h0m68 0h0m20 0h0m6 0h0m7 1h0m6 0h0m-30 2h0m30 0h0m-51 3h0m8 0h0m38 0h0m12 0h0m-55 1h0m21 1h0m-7 1h0m2 4h0m24 0h0m-30 2h0m3 1h0m-10 2h0m3 1h0m6 0h0m-71 3h0m24 0h0m41 1h0m-65 1h0m51 1h0m-51 1h0m0 2h0m108 0h0m2 0h0m-69 1h0m-39 1h0m-3 1h0m2 0h0m20 0h0m-20 2h0m41 3h0m64 2h0m-5 1h0m8 0h0m6 0h0m-101 1h0m6 0h0m84 0h0m4 2h0m4 0h0m-5 1h0m7 1h0m-9 1h0m-87 1h0m8 0h0m82 0h0m-13 1h0m14 0h0m-5 1h0m2 0h0m-9 1h0m6 0h0m2 0h0m-3 1h0m-1 1h0m-46 4h0m-9 1h0m-28 4h0m5 1h0m2 0h0m-10 2h0m10 0h0m6 0h0m18 0h0" stroke="#cd424f" vector-effect="non-scaling-stroke"/><path d="M72 6h0m13 5h0m22 8h0m-46 12h0m14 0h0m-49 15h0m85 5h0m-4 2h0m-5 1h0m5 1h0m-32 4h0" stroke="#e95d30" vector-effect="non-scaling-stroke"/><path d="M85 21h0" stroke="#f58b1e" vector-effect="non-scaling-stroke"/><path d="M77 15h0m-34 4h0m21 1h0m-33 7h0m-20 40h0" stroke="#f9c245" vector-effect="non-scaling-stroke"/><path d="M2 32h0m102 24h0" stroke="#fcffa4" vector-effect="non-scaling-stroke"/></g>
<rect x="1692.4" y="1999.5" width="222.8" height="234" fill="none" stroke="#3a3a3a" stroke-width="1.8"/>
<rect x="1937.9" y="2067.5" width="23.5" height="117.5" fill="url(#gj)"/>
<path d="M1937.9 2082.3L1942.9 2082.3" stroke="#fff" stroke-width="1" fill="none" />
<path d="M1956.4 2082.3L1961.4 2082.3" stroke="#fff" stroke-width="1" fill="none" />
<path d="M1937.9 2114.5L1942.9 2114.5" stroke="#fff" stroke-width="1" fill="none" />
<path d="M1956.4 2114.5L1961.4 2114.5" stroke="#fff" stroke-width="1" fill="none" />
<path d="M1937.9 2146.5L1942.9 2146.5" stroke="#fff" stroke-width="1" fill="none" />
<path d="M1956.4 2146.5L1961.4 2146.5" stroke="#fff" stroke-width="1" fill="none" />
<path d="M1937.9 2177L1942.9 2177" stroke="#fff" stroke-width="1" fill="none" />
<path d="M1956.4 2177L1961.4 2177" stroke="#fff" stroke-width="1" fill="none" />
<text x="1962.6" y="2089.5" font-size="20" >20</text>
<text x="1962.6" y="2121.7" font-size="20" >15</text>
<text x="1962.6" y="2153.7" font-size="20" >10</text>
<text x="1962.6" y="2184.2" font-size="20" >5</text>
<text x="1152" y="2262" font-size="24.7" text-anchor="middle">UMI counts</text>
<text x="1482.5" y="2262" font-size="24.7" text-anchor="middle">Gene Features</text>
<text x="1843.9" y="2262" font-size="24.7" text-anchor="middle">Percentage of mitochondrial genes</text>
<path d="M1042.2 2266V2406.8H1285.4" stroke="#333" stroke-width="1.1" fill="none"/>
<path d="M1051.2 2336.7L1052.1 2335.4L1053 2334.1L1054 2332.4L1054.9 2328.9L1055.8 2322.9L1056.8 2315.7L1057.7 2307.4L1058.6 2295.6L1059.6 2286.1L1060.5 2284.3L1061.4 2287.6L1062.4 2292.4L1063.3 2296.6L1064.2 2300.2L1065.2 2303.9L1066.1 2307.3L1067 2310.4L1068 2312.8L1068.9 2314.9L1069.8 2316.9L1070.8 2318.7L1071.7 2320.5L1072.6 2322.1L1073.6 2323.6L1074.5 2324.9L1075.5 2326.1L1076.4 2327.2L1077.3 2328.1L1078.3 2328.9L1079.2 2329.7L1080.1 2330.5L1081.1 2331.2L1082 2331.8L1082.9 2332.4L1083.9 2332.9L1084.8 2333.3L1085.7 2333.6L1086.7 2333.9L1087.6 2334.2L1088.5 2334.5L1089.5 2334.7L1090.4 2334.9L1091.3 2335.1L1092.3 2335.2L1093.2 2335.4L1094.1 2335.6L1095.1 2335.7L1096 2335.9L1096.9 2336.1L1097.9 2336.3L1097.9 2337.1L1096.9 2337.3L1096 2337.5L1095.1 2337.7L1094.1 2337.8L1093.2 2338L1092.3 2338.2L1091.3 2338.3L1090.4 2338.5L1089.5 2338.7L1088.5 2338.9L1087.6 2339.2L1086.7 2339.5L1085.7 2339.8L1084.8 2340.1L1083.9 2340.5L1082.9 2341L1082 2341.6L1081.1 2342.2L1080.1 2342.9L1079.2 2343.7L1078.3 2344.5L1077.3 2345.3L1076.4 2346.2L1075.5 2347.3L1074.5 2348.5L1073.6 2349.8L1072.6 2351.3L1071.7 2352.9L1070.8 2354.7L1069.8 2356.5L1068.9 2358.5L1068 2360.6L1067 2363L1066.1 2366.1L1065.2 2369.5L1064.2 2373.2L1063.3 2376.8L1062.4 2381L1061.4 2385.8L1060.5 2389.1L1059.6 2387.3L1058.6 2377.8L1057.7 2366L1056.8 2357.7L1055.8 2350.5L1054.9 2344.5L1054 2341L1053 2339.3L1052.1 2338L1051.2 2336.7Z" fill="#d2442e" stroke="#111" stroke-width="1.1" stroke-linejoin="round"/>
<path d="M1097.9 2336.7L1276.4 2336.7" stroke="#111" stroke-width="1.1" fill="none" />
<text x="1051.2" y="2429.5" font-size="19.7" text-anchor="middle">0</text>
<text x="1105.7" y="2429.5" font-size="19.7" text-anchor="middle">10000</text>
<text x="1210.5" y="2429.5" font-size="19.7" text-anchor="middle">30000</text>
<path d="M1051.2 2406.8L1051.2 2409.3" stroke="#333" stroke-width="1" fill="none" />
<path d="M1100.5 2406.8L1100.5 2409.3" stroke="#333" stroke-width="1" fill="none" />
<path d="M1149.5 2406.8L1149.5 2409.3" stroke="#333" stroke-width="1" fill="none" />
<path d="M1198.7 2406.8L1198.7 2409.3" stroke="#333" stroke-width="1" fill="none" />
<path d="M1248 2406.8L1248 2409.3" stroke="#333" stroke-width="1" fill="none" />
<path d="M1356.1 2263V2408.6H1600" stroke="#333" stroke-width="1.1" fill="none"/>
<path d="M1367.5 2337.8L1369.2 2337.4L1370.9 2337.2L1372.6 2336.9L1374.3 2336.5L1376 2336L1377.7 2335.4L1379.4 2333.2L1381.1 2328.6L1382.8 2322.8L1384.5 2316.9L1386.1 2311.7L1387.8 2305.6L1389.5 2299L1391.2 2292.7L1392.9 2287.6L1394.6 2284.4L1396.3 2283.9L1398 2284.6L1399.7 2285.7L1401.4 2287.3L1403.1 2289L1404.8 2290.7L1406.5 2292.4L1408.2 2294L1409.9 2295.7L1411.6 2297.5L1413.3 2299.4L1415 2301.2L1416.7 2303.1L1418.4 2304.8L1420.1 2306.6L1421.8 2308.4L1423.5 2310.2L1425.2 2312L1426.9 2313.8L1428.6 2315.5L1430.3 2317.1L1432 2318.7L1433.7 2320.1L1435.4 2321.4L1437.1 2322.7L1438.8 2324L1440.5 2325.3L1442.2 2326.5L1443.9 2327.7L1445.6 2328.8L1447.3 2329.8L1449 2330.7L1450.7 2331.5L1452.3 2332.2L1454 2332.9L1455.7 2333.5L1457.4 2334L1459.1 2334.5L1460.8 2335L1462.5 2335.5L1464.2 2335.9L1465.9 2336.4L1467.6 2336.9L1469.3 2337.4L1469.3 2338.2L1467.6 2338.7L1465.9 2339.2L1464.2 2339.7L1462.5 2340.1L1460.8 2340.6L1459.1 2341.1L1457.4 2341.6L1455.7 2342.1L1454 2342.7L1452.3 2343.4L1450.7 2344.1L1449 2344.9L1447.3 2345.8L1445.6 2346.8L1443.9 2347.9L1442.2 2349.1L1440.5 2350.3L1438.8 2351.6L1437.1 2352.9L1435.4 2354.2L1433.7 2355.5L1432 2356.9L1430.3 2358.5L1428.6 2360.1L1426.9 2361.8L1425.2 2363.6L1423.5 2365.4L1421.8 2367.2L1420.1 2369L1418.4 2370.8L1416.7 2372.5L1415 2374.4L1413.3 2376.2L1411.6 2378.1L1409.9 2379.9L1408.2 2381.6L1406.5 2383.2L1404.8 2384.9L1403.1 2386.6L1401.4 2388.3L1399.7 2389.9L1398 2391L1396.3 2391.7L1394.6 2391.2L1392.9 2388L1391.2 2382.9L1389.5 2376.6L1387.8 2370L1386.1 2363.9L1384.5 2358.7L1382.8 2352.8L1381.1 2347L1379.4 2342.4L1377.7 2340.2L1376 2339.6L1374.3 2339.1L1372.6 2338.7L1370.9 2338.4L1369.2 2338.2L1367.5 2337.8Z" fill="#d2442e" stroke="#111" stroke-width="1.1" stroke-linejoin="round"/>
<path d="M1469.3 2337.8L1590.4 2337.8" stroke="#111" stroke-width="1.1" fill="none" />
<text x="1436.4" y="2429.5" font-size="19.7" text-anchor="middle">2000</text>
<text x="1504.1" y="2429.5" font-size="19.7" text-anchor="middle">4000</text>
<text x="1568.2" y="2429.5" font-size="19.7" text-anchor="middle">6000</text>
<path d="M1368 2408.6L1368 2411" stroke="#333" stroke-width="1" fill="none" />
<path d="M1432 2408.6L1432 2411" stroke="#333" stroke-width="1" fill="none" />
<path d="M1497 2408.6L1497 2411" stroke="#333" stroke-width="1" fill="none" />
<path d="M1562 2408.6L1562 2411" stroke="#333" stroke-width="1" fill="none" />
<path d="M1691.7 2268V2413.3H1936.7" stroke="#333" stroke-width="1.1" fill="none"/>
<path d="M1703 2339.6L1705.5 2339L1708.1 2338.5L1710.7 2338L1713.2 2337.5L1715.8 2336.7L1718.4 2335.8L1720.9 2334.3L1723.5 2332.2L1726.1 2329.6L1728.6 2326.7L1731.2 2323.7L1733.8 2320.6L1736.3 2316.9L1738.9 2312.9L1741.5 2308.7L1744.1 2304.8L1746.6 2301.3L1749.2 2297.4L1751.8 2293.4L1754.3 2289.6L1756.9 2286.4L1759.5 2284L1762 2282.8L1764.6 2282.9L1767.2 2284.1L1769.7 2286L1772.3 2288.4L1774.9 2291.2L1777.4 2294.1L1780 2296.8L1782.6 2299.4L1785.1 2302.5L1787.7 2305.8L1790.3 2309.2L1792.8 2312.4L1795.4 2315.4L1798 2317.9L1800.5 2319.9L1803.1 2321.9L1805.7 2323.7L1808.2 2325.4L1810.8 2327.1L1813.4 2328.5L1815.9 2329.9L1818.5 2331L1821.1 2331.9L1823.6 2332.6L1826.2 2333.3L1828.8 2333.9L1831.3 2334.5L1833.9 2335L1836.5 2335.5L1839.1 2336L1841.6 2336.4L1844.2 2336.8L1846.8 2337.2L1849.3 2337.5L1851.9 2337.8L1854.5 2338.1L1857 2338.3L1859.6 2338.5L1862.2 2338.6L1864.7 2338.7L1867.3 2338.8L1869.9 2338.9L1872.4 2339L1875 2339.1L1877.6 2339.1L1880.1 2339.2L1882.7 2339.3L1882.7 2339.9L1880.1 2340L1877.6 2340.1L1875 2340.1L1872.4 2340.2L1869.9 2340.3L1867.3 2340.4L1864.7 2340.5L1862.2 2340.6L1859.6 2340.7L1857 2340.9L1854.5 2341.1L1851.9 2341.4L1849.3 2341.7L1846.8 2342L1844.2 2342.4L1841.6 2342.8L1839.1 2343.2L1836.5 2343.7L1833.9 2344.2L1831.3 2344.7L1828.8 2345.3L1826.2 2345.9L1823.6 2346.6L1821.1 2347.3L1818.5 2348.2L1815.9 2349.3L1813.4 2350.7L1810.8 2352.1L1808.2 2353.8L1805.7 2355.5L1803.1 2357.3L1800.5 2359.3L1798 2361.3L1795.4 2363.8L1792.8 2366.8L1790.3 2370L1787.7 2373.4L1785.1 2376.7L1782.6 2379.8L1780 2382.4L1777.4 2385.1L1774.9 2388L1772.3 2390.8L1769.7 2393.2L1767.2 2395.1L1764.6 2396.3L1762 2396.4L1759.5 2395.2L1756.9 2392.8L1754.3 2389.6L1751.8 2385.8L1749.2 2381.8L1746.6 2377.9L1744.1 2374.4L1741.5 2370.5L1738.9 2366.3L1736.3 2362.3L1733.8 2358.6L1731.2 2355.5L1728.6 2352.5L1726.1 2349.6L1723.5 2347L1720.9 2344.9L1718.4 2343.4L1715.8 2342.5L1713.2 2341.7L1710.7 2341.2L1708.1 2340.7L1705.5 2340.2L1703 2339.6Z" fill="#d2442e" stroke="#111" stroke-width="1.1" stroke-linejoin="round"/>
<path d="M1882.7 2339.6L1926 2339.6" stroke="#111" stroke-width="1.1" fill="none" />
<text x="1715" y="2433.7" font-size="19.7" text-anchor="middle">0</text>
<text x="1776.1" y="2433.7" font-size="19.7" text-anchor="middle">10</text>
<text x="1840.8" y="2433.7" font-size="19.7" text-anchor="middle">15</text>
<text x="1905" y="2433.7" font-size="19.7" text-anchor="middle">20</text>
</svg>
</body></html>
